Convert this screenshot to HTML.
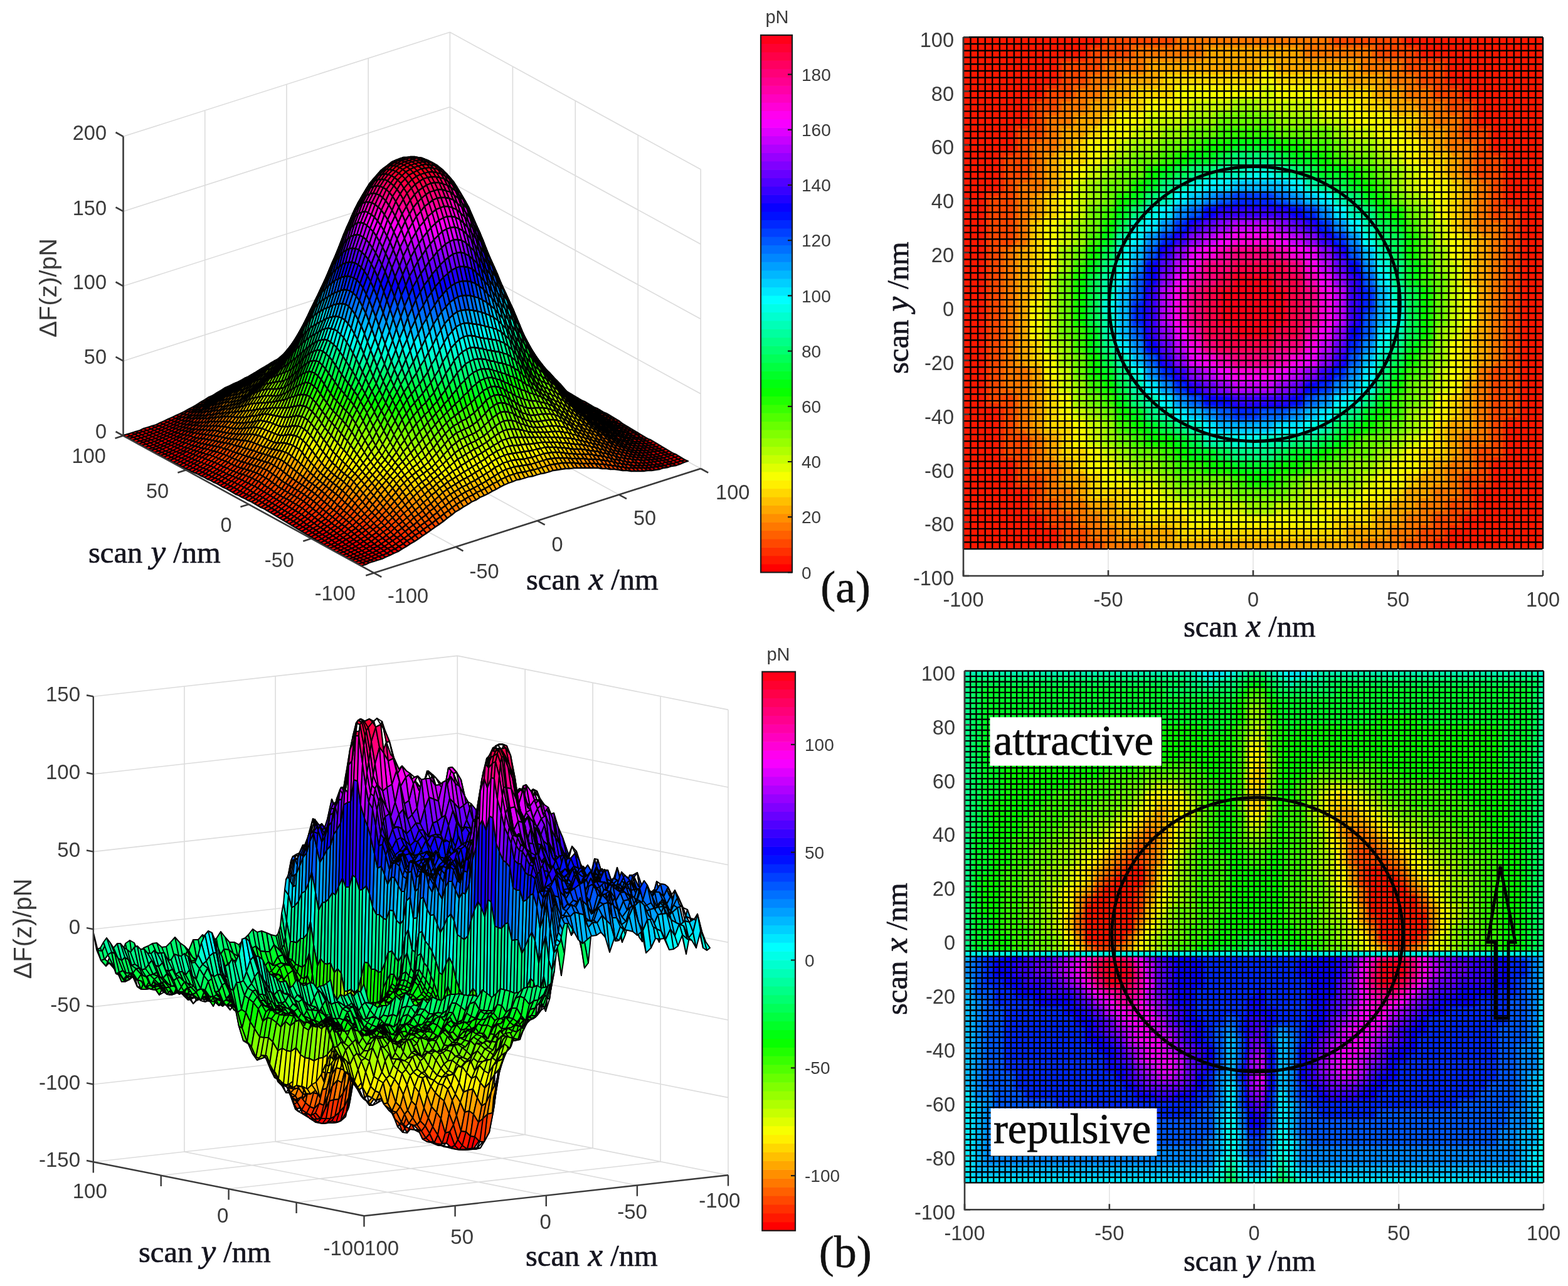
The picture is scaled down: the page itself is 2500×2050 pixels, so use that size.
<!DOCTYPE html><html><head><meta charset="utf-8"><title>Force maps</title><style>html,body{margin:0;padding:0;background:#fff}svg{display:block}</style></head><body>
<svg xmlns="http://www.w3.org/2000/svg" width="2500" height="2050" viewBox="0 0 2500 2050">
<rect width="2500" height="2050" fill="#fff"/>
<path d="M196.5 694.6L717.4 528.3L1117.2 747M196.5 575.4L717.4 409.1L1117.2 627.8M196.5 456.1L717.4 289.8L1117.2 508.5M196.5 336.9L717.4 170.6L1117.2 389.3M196.5 217.6L717.4 51.3L1117.2 270M596.3 913.3L196.5 694.6L196.5 217.6M726.5 871.7L326.7 653L326.7 176M856.8 830.1L457 611.5L457 134.5M987 788.6L587.2 569.9L587.2 92.9M1117.2 747L717.4 528.3L717.4 51.3M196.5 694.6L717.4 528.3L717.4 51.3M296.4 749.3L817.4 583L817.4 106M396.4 804L917.3 637.7L917.3 160.7M496.3 858.6L1017.2 692.3L1017.2 215.3M596.3 913.3L1117.2 747L1117.2 270" stroke="#dcdcdc" stroke-width="1.6" fill="none"/>
<g stroke="#000" stroke-width="2.3" stroke-linejoin="round">
<path fill="#ff0000" d="M201 697l7-2-5-3-7 2zm7-2l7-3-5-2-7 2zm7-3l6-2-5-2-6 2zm6-2l7-2-5-2-7 2zm7-2l6-2-5-3-6 3zm6-2l7-2-5-3-7 2zm7-2l6-3-5-2-6 2zm6-3l7-2-5-2-7 2zm7-2l6-3-5-2-6 3zm6-3l7-3-5-2-7 3zm7-3l6-3-5-2-6 3zm6-3l7-3-5-2-7 3zm7-3l6-3-5-2-6 3zm6-3l7-4-5-1-7 3zm345-112l7-1-5-1-7 1zm7-1l6 0-5-2-6 1zm6 0l7-1-5-2-7 1zm7-1l6-1-5-2-6 1zm6-1l7-2-5-2-7 2zm7-2l6-1-5-2-6 1zm6-1l7-2-5-2-7 2zm7-2l6-1-5-3-6 2zm6-1l7-2-5-3-7 2zm7-2l6-2-5-3-6 2zm6-2l7-2-5-3-7 2zm7-2l6-3-5-2-6 2zm6-3l7-2-5-2-7 2zm7-2l6-2-5-2-6 2zm-510 167l7-2-5-2-7 2zm7-2l7-2-5-3-7 3zm7-2l6-2-5-3-6 2zm6-2l7-2-5-3-7 2zm7-2l6-2-5-3-6 2zm6-2l7-3-5-2-7 2zm7-3l6-2-5-3-6 3zm6-2l7-3-5-2-7 2zm7-3l6-3-5-2-6 3zm6-3l7-3-5-2-7 3zm7-3l6-3-5-2-6 3zm6-3l7-4-5-1-7 3zm7-4l6-3-5-1-6 3zm358-116l6 0-5-1-6 0zm6 0l7-1-5-1-7 1zm7-1l6-1-5-1-6 1zm6-1l7-1-5-2-7 2zm7-1l6-1-5-2-6 1zm6-1l7-1-5-3-7 2zm7-1l6-2-5-2-6 1zm6-2l7-2-5-2-7 2zm7-2l6-2-5-2-6 2zm6-2l7-2-5-2-7 2zm7-2l6-2-5-3-6 3zm6-2l7-2-5-3-7 2zm7-2l6-2-5-3-6 2zm-510 167l7-2-5-3-7 2zm7-2l7-2-5-3-7 2zm7-2l6-2-5-3-6 2zm6-2l7-2-5-3-7 2zm7-2l6-3-5-2-6 2zm6-3l7-2-5-3-7 3zm7-2l6-3-5-2-6 2zm6-3l7-3-5-2-7 3zm7-3l6-3-5-2-6 3zm6-3l7-3-5-2-7 3zm7-3l6-4-5-1-6 3zm6-4l7-3-5-2-7 4zm371-120l7 0-5-2-7 1zm7 0l6-1-5-2-6 1zm6-1l7-1-5-2-7 1zm7-1l6-1-5-2-6 1zm6-1l7-1-5-2-7 1zm7-1l6-2-5-2-6 2zm6-2l7-1-5-3-7 2zm7-1l6-2-5-3-6 2zm6-2l7-2-5-3-7 2zm7-2l6-2-5-3-6 2zm6-2l7-2-5-3-7 2zm7-2l6-2-5-3-6 2z"/>
<path fill="#ff1800" d="M293 660l6-4-5 0-6 3zm6-4l7-3-5-1-7 4zm7-3l6-4-5 0-6 3zm6-4l7-4-5 0-7 4zm293-96l7 0-5 0-7 0zm7 0l6 0-5-1-6 1zm6 0l7-1-5 0-7 0zm7-1l6 0-5-1-6 1zm-334 113l7-4-5-1-7 4zm7-4l6-4-5-1-6 4zm6-4l7-4-5 0-7 3zm7-4l6-4-5 0-6 4zm306-100l6 0-5 0-6 0zm6 0l7 0-5-1-7 1zm7 0l6 0-5-1-6 0zm6 0l7-1-5-1-7 1zm-346 117l6-4-5-1-6 3zm6-4l7-4-5-1-7 4zm7-4l6-5-5 0-6 4zm6-5l7-4-5 0-7 4zm319-104l7 0-5 0-7 0zm7 0l6 0-5 0-6 0zm6 0l7 0-5-1-7 1zm7 0l6 0-5-1-6 0z"/>
<path fill="#ff3000" d="M319 645l6-4-5 0-6 4zm6-4l7-4-5 0-7 4zm7-4l6-4-5 0-6 4zm6-4l7-4-5 1-7 3zm241-79l7 0-5 0-7 1zm7 0l6 0-5 0-6 0zm6 0l7-1-5 1-7 0zm7-1l6 0-5 0-6 1zm-282 96l7-4-5 0-7 4zm7-4l6-5-5 1-6 4zm6-5l7-4-5 1-7 4zm267-87l7 0-5 0-7 1zm7 0l6 0-5 0-6 0zm6 0l7 0-5 0-7 0zm-294 100l6-5-5 1-6 4zm6-5l7-4-5 1-7 4zm7-4l6-5-5 1-6 5zm280-92l6 1-5 0-6 0zm6 1l7 0-5 0-7 0zm7 0l6 0-5 0-6 0z"/>
<path fill="#ff4800" d="M345 629l6-4-5 1-6 4zm6-4l7-4-5 1-7 4zm7-4l6-4-5 1-6 4zm6-4l7-4-5 2-7 3zm7-4l6-3-5 2-6 3zm176-57l6-1-5 2-6 1zm6-1l7 0-5 2-7 0zm7 0l6 0-5 1-6 1zm6 0l7-1-5 1-7 1zm7-1l6 0-5 1-6 0zm-236 82l6-4-5 1-6 4zm6-4l7-4-5 1-7 4zm7-4l6-5-5 2-6 4zm6-5l7-4-5 2-7 4zm215-70l7 0-5 1-7 1zm7 0l6 0-5 1-6 0zm6 0l7 0-5 1-7 0zm7 0l6 0-5 1-6 0zm-256 86l7-4-5 1-7 4zm7-4l6-4-5 1-6 4zm6-4l7-5-5 2-7 4zm241-80l7 1-5 1-7 0zm7 1l6 0-5 1-6 0zm6 0l7 0-5 1-7 0z"/>
<path fill="#ff6000" d="M377 610l7-3-5 2-7 3zm7-3l6-4-5 3-6 3zm6-4l7-3-5 3-7 3zm7-3l6-3-5 3-6 3zm6-3l7-3-5 3-7 3zm7-3l6-3-5 3-6 3zm6-3l7-3-5 3-7 3zm7-3l6-2-5 2-6 3zm58-19l7-2-5 3-7 2zm7-2l7-2-5 3-7 2zm7-2l6-1-5 2-6 2zm6-1l7-2-5 2-7 2zm7-2l6-2-5 3-6 1zm6-2l7-1-5 2-7 2zm7-1l6-1-5 2-6 1zm6-1l7-1-5 2-7 1zm7-1l6 0-5 2-6 0zm6 0l7-1-5 2-7 1zm-177 62l6-4-5 2-6 4zm6-4l7-3-5 1-7 4zm7-3l6-4-5 2-6 3zm6-4l7-4-5 3-7 3zm7-4l6-3-5 2-6 4zm150-49l6-1-5 3-6 0zm6-1l7 0-5 2-7 1zm7 0l6-1-5 2-6 1zm6-1l7 0-5 2-7 0zm7 0l6 0-5 2-6 0zm-210 73l6-4-5 1-6 5zm6-4l7-4-5 1-7 4zm7-4l6-4-5 1-6 4zm6-4l7-4-5 2-7 3zm189-63l7 0-5 2-7 0zm7 0l6 0-5 2-6 0zm6 0l7 0-5 2-7 0zm7 0l6 0-5 2-6 0z"/>
<path fill="#ff7800" d="M429 586l7-3-5 3-7 2zm7-3l6-2-5 2-6 3zm6-2l7-2-5 2-7 2zm7-2l6-2-5 2-6 2zm6-2l7-2-5 2-7 2zm7-2l6-2-5 3-6 1zm6-2l7-2-5 3-7 2zm7-2l6-2-5 3-6 2zm-80 30l7-3-5 2-7 3zm7-3l6-3-5 2-6 3zm6-3l7-3-5 2-7 3zm7-3l6-3-5 2-6 3zm6-3l7-3-5 2-7 3zm7-3l6-3-5 3-6 2zm6-3l7-2-5 2-7 3zm7-2l6-3-5 3-6 2zm6-3l7-2-5 3-7 2zm7-2l6-2-5 3-6 2zm6-2l7-2-5 3-7 2zm7-2l6-2-5 3-6 2zm6-2l7-2-5 3-7 2zm7-2l6-2-5 3-6 2zm6-2l7-2-5 3-7 2zm7-2l7-2-5 3-7 2zm7-2l6-1-5 3-6 1zm6-1l7-2-5 3-7 2zm7-2l6-1-5 2-6 2zm6-1l7-1-5 2-7 1zm7-1l6-1-5 2-6 1zm6-1l7-1-5 2-7 1zm-151 54l6-4-5 2-6 4zm6-4l7-4-5 2-7 4zm7-4l6-4-5 3-6 3zm6-4l7-3-5 3-7 3zm7-3l6-3-5 3-6 3zm124-40l6-1-5 2-6 1zm6-1l7-1-5 2-7 1zm7-1l6-1-5 2-6 1zm6-1l7-1-5 3-7 0zm7-1l6 0-5 2-6 1z"/>
<path fill="#ff8f00" d="M413 592l7-3-5 3-7 3zm7-3l6-3-5 3-6 3zm6-3l7-3-5 3-7 3zm7-3l6-2-5 2-6 3zm6-2l7-3-5 3-7 2zm7-3l6-3-5 3-6 3zm6-3l7-2-5 3-7 2zm7-2l6-2-5 3-6 2zm6-2l7-3-5 4-7 2zm7-3l6-2-5 4-6 2zm6-2l7-2-5 4-7 2zm7-2l6-2-5 4-6 2zm6-2l7-1-5 3-7 2zm7-1l6-2-4 3-7 2zm6-2l7-1-5 3-6 1zm7-1l7-1-5 2-7 2zm7-1l6-1-5 2-6 1zm6-1l7-1-5 2-7 1z"/>
<path fill="#ff0000" d="M216 705l7-2-5-3-7 2zm7-2l7-2-5-3-7 2zm7-2l6-2-5-3-6 2zm6-2l7-3-5-2-7 2zm7-3l6-2-5-3-6 3zm6-2l7-3-5-2-7 2zm7-3l6-3-5-2-6 3zm6-3l7-3-5-2-7 3zm7-3l6-3-5-2-6 3zm6-3l7-4-5-1-7 3zm7-4l6-3-5-2-6 4zm384-124l6-1-5-1-6 1zm6-1l7 0-5-2-7 1zm7 0l6-1-5-2-6 1zm6-1l7-1-5-2-7 1zm7-1l6-1-5-3-6 2zm6-1l7-2-5-2-7 1zm7-2l6-1-5-3-6 2zm6-1l7-2-5-3-7 2zm7-2l6-2-5-3-6 2zm6-2l7-2-5-3-7 2zm7-2l6-2-5-3-6 2zm-510 167l7-3-5-2-7 2zm7-3l7-2-5-2-7 2zm7-2l6-2-5-2-6 2zm6-2l7-2-5-3-7 3zm7-2l6-3-5-2-6 2zm6-3l7-3-5-2-7 3zm7-3l6-3-5-2-6 3zm6-3l7-3-5-2-7 3zm7-3l6-4-5-1-6 3zm6-4l7-3-5-2-7 4zm397-128l7-1-5-1-7 0zm7-1l6 0-5-2-6 1zm6 0l7-1-5-2-7 1zm7-1l6-1-5-2-6 1zm6-1l7-1-5-3-7 2zm7-1l6-2-5-2-6 1zm6-2l7-2-5-2-7 2zm7-2l6-2-5-2-6 2zm6-2l7-2-5-2-7 2zm7-2l6-2-5-2-6 2zm-510 167l7-2-5-3-7 3zm7-2l7-2-5-3-7 2zm7-2l6-2-5-3-6 2zm6-2l7-3-5-2-7 2zm7-3l6-3-5-2-6 3zm6-3l7-3-5-2-7 3zm7-3l6-3-5-2-6 3zm6-3l7-3-5-2-7 3zm7-3l6-4-5-2-6 4zm410-133l6 0-5-2-6 0zm6 0l7-1-5-2-7 1zm7-1l6-1-5-2-6 1zm6-1l7-1-5-2-7 1zm7-1l6-2-5-2-6 2zm6-2l7-1-5-3-7 2zm7-1l6-2-5-3-6 2zm6-2l7-2-5-3-7 2zm7-2l6-2-5-3-6 2z"/>
<path fill="#ff1800" d="M288 675l7-4-5-1-7 3zm7-4l6-5-5 0-6 4zm6-5l7-4-5 0-7 4zm345-112l7 0-5-1-7 0zm7 0l6 0-5-1-6 0zm6 0l7 0-5-1-7 0zm-372 126l6-4-5-1-6 3zm6-4l7-5-5 0-7 4zm7-5l6-4-5-1-6 5zm358-117l6 1-5-1-6 0zm6 1l7 0-5-1-7 0zm7 0l6 0-5-2-6 1zm-386 130l7-4-5-1-7 3zm7-4l6-4-5-1-6 4zm6-4l7-5-5-1-7 5zm7-5l6-5-5 0-6 4zm364-117l7 1-5-1-7 0zm7 1l6 0-5-1-6 0zm6 0l7 0-5-2-7 1z"/>
<path fill="#ff3000" d="M308 662l6-5-5 0-6 5zm6-5l7-4-5 0-7 4zm7-4l6-5-5 0-6 5zm299-101l7 1-5 0-7 0zm7 1l6 0-5 0-6 0zm6 0l7 0-5 0-7 0zm7 0l6 1-5-1-6 0zm-334 114l7-5-5 0-7 4zm7-5l6-5-5 0-6 5zm6-5l7-5-5 1-7 4zm319-104l7 0-5 0-7 0zm7 0l6 1-5 0-6-1zm6 1l7 0-5 0-7 0zm-340 113l7-5-5 0-7 5zm7-5l6-5-5 0-6 5zm332-109l6 1-5 0-6-1zm6 1l7 1-5-1-7 0zm7 1l6 0-5 0-6-1z"/>
<path fill="#ff4800" d="M327 648l7-5-5 1-7 4zm7-5l6-5-5 1-6 5zm6-5l7-4-5 1-7 4zm267-87l7 0-5 1-7 0zm7 0l6 1-5 1-6-1zm-288 101l6-5-5 1-6 5zm6-5l7-5-5 1-7 5zm7-5l6-5-5 1-6 5zm280-92l6 1-5 1-6-1zm6 1l7 1-5 1-7-1zm7 1l6 1-5 0-6 0zm-308 105l7-6-5 1-7 5zm7-6l6-5-5 1-6 5zm299-101l7 1-5 1-7-1zm7 1l6 1-5 1-6-1zm6 1l7 1-5 0-7 0z"/>
<path fill="#ff6000" d="M347 634l6-5-5 2-6 4zm6-5l7-4-5 1-7 5zm7-4l6-5-5 2-6 4zm228-76l6 1-5 1-6 0zm6 1l7 0-5 2-7-1zm7 0l6 1-5 1-6 0zm-256 87l7-5-5 2-7 4zm7-5l6-4-5 1-6 5zm6-4l7-5-5 2-7 4zm248-79l6 1-5 1-6-1zm6 1l7 0-5 1-7 0zm-275 96l7-5-5 1-7 5zm7-5l6-6-5 2-6 5zm6-6l7-4-5 1-7 5zm267-87l7 1-5 1-7 0zm7 1l6 1-5 1-6-1z"/>
<path fill="#ff7800" d="M366 620l7-4-5 2-7 4zm7-4l6-4-5 2-6 4zm6-4l7-5-5 3-7 4zm7-5l6-4-5 3-6 4zm176-58l6-1-5 3-6 0zm6-1l7 0-5 3-7 0zm7 0l6 1-5 2-6 0zm6 1l7 0-5 2-7 0zm-216 74l6-4-5 1-6 5zm6-4l7-5-5 2-7 4zm7-5l6-4-5 2-6 4zm208-68l7 1-5 2-7 0zm7 1l6 1-5 2-6-1zm6 1l7 1-5 1-7 0zm-242 83l6-5-5 2-6 4zm6-5l7-5-5 2-7 5zm7-5l6-4-5 2-6 4zm234-75l7 1-5 2-7-1zm7 1l6 1-5 2-6-1z"/>
<path fill="#ff8f00" d="M392 603l7-4-5 3-7 4zm7-4l6-4-5 3-6 4zm6-4l7-3-5 3-7 3zm7-3l6-4-5 4-6 3zm6-4l7-3-5 4-7 3zm105-34l6-1-5 3-6 1zm6-1l7-1-5 3-7 1zm7-1l6-1-5 3-6 1zm6-1l7-1-5 3-7 1zm7-1l6-1-5 3-6 1zm6-1l7 0-5 2-7 1zm-171 61l7-5-5 2-7 5zm7-5l6-4-5 2-6 4zm6-4l7-5-5 3-7 4zm163-54l7-1-5 3-7 0zm7-1l6 0-5 2-6 1zm6 0l7 0-5 2-7 0zm7 0l6 0-5 3-6-1zm-204 71l7-5-5 2-7 5zm7-5l6-4-5 2-6 4zm6-4l7-5-5 2-7 5zm196-65l6 1-5 2-6 0zm6 1l7 1-5 2-7-1zm7 1l6 1-5 2-6-1z"/>
<path fill="#ffa700" d="M425 585l6-2-5 3-6 3zm6-2l7-3-5 3-7 3zm7-3l6-2-5 3-6 2zm6-2l7-3-5 3-7 3zm7-3l6-2-5 2-6 3zm6-2l7-3-5 3-7 2zm7-3l6-3-5 4-6 2zm6-3l7-3-5 4-7 3zm7-3l6-2-5 4-6 2zm6-2l7-2-5 4-7 2zm7-2l6-2-5 4-6 2zm6-2l7-1-5 4-7 1zm7-1l6-1-5 3-6 2zm6-1l7-1-5 3-7 1zm7-1l7-1-5 3-7 1zm-112 41l6-4-5 3-6 4zm6-4l7-4-5 4-7 3zm7-4l6-3-5 3-6 4zm6-3l7-3-5 3-7 3zm7-3l6-2-5 3-6 2zm6-2l7-3-5 3-7 3zm7-3l6-2-5 3-6 2zm6-2l7-2-5 2-7 3zm72-23l7 0-5 2-7 1zm7 0l6-1-5 2-6 1zm6-1l7-1-5 2-7 1zm7-1l6-1-5 2-6 1zm6-1l7-1-5 2-7 1zm7-1l6-1-5 2-6 1zm-158 55l6-5-5 3-6 4zm6-5l7-5-5 3-7 5zm7-5l6-4-5 3-6 4zm143-47l7-1-5 3-7 1zm7-1l6-1-5 3-6 1zm6-1l7-1-5 3-7 1zm7-1l6 0-5 3-6 0zm6 0l7 0-5 3-7 0z"/>
<path fill="#ffbf00" d="M456 573l6-3-5 3-6 2zm6-3l7-3-5 3-7 3zm7-3l6-4-5 4-6 3zm6-4l7-3-5 4-7 3zm7-3l6-2-5 4-6 2zm6-2l7-2-5 4-7 2zm7-2l6-2-5 4-6 2zm6-2l7-1-5 4-7 1zm7-1l6 0-5 3-6 1zm6 0l7-1-5 3-7 1zm-99 36l7-4-5 3-7 4zm7-4l6-3-5 3-6 3zm6-3l7-3-5 3-7 3zm7-3l6-2-5 3-6 2zm6-2l7-3-5 3-7 3zm7-3l6-2-5 3-6 2zm6-2l7-3-5 4-7 2zm7-3l6-3-5 4-6 3zm58-20l7 0-5 3-7 1zm7 0l7 0-5 3-7 0zm7 0l6-1-5 3-6 1zm6-1l7 0-5 2-7 1zm7 0l6-2-5 3-6 1z"/>
<path fill="#ffd700" d="M467 566l7-3-5 4-7 3zm7-3l6-4-5 4-6 4zm6-4l7-3-5 4-7 3zm7-3l6-3-5 5-6 2zm6-3l7-2-5 5-7 2zm7-2l6-1-5 4-6 2zm6-1l7-1-5 4-7 1zm7-1l6 0-5 4-6 0z"/>
<path fill="#ff0000" d="M231 713l7-2-5-3-7 2zm7-2l7-2-5-3-7 2zm7-2l6-3-5-2-6 2zm6-3l7-3-5-2-7 3zm7-3l6-3-5-2-6 3zm6-3l7-3-5-2-7 3zm7-3l6-3-5-2-6 3zm6-3l7-4-5-1-7 3zm423-137l7 0-5-2-7 1zm7 0l6-1-5-2-6 1zm6-1l7-1-5-2-7 1zm7-1l6-1-5-3-6 2zm6-1l7-2-5-2-7 1zm7-2l6-1-5-3-6 2zm6-1l7-2-5-3-7 2zm7-2l6-2-5-3-6 2zm-510 167l7-2-5-3-7 2zm7-2l7-3-5-2-7 2zm7-3l6-2-5-3-6 3zm6-2l7-3-5-3-7 3zm7-3l6-3-5-3-6 3zm6-3l7-4-5-2-7 3zm7-4l6-3-5-2-6 3zm6-3l7-4-5-2-7 4zm423-137l7 0-5-2-7 0zm7 0l6-1-5-2-6 1zm6-1l7-1-5-2-7 1zm7-1l6-1-5-2-6 1zm6-1l7-1-5-3-7 2zm7-1l6-2-5-2-6 1zm6-2l7-1-5-3-7 2zm7-1l6-3-5-2-6 2zm-510 166l7-2-5-2-7 2zm7-2l6-2-4-3-7 3zm6-2l7-3-5-2-6 2zm7-3l7-3-5-2-7 3zm7-3l6-3-5-2-6 3zm6-3l7-4-5-2-7 4zm7-4l6-4-5-1-6 3zm436-141l6 0-5-2-6 1zm6 0l7-1-5-2-7 1zm7-1l6-1-5-2-6 1zm6-1l7-1-5-2-7 1zm7-1l6-1-5-3-6 2zm6-1l7-2-5-2-7 1zm7-2l6-2-5-3-6 3z"/>
<path fill="#ff1800" d="M284 690l6-4-5-1-6 4zm6-4l7-4-5-1-7 4zm7-4l6-5-5 0-6 4zm6-5l7-4-5-1-7 5zm371-121l7 0-5 0-7-1zm7 0l6 1-5-1-6 0zm6 1l7 0-5-1-7 0zm7 0l6 0-5-1-6 0zm-405 135l6-5-5-1-6 4zm6-5l7-4-5-1-7 4zm7-4l6-5-5-1-6 5zm384-126l6 1-5-1-6-1zm6 1l7 0-5-1-7 0zm7 0l6 1-5-2-6 0zm-412 139l7-4-5-1-7 4zm7-4l6-5-5-1-6 5zm6-5l7-4-5-1-7 4zm397-129l7 1-5-2-7 0zm7 1l6 0-5-1-6-1zm6 0l7 0-5-1-7 0z"/>
<path fill="#ff3000" d="M310 673l6-6-5 0-6 5zm6-6l7-5-5 0-7 5zm345-113l7 1-5 0-7-1zm7 1l6 1-5-1-6 0zm-360 123l7-5-5 0-7 4zm7-5l6-6-5 0-6 6zm358-118l6 1-5 0-6-1zm6 1l7 1-5-1-7 0zm-372 128l6-6-5 0-6 5zm6-6l7-5-5 0-7 5zm371-122l7 2-5-1-7-1zm7 2l6 1-5-1-6-1z"/>
<path fill="#ff4800" d="M323 662l6-6-5 1-6 5zm6-6l7-5-5 0-7 6zm319-105l7 1-5 1-7-1zm7 1l6 2-5 0-6-1zm-334 115l7-5-5 0-7 5zm7-5l6-6-5 0-6 6zm332-110l6 1-5 1-6-2zm6 1l7 2-5 0-7-1zm-346 120l6-6-5 0-6 6zm6-6l7-6-5 1-7 5zm345-114l7 2-5 0-7-2zm7 2l6 1-5 0-6-1z"/>
<path fill="#ff6000" d="M336 651l6-6-5 1-6 5zm6-6l7-6-5 2-7 5zm287-97l6 1-5 1-6-1zm6 1l7 1-5 1-7-1zm7 1l6 1-5 1-6-1zm-308 106l7-6-5 1-7 5zm7-6l6-6-5 1-6 6zm299-102l7 1-5 1-7-1zm7 1l6 1-5 1-6-1zm6 1l7 2-5 0-7-1zm-320 111l6-6-5 1-6 6zm6-6l7-6-5 1-7 6zm319-105l7 1-5 1-7-2zm7 1l6 2-5 0-6-1z"/>
<path fill="#ff7800" d="M349 639l6-5-5 1-6 6zm6-5l7-5-5 2-7 4zm7-5l6-5-5 2-6 5zm254-84l6 2-5 1-6-1zm6 2l7 1-5 1-7-1zm-275 97l7-6-5 1-7 6zm7-6l6-6-5 2-6 5zm273-93l7 1-5 2-7-1zm7 1l6 2-5 1-6-1zm-288 103l6-6-5 1-6 6zm6-6l7-6-5 1-7 6zm293-97l7 2-5 1-7-1zm7 2l6 2-5 0-6-1z"/>
<path fill="#ff8f00" d="M368 624l7-5-5 2-7 5zm7-5l6-4-5 2-6 4zm6-4l7-5-5 2-7 5zm222-73l6 2-5 2-6-1zm6 2l7 1-5 2-7-1zm-249 88l7-5-5 2-7 5zm7-5l6-5-5 2-6 5zm6-5l7-5-5 2-7 5zm241-80l7 1-5 2-7-1zm7 1l6 2-5 2-6-2zm-262 94l6-6-5 1-6 6zm6-6l7-6-5 2-7 5zm267-88l7 1-5 2-7-1zm7 1l6 2-5 2-6-2z"/>
<path fill="#ffa700" d="M388 610l6-5-5 3-6 4zm6-5l7-5-5 3-7 5zm189-65l7 0-5 3-7 0zm7 0l6 1-5 3-6-1zm6 1l7 1-5 3-7-1zm-216 76l6-5-5 3-6 4zm6-5l7-4-5 2-7 5zm7-4l6-5-5 2-6 5zm208-69l7 1-5 2-7-1zm7 1l6 2-5 2-6-2zm-236 85l6-5-5 2-6 5zm6-5l7-5-5 2-7 5zm7-5l6-5-5 2-6 5zm234-75l7 1-5 2-7-1zm7 1l6 2-5 2-6-2z"/>
<path fill="#ffbf00" d="M401 600l6-5-5 3-6 5zm6-5l7-5-5 3-7 5zm7-5l6-4-5 3-6 4zm130-45l7 0-5 3-7 0zm7 0l6-1-5 2-6 2zm6-1l7-1-5 2-7 1zm7-1l6-2-5 3-6 1zm6-2l7 0-5 2-7 1zm7 0l6-1-5 3-6 0zm-178 62l7-5-5 2-7 5zm7-5l6-5-5 2-6 5zm176-60l6 0-5 2-6 1zm6 0l7 0-5 2-7 0zm7 0l6 1-5 2-6-1zm-204 72l7-5-5 3-7 4zm7-5l6-5-5 3-6 5zm202-69l6 1-5 2-6-1zm6 1l7 1-5 2-7-1zm7 1l6 2-5 2-6-2z"/>
<path fill="#ffd700" d="M420 586l7-4-5 3-7 4zm7-4l6-4-5 4-6 3zm6-4l7-2-5 3-7 3zm7-2l6-3-5 4-6 2zm6-3l7-2-5 3-7 3zm7-2l6-2-5 3-6 2zm6-2l7-3-5 3-7 3zm7-3l6-4-5 4-6 3zm6-4l7-3-5 4-7 3zm52-17l7 0-5 4-7 0zm7 0l7 1-5 3-7 0zm7 1l6-1-5 3-6 1zm-126 47l7-5-5 2-7 5zm7-5l6-5-5 3-6 4zm6-5l7-4-5 3-7 4zm124-41l7-1-5 4-7 0zm7-1l6-1-5 4-6 1zm6-1l7 0-5 3-7 1zm7 0l6-1-5 2-6 2zm6-1l7-1-5 3-7 0zm-171 61l7-5-5 3-7 5zm7-5l6-5-5 3-6 5zm6-5l7-5-5 3-7 5zm163-54l7 0-5 2-7 1zm7 0l6 0-5 2-6 0zm6 0l7 0-5 2-7 0z"/>
<path fill="#ffef00" d="M479 559l6-4-5 4-6 4zm6-4l7-4-5 5-7 3zm7-4l6-2-5 4-6 3zm6-2l7-2-5 4-7 2zm7-2l6-2-5 5-6 1zm6-2l7 0-5 4-7 1zm7 0l6 0-5 4-6 0zm-86 34l6-4-5 3-6 4zm6-4l7-3-5 4-7 2zm7-3l6-2-5 3-6 3zm6-2l7-3-5 4-7 2zm7-3l6-3-5 5-6 2zm6-3l7-3-5 5-7 3zm7-3l6-3-5 4-6 4zm6-3l7-4-5 5-7 3zm46-17l6 0-5 4-6 0zm6 0l7 1-5 3-7 0zm7 1l7 0-5 4-7-1zm7 0l6 0-5 3-6 1zm-119 43l6-4-5 2-6 5zm6-4l7-4-5 2-7 4zm7-4l6-4-5 2-6 4zm111-39l6 0-5 4-6 0zm6 0l7-1-5 4-7 1zm7-1l6 0-5 3-6 1zm6 0l7-1-5 4-7 0zm7-1l6 0-5 3-6 1z"/>
<path fill="#f7ff00" d="M484 554l6-4-5 5-6 4zm6-4l7-3-5 4-7 4zm7-3l6-3-5 5-6 2zm6-3l7-2-5 5-7 2zm7-2l6-1-5 4-6 2zm6-1l7 0-5 4-7 0zm-73 32l7-4-5 3-7 3zm7-4l6-3-5 4-6 2zm6-3l7-3-5 4-7 3zm7-3l6-3-5 4-6 3zm6-3l7-4-5 5-7 3zm7-4l6-4-5 6-6 3zm52-19l6 1-5 3-6 0zm6 1l7 0-5 4-7-1zm7 0l7 0-5 4-7 0z"/>
<path fill="#dfff00" d="M482 552l7-4-5 6-7 4zm7-4l6-4-5 6-6 4zm6-4l7-3-5 6-7 3zm7-3l6-2-5 5-6 3zm6-2l7-1-5 4-7 2zm7-1l6-1-5 4-6 1zm6-1l7 0-5 4-7 0z"/>
<path fill="#ff0000" d="M246 721l7-2-5-3-7 2zm7-2l6-3-5-2-6 2zm6-3l7-3-5-2-7 3zm7-3l7-3-5-2-7 3zm7-3l6-3-5-2-6 3zm6-3l7-4-5-2-7 4zm7-4l6-4-5-2-6 4zm436-141l6 0-5-2-6 0zm6 0l7-1-5-2-7 1zm7-1l6 0-5-3-6 1zm6 0l7-2-5-2-7 1zm7-2l6-1-5-2-6 1zm6-1l7-1-5-3-7 2zm7-1l6-2-5-3-6 2zm-510 167l7-3-5-2-7 2zm7-3l6-2-5-3-6 3zm6-2l7-3-5-3-7 3zm7-3l7-4-5-2-7 3zm7-4l6-3-5-2-6 3zm6-3l7-4-5-2-7 4zm449-146l7 0-5-2-7 1zm7 0l6 0-5-2-6 0zm6 0l7-1-5-3-7 2zm7-1l6-1-5-3-6 1zm6-1l7-2-5-2-7 1zm7-2l6-1-5-3-6 2zm-510 167l7-2-5-3-7 3zm7-2l6-3-5-2-6 2zm6-3l7-3-5-2-7 3zm7-3l7-4-5-2-7 4zm7-4l6-3-5-2-6 3zm6-3l7-5-5-1-7 4zm449-146l7 0-5-2-7 0zm7 0l6 0-5-2-6 0zm6 0l7-1-5-2-7 1zm7-1l6-1-5-2-6 1zm6-1l7-1-5-3-7 2zm7-1l6-2-5-2-6 1z"/>
<path fill="#ff1800" d="M292 699l7-5-5-1-7 4zm7-5l6-5-5-1-6 5zm6-5l7-5-5 0-7 4zm404-129l6 1-5-1-6 0zm6 1l7 1-5-2-7 0zm-424 144l6-5-5-1-6 4zm6-5l7-5-5-1-7 5zm7-5l6-5-5-1-6 5zm410-134l6 1-5-1-6-1zm6 1l7 1-5-1-7-1zm7 1l6 0-5-1-6 0zm-431 143l6-4-5-2-6 5zm6-4l7-5-5-2-7 5zm423-139l7 1-5-1-7-1zm7 1l6 1-5-2-6 0z"/>
<path fill="#ff3000" d="M312 684l6-5-5-1-6 6zm6-5l7-6-5 0-7 5zm371-123l7 2-5 0-7-2zm7 2l6 1-5 0-6-1zm6 1l7 1-5 0-7-1zm-392 131l7-5-5-1-7 5zm7-5l6-6-5 0-6 5zm384-126l6 1-5-1-6-1zm6 1l7 1-5-1-7-1zm-398 137l6-6-5-1-6 5zm6-6l7-6-5 0-7 5zm397-130l7 1-5-1-7-1zm7 1l6 1-5-1-6-1z"/>
<path fill="#ff4800" d="M325 673l6-6-5 0-6 6zm6-6l7-6-5 0-7 6zm345-114l7 2-5 0-7-2zm7 2l6 1-5 0-6-1zm-360 124l7-6-5 0-7 6zm7-6l6-7-5 1-6 6zm358-118l6 2-5-1-6-1zm6 2l7 2-5-1-7-2zm-372 128l6-6-5 0-6 6zm6-6l7-7-5 1-7 6zm371-122l7 2-5 0-7-2zm7 2l6 2-5-1-6-1z"/>
<path fill="#ff6000" d="M338 661l6-7-5 1-6 6zm332-110l6 2-5 0-6-2zm-334 115l7-6-5 1-7 6zm7-6l6-6-5 0-6 7zm332-110l6 2-5 1-6-2zm6 2l7 3-5 0-7-2zm-346 120l6-6-5 0-6 7zm6-6l7-7-5 1-7 6zm345-114l7 3-5 0-7-3zm7 3l6 2-5 0-6-2z"/>
<path fill="#ff7800" d="M344 654l7-6-5 1-7 6zm7-6l6-6-5 1-6 6zm306-102l6 2-5 2-6-2zm6 2l7 3-5 0-7-1zm-314 106l7-6-5 0-7 6zm319-107l7 3-5 1-7-3zm-320 112l6-6-5 1-6 6zm332-110l6 3-5 0-6-2z"/>
<path fill="#ff8f00" d="M357 642l7-6-5 1-7 6zm7-6l6-6-5 1-6 6zm280-94l6 2-5 2-6-2zm6 2l7 2-5 2-7-2zm-294 104l6-7-5 1-6 6zm6-7l7-6-5 1-7 6zm293-99l7 3-5 1-7-2zm7 3l6 2-5 1-6-2zm-308 108l7-6-5 1-7 6zm7-6l6-6-5 0-6 7zm306-104l6 3-5 1-6-2zm6 3l7 3-5 1-7-3z"/>
<path fill="#ffa700" d="M370 630l7-6-5 1-7 6zm7-6l6-6-5 2-6 5zm254-85l6 2-5 2-6-2zm6 2l7 1-5 2-7-1zm-268 94l6-6-5 1-6 6zm6-6l7-7-5 2-7 6zm267-91l7 2-5 2-7-1zm7 2l6 2-5 2-6-2zm-282 101l7-7-5 1-7 6zm7-7l6-6-5 1-6 6zm286-94l7 3-5 2-7-3z"/>
<path fill="#ffbf00" d="M383 618l7-6-5 3-7 5zm7-6l6-5-5 3-6 5zm228-76l6 2-5 2-6-2zm6 2l7 1-5 2-7-1zm-242 84l6-6-5 2-6 6zm6-6l7-6-5 2-7 6zm241-80l7 1-5 2-7-1zm7 1l6 1-5 3-6-2zm-256 91l7-7-5 1-7 7zm267-92l7 2-5 2-7-2zm7 2l6 2-5 2-6-2z"/>
<path fill="#ffd700" d="M396 607l7-5-5 3-7 5zm7-5l6-5-5 3-6 5zm6-5l7-5-5 3-7 5zm189-63l7 1-5 1-7 0zm7 1l6 0-5 2-6-1zm6 0l7 1-5 2-7-1zm-216 75l6-6-5 3-6 5zm6-6l7-6-5 4-7 5zm215-70l7 1-5 1-7-1zm7 1l6 1-5 2-6-2zm-236 86l6-7-5 2-6 6zm6-7l7-7-5 3-7 6zm235-81l6 1-5 2-6-1zm6 1l7 1-5 2-7-1zm7 1l6 1-5 2-6-1z"/>
<path fill="#ffef00" d="M416 592l6-5-5 3-6 5zm6-5l7-4-5 2-7 5zm7-4l6-4-5 2-6 4zm150-50l6 0-5 3-6 0zm6 0l7 0-5 3-7 0zm7 0l6 1-5 2-6 0zm-184 65l6-5-5 4-6 5zm6-5l7-4-5 3-7 5zm183-62l6 1-5 2-6-1zm6 1l7 1-5 2-7-1zm7 1l6 1-5 1-6 0zm-210 74l6-7-5 4-6 6zm6-7l7-5-5 3-7 6zm209-69l6 1-5 2-6-1zm6 1l7 1-5 2-7-1z"/>
<path fill="#f7ff00" d="M435 579l7-5-5 3-7 4zm7-5l6-4-5 3-6 4zm6-4l7-4-5 3-7 4zm105-37l6 0-5 5-6 0zm6 0l7 0-5 4-7 1zm7 0l6-1-5 5-6 0zm6-1l7 1-5 3-7 1zm-151 57l6-5-5 3-6 5zm6-5l7-4-5 3-7 4zm7-4l6-4-5 3-6 4zm6-4l7-4-5 2-7 5zm144-47l6 1-5 3-6 0zm6 1l7 1-5 2-7 0zm-177 65l6-6-5 4-6 5zm6-6l7-4-5 4-7 4zm7-4l6-4-5 3-6 5zm176-57l6 2-5 2-6-1zm6 2l7 1-5 2-7-1z"/>
<path fill="#dfff00" d="M455 566l6-4-5 4-6 3zm6-4l7-4-5 5-7 3zm7-4l6-4-5 6-6 3zm6-4l7-4-5 6-7 4zm7-4l6-5-5 7-6 4zm52-17l6 0-5 5-6-1zm6 0l7 0-5 5-7 0zm7 0l7 0-5 5-7 0zm-99 39l6-4-5 2-6 4zm6-4l7-5-5 3-7 4zm7-5l6-5-5 4-6 4zm104-36l7 0-5 6-7 0zm7 0l6 1-5 4-6 1zm6 1l7 1-5 4-7-1zm-145 53l7-3-5 2-7 4zm7-3l6-4-5 2-6 4zm6-4l7-4-5 2-7 4zm7-4l6-5-5 3-6 4zm137-46l6 2-5 4-6-1zm6 2l7 2-5 3-7-1z"/>
<path fill="#c7ff00" d="M487 545l7-4-5 7-7 4zm7-4l6-3-5 6-6 4zm6-3l7-2-5 5-7 3zm7-2l6-2-5 5-6 2zm6-2l7-1-5 5-7 1zm7-1l6 0-5 4-6 1zm6 0l7 0-5 4-7 0zm-60 25l7-5-5 5-7 4zm7-5l6-5-5 6-6 4zm6-5l7-6-5 8-7 4zm59-19l6 0-5 4-6 0zm6 0l7-1-5 5-7 0zm7-1l7 0-5 5-7 0zm7 0l6-1-5 6-6 0zm-100 37l7-6-5 4-7 5zm7-6l6-6-5 5-6 5zm104-38l7 1-5 5-7 0zm7 1l6 1-5 5-6-1zm6 1l7 1-5 5-7-1z"/>
<path fill="#afff00" d="M486 542l6-4-5 7-6 5zm6-4l7-4-5 7-7 4zm7-4l6-3-5 7-6 3zm6-3l7-1-5 6-7 2zm7-1l6-1-5 5-6 2zm6-1l7 0-5 4-7 1zm7 0l6 0-5 4-6 0zm6 0l7 0-5 4-7 0zm-60 24l7-6-5 6-7 5zm7-6l6-6-5 7-6 5zm65-23l6 0-5 5-6 0zm6 0l7-1-5 5-7 1zm7-1l6-1-4 6-7 0zm6-1l7-1-5 6-6 1z"/>
<path fill="#97ff00" d="M484 541l7-6-5 7-7 6zm7-6l6-5-5 8-6 4zm26-12l6 0-5 6-6 1zm6 0l7 1-5 5-7 0zm7 1l6 0-5 5-6 0zm6 0l7 0-5 5-7 0z"/>
<path fill="#80ff00" d="M497 530l7-4-5 8-7 4zm7-4l6-2-5 7-6 3zm6-2l7-1-5 7-7 1z"/>
<path fill="#ff0000" d="M261 729l7-3-5-2-7 2zm7-3l6-3-5-2-6 3zm6-3l7-3-5-2-7 3zm7-3l7-3-5-3-7 4zm7-3l6-4-5-2-6 3zm462-150l6 0-5-2-6 0zm6 0l7-1-5-2-7 1zm7-1l6-1-5-2-6 1zm6-1l7-1-5-2-7 1zm7-1l6-1-5-3-6 2zm-510 168l7-3-5-3-7 3zm7-3l6-3-5-3-6 3zm6-3l7-4-5-2-7 3zm7-4l7-3-5-2-7 3zm7-3l6-5-5-1-6 4zm462-151l6 1-5-2-6 0zm6 1l7-1-5-2-7 1zm7-1l6 0-5-3-6 1zm6 0l7-1-5-3-7 1zm7-1l6-2-5-2-6 1zm-510 167l7-3-5-2-7 3zm7-3l6-3-5-2-6 3zm6-3l7-4-5-2-7 4zm7-4l7-4-5-1-7 3zm475-153l7 0-5-3-7 1zm7 0l6-1-5-2-6 0zm6-1l7-1-5-2-7 1zm7-1l6-1-5-3-6 2z"/>
<path fill="#ff1800" d="M294 713l7-5-5-2-7 5zm7-5l6-5-5-1-6 4zm6-5l7-5-5-1-7 5zm423-139l7 1-5-1-7-1zm7 1l6 1-5-1-6-1zm6 1l7 1-5-2-7 0zm-444 148l7-4-5-2-7 5zm7-4l6-6-5-1-6 5zm436-143l6 1-5-2-6-1zm6 1l7 0-5-1-7-1zm-450 152l6-4-5-2-6 5zm6-4l7-5-5-1-7 4zm7-5l6-5-5-2-6 6zm436-143l6 1-5-1-6-1zm6 1l7 1-5-2-7 0zm7 1l6 1-5-2-6-1z"/>
<path fill="#ff3000" d="M314 698l6-6-5-1-6 6zm6-6l7-7-5 0-7 6zm397-131l7 2-5-1-7-1zm7 2l6 1-5-1-6-1zm-412 141l7-5-5-1-7 5zm7-5l6-7-5 0-6 6zm410-135l6 1-5-1-6-1zm6 1l7 2-5-2-7-1zm-418 141l7-7-5 0-7 5zm7-7l6-6-5-1-6 7zm410-135l6 2-5-1-6-1zm6 2l7 2-5-1-7-2z"/>
<path fill="#ff4800" d="M327 685l6-6-5 0-6 6zm377-128l7 2-5 0-7-2zm7 2l6 2-5 0-6-2zm-386 133l7-6-5-1-7 7zm7-6l6-7-5 0-6 6zm384-127l6 3-5-1-6-2zm6 3l7 2-5-1-7-2zm-392 131l7-7-5 0-7 6zm397-131l7 2-5 0-7-2z"/>
<path fill="#ff6000" d="M333 679l7-7-5 0-7 7zm7-7l6-7-5 1-6 6zm358-118l6 3-5 0-6-2zm-360 125l7-7-5 0-7 7zm365-125l6 3-5 0-6-3zm6 3l7 2-5 0-7-2zm-372 129l6-7-5 0-6 7zm6-7l7-7-5 0-7 7zm371-122l7 3-5-1-7-2zm7 3l6 2-5 0-6-3z"/>
<path fill="#ff7800" d="M346 665l7-6-5 0-7 7zm7-6l6-7-5 1-6 6zm332-111l6 4-5 0-6-3zm6 4l7 2-5 1-7-3zm-346 120l6-7-5 0-6 7zm6-7l7-7-5 1-7 6zm345-114l7 3-5 0-7-2zm-346 121l6-8-5 1-6 7zm358-118l6 3-5 0-6-3z"/>
<path fill="#ff8f00" d="M359 652l7-6-5 1-7 6zm319-107l7 3-5 1-7-3zm-320 113l6-6-5 0-6 7zm6-6l7-7-5 1-7 6zm326-104l6 3-5 1-6-4zm-334 116l7-6-5 0-7 7zm7-6l6-7-5 1-6 6zm332-111l6 3-5 1-6-3zm6 3l7 4-5 0-7-3z"/>
<path fill="#ffa700" d="M366 646l6-6-5 1-6 6zm6-6l7-7-5 1-7 7zm300-99l6 4-5 1-6-3zm-301 104l6-6-5 1-6 6zm306-105l6 4-5 1-6-4zm6 4l7 4-5 0-7-3zm-314 107l7-7-5 1-7 7zm319-108l7 4-5 1-7-4z"/>
<path fill="#ffbf00" d="M379 633l6-7-5 2-6 6zm6-7l7-7-5 2-7 7zm274-90l6 2-5 2-6-2zm6 2l7 3-5 2-7-3zm-288 101l7-7-5 1-7 7zm7-7l6-7-5 1-6 7zm286-95l7 3-5 1-7-3zm-294 107l6-6-5 1-6 6zm6-6l7-7-5 1-7 7zm300-99l6 4-5 1-6-4z"/>
<path fill="#ffd700" d="M392 619l6-7-5 2-6 7zm254-87l6 2-5 2-6-1zm6 2l7 2-5 2-7-2zm-262 91l7-8-5 2-7 7zm267-94l7 3-5 2-7-2zm7 3l6 3-5 1-6-2zm-275 97l6-8-5 2-6 7zm280-99l6 3-5 2-6-3zm6 3l7 4-5 1-7-3z"/>
<path fill="#ffef00" d="M398 612l7-8-5 3-7 7zm235-81l6 0-5 3-6-1zm6 0l7 1-5 3-7-1zm-242 86l6-8-5 3-6 7zm247-88l7 1-5 2-7-1zm7 1l6 1-5 3-6-2zm-256 93l7-8-5 2-7 8zm7-8l6-8-5 2-6 8zm260-85l7 2-5 2-7-3z"/>
<path fill="#f7ff00" d="M405 604l6-7-5 3-6 7zm6-7l7-6-5 4-7 5zm202-69l7 1-5 2-7-1zm7 1l6 1-5 2-6-1zm6 1l7 1-5 2-7-1zm-223 79l7-7-5 2-7 8zm7-7l6-8-5 3-6 7zm221-74l7 1-5 2-7-1zm7 1l6 0-5 2-6 0zm-230 78l7-8-5 3-7 7zm241-80l7 1-5 2-7-1zm7 1l6 2-5 1-6-1z"/>
<path fill="#dfff00" d="M418 591l6-5-5 3-6 6zm6-5l7-4-5 3-7 4zm7-4l6-4-5 3-6 4zm6-4l7-3-5 3-7 3zm163-55l7 2-5 3-7-2zm7 2l6 3-5 2-6-2zm-191 69l7-6-5 3-7 6zm7-6l6-6-5 4-6 5zm195-63l7 2-5 2-7-1zm7 2l6 1-5 2-6-1zm-210 72l6-7-5 2-6 8zm215-76l6 2-5 3-6-1zm6 2l7 1-5 3-7-1zm7 1l6 1-5 2-6 0z"/>
<path fill="#c7ff00" d="M444 575l6-4-5 3-6 4zm6-4l7-4-5 3-7 4zm7-4l6-6-5 4-6 5zm137-47l6 3-5 3-6-2zm-165 62l7-4-5 4-7 4zm7-4l6-4-5 4-6 4zm6-4l7-3-5 4-7 3zm163-56l7 4-5 3-7-2zm7 4l6 3-5 3-6-3zm-191 70l7-7-5 3-7 6zm7-7l6-6-5 3-6 6zm195-64l7 2-5 4-7-2z"/>
<path fill="#afff00" d="M463 561l7-6-5 4-7 6zm7-6l6-7-5 5-6 6zm111-39l6 1-5 6-6-1zm6 1l7 3-5 4-7-1zm-138 54l6-4-5 4-6 4zm6-4l7-5-5 5-7 4zm7-5l6-6-5 5-6 6zm137-47l6 3-5 5-6-3zm-165 64l7-5-5 4-7 4zm7-5l6-4-5 4-6 4zm6-4l7-4-5 5-7 3zm163-56l7 3-5 5-7-4zm7 3l6 4-5 4-6-3z"/>
<path fill="#97ff00" d="M476 548l7-7-5 6-7 6zm72-29l6-1-5 6-6 0zm6-1l7-1-5 6-7 1zm7-1l6-1-5 6-6 1zm6-1l7-1-5 6-7 1zm7-1l7 1-5 6-7-1zm-106 41l7-6-5 5-7 6zm7-6l6-8-5 6-6 7zm111-40l6 2-5 5-6-1zm6 2l7 3-5 5-7-3zm-138 54l6-5-5 6-6 4zm6-5l7-5-5 6-7 5zm7-5l6-6-5 6-6 6zm137-46l6 4-5 4-6-3z"/>
<path fill="#80ff00" d="M483 541l6-7-5 7-6 6zm6-7l7-7-5 8-7 6zm39-17l7 1-5 6-7-1zm7 1l6 1-5 5-6 0zm6 1l7 0-5 5-7 0zm-60 23l7-8-5 7-7 7zm78-31l7-1-5 7-7 1zm7-1l6 0-5 6-6 1zm6 0l7-1-5 6-7 1zm7-1l7 1-5 6-7-1zm-106 41l7-7-5 7-7 6zm118-46l6 3-5 5-6-2zm6 3l7 3-5 5-7-3z"/>
<path fill="#68ff00" d="M496 527l6-5-5 8-6 5zm6-5l7-4-5 8-7 4zm7-4l6-2-5 8-6 2zm6-2l7 0-5 7-7 1zm7 0l6 1-5 6-6 0zm-34 18l6-8-5 8-6 7zm52-24l6 1-5 8-6-1zm6 1l7 1-5 7-7 0zm7 1l6-1-5 7-6 1zm-73 31l6-8-5 7-6 8zm6-8l7-8-5 7-7 8zm91-32l7 0-5 6-7 1zm7 0l7 1-5 6-7-1z"/>
<path fill="#50ff00" d="M494 526l7-7-5 8-7 7zm7-7l6-5-5 8-6 5zm6-5l7-4-5 8-7 4zm13-6l7 0-5 8-7 0zm7 0l6 1-5 8-6-1zm6 1l7 1-5 8-7-1zm-40 18l6-8-5 7-6 8zm58-24l7 0-5 9-7-1zm7 0l6 1-5 7-6 1zm6 1l7-1-5 7-7 1zm7-1l6 0-5 7-6 0z"/>
<path fill="#38ff00" d="M514 510l6-2-5 8-6 2zm-15 9l7-7-5 7-7 7zm39-19l7 1-5 9-7-1zm7 1l6 2-5 8-6-1z"/>
<path fill="#20ff00" d="M506 512l6-6-5 8-6 5zm6-6l7-4-5 8-7 4zm7-4l6-2-5 8-6 2zm6-2l7-1-5 9-7 0zm7-1l6 1-5 9-6-1z"/>
<path fill="#ff0000" d="M276 737l7-3-5-3-7 3zm7-3l6-4-5-2-6 3zm6-4l7-3-5-3-7 4zm7-3l7-5-5-2-7 4zm475-155l7 1-5-2-7 0zm7 1l6-1-5-2-6 1zm6-1l7-1-5-2-7 1zm7-1l6-1-5-2-6 1zm-510 168l7-3-5-2-7 3zm7-3l6-4-5-2-6 4zm6-4l7-3-5-2-7 3zm7-3l7-5-5-2-7 5zm475-155l7 1-5-2-7-1zm7 1l6 0-5-3-6 1zm6 0l7-1-5-3-7 1zm7-1l6-1-5-3-6 1zm-510 168l7-4-5-2-7 3zm7-4l6-3-5-3-6 4zm6-3l7-4-5-2-7 3zm489-158l6 0-5-2-6 0zm6 0l7-1-5-2-7 1zm7-1l6-1-5-2-6 1z"/>
<path fill="#ff1800" d="M303 722l6-4-5-2-6 4zm6-4l7-6-5-1-7 5zm449-147l7 1-5-2-7-1zm7 1l6 0-5-1-6-1zm-457 152l6-5-5-1-6 4zm6-5l7-5-5-2-7 6zm449-147l7 2-5-2-7-1zm7 2l6 0-5-2-6 0zm-464 157l6-5-4-2-7 5zm6-5l7-5-5-2-6 5zm7-5l7-6-5-1-7 5zm449-147l7 1-5-1-7-2zm7 1l6 1-5-2-6 0zm6 1l7 1-5-2-7-1z"/>
<path fill="#ff3000" d="M316 712l6-5-5-1-6 5zm6-5l7-7-5-1-7 7zm423-140l7 2-5-1-7-2zm7 2l6 2-5-2-6-1zm-431 145l6-6-5-1-6 5zm6-6l7-7-5-1-7 7zm423-140l7 2-5-1-7-2zm7 2l6 2-5-1-6-2zm-431 145l6-6-5-1-6 6zm436-143l6 2-5-2-6-2z"/>
<path fill="#ff4800" d="M329 700l6-6-5-1-6 6zm6-6l7-8-5 0-7 7zm397-132l7 3-5-1-7-2zm7 3l6 2-5-1-6-2zm-405 136l6-7-5 0-6 6zm410-135l6 2-5-1-6-2zm-412 143l7-7-5-1-7 7zm7-7l6-7-5-1-6 7zm410-136l6 3-5-1-6-2zm6 3l7 3-5-2-7-2z"/>
<path fill="#ff6000" d="M342 686l6-7-5 0-6 7zm384-126l6 2-5 0-6-2zm-386 134l7-7-5-1-7 8zm7-7l6-7-5-1-6 7zm384-128l6 4-5-1-6-2zm6 4l7 3-5-1-7-3zm-392 132l7-7-5-1-7 7zm397-132l7 3-5 0-7-3z"/>
<path fill="#ff7800" d="M348 679l7-7-5 0-7 7zm7-7l6-8-5 0-6 8zm358-119l6 4-5 0-6-3zm6 4l7 3-5 0-7-3zm-366 123l7-8-5 0-7 7zm371-124l7 3-5 1-7-3zm-372 132l6-8-5 0-6 7zm6-8l7-8-5 0-7 8zm371-125l7 4-5 0-7-3zm7 4l6 4-5 0-6-4z"/>
<path fill="#ff8f00" d="M361 664l7-7-5 1-7 6zm345-114l7 3-5 1-7-4zm-346 122l6-8-5 0-6 8zm351-123l7 3-5 1-7-3zm7 3l6 4-5 1-6-4zm-353 120l6-8-5 0-6 8zm358-121l6 4-5 1-6-4z"/>
<path fill="#ffa700" d="M368 657l6-7-5 1-6 7zm6-7l7-7-5 1-7 7zm326-104l6 4-5 0-6-3zm-334 118l7-7-5 0-7 7zm7-7l6-8-5 1-6 7zm332-112l6 4-5 1-6-4zm-334 119l7-8-5 1-7 7zm345-116l7 3-5 1-7-3z"/>
<path fill="#ffbf00" d="M381 643l6-7-5 2-6 6zm306-105l6 4-5 1-6-4zm6 4l7 4-5 1-7-4zm-314 107l7-8-5 2-7 7zm319-108l7 4-5 1-7-4zm-320 115l6-8-5 1-6 8zm332-112l6 4-5 1-6-4z"/>
<path fill="#ffd700" d="M387 636l7-7-5 2-7 7zm293-102l7 4-5 1-7-4zm-294 107l6-7-5 2-6 7zm6-7l7-8-5 3-7 7zm300-97l6 4-5 1-6-4zm-308 111l7-9-5 2-7 8zm7-9l6-8-5 3-6 7zm306-102l6 3-5 1-6-4zm6 3l7 4-5 1-7-4z"/>
<path fill="#ffef00" d="M394 629l6-8-5 2-6 8zm6-8l7-8-5 2-7 8zm274-90l6 3-5 1-6-3zm-275 95l6-8-5 3-6 8zm286-92l7 3-5 1-7-4zm-288 97l7-8-5 3-7 8zm293-98l7 4-5 0-7-3z"/>
<path fill="#f7ff00" d="M407 613l6-8-5 2-6 8zm254-87l6 2-5 2-6-2zm6 2l7 3-5 1-7-2zm-262 90l7-7-5 2-7 8zm267-91l7 3-5 1-7-3zm7 3l6 4-5 0-6-3zm-275 93l6-8-5 3-6 8zm280-93l6 3-5 1-6-4z"/>
<path fill="#dfff00" d="M413 605l7-8-5 2-7 8zm235-83l6 2-5 3-6-1zm6 2l7 2-5 2-7-1zm-242 87l6-8-5 2-6 8zm254-87l6 3-5 1-6-2zm-256 91l7-7-5 3-7 7zm267-89l7 4-5 0-7-3z"/>
<path fill="#c7ff00" d="M420 597l6-8-5 3-6 7zm6-8l7-7-5 3-7 7zm209-71l6 2-5 5-6-2zm6 2l7 2-5 4-7-1zm-223 83l7-8-5 2-7 8zm7-8l6-7-5 1-6 8zm228-77l6 3-5 3-6-2zm6 3l7 3-5 2-7-2zm-242 87l6-8-5 3-6 8zm6-8l7-7-5 2-7 8zm241-83l7 5-5 2-7-3zm7 5l6 4-5 1-6-3z"/>
<path fill="#afff00" d="M433 582l6-6-5 3-6 6zm195-67l7 3-5 5-7-2zm-197 73l7-8-5 2-7 7zm209-76l6 3-5 5-6-2zm6 3l7 3-5 4-7-2zm-216 78l6-7-5 2-6 7zm228-80l6 4-5 4-6-3z"/>
<path fill="#97ff00" d="M439 576l7-6-5 4-7 5zm7-6l6-5-5 5-6 4zm6-5l7-5-5 6-7 4zm163-57l7 4-5 5-7-3zm7 4l6 3-5 6-6-4zm-184 68l6-7-5 3-6 6zm6-7l7-7-5 4-7 6zm189-64l7 3-5 6-7-3zm-197 77l7-8-5 2-7 8zm215-77l7 4-5 5-7-3z"/>
<path fill="#80ff00" d="M459 560l6-6-5 7-6 5zm6-6l7-6-5 8-7 5zm144-49l6 3-5 6-6-4zm-158 61l6-7-5 6-6 5zm176-60l6 3-5 6-6-3zm-184 72l6-8-5 3-6 7zm6-8l7-9-5 5-7 7zm189-69l7 4-5 7-7-3zm7 4l6 4-5 6-6-3z"/>
<path fill="#68ff00" d="M472 548l6-6-5 8-6 6zm6-6l7-7-5 8-7 7zm124-40l7 3-5 5-7-3zm-145 57l7-6-5 7-7 5zm7-6l6-7-5 8-6 6zm150-54l6 3-5 6-6-3zm6 3l7 4-5 6-7-4zm-164 59l6-8-5 6-6 7zm176-63l6 3-5 8-6-3z"/>
<path fill="#50ff00" d="M485 535l6-8-5 8-6 8zm104-38l7 2-5 5-7-1zm7 2l6 3-5 5-6-3zm-126 47l7-7-5 9-7 6zm7-7l6-7-5 10-6 6zm130-43l7 3-5 6-7-3zm-145 57l7-8-5 8-7 6zm163-58l7 3-5 8-7-4z"/>
<path fill="#38ff00" d="M491 527l7-8-5 8-7 8zm78-33l7 1-5 8-7 1zm7 1l6 1-5 7-6 0zm6 1l7 1-5 6-7 0zm-99 36l7-7-5 10-7 7zm111-41l7 2-5 6-7-2zm7 2l6 3-5 6-6-3zm-132 52l6-9-5 10-6 7zm6-9l7-7-5 10-7 7zm137-46l7 3-5 6-7-3zm7 3l6 2-5 7-6-3z"/>
<path fill="#20ff00" d="M498 519l6-7-5 7-6 8zm6-7l7-7-5 7-7 7zm52-20l7 1-5 10-7 0zm7 1l6 1-5 10-6-1zm-73 32l6-7-5 9-6 8zm6-7l7-7-5 8-7 8zm85-32l6 3-5 7-6-1zm6 3l7 2-5 6-7-1zm-105 40l6-7-5 10-6 7zm124-42l6 3-5 6-6-3z"/>
<path fill="#08ff00" d="M511 505l6-6-5 7-6 6zm6-6l7-5-5 8-7 4zm20-10l6 1-5 10-6-1zm6 1l7 1-5 10-7-1zm7 1l6 1-5 11-6-2zm-47 20l6-7-5 8-6 7zm65-29l6 2-5 10-6-1zm6 2l7 2-5 9-7-1zm-86 38l7-7-5 10-7 7zm7-7l6-7-5 10-6 7zm97-35l7 4-5 7-7-2zm7 4l7 3-5 6-7-2z"/>
<path fill="#00ff10" d="M524 494l6-3-5 9-6 2zm6-3l7-2-5 10-7 1zm-21 13l7-7-5 8-7 7zm7-7l6-6-5 8-6 6zm39-19l6 2-5 12-6-1zm6 2l7 2-5 11-7-1zm-60 28l7-6-5 9-7 7zm85-31l6 3-5 9-6-3z"/>
<path fill="#00ff28" d="M522 491l7-6-5 9-7 5zm7-6l6-4-5 10-6 3zm6-4l7-2-5 10-7 2zm7-2l6-1-5 12-6-1zm6-1l7 0-5 13-7-1zm-40 24l6-7-5 9-6 7zm6-7l7-6-5 8-7 7zm59-26l6 4-5 11-6-2zm6 4l7 4-5 9-7-2z"/>
<path fill="#00ff40" d="M521 489l6-7-5 9-6 6zm45-22l7 2-5 13-7-2z"/>
<path fill="#00ff58" d="M527 482l7-6-5 9-7 6zm7-6l6-5-5 10-6 4zm6-5l7-4-5 12-7 2zm7-4l6-2-5 13-6 1zm6-2l7 0-5 13-7 0zm7 0l6 2-5 13-6-2z"/>
<path fill="#ff0000" d="M291 744l7-3-5-3-7 4zm7-3l6-4-5-2-6 3zm6-4l7-4-5-2-7 4zm489-158l6 0-5-2-6 0zm6 0l7-1-5-2-7 1zm7-1l6 0-5-3-6 1zm-510 169l7-4-5-2-7 3zm7-4l6-4-5-2-6 4zm6-4l7-4-5-2-7 4zm489-158l6 0-5-2-6 0zm6 0l7 0-5-3-7 1zm7 0l6-1-5-2-6 0zm-510 168l7-3-5-3-7 4zm7-3l6-5-5-2-6 4zm501-163l7 0-5-2-7 0zm7 0l6 0-5-3-6 1z"/>
<path fill="#ff1800" d="M311 733l6-5-5-2-6 5zm6-5l7-6-5-1-7 5zm463-151l6 1-5-2-6-1zm6 1l7 1-5-2-7-1zm-470 157l6-6-5-1-6 5zm6-6l7-5-5-2-7 6zm463-150l6 1-5-2-6-1zm6 1l7 1-5-2-7-1zm-477 161l7-4-5-2-7 4zm7-4l6-6-5-2-6 6zm6-6l7-6-5-1-7 5zm463-150l6 1-5-2-6-1zm6 1l7 1-5-2-7-1zm7 1l6 0-5-2-6 0z"/>
<path fill="#ff3000" d="M324 722l7-6-5-1-7 6zm7-6l6-6-5-1-6 6zm436-143l6 3-5-2-6-2zm6 3l7 1-5-2-7-1zm-444 148l7-6-5-2-7 6zm7-6l6-7-5-1-6 6zm436-143l6 2-5-1-6-3zm6 2l7 2-5-2-7-1zm-444 148l7-6-5-1-7 6zm443-149l6 3-5-2-6-2zm6 3l7 2-5-2-7-2z"/>
<path fill="#ff4800" d="M337 710l7-7-5-1-7 7zm7-7l6-7-5-1-6 7zm410-136l6 4-5-2-6-3zm6 4l7 2-5-1-7-3zm-418 140l7-7-5-1-7 7zm423-139l7 3-5-2-7-2zm-424 147l6-7-5-1-6 7zm6-7l7-7-5-1-7 7zm423-139l7 3-5-1-7-3z"/>
<path fill="#ff6000" d="M350 696l7-7-5-1-7 7zm397-133l7 4-5-1-7-3zm-398 141l6-7-5-1-6 7zm6-7l7-7-5-1-7 7zm397-134l7 5-5-1-7-4zm7 5l6 4-5-1-6-4zm-405 137l6-7-5-1-6 7zm410-136l6 4-5-1-6-4z"/>
<path fill="#ff7800" d="M357 689l6-8-5-1-6 8zm384-130l6 4-5 0-6-4zm-379 131l6-8-5-1-6 8zm384-131l6 4-5 0-6-4zm-386 139l7-7-5-1-7 7zm7-7l6-8-5-1-6 8zm390-127l7 5-5-1-7-5z"/>
<path fill="#ff8f00" d="M363 681l7-8-5-1-7 8zm7-8l6-8-5-1-6 8zm364-118l7 4-5 0-7-4zm-366 127l7-8-5-1-7 8zm371-128l7 5-5 0-7-4zm-366 129l7-9-5 0-7 8zm378-124l6 5-5-1-6-4z"/>
<path fill="#ffa700" d="M376 665l7-9-5 0-7 8zm352-115l6 5-5 0-6-4zm-353 124l6-9-5 0-6 8zm358-125l6 5-5 1-6-5zm-353 125l6-9-5 0-6 9zm364-121l7 6-5 0-7-5z"/>
<path fill="#ffbf00" d="M383 656l6-9-5 1-6 8zm332-113l6 3-5 2-6-4zm6 3l7 4-5 1-7-3zm-340 119l7-10-5 1-7 9zm345-120l7 4-5 1-7-4zm-340 120l7-10-5 0-7 10zm352-116l6 4-5 1-6-5z"/>
<path fill="#ffd700" d="M389 647l7-10-5 2-7 9zm319-107l7 3-5 1-7-4zm-320 115l6-10-5 2-6 9zm332-113l6 3-5 1-6-3zm-327 113l6-11-5 1-6 10zm332-114l6 3-5 1-6-3zm6 3l7 5-5 0-7-4z"/>
<path fill="#ffef00" d="M396 637l6-9-5 3-6 8zm306-101l6 4-5 0-6-3zm-308 109l7-10-5 2-7 10zm313-109l6 3-5 1-6-4zm6 3l7 3-5 1-7-3zm-314 105l7-10-5 1-7 10zm319-106l7 3-5 1-7-3z"/>
<path fill="#f7ff00" d="M402 628l7-8-5 3-7 8zm287-99l6 4-5 0-6-3zm6 4l7 3-5 1-7-4zm-294 102l6-9-5 2-6 9zm299-103l7 4-5 0-7-3zm-294 102l6-10-5 2-6 9zm306-99l6 3-5 1-6-3z"/>
<path fill="#dfff00" d="M409 620l6-8-5 3-6 8zm273-96l7 5-5 1-7-4zm-275 102l7-9-5 3-7 8zm287-98l6 4-5 1-6-4zm5-2l6 5-5 1-6-4zm6 5l7 4-5 1-7-4z"/>
<path fill="#c7ff00" d="M415 612l7-7-5 3-7 7zm7-7l6-7-5 2-6 8zm254-86l6 5-5 2-6-4zm-262 98l6-8-5 3-6 8zm6-8l7-7-5 3-7 7zm267-86l7 5-5 1-7-5zm-275 101l7-10-5 3-7 9zm7-10l6-8-5 3-6 8zm273-94l7 6-5 2-7-5z"/>
<path fill="#afff00" d="M428 598l7-7-5 2-7 7zm241-84l7 5-5 3-7-5zm-242 88l6-7-5 3-6 7zm254-86l6 7-5 1-6-5zm-256 90l7-8-5 4-7 7z"/>
<path fill="#97ff00" d="M435 591l6-8-5 3-6 7zm228-83l6 6-5 3-6-4zm-230 87l7-7-5 3-7 7zm7-7l6-8-5 3-6 8zm234-79l7 7-5 3-7-5zm-242 89l6-7-5 4-6 7zm254-85l6 7-5 3-6-7z"/>
<path fill="#80ff00" d="M441 583l7-8-5 3-7 8zm7-8l6-9-5 4-6 8zm208-73l7 6-5 5-7-4zm-210 78l7-9-5 4-7 8zm222-78l6 7-5 5-6-6zm-230 89l7-7-5 4-7 7zm7-7l6-8-5 4-6 8zm234-79l7 8-5 3-7-7z"/>
<path fill="#68ff00" d="M454 566l7-10-5 5-7 9zm196-68l6 4-5 7-6-4zm-197 73l6-10-5 5-6 9zm208-75l7 6-5 6-7-6zm-210 80l7-10-5 5-7 9zm222-79l6 8-5 4-6-7z"/>
<path fill="#50ff00" d="M461 556l6-10-5 7-6 8zm182-62l7 4-5 7-7-4zm-184 67l7-11-5 6-7 10zm196-71l6 6-5 6-6-4zm-197 76l6-11-5 6-6 10zm208-77l7 8-5 5-7-6z"/>
<path fill="#38ff00" d="M467 546l7-10-5 9-7 8zm163-58l7 2-5 8-7-3zm7 2l6 4-5 7-6-3zm11-5l7 5-5 8-7-4z"/>
<path fill="#20ff00" d="M474 536l6-10-5 10-6 9zm150-51l6 3-5 7-6-2zm-158 65l6-12-5 8-6 10zm176-68l6 3-5 9-6-4zm-178 73l7-12-5 7-7 11zm196-73l6 7-5 7-6-6z"/>
<path fill="#08ff00" d="M480 526l7-9-5 12-7 7zm131-47l6 4-5 7-6-3zm6 4l7 2-5 8-7-3zm-145 55l7-12-5 10-7 10zm157-61l6 2-5 9-6-3zm6 2l7 3-5 8-7-2zm-164 64l6-13-5 8-6 12zm182-66l7 5-5 8-7-5z"/>
<path fill="#00ff10" d="M487 517l6-7-5 12-6 7zm117-42l7 4-5 8-7-3zm-125 51l6-11-5 11-6 10zm143-52l7 3-5 8-7-2zm-145 56l7-13-5 9-7 12zm163-60l7 3-5 9-7-3zm7 3l6 4-5 8-6-3z"/>
<path fill="#00ff28" d="M493 510l7-7-5 12-7 7zm7-7l6-6-5 11-6 7zm97-32l7 4-5 9-7-4zm-112 44l7-9-5 11-7 9zm131-45l6 4-5 9-6-4zm18-3l6 3-5 9-6-2z"/>
<path fill="#00ff40" d="M506 497l7-6-5 11-7 6zm7-6l6-5-5 9-6 7zm78-25l6 5-5 9-6-3zm-99 40l6-8-5 12-6 7zm117-41l7 5-5 9-7-4zm-125 52l6-12-5 10-6 11zm143-53l7 3-5 10-7-3z"/>
<path fill="#00ff58" d="M519 486l7-7-5 10-7 6zm59-30l6 4-5 13-6-4zm6 4l7 6-5 11-7-4zm-86 38l7-7-5 12-7 7zm7-7l6-6-5 12-6 6zm97-31l7 5-5 10-7-4zm-112 45l7-11-5 12-7 9zm124-51l6 5-4 11-7-5zm6 5l7 5-5 10-6-4z"/>
<path fill="#00ff70" d="M526 479l6-7-5 10-6 7zm6-7l7-6-5 10-7 6zm39-19l7 3-5 13-7-2zm-60 32l7-5-5 11-7 6zm7-5l6-6-5 12-6 5zm78-27l6 7-5 11-6-5zm-99 41l6-8-5 12-6 8z"/>
<path fill="#00ff87" d="M539 466l6-6-5 11-6 5zm6-6l7-5-5 12-7 4zm7-5l6-3-5 13-6 2zm6-3l7-1-5 14-7 0zm7-1l6 2-5 14-6-2zm-41 23l7-6-5 11-7 7zm7-6l6-7-5 11-6 7zm58-21l7 6-5 13-7-6zm-86 39l7-8-5 13-7 7zm7-8l6-6-5 13-6 6zm97-31l7 7-5 11-7-5z"/>
<path fill="#00ff9f" d="M537 461l7-7-5 12-7 6zm46-19l6 5-5 13-6-4zm-67 30l7-5-5 13-7 5zm7-5l6-6-5 13-6 6zm78-27l6 7-5 13-6-7z"/>
<path fill="#00ffb7" d="M544 454l6-7-5 13-6 6zm6-7l7-5-5 13-7 5zm7-5l6-4-5 14-6 3zm6-4l7-1-5 14-7 1zm7-1l6 2-5 14-6-2zm6 2l7 3-5 14-7-3zm-47 22l7-7-5 14-7 6zm65-27l7 6-5 13-7-6z"/>
<path fill="#00ffcf" d="M536 454l6-6-5 13-6 7zm6-6l7-8-5 14-7 7zm46-20l6 6-5 13-6-5z"/>
<path fill="#00ffe7" d="M549 440l6-6-5 13-6 7zm6-6l7-6-5 14-7 5zm20-11l6 1-5 15-6-2zm6 1l7 4-5 14-7-3z"/>
<path fill="#00ffff" d="M562 428l6-4-5 14-6 4zm6-4l7-1-5 14-7 1z"/>
<path fill="#ff0000" d="M306 752l7-4-5-2-7 3zm7-4l6-4-5-3-6 5zm501-163l7 0-5-2-7 0zm7 0l6 0-5-2-6 0zm-510 169l7-4-5-2-7 4zm7-4l6-4-5-2-6 4zm501-162l7 0-5-3-7 0zm7 0l6-1-5-2-6 0zm-510 168l7-3-5-3-7 4zm7-3l6-5-5-2-6 4zm501-163l7 0-5-2-7 0zm7 0l6 0-5-3-6 1z"/>
<path fill="#ff1800" d="M319 744l7-5-5-2-7 4zm7-5l6-6-5-2-6 6zm469-156l6 1-5-2-6-1zm6 1l7 1-5-2-7-1zm7 1l6 0-5-2-6 0zm-484 161l7-5-5-2-7 5zm7-5l6-6-5-2-6 6zm475-155l7 1-5-2-7-1zm7 1l6 1-5-3-6 0zm-484 161l7-5-5-2-7 5zm7-5l6-6-5-2-6 6zm475-155l7 1-5-2-7-1zm7 1l6 1-5-2-6-1z"/>
<path fill="#ff3000" d="M332 733l7-6-5-2-7 6zm7-6l7-7-5-1-7 6zm449-147l7 3-5-2-7-2zm-451 155l7-6-5-2-7 6zm7-6l7-7-5-2-7 7zm449-147l7 2-5-1-7-3zm7 2l6 2-5-2-6-1zm-458 153l7-6-5-2-7 6zm7-6l7-7-5-2-7 7zm449-148l7 3-5-2-7-2zm7 3l6 2-5-2-6-2z"/>
<path fill="#ff4800" d="M346 720l6-7-5-1-6 7zm6-7l7-7-5-1-7 7zm423-139l7 4-5-2-7-3zm7 4l6 2-5-1-6-3zm-431 144l6-7-5-2-6 7zm436-143l6 3-5-2-6-2zm-431 145l6-8-5-1-6 7zm436-144l6 3-5-1-6-3z"/>
<path fill="#ff6000" d="M359 706l6-7-5-1-6 7zm410-137l6 5-5-1-6-4zm-412 146l7-8-5-1-7 7zm7-8l6-7-5-1-6 7zm410-137l6 5-5-1-6-5zm6 5l7 4-5-1-7-4zm-418 141l7-8-5-1-7 8zm423-140l7 4-5-1-7-4z"/>
<path fill="#ff7800" d="M365 699l7-8-5 0-7 7zm397-135l7 5-5 0-7-5zm-392 136l7-8-5-1-7 8zm397-135l7 5-5-1-7-5zm-398 143l6-8-5 0-6 7zm6-8l7-8-5 0-7 8zm404-129l6 5-5-1-6-5z"/>
<path fill="#ff8f00" d="M372 691l6-8-5 0-6 8zm384-132l6 5-5 0-6-5zm-379 133l6-9-5 0-6 8zm384-132l6 5-5-1-6-5zm-379 132l6-9-5 0-6 9zm390-126l7 5-5-1-7-5z"/>
<path fill="#ffa700" d="M378 683l7-9-5 0-7 9zm371-130l7 6-5 0-7-6zm-366 130l7-9-5 0-7 9zm371-129l7 6-5-1-7-6zm-366 129l7-10-5 1-7 9zm378-122l6 5-5-1-6-5z"/>
<path fill="#ffbf00" d="M385 674l6-9-5 0-6 9zm358-126l6 5-5 0-6-4zm-353 126l6-10-5 1-6 9zm358-125l6 5-5-1-6-5zm-353 124l6-10-5 1-6 10zm364-118l7 6-5-1-7-6z"/>
<path fill="#ffd700" d="M391 665l7-11-5 1-7 10zm345-121l7 4-5 1-7-5zm-340 120l7-10-5 0-7 11zm345-120l7 5-5-1-7-4zm-340 119l7-10-5 1-7 10zm352-114l6 6-5-1-6-5z"/>
<path fill="#ffef00" d="M398 654l6-11-5 1-6 11zm332-114l6 4-5 0-6-3zm-327 114l6-11-5 0-6 11zm332-115l6 5-5 0-6-4zm11 5l7 5-5 0-7-5z"/>
<path fill="#f7ff00" d="M404 643l7-10-5 1-7 10zm313-110l6 3-5 2-6-3zm6 3l7 4-5 1-7-3zm-314 107l7-11-5 1-7 10zm319-108l7 4-5 1-7-4zm-320 118l6-11-5 1-6 11zm332-114l6 5-5 0-6-5z"/>
<path fill="#dfff00" d="M411 633l6-11-5 2-6 10zm299-104l7 4-5 2-7-4zm12 2l6 4-5 1-6-3zm-308 111l7-11-5 1-7 11zm319-109l7 6-5 0-7-4z"/>
<path fill="#c7ff00" d="M417 622l7-10-5 2-7 10zm287-99l6 6-5 2-6-5zm-288 109l6-11-5 1-6 11zm299-106l7 5-5 2-7-4zm-294 105l6-11-5 1-6 11zm306-103l6 5-5 2-6-4z"/>
<path fill="#afff00" d="M424 612l6-9-5 3-6 8zm273-95l7 6-5 3-7-6zm-275 104l7-10-5 1-7 10zm287-101l6 6-5 3-6-6zm-282 100l7-10-5 1-7 10zm293-98l7 6-5 3-7-5z"/>
<path fill="#97ff00" d="M430 603l7-8-5 3-7 8zm261-94l6 8-5 3-6-7zm-262 102l6-10-5 2-6 9zm273-98l7 7-5 3-7-6zm-268 97l6-11-5 2-6 10zm280-95l6 7-5 4-6-6z"/>
<path fill="#80ff00" d="M437 595l6-8-5 4-6 7zm-2 6l7-9-5 3-7 8zm261-97l6 9-5 4-6-8zm11 3l7 8-5 5-7-7z"/>
<path fill="#68ff00" d="M443 587l7-8-5 5-7 7zm7-8l6-9-5 6-6 8zm234-79l7 9-5 4-7-8zm-242 92l6-9-5 4-6 8zm-2 7l7-11-5 4-7 9zm261-100l6 8-5 6-6-9z"/>
<path fill="#50ff00" d="M456 570l7-10-5 6-7 10zm222-79l6 9-5 5-6-8zm-230 92l7-10-5 6-7 8zm241-88l7 9-5 5-7-9zm-242 93l6-10-5 5-6 9z"/>
<path fill="#20ff00" d="M463 560l6-12-5 7-6 11zm208-77l7 8-5 6-7-8zm-210 80l7-11-5 8-7 10zm-1 4l6-12-5 8-6 10zm228-86l6 9-5 5-6-9z"/>
<path fill="#08ff00" d="M469 548l7-14-5 9-7 12zm196-73l6 8-5 6-6-7zm-197 77l6-13-5 9-6 12zm208-75l7 9-5 5-7-8zm-210 78l7-13-5 10-7 11z"/>
<path fill="#00ff10" d="M476 534l6-13-5 9-6 13zm182-65l7 6-5 7-7-5zm12 0l6 8-5 6-6-8zm11 3l7 9-5 5-7-9z"/>
<path fill="#00ff40" d="M482 521l7-14-5 10-7 13zm163-61l7 4-5 9-7-3zm-164 65l6-14-5 10-6 13zm182-63l7 7-5 6-7-6zm-184 67l7-14-5 10-7 14z"/>
<path fill="#00ff70" d="M489 507l6-13-5 11-6 12zm136-61l7 6-5 12-7-5zm7 6l7 4-5 11-7-3zm-145 59l7-14-5 10-7 14zm163-61l7 5-5 9-7-4zm-164 65l6-14-5 10-6 14zm176-69l6 8-5 8-6-7z"/>
<path fill="#00ff87" d="M495 494l7-11-5 11-7 11zm-1 3l6-13-5 10-6 13zm150-53l6 6-5 10-6-4zm-152 57l7-14-5 10-7 14zm163-63l7 8-5 9-7-5z"/>
<path fill="#00ff9f" d="M502 483l6-9-5 12-6 8zm117-43l6 6-5 13-6-5zm18-2l7 6-5 12-7-4z"/>
<path fill="#00ffb7" d="M508 474l7-8-5 12-7 8zm7-8l6-7-5 13-6 6zm97-33l7 7-5 14-7-7zm-112 51l7-12-5 11-7 11zm130-52l7 6-5 14-7-6zm-131 55l6-13-5 10-6 13zm150-56l6 7-5 12-6-6z"/>
<path fill="#00ffcf" d="M521 459l7-7-5 15-7 5zm85-33l6 7-5 14-6-7zm-99 46l6-10-5 12-6 9zm117-47l6 7-5 14-6-6zm18-1l7 7-5 13-7-6z"/>
<path fill="#00ffe7" d="M528 452l6-6-5 15-6 6zm6-6l7-7-5 15-7 7zm65-27l7 7-5 14-7-6zm-86 43l7-10-5 14-7 8zm104-44l7 7-5 15-7-7zm-112 56l7-13-5 11-7 12zm130-58l7 8-5 14-7-6z"/>
<path fill="#00ffff" d="M541 439l6-7-5 16-6 6zm52-25l6 5-5 15-6-6zm-73 38l6-8-5 15-6 7zm6-8l7-7-5 15-7 7zm85-33l6 7-5 15-6-7zm-99 50l6-11-5 12-6 10zm117-52l6 7-5 16-6-7z"/>
<path fill="#00e7ff" d="M547 432l7-7-5 15-7 8zm7-7l6-6-5 15-6 6zm32-15l7 4-5 14-7-4zm-53 27l6-7-5 16-6 6zm-15 13l7-11-5 13-7 10z"/>
<path fill="#00cfff" d="M560 419l7-6-5 15-7 6zm7-6l6-3-5 14-6 4zm6-3l7-1-5 14-7 1zm7-1l6 1-5 14-6-1zm-41 21l7-8-5 17-7 7zm7-8l6-7-5 17-6 7zm58-18l7 7-5 15-7-7zm-79 35l6-9-5 14-6 8zm97-37l7 7-5 16-7-7z"/>
<path fill="#00ff58" d="M639 456l6 4-5 10-6-3zm18-1l6 7-5 7-6-5zm11-1l7 9-5 6-7-7z"/>
<path fill="#00ff28" d="M652 464l6 5-5 8-6-4zm-178 75l7-14-5 9-7 14zm-1 3l6-13-5 10-6 13zm202-79l6 9-5 5-6-8z"/>
<path fill="#38ff00" d="M455 573l6-10-5 7-6 9zm228-87l6 9-5 5-6-9zm-230 92l7-11-5 6-7 10zm241-88l7 9-5 5-7-9z"/>
<path fill="#00b7ff" d="M552 415l7-6-5 16-7 7zm46-16l6 5-5 15-6-5zm-67 31l7-9-5 16-7 7zm85-35l6 7-5 16-6-7z"/>
<path fill="#009fff" d="M559 409l6-6-5 16-6 6zm6-6l7-5-5 15-7 6zm7-5l6-2-5 14-6 3zm6-2l7-1-5 14-7 1zm7-1l6 1-5 14-6-1zm6 1l7 3-5 15-7-4zm-53 25l6-9-5 18-6 7zm6-9l7-7-5 17-7 8zm65-23l7 6-5 16-7-7z"/>
<path fill="#0087ff" d="M551 405l6-7-5 17-6 7zm52-20l6 4-5 15-6-5z"/>
<path fill="#0070ff" d="M557 398l7-6-5 17-7 6zm7-6l6-5-5 16-6 6zm26-11l6 1-5 14-6-1zm6 1l7 3-5 14-7-3z"/>
<path fill="#0058ff" d="M570 387l7-4-5 15-7 5zm7-4l6-2-5 15-6 2zm6-2l7 0-5 14-7 1z"/>
<path fill="#ff0000" d="M321 759l7-4-5-2-7 3zm7-4l6-5-5-2-6 5zm501-163l7 1-5-3-7 0zm7 1l6 0-5-3-6 0zm-510 168l7-4-5-2-7 4zm515-166l6 0-5-2-6 0zm-510 169l7-4-5-3-7 4zm515-166l6 0-5-3-6 0z"/>
<path fill="#ff1800" d="M334 750l7-5-5-2-7 5zm7-5l6-6-5-2-6 6zm475-155l7 1-5-2-7-1zm7 1l6 1-5-2-6-1zm-490 166l6-4-5-3-6 5zm6-4l7-5-5-3-7 5zm7-5l6-6-5-3-6 6zm475-157l7 3-5-3-7-1zm7 3l6 1-5-3-6-1zm6 1l7 0-5-2-7-1zm-496 165l6-5-5-2-6 4zm6-5l7-5-5-2-7 5zm7-5l6-6-5-2-6 6zm482-154l6 1-5-2-6-1zm6 1l7 1-5-3-7 0z"/>
<path fill="#ff3000" d="M347 739l7-6-5-2-7 6zm456-155l7 3-5-1-7-3zm7 3l6 3-5-2-6-2zm-458 155l7-7-5-2-7 6zm463-153l6 2-5-1-6-3zm-458 155l7-7-5-2-7 7zm463-154l6 3-5-2-6-2zm6 3l7 3-5-2-7-3z"/>
<path fill="#ff4800" d="M354 733l7-7-5-2-7 7zm7-7l6-8-5-2-6 8zm436-145l6 3-5-1-6-3zm-438 154l7-7-5-2-7 7zm7-7l6-8-5-2-6 8zm436-146l6 3-5-1-6-3zm6 3l7 4-5-2-7-3zm-444 152l6-7-4-2-7 7zm6-7l7-8-5-2-6 8zm443-143l7 3-5-1-7-4z"/>
<path fill="#ff6000" d="M367 718l7-8-5-2-7 8zm423-141l7 4-5-1-7-4zm-418 143l7-9-5-1-7 8zm423-143l7 5-5-1-7-4zm-418 145l7-10-5-1-7 9zm430-139l6 4-5-2-6-3z"/>
<path fill="#ff7800" d="M374 710l6-9-5-1-6 8zm410-138l6 5-5-1-6-5zm-405 139l6-9-5-1-6 9zm410-138l6 4-5 0-6-5zm-405 139l6-10-5 0-6 9zm410-138l6 4-5-1-6-4zm6 4l7 5-5-1-7-5z"/>
<path fill="#ff8f00" d="M380 701l7-9-5 0-7 8zm397-134l7 5-5-1-7-5zm-392 135l7-10-5 0-7 9zm397-134l7 5-5-1-7-5zm-392 134l7-10-5 0-7 10zm397-132l7 4-5-1-7-5z"/>
<path fill="#ffa700" d="M387 692l6-10-5 1-6 9zm384-130l6 5-5-1-6-5zm-379 130l6-10-5 0-6 10zm384-129l6 5-5-1-6-5zm5 2l6 5-5-2-6-5z"/>
<path fill="#ffbf00" d="M393 682l7-9-5 0-7 10zm371-126l7 6-5-1-7-6zm-366 126l7-10-5 1-7 9zm371-124l7 5-5-1-7-6zm-372 134l6-11-5 1-6 10zm377-133l7 6-5-2-7-5z"/>
<path fill="#ffd700" d="M400 673l6-10-5 0-6 10zm358-123l6 6-5-1-6-6zm-353 122l6-10-5 1-6 10zm358-120l6 6-5-2-6-6zm-360 129l7-10-5 1-7 10zm365-128l6 6-5-1-6-6z"/>
<path fill="#ffef00" d="M406 663l7-11-5 1-7 10zm345-119l7 6-5-1-7-5zm-340 118l7-10-5 0-7 11zm345-117l7 7-5-2-7-6zm-346 126l6-10-5 1-6 10z"/>
<path fill="#f7ff00" d="M413 652l6-10-5 0-6 11zm332-114l6 6-5 0-6-5zm-329 123l7-10-5 1-7 10zm345-115l7 7-5-1-7-7z"/>
<path fill="#dfff00" d="M419 642l7-11-5 0-7 11zm319-111l7 7-5 1-7-6zm-320 121l6-10-5 0-6 10zm332-114l6 7-5-1-6-6zm-327 113l6-10-5 1-6 10zm332-114l6 9-5-1-6-7z"/>
<path fill="#afff00" d="M426 631l6-11-5 0-6 11zm5 0l6-11-5 0-6 11zm306-110l6 9-5 1-6-6zm-301 110l6-11-5 0-6 11z"/>
<path fill="#97ff00" d="M432 620l7-11-5 1-7 10zm293-103l7 8-5 3-7-6zm-288 103l7-12-5 1-7 11zm293-107l7 8-5 4-7-8zm12 5l6 10-5 2-6-9z"/>
<path fill="#80ff00" d="M439 609l6-12-5 2-6 11zm280-99l6 7-5 5-6-7zm-277 110l7-12-5 0-7 12zm293-112l7 10-5 3-7-8z"/>
<path fill="#68ff00" d="M445 597l7-12-5 3-7 11zm267-95l7 8-5 5-7-8zm-268 106l6-13-5 2-6 12zm280-104l6 9-5 4-6-7zm-275 104l6-15-5 2-6 13z"/>
<path fill="#38ff00" d="M452 585l6-13-5 6-6 10zm254-92l6 9-5 5-6-8zm-251 100l7-15-5 4-7 13zm267-103l7 9-5 5-7-8z"/>
<path fill="#20ff00" d="M458 572l7-13-5 8-7 11zm241-87l7 8-5 6-7-9zm-242 97l6-15-5 5-6 13zm254-94l6 8-5 6-6-9z"/>
<path fill="#08ff00" d="M465 559l6-13-5 9-6 12zm-2 8l7-15-5 7-7 13zm241-88l7 9-5 5-7-8zm-242 99l6-17-5 6-6 15zm254-96l6 8-5 6-6-8z"/>
<path fill="#00ff28" d="M471 546l7-14-5 10-7 13zm215-80l7 10-5 5-7-9zm-216 86l6-15-5 9-6 13zm228-82l6 9-5 6-6-9z"/>
<path fill="#00ff40" d="M478 532l6-13-5 10-6 13zm213-71l7 9-5 6-7-10zm-216 84l6-17-5 9-6 15zm228-81l6 9-5 6-6-9z"/>
<path fill="#00ff70" d="M484 519l7-14-5 10-7 14zm189-72l7 10-5 6-7-9zm-190 75l6-14-5 11-6 13zm202-72l6 11-5 5-6-9zm-204 78l7-16-5 10-7 15z"/>
<path fill="#00ff9f" d="M491 505l6-14-5 10-6 14zm176-68l6 10-5 7-6-8zm-178 71l7-14-5 11-7 14zm189-69l7 11-5 7-7-10zm-190 73l6-14-5 10-6 14z"/>
<path fill="#00ffb7" d="M497 491l7-14-5 10-7 14zm163-64l7 10-5 9-7-8zm-164 67l6-14-5 11-6 14zm176-67l6 12-5 8-6-10zm11 4l7 12-5 7-7-11z"/>
<path fill="#00ffe7" d="M504 477l6-13-5 10-6 13zm150-59l6 9-5 11-6-7zm-152 62l7-13-5 10-7 14zm163-65l7 12-5 10-7-10zm-164 68l6-13-5 10-6 14zm176-66l6 14-5 8-6-12z"/>
<path fill="#00ffff" d="M510 464l7-14-5 11-7 13zm137-55l7 9-5 13-7-7z"/>
<path fill="#00cfff" d="M517 450l6-12-5 12-6 11zm123-50l7 9-5 15-7-8zm-125 53l7-14-5 11-7 14z"/>
<path fill="#00b7ff" d="M523 438l7-12-5 13-7 11zm111-46l6 8-5 16-6-7zm18 2l7 10-5 14-7-9zm-138 62l6-14-5 11-6 14zm150-65l6 13-5 11-6-11z"/>
<path fill="#009fff" d="M530 426l6-11-5 15-6 9zm97-41l7 7-5 17-7-7zm-105 54l6-14-5 13-6 12zm123-55l7 10-5 15-7-9zm-125 58l7-15-5 12-7 14z"/>
<path fill="#0087ff" d="M536 415l7-11-5 17-7 9zm85-36l6 6-5 17-6-7zm-93 46l7-13-5 14-7 12zm129-46l7 12-5 13-7-10z"/>
<path fill="#0070ff" d="M543 404l6-9-5 17-6 9zm96-28l6 8-5 16-6-8zm-112 51l6-14-5 12-6 14z"/>
<path fill="#0058ff" d="M549 395l7-8-5 18-7 7zm59-25l6 4-5 15-6-4zm6 4l7 5-5 16-7-6zm-79 38l6-13-5 16-6 11zm97-43l7 7-5 16-7-7zm-99 44l7-15-5 14-7 13zm117-44l7 10-5 15-7-10z"/>
<path fill="#0040ff" d="M556 387l6-7-5 18-6 7zm45-19l7 2-5 15-7-3zm-60 31l7-11-5 16-7 11zm85-36l6 6-5 16-6-6zm18-3l6 9-5 15-6-8z"/>
<path fill="#0028ff" d="M562 380l7-6-5 18-7 6zm7-6l6-4-5 17-6 5zm6-4l7-3-5 16-7 4zm7-3l6-1-5 15-6 2zm6-1l7 0-5 15-7 0zm7 0l6 2-5 14-6-1zm-47 22l6-10-5 17-6 9zm71-29l7 4-5 16-7-5zm-79 39l6-13-5 14-6 13zm97-45l7 7-5 16-7-7z"/>
<path fill="#00ff58" d="M680 457l6 9-5 6-6-9zm-204 80l7-15-5 10-7 14zm220-83l7 10-5 6-7-9z"/>
<path fill="#00ff10" d="M693 476l6 9-5 5-6-9zm-225 85l7-16-5 7-7 15zm241-88l7 9-5 6-7-9z"/>
<path fill="#c7ff00" d="M732 525l6 6-5 2-6-5zm-308 117l7-11-5 0-7 11zm319-112l7 8-5 0-7-7zm-314 111l7-10-5 0-7 11zm319-113l7 9-5 1-7-8z"/>
<path fill="#50ff00" d="M450 595l7-13-5 3-7 12zm267-99l7 8-5 6-7-8zm12 3l6 9-5 5-6-9z"/>
<path fill="#00e7ff" d="M509 467l6-14-5 11-6 13zm150-63l6 11-5 12-6-9zm-152 66l7-14-5 11-7 13zm163-66l7 13-5 10-7-12z"/>
<path fill="#0010ff" d="M554 378l7-9-5 18-7 8zm59-23l6 4-5 15-6-4z"/>
<path fill="#0800ff" d="M561 369l6-7-5 18-6 7zm6-7l7-5-5 17-7 6zm33-11l6 2-5 15-6-2zm6 2l7 2-5 15-7-2zm-60 32l7-13-5 16-7 11zm85-37l6 5-5 16-6-6z"/>
<path fill="#2000ff" d="M574 357l6-4-5 17-6 4zm6-4l7-2-5 16-7 3zm7-2l6 0-5 15-6 1zm6 0l7 0-5 15-7 0zm-40 21l6-11-5 17-6 10zm65-31l6 3-5 15-6-4zm6 3l7 4-5 15-7-4z"/>
<path fill="#00ffcf" d="M494 498l7-15-5 11-7 14z"/>
<path fill="#3800ff" d="M559 361l7-9-5 17-7 9zm52-23l7 3-5 14-7-2z"/>
<path fill="#5000ff" d="M566 352l6-7-5 17-6 7zm6-7l7-4-5 16-7 5zm7-4l6-4-5 16-6 4zm13-5l6 0-5 15-6 0zm6 0l7 0-5 15-7 0zm7 0l6 2-5 15-6-2z"/>
<path fill="#6800ff" d="M585 337l7-1-5 15-7 2z"/>
<path fill="#00ff87" d="M690 443l6 11-5 7-6-11z"/>
<path fill="#ff0000" d="M336 766l7-4-5-2-7 4zm515-166l6 0-5-2-6 0zm-510 169l7-5-5-2-7 4zm515-166l6 0-5-3-6 0zm-510 168l7-4-5-3-7 5zm515-166l6 1-5-3-6 0z"/>
<path fill="#ff1800" d="M343 762l6-5-5-2-6 5zm6-5l7-5-5-2-7 5zm7-5l6-6-5-2-6 6zm482-154l6 2-5-3-6-1zm6 2l7 0-5-2-7-1zm-496 164l6-4-5-3-6 5zm6-4l7-5-5-3-7 5zm489-160l6 2-5-2-6-2zm6 2l7 1-5-3-7 0zm-496 165l6-5-5-2-6 4zm6-5l7-5-5-2-7 5zm489-160l6 2-5-2-6-2zm6 2l7 1-5-2-7-1z"/>
<path fill="#ff3000" d="M362 746l7-6-5-3-7 7zm463-154l6 3-5-2-6-3zm6 3l7 3-5-2-7-3zm-470 160l6-6-5-3-6 6zm6-6l7-7-5-2-7 6zm463-155l6 3-5-2-6-3zm6 3l7 3-5-2-7-3zm-470 160l6-6-5-2-6 6zm6-6l7-7-5-2-7 7zm463-155l6 4-5-3-6-3zm6 4l7 2-5-2-7-3z"/>
<path fill="#ff4800" d="M369 740l6-8-5-2-6 7zm449-152l7 4-5-2-7-3zm-444 154l6-8-5-2-6 8zm449-152l7 4-5-2-7-4zm-444 154l6-8-5-2-6 8zm449-152l7 4-5-2-7-4z"/>
<path fill="#ff6000" d="M375 732l7-9-5-1-7 8zm437-148l6 4-5-1-6-4zm-432 150l7-9-5-2-7 9zm437-149l6 5-5-2-6-4zm-432 151l7-9-5-2-7 9zm437-149l6 5-5-2-6-5z"/>
<path fill="#ff7800" d="M382 723l7-9-5-2-7 10zm423-143l7 4-5-1-7-5zm-418 145l7-10-5-1-7 9zm423-144l7 4-5-1-7-4zm-418 146l7-10-5-2-7 10zm423-144l7 4-5-2-7-4z"/>
<path fill="#ff8f00" d="M389 714l6-11-5-1-6 10zm410-139l6 5-5-2-6-4zm-405 140l6-11-5-1-6 11zm410-139l6 5-5-1-6-5zm-405 141l6-11-5-2-6 11zm410-139l6 5-5-2-6-5z"/>
<path fill="#ffa700" d="M395 703l7-11-5 0-7 10zm391-137l6 5-5-1-6-5zm6 5l7 4-5-1-7-4zm-392 133l7-11-5-1-7 11zm397-132l7 4-5-1-7-4zm-392 134l7-12-5-1-7 11zm397-133l7 5-5-2-7-4z"/>
<path fill="#ffbf00" d="M402 692l6-11-5 0-6 11zm377-131l7 5-5-1-7-6zm-372 132l6-11-5-1-6 11zm384-126l6 5-5-1-6-5zm5 1l6 5-5-1-6-5z"/>
<path fill="#ffd700" d="M408 681l7-11-5 1-7 10zm376-120l7 6-5-1-7-5zm-372 133l6-11-5-1-6 11zm377-133l7 7-5-1-7-6z"/>
<path fill="#ffef00" d="M415 670l6-10-5 1-6 10zm358-116l6 7-5-2-6-6zm-360 128l7-11-5-1-7 11zm365-128l6 7-5 0-6-7zm-360 129l7-11-5-1-7 11zm365-129l6 7-5 0-6-7z"/>
<path fill="#f7ff00" d="M421 660l7-9-5 0-7 10zm345-114l7 8-5-1-7-7zm-346 125l6-11-5 0-6 10zm351-125l7 8-5 0-7-8zm-346 126l6-11-5-1-6 11z"/>
<path fill="#dfff00" d="M428 651l6-10-5 0-6 10zm332-115l6 10-5 0-6-9zm-334 124l7-10-5 1-7 9zm5 1l7-11-5 0-7 10zm345-116l7 9-5 0-7-8z"/>
<path fill="#afff00" d="M434 641l7-10-5 0-7 10zm319-115l7 10-5 1-7-9zm-314 114l7-10-5 1-7 10zm319-115l7 11-5 0-7-10z"/>
<path fill="#97ff00" d="M441 631l6-12-5 1-6 11zm5-1l6-12-5 1-6 12zm-2 9l7-11-5 2-7 10zm319-116l7 12-5 1-7-11z"/>
<path fill="#80ff00" d="M447 619l7-13-5 2-7 12zm300-104l6 11-5 2-6-10zm5-2l6 12-5 1-6-11zm-301 115l6-13-5 3-6 12z"/>
<path fill="#50ff00" d="M454 606l6-15-5 2-6 15zm5-2l6-16-5 3-6 15zm286-103l7 12-5 2-7-11z"/>
<path fill="#20ff00" d="M460 591l7-17-5 4-7 15zm5-3l7-18-5 4-7 17zm274-97l6 10-5 3-6-10z"/>
<path fill="#00ff10" d="M467 574l6-18-5 5-6 17zm254-98l6 9-5 5-6-8zm16 1l7 11-5 3-7-10z"/>
<path fill="#00ff40" d="M473 556l7-18-5 7-7 16zm4 10l6-20-5 5-6 19zm254-99l6 10-5 4-6-10z"/>
<path fill="#00ff70" d="M480 538l6-18-5 8-6 17zm233-87l6 11-5 6-6-10zm-230 95l7-19-5 5-7 19zm241-90l7 11-5 4-7-9z"/>
<path fill="#00ff9f" d="M486 520l7-17-5 9-7 16zm209-85l6 12-5 7-6-11zm11 5l7 11-5 7-7-11zm-216 87l6-20-5 6-6 19z"/>
<path fill="#00ffcf" d="M493 503l6-15-5 10-6 14zm195-81l7 13-5 8-7-12zm12 5l6 13-5 7-6-12z"/>
<path fill="#00ffe7" d="M499 488l7-15-5 10-7 15zm-1 8l6-17-5 9-6 15zm-2 11l7-18-5 7-7 17zm209-89l6 14-5 8-6-13z"/>
<path fill="#00e7ff" d="M506 473l6-14-5 11-6 13zm176-66l6 15-5 9-6-14zm-178 72l7-15-5 9-7 15zm-1 10l6-17-5 7-6 17z"/>
<path fill="#00b7ff" d="M512 459l7-14-5 11-7 14zm163-67l7 15-5 10-7-13zm-164 72l6-15-5 10-6 14zm-2 8l7-17-5 9-7 15z"/>
<path fill="#009fff" d="M519 445l6-15-5 12-6 14zm173-58l6 15-5 10-6-15z"/>
<path fill="#0070ff" d="M525 430l7-15-5 12-7 15zm-1 4l6-16-5 12-6 15zm-2 5l7-16-5 11-7 15zm163-68l7 16-5 10-7-16z"/>
<path fill="#0040ff" d="M532 415l6-15-5 13-6 14zm-2 3l7-15-5 12-7 15zm-1 5l6-16-5 11-6 16z"/>
<path fill="#0010ff" d="M538 400l7-15-5 13-7 15zm-1 3l6-16-5 13-6 15zm-2 4l7-17-5 13-7 15z"/>
<path fill="#0800ff" d="M545 385l6-15-5 15-6 13zm104-39l6 9-5 14-6-9zm11-4l7 12-5 12-7-11zm12 1l6 13-4 11-7-13z"/>
<path fill="#3800ff" d="M551 370l7-13-5 15-7 13zm85-37l6 6-5 14-6-5zm18 0l6 9-5 13-6-9zm11-2l7 12-5 11-7-12z"/>
<path fill="#5000ff" d="M558 357l6-11-5 15-6 11zm71-28l7 4-5 15-7-4zm-79 42l6-14-5 13-6 15zm97-45l7 7-5 13-7-7zm-99 48l7-15-5 12-7 16z"/>
<path fill="#6800ff" d="M564 346l7-9-5 15-7 9zm52-23l7 3-5 15-7-3zm7 3l6 3-5 15-6-3zm-67 31l7-13-5 13-7 13zm85-37l6 6-5 13-6-6zm18 1l6 10-5 11-6-9z"/>
<path fill="#8000ff" d="M571 337l6-7-5 15-6 7zm39-15l6 1-5 15-6-2zm24-7l7 5-5 13-7-4zm-79 44l6-15-5 13-6 14zm97-45l7 7-5 12-7-7z"/>
<path fill="#9700ff" d="M577 330l7-5-5 16-7 4zm7-5l6-3-5 15-6 4zm6-3l7-1-5 15-7 1zm7-1l6 0-5 15-6 0zm6 0l7 1-5 14-7 0zm-40 23l6-11-5 13-6 11zm65-32l6 3-5 14-6-3zm-67 32l7-13-5 13-7 13z"/>
<path fill="#2000ff" d="M642 339l7 7-5 14-7-7zm-99 48l7-16-5 14-7 15zm-1 3l6-16-5 13-6 16z"/>
<path fill="#0028ff" d="M655 355l7 11-5 13-7-10zm12-1l7 13-5 11-7-12zm11 2l7 15-5 10-6-14z"/>
<path fill="#0058ff" d="M662 366l7 12-5 13-7-12zm12 1l6 14-5 11-6-14z"/>
<path fill="#0087ff" d="M669 378l6 14-5 12-6-13zm-152 71l7-15-5 11-7 14zm163-68l7 16-5 10-7-15zm-164 74l6-16-5 10-6 15z"/>
<path fill="#00ff87" d="M701 447l7 11-5 6-7-10zm-216 85l6-19-5 7-6 18zm233-88l6 12-5 6-6-11z"/>
<path fill="#00ff58" d="M708 458l6 10-5 5-6-9zm-230 93l7-19-5 6-7 18zm241-89l7 9-5 5-7-8z"/>
<path fill="#00ff28" d="M714 468l7 8-5 6-7-9zm-242 102l6-19-5 5-6 18zm254-99l6 10-5 4-6-9z"/>
<path fill="#08ff00" d="M727 485l7 9-5 5-7-9zm5-4l7 10-5 3-7-9zm-262 103l7-18-5 4-7 18zm274-96l6 12-5 1-6-10z"/>
<path fill="#38ff00" d="M734 494l6 10-5 4-6-9zm-270 106l6-16-5 4-6 16zm286-100l7 12-5 1-7-12z"/>
<path fill="#68ff00" d="M740 504l7 11-5 3-7-10zm-288 114l7-14-5 2-7 13zm5-3l7-15-5 4-7 14zm300-103l6 11-5 2-6-12z"/>
<path fill="#c7ff00" d="M433 650l6-10-5 1-6 10zm332-114l6 10-5 0-6-10zm-327 114l6-11-5 1-6 10zm332-115l6 10-5 1-6-10z"/>
<path fill="#00ffb7" d="M491 513l7-17-5 7-7 17zm220-81l7 12-5 7-7-11z"/>
<path fill="#af00ff" d="M569 333l7-10-5 14-7 9zm46-26l6 2-5 14-6-1zm6 2l7 3-5 14-7-3zm25-2l6 7-5 12-6-6z"/>
<path fill="#c700ff" d="M576 323l6-7-5 14-6 7zm6-7l7-5-5 14-7 5zm7-5l6-3-5 14-6 3zm6-3l7-1-5 14-7 1zm7-1l6-1-5 15-6 0zm6-1l7 1-5 15-7-1zm-40 25l6-11-5 13-6 11zm65-33l6 4-5 13-6-3zm6 4l7 5-5 13-7-5z"/>
<path fill="#00cfff" d="M687 397l6 15-5 10-6-15zm11 5l7 16-5 9-7-15z"/>
<path fill="#00ffff" d="M693 412l7 15-5 8-7-13z"/>
<path fill="#df00ff" d="M574 320l7-9-5 12-7 10zm52-24l7 2-5 14-7-3z"/>
<path fill="#f700ff" d="M581 311l6-7-5 12-6 7zm6-7l7-5-5 12-7 5zm26-11l7 1-5 13-7-1zm7 1l6 2-5 13-6-2z"/>
<path fill="#ff00ef" d="M594 299l6-3-5 12-6 3zm6-3l7-2-5 13-7 1zm7-2l6-1-5 13-6 1z"/>
<path fill="#ff0000" d="M351 774l7-4-5-3-7 4zm515-166l6 0-5-2-6-1zm-510 169l7-5-5-2-7 4zm515-167l6 0-5-2-6 0zm-510 169l7-4-5-3-7 5zm515-167l6 1-5-3-6 0z"/>
<path fill="#ff1800" d="M358 770l6-5-5-3-6 5zm6-5l7-6-5-2-7 5zm489-160l6 2-5-3-6-2zm6 2l7 1-5-3-7-1zm-496 165l6-5-5-2-6 5zm6-5l7-6-5-2-7 6zm489-160l6 2-5-2-6-2zm6 2l7 1-5-2-7-1zm-496 166l6-6-5-2-6 5zm6-6l7-6-5-2-7 6zm489-159l6 1-5-2-6-2zm6 1l7 1-5-2-7-1z"/>
<path fill="#ff3000" d="M371 759l6-6-5-2-6 6zm6-6l7-7-5-2-7 7zm469-151l7 3-5-3-7-2zm-470 159l6-6-5-2-6 6zm6-6l7-8-5-1-7 7zm469-150l7 2-5-2-7-3zm-470 158l6-7-5-1-6 6zm475-156l7 3-5-3-7-2z"/>
<path fill="#ff4800" d="M384 746l6-9-5-1-6 8zm449-152l7 4-5-2-7-4zm7 4l6 4-5-2-6-4zm-451 149l6-8-5-2-6 9zm449-150l7 4-5-3-7-4zm7 4l6 4-5-3-6-4zm-458 155l7-7-5-2-7 8zm7-7l6-9-5-1-6 8zm449-149l7 4-5-3-7-4zm7 4l6 3-5-2-6-4z"/>
<path fill="#ff6000" d="M390 737l7-9-5-1-7 9zm437-147l6 4-5-2-6-5zm-432 149l7-9-5-2-7 9zm437-147l6 5-5-3-6-4zm-432 148l7-9-5-1-7 9zm437-145l6 5-5-3-6-5z"/>
<path fill="#ff7800" d="M397 728l7-10-5-1-7 10zm423-143l7 5-5-3-7-4zm-418 145l7-10-5-2-7 10zm423-143l7 5-5-2-7-5zm-418 144l7-9-5-2-7 10zm423-142l7 6-5-3-7-5z"/>
<path fill="#ff8f00" d="M404 718l6-10-5-2-6 11zm410-139l6 6-5-2-6-5zm-405 141l6-10-5-2-6 10zm410-139l6 6-5-2-6-6zm-405 141l6-10-5-2-6 10zm410-140l6 7-5-2-6-6z"/>
<path fill="#ffa700" d="M410 708l7-12-5-2-7 12zm397-134l7 5-5-1-7-5zm5 1l7 6-5-2-7-5z"/>
<path fill="#ffd700" d="M417 696l6-11-5-2-6 11zm377-135l7 7-5 0-7-7zm-372 137l6-11-5-2-6 11zm384-130l6 7-5-1-6-6zm-379 133l6-12-5-2-6 11zm384-134l6 8-5 0-6-7z"/>
<path fill="#ffef00" d="M423 685l7-12-5-1-7 11zm5 2l7-12-5-2-7 12zm371-127l7 8-5 0-7-7zm-366 129l7-12-5-2-7 12zm371-130l7 8-5 1-7-8z"/>
<path fill="#f7ff00" d="M430 673l6-11-5-1-6 11zm358-120l6 8-5 0-6-7zm-353 122l6-12-5-1-6 11zm358-123l6 8-5 1-6-8z"/>
<path fill="#c7ff00" d="M436 662l7-12-5 0-7 11zm5 1l7-13-5 0-7 12zm345-120l7 9-5 1-7-9zm-340 121l7-14-5 0-7 13zm345-123l7 9-5 2-7-9z"/>
<path fill="#afff00" d="M443 650l6-12-5 1-6 11zm332-116l6 10-5 1-6-10zm-327 116l6-13-5 1-6 12zm332-117l6 10-5 1-6-10z"/>
<path fill="#97ff00" d="M449 638l7-12-5 2-7 11zm319-115l7 11-5 1-7-12zm-315 127l6-15-5 2-6 13zm332-119l6 10-5 2-6-10z"/>
<path fill="#68ff00" d="M456 626l6-14-5 3-6 13zm306-115l6 12-5 0-6-11zm-301 112l6-15-5 4-6 14z"/>
<path fill="#50ff00" d="M462 612l7-16-5 4-7 15zm305-102l6 12-5 1-6-12zm-301 110l6-16-5 4-6 15zm306-110l6 11-5 1-6-12z"/>
<path fill="#20ff00" d="M469 596l6-16-5 4-6 16zm291-98l7 12-5 1-7-12zm-288 106l7-17-5 5-7 16zm293-106l7 12-5 0-7-12z"/>
<path fill="#00ff10" d="M475 580l7-19-5 5-7 18zm279-94l6 12-5 1-6-12zm-275 101l6-17-5 5-6 17zm280-102l6 13-5 0-6-12z"/>
<path fill="#00ff58" d="M482 561l6-19-5 4-6 20zm254-98l6 12-5 2-6-10z"/>
<path fill="#00ff87" d="M488 542l7-20-5 5-7 19zm241-92l7 13-5 4-7-11z"/>
<path fill="#00ffb7" d="M495 522l6-19-5 4-6 20zm228-85l6 13-5 6-6-12zm-225 98l7-19-5 3-7 19zm241-95l7 16-5 3-7-14z"/>
<path fill="#00ffff" d="M501 503l7-19-5 5-7 18zm220-88l7 15-5 7-7-14z"/>
<path fill="#00cfff" d="M508 484l6-19-5 7-6 17zm3 12l7-20-5 3-7 20zm215-89l7 17-5 6-7-15z"/>
<path fill="#009fff" d="M514 465l7-18-5 8-7 17zm4 11l6-21-5 5-6 19zm202-85l6 16-5 8-6-16z"/>
<path fill="#0070ff" d="M521 447l6-17-5 9-6 16zm176-70l6 16-5 9-6-15z"/>
<path fill="#0040ff" d="M527 430l7-18-5 11-7 16zm163-69l7 16-5 10-7-16zm-164 79l6-19-5 9-6 17z"/>
<path fill="#0010ff" d="M534 412l6-17-5 12-6 16zm-2 9l7-18-5 9-7 18zm163-69l7 16-5 9-7-16z"/>
<path fill="#2000ff" d="M540 395l7-16-5 11-7 17zm-1 8l6-18-5 10-6 17zm149-65l7 14-5 9-7-14z"/>
<path fill="#5000ff" d="M547 379l6-17-5 12-6 16zm-2 6l7-17-5 11-7 16zm137-60l6 13-5 9-6-14zm-138 69l6-19-5 10-6 18zm149-63l7 14-5 7-7-14z"/>
<path fill="#8000ff" d="M553 362l7-15-5 12-7 15zm-1 6l6-16-5 10-6 17zm-2 7l7-17-5 10-7 17zm137-57l6 13-5 7-6-13z"/>
<path fill="#af00ff" d="M560 347l6-14-5 11-6 15zm97-44l7 8-5 10-7-7zm-99 49l7-15-5 10-7 15zm111-49l6 10-5 8-6-10zm-112 55l6-16-5 10-6 16zm123-52l7 12-5 7-7-12z"/>
<path fill="#c700ff" d="M566 333l7-12-5 10-7 13z"/>
<path fill="#f700ff" d="M573 321l6-11-5 10-6 11zm71-30l7 5-5 11-7-5zm-73 32l7-12-5 10-7 12zm85-37l6 8-5 9-6-7zm-86 42l6-13-5 8-6 14zm97-42l7 9-5 8-7-9z"/>
<path fill="#ff00ef" d="M579 310l7-9-5 10-7 9zm52-26l7 2-5 12-7-2zm7 2l6 5-5 11-6-4zm11-6l7 6-5 10-7-5z"/>
<path fill="#ff00d7" d="M586 301l6-7-5 10-6 7zm6-7l7-6-5 11-7 5zm26-12l7 0-5 12-7-1zm7 0l6 2-5 12-6-2zm-47 29l6-10-5 9-6 11zm65-35l6 4-5 11-6-5zm-67 39l7-12-5 8-7 12zm85-37l6 8-5 8-6-8z"/>
<path fill="#ff00bf" d="M599 288l6-3-5 11-6 3zm6-3l7-3-5 12-7 2zm7-3l6 0-5 11-6 1zm-28 19l7-9-5 9-7 9zm7-9l6-7-5 9-6 7zm45-19l7 3-5 10-7-2zm-53 30l6-10-5 8-6 10zm71-31l7 6-5 8-7-6z"/>
<path fill="#df00ff" d="M651 296l6 7-5 11-6-7zm-86 41l6-14-5 10-6 14zm97-43l7 9-5 8-7-8zm-99 48l7-14-5 9-7 15zm111-47l6 11-5 7-6-10z"/>
<path fill="#9700ff" d="M664 311l6 10-5 10-6-10zm11 2l7 12-5 8-7-12z"/>
<path fill="#6800ff" d="M670 321l7 12-5 10-7-12z"/>
<path fill="#3800ff" d="M677 333l6 14-5 9-6-13z"/>
<path fill="#0800ff" d="M683 347l7 14-5 10-7-15zm-146 67l7-20-5 9-7 18zm163-69l7 14-5 9-7-16z"/>
<path fill="#00b7ff" d="M703 393l7 15-5 10-7-16zm-190 86l6-19-5 5-6 19zm202-80l6 16-5 8-6-15z"/>
<path fill="#00e7ff" d="M710 408l6 15-5 9-6-14zm-204 91l7-20-5 5-7 19z"/>
<path fill="#00ffe7" d="M716 423l7 14-5 7-7-12zm-211 93l6-20-5 3-6 20zm228-92l6 16-5 5-6-15z"/>
<path fill="#00ff28" d="M742 475l7 12-5 1-7-11zm-262 100l7-18-5 4-7 19z"/>
<path fill="#08ff00" d="M749 487l6 12-5 1-6-12zm-275 105l6-17-5 5-6 16z"/>
<path fill="#38ff00" d="M755 499l7 12-5 1-7-12zm-288 109l7-16-5 4-7 16z"/>
<path fill="#dfff00" d="M781 544l7 9-5 1-7-9zm-341 133l6-13-5-1-6 12zm358-127l6 9-5 1-6-8z"/>
<path fill="#ffbf00" d="M801 568l6 6-5-1-6-5zm-386 142l7-12-5-2-7 12zm5 2l7-11-5-3-7 12zm397-137l7 7-5-1-7-6z"/>
<path fill="#80ff00" d="M454 637l7-14-5 3-7 12zm319-115l7 11-5 1-7-11zm-314 113l7-15-5 3-7 14zm319-114l7 10-5 2-7-11z"/>
<path fill="#00ff70" d="M487 557l6-19-5 4-6 19zm254-98l6 14-5 2-6-12zm-249 94l6-18-5 3-6 19zm254-97l6 15-5 2-6-14z"/>
<path fill="#00ff9f" d="M493 538l7-19-5 3-7 20zm241-93l7 14-5 4-7-13z"/>
<path fill="#00ffcf" d="M500 519l6-20-5 4-6 19zm228-89l6 15-5 5-6-13z"/>
<path fill="#0087ff" d="M519 460l7-20-5 7-7 18zm189-77l7 16-5 9-7-15z"/>
<path fill="#ff00a7" d="M597 285l7-5-5 8-7 6zm7-5l6-5-5 10-6 3zm13-7l6-1-5 10-6 0zm6-1l7 0-5 10-7 0zm7 0l6 1-5 11-6-2zm-41 21l7-8-5 7-7 9zm59-25l6 4-5 8-6-4z"/>
<path fill="#ff008f" d="M610 275l7-2-5 9-7 3zm-14 10l6-7-5 7-6 7zm6-7l7-6-5 8-7 5zm33-15l6 2-5 8-6-1zm6 2l7 3-5 8-7-3z"/>
<path fill="#0058ff" d="M702 368l6 15-5 10-6-16zm-178 87l7-21-5 6-7 20zm189-80l7 16-5 8-7-16z"/>
<path fill="#00ff40" d="M747 473l7 13-5 1-7-12zm-262 97l7-17-5 4-7 18zm267-99l7 14-5 1-7-13z"/>
<path fill="#0028ff" d="M531 434l6-20-5 7-6 19zm176-75l6 16-5 8-6-15z"/>
<path fill="#ff0078" d="M609 272l6-4-5 7-6 5zm6-4l7-3-5 8-7 2zm7-3l6-1-5 8-6 1zm6-1l7-1-5 9-7 0z"/>
<path fill="#ff0000" d="M366 782l7-5-5-2-7 4zm515-167l6 0-5-2-6-1zm-510 170l7-5-5-3-7 5zm5 3l7-5-5-3-7 5z"/>
<path fill="#ff1800" d="M373 777l6-5-5-3-6 6zm6-5l7-7-5-2-7 6zm489-160l6 2-5-3-6-1zm6 2l7 1-5-3-7-1zm-496 166l6-6-5-2-6 5zm6-6l7-6-5-3-7 7zm489-159l6 1-5-2-6-2zm6 1l7 1-5-2-7-1zm7 1l6 1-5-3-6 0zm-503 166l6-6-5-3-6 6zm6-6l7-7-5-2-7 6zm489-160l6 2-5-3-6-1zm6 2l7 1-5-3-7-1zm7 1l6 0-5-2-6-1z"/>
<path fill="#ff3000" d="M386 765l6-7-5-2-6 7zm475-155l7 2-5-2-7-3zm-470 158l6-8-5-2-6 7zm475-156l7 3-5-3-7-2zm-470 158l6-8-5-2-6 8zm475-155l7 2-5-2-7-3z"/>
<path fill="#ff4800" d="M392 758l7-8-5-1-7 7zm456-155l7 4-5-3-7-4zm7 4l6 3-5-3-6-3zm-458 153l7-8-5-2-7 8zm456-155l7 4-5-2-7-4zm7 4l6 3-5-2-6-3zm-458 153l7-8-5-2-7 8zm456-155l7 5-5-3-7-4zm7 5l6 3-5-3-6-3z"/>
<path fill="#ff6000" d="M399 750l6-8-5-2-6 9zm443-153l6 6-5-3-6-5zm-438 155l6-9-5-1-6 8zm443-152l6 5-5-2-6-6zm-438 154l6-9-5-2-6 9zm443-152l6 5-5-2-6-5z"/>
<path fill="#ff7800" d="M405 742l7-9-5-2-7 9zm7-9l7-10-5-1-7 9zm423-142l7 6-5-2-7-6zm-425 152l7-9-5-1-7 9zm430-150l7 7-5-3-7-6zm-425 152l7-9-5-2-7 9z"/>
<path fill="#ffa700" d="M419 723l6-10-5-1-6 10zm410-139l6 7-5-2-6-7zm-405 141l6-10-5-2-6 10zm410-140l6 8-5-2-6-7zm-406 141l7-10-5-1-6 10zm411-140l6 9-5-2-6-8z"/>
<path fill="#ffbf00" d="M425 713l7-10-5-2-7 11zm397-138l7 9-5-2-7-7zm-392 140l7-10-5-2-7 10zm397-139l7 9-5-1-7-9zm-392 140l7-10-5-1-7 10zm397-140l7 10-5-1-7-9z"/>
<path fill="#ffd700" d="M432 703l6-12-5-2-6 12zm384-136l6 8-5 0-6-8zm-379 138l6-12-5-2-6 12zm5 1l6-12-5-1-6 12z"/>
<path fill="#ffef00" d="M438 691l7-12-5-2-7 12zm5 2l7-13-5-1-7 12zm378-127l6 10-5-1-6-8zm5 0l6 10-5 0-6-10z"/>
<path fill="#dfff00" d="M445 679l6-14-5-1-6 13zm358-131l6 9-5 2-6-9zm-353 132l6-15-5 0-6 14zm5 0l6-15-5 0-6 15zm364-125l7 11-5 0-7-10z"/>
<path fill="#c7ff00" d="M451 665l7-15-5 0-7 14zm357-119l6 10-5 1-6-9zm5-1l6 10-5 1-6-10z"/>
<path fill="#97ff00" d="M458 650l6-17-5 2-6 15zm332-120l6 9-5 2-6-10zm16 6l7 9-5 1-7-9z"/>
<path fill="#68ff00" d="M464 633l7-16-5 3-7 15zm319-113l7 10-5 1-7-10zm17 7l6 9-5 1-6-9z"/>
<path fill="#38ff00" d="M471 617l6-17-5 4-6 16zm306-107l6 10-5 1-6-11zm5-1l6 10-5 1-6-10zm-308 121l7-18-5 2-7 18z"/>
<path fill="#08ff00" d="M477 600l7-17-5 4-7 17zm293-102l7 12-5 0-7-12zm5-1l7 12-5 1-7-12zm-294 115l6-18-5 2-6 18zm299-116l7 12-5 1-7-12z"/>
<path fill="#00ff28" d="M484 583l6-17-5 4-6 17zm280-98l6 13-5 0-6-13zm5-1l6 13-5 1-6-13zm-282 110l7-18-5 3-7 17z"/>
<path fill="#00ff58" d="M490 566l7-17-5 4-7 17zm267-96l7 15-5 0-7-14zm5-2l7 16-5 1-7-15zm-268 108l6-16-5 2-6 17z"/>
<path fill="#00ff87" d="M497 549l6-17-5 3-6 18zm254-96l6 17-5 1-6-15zm-251 107l7-17-5 3-7 16z"/>
<path fill="#00ffcf" d="M503 532l7-19-5 3-7 19zm241-96l7 17-5 3-7-16zm-236 93l7-18-5 2-7 19z"/>
<path fill="#00ffff" d="M510 513l6-20-5 3-6 20zm228-95l6 18-5 4-6-16z"/>
<path fill="#00cfff" d="M516 493l7-20-5 3-7 20zm232-83l6 19-5 3-6-19z"/>
<path fill="#0087ff" d="M523 473l6-22-5 4-6 21zm218-81l7 18-5 3-7-18z"/>
<path fill="#0040ff" d="M529 451l7-22-5 5-7 21zm189-83l7 16-5 7-7-16zm17 6l6 18-5 3-6-17z"/>
<path fill="#0010ff" d="M536 429l6-21-5 6-6 20zm3 16l7-24-5 4-7 22zm189-87l7 16-5 4-7-16z"/>
<path fill="#3800ff" d="M542 408l7-21-5 7-7 20zm163-70l7 15-5 6-7-14zm17 5l6 15-5 4-6-15z"/>
<path fill="#6800ff" d="M549 387l6-19-5 7-6 19zm149-62l7 13-5 7-7-14zm-146 74l7-22-5 4-7 21zm163-70l7 14-5 4-7-14z"/>
<path fill="#af00ff" d="M555 368l7-18-5 8-7 17zm142-61l6 13-5 5-6-13zm-138 70l6-19-5 4-6 19z"/>
<path fill="#df00ff" d="M562 350l6-16-5 8-6 16zm128-55l7 12-5 5-7-12zm-125 63l7-18-5 4-7 18z"/>
<path fill="#f700ff" d="M568 334l7-14-5 8-7 14zm111-45l6 11-5 6-6-11zm-112 55l6-15-5 5-6 16zm128-53l7 12-5 4-7-12z"/>
<path fill="#ff00d7" d="M575 320l6-12-5 7-6 13zm97-41l7 10-5 6-7-9zm-99 50l7-14-5 5-7 14zm116-49l6 11-5 4-6-11z"/>
<path fill="#ff00bf" d="M581 308l7-11-5 6-7 12zm85-36l6 7-5 7-6-8zm-86 43l6-12-5 5-6 12zm97-41l7 10-5 5-7-10zm-99 50l7-13-5 4-7 14z"/>
<path fill="#ff00a7" d="M588 297l6-10-5 6-6 10zm-2 6l7-11-5 5-7 11zm85-36l6 7-5 5-6-7zm-86 44l6-12-5 4-6 12zm97-40l7 9-5 4-7-10z"/>
<path fill="#ff008f" d="M594 287l7-8-5 6-7 8zm65-22l7 7-5 6-7-6zm-68 34l7-11-5 4-7 11zm85-36l6 8-5 3-6-7z"/>
<path fill="#ff0078" d="M601 279l6-7-5 6-6 7zm45-21l7 3-5 7-7-3zm7 3l6 4-5 7-6-4zm-60 31l6-9-5 4-6 10zm71-31l7 6-5 5-7-7z"/>
<path fill="#ff0060" d="M607 272l7-5-5 5-7 6zm7-5l6-5-5 6-6 4zm6-5l7-3-5 6-7 3zm7-3l6-1-5 6-6 1zm6-1l7-1-5 6-7 1zm7-1l6 1-5 7-6-2zm-41 26l7-8-5 4-7 8zm7-8l6-7-5 4-6 7zm45-21l7 2-5 5-7-3zm7 2l6 5-5 4-6-4zm-60 32l6-9-5 4-6 9zm6-9l7-7-5 3-7 8zm65-22l7 6-5 4-7-6z"/>
<path fill="#c700ff" d="M685 300l7 12-5 6-7-12zm-125 62l7-18-5 6-7 18zm142-59l6 13-5 4-6-13z"/>
<path fill="#9700ff" d="M692 312l6 13-5 6-6-13zm-138 69l6-19-5 6-6 19zm154-65l7 13-5 4-7-13z"/>
<path fill="#0800ff" d="M712 353l6 15-5 7-6-16zm-171 72l6-23-5 6-6 21z"/>
<path fill="#0070ff" d="M725 384l6 16-5 7-6-16zm-197 86l6-23-5 4-6 22z"/>
<path fill="#00b7ff" d="M731 400l7 18-5 6-7-17zm-210 91l7-21-5 3-7 20z"/>
<path fill="#afff00" d="M796 539l7 9-5 2-7-9zm-340 126l7-16-5 1-7 15zm345-128l7 9-5 2-7-9zm-340 128l7-17-5 1-7 16z"/>
<path fill="#f7ff00" d="M809 557l7 10-5 0-7-8zm5-1l7 10-5 1-7-10zm-366 138l7-14-5 0-7 13z"/>
<path fill="#ff8f00" d="M417 734l7-9-5-2-7 10zm5 2l6-10-4-1-7 9zm423-141l7 7-5-2-7-7z"/>
<path fill="#80ff00" d="M463 649l6-17-5 1-6 17zm332-121l6 9-5 2-6-9zm-327 120l6-18-5 2-6 17z"/>
<path fill="#50ff00" d="M469 632l7-18-5 3-7 16zm319-113l7 9-5 2-7-10zm5-1l7 9-5 1-7-9z"/>
<path fill="#20ff00" d="M476 614l6-18-5 4-6 17zm311-106l6 10-5 1-6-10z"/>
<path fill="#00ff10" d="M482 596l7-17-5 4-7 17z"/>
<path fill="#00ff40" d="M489 579l6-17-5 4-6 17zm285-97l6 14-5 1-6-13z"/>
<path fill="#00ff70" d="M495 562l7-16-5 3-7 17zm272-96l7 16-5 2-7-16z"/>
<path fill="#00ff9f" d="M502 546l6-17-5 3-6 17zm254-96l6 18-5 2-6-17zm5-2l6 18-5 2-6-18z"/>
<path fill="#00e7ff" d="M515 511l6-20-5 2-6 20zm228-98l6 19-5 4-6-18zm-223 95l6-19-5 2-6 20z"/>
<path fill="#0028ff" d="M534 447l7-22-5 4-7 22zm189-85l7 16-5 6-7-16z"/>
<path fill="#5000ff" d="M547 402l7-21-5 6-7 21zm163-69l7 14-5 6-7-15z"/>
<path fill="#ff0048" d="M612 268l7-5-5 4-7 5zm7-5l6-5-5 4-6 5zm6-5l7-3-5 4-7 3zm7-3l6-1-5 4-6 1zm6-1l7-1-5 4-7 1zm7-1l6 1-5 4-6-1zm-34 19l6-7-5 3-6 7zm45-21l7 2-5 3-7-2zm7 2l6 4-5 4-6-5z"/>
<path fill="#ff00ef" d="M684 284l6 11-5 5-6-11zm-112 56l6-16-5 5-6 15z"/>
<path fill="#8000ff" d="M703 320l7 13-5 5-7-13z"/>
<path fill="#2000ff" d="M717 347l6 15-5 6-6-15zm-171 74l6-22-5 3-6 23z"/>
<path fill="#0058ff" d="M730 378l6 17-5 5-6-16zm-197 89l6-22-5 2-6 23z"/>
<path fill="#009fff" d="M736 395l7 18-5 5-7-18zm-210 94l7-22-5 3-7 21z"/>
<path fill="#00ffe7" d="M749 432l7 18-5 3-7-17zm-236 94l7-18-5 3-7 18zm241-97l7 19-5 2-7-18z"/>
<path fill="#00ffb7" d="M507 543l6-17-5 3-6 17z"/>
<path fill="#ff0030" d="M617 265l7-5-5 3-7 5zm7-5l6-4-5 2-6 5zm6-4l7-3-5 2-7 3zm7-3l6-2-5 3-6 1zm6-2l7 0-5 2-7 1zm7 0l6 0-5 3-6-1z"/>
<path fill="#ff0000" d="M381 790l7-5-5-2-7 5zm5 3l7-5-5-3-7 5zm5 2l7-5-5-2-7 5z"/>
<path fill="#ff1800" d="M388 785l6-6-5-2-6 6zm6-6l7-6-5-3-7 7zm489-160l6 2-5-2-6-2zm6 2l7 1-5-2-7-1zm7 1l6 1-5-3-6 0zm-503 166l6-6-5-3-6 6zm495-166l6 2-5-3-6-2zm6 2l7 1-5-3-7-1zm7 1l6 1-5-3-6-1zm-503 165l6-5-5-3-6 6zm501-163l7 1-5-3-7-1zm7 1l6 1-5-3-6-1z"/>
<path fill="#ff3000" d="M401 773l6-8-5-3-6 8zm475-156l7 2-5-2-7-2zm-477 165l7-7-5-2-7 6zm7-7l6-8-5-2-6 8zm475-156l7 3-5-3-7-2zm-477 166l7-7-5-3-7 7zm7-7l6-8-5-3-6 8zm475-156l7 3-5-3-7-3zm7 3l6 2-5-3-6-2z"/>
<path fill="#ff4800" d="M407 765l7-9-5-2-7 8zm463-151l6 3-5-2-6-3zm-458 153l7-8-5-3-7 9zm463-151l6 3-5-2-6-3zm-458 154l7-8-5-3-7 8zm463-152l6 4-5-3-6-3z"/>
<path fill="#ff6000" d="M414 756l6-9-5-2-6 9zm443-153l6 6-5-2-6-5zm6 6l7 5-5-2-7-5zm-444 150l6-10-5-2-6 9zm449-148l7 5-5-2-7-5zm-444 151l6-10-5-3-6 10zm449-150l7 6-5-2-7-5z"/>
<path fill="#ff7800" d="M420 747l7-10-5-1-7 9zm5 2l7-10-5-2-7 10zm437-144l6 6-5-2-6-6zm-432 147l7-10-5-3-7 10zm437-146l6 6-5-1-6-6z"/>
<path fill="#ff8f00" d="M427 737l6-9-5-2-6 10zm423-141l7 7-5-1-7-7zm-418 143l6-10-5-1-6 9zm423-142l7 8-5-2-7-7zm-418 145l6-11-5-2-6 10zm423-143l7 7-5-1-7-8z"/>
<path fill="#ffa700" d="M433 728l7-11-5-1-7 10zm411-141l6 9-5-1-6-9zm-406 142l7-11-5-1-7 11zm411-141l6 9-5-1-6-9zm-406 143l7-12-5-1-7 11zm411-141l6 9-5-2-6-9z"/>
<path fill="#ffbf00" d="M440 717l7-11-5 0-7 10z"/>
<path fill="#ffef00" d="M447 706l6-12-5 0-6 12zm384-140l6 11-5-1-6-10zm-379 140l6-13-5 1-6 12zm5 1l6-14-5 0-6 13z"/>
<path fill="#f7ff00" d="M453 694l7-14-5 0-7 14zm5-1l7-14-5 1-7 14zm378-126l6 11-5-1-6-11zm5 3l6 10-5-2-6-11z"/>
<path fill="#c7ff00" d="M460 680l6-16-5 1-6 15zm5-1l6-16-5 1-6 16zm369-120l7 11-5-3-7-11z"/>
<path fill="#97ff00" d="M466 664l7-17-5 1-7 17zm5-1l7-17-5 1-7 17z"/>
<path fill="#68ff00" d="M473 647l6-18-5 1-6 18zm332-121l6 9-5 1-6-9zm-327 120l6-17-5 0-6 18z"/>
<path fill="#38ff00" d="M479 629l7-19-5 2-7 18zm319-113l7 10-5 1-7-9zm5-1l7 10-5 1-7-10z"/>
<path fill="#08ff00" d="M486 610l6-18-5 2-6 18zm311-106l6 11-5 1-6-10zm5-1l6 12-5 0-6-11z"/>
<path fill="#00ff40" d="M492 592l7-17-5 1-7 18zm287-112l6 14-5 2-6-14zm-282 113l7-18-5 0-7 17zm5 2l7-18-5-2-7 18z"/>
<path fill="#00ff70" d="M499 575l6-17-5 2-6 16zm5 0l6-17-5 0-6 17zm5 2l6-17-5-2-6 17z"/>
<path fill="#00ff9f" d="M505 558l7-16-5 1-7 17zm5 0l7-17-5 1-7 16zm5 2l7-18-5-1-7 17zm267-99l7 16-5 1-7-16z"/>
<path fill="#00ffcf" d="M512 542l6-18-5 2-6 17zm5-1l6-18-5 1-6 18zm254-96l6 17-5 2-6-18zm5 0l6 16-5 1-6-17z"/>
<path fill="#00ffff" d="M518 524l7-18-5 2-7 18zm241-97l7 19-5 2-7-19zm-236 96l7-18-5 1-7 18z"/>
<path fill="#00cfff" d="M525 506l6-20-5 3-6 19z"/>
<path fill="#0087ff" d="M531 486l7-21-5 2-7 22zm5-1l7-22-5 2-7 21z"/>
<path fill="#0058ff" d="M538 465l6-23-5 3-6 22zm218-73l7 18-5-2-7-18z"/>
<path fill="#0010ff" d="M544 442l7-23-5 2-7 24z"/>
<path fill="#3800ff" d="M551 419l6-23-5 3-6 22z"/>
<path fill="#8000ff" d="M557 396l7-21-5 2-7 22zm163-69l7 14-5 2-7-14zm-158 69l7-22-5 1-7 21zm163-70l7 14-5 1-7-14z"/>
<path fill="#af00ff" d="M564 375l6-20-5 3-6 19zm149-62l7 14-5 2-7-13z"/>
<path fill="#f700ff" d="M570 355l7-17-5 2-7 18zm5 0l7-18-5 1-7 17zm137-56l6 13-5 1-6-13zm5 0l6 13-5 0-6-13z"/>
<path fill="#ff00d7" d="M577 338l6-16-5 2-6 16zm5-1l6-15-5 0-6 16zm123-50l7 12-5 1-7-12zm5 0l7 12-5 0-7-12z"/>
<path fill="#ff00bf" d="M583 322l7-13-5 2-7 13zm111-44l6 10-5 3-6-11zm-107 61l6-16-5-1-6 15z"/>
<path fill="#ff008f" d="M590 309l6-12-5 2-6 12zm97-40l7 9-5 2-7-9zm5-1l7 8-5 2-7-9z"/>
<path fill="#ff0078" d="M596 297l7-11-5 2-7 11zm85-36l6 8-5 2-6-8zm-86 47l6-12-5 1-6 12zm5 1l6-12-5-1-6 12zm97-41l7 9-5-1-7-8z"/>
<path fill="#ff0060" d="M603 286l6-8-5 1-6 9zm71-30l7 5-5 2-7-6zm-73 40l7-10-5 0-7 11zm85-35l6 7-5 1-6-8zm-80 36l7-11-5 0-7 10zm85-36l6 7-5 0-6-7z"/>
<path fill="#ff0048" d="M609 278l7-8-5 2-7 7zm59-26l6 4-5 1-6-4zm-60 34l6-9-5 1-6 8zm71-30l7 5-5 0-7-5zm-66 30l6-8-5-1-6 9zm71-29l7 4-5 0-7-5z"/>
<path fill="#ff0030" d="M616 270l6-6-5 1-6 7zm6-6l7-5-5 1-7 5zm33-14l6 0-5 1-6 0zm6 0l7 2-5 1-7-2zm-47 27l7-7-5 0-7 8zm7-7l6-6-5 0-6 6zm45-19l7 1-5 0-7-2zm7 1l6 4-5 0-6-4zm-54 26l7-7-5-1-7 7zm59-24l6 3-5-1-6-4z"/>
<path fill="#ff0018" d="M629 259l6-3-5 0-6 4zm6-3l7-3-5 0-7 3zm7-3l6-2-5 0-6 2zm6-2l7-1-5 1-7 0zm-21 13l7-4-5-1-7 5zm7-4l6-4-5 0-6 3zm6-4l7-2-5-1-7 3zm7-2l6-2-5-1-6 2zm6-2l7-1-5-1-7 1zm7-1l6 0-5-1-6 0zm-34 20l6-6-5-1-6 6zm6-6l7-4-5-1-7 4zm7-4l6-3-5-2-6 4zm6-3l7-2-5-2-7 2zm7-2l6-2-5-2-6 2zm6-2l7-2-5-1-7 1zm7-2l6 0-5-1-6 0zm6 0l7 2-5-2-7-1z"/>
<path fill="#ff00ef" d="M700 288l7 12-5 3-7-12zm-120 68l7-17-5-2-7 18z"/>
<path fill="#df00ff" d="M707 300l6 13-5 3-6-13z"/>
<path fill="#5000ff" d="M727 341l6 15-5 2-6-15zm-171 77l6-22-5 0-6 23zm176-78l6 16-5 0-6-15zm-171 78l6-22-5 0-6 22zm175-76l7 16-5-2-6-16z"/>
<path fill="#0800ff" d="M733 356l7 16-5 2-7-16zm-184 85l7-23-5 1-7 23zm5-1l7-22-5 0-7 23z"/>
<path fill="#0028ff" d="M740 372l6 18-5 2-6-18zm5 1l6 17-5 0-6-18zm-197 89l6-22-5 1-6 22zm202-87l6 17-5-2-6-17z"/>
<path fill="#0070ff" d="M746 390l7 18-5 2-7-18zm5 0l7 18-5 0-7-18zm-210 94l7-22-5 1-7 22z"/>
<path fill="#00b7ff" d="M753 408l6 19-5 2-6-19zm-223 97l6-20-5 1-6 20zm228-97l6 19-5 0-6-19zm-223 96l6-20-5 1-6 20z"/>
<path fill="#00ffb7" d="M766 446l6 18-5 2-6-18z"/>
<path fill="#00ff87" d="M772 464l7 16-5 2-7-16zm5-2l7 16-5 2-7-16z"/>
<path fill="#00ff10" d="M785 494l7 12-5 2-7-12zm-294 116l6-17-5-1-6 18zm5 2l6-17-5-2-6 17z"/>
<path fill="#20ff00" d="M792 506l6 10-5 2-6-10zm-308 123l7-19-5 0-7 19zm5 1l7-18-5-2-7 19zm319-115l7 11-5-1-7-10z"/>
<path fill="#80ff00" d="M811 535l7 10-5 0-7-9zm5 0l7 10-5 0-7-10zm-340 128l7-16-5-1-7 17zm345-126l7 11-5-3-7-10z"/>
<path fill="#afff00" d="M818 545l6 10-5 0-6-10zm5 0l6 11-5-1-6-10zm-353 134l6-16-5 0-6 16zm358-131l6 11-5-3-6-11z"/>
<path fill="#dfff00" d="M824 555l7 11-5 0-7-11zm5 1l7 11-5-1-7-11zm-366 137l7-14-5 0-7 14z"/>
<path fill="#ffd700" d="M837 577l7 10-5-1-7-10zm-392 141l7-12-5 0-7 11zm397-140l7 10-5-1-7-10zm-392 141l7-12-5-1-7 12zm397-139l7 10-5-2-7-10z"/>
<path fill="#0040ff" d="M543 463l6-22-5 1-6 23z"/>
<path fill="#c700ff" d="M569 374l6-19-5 0-6 20zm149-62l7 14-5 1-7-14zm-144 63l6-19-5-1-6 19zm149-63l7 14-5 0-7-14z"/>
<path fill="#ff00a7" d="M588 322l7-14-5 1-7 13zm111-46l6 11-5 1-6-10zm-106 47l7-14-5-1-7 14zm111-46l6 10-5 0-6-11z"/>
<path fill="#2000ff" d="M738 356l7 17-5-1-7-16zm5 2l7 17-5-2-7-17z"/>
<path fill="#00e7ff" d="M764 427l7 18-5 1-7-19zm-236 97l7-20-5 1-7 18zm241-96l7 17-5 0-7-18z"/>
<path fill="#00ff58" d="M784 478l6 14-5 2-6-14zm5-1l6 14-5 1-6-14z"/>
<path fill="#00ff28" d="M790 492l7 12-5 2-7-12zm5-1l7 12-5 1-7-12z"/>
<path fill="#50ff00" d="M810 525l6 10-5 0-6-9zm-327 122l6-17-5-1-6 17zm332-121l6 11-5-2-6-10z"/>
<path fill="#00ffe7" d="M522 542l6-18-5-1-6 18z"/>
<path fill="#9700ff" d="M567 396l7-21-5-1-7 22zm163-70l6 16-4-2-7-14z"/>
<path fill="#009fff" d="M763 410l6 18-5-1-6-19z"/>
<path fill="#ff1800" d="M396 798l7-5-5-3-7 5zm7-5l6-5-5-3-6 5zm501-163l7 1-5-3-7-1zm7 1l6 1-5-3-6-1zm-510 169l7-4-5-3-7 5zm7-4l6-6-5-2-6 5zm6-6l7-6-5-3-7 7zm489-160l6 2-5-2-6-3zm6 2l7 2-5-3-7-1zm7 2l6 1-5-3-6-1zm-510 169l7-5-5-2-7 4zm7-5l6-5-5-3-6 6zm6-5l7-6-5-3-7 6zm489-160l6 2-5-3-6-2zm6 2l7 2-5-3-7-2z"/>
<path fill="#ff3000" d="M409 788l7-7-5-3-7 7zm7-7l6-7-5-4-6 8zm475-157l7 3-5-2-7-3zm7 3l6 3-5-3-6-2zm-477 157l6-7-5-3-6 7zm475-158l7 4-5-3-7-3zm-470 161l6-7-5-3-6 7zm475-158l7 4-5-3-7-4z"/>
<path fill="#ff4800" d="M422 774l7-9-5-3-7 8zm463-154l6 4-5-2-6-4zm-458 157l7-8-5-4-7 9zm463-155l6 4-5-2-6-4zm-458 158l7-8-5-3-7 8zm463-156l6 5-5-3-6-4z"/>
<path fill="#ff6000" d="M429 765l6-9-5-4-6 10zm449-151l7 6-5-2-7-6zm-444 155l6-10-5-3-6 9zm449-153l7 6-5-2-7-6zm-444 156l6-9-5-4-6 10zm449-153l7 5-5-2-7-6z"/>
<path fill="#ff7800" d="M435 756l7-11-5-3-7 10zm437-148l6 6-5-2-6-6zm-432 151l7-11-5-3-7 11zm437-149l6 6-5-2-6-6zm-432 153l7-11-5-4-7 11zm437-151l6 7-5-3-6-6z"/>
<path fill="#ff8f00" d="M442 745l6-12-5-2-6 11zm423-145l7 8-5-2-7-7zm-418 148l6-12-5-3-6 12zm423-145l7 7-5-2-7-8zm-418 149l6-12-5-4-6 12zm423-146l7 6-5-2-7-7z"/>
<path fill="#ffbf00" d="M448 733l7-12-5-2-7 12zm411-141l6 8-5-1-6-9zm-406 144l7-13-5-2-7 12zm411-141l6 8-5-3-6-8zm-406 145l7-13-5-4-7 13zm411-141l6 7-5-3-6-8z"/>
<path fill="#ffd700" d="M455 721l7-13-5-1-7 12zm397-138l7 9-5-2-7-10zm-392 140l7-13-5-2-7 13zm397-136l7 8-5-3-7-9zm-392 140l7-14-5-3-7 13zm397-136l7 8-5-4-7-8z"/>
<path fill="#f7ff00" d="M462 708l6-14-5-1-6 14zm384-135l6 10-5-3-6-10zm-379 137l6-15-5-1-6 14zm384-132l6 9-5-4-6-10zm-379 135l6-15-5-3-6 15z"/>
<path fill="#dfff00" d="M468 694l7-15-5 0-7 14zm376-126l7 10-5-5-7-10zm5 6l7 9-5-5-7-10z"/>
<path fill="#afff00" d="M475 679l6-15-5-1-6 16zm358-127l6 11-5-4-6-11zm-353 129l6-15-5-2-6 15zm358-124l6 11-5-5-6-11zm-353 127l6-14-5-4-6 15zm358-121l6 11-5-6-6-11z"/>
<path fill="#80ff00" d="M481 664l7-16-5-1-7 16zm345-124l7 12-5-4-7-11zm-340 126l7-14-5-4-7 16zm345-121l7 12-5-5-7-12zm-340 125l7-14-5-4-7 14z"/>
<path fill="#50ff00" d="M488 648l6-16-5-2-6 17zm332-120l6 12-5-3-6-11zm-327 124l6-15-5-5-6 16zm332-119l6 12-5-5-6-12zm-327 123l6-14-5-5-6 15z"/>
<path fill="#20ff00" d="M494 632l7-16-5-4-7 18zm319-116l7 12-5-2-7-11zm-314 121l7-16-5-5-7 16zm319-118l7 14-5-5-7-12zm5 5l7 14-5-5-7-14z"/>
<path fill="#00ff10" d="M501 616l6-17-5-4-6 17zm306-112l6 12-5-1-6-12zm-301 117l6-16-5-6-6 17zm306-116l6 14-5-3-6-12zm5 4l6 15-5-5-6-14z"/>
<path fill="#00ff40" d="M507 599l7-17-5-5-7 18zm293-109l7 14-5-1-7-12zm-288 115l7-17-5-6-7 17zm293-114l7 14-5-1-7-14zm5 4l7 14-5-4-7-14z"/>
<path fill="#00ff70" d="M514 582l6-18-5-4-6 17zm280-106l6 14-5 1-6-14zm-275 112l6-19-5-5-6 18zm280-111l6 14-5-1-6-14zm5 4l6 14-5-4-6-14z"/>
<path fill="#00ff9f" d="M520 564l7-19-5-3-7 18zm267-102l7 14-5 1-7-16zm-262 107l7-20-5-4-7 19zm5 6l7-21-5-5-7 20z"/>
<path fill="#00ffe7" d="M527 545l6-20-5-1-6 18zm254-99l6 16-5-1-6-16zm-249 103l6-21-5-3-6 20zm254-100l6 14-5-1-6-16zm-249 105l6-21-5-5-6 21zm254-101l6 14-5-4-6-14z"/>
<path fill="#00e7ff" d="M533 525l7-20-5-1-7 20zm241-95l7 16-5-1-7-17zm-236 98l7-21-5-2-7 20zm241-94l7 15-5-3-7-16zm-236 99l7-23-5-3-7 21zm241-94l7 14-5-4-7-15z"/>
<path fill="#009fff" d="M540 505l6-21-5 0-6 20zm228-92l6 17-5-2-6-18zm-223 94l6-22-5-1-6 21zm228-89l6 16-5-4-6-17zm-223 92l6-22-5-3-6 22z"/>
<path fill="#0070ff" d="M546 484l7-22-5 0-7 22zm220-83l7 17-5-5-7-17zm5 6l7 16-5-5-7-17z"/>
<path fill="#0028ff" d="M553 462l6-21-5-1-6 22zm202-84l6 18-5-4-6-17zm-197 86l6-21-5-2-6 21zm202-81l6 18-5-5-6-18zm-197 84l6-21-5-3-6 21zm202-77l6 17-5-6-6-18z"/>
<path fill="#2000ff" d="M559 441l7-22-5-1-7 22zm189-80l7 17-5-3-7-17zm-184 82l7-21-5-3-7 22zm189-77l7 17-5-5-7-17zm-184 80l7-20-5-4-7 21z"/>
<path fill="#5000ff" d="M566 419l6-21-5-2-6 22zm5 3l6-20-5-4-6 21zm175-74l7 18-5-5-7-17zm-170 78l6-19-5-5-6 20zm175-72l7 18-5-6-7-18z"/>
<path fill="#9700ff" d="M572 398l7-20-5-3-7 21zm163-70l6 16-5-2-6-16zm-158 74l7-20-5-4-7 20zm163-70l6 16-5-4-6-16zm-158 75l7-19-5-6-7 20zm163-70l6 17-5-6-6-16z"/>
<path fill="#c700ff" d="M579 378l6-19-5-3-6 19zm149-65l7 15-5-2-7-14zm-144 69l6-18-5-5-6 19zm149-66l7 16-5-4-7-15zm-144 72l6-19-5-5-6 18zm149-67l7 16-5-5-7-16z"/>
<path fill="#ff00ef" d="M585 359l7-17-5-3-7 17zm137-59l6 13-5-1-6-13zm-132 64l7-18-5-4-7 17zm137-61l6 13-5-3-6-13zm5 4l6 14-5-5-6-13z"/>
<path fill="#ff00bf" d="M592 342l6-16-5-3-6 16zm123-54l7 12-5-1-7-12zm-118 58l6-16-5-4-6 16zm123-55l7 12-5-3-7-12zm5 4l7 12-5-4-7-12z"/>
<path fill="#ff008f" d="M598 326l7-15-5-2-7 14zm116-45l6 10-5-3-6-10z"/>
<path fill="#ff0078" d="M605 311l6-12-5-2-6 12zm97-41l7 8-5-1-7-9zm-92 45l6-13-5-3-6 12zm97-42l7 8-5-3-7-8zm-92 47l6-13-5-5-6 13zm97-43l7 8-5-4-7-8z"/>
<path fill="#ff0060" d="M611 299l7-11-5-2-7 11zm85-36l6 7-5-2-6-7zm-80 39l7-10-5-4-7 11zm85-35l6 6-5-3-6-7zm-80 40l7-11-5-4-7 10zm85-36l6 6-5-4-6-6z"/>
<path fill="#ff0048" d="M618 288l6-8-5-2-6 8zm71-29l7 4-5-2-7-4zm-66 33l6-9-5-3-6 8zm71-30l7 5-5-4-7-4zm-66 34l6-9-5-4-6 9zm71-29l7 4-5-4-7-5z"/>
<path fill="#ff0030" d="M624 280l7-7-5-2-7 7zm59-24l6 3-5-2-6-3zm-54 27l7-7-5-3-7 7zm59-23l6 2-5-3-6-3zm-54 27l7-7-5-4-7 7zm59-23l6 3-5-5-6-2z"/>
<path fill="#ff0018" d="M631 273l6-6-5-2-6 6zm6-6l7-4-5-2-7 4zm7-4l6-3-5-2-6 3zm6-3l7-2-5-2-7 2zm7-2l6-2-5-2-6 2zm6-2l7-1-5-3-7 2zm7-1l6 0-5-3-6 0zm6 0l7 1-5-2-7-2zm-40 21l6-6-5-3-6 6zm6-6l7-4-5-3-7 4zm7-4l6-3-5-3-6 3zm6-3l7-2-5-3-7 2zm7-2l6-2-5-3-6 2zm6-2l7-1-5-3-7 1zm7-1l6 0-5-3-6 0zm6 0l7 2-5-4-7-1zm-40 22l6-6-5-4-6 6zm6-6l7-4-5-4-7 4zm7-4l6-3-5-4-6 3zm6-3l7-2-5-4-7 2zm7-2l6-2-5-4-6 2zm6-2l7-1-5-4-7 1zm7-1l6 1-5-5-6 0zm6 1l7 1-5-4-7-2z"/>
<path fill="#ff00a7" d="M709 278l6 10-5-1-6-10zm-106 52l7-15-5-4-7 15zm5 5l7-15-5-5-7 15zm111-50l6 10-5-4-6-10z"/>
<path fill="#6800ff" d="M741 344l7 17-5-3-7-16z"/>
<path fill="#0058ff" d="M761 396l7 17-5-3-7-18zm-210 89l7-21-5-2-7 22zm5 3l7-21-5-3-7 21z"/>
<path fill="#c7ff00" d="M839 563l7 10-5-3-7-11zm-366 132l7-14-5-2-7 15zm5 3l7-14-5-3-7 14z"/>
<path fill="#00ffb7" d="M792 463l7 14-5-1-7-14zm5 4l7 14-5-4-7-14z"/>
<path fill="#38ff00" d="M504 642l7-14-5-7-7 16z"/>
<path fill="#08ff00" d="M511 628l6-16-5-7-6 16z"/>
<path fill="#00ff28" d="M517 612l7-17-5-7-7 17z"/>
<path fill="#00ff58" d="M524 595l6-20-5-6-6 19z"/>
<path fill="#f700ff" d="M595 369l7-17-5-6-7 18z"/>
<path fill="#ff00d7" d="M602 352l6-17-5-5-6 16z"/>
<path fill="#0800ff" d="M758 372l7 18-5-7-7-17z"/>
<path fill="#00b7ff" d="M778 423l6 16-5-5-6-16z"/>
<path fill="#68ff00" d="M830 538l6 13-5-6-6-12z"/>
<path fill="#97ff00" d="M836 551l7 12-5-6-7-12z"/>
<path fill="#ffef00" d="M856 583l6 8-5-4-6-9z"/>
<path fill="#ff0000" d="M921 637l6 1-5-3-6-1z"/>
<path fill="#ff1800" d="M411 806l7-5-5-3-7 5zm7-5l6-5-5-3-6 5zm6-5l7-6-5-3-7 6zm489-160l6 2-5-3-6-2zm6 2l7 2-5-3-7-2zm-503 171l7-5-5-3-7 5zm7-5l6-5-5-3-6 5zm6-5l7-6-5-3-7 6zm489-160l6 2-5-3-6-2zm6 2l7 2-5-3-7-2zm-503 170l7-4-5-3-7 5zm7-4l6-5-5-3-6 5zm6-5l7-6-5-3-7 6zm489-160l6 2-5-3-6-2zm6 2l7 2-5-3-7-2z"/>
<path fill="#ff3000" d="M431 790l6-6-5-4-6 7zm475-158l7 4-5-3-7-4zm-470 161l6-6-5-3-6 6zm475-158l7 4-5-3-7-4zm-470 161l6-6-5-3-6 6zm475-158l7 4-5-3-7-4z"/>
<path fill="#ff4800" d="M437 784l7-8-5-4-7 8zm463-157l6 5-5-3-6-5zm-458 160l7-8-5-3-7 8zm463-157l6 5-5-3-6-5zm-458 160l7-8-5-3-7 8zm7-8l6-9-5-3-6 9zm456-148l6 4-5-3-6-5z"/>
<path fill="#ff6000" d="M444 776l6-9-5-4-6 9zm449-154l7 5-5-3-7-5zm-444 157l6-9-5-3-6 9zm449-154l7 5-5-3-7-5zm-438 148l7-10-5-3-7 10zm443-144l7 5-5-4-7-5z"/>
<path fill="#ff7800" d="M450 767l7-11-5-4-7 11zm437-151l6 6-5-3-6-7zm-432 154l7-10-5-4-7 11zm437-151l6 6-5-3-6-6zm5 4l6 6-5-4-6-6z"/>
<path fill="#ff8f00" d="M457 756l6-12-5-4-6 12zm423-147l7 7-5-4-7-6zm-418 151l6-12-5-4-6 12zm423-147l7 6-5-3-7-7zm-418 150l6-11-5-4-6 12zm423-145l7 5-5-4-7-6z"/>
<path fill="#ffa700" d="M463 744l7-13-5-4-7 13zm5 4l7-13-5-4-7 13zm411-141l6 6-5-4-6-6zm-406 145l7-12-5-5-7 13zm411-140l6 6-5-5-6-6z"/>
<path fill="#ffd700" d="M470 731l7-15-5-3-7 14zm397-135l7 7-5-4-7-8zm-392 139l7-14-5-5-7 15zm5 5l6-13-4-6-7 14zm391-141l6 7-5-5-6-7z"/>
<path fill="#f7ff00" d="M477 716l6-14-5-4-6 15zm5 5l6-14-5-5-6 14zm377-135l7 8-5-5-7-9zm5 5l7 8-5-5-7-8z"/>
<path fill="#dfff00" d="M483 702l7-14-5-4-7 14zm371-122l7 9-5-6-7-9zm-366 127l7-13-5-6-7 14zm5 6l7-13-5-6-7 13zm365-131l6 9-5-5-6-10z"/>
<path fill="#afff00" d="M490 688l6-13-5-5-6 14zm5 6l6-13-5-6-6 13zm351-129l7 11-5-6-7-12zm5 6l7 11-5-6-7-11z"/>
<path fill="#80ff00" d="M496 675l7-13-5-6-7 14zm344-124l6 14-5-7-6-14zm-327 124l6-13-5-6-6 12zm332-117l6 13-5-6-6-14z"/>
<path fill="#68ff00" d="M503 662l6-13-5-7-6 14zm332-118l6 14-5-7-6-13zm-327 124l6-12-5-7-6 13z"/>
<path fill="#38ff00" d="M509 649l7-14-5-7-7 14zm319-119l7 14-5-6-7-14zm5 7l7 14-5-7-7-14zm-307 112l6-15-5-7-6 15z"/>
<path fill="#08ff00" d="M516 635l6-15-5-8-6 16zm311-114l6 16-5-7-6-15zm-295 113l7-18-5-7-7 18z"/>
<path fill="#00ff28" d="M522 620l7-18-5-7-7 17zm298-113l7 14-5-6-7-15zm5 8l7 14-5-8-7-14z"/>
<path fill="#00ff58" d="M529 602l6-20-5-7-6 20zm290-101l6 14-5-8-6-15z"/>
<path fill="#00ff87" d="M535 582l7-21-5-7-7 21zm5 8l7-22-5-7-7 21zm272-103l7 14-5-9-7-13z"/>
<path fill="#00ffcf" d="M542 561l6-23-5-5-6 21zm5 7l6-22-5-8-6 23zm254-102l6 13-5-7-6-13z"/>
<path fill="#00e7ff" d="M548 538l7-22-5-6-7 23zm241-93l7 14-5-6-7-14z"/>
<path fill="#009fff" d="M555 516l6-22-5-6-6 22zm231-86l7 16-5-8-7-16z"/>
<path fill="#0070ff" d="M561 494l7-22-5-5-7 21zm5 7l7-22-5-7-7 22z"/>
<path fill="#0028ff" d="M568 472l6-20-5-6-6 21zm5 7l6-20-5-7-6 20zm200-83l7 17-5-8-7-18z"/>
<path fill="#2000ff" d="M574 452l7-20-5-6-7 20zm192-74l7 18-5-9-7-18z"/>
<path fill="#5000ff" d="M581 432l6-19-5-6-6 19zm175-71l7 18-5-7-7-18z"/>
<path fill="#8000ff" d="M587 413l7-18-5-7-7 19zm163-70l6 18-5-7-6-17zm-158 78l7-18-5-8-7 18zm163-70l6 18-5-8-6-18z"/>
<path fill="#c700ff" d="M594 395l6-19-5-7-6 19zm149-68l7 16-5-6-7-16zm-133 67l7-18-5-9-7 18z"/>
<path fill="#f700ff" d="M600 376l7-17-5-7-7 17zm137-63l6 14-5-6-6-14zm5 8l6 14-5-8-6-14zm-125 55l6-17-5-9-6 17z"/>
<path fill="#ff00d7" d="M607 359l6-17-5-7-6 17zm123-58l7 12-5-6-7-12zm5 8l7 12-5-8-7-12zm-112 50l7-15-5-9-7 15z"/>
<path fill="#ff00a7" d="M613 342l7-15-5-7-7 15zm111-51l6 10-5-6-6-10zm5 8l6 10-5-8-6-10zm-99 45l6-14-5-9-6 14zm97-44l7 8-5-9-7-8z"/>
<path fill="#ff008f" d="M620 327l6-14-5-6-6 13zm5 8l6-14-5-8-6 14zm97-44l7 8-5-8-7-8z"/>
<path fill="#ff0060" d="M626 313l7-11-5-6-7 11zm85-36l6 6-5-6-6-6zm-73 32l6-9-5-8-6 10zm71-29l7 5-5-8-7-4zm-66 38l6-10-5-8-6 9zm65-33l6 4-5-9-6-3zm6 4l7 5-5-9-7-5z"/>
<path fill="#ff0048" d="M633 302l6-10-5-5-6 9zm71-29l7 4-5-6-7-4zm-60 27l7-8-5-7-7 7zm59-23l6 3-5-7-6-3zm-54 31l7-8-5-8-7 8zm7-8l6-6-5-8-6 6zm45-17l7 2-5-8-7-2z"/>
<path fill="#ff0030" d="M639 292l7-7-5-5-7 7zm7-7l6-6-5-5-6 6zm45-17l7 2-5-6-7-1zm7 2l6 3-5-6-6-3zm-47 22l6-6-5-7-6 6zm6-6l7-5-5-6-7 4zm33-12l6 1-5-7-6-1zm6 1l7 2-5-7-7-2zm-34 19l7-5-5-8-7 5zm7-5l6-4-5-7-6 3zm6-4l7-2-5-7-7 2zm7-2l6-1-5-8-6 2zm6-1l7 0-5-8-7 0zm7 0l6 1-5-8-6-1z"/>
<path fill="#ff0018" d="M652 279l7-4-5-5-7 4zm7-4l6-3-5-5-6 3zm6-3l7-3-5-4-7 2zm7-3l6-1-5-5-6 2zm6-1l7-1-5-5-7 1zm7-1l6 1-5-5-6-1zm-21 14l6-3-5-6-6 3zm6-3l7-2-5-7-7 3zm7-2l6-2-5-6-6 1zm6-2l7 0-5-7-7 1z"/>
<path fill="#ff0078" d="M717 283l7 8-5-6-7-8zm-86 38l7-12-5-7-7 11zm85-36l6 6-5-8-6-6zm-80 45l7-12-5-9-7 12zm85-36l6 6-5-9-6-6z"/>
<path fill="#0800ff" d="M763 379l7 18-5-7-7-18zm-184 80l7-19-5-8-7 20z"/>
<path fill="#0040ff" d="M770 397l6 17-5-7-6-17zm-192 92l6-20-5-10-6 20z"/>
<path fill="#0087ff" d="M776 414l7 16-5-7-7-16zm5 8l7 16-5-8-7-16zm-210 88l7-21-5-10-7 22z"/>
<path fill="#00b7ff" d="M783 430l6 15-5-6-6-16zm-223 93l6-22-5-7-6 22z"/>
<path fill="#00ffe7" d="M796 459l6 13-5-5-6-14zm3 1l7 14-5-8-7-14z"/>
<path fill="#00ff9f" d="M802 472l7 14-5-5-7-14zm5 7l7 13-5-6-7-14z"/>
<path fill="#00ff70" d="M809 486l6 14-5-5-6-14zm5 6l6 15-5-7-6-14zm-269 105l7-21-5-8-7 22z"/>
<path fill="#00ff40" d="M815 500l7 15-5-6-7-14zm-281 109l6-19-5-8-6 20zm5 7l6-19-5-7-6 19z"/>
<path fill="#00ff10" d="M822 515l6 15-5-6-6-15zm-295 112l7-18-5-7-7 18z"/>
<path fill="#97ff00" d="M841 558l7 12-5-7-7-12zm-340 123l7-13-5-6-7 13zm5 6l7-12-5-7-7 13z"/>
<path fill="#c7ff00" d="M848 570l6 10-5-6-6-11zm5 6l6 10-5-6-6-10zm-353 124l6-13-5-6-6 13z"/>
<path fill="#ffef00" d="M861 589l6 7-5-5-6-8zm5 5l6 7-5-5-6-7zm-380 133l7-14-5-6-6 14z"/>
<path fill="#ffbf00" d="M874 603l6 6-5-3-6-7zm-2-2l7 6-5-4-7-7zm5 5l7 6-5-5-7-6z"/>
<path fill="#ff0000" d="M926 640l6 0-5-2-6-1zm5 3l6 0-5-3-6 0zm5 3l6 0-5-3-6 0z"/>
<path fill="#50ff00" d="M514 656l7-14-5-7-7 14zm5 6l7-13-5-7-7 14zm319-118l7 14-5-7-7-14z"/>
<path fill="#20ff00" d="M521 642l6-15-5-7-6 15zm311-113l6 15-5-7-6-16z"/>
<path fill="#00ffff" d="M553 546l7-23-5-7-7 22zm241-94l7 14-5-7-7-14zm-236 102l7-22-5-9-7 23z"/>
<path fill="#3800ff" d="M586 440l6-19-5-8-6 19zm175-71l7 18-5-8-7-18zm-170 80l6-19-5-9-6 19z"/>
<path fill="#af00ff" d="M599 403l6-18-5-9-6 19zm149-68l7 16-5-8-7-16z"/>
<path fill="#df00ff" d="M605 385l7-18-5-8-7 17zm142-55l6 14-5-9-6-14z"/>
<path fill="#ff00ef" d="M612 367l6-17-5-8-6 17zm128-49l7 12-5-9-7-12z"/>
<path fill="#ff00bf" d="M618 350l7-15-5-8-7 15zm116-42l6 10-5-9-6-10z"/>
<path fill="#0010ff" d="M768 387l7 18-5-8-7-18zm-184 82l7-20-5-9-7 19z"/>
<path fill="#0058ff" d="M775 405l6 17-5-8-6-17zm5 8l6 17-5-8-6-17z"/>
<path fill="#00cfff" d="M788 438l6 14-5-7-6-15zm-223 94l6-22-5-9-6 22zm228-86l6 14-5-8-6-14z"/>
<path fill="#00ffb7" d="M552 576l6-22-5-8-6 22zm254-102l6 13-5-8-6-13z"/>
<path fill="#6800ff" d="M597 430l7-18-5-9-7 18zm163-70l6 18-5-9-6-18z"/>
<path fill="#9700ff" d="M604 412l6-18-5-9-6 18zm149-68l7 16-5-9-7-16z"/>
<path fill="#ff1800" d="M426 814l7-4-5-3-7 4zm7-4l6-5-5-3-6 5zm6-5l7-6-5-3-7 6zm489-160l6 2-5-3-6-2zm6 2l7 1-5-2-7-2zm-496 166l6-5-5-3-6 5zm6-5l7-6-5-3-7 6zm489-160l6 2-5-3-6-2zm6 2l7 1-5-3-7-1zm-496 166l6-5-5-3-6 5zm6-5l7-6-5-3-7 6zm489-160l6 2-5-3-6-2zm6 2l7 1-5-3-7-1z"/>
<path fill="#ff3000" d="M446 799l6-6-5-3-6 6zm475-157l7 3-5-3-7-4zm-470 160l6-7-5-2-6 6zm475-157l7 3-5-3-7-3zm-470 160l6-7-5-3-6 7zm475-156l7 2-5-3-7-3z"/>
<path fill="#ff4800" d="M452 793l7-8-5-3-7 8zm7-8l6-9-5-3-6 9zm456-147l6 4-5-4-6-4zm-458 157l7-7-5-3-7 8zm7-7l6-9-5-3-6 9zm456-147l6 4-5-3-6-4zm-458 157l7-8-5-2-7 7zm7-8l6-8-5-3-6 9zm449-149l7 4-5-4-7-4zm7 4l6 4-5-4-6-4z"/>
<path fill="#ff6000" d="M465 776l7-9-5-4-7 10zm443-143l7 5-5-4-7-5zm-438 146l7-9-5-3-7 9zm443-142l7 4-5-3-7-5zm-438 145l7-9-5-3-7 9zm437-145l6 4-5-4-6-5z"/>
<path fill="#ff8f00" d="M472 767l6-11-5-4-6 11zm423-145l7 6-5-5-7-5zm5 5l7 5-5-4-7-6zm-412 137l7-10-5-5-7 11zm411-139l6 6-5-4-6-6z"/>
<path fill="#ffa700" d="M478 756l7-12-5-4-7 12zm411-140l6 6-5-4-6-6zm-406 144l7-11-5-5-7 12zm411-139l6 6-5-5-6-6z"/>
<path fill="#ffbf00" d="M485 744l6-12-5-5-6 13zm397-134l7 6-5-4-7-6zm-392 139l6-11-5-6-6 12zm397-135l7 7-5-5-7-6zm-392 140l6-11-5-5-6 11zm397-136l7 7-5-4-7-7z"/>
<path fill="#ffef00" d="M491 732l7-13-5-6-7 14zm378-137l7 8-5-4-7-8zm5 4l7 8-5-4-7-8zm-366 133l7-12-5-6-7 12zm371-130l7 8-5-3-7-8z"/>
<path fill="#f7ff00" d="M498 719l7-12-5-7-7 13zm5 7l7-12-5-7-7 12z"/>
<path fill="#c7ff00" d="M505 707l6-13-5-7-6 13zm356-126l7 9-5-4-7-10zm-340 126l7-13-5-6-7 13zm345-122l7 9-5-4-7-9z"/>
<path fill="#afff00" d="M511 694l7-12-5-7-7 12zm345-118l7 10-5-4-7-11zm-340 125l7-13-5-6-7 12z"/>
<path fill="#80ff00" d="M518 682l6-13-5-7-6 13zm16-2l7-15-5-5-7 14zm319-114l7 10-5-6-7-11z"/>
<path fill="#68ff00" d="M524 669l7-14-5-6-7 13zm5 5l7-14-5-5-7 14zm319-115l7 11-5-6-7-13z"/>
<path fill="#38ff00" d="M531 655l6-16-5-5-6 15zm5 5l6-15-5-6-6 16zm306-113l6 12-5-8-6-13z"/>
<path fill="#08ff00" d="M537 639l7-17-5-6-7 18zm298-105l7 13-5-9-7-14z"/>
<path fill="#00ff28" d="M544 622l6-18-5-7-6 19zm5 6l6-17-5-7-6 18zm280-107l6 13-5-10-6-13z"/>
<path fill="#00ff70" d="M550 604l7-20-5-8-7 21zm267-107l7 14-5-10-7-14zm-250 103l6-18-5-10-6 20zm254-96l6 14-5-11-6-14z"/>
<path fill="#00ff9f" d="M557 584l6-21-5-9-6 22zm254-101l6 14-5-10-6-13zm5 10l6 14-5-10-6-14z"/>
<path fill="#00ffe7" d="M563 563l7-22-5-9-7 22zm241-94l7 14-5-9-7-14zm-224 95l6-19-5-13-6 20zm228-91l6 15-5-9-6-16z"/>
<path fill="#00cfff" d="M570 541l6-21-5-10-6 22zm16 4l7-20-5-13-7 20zm215-88l7 16-5-10-7-16z"/>
<path fill="#009fff" d="M576 520l7-21-5-10-7 21zm17 5l6-20-5-13-6 20zm201-84l7 16-5-10-6-16z"/>
<path fill="#0058ff" d="M583 499l6-20-5-10-6 20zm16 6l7-20-5-13-7 20zm189-79l6 15-4-10-7-16z"/>
<path fill="#0028ff" d="M589 479l7-19-5-11-7 20zm189-74l7 17-5-9-7-17zm-172 80l6-20-5-13-6 20zm175-74l7 15-5-11-7-16z"/>
<path fill="#2000ff" d="M596 460l6-19-5-11-6 19z"/>
<path fill="#5000ff" d="M602 441l7-19-5-10-7 18zm163-70l6 17-5-10-6-18zm-146 75l6-19-5-12-6 18zm149-64l7 14-5-13-7-15z"/>
<path fill="#8000ff" d="M609 422l6-18-5-10-6 18zm149-66l7 15-5-11-7-16zm-133 71l7-17-5-12-7 17zm137-57l6 12-5-14-6-13z"/>
<path fill="#af00ff" d="M615 404l7-18-5-10-7 18zm17 6l6-16-5-13-6 17zm123-52l7 12-5-15-7-12z"/>
<path fill="#df00ff" d="M622 386l6-16-5-11-6 17zm128-43l7 12-5-13-7-12zm-112 51l7-14-5-14-7 15zm111-47l6 11-5-15-6-11z"/>
<path fill="#ff00ef" d="M628 370l7-15-5-11-7 15z"/>
<path fill="#ff00bf" d="M635 355l6-14-5-11-6 14zm97-44l7 8-5-11-7-8zm-86 42l7-12-5-12-7 12zm85-37l6 8-5-13-6-7zm-73 39l6-10-5-14-6 10zm71-31l7 6-5-14-7-5z"/>
<path fill="#ff008f" d="M641 341l7-12-5-11-7 12zm85-37l6 7-5-11-6-6zm-73 37l6-10-5-12-6 10zm65-35l6 5-5-12-6-4zm-47 31l6-8-5-13-6 6zm6-8l7-5-5-14-7 6zm33-14l6 1-5-12-6-2zm6 1l7 3-5-13-7-2z"/>
<path fill="#ff0078" d="M648 329l6-10-5-11-6 10zm71-30l7 5-5-10-7-5zm-60 32l7-9-5-12-7 9zm7-9l6-6-5-12-6 6zm45-18l7 2-5-11-7-2zm-27 20l6-5-5-13-6 4zm6-5l7-3-5-12-7 2zm7-3l6-1-5-13-6 2zm6-1l7 0-5-13-7 0z"/>
<path fill="#ff0060" d="M654 319l7-9-5-10-7 8zm7-9l6-6-5-10-6 6zm45-17l7 2-5-10-7-2zm7 2l6 4-5-10-6-4zm-41 21l7-6-5-11-7 5zm7-6l6-4-5-11-6 4zm6-4l7-2-5-12-7 3zm7-2l6-2-5-11-6 1zm6-2l7 0-5-11-7 0zm7 0l6 2-5-11-6-2z"/>
<path fill="#ff0048" d="M667 304l7-5-5-10-7 5zm7-5l6-4-5-10-6 4zm6-4l7-3-5-9-7 2zm7-3l6-1-5-9-6 1zm6-1l7 0-5-9-7 0zm7 0l6 2-5-10-6-1z"/>
<path fill="#ff00d7" d="M739 319l6 11-5-12-6-10zm-99 47l6-13-5-12-6 14zm97-42l7 8-5-13-7-8zm-86 43l7-12-5-14-7 12zm85-37l6 8-5-14-6-8z"/>
<path fill="#f700ff" d="M745 330l7 12-5-12-7-12zm-112 51l7-15-5-11-7 15zm111-49l6 11-5-13-6-11zm-99 48l6-13-5-14-6 13zm97-42l7 9-5-15-7-8z"/>
<path fill="#c700ff" d="M752 342l6 14-5-12-6-14zm-125 56l6-17-5-11-6 16z"/>
<path fill="#0800ff" d="M771 388l7 17-5-9-7-18zm-159 77l7-19-5-13-7 19zm163-69l6 15-5-12-6-16z"/>
<path fill="#0070ff" d="M785 422l6 17-5-9-6-17zm-197 90l6-20-5-13-6 20z"/>
<path fill="#00b7ff" d="M791 439l7 15-5-8-7-16zm-210 93l7-20-5-13-7 21zm215-85l7 16-5-9-7-15z"/>
<path fill="#00e7ff" d="M798 454l6 15-5-9-6-14z"/>
<path fill="#00ff40" d="M824 511l6 13-5-9-6-14zm-264 106l7-17-5-8-7 19zm267-99l7 14-5-11-7-14z"/>
<path fill="#00ff10" d="M830 524l7 14-5-9-7-14zm-276 110l6-17-5-6-6 17zm280-102l6 12-5-10-6-13z"/>
<path fill="#20ff00" d="M837 538l6 13-5-7-6-15zm-295 107l7-17-5-6-7 17zm5 5l7-16-5-6-7 17zm293-106l7 12-5-9-7-13z"/>
<path fill="#50ff00" d="M843 551l7 13-5-6-7-14zm-302 114l6-15-5-5-6 15zm306-109l6 10-5-7-6-12z"/>
<path fill="#97ff00" d="M850 564l6 12-5-5-6-13zm-327 124l6-14-5-5-6 13zm332-118l6 11-5-5-6-12zm-327 124l6-14-5-6-6 14zm332-118l6 9-5-4-6-11z"/>
<path fill="#dfff00" d="M863 586l6 9-5-4-6-9zm-353 128l6-13-5-7-6 13zm358-124l6 9-5-4-6-9zm-353 130l6-13-5-6-6 13zm358-126l6 8-5-3-6-9z"/>
<path fill="#ffd700" d="M876 603l6 7-5-4-6-7zm-380 135l7-12-5-7-7 13zm385-131l6 7-5-4-6-7zm-380 136l7-11-5-6-7 12zm385-133l6 8-5-4-6-7z"/>
<path fill="#ff7800" d="M902 628l6 5-5-4-6-6zm-425 142l6-10-5-4-6 11zm430-138l6 5-5-4-6-5zm-425 141l6-9-5-4-6 10zm423-142l7 6-5-5-7-5z"/>
<path fill="#ff0000" d="M941 648l6 1-5-3-6 0zm-510 169l7-4-5-3-7 4zm515-166l6 0-5-2-6-1zm-510 169l7-4-5-3-7 4zm515-166l6 0-5-3-6 0z"/>
<path fill="#00ff58" d="M555 611l7-19-5-8-7 20zm267-104l7 14-5-10-7-14z"/>
<path fill="#00ff87" d="M562 592l6-20-5-9-6 21z"/>
<path fill="#00ffcf" d="M568 572l7-20-5-11-7 22zm241-93l7 14-5-10-7-14z"/>
<path fill="#00ffff" d="M575 552l6-20-5-12-6 21zm228-89l6 16-5-10-6-15z"/>
<path fill="#0040ff" d="M594 492l7-20-5-12-7 19zm189-77l7 16-5-9-7-17z"/>
<path fill="#0010ff" d="M601 472l6-20-5-11-6 19zm175-73l7 16-5-10-7-17z"/>
<path fill="#3800ff" d="M607 452l7-19-5-11-7 19zm163-69l6 16-5-11-6-17z"/>
<path fill="#6800ff" d="M614 433l6-18-5-11-6 18zm149-65l7 15-5-12-7-15z"/>
<path fill="#9700ff" d="M620 415l7-17-5-12-7 18zm137-60l6 13-5-12-6-14z"/>
<path fill="#ff00a7" d="M724 311l7 5-5-12-7-5zm-60 34l7-8-5-15-7 9zm59-26l6 5-5-13-6-5z"/>
<path fill="#0087ff" d="M790 431l6 16-5-8-6-17z"/>
<path fill="#00ffb7" d="M573 582l7-18-5-12-7 20zm241-94l7 16-5-11-7-14z"/>
<path fill="#ff0000" d="M441 823l7-4-5-3-7 4zm515-167l6 1-5-3-6 0zm-510 170l7-4-5-3-7 4zm515-167l6 0-5-2-6-1zm-510 170l7-4-5-3-7 4zm515-167l6 0-5-3-6 0z"/>
<path fill="#ff1800" d="M448 819l6-5-5-3-6 5zm6-5l7-6-5-3-7 6zm489-160l6 2-5-3-6-2zm6 2l7 0-5-2-7-1zm-496 166l6-5-5-3-6 5zm6-5l7-6-5-3-7 6zm489-160l6 1-5-2-6-2zm6 1l7 1-5-3-7 0zm-496 167l6-5-5-3-6 5zm6-5l7-6-5-3-7 6zm489-160l6 2-5-4-6-1zm6 2l7 0-5-3-7-1z"/>
<path fill="#ff3000" d="M461 808l6-7-5-3-6 7zm469-159l6 3-5-3-6-4zm6 3l7 2-5-3-7-2zm-470 159l6-7-5-3-6 7zm469-158l6 2-5-3-6-3zm6 2l7 2-5-3-7-2zm-470 159l6-7-5-3-6 7zm469-158l6 3-5-4-6-2zm6 3l7 1-5-3-7-2z"/>
<path fill="#ff4800" d="M467 801l7-8-5-3-7 8zm7-8l6-8-5-3-6 8zm449-148l7 4-5-4-7-4zm-451 159l7-8-5-3-7 8zm7-8l6-8-5-3-6 8zm449-147l7 4-5-4-7-4zm-451 158l7-8-5-3-7 8zm7-8l6-7-5-4-6 8zm449-146l7 3-5-3-7-4z"/>
<path fill="#ff6000" d="M480 785l7-9-5-3-7 9zm437-144l6 4-5-4-6-4zm-432 147l7-8-5-4-7 9zm437-143l6 4-5-4-6-4zm-432 147l7-9-5-3-7 8zm437-143l6 4-5-4-6-4z"/>
<path fill="#ff7800" d="M487 776l6-8-5-4-6 9zm423-141l7 6-5-4-7-6zm-418 145l6-9-5-3-6 8zm423-140l7 5-5-4-7-6zm-418 143l6-8-5-4-6 9zm423-139l7 5-5-4-7-5z"/>
<path fill="#ff8f00" d="M493 768l7-10-5-4-7 10zm411-139l6 6-5-4-6-6zm-406 142l7-8-5-5-7 10zm411-138l6 7-5-5-6-6zm-406 142l7-8-5-4-7 8zm411-138l6 7-5-4-6-7z"/>
<path fill="#ffa700" d="M500 758l6-9-5-6-6 11zm397-136l7 7-5-4-7-7zm-392 141l6-9-5-5-6 9zm397-137l7 7-5-4-7-7zm-392 141l6-9-5-4-6 9zm397-137l7 7-5-4-7-7z"/>
<path fill="#ffbf00" d="M506 749l7-11-5-6-7 11zm5 5l7-10-5-6-7 11zm5 4l7-10-5-4-7 10zm385-136l6 8-5-4-6-8z"/>
<path fill="#ffef00" d="M513 738l7-12-5-6-7 12zm371-132l7 8-5-4-7-8zm5 4l7 8-5-4-7-8zm-359 128l6-13-5-5-6 12zm364-124l7 8-5-4-7-8z"/>
<path fill="#f7ff00" d="M520 726l6-12-5-7-6 13zm5 6l6-12-5-6-6 12zm358-130l6 8-5-4-6-8zm5 5l6 7-5-4-6-8z"/>
<path fill="#c7ff00" d="M526 714l7-14-5-6-7 13zm345-124l7 8-5-4-7-9zm5 4l7 8-5-4-7-8zm-333 118l6-15-5-6-6 15z"/>
<path fill="#afff00" d="M533 700l6-15-5-5-6 14zm332-118l6 8-5-5-6-9zm-327 124l6-15-5-6-6 15zm332-118l6 6-5-4-6-8zm5 6l6 6-5-6-6-6z"/>
<path fill="#80ff00" d="M539 685l7-15-5-5-7 15zm319-112l7 9-5-6-7-10zm-314 118l7-15-5-6-7 15zm318-110l6 6-5-6-6-8z"/>
<path fill="#50ff00" d="M546 670l6-15-5-5-6 15zm5 6l6-16-5-5-6 15zm299-112l7 9-5-9-7-10zm5 8l7 9-5-8-7-9z"/>
<path fill="#20ff00" d="M552 655l7-16-5-5-7 16zm292-102l6 11-5-10-6-12zm-275 100l6-13-5-9-6 15z"/>
<path fill="#00ff10" d="M559 639l6-15-5-7-6 17zm278-99l7 13-5-11-7-13zm-262 100l7-13-5-9-7 13z"/>
<path fill="#00ff40" d="M565 624l7-15-5-9-7 17zm266-99l6 15-5-11-6-15zm-249 102l6-13-5-11-6 15z"/>
<path fill="#00ff70" d="M572 609l6-16-5-11-6 18zm11-6l7-15-5-12-7 17zm246-83l7 16-5-11-7-16z"/>
<path fill="#00ff9f" d="M578 593l7-17-5-12-7 18zm241-94l7 15-5-10-7-16zm-229 89l6-17-5-13-6 18zm233-83l6 15-5-11-6-16z"/>
<path fill="#00ffcf" d="M585 576l6-18-5-13-6 19zm228-93l6 16-5-11-6-15zm3 7l7 15-5-12-7-15z"/>
<path fill="#00ffff" d="M591 558l7-19-5-14-7 20zm220-80l7 15-5-10-7-16z"/>
<path fill="#00b7ff" d="M598 539l6-20-5-14-6 20zm201-87l7 15-5-10-7-16zm4 11l6 13-5-13-6-13z"/>
<path fill="#0087ff" d="M604 519l7-20-5-14-7 20zm192-67l7 11-5-13-7-13z"/>
<path fill="#0040ff" d="M611 499l6-20-5-14-6 20zm175-76l7 14-5-11-7-15zm-1 2l6 12-5-14-6-13z"/>
<path fill="#0010ff" d="M617 479l7-20-5-13-7 19zm163-69l6 13-5-12-6-15zm-2 4l7 11-5-15-7-12zm-1 7l6 10-5-17-6-11z"/>
<path fill="#2000ff" d="M624 459l6-18-5-14-6 19zm149-61l7 12-5-14-7-14zm-1 5l6 11-5-16-6-12zm-2 7l7 11-5-18-7-11z"/>
<path fill="#6800ff" d="M630 441l7-17-5-14-7 17zm12-3l6-14-5-16-6 16zm11 2l7-12-5-18-7 14z"/>
<path fill="#9700ff" d="M637 424l6-16-5-14-6 16zm11 0l7-14-5-16-7 14zm18-7l7-10-5-19-7 11zm85-36l6 9-5-19-6-8z"/>
<path fill="#af00ff" d="M643 408l7-14-5-14-7 14zm111-44l6 10-5-16-6-11zm-99 46l6-11-5-17-6 12zm97-39l7 10-5-17-7-10zm-79 36l6-9-5-19-6 9z"/>
<path fill="#df00ff" d="M650 394l6-12-5-15-6 13zm97-40l7 10-5-17-7-9zm-79 34l6-9-5-18-6 10zm18 1l6-7-5-19-6 7zm52-21l6 5-5-18-6-5z"/>
<path fill="#f700ff" d="M656 382l7-11-5-16-7 12zm85-36l6 8-5-16-6-8zm-67 33l7-9-5-17-7 8zm65-24l7 8-5-17-7-7zm-47 27l7-7-5-19-7 7zm7-7l6-6-5-18-6 5zm26-13l6 2-5-18-6-1zm6 2l7 4-5-18-7-4z"/>
<path fill="#ff00ef" d="M663 371l6-10-5-16-6 10zm71-32l7 7-5-16-7-6zm-53 31l6-7-5-18-6 8zm52-20l6 5-5-16-6-5zm-28 19l7-4-5-18-7 4zm7-4l6-2-5-18-6 2zm6-2l7-1-5-17-7 0z"/>
<path fill="#ff00d7" d="M669 361l7-8-5-16-7 8zm18 2l7-7-5-17-7 6zm7-7l6-5-5-17-6 5zm26-11l6 1-5-15-6-2zm6 1l7 4-5-16-7-3z"/>
<path fill="#ff00bf" d="M676 353l6-8-5-16-6 8zm45-22l7 3-5-15-7-3zm7 3l6 5-5-15-6-5zm-28 17l7-4-5-16-7 3zm7-4l6-2-5-16-6 2zm6-2l7 0-5-16-7 0z"/>
<path fill="#ff00a7" d="M682 345l7-6-5-15-7 5zm7-6l6-5-5-15-6 5zm19-10l7 0-5-14-7 0zm7 0l6 2-5-15-6-1z"/>
<path fill="#ff008f" d="M695 334l7-3-5-15-7 3zm7-3l6-2-5-14-6 1z"/>
<path fill="#8000ff" d="M760 374l7 12-5-16-7-12zm-1 7l6 11-5-18-6-10zm-99 47l6-11-5-18-6 11zm97-38l7 10-5-19-7-10z"/>
<path fill="#5000ff" d="M767 386l6 12-5-16-6-12zm-2 6l7 11-5-17-7-12zm-1 8l6 10-5-18-6-11z"/>
<path fill="#0070ff" d="M793 437l6 15-5-11-6-15zm-177 76l6-20-5-14-6 20zm175-76l7 13-5-13-7-14z"/>
<path fill="#00e7ff" d="M806 467l7 16-5-10-7-16zm-203 86l6-19-5-15-6 20zm206-77l7 14-5-12-7-15z"/>
<path fill="#00ff58" d="M826 514l6 15-5-11-6-14zm-249 104l6-15-5-10-6 16zm11-4l7-14-5-12-7 15z"/>
<path fill="#00ff28" d="M832 529l7 13-5-10-7-14zm-262 102l7-13-5-9-7 15zm266-95l6 14-5-10-6-15z"/>
<path fill="#08ff00" d="M839 542l6 12-5-10-6-12zm-275 104l6-15-5-7-6 15zm278-96l7 12-5-9-7-13z"/>
<path fill="#38ff00" d="M845 554l7 10-5-8-7-12zm-288 106l7-14-5-7-7 16zm5 7l7-14-5-7-7 14zm287-105l6 10-5-8-6-11z"/>
<path fill="#68ff00" d="M852 564l6 9-5-7-6-10zm5 9l6 8-5-8-6-9zm-301 109l6-15-5-7-6 16z"/>
<path fill="#dfff00" d="M878 598l6 8-5-4-6-8zm-347 122l7-14-5-6-7 14zm5 5l7-13-5-6-7 14zm345-125l7 7-5-5-7-8z"/>
<path fill="#ffd700" d="M891 614l6 8-5-4-6-8zm-373 130l7-12-5-6-7 12zm378-126l6 8-5-4-6-8zm-373 130l7-10-5-6-7 12z"/>
<path fill="#00ffe7" d="M596 571l7-18-5-14-7 19zm12-4l6-19-5-14-6 19z"/>
<path fill="#009fff" d="M609 534l7-21-5-14-7 20zm189-84l6 13-5-11-6-15zm-177 78l6-20-5-15-6 20z"/>
<path fill="#0028ff" d="M622 493l7-20-5-14-7 20zm12-4l6-18-5-16-6 18zm149-58l7 10-5-16-7-11z"/>
<path fill="#0800ff" d="M629 473l6-18-5-14-6 18zm11-2l7-16-5-17-7 17z"/>
<path fill="#3800ff" d="M635 455l7-17-5-14-7 17zm12 0l6-15-5-16-6 14z"/>
<path fill="#c700ff" d="M661 399l7-11-5-17-7 11zm85-36l6 8-5-17-6-8zm-67 35l7-9-5-19-7 9zm65-25l7 8-5-18-7-8z"/>
<path fill="#00cfff" d="M804 463l7 15-5-11-7-15zm-190 85l7-20-5-15-7 21z"/>
<path fill="#00ffb7" d="M818 493l6 16-5-10-6-16zm-217 91l7-17-5-14-7 18z"/>
<path fill="#00ff87" d="M824 509l7 16-5-11-7-15zm-229 91l6-16-5-13-6 17z"/>
<path fill="#97ff00" d="M863 581l7 7-5-6-7-9zm-314 116l7-15-5-6-7 15zm319-110l7 7-5-6-7-7z"/>
<path fill="#0058ff" d="M627 508l7-19-5-16-7 20zm163-67l6 11-5-15-6-12z"/>
<path fill="#ff0000" d="M456 832l7-4-5-3-7 4zm515-167l6 0-5-3-6 0zm-510 170l7-4-5-3-7 4zm515-167l6 0-5-3-6 0zm-510 170l7-4-5-3-7 4zm515-166l6-1-5-3-6 0z"/>
<path fill="#ff1800" d="M463 828l6-5-5-3-6 5zm6-5l7-6-5-3-7 6zm489-159l6 1-5-3-6-2zm6 1l7 0-5-3-7 0zm-496 166l6-5-5-3-6 5zm6-5l7-6-5-3-7 6zm489-159l6 1-5-3-6-1zm6 1l7 0-5-3-7 0zm-496 166l6-5-5-3-6 5zm6-5l7-5-5-4-7 6zm482-161l7 2-5-3-7-2zm7 2l6 1-5-3-6-1zm6 1l7 1-5-4-7 0z"/>
<path fill="#ff3000" d="M476 817l6-7-5-3-6 7zm6-7l7-7-5-4-7 8zm463-150l6 2-5-3-6-3zm6 2l7 2-5-4-7-1zm-470 158l6-6-5-4-6 7zm6-6l7-7-5-4-7 7zm463-151l6 2-5-3-6-2zm6 2l7 2-5-3-7-2zm-470 159l6-6-5-4-6 6zm6-6l7-7-5-4-7 7zm463-152l6 2-5-3-6-2z"/>
<path fill="#ff4800" d="M489 803l6-8-5-3-6 7zm449-146l7 3-5-4-7-3zm-444 150l6-8-5-4-6 8zm449-147l7 3-5-3-7-3zm-444 151l6-8-5-4-6 8zm443-152l6 4-5-3-6-4zm6 4l7 3-5-3-7-3z"/>
<path fill="#ff6000" d="M495 795l7-8-5-4-7 9zm437-142l6 4-5-4-6-4zm-432 146l7-8-5-4-7 8zm430-148l7 5-5-3-7-6zm7 5l6 4-5-3-6-4zm-432 147l7-7-5-5-7 8zm7-7l6-9-5-4-6 8zm423-141l7 4-5-3-7-5z"/>
<path fill="#ff7800" d="M502 787l6-8-5-4-6 8zm423-140l7 6-5-4-7-5zm-418 144l6-8-5-4-6 8zm6-8l7-8-5-4-7 8zm411-138l6 6-5-4-6-6zm-406 142l7-8-5-4-7 8zm411-137l6 5-5-4-6-6z"/>
<path fill="#ff8f00" d="M508 779l7-8-5-4-7 8zm411-138l6 6-5-3-6-7zm-399 134l6-9-5-4-6 9zm5 4l6-9-5-4-6 9zm397-135l7 6-5-5-7-6z"/>
<path fill="#ffa700" d="M515 771l6-9-5-4-6 9zm397-137l7 7-5-4-7-7zm-386 132l7-9-5-4-7 9zm391-127l7 6-5-4-7-7zm-386 131l7-9-5-4-7 9z"/>
<path fill="#ffbf00" d="M521 762l7-9-5-5-7 10zm385-135l6 7-5-4-6-8zm-373 130l7-10-5-5-7 11zm378-125l6 7-5-5-6-7zm-373 129l6-10-4-4-7 10zm378-123l6 6-5-5-6-7z"/>
<path fill="#ffd700" d="M528 753l7-11-5-4-7 10zm376-128l7 7-5-5-7-8zm-360 126l7-11-5-5-6 12zm365-119l7 6-5-6-7-7z"/>
<path fill="#ffef00" d="M535 742l6-12-5-5-6 13zm364-123l7 8-5-5-7-8zm-359 128l6-12-5-5-6 12zm358-128l6 6-5-6-6-7zm5 6l6 7-5-7-6-6z"/>
<path fill="#f7ff00" d="M541 730l7-13-5-5-7 13zm352-118l6 7-5-5-6-7zm-347 123l7-12-5-6-7 13zm5 5l7-11-5-6-7 12zm345-121l7 6-5-6-7-7z"/>
<path fill="#c7ff00" d="M548 717l6-14-5-6-6 15zm332-117l6 6-5-6-6-6zm-327 123l6-13-5-7-6 14zm332-116l6 5-5-6-6-6zm-2 0l7 6-5-6-7-6z"/>
<path fill="#97ff00" d="M554 703l7-14-5-7-7 15zm318-109l6 7-5-7-6-6zm-301 111l6-12-5-10-6 14z"/>
<path fill="#80ff00" d="M561 689l6-14-5-8-6 15zm306-101l6 6-5-7-6-6zm-301 109l6-14-5-8-6 14zm299-110l7 7-5-6-7-8zm-288 106l7-12-5-10-7 12zm293-99l7 7-5-7-7-7z"/>
<path fill="#50ff00" d="M567 675l7-14-5-8-7 14zm287-104l6 9-5-8-6-10zm5 7l6 9-5-7-6-9zm-275 103l6-12-5-11-6 13z"/>
<path fill="#20ff00" d="M574 661l6-12-5-9-6 13zm273-102l7 12-5-9-7-12zm-262 99l7-11-5-10-7 12zm266-92l6 10-5-8-6-12z"/>
<path fill="#08ff00" d="M580 649l7-12-5-10-7 13zm266-93l6 12-5-9-6-13zm-249 101l6-12-5-11-6 13z"/>
<path fill="#00ff28" d="M587 637l6-13-5-10-6 13zm11-3l7-12-5-11-7 13zm241-91l7 13-5-10-7-14z"/>
<path fill="#00ff40" d="M593 624l7-13-5-11-7 14zm241-92l7 14-5-10-7-16zm-224 100l6-14-5-10-6 14zm228-88l6 11-5-12-6-13z"/>
<path fill="#00ff70" d="M600 611l6-15-5-12-6 16zm11-3l7-16-5-12-7 16zm220-76l7 12-5-14-7-13z"/>
<path fill="#00ff9f" d="M606 596l7-16-5-13-7 17zm12-4l6-16-5-14-6 18zm208-75l7 13-5-13-7-14zm-2 5l7 10-5-15-7-12z"/>
<path fill="#00ffcf" d="M613 580l6-18-5-14-6 19zm206-75l7 12-5-14-7-13zm-1 6l6 11-5-17-6-11z"/>
<path fill="#00ffff" d="M619 562l7-19-5-15-7 20zm194-68l6 11-5-15-6-12zm-2 7l7 10-5-17-7-10z"/>
<path fill="#00b7ff" d="M626 543l6-19-5-16-6 20zm175-75l7 10-5-15-7-11zm-164 72l7-17-5-18-7 19zm163-65l6 9-5-16-6-10zm-151 66l6-16-5-19-6 17zm149-58l7 9-5-17-7-9z"/>
<path fill="#0087ff" d="M632 524l7-19-5-16-7 19zm163-66l6 10-5-16-6-11zm-151 65l6-17-5-18-6 17zm149-57l7 9-5-17-7-10zm-138 59l7-14-5-20-7 15z"/>
<path fill="#0058ff" d="M639 505l6-17-5-17-6 18zm149-57l7 10-5-17-7-10zm-138 58l7-15-5-19-7 16zm12 5l6-13-5-20-6 13zm117-55l6 9-5-18-6-10z"/>
<path fill="#0028ff" d="M645 488l7-16-5-17-7 16zm12 3l6-13-5-20-6 14zm18-4l6-11-5-21-6 11zm97-39l7 8-5-19-7-9z"/>
<path fill="#0800ff" d="M652 472l6-14-5-18-6 15zm115-44l7 9-5-18-7-10zm-79 38l6-9-5-20-6 9z"/>
<path fill="#3800ff" d="M658 458l7-12-5-18-7 12zm104-49l7 10-5-19-7-10zm-86 46l7-9-5-20-7 10zm85-35l6 8-5-19-6-9zm-60 29l6-7-5-20-6 7zm52-20l6 5-5-21-6-5z"/>
<path fill="#5000ff" d="M665 446l6-10-5-19-6 11zm18 0l6-9-5-20-6 9zm71-33l7 7-5-20-7-7zm-47 29l7-6-5-21-7 7zm7-6l6-5-5-21-6 5zm26-11l6 1-5-22-6-2zm6 1l7 3-5-21-7-4z"/>
<path fill="#6800ff" d="M671 436l7-10-5-19-7 10zm85-36l6 9-5-19-6-9zm-67 37l7-8-5-20-7 8zm7-8l6-7-5-21-6 8zm52-21l6 5-5-20-6-6zm-28 23l7-4-5-22-7 5zm7-4l6-2-5-22-6 2zm6-2l7 0-5-23-7 1z"/>
<path fill="#8000ff" d="M678 426l6-9-5-19-6 9zm71-33l7 7-5-19-7-8zm-47 29l7-7-5-20-7 6zm39-18l7 4-5-21-7-4z"/>
<path fill="#9700ff" d="M684 417l7-8-5-20-7 9zm25-2l6-5-5-21-6 6zm6-5l7-5-5-20-7 4zm7-5l6-2-5-21-6 3zm6-2l7-1-5-20-7 0zm7-1l6 2-5-21-6-1z"/>
<path fill="#af00ff" d="M691 409l6-8-5-19-6 7zm52-22l6 6-5-20-6-5z"/>
<path fill="#c700ff" d="M697 401l7-6-5-20-7 7zm7-6l6-6-5-20-6 6zm6-6l7-4-5-20-7 4zm20-7l6 1-5-19-6-2zm6 1l7 4-5-19-7-4z"/>
<path fill="#df00ff" d="M717 385l6-3-5-19-6 2zm6-3l7 0-5-20-7 1z"/>
<path fill="#2000ff" d="M769 419l6 10-5-19-6-10zm-99 47l6-11-5-19-6 10zm24-9l7-8-5-20-7 8zm65-23l7 7-5-21-7-7z"/>
<path fill="#0010ff" d="M775 429l7 9-5-17-7-11zm-112 49l7-12-5-20-7 12zm111-41l6 10-5-18-6-10zm-93 39l7-10-5-20-7 9zm85-35l6 7-5-20-6-8z"/>
<path fill="#0040ff" d="M782 438l6 10-5-17-6-10zm-2 9l7 9-5-18-7-9zm-112 51l7-11-5-21-7 12z"/>
<path fill="#00e7ff" d="M808 478l6 12-5-14-6-13zm-177 80l6-18-5-16-6 19zm175-74l7 10-5-16-7-10zm-164 72l7-15-5-18-7 17zm163-64l6 9-5-17-6-9z"/>
<path fill="#00ffe7" d="M814 490l7 13-5-13-7-14zm-190 86l7-18-5-15-7 19zm12-3l6-17-5-16-6 18z"/>
<path fill="#00ffb7" d="M821 503l7 14-5-12-7-15zm-192 86l7-16-5-15-7 18z"/>
<path fill="#00ff87" d="M828 517l6 15-5-12-6-15zm-205 87l6-15-5-13-6 16z"/>
<path fill="#00ff10" d="M841 546l6 13-5-9-6-14zm-249 101l6-13-5-10-6 13zm11-2l7-13-5-10-7 12zm241-90l7 11-5-10-7-13z"/>
<path fill="#68ff00" d="M860 580l7 8-5-7-7-9zm-288 103l7-12-5-10-7 14zm292-98l6 9-5-7-6-9z"/>
<path fill="#afff00" d="M873 594l7 6-5-6-7-7zm-314 116l7-13-5-8-7 14zm319-109l7 6-5-7-7-6zm-314 116l7-12-5-8-7 13zm313-116l6 6-5-6-6-7z"/>
<path fill="#dfff00" d="M886 606l7 6-5-5-7-7zm5 6l7 7-5-7-7-6zm-333 117l6-12-5-7-6 13zm332-116l6 6-5-7-6-5z"/>
<path fill="#38ff00" d="M579 671l6-13-5-9-6 12zm273-103l7 10-5-7-7-12zm-262 101l7-12-5-10-7 11zm267-93l7 9-5-7-7-10z"/>
<path fill="#00ff58" d="M605 622l6-14-5-12-6 15zm228-92l6 13-5-11-6-15zm-217 88l7-14-5-12-7 16z"/>
<path fill="#0070ff" d="M787 456l6 10-5-18-6-10zm-2 9l7 9-5-18-7-9z"/>
<path fill="#009fff" d="M792 474l6 9-5-17-6-10z"/>
<path fill="#ff0000" d="M471 841l7-4-5-3-7 4zm515-166l6 0-5-4-6 1zm-510 169l7-4-5-3-7 4zm7-4l6-4-5-4-6 5zm501-162l7 0-5-3-7-1zm7 0l6 0-5-3-6 0zm-510 169l7-4-5-3-7 4zm7-4l6-4-5-3-6 4zm501-162l7 0-5-3-7 0zm7 0l6 0-5-3-6 0z"/>
<path fill="#ff1800" d="M478 837l6-5-5-3-6 5zm6-5l7-5-5-3-7 5zm7-5l6-6-5-3-6 6zm475-155l7 1-5-3-7-2zm7 1l6 1-5-3-6-1zm6 1l7 1-5-3-7-1zm-490 162l7-5-5-4-7 5zm7-5l6-6-5-4-6 6zm475-156l7 2-5-4-7-1zm7 2l6 1-5-4-6-1zm-484 162l7-5-5-3-7 5zm7-5l6-5-5-4-6 6zm475-156l7 2-5-3-7-2zm7 2l6 1-5-3-6-1z"/>
<path fill="#ff3000" d="M497 821l7-6-5-4-7 7zm463-152l6 3-5-4-6-2zm-458 156l7-6-5-4-7 6zm7-6l6-7-5-4-6 7zm456-146l6 2-5-3-6-3zm-458 156l7-6-5-4-7 6zm7-6l6-7-5-4-6 7zm449-150l7 3-5-3-7-3zm7 3l6 2-5-3-6-2z"/>
<path fill="#ff4800" d="M504 815l6-7-5-5-6 8zm6-7l7-8-5-4-7 7zm437-145l6 3-5-3-6-4zm6 3l7 3-5-3-7-3zm-438 146l7-8-5-4-7 8zm437-146l6 4-5-4-6-3zm6 4l7 3-5-4-7-3zm-438 146l7-7-5-5-7 8zm437-146l6 3-5-3-6-4z"/>
<path fill="#ff6000" d="M517 800l6-8-5-5-6 9zm423-141l7 4-5-4-7-4zm-418 145l6-8-5-4-6 8zm423-141l7 3-5-3-7-4zm-418 146l6-9-5-4-6 8zm423-142l7 3-5-4-7-3z"/>
<path fill="#ff7800" d="M523 792l7-9-5-4-7 8zm411-138l6 5-5-4-6-5zm-406 142l7-9-5-4-7 9zm411-138l6 5-5-4-6-5zm-406 142l7-9-5-4-7 9zm411-137l6 4-5-4-6-5z"/>
<path fill="#ff8f00" d="M530 783l6-9-5-4-6 9zm397-134l7 5-5-4-7-6zm-392 138l6-9-5-4-6 9zm397-133l7 4-5-4-7-5zm-392 137l6-9-5-4-6 9zm391-136l6 4-5-5-6-4zm6 4l7 4-5-5-7-4z"/>
<path fill="#ffa700" d="M536 774l7-10-5-3-7 9zm385-130l6 5-5-5-6-6zm-380 134l7-10-5-4-7 10zm385-128l6 4-5-5-6-5zm-380 132l7-9-5-5-7 10zm378-131l7 4-5-5-7-5z"/>
<path fill="#ffbf00" d="M543 764l6-9-5-4-6 10zm371-126l7 6-5-6-7-6zm-366 130l6-9-5-4-6 9zm371-123l7 5-5-6-7-6zm-366 128l6-10-5-4-6 9zm365-127l6 5-5-6-6-6z"/>
<path fill="#ffd700" d="M549 755l7-10-5-5-7 11zm359-123l6 6-5-6-6-7zm-354 127l7-9-5-5-7 10zm359-120l6 6-5-7-6-6zm-354 124l7-8-5-5-7 9zm352-123l7 6-5-7-7-6z"/>
<path fill="#ffef00" d="M556 745l7-11-5-5-7 11zm345-119l7 6-5-7-7-6zm-340 124l7-10-5-6-7 11zm345-117l7 6-5-7-7-6zm-340 122l7-9-5-6-7 10zm339-122l6 7-5-7-6-6z"/>
<path fill="#dfff00" d="M563 734l6-10-5-7-6 12zm332-114l6 6-5-7-6-6zm-321 111l7-10-5-8-7 11zm319-111l7 7-5-7-7-6zm-314 118l7-9-5-8-7 10zm319-112l7 7-5-6-7-7z"/>
<path fill="#c7ff00" d="M569 724l7-11-5-8-7 12zm319-110l7 6-5-7-7-6zm-307 107l6-10-5-9-6 11zm306-108l6 7-5-6-6-7zm-301 116l6-9-5-9-6 10zm306-110l6 7-5-6-6-7z"/>
<path fill="#afff00" d="M576 713l6-11-5-9-6 12zm306-106l6 7-5-7-6-6zm-290 113l7-10-5-9-7 10zm293-108l7 7-5-6-7-7z"/>
<path fill="#97ff00" d="M582 702l7-11-5-10-7 12zm293-102l7 7-5-6-7-7zm-288 111l7-10-5-10-7 11zm293-105l7 7-5-6-7-7zm-281 104l6-11-5-10-6 12zm280-104l6 6-5-6-6-7z"/>
<path fill="#68ff00" d="M589 691l6-12-5-10-6 12zm280-99l6 8-5-6-6-9zm-269 97l7-12-5-10-7 12zm267-97l7 7-5-7-7-8zm5 8l7 6-5-7-7-7z"/>
<path fill="#50ff00" d="M595 679l7-12-5-10-7 12zm267-95l7 8-5-7-7-9zm-250 103l6-13-5-10-6 13zm254-93l6 6-5-8-6-7z"/>
<path fill="#20ff00" d="M602 667l6-12-5-10-6 12zm11-3l7-13-5-9-7 13zm241-86l7 7-5-9-7-9zm-2 6l7 5-5-11-6-7z"/>
<path fill="#08ff00" d="M608 655l7-13-5-10-7 13zm241-88l7 9-5-10-7-11zm-1 4l6 7-5-11-6-10zm-223 90l6-13-5-10-6 13zm221-83l6 6-4-13-7-8z"/>
<path fill="#00ff28" d="M615 642l6-14-5-10-6 14zm228-85l6 10-5-12-6-11zm-217 81l7-13-5-10-7 13zm215-75l7 8-5-14-7-9zm-203 73l6-11-5-12-6 12zm201-66l7 8-5-15-7-8z"/>
<path fill="#00ff40" d="M621 628l7-13-5-11-7 14zm215-80l7 9-5-13-7-12zm-2 7l7 8-5-15-7-10zm-1 7l6 8-5-15-6-10z"/>
<path fill="#00ff70" d="M628 615l6-14-5-12-6 15zm201-77l7 10-5-16-7-10zm-190 75l7-12-5-14-7 14zm189-68l6 10-5-17-6-10zm-177 70l6-10-5-16-6 12zm175-63l7 10-5-17-7-9z"/>
<path fill="#00ff9f" d="M634 601l7-14-5-14-7 16zm189-73l6 10-5-16-6-11zm-177 73l6-12-5-16-6 14zm175-65l7 9-5-17-7-9zm-157 59l6-11-5-19-6 12z"/>
<path fill="#00ffb7" d="M641 587l6-14-5-17-6 17zm11 2l7-12-5-18-7 14zm163-63l6 10-5-17-6-10zm-2 7l7 10-5-17-7-9z"/>
<path fill="#00ffe7" d="M647 573l7-14-5-18-7 15zm163-64l6 10-5-18-6-9zm-151 68l6-12-5-20-6 14zm149-60l7 9-5-17-7-9zm-131 56l6-11-5-21-6 12z"/>
<path fill="#00e7ff" d="M654 559l6-14-5-20-6 16zm149-59l7 9-5-17-7-9zm-9 11l6 6-5-17-6-7z"/>
<path fill="#00b7ff" d="M660 545l7-13-5-21-7 14zm18-4l7-12-5-21-7 11zm111-48l6 7-5-18-6-7zm-93 45l7-12-5-20-7 11zm85-35l6 3-5-19-6-5z"/>
<path fill="#009fff" d="M667 532l6-13-5-21-6 13zm123-50l7 9-5-17-7-9zm-105 47l6-12-5-20-6 11zm97-42l7 6-5-18-7-7zm-79 39l6-10-5-19-6 9zm71-26l7 3-5-21-7-4z"/>
<path fill="#0070ff" d="M673 519l7-11-5-21-7 11zm18-2l7-11-5-20-7 11zm85-35l6 5-5-19-6-7zm-60 26l6-6-5-20-6 7zm6-6l7-5-5-20-7 5zm26-8l7 1-5-24-7 0zm7 1l6 1-5-23-6-2z"/>
<path fill="#0058ff" d="M680 508l6-11-5-21-6 11zm97-40l7 7-5-19-7-8zm-79 38l6-9-5-20-6 9zm65-31l6 3-5-22-6-4zm6 3l7 4-5-21-7-5zm-40 19l6-2-5-22-6 4zm6-2l7-1-5-23-7 2zm7-1l6 0-5-23-6 0z"/>
<path fill="#0040ff" d="M686 497l7-11-5-20-7 10zm85-36l6 7-5-20-6-7zm-67 36l7-8-5-20-7 8zm7-8l6-7-5-20-6 7zm45-16l7 2-5-23-7-3z"/>
<path fill="#0028ff" d="M693 486l6-9-5-20-6 9zm71-30l7 5-5-20-7-7zm-47 26l7-5-5-21-7 6zm7-5l6-4-5-21-6 4zm6-4l7-2-5-22-7 3zm7-2l6 0-5-23-6 1zm6 0l7 0-5-23-7 0zm7 0l6 2-5-24-6-1z"/>
<path fill="#0010ff" d="M699 477l7-8-5-20-7 8zm59-25l6 4-5-22-6-5z"/>
<path fill="#0800ff" d="M706 469l6-7-5-20-6 7zm6-7l7-6-5-20-7 6zm33-14l6 1-5-23-6-1zm6 1l7 3-5-23-7-3z"/>
<path fill="#2000ff" d="M719 456l6-4-5-21-6 5zm6-4l7-3-5-22-7 4zm7-3l6-1-5-23-6 2zm6-1l7 0-5-23-7 0z"/>
<path fill="#0087ff" d="M784 475l6 7-5-17-6-9zm-75 41l7-8-5-19-7 8zm52-20l7 2-5-23-7-2zm7 2l6 2-5-22-6-3z"/>
<path fill="#00cfff" d="M797 491l6 9-5-17-6-9zm-125 62l6-12-5-22-6 13zm123-53l7 8-5-17-7-9zm-105 50l6-12-5-21-6 12zm97-44l7 5-5-18-7-6z"/>
<path fill="#00ffcf" d="M816 519l7 9-5-17-7-10zm-146 65l7-11-5-20-7 12zm137-60l6 9-5-16-6-9z"/>
<path fill="#38ff00" d="M856 576l6 8-5-8-6-10zm-249 101l6-13-5-9-6 12zm254-92l6 7-5-8-6-8zm-243 89l7-13-5-10-7 13zm241-85l7 5-5-9-7-7z"/>
<path fill="#f7ff00" d="M568 740l6-9-5-7-6 10zm332-113l6 6-5-7-6-6zm-327 119l6-8-5-7-6 9z"/>
<path fill="#80ff00" d="M594 701l6-12-5-10-6 12zm280-102l6 7-5-6-6-8zm-269 100l7-12-5-10-7 12z"/>
<path fill="#00ff10" d="M620 651l6-13-5-10-6 14zm11-3l7-12-5-11-7 13z"/>
<path fill="#00ff58" d="M633 625l6-12-5-12-6 14zm11 0l7-10-5-14-7 12z"/>
<path fill="#00ffff" d="M665 565l7-12-5-21-7 13zm137-57l6 9-5-17-6-9zm-119 54l7-12-5-21-7 12zm117-45l7 7-5-16-7-8z"/>
<path fill="#00ff87" d="M657 605l7-10-5-18-7 12zm163-62l6 9-5-16-6-10z"/>
<path fill="#ff0000" d="M486 850l7-4-5-3-7 4zm7-4l6-4-5-3-6 4zm501-162l7 0-5-3-7 0zm7 0l6 0-5-3-6 0zm-510 169l7-4-5-3-7 4zm7-4l6-4-5-3-6 4zm501-162l7 0-5-3-7 0zm7 0l6 0-5-3-6 0zm-510 169l7-4-5-3-7 4zm7-4l6-3-5-4-6 4zm501-161l7-1-5-3-7 0zm7-1l6 0-5-3-6 0z"/>
<path fill="#ff1800" d="M499 842l7-4-5-4-7 5zm7-4l6-6-5-3-6 5zm475-156l7 1-5-3-7-2zm7 1l6 1-5-3-6-1zm-484 162l7-4-5-3-7 4zm7-4l6-5-5-4-6 6zm6-5l7-6-5-3-7 5zm469-150l7 1-5-4-7-1zm7 1l6 0-5-3-6-1zm-484 162l7-5-5-3-7 4zm7-5l6-5-5-3-6 5zm6-5l7-5-5-4-7 6zm463-151l6 1-5-3-6-2zm6 1l7 1-5-3-7-1zm7 1l6 1-5-4-6 0z"/>
<path fill="#ff3000" d="M512 832l7-5-5-4-7 6zm7-5l6-7-5-4-6 7zm449-150l7 3-5-4-7-3zm7 3l6 2-5-4-6-2zm-451 150l6-6-5-4-6 7zm449-149l7 3-5-4-7-3zm7 3l6 2-5-4-6-2zm-451 150l6-6-5-4-6 6zm6-6l7-7-5-4-7 7zm443-143l7 3-5-4-7-3z"/>
<path fill="#ff4800" d="M525 820l7-7-5-4-7 7zm437-146l6 3-5-4-6-3zm-432 150l7-7-5-4-7 7zm7-7l6-8-5-4-6 8zm430-139l6 3-5-4-6-3zm-425 143l6-7-5-5-6 8zm423-141l7 3-5-5-7-3zm7 3l6 2-5-4-6-3z"/>
<path fill="#ff6000" d="M532 813l6-8-5-5-6 9zm6-8l7-9-5-5-7 9zm411-137l6 3-5-4-6-4zm6 3l7 3-5-4-7-3zm-412 138l7-8-5-5-7 9zm411-137l6 3-5-4-6-3zm6 3l7 3-5-4-7-3zm-412 139l7-9-5-4-7 8zm411-137l6 3-5-5-6-3z"/>
<path fill="#ff7800" d="M545 796l6-9-5-5-6 9zm397-132l7 4-5-5-7-4zm-392 137l6-9-5-5-6 9zm397-132l7 3-5-4-7-4zm-392 136l6-8-5-5-6 9zm391-135l6 4-5-5-6-3zm6 4l7 3-5-5-7-3z"/>
<path fill="#ff8f00" d="M551 787l7-10-5-4-7 9zm385-127l6 4-5-5-6-4zm-380 132l7-9-5-6-7 10zm385-126l6 3-5-5-6-4zm-380 131l7-9-5-5-7 9zm378-130l7 3-5-4-7-4z"/>
<path fill="#ffa700" d="M558 777l6-9-5-5-6 10zm371-121l7 4-5-5-7-4zm-366 127l6-9-5-6-6 9zm365-126l6 5-5-6-6-4zm6 5l7 4-5-6-7-4zm-366 126l6-8-5-6-6 9zm365-125l6 4-5-5-6-5z"/>
<path fill="#ffbf00" d="M564 768l7-8-5-5-7 8zm359-116l6 4-5-5-6-5zm-354 122l7-8-5-6-7 8zm352-122l7 5-5-5-7-6zm-347 128l7-8-5-6-7 8zm7-8l7-8-5-6-7 8zm345-114l7 5-5-6-7-5z"/>
<path fill="#ffd700" d="M571 760l7-8-5-6-7 9zm345-114l7 6-5-6-7-6zm-340 120l7-8-5-6-7 8zm339-120l6 6-5-6-6-6zm-327 118l6-7-5-6-6 7zm332-112l6 6-5-6-6-6z"/>
<path fill="#ffef00" d="M578 752l6-8-5-6-6 8zm332-112l6 6-5-6-6-7zm-327 118l6-7-5-7-6 8zm6-7l7-8-5-7-7 8zm5 6l7-8-5-6-7 8zm319-111l7 6-5-6-7-6z"/>
<path fill="#f7ff00" d="M584 744l7-8-5-7-7 9zm319-111l7 7-5-7-7-7zm-307 110l6-8-5-7-6 8zm312-103l7 6-5-6-7-7zm-307 109l6-8-5-6-6 8zm306-108l6 5-5-6-6-7z"/>
<path fill="#dfff00" d="M591 736l6-8-5-8-6 9zm306-110l6 7-5-7-6-7zm-295 109l7-9-5-7-7 9zm300-102l6 7-5-7-6-7zm-295 108l7-8-5-7-7 9zm293-106l7 6-5-8-7-6z"/>
<path fill="#c7ff00" d="M597 728l7-9-5-9-7 10zm12-2l6-10-5-8-6 11zm286-99l7 6-5-7-7-7zm-281 106l6-9-5-8-6 10zm280-103l6 5-5-8-6-6z"/>
<path fill="#afff00" d="M604 719l6-11-5-9-6 11zm286-100l7 7-5-7-7-7zm-275 97l7-11-5-9-7 12zm274-95l6 6-5-8-6-6zm-269 103l7-11-5-8-7 11zm267-98l7 4-5-9-7-4z"/>
<path fill="#97ff00" d="M610 708l7-12-5-9-7 12zm274-95l6 6-5-7-6-6zm-2 4l7 4-5-8-7-5zm-255 96l6-11-5-9-6 12zm254-90l6 3-5-9-6-4z"/>
<path fill="#68ff00" d="M617 696l6-13-5-9-6 13zm254-92l6 4-5-8-6-6zm-243 89l7-12-5-10-7 12zm241-83l7 3-5-9-7-4zm-229 81l6-10-5-12-6 12zm221-77l6 3-5-10-6-4zm6 3l7 3-5-10-7-3z"/>
<path fill="#50ff00" d="M623 683l7-12-5-10-7 13zm241-83l7 4-5-10-7-5zm-2 7l7 3-5-10-7-4zm-8 2l7 5-5-11-7-5z"/>
<path fill="#20ff00" d="M630 671l6-13-5-10-6 13zm221-80l6 5-5-12-6-6zm-210 78l7-10-5-12-7 11zm208-71l7 5-5-12-7-6zm-196 73l6-8-5-13-6 9zm6-8l7-8-5-13-7 8z"/>
<path fill="#08ff00" d="M636 658l7-11-5-11-7 12zm208-73l7 6-5-13-7-8zm-196 74l6-9-5-13-6 10zm195-68l6 7-5-13-6-8zm-177 64l6-7-5-13-6 7zm175-59l7 7-5-12-7-8z"/>
<path fill="#00ff10" d="M643 647l6-10-5-12-6 11zm195-70l6 8-5-15-6-8zm-184 73l7-8-5-14-7 9zm182-67l7 8-5-14-7-9zm-164 65l7-6-5-15-7 8zm163-59l6 7-5-13-6-9z"/>
<path fill="#00ff28" d="M649 637l7-9-5-13-7 10zm12 5l6-7-5-15-6 8zm18 0l6-8-5-15-6 8zm6-8l7-8-5-16-7 9zm143-53l7 8-5-15-7-9z"/>
<path fill="#00ff40" d="M656 628l6-8-5-15-6 10zm175-60l7 9-5-15-7-10zm-164 67l7-8-5-15-7 8zm7-8l6-8-5-16-6 9zm156-53l6 9-5-15-6-9zm-138 52l6-10-5-16-6 10z"/>
<path fill="#00ff58" d="M662 620l7-8-5-17-7 10zm163-61l6 9-5-16-6-9zm-145 60l7-9-5-17-7 10zm143-54l7 9-5-15-7-10zm-1 10l6 6-5-16-6-7z"/>
<path fill="#00ff70" d="M669 612l6-9-5-19-6 11zm18-2l6-10-5-19-6 12zm11 6l7-10-5-17-7 11zm117-47l7 6-5-17-7-7z"/>
<path fill="#00ff87" d="M675 603l7-10-5-20-7 11zm143-54l7 10-5-16-7-10zm-1 9l6 7-5-16-6-8zm-112 48l6-11-5-18-6 12zm104-41l6 4-5-18-6-4z"/>
<path fill="#00ffb7" d="M682 593l6-12-5-19-6 11zm130-52l6 8-5-16-6-9zm-112 48l6-12-5-19-6 12zm104-42l6 4-5-17-6-5zm-86 38l6-10-5-20-6 11zm65-26l6 1-5-19-6-1zm6 1l7 1-5-19-7-1z"/>
<path fill="#00ffcf" d="M688 581l7-11-5-20-7 12zm117-47l7 7-5-17-7-7zm-99 43l7-11-5-20-7 12zm91-33l7 3-5-18-7-4zm-73 31l7-8-5-20-7 8zm46-19l6 2-5-19-6-1zm6 2l7 1-5-19-7-1z"/>
<path fill="#00ffe7" d="M695 570l6-12-5-20-6 12zm104-41l6 5-5-17-6-6zm-21 11l6 1-5-20-6-1zm6 1l7 1-5-19-7-2zm7 1l6 2-5-19-6-2zm-60 25l6-6-5-20-6 6zm6-6l7-4-5-20-7 4zm7-4l6-3-5-19-6 2zm6-3l7 0-5-19-7 0zm7 0l6 1-5-19-6-1zm6 1l7 1-5-18-7-2z"/>
<path fill="#00e7ff" d="M701 558l7-12-5-20-7 12zm78-37l7 2-5-20-7-3zm7 2l6 2-5-19-6-3zm-67 32l7-8-5-19-7 8zm7-8l6-6-5-20-6 7zm26-12l6 1-5-20-6-1zm6 1l7 2-5-21-7-1z"/>
<path fill="#00cfff" d="M708 546l6-10-5-20-6 10zm65-26l6 1-5-21-6-2zm-41 21l7-4-5-20-7 4zm7-4l6-2-5-20-6 2zm6-2l7 0-5-20-7 0z"/>
<path fill="#00b7ff" d="M714 536l7-8-5-20-7 8zm39-20l7 1-5-22-7-1zm7 1l6 1-5-22-6-1zm6 1l7 2-5-22-7-2z"/>
<path fill="#009fff" d="M721 528l6-7-5-19-6 6zm6-7l7-4-5-20-7 5zm7-4l6-2-5-20-6 2zm6-2l7 0-5-21-7 1zm7 0l6 1-5-22-6 0z"/>
<path fill="#00ffff" d="M792 525l7 4-5-18-7-5zm-79 41l6-11-5-19-6 10zm52-28l6 1-5-21-6-1zm6 1l7 1-5-20-7-2z"/>
<path fill="#38ff00" d="M857 596l7 4-5-11-7-5zm-222 85l6-12-5-11-6 13zm221-78l6 4-5-11-6-5zm-210 78l7-10-5-12-7 10zm202-78l6 6-5-11-6-7z"/>
<path fill="#80ff00" d="M877 608l7 5-5-7-7-6zm-255 97l6-12-5-10-6 13zm254-92l6 4-5-9-6-4zm-243 89l7-11-5-10-7 12zm241-82l7 3-5-10-7-3z"/>
<path fill="#00ff9f" d="M693 600l7-11-5-19-7 11zm117-49l7 7-5-17-7-7zm-99 44l7-10-5-19-7 11zm85-34l6 2-5-19-6-2zm6 2l7 2-5-18-7-3z"/>
<path fill="#ff0000" d="M501 859l7-4-5-3-7 4zm7-4l6-3-5-3-6 3zm6-3l7-4-5-4-7 5zm489-158l6 0-5-3-6-1zm6 0l7-1-5-3-7 1zm7-1l6 0-5-3-6 0zm-510 169l7-3-5-4-7 4zm7-3l6-4-5-3-6 3zm6-4l7-4-5-3-7 4zm489-158l6 0-5-3-6 0zm6 0l7 0-5-4-7 1zm7 0l6-1-5-3-6 0zm-510 168l7-3-5-3-7 3zm7-3l6-4-5-3-6 4zm6-4l7-4-5-3-7 4zm489-158l6 0-5-3-6 0zm6 0l7 0-5-3-7 0zm7 0l6-1-5-3-6 1z"/>
<path fill="#ff1800" d="M521 848l6-5-5-4-6 5zm6-5l7-5-5-4-7 5zm463-151l6 1-5-4-6-1zm6 1l7 1-5-4-7-1zm-470 158l6-5-5-3-6 5zm6-5l7-5-5-3-7 5zm463-150l6 1-5-4-6-1zm6 1l7 0-5-3-7-1zm-470 157l6-4-5-4-6 5zm6-4l7-5-5-4-7 5zm7-5l6-6-5-3-6 5zm449-147l7 1-5-3-7-2zm7 1l6 1-5-3-6-1zm6 1l7 0-5-3-7 0z"/>
<path fill="#ff3000" d="M534 838l6-6-5-4-6 6zm6-6l7-7-5-4-7 7zm437-145l6 3-5-5-6-2zm6 3l7 2-5-4-7-3zm-444 151l6-5-5-4-6 6zm6-5l7-7-5-4-7 7zm437-144l6 2-5-4-6-3zm6 2l7 2-5-4-7-2zm-438 145l7-6-5-4-7 7zm437-143l6 2-5-4-6-2z"/>
<path fill="#ff4800" d="M547 825l6-7-5-4-6 7zm423-140l7 2-5-4-7-3zm-418 144l6-6-5-5-6 7zm6-6l7-8-5-5-7 8zm411-136l6 2-5-4-6-3zm6 2l7 3-5-5-7-2zm-418 144l6-6-5-4-6 6zm6-6l7-7-5-5-7 8zm411-136l6 3-5-5-6-2zm6 3l7 2-5-4-7-3z"/>
<path fill="#ff6000" d="M553 818l7-8-5-5-7 9zm404-139l7 3-5-5-7-3zm7 3l6 3-5-5-6-3zm-399 133l6-7-5-6-6 8zm397-132l7 4-5-5-7-3zm-392 137l6-7-5-5-6 7zm397-132l7 3-5-4-7-4z"/>
<path fill="#ff7800" d="M560 810l6-8-5-5-6 8zm6-8l7-8-5-6-7 9zm385-127l6 4-5-5-6-4zm-380 133l7-8-5-6-7 8zm385-128l6 3-5-4-6-4zm-380 133l7-7-5-6-7 8zm7-7l6-8-5-6-6 8zm371-125l7 4-5-5-7-4zm7 4l6 3-5-5-6-3z"/>
<path fill="#ff8f00" d="M573 794l6-8-5-6-6 8zm371-122l7 3-5-5-7-3zm-366 128l6-8-5-6-6 8zm365-127l6 3-5-4-6-4zm6 3l7 4-5-5-7-3zm-360 122l7-8-5-6-7 8zm359-120l6 3-5-5-6-3z"/>
<path fill="#ffa700" d="M579 786l7-8-5-6-7 8zm359-118l6 4-5-5-6-4zm-354 124l7-8-5-6-7 8zm7-8l7-8-5-6-7 8zm345-115l7 4-5-5-7-5zm-340 121l6-8-4-6-7 8zm345-116l7 4-5-5-7-4z"/>
<path fill="#ffbf00" d="M586 778l7-8-5-6-7 8zm345-115l7 5-5-5-7-5zm-333 113l6-8-5-5-6 7zm332-112l6 5-5-6-6-5zm-328 118l7-8-5-6-6 8zm333-112l6 4-5-5-6-5z"/>
<path fill="#ffd700" d="M593 770l6-7-5-6-6 7zm6-7l7-8-5-6-7 8zm326-105l6 5-5-5-6-6zm-321 110l7-7-5-6-7 8zm319-108l7 4-5-6-7-5zm-314 114l7-8-5-5-7 7zm7-8l6-7-5-6-6 8zm306-102l6 3-5-7-6-4zm6 3l7 3-5-6-7-4z"/>
<path fill="#ffef00" d="M606 755l6-8-5-6-6 8zm312-102l7 5-5-6-7-6zm-307 108l6-8-5-6-6 8zm306-105l6 4-5-7-6-5zm-295 103l7-8-5-6-7 8zm293-99l7 4-5-8-7-4z"/>
<path fill="#f7ff00" d="M612 747l7-8-5-6-7 8zm300-99l6 5-5-7-6-5zm-295 105l7-8-5-6-7 8zm7-8l6-8-5-7-6 9zm286-93l7 4-5-8-7-5zm-281 99l6-8-5-6-6 8zm280-94l6 3-5-8-6-4z"/>
<path fill="#dfff00" d="M619 739l6-9-5-6-6 9zm286-96l7 5-5-7-7-6zm-275 94l7-8-5-8-7 9zm274-89l6 4-5-9-6-4zm-269 95l7-7-5-7-7 8zm267-90l7 4-5-9-7-4z"/>
<path fill="#c7ff00" d="M625 730l7-9-5-8-7 11zm274-91l6 4-5-8-6-5zm-262 90l6-9-5-9-6 10zm254-88l6 3-5-9-6-3zm6 3l7 4-5-9-7-4zm-255 92l6-7-5-9-6 9zm6-7l7-7-5-10-7 8zm241-83l7 4-5-9-7-3zm7 4l6 3-5-9-6-3z"/>
<path fill="#afff00" d="M632 721l6-10-5-9-6 11zm254-89l6 3-5-9-6-3zm6 3l7 4-5-9-7-4zm-249 85l7-8-5-10-7 9zm241-82l7 3-5-9-7-3zm-229 84l6-7-5-11-6 8zm227-79l7 3-5-8-7-3z"/>
<path fill="#97ff00" d="M638 711l7-9-5-11-7 11zm241-82l7 3-5-9-7-3zm-229 83l6-8-5-12-6 10zm227-77l7 3-5-9-7-3zm-216 80l7-8-5-11-7 8zm215-76l6 4-5-8-6-4z"/>
<path fill="#80ff00" d="M645 702l6-10-5-11-6 10zm221-79l6 3-5-9-6-3zm6 3l7 3-5-9-7-3zm-216 78l7-8-5-13-7 9zm208-76l7 3-5-8-7-4zm7 3l6 4-5-9-6-3zm-203 76l6-7-5-12-6 8zm6-7l7-8-5-11-7 7zm189-67l6 3-5-8-6-4zm6 3l7 3-5-8-7-3z"/>
<path fill="#68ff00" d="M651 692l7-9-5-12-7 10zm208-73l7 4-5-9-7-5zm-196 77l6-8-5-13-6 8zm195-72l6 4-5-9-6-5zm-177 68l6-7-5-12-6 8zm175-62l7 3-5-9-7-4z"/>
<path fill="#50ff00" d="M658 683l6-8-5-12-6 8zm195-69l6 5-5-10-6-6zm-184 74l7-7-5-13-7 7zm7-7l6-8-5-12-6 7zm175-61l7 4-5-10-7-5zm-164 65l7-8-5-11-7 7zm163-57l6 2-5-10-6-4z"/>
<path fill="#38ff00" d="M664 675l7-7-5-13-7 8zm182-66l7 5-5-11-7-7zm-164 64l7-7-5-11-7 6zm163-57l6 4-5-11-6-6zm-151 61l6-7-5-11-6 7zm6-7l7-7-5-11-7 7zm137-47l6 3-5-14-6-4zm6 3l7 2-5-12-7-4z"/>
<path fill="#20ff00" d="M671 668l6-7-5-13-6 7zm6-7l7-6-5-13-7 6zm163-58l6 6-5-13-6-7zm-151 63l6-7-5-12-6 8zm6-7l7-7-5-12-7 7zm143-47l7 4-5-13-7-6zm-131 51l6-6-5-13-6 8zm123-42l7 2-5-15-7-4z"/>
<path fill="#08ff00" d="M684 655l6-8-5-13-6 8zm18-3l6-8-5-13-6 9zm130-44l6 4-5-15-6-6zm-119 49l7-7-5-13-7 7zm7-7l6-6-5-15-6 8zm97-35l7 3-5-17-7-2zm7 3l6 3-5-17-6-3z"/>
<path fill="#00ff10" d="M690 647l7-7-5-14-7 8zm143-50l7 6-5-14-7-8zm-125 47l7-7-5-15-7 9zm117-40l7 4-5-17-7-4zm-99 40l7-6-5-17-7 8zm85-32l6 3-5-16-6-3z"/>
<path fill="#00ff28" d="M697 640l6-9-5-15-6 10zm130-49l6 6-5-16-6-6zm-112 46l6-8-5-16-6 9zm97-38l7 2-5-18-7-2zm7 2l6 3-5-17-6-4zm-86 37l6-7-5-18-6 8zm6-7l7-6-5-19-7 7zm59-25l6 3-5-15-6-2zm6 3l7 3-5-16-7-2z"/>
<path fill="#00ff40" d="M703 631l7-9-5-16-7 10zm117-44l7 4-5-16-7-6zm-99 42l7-8-5-18-7 10zm85-33l6 3-5-18-6-2zm-60 29l6-7-5-18-6 6zm39-23l6 2-5-14-6-2zm6 2l7 2-5-14-7-2z"/>
<path fill="#00ff58" d="M710 622l6-9-5-18-6 11zm104-39l6 4-5-18-6-4zm-86 38l6-8-5-19-6 9zm65-29l6 2-5-16-6-2zm6 2l7 2-5-17-7-1zm-47 24l7-6-5-18-7 6zm7-6l6-5-5-16-6 3zm6-5l7-3-5-16-7 3zm7-3l6-2-5-14-6 0zm6-2l7 0-5-14-7 0z"/>
<path fill="#00ff70" d="M716 613l7-10-5-18-7 10zm85-34l6 2-5-18-6-2zm6 2l7 2-5-18-7-2zm-73 32l7-7-5-19-7 7zm7-7l6-6-5-20-6 7zm39-18l6 2-5-15-6-2zm6 2l7 2-5-16-7-1z"/>
<path fill="#00ff87" d="M723 603l6-9-5-19-6 10zm58-28l7 1-5-17-7-1zm7 1l6 2-5-18-6-1zm6 2l7 1-5-18-7-1zm-47 22l7-6-5-18-7 4zm7-6l6-3-5-18-6 3zm6-3l7-3-5-16-7 1zm7-3l6 0-5-16-6 0zm6 0l7 0-5-15-7-1z"/>
<path fill="#00ff9f" d="M729 594l7-7-5-20-7 8zm39-22l7 1-5-17-7-1zm7 1l6 2-5-17-6-2z"/>
<path fill="#00ffb7" d="M736 587l6-7-5-19-6 6zm6-7l7-4-5-19-7 4zm7-4l6-3-5-19-6 3zm6-3l7-1-5-18-7 0zm7-1l6 0-5-17-6-1z"/>
<path fill="#ff0000" d="M516 868l7-3-5-3-7 3zm7-3l6-4-5-3-6 4zm6-4l7-3-5-4-7 4zm7-3l6-5-5-3-6 4zm475-154l7 0-5-4-7 0zm7 0l6-1-5-3-6 0zm6-1l7 0-5-3-7 0zm7 0l6-2-5-2-6 1zm-510 168l7-3-5-3-7 3zm7-3l6-3-5-4-6 4zm6-3l7-4-5-3-7 3zm7-4l6-4-5-4-6 5zm475-154l7 0-5-3-7 0zm7 0l6 0-5-4-6 1zm6 0l7-1-5-3-7 0zm7-1l6-2-5-3-6 2zm-510 168l7-3-5-3-7 3zm7-3l6-3-5-3-6 3zm6-3l7-4-5-3-7 4zm7-4l6-4-5-3-6 4zm475-153l7 0-5-4-7 0zm7 0l6-1-5-3-6 0zm6-1l7-1-5-3-7 1zm7-1l6-2-5-3-6 2z"/>
<path fill="#ff1800" d="M542 853l7-4-5-4-7 5zm7-4l6-6-5-4-6 6zm449-147l7 1-5-4-7-1zm7 1l6 1-5-4-6-1zm-458 154l7-5-5-3-7 4zm7-5l6-5-5-4-6 6zm443-147l6 1-5-4-6-1zm6 1l7 1-5-4-7-1zm7 1l6 0-5-3-6-1zm-458 153l7-4-5-4-7 5zm7-4l6-5-5-4-6 5zm6-5l7-5-5-4-7 5zm437-142l6 1-5-4-6-1zm6 1l7 1-5-4-7-1zm7 1l6 0-5-4-6 0z"/>
<path fill="#ff3000" d="M555 843l7-5-5-5-7 6zm7-5l6-6-5-5-6 6zm423-139l7 2-5-5-7-2zm7 2l6 1-5-4-6-2zm-432 146l7-5-5-4-7 5zm7-5l6-6-5-4-6 6zm423-139l7 2-5-4-7-2zm-418 143l6-5-5-5-6 6zm6-5l7-6-5-5-7 6zm411-135l6 2-5-5-6-2zm6 2l7 1-5-4-7-2z"/>
<path fill="#ff4800" d="M568 832l7-7-5-5-7 7zm411-136l6 3-5-5-6-3zm-406 140l7-6-5-5-7 7zm7-6l6-6-5-5-6 6zm397-132l7 3-5-5-7-3zm7 3l6 2-5-4-6-3zm-399 134l6-6-5-5-6 6zm6-6l7-7-5-5-7 7zm391-126l7 3-5-5-7-3z"/>
<path fill="#ff6000" d="M575 825l6-6-5-6-6 7zm6-6l7-7-5-6-7 7zm385-129l6 3-5-5-6-3zm6 3l7 3-5-5-7-3zm-386 131l7-7-5-5-7 7zm385-129l6 3-5-5-6-3zm-373 127l6-6-5-6-6 7zm371-125l7 3-5-5-7-3zm7 3l6 3-5-5-6-3z"/>
<path fill="#ff7800" d="M588 812l6-8-5-6-6 8zm371-126l7 4-5-5-7-4zm-366 131l6-7-5-6-6 8zm6-7l7-8-5-6-7 8zm359-121l6 3-5-6-6-3zm6 3l7 3-5-5-7-4zm-360 124l7-8-5-6-7 8zm359-122l6 3-5-5-6-3z"/>
<path fill="#ff8f00" d="M594 804l7-8-5-6-7 8zm359-121l6 3-5-5-6-3zm-347 119l6-7-5-7-6 8zm345-117l7 4-5-6-7-3zm-340 123l6-7-5-6-6 7zm6-7l7-8-5-6-7 8zm333-112l6 3-5-7-6-2zm6 3l7 2-5-5-7-4z"/>
<path fill="#ffa700" d="M601 796l6-8-5-6-6 8zm6-8l7-8-5-6-7 8zm333-111l6 3-5-6-6-4zm6 3l7 3-5-5-7-4zm-334 115l7-8-5-7-7 8zm333-112l6 2-5-5-6-3zm-321 110l7-8-5-7-7 9zm319-106l7 2-5-6-7-3z"/>
<path fill="#ffbf00" d="M614 780l7-8-5-6-7 8zm319-106l7 3-5-7-7-3zm-314 113l7-9-5-6-7 8zm313-109l6 2-5-6-6-3zm6 2l7 3-5-6-7-3zm-307 105l6-8-5-6-6 7zm299-102l7 2-5-7-7-2zm7 2l6 2-5-7-6-2z"/>
<path fill="#ffd700" d="M621 772l6-8-5-5-6 7zm306-101l6 3-5-7-6-3zm-301 107l6-7-5-7-6 8zm6-7l7-8-5-6-7 7zm293-95l7 2-5-7-7-3zm-288 101l7-7-5-7-7 8zm7-7l6-6-5-7-6 6zm280-90l6 3-5-7-6-3z"/>
<path fill="#ffef00" d="M627 764l7-7-5-6-7 8zm7-7l6-7-5-7-6 8zm280-92l6 3-5-8-6-3zm6 3l7 3-5-7-7-4zm-281 95l6-6-5-7-6 7zm273-93l7 3-5-8-7-3zm7 3l6 3-5-8-6-3zm-269 91l7-6-5-7-7 6zm7-6l6-5-5-8-6 6zm253-84l7 4-5-8-6-3zm7 4l7 2-5-7-7-3z"/>
<path fill="#f7ff00" d="M640 750l7-7-5-7-7 7zm267-88l7 3-5-8-7-4zm-262 95l7-6-5-8-7 7zm7-6l6-6-5-8-6 6zm254-84l6 3-5-8-6-4zm-243 86l7-5-5-8-7 5zm7-5l6-5-5-9-6 6zm234-77l6 3-4-7-7-4z"/>
<path fill="#dfff00" d="M647 743l6-6-5-8-6 7zm6-6l7-6-5-9-7 7zm248-79l6 4-5-9-6-3zm-243 87l7-5-5-9-7 6zm7-5l6-6-5-9-6 6zm234-77l7 4-5-9-7-3zm-223 80l7-6-5-9-7 6zm7-6l6-7-5-9-6 7zm214-70l7 4-5-8-7-4z"/>
<path fill="#c7ff00" d="M660 731l6-6-5-10-6 7zm227-80l7 4-5-9-7-3zm7 4l7 3-5-8-7-4zm-223 79l7-6-5-10-7 7zm7-6l6-7-5-10-6 7zm208-73l6 4-5-8-6-4zm6 4l7 4-5-8-7-4zm-203 71l7-7-5-9-7 7zm195-69l7 3-5-9-7-2zm7 3l6 3-5-8-6-4z"/>
<path fill="#afff00" d="M666 725l7-7-5-11-7 8zm7-7l6-7-5-11-6 7zm208-71l6 4-5-8-6-4zm-197 74l7-7-5-10-7 7zm195-68l7 2-5-8-7-3zm-183 70l6-7-5-10-6 8zm175-63l7 0-5-9-7-1zm7 0l6 1-5-8-6-2z"/>
<path fill="#97ff00" d="M679 711l7-7-5-12-7 8zm195-67l7 3-5-8-7-3zm-183 70l6-8-5-10-6 8zm175-64l7 1-5-9-7-1zm7 1l6 2-5-9-6-2zm-171 65l7-8-5-10-7 8zm7-8l6-7-5-10-6 7zm136-46l7 0-5-11-7-1zm7 0l6-1-5-11-6 1zm6-1l7-1-5-10-7 0zm7-1l6 0-5-10-6 0z"/>
<path fill="#80ff00" d="M686 704l6-8-5-11-6 7zm175-63l7 1-5-9-7-3zm7 1l6 2-5-8-6-3zm-171 64l7-8-5-10-7 8zm7-8l6-7-5-10-6 7zm143-47l6-1-5-11-6-1zm6-1l7 0-5-11-7 0zm7 0l6 0-5-9-6-2zm-145 51l7-6-5-11-7 7zm117-43l7 2-5-12-7-3zm7 2l6 2-5-12-6-2z"/>
<path fill="#68ff00" d="M692 696l7-8-5-11-7 8zm7-8l6-7-5-11-6 7zm149-49l7 0-5-11-7-2zm7 0l6 2-5-11-6-2zm-145 52l7-7-5-10-7 7zm124-43l6 2-5-14-6-2zm6 2l7 1-5-13-7-2zm-118 45l6-5-5-11-6 5zm6-5l7-3-5-12-7 4zm7-3l6-3-5-13-6 4zm6-3l7-3-5-13-7 3zm7-3l6-4-5-14-6 5zm78-27l6 4-5-13-6-4z"/>
<path fill="#50ff00" d="M705 681l7-7-5-11-7 7zm130-45l7 2-5-15-7-2zm7 2l6 1-5-13-6-3zm-125 46l6-5-5-11-6 6zm6-5l7-4-5-12-7 5zm7-4l6-4-5-13-6 5zm97-30l7 3-5-14-7-3zm-73 32l7-5-5-14-7 5zm7-5l6-6-5-14-6 6zm58-22l7 4-5-13-7-4z"/>
<path fill="#38ff00" d="M712 674l6-6-5-11-6 6zm6-6l7-5-5-13-7 7zm111-34l6 2-5-15-6-3zm-93 37l7-3-5-15-7 5zm7-3l6-5-5-15-6 5zm6-5l7-5-5-16-7 6zm65-26l7 4-5-14-7-3zm7 4l6 4-5-14-6-4zm-54 25l7-7-5-14-7 7zm46-20l6 4-5-13-6-4z"/>
<path fill="#20ff00" d="M725 663l6-5-5-14-6 6zm6-5l7-5-5-15-7 6zm85-31l6 4-5-16-6-3zm6 4l7 3-5-16-7-3zm-66 27l6-6-5-16-6 6zm52-25l6 4-5-13-6-4zm-34 26l6-7-5-14-6 7zm6-7l7-5-5-14-7 5zm7-5l6-4-5-13-6 3zm6-4l7-1-5-13-7 1zm7-1l6 1-5-13-6-1zm6 1l7 3-5-13-7-3z"/>
<path fill="#08ff00" d="M738 653l6-5-5-17-6 7zm6-5l7-6-5-17-7 6zm65-24l7 3-5-15-7-3zm-47 28l7-7-5-16-7 7zm7-7l6-7-5-15-6 6zm32-15l7 3-5-13-7-3z"/>
<path fill="#00ff10" d="M751 642l6-6-5-18-6 7zm45-25l7 3-5-14-7-2zm7 3l6 4-5-15-6-3zm-28 18l7-5-5-14-7 4zm7-5l6-3-5-14-6 3zm6-3l7-1-5-13-7 0zm7-1l6 1-5-13-6-1z"/>
<path fill="#00ff28" d="M757 636l7-7-5-17-7 6zm7-7l6-6-5-16-6 5zm6-6l7-4-5-15-7 3zm7-4l6-3-5-14-6 2zm6-3l7 0-5-14-7 0zm7 0l6 1-5-13-6-2z"/>
<path fill="#ff0000" d="M531 877l7-3-5-3-7 3zm7-3l6-3-5-3-6 3zm6-3l7-3-5-4-7 4zm7-3l6-4-5-4-6 4zm6-4l7-4-5-4-7 4zm463-149l6-1-5-3-6 0zm6-1l7 0-5-3-7 0zm7 0l6-1-5-3-6 1zm6-1l7-1-5-3-7 1zm7-1l6-2-5-3-6 2zm-510 168l7-3-5-3-7 3zm7-3l6-3-5-3-6 3zm6-3l7-3-5-3-7 3zm7-3l6-4-5-3-6 4zm6-4l7-4-5-3-7 4zm463-149l6 0-5-4-6 1zm6 0l7-1-5-3-7 0zm7-1l6-1-5-3-6 1zm6-1l7-1-5-3-7 1zm7-1l6-2-5-3-6 2zm-510 167l7-2-5-3-7 3zm7-2l6-3-5-3-6 3zm6-3l7-3-5-3-7 3zm7-3l6-3-5-4-6 4zm6-3l7-4-5-4-7 4zm7-4l6-4-5-4-6 4zm449-145l7 0-5-4-7 0zm7 0l6-1-5-3-6 0zm6-1l7-1-5-3-7 1zm7-1l6-1-5-3-6 1zm6-1l7-1-5-3-7 1zm7-1l6-2-5-3-6 2z"/>
<path fill="#ff1800" d="M564 860l6-5-5-4-6 5zm6-5l7-5-5-4-7 5zm437-141l6 0-5-4-6-1zm6 0l7 1-5-4-7-1zm-444 149l6-4-5-4-6 5zm6-4l7-4-5-5-7 5zm7-4l6-5-5-5-6 5zm423-138l7 1-5-4-7-2zm7 1l6 0-5-4-6 0zm6 0l7 0-5-3-7-1zm-438 145l7-4-5-4-7 4zm7-4l6-5-5-4-6 5zm423-138l7 1-5-4-7-1zm7 1l6 0-5-4-6 0z"/>
<path fill="#ff3000" d="M577 850l6-5-5-4-6 5zm6-5l7-5-5-5-7 6zm411-134l6 1-5-4-6-2zm6 1l7 2-5-5-7-1zm-412 138l7-6-5-4-7 5zm7-6l6-5-5-5-6 6zm397-131l7 2-5-4-7-3zm7 2l6 2-5-5-6-1zm-406 139l7-5-5-5-7 6zm7-5l6-6-5-4-6 5zm397-131l7 2-5-5-7-2zm7 2l6 1-5-4-6-2z"/>
<path fill="#ff4800" d="M590 840l6-6-5-5-6 6zm6-6l7-6-5-6-7 7zm385-128l6 2-5-5-6-3zm6 2l7 3-5-5-7-3zm-386 131l7-6-5-5-7 6zm7-6l6-7-5-5-6 7zm378-122l6 2-5-5-6-2zm-380 132l7-5-5-5-7 6zm7-5l6-6-5-6-6 7zm371-123l7 2-5-6-7-2zm7 2l6 1-5-5-6-2z"/>
<path fill="#ff6000" d="M603 828l6-7-5-5-6 6zm6-7l7-7-5-6-7 8zm365-118l7 3-5-6-7-3zm-360 123l7-6-5-6-7 7zm359-120l6 3-5-6-6-3zm6 3l7 2-5-5-7-3zm-360 123l7-7-5-5-7 6zm7-7l6-6-5-6-6 7zm345-115l7 3-5-7-7-2zm7 3l6 2-5-6-6-3z"/>
<path fill="#ff7800" d="M616 814l6-7-5-6-6 7zm345-116l7 2-5-6-7-2zm7 2l6 3-5-6-6-3zm-347 120l6-7-5-6-6 7zm6-7l7-7-5-7-7 8zm333-111l6 2-5-6-6-3zm6 2l7 2-5-6-7-2zm-334 115l7-7-5-6-7 7zm333-111l6 2-5-6-6-2z"/>
<path fill="#ff8f00" d="M622 807l7-8-5-6-7 8zm333-112l6 3-5-6-6-3zm-321 111l7-8-5-6-7 7zm319-106l7 2-5-7-7-2zm-314 112l7-7-5-7-7 8zm7-7l6-6-5-8-6 7zm306-101l6 2-5-6-6-2zm6 2l7 2-5-6-7-2z"/>
<path fill="#ffa700" d="M629 799l7-7-5-7-7 8zm7-7l6-8-5-7-6 8zm306-101l6 2-5-6-6-2zm6 2l7 2-5-6-7-2zm-307 105l6-7-5-7-6 8zm299-102l7 2-5-7-7-2zm7 2l6 2-5-7-6-2zm-295 101l7-7-5-7-7 6zm287-99l6 2-5-6-6-2zm6 2l7 2-5-6-7-2z"/>
<path fill="#ffbf00" d="M642 784l7-7-5-7-7 7zm287-97l6 2-5-6-6-3zm6 2l7 2-5-6-7-2zm-288 102l7-6-5-8-7 7zm7-6l6-6-5-8-6 6zm273-94l7 3-5-7-7-2zm7 3l6 2-5-7-6-2zm-275 98l6-6-5-7-6 6zm6-6l7-6-5-7-7 6zm260-90l7 2-5-7-7-2zm7 2l7 2-5-6-7-3z"/>
<path fill="#ffd700" d="M649 777l6-6-5-7-6 6zm6-6l7-6-5-7-7 6zm267-86l7 2-5-7-7-2zm-262 94l7-6-5-8-7 6zm7-6l6-5-5-8-6 5zm253-84l7 2-5-6-7-3zm-248 91l6-5-5-7-6 5zm6-5l7-5-5-7-7 5zm7-5l6-6-5-7-6 6zm234-76l6 2-5-7-6-3z"/>
<path fill="#ffef00" d="M662 765l6-5-5-7-6 5zm6-5l7-5-5-7-7 5zm241-82l6 4-5-8-6-3zm6 4l7 3-5-7-7-4zm-242 86l7-5-5-8-7 5zm7-5l6-6-5-7-6 5zm6-6l7-5-5-7-7 5zm221-73l7 2-5-8-7-3zm7 2l6 3-5-7-6-4zm-223 78l7-5-5-7-7 5zm7-5l6-5-5-8-6 6zm208-69l6 2-5-8-6-3zm6 2l7 2-5-8-7-2z"/>
<path fill="#f7ff00" d="M675 755l6-5-5-7-6 5zm6-5l7-5-5-8-7 6zm221-75l7 3-5-7-7-4zm-209 77l6-6-5-7-6 6zm6-6l7-6-5-8-7 7zm202-65l6 3-5-9-6-3zm-197 73l7-6-5-8-7 6zm7-6l6-5-5-9-6 6zm182-60l6 1-5-9-6-1zm6 1l7 1-5-9-7-1z"/>
<path fill="#dfff00" d="M688 745l6-6-5-9-6 7zm6-6l7-7-5-9-7 7zm195-69l7 2-5-8-7-3zm7 2l6 3-5-8-6-3zm-190 68l6-6-5-9-6 7zm175-61l7 0-5-10-7 0zm7 0l6 1-5-10-6-1zm6 1l7 1-5-9-7-2zm-177 63l7-6-5-9-7 6zm7-6l6-5-5-10-6 6zm136-48l7 0-5-8-7 0zm7 0l6 0-5-9-6 1zm6 0l7-1-5-9-7 1zm7-1l6 0-5-9-6 0zm6 0l7 0-5-9-7 0z"/>
<path fill="#c7ff00" d="M701 732l6-7-5-9-6 7zm175-63l7 0-5-9-7 0zm7 0l6 1-5-9-6-1zm-171 65l7-6-5-10-7 7zm7-6l6-6-5-11-6 7zm136-47l7 0-5-9-7 0zm7 0l6-1-5-9-6 1zm6-1l7-1-5-9-7 1zm7-1l6 0-5-10-6 1zm-145 53l7-4-5-11-7 5zm7-4l6-4-5-11-6 4zm6-4l7-4-5-11-7 4zm104-35l7 0-5-8-7-2zm7 0l6 0-5-8-6 0z"/>
<path fill="#afff00" d="M707 725l7-7-5-10-7 8zm7-7l6-7-5-10-6 7zm136-46l7 0-5-10-7 0zm7 0l6-1-5-10-6 1zm6-1l7-1-5-10-7 1zm7-1l6-1-5-9-6 0zm-145 52l7-5-5-11-7 5zm7-5l6-4-5-12-6 5zm6-4l7-4-5-11-7 3zm104-34l7 2-5-10-7-2zm7 2l6 0-5-9-6-1zm-99 39l6-4-5-10-6 3zm6-4l7-3-5-10-7 3zm7-3l6-4-5-10-6 4zm6-4l7-4-5-10-7 4zm7-4l6-5-5-10-6 5zm58-19l7 2-5-11-7-2zm7 2l6 1-5-10-6-2z"/>
<path fill="#97ff00" d="M720 711l7-5-5-11-7 6zm7-5l6-5-5-11-6 5zm110-37l7 2-5-11-7-2zm7 2l6 1-5-10-6-2zm-99 38l6-3-5-11-6 3zm6-3l7-3-5-11-7 3zm7-3l6-4-5-10-6 3zm6-4l7-4-5-11-7 5zm65-24l7 2-5-11-7-3zm7 2l6 2-5-10-6-3zm-54 23l7-5-5-11-7 6zm7-5l6-4-5-12-6 5zm32-11l7 1-5-13-7-2zm7 1l6 1-5-11-6-3z"/>
<path fill="#80ff00" d="M733 701l7-3-5-11-7 3zm7-3l6-3-5-11-6 3zm6-3l7-3-5-11-7 3zm7-3l6-3-5-12-6 4zm6-3l7-5-5-12-7 5zm72-23l6 3-5-11-6-4zm-60 29l6-5-5-12-6 6zm6-5l7-6-5-12-7 6zm46-18l6 3-5-12-6-4zm-28 19l7-4-5-13-7 5zm7-4l6-2-5-14-6 3zm6-2l7-1-5-14-7 1zm7-1l6 0-5-14-6 0z"/>
<path fill="#68ff00" d="M766 684l6-6-5-12-6 6zm6-6l7-6-5-13-7 7zm46-19l6 4-5-13-6-4zm6 4l7 3-5-12-7-4zm-40 21l6-5-5-13-6 6zm6-5l7-5-5-13-7 5zm7-5l6-3-5-14-6 4zm6-3l7-1-5-14-7 1zm7-1l6 0-5-13-6-1zm6 0l7 2-5-13-7-2z"/>
<path fill="#50ff00" d="M779 672l6-6-5-14-6 7zm32-15l7 2-5-13-7-3z"/>
<path fill="#38ff00" d="M785 666l7-5-5-14-7 5zm7-5l6-4-5-14-6 4zm6-4l7-1-5-14-7 1zm7-1l6 1-5-14-6-1z"/>
<path fill="#ff0000" d="M546 885l7-2-5-3-7 2zm7-2l6-3-5-3-6 3zm6-3l7-3-5-3-7 3zm7-3l6-3-5-3-6 3zm6-3l7-3-5-4-7 4zm7-3l6-4-5-4-6 4zm449-145l7-1-5-3-7 0zm7-1l6 0-5-4-6 1zm6 0l7-1-5-4-7 1zm7-1l6-2-5-3-6 1zm6-2l7-1-5-3-7 1zm7-1l6-2-5-3-6 2zm-510 167l7-2-5-3-7 2zm7-2l6-3-5-3-6 3zm6-3l7-3-5-3-7 3zm7-3l6-2-5-4-6 3zm6-2l7-4-5-3-7 3zm7-4l6-3-5-4-6 4zm6-3l7-4-5-4-7 4zm437-141l6-1-5-3-6 0zm6-1l7 0-5-4-7 1zm7 0l6-1-5-3-6 0zm6-1l7-1-5-3-7 1zm7-1l6-2-5-3-6 2zm6-2l7-1-5-3-7 1zm7-1l6-2-5-3-6 2zm-510 167l7-2-5-3-7 2zm7-2l6-3-5-3-6 3zm6-3l7-2-5-4-7 3zm7-2l6-3-5-3-6 2zm6-3l7-3-5-4-7 4zm7-3l6-4-5-3-6 3zm6-4l7-3-5-4-7 4zm437-141l6 0-5-4-6 1zm6 0l7-1-5-3-7 0zm7-1l6-1-5-3-6 1zm6-1l7-1-5-3-7 1zm7-1l6-2-5-3-6 2zm6-2l7-2-5-2-7 1zm7-2l6-2-5-2-6 2z"/>
<path fill="#ff1800" d="M585 867l7-4-5-4-7 4zm7-4l6-5-5-4-6 5zm6-5l7-5-5-4-7 5zm411-133l6 0-5-4-6-1zm6 0l7 1-5-4-7-1zm7 1l6 0-5-4-6 0zm-425 141l6-5-5-4-6 5zm6-5l7-4-5-5-7 5zm404-134l7 1-5-4-7-2zm7 1l6 0-5-4-6 0zm6 0l7 1-5-4-7-1zm-418 142l6-4-5-5-6 5zm6-4l7-5-5-4-7 4zm7-5l6-4-5-5-6 5zm397-129l7 0-5-4-7-1zm7 0l6 1-5-5-6 0zm6 1l7-1-5-3-7-1z"/>
<path fill="#ff3000" d="M605 853l6-5-5-5-6 6zm6-5l7-5-5-5-7 5zm385-126l6 1-5-5-6-1zm6 1l7 2-5-5-7-2zm-392 135l6-5-5-5-6 5zm6-5l7-5-5-5-7 5zm7-5l6-6-5-5-6 6zm371-122l7 1-5-5-7-2zm7 1l6 1-5-5-6-1zm-380 131l7-5-5-5-7 5zm7-5l6-6-5-5-6 6zm371-122l7 1-5-5-7-1zm7 1l6 1-5-5-6-1z"/>
<path fill="#ff4800" d="M618 843l6-6-5-5-6 6zm6-6l7-6-5-6-7 7zm359-118l6 1-5-5-6-2zm6 1l7 2-5-5-7-2zm-360 122l7-6-5-5-7 6zm7-6l6-5-5-6-6 6zm345-113l7 1-5-5-7-2zm7 1l6 2-5-6-6-1zm-354 123l7-5-5-6-7 6zm7-5l6-5-5-6-6 5zm345-113l7 1-5-6-7-1zm7 1l6 1-5-5-6-2z"/>
<path fill="#ff6000" d="M631 831l6-6-5-6-6 6zm6-6l7-7-5-6-7 7zm333-110l6 2-5-7-6-2zm6 2l7 2-5-6-7-3zm-334 114l7-6-5-7-7 7zm333-110l6 2-5-6-6-2zm-328 116l7-6-5-6-7 6zm7-6l6-6-4-6-7 6zm319-106l7 2-5-6-7-2zm7 2l6 2-5-6-6-2z"/>
<path fill="#ff7800" d="M644 818l7-6-5-7-7 7zm319-106l7 3-5-7-7-2zm-314 113l7-6-5-7-7 6zm7-6l6-6-5-7-6 6zm306-102l6 2-5-7-6-2zm6 2l7 2-5-6-7-3zm-308 106l7-5-5-7-6 6zm7-5l7-6-5-7-7 6zm293-98l7 1-5-6-7-2zm7 1l6 2-5-6-6-2z"/>
<path fill="#ff8f00" d="M651 812l6-6-5-7-6 6zm6-6l7-6-5-8-7 7zm293-98l7 2-5-6-7-2zm7 2l6 2-5-6-6-2zm-295 103l7-6-5-7-7 6zm7-6l6-6-5-7-6 6zm280-94l6 2-5-7-6-1zm6 2l7 2-5-7-7-2zm-281 99l6-6-5-7-6 6zm6-6l7-5-5-8-7 6zm267-89l7 1-5-7-7-1zm7 1l6 2-5-7-6-2z"/>
<path fill="#ffa700" d="M664 800l6-6-5-8-6 6zm6-6l7-6-5-8-7 6zm267-89l7 2-5-7-7-2zm7 2l6 1-5-6-6-2zm-269 94l7-6-5-7-7 6zm7-6l6-6-5-7-6 6zm253-85l7 2-5-7-7-2zm7 2l7 1-5-6-7-2zm-255 91l6-6-5-8-6 6zm6-6l7-6-5-7-7 5zm234-81l7 1-5-8-7-1zm7 1l6 1-5-8-6-1zm6 1l7 1-5-7-7-2z"/>
<path fill="#ffbf00" d="M677 788l6-6-5-7-6 5zm6-6l7-5-5-7-7 5zm241-80l6 1-5-7-6-2zm6 1l7 2-5-7-7-2zm-242 86l7-5-5-7-7 5zm7-5l6-6-5-7-6 6zm227-76l7 1-5-7-7-2zm7 1l6 1-5-7-6-1zm-229 82l6-6-5-7-6 6zm6-6l7-5-5-7-7 5zm7-5l6-4-5-8-6 5zm201-64l7 0-5-8-7-1zm7 0l6 0-5-8-6 0z"/>
<path fill="#ffd700" d="M690 777l6-6-5-7-6 6zm6-6l7-5-5-7-7 5zm215-72l6 1-5-8-6-2zm6 1l7 2-5-8-7-2zm-216 78l7-5-5-7-7 5zm7-5l6-5-5-7-6 5zm6-5l7-4-5-8-7 5zm189-62l6 1-5-9-6 0zm6 1l7 1-5-9-7-1zm7 1l6 0-5-8-6-1zm-197 68l7-4-5-8-7 4zm7-4l6-4-5-8-6 4zm6-4l7-4-5-8-7 4zm163-54l6 0-5-8-6-1zm6 0l7 1-5-9-7 0zm7 1l6 1-5-9-6-1z"/>
<path fill="#ffef00" d="M703 766l6-5-5-7-6 5zm6-5l7-5-5-8-7 6zm189-63l6 0-5-9-6-1zm6 0l7 1-5-9-7-1zm-183 66l6-4-5-9-6 5zm6-4l7-4-5-9-7 4zm7-4l6-4-5-10-6 5zm149-51l7 0-5-8-7 0zm7 0l6 1-5-9-6 0zm6 1l7 0-5-8-7-1zm-157 58l6-3-5-9-6 4zm6-3l7-4-5-9-7 4zm7-4l6-4-5-9-6 4zm6-4l7-4-5-9-7 4zm117-40l7 0-5-8-7 0zm7 0l6 0-5-8-6 0zm6 0l7 1-5-9-7 0z"/>
<path fill="#f7ff00" d="M716 756l6-5-5-8-6 5zm6-5l7-4-5-10-7 6zm7-4l6-5-5-10-6 5zm143-50l6 0-5-8-6 0zm6 0l7 0-5-9-7 1zm7 0l6 0-5-9-6 0zm6 0l7 1-5-10-7 0zm-151 55l7-4-5-10-7 4zm7-4l6-4-5-10-6 4zm6-4l7-4-5-10-7 4zm7-4l6-4-5-10-6 4zm104-35l6 0-5-8-6 0zm6 0l7 0-5-8-7 0zm7 0l6 0-5-8-6 0zm-112 44l6-4-5-9-6 4zm6-4l7-4-5-9-7 4zm7-4l6-5-5-9-6 5zm6-5l7-4-5-9-7 4zm46-15l6-1-5-11-6 1zm6-1l7-1-5-11-7 1zm7-1l6-1-5-10-6 0zm6-1l7-2-5-9-7 1zm7-2l6-1-5-9-6 1zm6-1l7-2-5-8-7 1zm7-2l6 0-5-8-6 0z"/>
<path fill="#dfff00" d="M735 742l7-4-5-10-7 4zm7-4l6-4-5-10-6 4zm6-4l7-4-5-10-7 4zm7-4l6-4-5-10-6 4zm97-33l7 0-5-8-7 0zm7 0l6 0-5-8-6 0zm6 0l7 0-5-8-7 0zm-99 39l7-4-5-10-7 4zm7-4l6-5-5-9-6 4zm6-5l7-4-5-9-7 4zm52-18l7-1-5-11-7 0zm7-1l6 0-5-11-6 0zm6 0l7-1-5-10-7 0zm7-1l6-1-5-9-6 0zm6-1l7-1-5-8-7 0zm-66 26l6-3-5-10-6 4zm6-3l7-3-5-10-7 3zm7-3l6-2-5-11-6 3zm6-2l7-1-5-12-7 2zm7-1l6-1-5-12-6 1zm6-1l7-1-5-11-7 0z"/>
<path fill="#c7ff00" d="M761 726l7-4-5-9-7 3zm7-4l6-4-5-9-6 4zm6-4l7-4-5-9-7 4zm59-21l6 0-5-11-6-1zm6 0l7 0-5-9-7-2zm7 0l6 0-5-8-6-1zm-60 26l6-4-5-9-6 4zm6-4l7-3-5-10-7 4zm7-3l6-3-5-11-6 4zm6-3l7-2-5-11-7 2zm7-2l6-1-5-12-6 2zm6-1l7 0-5-13-7 1zm7 0l6-1-5-12-6 0z"/>
<path fill="#afff00" d="M781 714l6-4-5-10-6 5zm6-4l7-4-5-11-7 5zm7-4l6-4-5-11-6 4zm6-4l7-2-5-13-7 4zm7-2l6-2-5-13-6 2zm6-2l7-1-5-13-7 1zm7-1l6 0-5-13-6 0zm6 0l7 0-5-12-7-1z"/>
<path fill="#ff0000" d="M561 893l7-2-5-2-7 2zm7-2l6-2-5-3-6 3zm6-2l7-2-5-3-7 2zm7-2l6-3-5-3-6 3zm6-3l7-3-5-3-7 3zm7-3l6-3-5-4-6 4zm6-3l7-4-5-3-7 3zm7-4l6-3-5-4-6 4zm423-136l7-1-5-4-7 1zm7-1l6-1-5-3-6 0zm6-1l7-1-5-3-7 1zm7-1l6-1-5-3-6 1zm6-1l7-1-5-3-7 1zm7-1l6-2-5-3-6 2zm6-2l7-2-5-3-7 2zm7-2l6-2-5-3-6 2zm-510 167l7-2-5-3-7 2zm7-2l6-2-5-3-6 2zm6-2l7-2-5-3-7 2zm7-2l6-3-5-3-6 3zm6-3l7-3-5-3-7 3zm7-3l6-3-5-3-6 3zm6-3l7-3-5-4-7 4zm7-3l6-4-5-3-6 3zm423-137l7 0-5-4-7 1zm7 0l6-1-5-4-6 1zm6-1l7-1-5-4-7 1zm7-1l6-2-5-3-6 1zm6-2l7-1-5-3-7 1zm7-1l6-2-5-3-6 2zm6-2l7-2-5-3-7 2zm7-2l6-2-5-3-6 2zm-510 167l7-2-5-3-7 2zm7-2l6-2-5-3-6 2zm6-2l7-2-5-3-7 2zm7-2l6-3-5-3-6 3zm6-3l7-3-5-3-7 3zm7-3l6-2-5-4-6 3zm6-2l7-3-5-4-7 3zm7-3l6-4-5-4-6 4zm6-4l7-3-5-4-7 3zm411-132l6-1-5-4-6 1zm6-1l7-1-5-3-7 0zm7-1l6-1-5-3-6 1zm6-1l7-1-5-3-7 1zm7-1l6-2-5-3-6 2zm6-2l7-1-5-3-7 1zm7-1l6-2-5-3-6 2zm6-2l7-2-5-3-7 2zm7-2l6-2-5-3-6 2z"/>
<path fill="#ff1800" d="M613 871l7-5-5-4-7 5zm7-5l6-4-5-4-6 4zm6-4l7-5-5-4-7 5zm385-125l6 1-5-5-6-1zm6 1l7 0-5-5-7 0zm7 0l6 0-5-4-6-1zm-406 136l7-3-5-5-7 5zm7-3l6-4-5-5-6 4zm6-4l7-5-5-5-7 5zm7-5l6-4-5-5-6 4zm371-120l7 0-5-5-7 0zm7 0l6 0-5-4-6-1zm6 0l7 0-5-4-7 0zm7 0l6-1-5-3-6 0zm-399 133l6-4-5-4-6 4zm6-4l7-4-5-5-7 5zm7-4l6-5-5-4-6 4zm365-121l6 0-5-4-6-1zm6 0l7 0-5-4-7 0zm7 0l6 0-5-4-6 0zm6 0l7 0-5-4-7 0z"/>
<path fill="#ff3000" d="M633 857l6-4-5-6-6 6zm6-4l7-6-5-5-7 5zm359-117l6 1-5-6-6-1zm6 1l7 0-5-5-7-1zm-360 121l7-5-5-6-7 6zm7-5l6-5-5-6-6 5zm345-113l7 1-5-5-7-2zm7 1l6 1-5-5-6-1zm-354 121l7-4-5-5-7 5zm7-4l6-5-5-5-6 5zm6-5l7-4-5-6-7 5zm333-108l6 1-5-6-6-1zm6 1l7 0-5-5-7-1z"/>
<path fill="#ff4800" d="M646 847l6-5-5-5-6 5zm6-5l7-5-5-6-7 6zm333-109l6 1-5-5-6-2zm6 1l7 2-5-6-7-1zm-334 114l7-5-5-6-7 5zm7-5l6-5-5-6-6 5zm319-105l7 1-5-6-7-1zm7 1l6 1-5-6-6-1zm-321 110l6-5-5-6-6 5zm6-5l7-5-5-6-7 5zm7-5l7-5-5-6-7 5zm300-96l6 1-5-6-6-2zm6 1l7 1-5-6-7-1z"/>
<path fill="#ff6000" d="M659 837l6-5-5-7-6 6zm6-5l7-6-5-6-7 5zm7-6l7-5-5-7-7 6zm300-96l6 2-5-7-6-2zm6 2l7 1-5-6-7-2zm-308 106l7-5-5-7-7 6zm7-5l7-5-5-7-7 5zm7-5l6-6-5-7-6 6zm286-93l7 1-5-6-7-2zm7 1l6 2-5-6-6-2zm-288 98l6-5-5-7-6 6zm6-5l7-5-5-7-7 5zm267-89l6 1-4-7-7-1zm6 1l7 1-5-7-6-1zm7 1l7 1-5-7-7-1z"/>
<path fill="#ff7800" d="M679 821l6-6-5-7-6 6zm6-6l7-5-5-7-7 5zm274-88l6 1-5-6-6-2zm6 1l7 2-5-7-7-1zm-275 94l7-5-5-7-7 5zm7-5l6-6-5-7-6 6zm253-85l7 1-5-7-7-1zm7 1l7 1-5-7-7-1zm7 1l6 1-5-7-6-1zm-262 90l6-5-5-8-6 6zm6-5l7-5-5-8-7 5zm234-80l7 0-5-7-7 0zm7 0l6 1-5-8-6 0zm6 1l7 0-5-7-7-1z"/>
<path fill="#ff8f00" d="M692 810l6-6-5-7-6 6zm6-6l7-6-5-7-7 6zm241-80l6 1-5-7-6-1zm6 1l7 1-5-7-7-1zm7 1l7 1-5-7-7-1zm-249 85l7-5-5-8-7 6zm7-5l6-5-5-8-6 5zm221-75l6 1-5-8-6 0zm6 1l7 0-5-8-7 0zm7 0l6 0-5-7-6-1zm-229 82l6-5-5-8-6 5zm6-5l7-5-5-8-7 5zm7-5l6-4-5-8-6 4zm195-65l6 0-5-8-6 0zm6 0l7 0-5-8-7 0zm7 0l6 0-5-7-6-1z"/>
<path fill="#ffa700" d="M705 798l6-5-5-8-6 6zm6-5l7-5-5-8-7 5zm208-69l7 0-5-8-7 0zm7 0l6 0-5-8-6 0zm6 0l7 0-5-7-7-1zm-216 77l7-5-5-8-7 5zm7-5l6-4-5-8-6 4zm6-4l7-4-5-8-7 4zm182-61l7 0-5-8-7 0zm7 0l6 0-5-7-6-1zm6 0l7 0-5-7-7 0zm-190 69l7-4-5-8-7 4zm7-4l6-4-5-8-6 4zm6-4l7-3-5-8-7 3zm7-3l6-4-5-7-6 3zm6-4l7-3-5-8-7 4zm143-47l7 0-5-8-7 0zm7 0l6 0-5-7-6-1zm6 0l7 1-5-8-7 0z"/>
<path fill="#ffbf00" d="M718 788l6-4-5-8-6 4zm6-4l7-4-5-8-7 4zm7-4l6-4-5-8-6 4zm175-57l7 0-5-8-7-1zm7 0l6 1-5-8-6-1zm-177 65l6-4-5-8-6 4zm6-4l7-3-5-8-7 3zm7-3l6-3-5-9-6 4zm6-3l7-4-5-8-7 3zm7-4l6-3-5-9-6 4zm136-44l7 0-5-8-7-1zm7 0l6 1-5-8-6-1zm-138 52l6-3-5-8-6 3zm6-3l7-4-5-8-7 4zm7-4l6-4-5-8-6 4zm6-4l7-3-5-9-7 4zm59-21l6-1-5-9-6 1zm6-1l7-2-5-9-7 2zm7-2l6-2-5-9-6 2zm6-2l7-2-5-9-7 2zm7-2l6-2-5-9-6 2zm6-2l7-1-5-9-7 1zm7-1l6-1-5-9-6 1zm6-1l7-1-5-8-7 0zm7-1l6 0-5-8-6 0z"/>
<path fill="#ffd700" d="M737 776l7-3-5-9-7 4zm7-3l6-4-5-8-6 3zm6-4l7-3-5-9-7 4zm7-3l6-4-5-9-6 4zm6-4l7-4-5-9-7 4zm124-41l6 0-5-8-6 0zm6 0l7 1-5-8-7-1zm7 1l6 1-5-9-6 0zm-132 49l7-4-5-9-7 4zm7-4l6-4-5-9-6 4zm6-4l7-4-5-9-7 4zm7-4l6-4-5-10-6 5zm52-18l6-1-5-10-6 2zm6-1l7-2-5-9-7 1zm7-2l6-2-5-9-6 2zm6-2l7-2-5-9-7 2zm7-2l6-2-5-9-6 2zm6-2l7-1-5-9-7 1zm7-1l6-1-5-9-6 1zm6-1l7 0-5-9-7 0zm7 0l6 0-5-9-6 0zm-99 38l6-4-5-9-6 4zm6-4l7-3-5-10-7 4zm7-3l6-3-5-10-6 3zm6-3l7-2-5-10-7 2zm7-2l6-2-5-10-6 2zm6-2l7-1-5-10-7 1zm7-1l6-1-5-10-6 1zm6-1l7-2-5-9-7 1z"/>
<path fill="#ffef00" d="M770 758l6-4-5-9-6 4zm6-4l7-4-5-9-7 4zm7-4l6-5-5-9-6 5zm52-18l6-2-5-10-6 1zm6-2l7-1-5-10-7 1zm7-1l6-2-5-9-6 1zm6-2l7-2-5-9-7 2zm7-2l6-2-5-8-6 1zm6-2l7-1-5-9-7 2zm7-1l6-1-5-8-6 0zm6-1l7 0-5-8-7 0zm-86 34l7-4-5-9-7 3zm7-4l6-3-5-10-6 4zm6-3l7-2-5-10-7 2zm7-2l6-2-5-10-6 2zm6-2l7-1-5-10-7 1zm7-1l6-1-5-10-6 1zm6-1l7-1-5-9-7 0z"/>
<path fill="#f7ff00" d="M789 745l7-3-5-10-7 4zm7-3l6-4-5-9-6 3zm6-4l7-2-5-10-7 3zm7-2l6-2-5-10-6 2zm6-2l7-1-5-10-7 1zm7-1l6-1-5-10-6 1zm6-1l7 0-5-11-7 1z"/>
<path fill="#ff0000" d="M576 902l7-2-5-3-7 2zm7-2l6-3-5-2-6 2zm6-3l7-2-5-2-7 2zm7-2l6-2-5-3-6 3zm6-2l7-2-5-4-7 3zm7-2l6-3-5-3-6 2zm6-3l7-3-5-3-7 3zm7-3l6-3-5-4-6 4zm6-3l7-3-5-4-7 3zm7-3l6-4-5-4-6 4zm397-129l7 0-5-4-7 0zm7 0l6-1-5-4-6 1zm6-1l7-1-5-4-7 1zm7-1l6-2-5-3-6 1zm6-2l7-1-5-3-7 1zm7-1l6-2-5-3-6 2zm6-2l7-1-5-3-7 1zm7-1l6-2-5-3-6 2zm6-2l7-3-5-2-7 2zm7-3l6-2-5-2-6 2z"/>
<path fill="#ff1800" d="M641 875l7-4-5-4-7 4zm7-4l6-4-5-5-6 5zm6-4l7-4-5-5-7 4zm352-116l7 0-5-5-7 0zm7 0l6 0-5-5-6 0zm6 0l7 0-5-5-7 0zm7 0l6-1-5-4-6 0z"/>
<path fill="#ff3000" d="M661 863l6-4-5-6-6 5zm6-4l7-5-5-5-7 4zm7-5l6-4-5-6-6 5zm319-104l7 0-5-5-7-1zm7 0l6 1-5-5-6-1z"/>
<path fill="#ff4800" d="M680 850l7-5-5-6-7 5zm7-5l7-5-5-6-7 5zm7-5l6-4-5-7-6 5zm279-92l7 0-5-6-7-1zm7 0l7 1-5-6-7-1zm7 1l6 1-5-6-6-1z"/>
<path fill="#ff6000" d="M700 836l7-5-5-7-7 5zm7-5l6-5-5-7-6 5zm253-84l7 0-5-7-7 0zm7 0l6 1-5-7-6-1z"/>
<path fill="#ff7800" d="M713 826l7-5-5-7-7 5zm7-5l6-5-5-7-6 5zm6-5l7-4-5-8-7 5zm208-70l7 0-5-7-7 0zm7 0l6 0-5-7-6 0zm6 0l7 0-5-7-7 0zm7 0l6 1-5-7-6-1z"/>
<path fill="#ff8f00" d="M733 812l6-4-5-8-6 4zm6-4l7-4-5-8-7 4zm7-4l6-4-5-8-6 4zm6-4l7-3-5-8-7 3zm163-54l6 0-5-8-6 0zm6 0l7 0-5-7-7-1zm7 0l6 0-5-7-6 0z"/>
<path fill="#ffa700" d="M759 797l6-4-5-8-6 4zm6-4l7-3-5-8-7 3zm7-3l6-3-5-8-6 3zm6-3l7-4-5-8-7 4zm7-4l6-3-5-9-6 4zm6-3l7-4-5-8-7 3zm85-28l6-2-5-9-6 2zm6-2l7-1-5-9-7 1zm7-1l6-1-5-9-6 1zm6-1l7-1-5-9-7 1zm7-1l6 0-5-9-6 0zm6 0l7-1-5-8-7 0z"/>
<path fill="#ffbf00" d="M798 776l6-3-5-9-6 4zm6-3l7-3-5-9-7 3zm7-3l6-2-5-10-6 3zm6-2l7-3-5-9-7 2zm7-3l6-1-5-10-6 2zm6-1l7-2-5-9-7 1zm7-2l6-2-5-8-6 1zm6-2l7-1-5-9-7 2zm7-1l6-2-5-8-6 1zm6-2l7-2-5-8-7 2zm7-2l6-1-5-9-6 2zm6-1l7-2-5-9-7 2z"/>
</g>
<path d="M196.5 217.6L196.5 694.6L596.3 913.3L1117.2 747" stroke="#3a3a3a" stroke-width="2.6" fill="none" stroke-linejoin="round"/>
<path d="M196.5 694.6L184.5 688M196.5 575.4L184.5 568.8M196.5 456.1L184.5 449.5M196.5 336.9L184.5 330.3M196.5 217.6L184.5 211M196.5 694.6L183.5 698.8M296.4 749.3L283.4 753.4M396.4 804L383.4 808.1M496.3 858.6L483.3 862.8M596.3 913.3L583.3 917.5M596.3 913.3L608.3 919.9M726.5 871.7L738.5 878.3M856.8 830.1L868.7 836.7M987 788.6L999 795.1M1117.2 747L1129.2 753.6" stroke="#3a3a3a" stroke-width="2.6" fill="none"/>
<text x="170" y="698.5" style="font-family:'Liberation Sans',Arial,sans-serif;font-size:32.5px" text-anchor="end" fill="#3a3a3a">0</text>
<text x="170" y="580.4" style="font-family:'Liberation Sans',Arial,sans-serif;font-size:32.5px" text-anchor="end" fill="#3a3a3a">50</text>
<text x="170" y="461" style="font-family:'Liberation Sans',Arial,sans-serif;font-size:32.5px" text-anchor="end" fill="#3a3a3a">100</text>
<text x="170" y="342.5" style="font-family:'Liberation Sans',Arial,sans-serif;font-size:32.5px" text-anchor="end" fill="#3a3a3a">150</text>
<text x="170" y="222.5" style="font-family:'Liberation Sans',Arial,sans-serif;font-size:32.5px" text-anchor="end" fill="#3a3a3a">200</text>
<text x="168.8" y="738.4" style="font-family:'Liberation Sans',Arial,sans-serif;font-size:32.5px" text-anchor="end" fill="#3a3a3a">100</text>
<text x="269.2" y="793.9" style="font-family:'Liberation Sans',Arial,sans-serif;font-size:32.5px" text-anchor="end" fill="#3a3a3a">50</text>
<text x="369.5" y="848.2" style="font-family:'Liberation Sans',Arial,sans-serif;font-size:32.5px" text-anchor="end" fill="#3a3a3a">0</text>
<text x="468.8" y="903.7" style="font-family:'Liberation Sans',Arial,sans-serif;font-size:32.5px" text-anchor="end" fill="#3a3a3a">-50</text>
<text x="566.8" y="956.9" style="font-family:'Liberation Sans',Arial,sans-serif;font-size:32.5px" text-anchor="end" fill="#3a3a3a">-100</text>
<text x="618" y="961.3" style="font-family:'Liberation Sans',Arial,sans-serif;font-size:32.5px" text-anchor="start" fill="#3a3a3a">-100</text>
<text x="748.6" y="921.6" style="font-family:'Liberation Sans',Arial,sans-serif;font-size:32.5px" text-anchor="start" fill="#3a3a3a">-50</text>
<text x="879.4" y="878.6" style="font-family:'Liberation Sans',Arial,sans-serif;font-size:32.5px" text-anchor="start" fill="#3a3a3a">0</text>
<text x="1010" y="837.3" style="font-family:'Liberation Sans',Arial,sans-serif;font-size:32.5px" text-anchor="start" fill="#3a3a3a">50</text>
<text x="1141.1" y="796" style="font-family:'Liberation Sans',Arial,sans-serif;font-size:32.5px" text-anchor="start" fill="#3a3a3a">100</text>
<text x="89.5" y="459" style="font-family:'Liberation Sans',Arial,sans-serif;font-size:39.5px" text-anchor="middle" fill="#3a3a3a" transform="rotate(-90 89.5 459)">ΔF(z)/pN</text>
<text x="141" y="896.7" style="font-family:'Liberation Serif','Times New Roman',serif;font-size:48.5px" fill="#15151f" stroke="#15151f" stroke-width="0.7" text-anchor="start">scan<tspan style="font-style:italic;font-size:53.4px"> y</tspan> /nm</text>
<text x="839" y="939.5" style="font-family:'Liberation Serif','Times New Roman',serif;font-size:48.5px" fill="#15151f" stroke="#15151f" stroke-width="0.7" text-anchor="start">scan<tspan style="font-style:italic;font-size:53.4px"> x</tspan> /nm</text>
<rect x="1213" y="899" width="50" height="14" fill="#ff0000"/>
<rect x="1213" y="885.6" width="50" height="14" fill="#ff1800"/>
<rect x="1213" y="872.3" width="50" height="14" fill="#ff3000"/>
<rect x="1213" y="858.9" width="50" height="14" fill="#ff4800"/>
<rect x="1213" y="845.5" width="50" height="14" fill="#ff6000"/>
<rect x="1213" y="832.1" width="50" height="14" fill="#ff7800"/>
<rect x="1213" y="818.7" width="50" height="14" fill="#ff8f00"/>
<rect x="1213" y="805.4" width="50" height="14" fill="#ffa700"/>
<rect x="1213" y="792" width="50" height="14" fill="#ffbf00"/>
<rect x="1213" y="778.6" width="50" height="14" fill="#ffd700"/>
<rect x="1213" y="765.2" width="50" height="14" fill="#ffef00"/>
<rect x="1213" y="751.8" width="50" height="14" fill="#f7ff00"/>
<rect x="1213" y="738.4" width="50" height="14" fill="#dfff00"/>
<rect x="1213" y="725.1" width="50" height="14" fill="#c7ff00"/>
<rect x="1213" y="711.7" width="50" height="14" fill="#afff00"/>
<rect x="1213" y="698.3" width="50" height="14" fill="#97ff00"/>
<rect x="1213" y="684.9" width="50" height="14" fill="#80ff00"/>
<rect x="1213" y="671.5" width="50" height="14" fill="#68ff00"/>
<rect x="1213" y="658.2" width="50" height="14" fill="#50ff00"/>
<rect x="1213" y="644.8" width="50" height="14" fill="#38ff00"/>
<rect x="1213" y="631.4" width="50" height="14" fill="#20ff00"/>
<rect x="1213" y="618" width="50" height="14" fill="#08ff00"/>
<rect x="1213" y="604.6" width="50" height="14" fill="#00ff10"/>
<rect x="1213" y="591.2" width="50" height="14" fill="#00ff28"/>
<rect x="1213" y="577.9" width="50" height="14" fill="#00ff40"/>
<rect x="1213" y="564.5" width="50" height="14" fill="#00ff58"/>
<rect x="1213" y="551.1" width="50" height="14" fill="#00ff70"/>
<rect x="1213" y="537.7" width="50" height="14" fill="#00ff87"/>
<rect x="1213" y="524.3" width="50" height="14" fill="#00ff9f"/>
<rect x="1213" y="511" width="50" height="14" fill="#00ffb7"/>
<rect x="1213" y="497.6" width="50" height="14" fill="#00ffcf"/>
<rect x="1213" y="484.2" width="50" height="14" fill="#00ffe7"/>
<rect x="1213" y="470.8" width="50" height="14" fill="#00ffff"/>
<rect x="1213" y="457.4" width="50" height="14" fill="#00e7ff"/>
<rect x="1213" y="444.1" width="50" height="14" fill="#00cfff"/>
<rect x="1213" y="430.7" width="50" height="14" fill="#00b7ff"/>
<rect x="1213" y="417.3" width="50" height="14" fill="#009fff"/>
<rect x="1213" y="403.9" width="50" height="14" fill="#0087ff"/>
<rect x="1213" y="390.5" width="50" height="14" fill="#0070ff"/>
<rect x="1213" y="377.1" width="50" height="14" fill="#0058ff"/>
<rect x="1213" y="363.8" width="50" height="14" fill="#0040ff"/>
<rect x="1213" y="350.4" width="50" height="14" fill="#0028ff"/>
<rect x="1213" y="337" width="50" height="14" fill="#0010ff"/>
<rect x="1213" y="323.6" width="50" height="14" fill="#0800ff"/>
<rect x="1213" y="310.2" width="50" height="14" fill="#2000ff"/>
<rect x="1213" y="296.9" width="50" height="14" fill="#3800ff"/>
<rect x="1213" y="283.5" width="50" height="14" fill="#5000ff"/>
<rect x="1213" y="270.1" width="50" height="14" fill="#6800ff"/>
<rect x="1213" y="256.7" width="50" height="14" fill="#8000ff"/>
<rect x="1213" y="243.3" width="50" height="14" fill="#9700ff"/>
<rect x="1213" y="230" width="50" height="14" fill="#af00ff"/>
<rect x="1213" y="216.6" width="50" height="14" fill="#c700ff"/>
<rect x="1213" y="203.2" width="50" height="14" fill="#df00ff"/>
<rect x="1213" y="189.8" width="50" height="14" fill="#f700ff"/>
<rect x="1213" y="176.4" width="50" height="14" fill="#ff00ef"/>
<rect x="1213" y="163" width="50" height="14" fill="#ff00d7"/>
<rect x="1213" y="149.7" width="50" height="14" fill="#ff00bf"/>
<rect x="1213" y="136.3" width="50" height="14" fill="#ff00a7"/>
<rect x="1213" y="122.9" width="50" height="14" fill="#ff008f"/>
<rect x="1213" y="109.5" width="50" height="14" fill="#ff0078"/>
<rect x="1213" y="96.1" width="50" height="14" fill="#ff0060"/>
<rect x="1213" y="82.8" width="50" height="14" fill="#ff0048"/>
<rect x="1213" y="69.4" width="50" height="14" fill="#ff0030"/>
<rect x="1213" y="56" width="50" height="14" fill="#ff0018"/>
<rect x="1213" y="56" width="50" height="856.4" fill="none" stroke="#1a1a1a" stroke-width="2.2"/>
<text x="1278" y="922.5" style="font-family:'Liberation Sans',Arial,sans-serif;font-size:28px" text-anchor="start" fill="#3a3a3a">0</text>
<text x="1278" y="834.3" style="font-family:'Liberation Sans',Arial,sans-serif;font-size:28px" text-anchor="start" fill="#3a3a3a">20</text>
<text x="1278" y="746.1" style="font-family:'Liberation Sans',Arial,sans-serif;font-size:28px" text-anchor="start" fill="#3a3a3a">40</text>
<text x="1278" y="657.9" style="font-family:'Liberation Sans',Arial,sans-serif;font-size:28px" text-anchor="start" fill="#3a3a3a">60</text>
<text x="1278" y="569.7" style="font-family:'Liberation Sans',Arial,sans-serif;font-size:28px" text-anchor="start" fill="#3a3a3a">80</text>
<text x="1278" y="481.5" style="font-family:'Liberation Sans',Arial,sans-serif;font-size:28px" text-anchor="start" fill="#3a3a3a">100</text>
<text x="1278" y="393.3" style="font-family:'Liberation Sans',Arial,sans-serif;font-size:28px" text-anchor="start" fill="#3a3a3a">120</text>
<text x="1278" y="305.1" style="font-family:'Liberation Sans',Arial,sans-serif;font-size:28px" text-anchor="start" fill="#3a3a3a">140</text>
<text x="1278" y="216.9" style="font-family:'Liberation Sans',Arial,sans-serif;font-size:28px" text-anchor="start" fill="#3a3a3a">160</text>
<text x="1278" y="128.7" style="font-family:'Liberation Sans',Arial,sans-serif;font-size:28px" text-anchor="start" fill="#3a3a3a">180</text>
<path d="M1263 912.4h-7M1263 824.2h-7M1263 736h-7M1263 647.8h-7M1263 559.6h-7M1263 471.4h-7M1263 383.2h-7M1263 295h-7M1263 206.8h-7M1263 118.6h-7" stroke="#1a1a1a" stroke-width="2.2"/>
<text x="1239" y="37" style="font-family:'Liberation Sans',Arial,sans-serif;font-size:29px" text-anchor="middle" fill="#3a3a3a">pN</text>
<text x="1308.2" y="959.6" style="font-family:'Liberation Serif','Times New Roman',serif;font-size:72px" text-anchor="start" fill="#111" stroke="#111" stroke-width="0.6">(a)</text>
<clipPath id="clA"><rect x="1536" y="59.3" width="924" height="815.8"/></clipPath>
<g clip-path="url(#clA)"><g filter="url(#cmA)">
<path fill="#040404" d="M1478.2 5.6h415.8v21.5h-415.8zM2101.9 5.6h415.8v21.5h-415.8zM1478.2 27.1h323.4v21.5h-323.4zM2194.3 27.1h323.4v21.5h-323.4zM1478.2 48.6h277.2v21.5h-277.2zM2240.6 48.6h277.2v21.5h-277.2zM1478.2 70h254.1v21.5h-254.1zM2263.7 70h254.1v21.5h-254.1zM1478.2 91.5h207.9v21.5h-207.9zM2309.8 91.5h207.9v21.5h-207.9zM1478.2 113h207.9v21.5h-207.9zM2309.8 113h207.9v21.5h-207.9zM1478.2 134.4h184.8v21.5h-184.8zM2332.9 134.4h184.8v21.5h-184.8zM1478.2 155.9h161.7v21.5h-161.7zM2356.1 155.9h161.7v21.5h-161.7zM1478.2 177.4h161.7v21.5h-161.7zM2356.1 177.4h161.7v21.5h-161.7zM1478.2 198.8h138.6v21.5h-138.6zM2379.2 198.8h138.6v21.5h-138.6zM1478.2 220.3h138.6v21.5h-138.6zM2379.2 220.3h138.6v21.5h-138.6zM1478.2 241.8h115.5v21.5h-115.5zM2402.2 241.8h115.5v21.5h-115.5zM1478.2 263.2h115.5v21.5h-115.5zM2402.2 263.2h115.5v21.5h-115.5zM1478.2 284.7h115.5v21.5h-115.5zM2402.2 284.7h115.5v21.5h-115.5zM1478.2 306.2h92.4v21.5h-92.4zM2402.2 306.2h115.5v21.5h-115.5zM1478.2 327.6h92.4v21.5h-92.4zM2425.3 327.6h92.4v21.5h-92.4zM1478.2 349.1h92.4v21.5h-92.4zM2425.3 349.1h92.4v21.5h-92.4zM1478.2 370.6h92.4v21.5h-92.4zM2425.3 370.6h92.4v21.5h-92.4zM1478.2 392h92.4v21.5h-92.4zM2425.3 392h92.4v21.5h-92.4zM1478.2 413.5h92.4v21.5h-92.4zM2425.3 413.5h92.4v21.5h-92.4zM1478.2 435h92.4v21.5h-92.4zM2425.3 435h92.4v21.5h-92.4zM1478.2 456.4h92.4v21.5h-92.4zM2425.3 456.4h92.4v21.5h-92.4zM1478.2 477.9h92.4v21.5h-92.4zM2425.3 477.9h92.4v21.5h-92.4zM1478.2 499.4h92.4v21.5h-92.4zM2425.3 499.4h92.4v21.5h-92.4zM1478.2 520.9h92.4v21.5h-92.4zM2425.3 520.9h92.4v21.5h-92.4zM1478.2 542.3h92.4v21.5h-92.4zM2425.3 542.3h92.4v21.5h-92.4zM1478.2 563.8h92.4v21.5h-92.4zM2425.3 563.8h92.4v21.5h-92.4zM1478.2 585.3h92.4v21.5h-92.4zM2425.3 585.3h92.4v21.5h-92.4zM1478.2 606.7h92.4v21.5h-92.4zM2425.3 606.7h92.4v21.5h-92.4zM1478.2 628.2h92.4v21.5h-92.4zM2425.3 628.2h92.4v21.5h-92.4zM1478.2 649.7h115.5v21.5h-115.5zM2425.3 649.7h92.4v21.5h-92.4zM1478.2 671.1h115.5v21.5h-115.5zM2402.2 671.1h115.5v21.5h-115.5zM1478.2 692.6h115.5v21.5h-115.5zM2402.2 692.6h115.5v21.5h-115.5zM1478.2 714.1h115.5v21.5h-115.5zM2402.2 714.1h115.5v21.5h-115.5zM1478.2 735.5h138.6v21.5h-138.6zM2379.2 735.5h138.6v21.5h-138.6zM1478.2 757h138.6v21.5h-138.6zM2379.2 757h138.6v21.5h-138.6zM1478.2 778.5h161.7v21.5h-161.7zM2356.1 778.5h161.7v21.5h-161.7zM1478.2 799.9h161.7v21.5h-161.7zM2356.1 799.9h161.7v21.5h-161.7zM1478.2 821.4h184.8v21.5h-184.8zM2332.9 821.4h184.8v21.5h-184.8zM1478.2 842.9h207.9v21.5h-207.9zM2309.8 842.9h207.9v21.5h-207.9zM1478.2 864.3h207.9v21.5h-207.9zM2286.8 864.3h231v21.5h-231zM1478.2 885.8h254.1v21.5h-254.1zM2263.7 885.8h254.1v21.5h-254.1zM1478.2 907.3h277.2v21.5h-277.2zM2240.6 907.3h277.2v21.5h-277.2z"/>
<path fill="#0c0c0c" d="M1894 5.6h207.9v21.5h-207.9zM1801.7 27.1h392.7v21.5h-392.7zM1755.5 48.6h115.5v21.5h-115.5zM2125.1 48.6h115.5v21.5h-115.5zM1732.3 70h69.3v21.5h-69.3zM2194.3 70h69.3v21.5h-69.3zM1686.2 91.5h69.3v21.5h-69.3zM2240.6 91.5h69.3v21.5h-69.3zM1686.2 113h46.2v21.5h-46.2zM2263.7 113h46.2v21.5h-46.2zM1663 134.4h46.2v21.5h-46.2zM2286.8 134.4h46.2v21.5h-46.2zM1640 155.9h46.2v21.5h-46.2zM2309.8 155.9h46.2v21.5h-46.2zM1640 177.4h23.1v21.5h-23.1zM2332.9 177.4h23.1v21.5h-23.1zM1616.8 198.8h46.2v21.5h-46.2zM2332.9 198.8h46.2v21.5h-46.2zM1616.8 220.3h23.1v21.5h-23.1zM2356.1 220.3h23.1v21.5h-23.1zM1593.8 241.8h46.2v21.5h-46.2zM2356.1 241.8h46.2v21.5h-46.2zM1593.8 263.2h46.2v21.5h-46.2zM2356.1 263.2h46.2v21.5h-46.2zM1593.8 284.7h23.1v21.5h-23.1zM2379.2 284.7h23.1v21.5h-23.1zM1570.7 306.2h46.2v21.5h-46.2zM2379.2 306.2h23.1v21.5h-23.1zM1570.7 327.6h46.2v21.5h-46.2zM2379.2 327.6h46.2v21.5h-46.2zM1570.7 349.1h46.2v21.5h-46.2zM2402.2 349.1h23.1v21.5h-23.1zM1570.7 370.6h46.2v21.5h-46.2zM2402.2 370.6h23.1v21.5h-23.1zM1570.7 392h23.1v21.5h-23.1zM2402.2 392h23.1v21.5h-23.1zM1570.7 413.5h23.1v21.5h-23.1zM2402.2 413.5h23.1v21.5h-23.1zM1570.7 435h23.1v21.5h-23.1zM2402.2 435h23.1v21.5h-23.1zM1570.7 456.4h23.1v21.5h-23.1zM2402.2 456.4h23.1v21.5h-23.1zM1570.7 477.9h23.1v21.5h-23.1zM2402.2 477.9h23.1v21.5h-23.1zM1570.7 499.4h23.1v21.5h-23.1zM2402.2 499.4h23.1v21.5h-23.1zM1570.7 520.9h23.1v21.5h-23.1zM2402.2 520.9h23.1v21.5h-23.1zM1570.7 542.3h23.1v21.5h-23.1zM2402.2 542.3h23.1v21.5h-23.1zM1570.7 563.8h23.1v21.5h-23.1zM2402.2 563.8h23.1v21.5h-23.1zM1570.7 585.3h23.1v21.5h-23.1zM2379.2 585.3h46.2v21.5h-46.2zM1570.7 606.7h23.1v21.5h-23.1zM2379.2 606.7h46.2v21.5h-46.2zM1570.7 628.2h46.2v21.5h-46.2zM2379.2 628.2h46.2v21.5h-46.2zM1593.8 649.7h23.1v21.5h-23.1zM2379.2 649.7h46.2v21.5h-46.2zM1593.8 671.1h23.1v21.5h-23.1zM2379.2 671.1h23.1v21.5h-23.1zM1593.8 692.6h46.2v21.5h-46.2zM2379.2 692.6h23.1v21.5h-23.1zM1593.8 714.1h46.2v21.5h-46.2zM2356.1 714.1h46.2v21.5h-46.2zM1616.8 735.5h23.1v21.5h-23.1zM2356.1 735.5h23.1v21.5h-23.1zM1616.8 757h46.2v21.5h-46.2zM2332.9 757h46.2v21.5h-46.2zM1640 778.5h23.1v21.5h-23.1zM2332.9 778.5h23.1v21.5h-23.1zM1640 799.9h46.2v21.5h-46.2zM2309.8 799.9h46.2v21.5h-46.2zM1663 821.4h46.2v21.5h-46.2zM2286.8 821.4h46.2v21.5h-46.2zM1686.2 842.9h46.2v21.5h-46.2zM2263.7 842.9h46.2v21.5h-46.2zM1686.2 864.3h69.3v21.5h-69.3zM2240.6 864.3h46.2v21.5h-46.2zM1732.3 885.8h69.3v21.5h-69.3zM2194.3 885.8h69.3v21.5h-69.3zM1755.5 907.3h115.5v21.5h-115.5zM2125.1 907.3h115.5v21.5h-115.5z"/>
<path fill="#141414" d="M1871 48.6h254.1v21.5h-254.1zM1801.7 70h115.5v21.5h-115.5zM2078.8 70h115.5v21.5h-115.5zM1755.5 91.5h69.3v21.5h-69.3zM2171.2 91.5h69.3v21.5h-69.3zM1732.3 113h46.2v21.5h-46.2zM2217.4 113h46.2v21.5h-46.2zM1709.2 134.4h46.2v21.5h-46.2zM2240.6 134.4h46.2v21.5h-46.2zM1686.2 155.9h46.2v21.5h-46.2zM2263.7 155.9h46.2v21.5h-46.2zM1663 177.4h46.2v21.5h-46.2zM2286.8 177.4h46.2v21.5h-46.2zM1663 198.8h23.1v21.5h-23.1zM2309.8 198.8h23.1v21.5h-23.1zM1640 220.3h46.2v21.5h-46.2zM2309.8 220.3h46.2v21.5h-46.2zM1640 241.8h23.1v21.5h-23.1zM2332.9 241.8h23.1v21.5h-23.1zM1640 263.2h23.1v21.5h-23.1zM2332.9 263.2h23.1v21.5h-23.1zM1616.8 284.7h46.2v21.5h-46.2zM2356.1 284.7h23.1v21.5h-23.1zM1616.8 306.2h23.1v21.5h-23.1zM2356.1 306.2h23.1v21.5h-23.1zM1616.8 327.6h23.1v21.5h-23.1zM2356.1 327.6h23.1v21.5h-23.1zM1616.8 349.1h23.1v21.5h-23.1zM2356.1 349.1h46.2v21.5h-46.2zM1616.8 370.6h23.1v21.5h-23.1zM2379.2 370.6h23.1v21.5h-23.1zM1593.8 392h23.1v21.5h-23.1zM2379.2 392h23.1v21.5h-23.1zM1593.8 413.5h23.1v21.5h-23.1zM2379.2 413.5h23.1v21.5h-23.1zM1593.8 435h23.1v21.5h-23.1zM2379.2 435h23.1v21.5h-23.1zM1593.8 456.4h23.1v21.5h-23.1zM2379.2 456.4h23.1v21.5h-23.1zM1593.8 477.9h23.1v21.5h-23.1zM2379.2 477.9h23.1v21.5h-23.1zM1593.8 499.4h23.1v21.5h-23.1zM2379.2 499.4h23.1v21.5h-23.1zM1593.8 520.9h23.1v21.5h-23.1zM2379.2 520.9h23.1v21.5h-23.1zM1593.8 542.3h23.1v21.5h-23.1zM2379.2 542.3h23.1v21.5h-23.1zM1593.8 563.8h23.1v21.5h-23.1zM2379.2 563.8h23.1v21.5h-23.1zM1593.8 585.3h46.2v21.5h-46.2zM2356.1 585.3h23.1v21.5h-23.1zM1593.8 606.7h46.2v21.5h-46.2zM2356.1 606.7h23.1v21.5h-23.1zM1616.8 628.2h23.1v21.5h-23.1zM2356.1 628.2h23.1v21.5h-23.1zM1616.8 649.7h23.1v21.5h-23.1zM2356.1 649.7h23.1v21.5h-23.1zM1616.8 671.1h23.1v21.5h-23.1zM2356.1 671.1h23.1v21.5h-23.1zM1640 692.6h23.1v21.5h-23.1zM2332.9 692.6h46.2v21.5h-46.2zM1640 714.1h23.1v21.5h-23.1zM2332.9 714.1h23.1v21.5h-23.1zM1640 735.5h46.2v21.5h-46.2zM2309.8 735.5h46.2v21.5h-46.2zM1663 757h23.1v21.5h-23.1zM2309.8 757h23.1v21.5h-23.1zM1663 778.5h46.2v21.5h-46.2zM2286.8 778.5h46.2v21.5h-46.2zM1686.2 799.9h46.2v21.5h-46.2zM2263.7 799.9h46.2v21.5h-46.2zM1709.2 821.4h46.2v21.5h-46.2zM2240.6 821.4h46.2v21.5h-46.2zM1732.3 842.9h46.2v21.5h-46.2zM2217.4 842.9h46.2v21.5h-46.2zM1755.5 864.3h69.3v21.5h-69.3zM2171.2 864.3h69.3v21.5h-69.3zM1801.7 885.8h115.5v21.5h-115.5zM2078.8 885.8h115.5v21.5h-115.5zM1871 907.3h254.1v21.5h-254.1z"/>
<path fill="#1c1c1c" d="M1917.2 70h161.7v21.5h-161.7zM1824.8 91.5h184.8v21.5h-184.8zM2032.7 91.5h138.6v21.5h-138.6zM1778.5 113h69.3v21.5h-69.3zM2148.2 113h69.3v21.5h-69.3zM1755.5 134.4h46.2v21.5h-46.2zM2194.3 134.4h46.2v21.5h-46.2zM1732.3 155.9h46.2v21.5h-46.2zM2217.4 155.9h46.2v21.5h-46.2zM1709.2 177.4h46.2v21.5h-46.2zM2263.7 177.4h23.1v21.5h-23.1zM1686.2 198.8h46.2v21.5h-46.2zM2263.7 198.8h46.2v21.5h-46.2zM1686.2 220.3h23.1v21.5h-23.1zM2286.8 220.3h23.1v21.5h-23.1zM1663 241.8h23.1v21.5h-23.1zM2309.8 241.8h23.1v21.5h-23.1zM1663 263.2h23.1v21.5h-23.1zM2309.8 263.2h23.1v21.5h-23.1zM1663 284.7h23.1v21.5h-23.1zM2332.9 284.7h23.1v21.5h-23.1zM1640 306.2h23.1v21.5h-23.1zM2332.9 306.2h23.1v21.5h-23.1zM1640 327.6h23.1v21.5h-23.1zM2332.9 327.6h23.1v21.5h-23.1zM2332.9 349.1h23.1v21.5h-23.1zM2356.1 370.6h23.1v21.5h-23.1zM1616.8 392h23.1v21.5h-23.1zM2356.1 392h23.1v21.5h-23.1zM1616.8 413.5h23.1v21.5h-23.1zM2356.1 413.5h23.1v21.5h-23.1zM1616.8 435h23.1v21.5h-23.1zM2356.1 435h23.1v21.5h-23.1zM1616.8 456.4h23.1v21.5h-23.1zM2356.1 456.4h23.1v21.5h-23.1zM1616.8 477.9h23.1v21.5h-23.1zM2356.1 477.9h23.1v21.5h-23.1zM1616.8 499.4h23.1v21.5h-23.1zM2356.1 499.4h23.1v21.5h-23.1zM1616.8 520.9h23.1v21.5h-23.1zM2356.1 520.9h23.1v21.5h-23.1zM1616.8 542.3h23.1v21.5h-23.1zM2356.1 542.3h23.1v21.5h-23.1zM1616.8 563.8h23.1v21.5h-23.1zM2356.1 563.8h23.1v21.5h-23.1zM1640 585.3h23.1v21.5h-23.1zM1640 606.7h23.1v21.5h-23.1zM2332.9 606.7h23.1v21.5h-23.1zM1640 628.2h23.1v21.5h-23.1zM2332.9 628.2h23.1v21.5h-23.1zM1640 649.7h23.1v21.5h-23.1zM2332.9 649.7h23.1v21.5h-23.1zM1640 671.1h23.1v21.5h-23.1zM2309.8 671.1h46.2v21.5h-46.2zM1663 692.6h23.1v21.5h-23.1zM2309.8 692.6h23.1v21.5h-23.1zM1663 714.1h23.1v21.5h-23.1zM2309.8 714.1h23.1v21.5h-23.1zM1686.2 735.5h23.1v21.5h-23.1zM2286.8 735.5h23.1v21.5h-23.1zM1686.2 757h46.2v21.5h-46.2zM2263.7 757h46.2v21.5h-46.2zM1709.2 778.5h23.1v21.5h-23.1zM2240.6 778.5h46.2v21.5h-46.2zM1732.3 799.9h46.2v21.5h-46.2zM2217.4 799.9h46.2v21.5h-46.2zM1755.5 821.4h46.2v21.5h-46.2zM2194.3 821.4h46.2v21.5h-46.2zM1778.5 842.9h92.4v21.5h-92.4zM2148.2 842.9h69.3v21.5h-69.3zM1824.8 864.3h346.5v21.5h-346.5zM1917.2 885.8h161.7v21.5h-161.7z"/>
<path fill="#242424" d="M2009.6 91.5h23.1v21.5h-23.1zM1847.8 113h161.7v21.5h-161.7zM2032.7 113h115.5v21.5h-115.5zM1801.7 134.4h69.3v21.5h-69.3zM2101.9 134.4h92.4v21.5h-92.4zM1778.5 155.9h46.2v21.5h-46.2zM2171.2 155.9h46.2v21.5h-46.2zM1755.5 177.4h23.1v21.5h-23.1zM2217.4 177.4h46.2v21.5h-46.2zM1732.3 198.8h23.1v21.5h-23.1zM2240.6 198.8h23.1v21.5h-23.1zM1709.2 220.3h23.1v21.5h-23.1zM2263.7 220.3h23.1v21.5h-23.1zM1686.2 241.8h46.2v21.5h-46.2zM2263.7 241.8h46.2v21.5h-46.2zM1686.2 263.2h23.1v21.5h-23.1zM2286.8 263.2h23.1v21.5h-23.1zM1686.2 284.7h23.1v21.5h-23.1zM2309.8 284.7h23.1v21.5h-23.1zM1663 306.2h23.1v21.5h-23.1zM2309.8 306.2h23.1v21.5h-23.1zM1663 327.6h23.1v21.5h-23.1zM2309.8 327.6h23.1v21.5h-23.1zM1640 349.1h23.1v21.5h-23.1zM2309.8 349.1h23.1v21.5h-23.1zM1640 370.6h23.1v21.5h-23.1zM2332.9 370.6h23.1v21.5h-23.1zM1640 392h23.1v21.5h-23.1zM2332.9 392h23.1v21.5h-23.1zM1640 413.5h23.1v21.5h-23.1zM2332.9 413.5h23.1v21.5h-23.1zM1640 435h23.1v21.5h-23.1zM2332.9 435h23.1v21.5h-23.1zM1640 456.4h23.1v21.5h-23.1zM2332.9 520.9h23.1v21.5h-23.1zM1640 542.3h23.1v21.5h-23.1zM2332.9 542.3h23.1v21.5h-23.1zM1640 563.8h23.1v21.5h-23.1zM2332.9 563.8h23.1v21.5h-23.1zM2332.9 585.3h23.1v21.5h-23.1zM1663 606.7h23.1v21.5h-23.1zM1663 628.2h23.1v21.5h-23.1zM2309.8 628.2h23.1v21.5h-23.1zM1663 649.7h23.1v21.5h-23.1zM2309.8 649.7h23.1v21.5h-23.1zM1663 671.1h46.2v21.5h-46.2zM2286.8 671.1h23.1v21.5h-23.1zM1686.2 692.6h23.1v21.5h-23.1zM2286.8 692.6h23.1v21.5h-23.1zM1686.2 714.1h46.2v21.5h-46.2zM2263.7 714.1h46.2v21.5h-46.2zM1709.2 735.5h23.1v21.5h-23.1zM2263.7 735.5h23.1v21.5h-23.1zM1732.3 757h23.1v21.5h-23.1zM2240.6 757h23.1v21.5h-23.1zM1732.3 778.5h69.3v21.5h-69.3zM2217.4 778.5h23.1v21.5h-23.1zM1778.5 799.9h46.2v21.5h-46.2zM2171.2 799.9h46.2v21.5h-46.2zM1801.7 821.4h92.4v21.5h-92.4zM2125.1 821.4h69.3v21.5h-69.3zM1871 842.9h277.2v21.5h-277.2z"/>
<path fill="#2c2c2c" d="M2009.6 113h23.1v21.5h-23.1zM1871 134.4h138.6v21.5h-138.6zM2032.7 134.4h69.3v21.5h-69.3zM1824.8 155.9h69.3v21.5h-69.3zM2101.9 155.9h69.3v21.5h-69.3zM1778.5 177.4h46.2v21.5h-46.2zM2148.2 177.4h69.3v21.5h-69.3zM1755.5 198.8h46.2v21.5h-46.2zM2194.3 198.8h46.2v21.5h-46.2zM1732.3 220.3h46.2v21.5h-46.2zM2217.4 220.3h46.2v21.5h-46.2zM1732.3 241.8h23.1v21.5h-23.1zM2240.6 241.8h23.1v21.5h-23.1zM1709.2 263.2h23.1v21.5h-23.1zM2263.7 263.2h23.1v21.5h-23.1zM2263.7 284.7h46.2v21.5h-46.2zM1686.2 306.2h23.1v21.5h-23.1zM2286.8 306.2h23.1v21.5h-23.1zM1686.2 327.6h23.1v21.5h-23.1zM2286.8 327.6h23.1v21.5h-23.1zM1663 349.1h23.1v21.5h-23.1zM1663 370.6h23.1v21.5h-23.1zM2309.8 370.6h23.1v21.5h-23.1zM1663 392h23.1v21.5h-23.1zM2309.8 392h23.1v21.5h-23.1zM1663 413.5h23.1v21.5h-23.1zM2332.9 456.4h23.1v21.5h-23.1zM1640 477.9h23.1v21.5h-23.1zM2332.9 477.9h23.1v21.5h-23.1zM1640 499.4h23.1v21.5h-23.1zM2332.9 499.4h23.1v21.5h-23.1zM1640 520.9h23.1v21.5h-23.1zM2309.8 542.3h23.1v21.5h-23.1zM1663 563.8h23.1v21.5h-23.1zM2309.8 563.8h23.1v21.5h-23.1zM1663 585.3h23.1v21.5h-23.1zM2309.8 585.3h23.1v21.5h-23.1zM2309.8 606.7h23.1v21.5h-23.1zM1686.2 628.2h23.1v21.5h-23.1zM2286.8 628.2h23.1v21.5h-23.1zM1686.2 649.7h23.1v21.5h-23.1zM2286.8 649.7h23.1v21.5h-23.1zM1709.2 671.1h23.1v21.5h-23.1zM1709.2 692.6h23.1v21.5h-23.1zM2263.7 692.6h23.1v21.5h-23.1zM1732.3 714.1h23.1v21.5h-23.1zM2240.6 714.1h23.1v21.5h-23.1zM1732.3 735.5h46.2v21.5h-46.2zM2217.4 735.5h46.2v21.5h-46.2zM1755.5 757h46.2v21.5h-46.2zM2194.3 757h46.2v21.5h-46.2zM1801.7 778.5h46.2v21.5h-46.2zM2171.2 778.5h46.2v21.5h-46.2zM1824.8 799.9h69.3v21.5h-69.3zM2101.9 799.9h69.3v21.5h-69.3zM1894 821.4h231v21.5h-231z"/>
<path fill="#343434" d="M2009.6 134.4h23.1v21.5h-23.1zM1894 155.9h69.3v21.5h-69.3zM2009.6 155.9h92.4v21.5h-92.4zM1824.8 177.4h69.3v21.5h-69.3zM2101.9 177.4h46.2v21.5h-46.2zM1801.7 198.8h46.2v21.5h-46.2zM2148.2 198.8h46.2v21.5h-46.2zM1778.5 220.3h23.1v21.5h-23.1zM2194.3 220.3h23.1v21.5h-23.1zM1755.5 241.8h23.1v21.5h-23.1zM2217.4 241.8h23.1v21.5h-23.1zM1732.3 263.2h23.1v21.5h-23.1zM2240.6 263.2h23.1v21.5h-23.1zM1709.2 284.7h23.1v21.5h-23.1zM2240.6 284.7h23.1v21.5h-23.1zM1709.2 306.2h23.1v21.5h-23.1zM2263.7 306.2h23.1v21.5h-23.1zM1709.2 327.6h23.1v21.5h-23.1zM1686.2 349.1h23.1v21.5h-23.1zM2286.8 349.1h23.1v21.5h-23.1zM1686.2 370.6h23.1v21.5h-23.1zM2286.8 370.6h23.1v21.5h-23.1zM2309.8 413.5h23.1v21.5h-23.1zM1663 435h23.1v21.5h-23.1zM2309.8 435h23.1v21.5h-23.1zM1663 456.4h23.1v21.5h-23.1zM2309.8 456.4h23.1v21.5h-23.1zM1663 477.9h23.1v21.5h-23.1zM2309.8 477.9h23.1v21.5h-23.1zM1663 499.4h23.1v21.5h-23.1zM2309.8 499.4h23.1v21.5h-23.1zM1663 520.9h23.1v21.5h-23.1zM2309.8 520.9h23.1v21.5h-23.1zM1663 542.3h23.1v21.5h-23.1zM1686.2 585.3h23.1v21.5h-23.1zM2286.8 585.3h23.1v21.5h-23.1zM1686.2 606.7h23.1v21.5h-23.1zM2286.8 606.7h23.1v21.5h-23.1zM1709.2 649.7h23.1v21.5h-23.1zM2263.7 649.7h23.1v21.5h-23.1zM1732.3 671.1h23.1v21.5h-23.1zM2263.7 671.1h23.1v21.5h-23.1zM1732.3 692.6h23.1v21.5h-23.1zM2240.6 692.6h23.1v21.5h-23.1zM1755.5 714.1h23.1v21.5h-23.1zM2217.4 714.1h23.1v21.5h-23.1zM1778.5 735.5h23.1v21.5h-23.1zM2194.3 735.5h23.1v21.5h-23.1zM1801.7 757h46.2v21.5h-46.2zM2171.2 757h23.1v21.5h-23.1zM1847.8 778.5h23.1v21.5h-23.1zM2078.8 778.5h92.4v21.5h-92.4zM1894 799.9h92.4v21.5h-92.4zM2032.7 799.9h69.3v21.5h-69.3z"/>
<path fill="#3c3c3c" d="M1963.3 155.9h46.2v21.5h-46.2zM1894 177.4h46.2v21.5h-46.2zM2032.7 177.4h69.3v21.5h-69.3zM1847.8 198.8h46.2v21.5h-46.2zM2125.1 198.8h23.1v21.5h-23.1zM1801.7 220.3h46.2v21.5h-46.2zM2148.2 220.3h46.2v21.5h-46.2zM1778.5 241.8h23.1v21.5h-23.1zM2194.3 241.8h23.1v21.5h-23.1zM1755.5 263.2h23.1v21.5h-23.1zM2217.4 263.2h23.1v21.5h-23.1zM1732.3 284.7h23.1v21.5h-23.1zM2217.4 284.7h23.1v21.5h-23.1zM1732.3 306.2h23.1v21.5h-23.1zM2240.6 306.2h23.1v21.5h-23.1zM2263.7 327.6h23.1v21.5h-23.1zM1709.2 349.1h23.1v21.5h-23.1zM2263.7 349.1h23.1v21.5h-23.1zM1709.2 370.6h23.1v21.5h-23.1zM1686.2 392h23.1v21.5h-23.1zM2286.8 392h23.1v21.5h-23.1zM1686.2 413.5h23.1v21.5h-23.1zM2286.8 413.5h23.1v21.5h-23.1zM2286.8 520.9h23.1v21.5h-23.1zM1686.2 542.3h23.1v21.5h-23.1zM2286.8 542.3h23.1v21.5h-23.1zM1686.2 563.8h23.1v21.5h-23.1zM2286.8 563.8h23.1v21.5h-23.1zM1709.2 606.7h23.1v21.5h-23.1zM2263.7 606.7h23.1v21.5h-23.1zM1709.2 628.2h23.1v21.5h-23.1zM2263.7 628.2h23.1v21.5h-23.1zM1732.3 649.7h23.1v21.5h-23.1zM2240.6 649.7h23.1v21.5h-23.1zM1755.5 671.1h23.1v21.5h-23.1zM2240.6 671.1h23.1v21.5h-23.1zM1755.5 692.6h23.1v21.5h-23.1zM2217.4 692.6h23.1v21.5h-23.1zM1778.5 714.1h23.1v21.5h-23.1zM2194.3 714.1h23.1v21.5h-23.1zM1801.7 735.5h46.2v21.5h-46.2zM2148.2 735.5h46.2v21.5h-46.2zM1847.8 757h23.1v21.5h-23.1zM2078.8 757h92.4v21.5h-92.4zM1871 778.5h92.4v21.5h-92.4zM2055.8 778.5h23.1v21.5h-23.1zM1986.5 799.9h46.2v21.5h-46.2z"/>
<path fill="#444444" d="M1940.2 177.4h92.4v21.5h-92.4zM1894 198.8h46.2v21.5h-46.2zM2032.7 198.8h92.4v21.5h-92.4zM1847.8 220.3h46.2v21.5h-46.2zM2125.1 220.3h23.1v21.5h-23.1zM1801.7 241.8h46.2v21.5h-46.2zM2148.2 241.8h46.2v21.5h-46.2zM1778.5 263.2h46.2v21.5h-46.2zM2194.3 263.2h23.1v21.5h-23.1zM1755.5 284.7h46.2v21.5h-46.2zM1755.5 306.2h23.1v21.5h-23.1zM2217.4 306.2h23.1v21.5h-23.1zM1732.3 327.6h23.1v21.5h-23.1zM2240.6 327.6h23.1v21.5h-23.1zM1732.3 349.1h23.1v21.5h-23.1zM2263.7 370.6h23.1v21.5h-23.1zM1709.2 392h23.1v21.5h-23.1zM2263.7 392h23.1v21.5h-23.1zM1686.2 435h23.1v21.5h-23.1zM2286.8 435h23.1v21.5h-23.1zM1686.2 456.4h23.1v21.5h-23.1zM2286.8 456.4h23.1v21.5h-23.1zM1686.2 477.9h23.1v21.5h-23.1zM2286.8 477.9h23.1v21.5h-23.1zM1686.2 499.4h23.1v21.5h-23.1zM2286.8 499.4h23.1v21.5h-23.1zM1686.2 520.9h23.1v21.5h-23.1zM1709.2 563.8h23.1v21.5h-23.1zM2263.7 563.8h23.1v21.5h-23.1zM1709.2 585.3h23.1v21.5h-23.1zM2263.7 585.3h23.1v21.5h-23.1zM2240.6 606.7h23.1v21.5h-23.1zM1732.3 628.2h23.1v21.5h-23.1zM2240.6 628.2h23.1v21.5h-23.1zM1755.5 649.7h23.1v21.5h-23.1zM2217.4 671.1h23.1v21.5h-23.1zM1778.5 692.6h23.1v21.5h-23.1zM2171.2 692.6h46.2v21.5h-46.2zM1801.7 714.1h46.2v21.5h-46.2zM2148.2 714.1h46.2v21.5h-46.2zM1847.8 735.5h23.1v21.5h-23.1zM2101.9 735.5h46.2v21.5h-46.2zM1871 757h92.4v21.5h-92.4zM2055.8 757h23.1v21.5h-23.1zM1963.3 778.5h92.4v21.5h-92.4z"/>
<path fill="#4c4c4c" d="M1940.2 198.8h92.4v21.5h-92.4zM1894 220.3h23.1v21.5h-23.1zM2078.8 220.3h46.2v21.5h-46.2zM1847.8 241.8h23.1v21.5h-23.1zM2125.1 241.8h23.1v21.5h-23.1zM2171.2 263.2h23.1v21.5h-23.1zM2194.3 284.7h23.1v21.5h-23.1zM1755.5 327.6h23.1v21.5h-23.1zM2240.6 349.1h23.1v21.5h-23.1zM1732.3 370.6h23.1v21.5h-23.1zM1709.2 413.5h23.1v21.5h-23.1zM2263.7 413.5h23.1v21.5h-23.1zM2263.7 435h23.1v21.5h-23.1zM1709.2 520.9h23.1v21.5h-23.1zM1709.2 542.3h23.1v21.5h-23.1zM2263.7 542.3h23.1v21.5h-23.1zM2240.6 585.3h23.1v21.5h-23.1zM1732.3 606.7h23.1v21.5h-23.1zM1755.5 628.2h23.1v21.5h-23.1zM2217.4 628.2h23.1v21.5h-23.1zM2217.4 649.7h23.1v21.5h-23.1zM1778.5 671.1h23.1v21.5h-23.1zM2194.3 671.1h23.1v21.5h-23.1zM1801.7 692.6h23.1v21.5h-23.1zM2148.2 692.6h23.1v21.5h-23.1zM1847.8 714.1h23.1v21.5h-23.1zM2125.1 714.1h23.1v21.5h-23.1zM1871 735.5h46.2v21.5h-46.2zM2078.8 735.5h23.1v21.5h-23.1zM1963.3 757h23.1v21.5h-23.1zM2032.7 757h23.1v21.5h-23.1z"/>
<path fill="#545454" d="M1917.2 220.3h46.2v21.5h-46.2zM2032.7 220.3h46.2v21.5h-46.2zM1871 241.8h23.1v21.5h-23.1zM2101.9 241.8h23.1v21.5h-23.1zM1824.8 263.2h23.1v21.5h-23.1zM2148.2 263.2h23.1v21.5h-23.1zM1801.7 284.7h23.1v21.5h-23.1zM2171.2 284.7h23.1v21.5h-23.1zM1778.5 306.2h23.1v21.5h-23.1zM2194.3 306.2h23.1v21.5h-23.1zM2217.4 327.6h23.1v21.5h-23.1zM1755.5 349.1h23.1v21.5h-23.1zM2240.6 370.6h23.1v21.5h-23.1zM1732.3 392h23.1v21.5h-23.1zM2240.6 392h23.1v21.5h-23.1zM1709.2 435h23.1v21.5h-23.1zM1709.2 456.4h23.1v21.5h-23.1zM2263.7 456.4h23.1v21.5h-23.1zM1709.2 477.9h23.1v21.5h-23.1zM2263.7 477.9h23.1v21.5h-23.1zM1709.2 499.4h23.1v21.5h-23.1zM2263.7 499.4h23.1v21.5h-23.1zM2263.7 520.9h23.1v21.5h-23.1zM1732.3 563.8h23.1v21.5h-23.1zM2240.6 563.8h23.1v21.5h-23.1zM1732.3 585.3h23.1v21.5h-23.1zM1755.5 606.7h23.1v21.5h-23.1zM2217.4 606.7h23.1v21.5h-23.1zM1778.5 649.7h23.1v21.5h-23.1zM2194.3 649.7h23.1v21.5h-23.1zM1801.7 671.1h23.1v21.5h-23.1zM2171.2 671.1h23.1v21.5h-23.1zM1824.8 692.6h46.2v21.5h-46.2zM1871 714.1h23.1v21.5h-23.1zM2101.9 714.1h23.1v21.5h-23.1zM1917.2 735.5h46.2v21.5h-46.2zM2032.7 735.5h46.2v21.5h-46.2zM1986.5 757h46.2v21.5h-46.2z"/>
<path fill="#5c5c5c" d="M1963.3 220.3h69.3v21.5h-69.3zM1894 241.8h46.2v21.5h-46.2zM2055.8 241.8h46.2v21.5h-46.2zM1847.8 263.2h23.1v21.5h-23.1zM2101.9 263.2h46.2v21.5h-46.2zM1824.8 284.7h23.1v21.5h-23.1zM2148.2 284.7h23.1v21.5h-23.1zM1801.7 306.2h23.1v21.5h-23.1zM2171.2 306.2h23.1v21.5h-23.1zM1778.5 327.6h23.1v21.5h-23.1zM2194.3 327.6h23.1v21.5h-23.1zM2217.4 349.1h23.1v21.5h-23.1zM1755.5 370.6h23.1v21.5h-23.1zM1732.3 413.5h23.1v21.5h-23.1zM2240.6 413.5h23.1v21.5h-23.1zM2240.6 435h23.1v21.5h-23.1zM1732.3 520.9h23.1v21.5h-23.1zM1732.3 542.3h23.1v21.5h-23.1zM2240.6 542.3h23.1v21.5h-23.1zM1755.5 585.3h23.1v21.5h-23.1zM2217.4 585.3h23.1v21.5h-23.1zM1778.5 628.2h23.1v21.5h-23.1zM2194.3 628.2h23.1v21.5h-23.1zM1801.7 649.7h23.1v21.5h-23.1zM2171.2 649.7h23.1v21.5h-23.1zM1824.8 671.1h23.1v21.5h-23.1zM2148.2 671.1h23.1v21.5h-23.1zM1871 692.6h23.1v21.5h-23.1zM2125.1 692.6h23.1v21.5h-23.1zM1894 714.1h46.2v21.5h-46.2zM2055.8 714.1h46.2v21.5h-46.2zM1963.3 735.5h69.3v21.5h-69.3z"/>
<path fill="#646464" d="M1940.2 241.8h23.1v21.5h-23.1zM2032.7 241.8h23.1v21.5h-23.1zM1871 263.2h23.1v21.5h-23.1zM2078.8 263.2h23.1v21.5h-23.1zM2125.1 284.7h23.1v21.5h-23.1zM1778.5 349.1h23.1v21.5h-23.1zM2194.3 349.1h23.1v21.5h-23.1zM2217.4 370.6h23.1v21.5h-23.1zM1755.5 392h23.1v21.5h-23.1zM2217.4 392h23.1v21.5h-23.1zM1732.3 435h23.1v21.5h-23.1zM1732.3 456.4h23.1v21.5h-23.1zM2240.6 456.4h23.1v21.5h-23.1zM1732.3 477.9h23.1v21.5h-23.1zM2240.6 477.9h23.1v21.5h-23.1zM1732.3 499.4h23.1v21.5h-23.1zM2240.6 499.4h23.1v21.5h-23.1zM2240.6 520.9h23.1v21.5h-23.1zM1755.5 563.8h23.1v21.5h-23.1zM2217.4 563.8h23.1v21.5h-23.1zM1778.5 606.7h23.1v21.5h-23.1zM2194.3 606.7h23.1v21.5h-23.1zM1847.8 671.1h23.1v21.5h-23.1zM2125.1 671.1h23.1v21.5h-23.1zM1894 692.6h23.1v21.5h-23.1zM2101.9 692.6h23.1v21.5h-23.1zM1940.2 714.1h23.1v21.5h-23.1zM2032.7 714.1h23.1v21.5h-23.1z"/>
<path fill="#6c6c6c" d="M1963.3 241.8h69.3v21.5h-69.3zM1894 263.2h46.2v21.5h-46.2zM2055.8 263.2h23.1v21.5h-23.1zM1847.8 284.7h23.1v21.5h-23.1zM2101.9 284.7h23.1v21.5h-23.1zM1824.8 306.2h23.1v21.5h-23.1zM2148.2 306.2h23.1v21.5h-23.1zM1801.7 327.6h23.1v21.5h-23.1zM2171.2 327.6h23.1v21.5h-23.1zM2194.3 370.6h23.1v21.5h-23.1zM1755.5 413.5h23.1v21.5h-23.1zM2217.4 413.5h23.1v21.5h-23.1zM2217.4 435h23.1v21.5h-23.1zM1755.5 542.3h23.1v21.5h-23.1zM2217.4 542.3h23.1v21.5h-23.1zM1778.5 585.3h23.1v21.5h-23.1zM2194.3 585.3h23.1v21.5h-23.1zM1801.7 628.2h23.1v21.5h-23.1zM2171.2 628.2h23.1v21.5h-23.1zM1824.8 649.7h23.1v21.5h-23.1zM2148.2 649.7h23.1v21.5h-23.1zM1871 671.1h23.1v21.5h-23.1zM2055.8 692.6h46.2v21.5h-46.2zM1963.3 714.1h69.3v21.5h-69.3z"/>
<path fill="#747474" d="M1940.2 263.2h46.2v21.5h-46.2zM2032.7 263.2h23.1v21.5h-23.1zM1871 284.7h23.1v21.5h-23.1zM2078.8 284.7h23.1v21.5h-23.1zM1847.8 306.2h23.1v21.5h-23.1zM2125.1 306.2h23.1v21.5h-23.1zM2148.2 327.6h23.1v21.5h-23.1zM2171.2 349.1h23.1v21.5h-23.1zM1778.5 370.6h23.1v21.5h-23.1zM2194.3 392h23.1v21.5h-23.1zM1755.5 435h23.1v21.5h-23.1zM1755.5 456.4h23.1v21.5h-23.1zM2217.4 456.4h23.1v21.5h-23.1zM1755.5 499.4h23.1v21.5h-23.1zM1755.5 520.9h23.1v21.5h-23.1zM2217.4 520.9h23.1v21.5h-23.1zM1778.5 563.8h23.1v21.5h-23.1zM2194.3 563.8h23.1v21.5h-23.1zM1801.7 606.7h23.1v21.5h-23.1zM1824.8 628.2h23.1v21.5h-23.1zM1847.8 649.7h23.1v21.5h-23.1zM2125.1 649.7h23.1v21.5h-23.1zM1894 671.1h23.1v21.5h-23.1zM2101.9 671.1h23.1v21.5h-23.1zM1917.2 692.6h46.2v21.5h-46.2zM2009.6 692.6h46.2v21.5h-46.2z"/>
<path fill="#7c7c7c" d="M1986.5 263.2h46.2v21.5h-46.2zM1894 284.7h23.1v21.5h-23.1zM1824.8 327.6h23.1v21.5h-23.1zM1801.7 349.1h23.1v21.5h-23.1zM2171.2 370.6h23.1v21.5h-23.1zM1778.5 392h23.1v21.5h-23.1zM1778.5 413.5h23.1v21.5h-23.1zM2194.3 413.5h23.1v21.5h-23.1zM1755.5 477.9h23.1v21.5h-23.1zM2217.4 477.9h23.1v21.5h-23.1zM2217.4 499.4h23.1v21.5h-23.1zM2194.3 542.3h23.1v21.5h-23.1zM1801.7 585.3h23.1v21.5h-23.1zM2171.2 606.7h23.1v21.5h-23.1zM2148.2 628.2h23.1v21.5h-23.1zM2078.8 671.1h23.1v21.5h-23.1zM1963.3 692.6h46.2v21.5h-46.2z"/>
<path fill="#848484" d="M1917.2 284.7h46.2v21.5h-46.2zM2055.8 284.7h23.1v21.5h-23.1zM1871 306.2h23.1v21.5h-23.1zM2101.9 306.2h23.1v21.5h-23.1zM1847.8 327.6h23.1v21.5h-23.1zM2125.1 327.6h23.1v21.5h-23.1zM1824.8 349.1h23.1v21.5h-23.1zM2148.2 349.1h23.1v21.5h-23.1zM1801.7 370.6h23.1v21.5h-23.1zM1778.5 435h23.1v21.5h-23.1zM2194.3 435h23.1v21.5h-23.1zM2194.3 520.9h23.1v21.5h-23.1zM1778.5 542.3h23.1v21.5h-23.1zM2171.2 585.3h23.1v21.5h-23.1zM1824.8 606.7h23.1v21.5h-23.1zM1847.8 628.2h23.1v21.5h-23.1zM2125.1 628.2h23.1v21.5h-23.1zM1871 649.7h23.1v21.5h-23.1zM2101.9 649.7h23.1v21.5h-23.1zM1917.2 671.1h23.1v21.5h-23.1zM2032.7 671.1h46.2v21.5h-46.2z"/>
<path fill="#8c8c8c" d="M1963.3 284.7h92.4v21.5h-92.4zM1894 306.2h23.1v21.5h-23.1zM2078.8 306.2h23.1v21.5h-23.1zM1801.7 392h23.1v21.5h-23.1zM2171.2 392h23.1v21.5h-23.1zM1778.5 456.4h23.1v21.5h-23.1zM2194.3 456.4h23.1v21.5h-23.1zM1778.5 477.9h23.1v21.5h-23.1zM2194.3 477.9h23.1v21.5h-23.1zM1778.5 499.4h23.1v21.5h-23.1zM2194.3 499.4h23.1v21.5h-23.1zM1778.5 520.9h23.1v21.5h-23.1zM1801.7 563.8h23.1v21.5h-23.1zM2171.2 563.8h23.1v21.5h-23.1zM2148.2 606.7h23.1v21.5h-23.1zM1894 649.7h23.1v21.5h-23.1zM2078.8 649.7h23.1v21.5h-23.1zM1940.2 671.1h92.4v21.5h-92.4z"/>
<path fill="#949494" d="M1917.2 306.2h23.1v21.5h-23.1zM2055.8 306.2h23.1v21.5h-23.1zM1871 327.6h23.1v21.5h-23.1zM2101.9 327.6h23.1v21.5h-23.1zM1847.8 349.1h23.1v21.5h-23.1zM2125.1 349.1h23.1v21.5h-23.1zM1824.8 370.6h23.1v21.5h-23.1zM2148.2 370.6h23.1v21.5h-23.1zM1801.7 413.5h23.1v21.5h-23.1zM2171.2 413.5h23.1v21.5h-23.1zM1801.7 542.3h23.1v21.5h-23.1zM2171.2 542.3h23.1v21.5h-23.1zM1824.8 585.3h23.1v21.5h-23.1zM2148.2 585.3h23.1v21.5h-23.1zM1847.8 606.7h23.1v21.5h-23.1zM2125.1 606.7h23.1v21.5h-23.1zM1871 628.2h23.1v21.5h-23.1zM2101.9 628.2h23.1v21.5h-23.1zM1917.2 649.7h23.1v21.5h-23.1zM2055.8 649.7h23.1v21.5h-23.1z"/>
<path fill="#9c9c9c" d="M1940.2 306.2h23.1v21.5h-23.1zM2032.7 306.2h23.1v21.5h-23.1zM1894 327.6h23.1v21.5h-23.1zM1824.8 392h23.1v21.5h-23.1zM2148.2 392h23.1v21.5h-23.1zM1801.7 435h23.1v21.5h-23.1zM2171.2 435h23.1v21.5h-23.1zM1801.7 456.4h23.1v21.5h-23.1zM2171.2 499.4h23.1v21.5h-23.1zM1801.7 520.9h23.1v21.5h-23.1zM2171.2 520.9h23.1v21.5h-23.1zM1824.8 563.8h23.1v21.5h-23.1zM2148.2 563.8h23.1v21.5h-23.1zM1894 628.2h23.1v21.5h-23.1zM2078.8 628.2h23.1v21.5h-23.1zM1940.2 649.7h23.1v21.5h-23.1zM2009.6 649.7h46.2v21.5h-46.2z"/>
<path fill="#a4a4a4" d="M1963.3 306.2h69.3v21.5h-69.3zM2078.8 327.6h23.1v21.5h-23.1zM1871 349.1h23.1v21.5h-23.1zM2101.9 349.1h23.1v21.5h-23.1zM1847.8 370.6h23.1v21.5h-23.1zM2125.1 370.6h23.1v21.5h-23.1zM2171.2 456.4h23.1v21.5h-23.1zM1801.7 477.9h23.1v21.5h-23.1zM2171.2 477.9h23.1v21.5h-23.1zM1801.7 499.4h23.1v21.5h-23.1zM2148.2 542.3h23.1v21.5h-23.1zM1847.8 585.3h23.1v21.5h-23.1zM2125.1 585.3h23.1v21.5h-23.1zM1871 606.7h23.1v21.5h-23.1zM2101.9 606.7h23.1v21.5h-23.1zM1963.3 649.7h46.2v21.5h-46.2z"/>
<path fill="#acacac" d="M1917.2 327.6h23.1v21.5h-23.1zM2055.8 327.6h23.1v21.5h-23.1zM1824.8 413.5h23.1v21.5h-23.1zM2148.2 413.5h23.1v21.5h-23.1zM1824.8 435h23.1v21.5h-23.1zM2148.2 520.9h23.1v21.5h-23.1zM1824.8 542.3h23.1v21.5h-23.1zM2078.8 606.7h23.1v21.5h-23.1zM1917.2 628.2h46.2v21.5h-46.2zM2055.8 628.2h23.1v21.5h-23.1z"/>
<path fill="#b4b4b4" d="M1940.2 327.6h115.5v21.5h-115.5zM1894 349.1h23.1v21.5h-23.1zM2078.8 349.1h23.1v21.5h-23.1zM1871 370.6h23.1v21.5h-23.1zM2101.9 370.6h23.1v21.5h-23.1zM1847.8 392h23.1v21.5h-23.1zM2125.1 392h23.1v21.5h-23.1zM2148.2 435h23.1v21.5h-23.1zM1824.8 456.4h23.1v21.5h-23.1zM2148.2 456.4h23.1v21.5h-23.1zM1824.8 477.9h23.1v21.5h-23.1zM2148.2 477.9h23.1v21.5h-23.1zM1824.8 499.4h23.1v21.5h-23.1zM2148.2 499.4h23.1v21.5h-23.1zM1824.8 520.9h23.1v21.5h-23.1zM1847.8 563.8h23.1v21.5h-23.1zM2125.1 563.8h23.1v21.5h-23.1zM1871 585.3h23.1v21.5h-23.1zM2101.9 585.3h23.1v21.5h-23.1zM1894 606.7h23.1v21.5h-23.1zM1963.3 628.2h92.4v21.5h-92.4z"/>
<path fill="#bcbcbc" d="M1917.2 349.1h23.1v21.5h-23.1zM2055.8 349.1h23.1v21.5h-23.1zM1847.8 413.5h23.1v21.5h-23.1zM2125.1 413.5h23.1v21.5h-23.1zM1847.8 542.3h23.1v21.5h-23.1zM2125.1 542.3h23.1v21.5h-23.1zM1917.2 606.7h23.1v21.5h-23.1zM2055.8 606.7h23.1v21.5h-23.1z"/>
<path fill="#c4c4c4" d="M1940.2 349.1h23.1v21.5h-23.1zM2032.7 349.1h23.1v21.5h-23.1zM1894 370.6h23.1v21.5h-23.1zM2078.8 370.6h23.1v21.5h-23.1zM1871 392h23.1v21.5h-23.1zM2101.9 392h23.1v21.5h-23.1zM1847.8 435h23.1v21.5h-23.1zM2125.1 435h23.1v21.5h-23.1zM1847.8 520.9h23.1v21.5h-23.1zM2125.1 520.9h23.1v21.5h-23.1zM1871 563.8h23.1v21.5h-23.1zM2101.9 563.8h23.1v21.5h-23.1zM1894 585.3h23.1v21.5h-23.1zM2078.8 585.3h23.1v21.5h-23.1zM1940.2 606.7h23.1v21.5h-23.1zM2032.7 606.7h23.1v21.5h-23.1z"/>
<path fill="#cccccc" d="M1963.3 349.1h69.3v21.5h-69.3zM1917.2 370.6h23.1v21.5h-23.1zM2055.8 370.6h23.1v21.5h-23.1zM1871 413.5h23.1v21.5h-23.1zM2101.9 413.5h23.1v21.5h-23.1zM1847.8 456.4h23.1v21.5h-23.1zM2125.1 456.4h23.1v21.5h-23.1zM1847.8 477.9h23.1v21.5h-23.1zM2125.1 477.9h23.1v21.5h-23.1zM1847.8 499.4h23.1v21.5h-23.1zM2125.1 499.4h23.1v21.5h-23.1zM1871 542.3h23.1v21.5h-23.1zM2101.9 542.3h23.1v21.5h-23.1zM1917.2 585.3h23.1v21.5h-23.1zM2055.8 585.3h23.1v21.5h-23.1zM1963.3 606.7h69.3v21.5h-69.3z"/>
<path fill="#d4d4d4" d="M1940.2 370.6h23.1v21.5h-23.1zM2032.7 370.6h23.1v21.5h-23.1zM1894 392h23.1v21.5h-23.1zM2078.8 392h23.1v21.5h-23.1zM1871 435h23.1v21.5h-23.1zM2101.9 435h23.1v21.5h-23.1zM1871 520.9h23.1v21.5h-23.1zM2101.9 520.9h23.1v21.5h-23.1zM1894 563.8h23.1v21.5h-23.1zM2078.8 563.8h23.1v21.5h-23.1zM1940.2 585.3h23.1v21.5h-23.1zM2032.7 585.3h23.1v21.5h-23.1z"/>
<path fill="#dcdcdc" d="M1963.3 370.6h69.3v21.5h-69.3zM1917.2 392h23.1v21.5h-23.1zM2055.8 392h23.1v21.5h-23.1zM1894 413.5h23.1v21.5h-23.1zM2078.8 413.5h23.1v21.5h-23.1zM1871 456.4h23.1v21.5h-23.1zM2101.9 456.4h23.1v21.5h-23.1zM1871 477.9h23.1v21.5h-23.1zM2101.9 477.9h23.1v21.5h-23.1zM1871 499.4h23.1v21.5h-23.1zM2101.9 499.4h23.1v21.5h-23.1zM1894 542.3h23.1v21.5h-23.1zM2078.8 542.3h23.1v21.5h-23.1zM1917.2 563.8h23.1v21.5h-23.1zM2055.8 563.8h23.1v21.5h-23.1zM1963.3 585.3h69.3v21.5h-69.3z"/>
<path fill="#e4e4e4" d="M1940.2 392h23.1v21.5h-23.1zM2032.7 392h23.1v21.5h-23.1zM1894 435h23.1v21.5h-23.1zM2078.8 435h23.1v21.5h-23.1zM1894 520.9h23.1v21.5h-23.1zM2078.8 520.9h23.1v21.5h-23.1zM1940.2 563.8h23.1v21.5h-23.1zM2032.7 563.8h23.1v21.5h-23.1z"/>
<path fill="#ececec" d="M1963.3 392h69.3v21.5h-69.3zM1917.2 413.5h46.2v21.5h-46.2zM2055.8 413.5h23.1v21.5h-23.1zM1917.2 435h23.1v21.5h-23.1zM1894 456.4h23.1v21.5h-23.1zM2078.8 456.4h23.1v21.5h-23.1zM1894 477.9h23.1v21.5h-23.1zM2078.8 477.9h23.1v21.5h-23.1zM1894 499.4h23.1v21.5h-23.1zM2078.8 499.4h23.1v21.5h-23.1zM1917.2 542.3h23.1v21.5h-23.1zM2032.7 542.3h46.2v21.5h-46.2zM1963.3 563.8h69.3v21.5h-69.3z"/>
<path fill="#f4f4f4" d="M1963.3 413.5h92.4v21.5h-92.4zM1940.2 435h23.1v21.5h-23.1zM2032.7 435h46.2v21.5h-46.2zM1917.2 456.4h23.1v21.5h-23.1zM2055.8 456.4h23.1v21.5h-23.1zM1917.2 477.9h23.1v21.5h-23.1zM2055.8 477.9h23.1v21.5h-23.1zM1917.2 499.4h23.1v21.5h-23.1zM2055.8 499.4h23.1v21.5h-23.1zM1917.2 520.9h46.2v21.5h-46.2zM2032.7 520.9h46.2v21.5h-46.2zM1940.2 542.3h92.4v21.5h-92.4z"/>
<path fill="#fcfcfc" d="M1963.3 435h69.3v21.5h-69.3zM1940.2 456.4h115.5v21.5h-115.5zM1940.2 477.9h115.5v21.5h-115.5zM1940.2 499.4h115.5v21.5h-115.5zM1963.3 520.9h69.3v21.5h-69.3z"/>
</g></g>
<path d="M1536 59.3V875.1M1547.5 59.3V875.1M1559.1 59.3V875.1M1570.7 59.3V875.1M1582.2 59.3V875.1M1593.8 59.3V875.1M1605.3 59.3V875.1M1616.8 59.3V875.1M1628.4 59.3V875.1M1640 59.3V875.1M1651.5 59.3V875.1M1663 59.3V875.1M1674.6 59.3V875.1M1686.2 59.3V875.1M1697.7 59.3V875.1M1709.2 59.3V875.1M1720.8 59.3V875.1M1732.3 59.3V875.1M1743.9 59.3V875.1M1755.5 59.3V875.1M1767 59.3V875.1M1778.5 59.3V875.1M1790.1 59.3V875.1M1801.7 59.3V875.1M1813.2 59.3V875.1M1824.8 59.3V875.1M1836.3 59.3V875.1M1847.8 59.3V875.1M1859.4 59.3V875.1M1871 59.3V875.1M1882.5 59.3V875.1M1894 59.3V875.1M1905.6 59.3V875.1M1917.2 59.3V875.1M1928.7 59.3V875.1M1940.2 59.3V875.1M1951.8 59.3V875.1M1963.3 59.3V875.1M1974.9 59.3V875.1M1986.5 59.3V875.1M1998 59.3V875.1M2009.5 59.3V875.1M2021.1 59.3V875.1M2032.7 59.3V875.1M2044.2 59.3V875.1M2055.8 59.3V875.1M2067.3 59.3V875.1M2078.8 59.3V875.1M2090.4 59.3V875.1M2101.9 59.3V875.1M2113.5 59.3V875.1M2125.1 59.3V875.1M2136.6 59.3V875.1M2148.2 59.3V875.1M2159.7 59.3V875.1M2171.2 59.3V875.1M2182.8 59.3V875.1M2194.3 59.3V875.1M2205.9 59.3V875.1M2217.4 59.3V875.1M2229 59.3V875.1M2240.6 59.3V875.1M2252.1 59.3V875.1M2263.7 59.3V875.1M2275.2 59.3V875.1M2286.8 59.3V875.1M2298.3 59.3V875.1M2309.8 59.3V875.1M2321.4 59.3V875.1M2332.9 59.3V875.1M2344.5 59.3V875.1M2356.1 59.3V875.1M2367.6 59.3V875.1M2379.2 59.3V875.1M2390.7 59.3V875.1M2402.2 59.3V875.1M2413.8 59.3V875.1M2425.3 59.3V875.1M2436.9 59.3V875.1M2448.4 59.3V875.1M2460 59.3V875.1M1536 59.3H2460M1536 70H2460M1536 80.8H2460M1536 91.5H2460M1536 102.2H2460M1536 113H2460M1536 123.7H2460M1536 134.4H2460M1536 145.2H2460M1536 155.9H2460M1536 166.6H2460M1536 177.4H2460M1536 188.1H2460M1536 198.8H2460M1536 209.6H2460M1536 220.3H2460M1536 231H2460M1536 241.8H2460M1536 252.5H2460M1536 263.2H2460M1536 274H2460M1536 284.7H2460M1536 295.4H2460M1536 306.2H2460M1536 316.9H2460M1536 327.6H2460M1536 338.4H2460M1536 349.1H2460M1536 359.8H2460M1536 370.6H2460M1536 381.3H2460M1536 392H2460M1536 402.8H2460M1536 413.5H2460M1536 424.2H2460M1536 435H2460M1536 445.7H2460M1536 456.4H2460M1536 467.2H2460M1536 477.9H2460M1536 488.7H2460M1536 499.4H2460M1536 510.1H2460M1536 520.9H2460M1536 531.6H2460M1536 542.3H2460M1536 553.1H2460M1536 563.8H2460M1536 574.5H2460M1536 585.3H2460M1536 596H2460M1536 606.7H2460M1536 617.5H2460M1536 628.2H2460M1536 638.9H2460M1536 649.7H2460M1536 660.4H2460M1536 671.1H2460M1536 681.9H2460M1536 692.6H2460M1536 703.3H2460M1536 714.1H2460M1536 724.8H2460M1536 735.5H2460M1536 746.3H2460M1536 757H2460M1536 767.7H2460M1536 778.5H2460M1536 789.2H2460M1536 799.9H2460M1536 810.7H2460M1536 821.4H2460M1536 832.1H2460M1536 842.9H2460M1536 853.6H2460M1536 864.3H2460M1536 875.1H2460" stroke="#000" stroke-width="2.4" fill="none"/>
<ellipse cx="2000.3" cy="484.4" rx="231.9" ry="219" fill="none" stroke="#000" stroke-width="5"/>
<path d="M1767 875.1V918M1998 875.1V918M2229 875.1V918M2460 875.1V918" stroke="#e2e2e2" stroke-width="1.5"/>
<path d="M1536 59.3V918H2460" stroke="#3a3a3a" stroke-width="2.6" fill="none"/>
<text x="1521" y="933.3" style="font-family:'Liberation Sans',Arial,sans-serif;font-size:32.5px" text-anchor="end" fill="#3a3a3a">-100</text>
<text x="1521" y="847.4" style="font-family:'Liberation Sans',Arial,sans-serif;font-size:32.5px" text-anchor="end" fill="#3a3a3a">-80</text>
<text x="1521" y="761.6" style="font-family:'Liberation Sans',Arial,sans-serif;font-size:32.5px" text-anchor="end" fill="#3a3a3a">-60</text>
<text x="1521" y="675.7" style="font-family:'Liberation Sans',Arial,sans-serif;font-size:32.5px" text-anchor="end" fill="#3a3a3a">-40</text>
<text x="1521" y="589.8" style="font-family:'Liberation Sans',Arial,sans-serif;font-size:32.5px" text-anchor="end" fill="#3a3a3a">-20</text>
<text x="1521" y="503.9" style="font-family:'Liberation Sans',Arial,sans-serif;font-size:32.5px" text-anchor="end" fill="#3a3a3a">0</text>
<text x="1521" y="418.1" style="font-family:'Liberation Sans',Arial,sans-serif;font-size:32.5px" text-anchor="end" fill="#3a3a3a">20</text>
<text x="1521" y="332.2" style="font-family:'Liberation Sans',Arial,sans-serif;font-size:32.5px" text-anchor="end" fill="#3a3a3a">40</text>
<text x="1521" y="246.3" style="font-family:'Liberation Sans',Arial,sans-serif;font-size:32.5px" text-anchor="end" fill="#3a3a3a">60</text>
<text x="1521" y="160.5" style="font-family:'Liberation Sans',Arial,sans-serif;font-size:32.5px" text-anchor="end" fill="#3a3a3a">80</text>
<text x="1521" y="74.6" style="font-family:'Liberation Sans',Arial,sans-serif;font-size:32.5px" text-anchor="end" fill="#3a3a3a">100</text>
<text x="1536" y="967" style="font-family:'Liberation Sans',Arial,sans-serif;font-size:32.5px" text-anchor="middle" fill="#3a3a3a">-100</text>
<text x="1767" y="967" style="font-family:'Liberation Sans',Arial,sans-serif;font-size:32.5px" text-anchor="middle" fill="#3a3a3a">-50</text>
<text x="1998" y="967" style="font-family:'Liberation Sans',Arial,sans-serif;font-size:32.5px" text-anchor="middle" fill="#3a3a3a">0</text>
<text x="2229" y="967" style="font-family:'Liberation Sans',Arial,sans-serif;font-size:32.5px" text-anchor="middle" fill="#3a3a3a">50</text>
<text x="2460" y="967" style="font-family:'Liberation Sans',Arial,sans-serif;font-size:32.5px" text-anchor="middle" fill="#3a3a3a">100</text>
<path d="M1536 918h9M1536 832.1h9M1536 746.3h9M1536 660.4h9M1536 574.5h9M1536 488.6h9M1536 402.8h9M1536 316.9h9M1536 231h9M1536 145.2h9M1536 59.3h9M1536 918v-9M1767 918v-9M1998 918v-9M2229 918v-9M2460 918v-9" stroke="#3a3a3a" stroke-width="2.6"/>
<text x="1887" y="1015" style="font-family:'Liberation Serif','Times New Roman',serif;font-size:48.5px" fill="#15151f" stroke="#15151f" stroke-width="0.7" text-anchor="start">scan<tspan style="font-style:italic;font-size:53.4px"> x</tspan> /nm</text>
<text x="1448" y="596" style="font-family:'Liberation Serif','Times New Roman',serif;font-size:48.5px" fill="#15151f" stroke="#15151f" stroke-width="0.7" text-anchor="start" transform="rotate(-90 1448 596)">scan<tspan style="font-style:italic;font-size:53.4px"> y</tspan> /nm</text>
<path d="M148.8 1852.2L729.3 1787.3L1161 1873.3M148.8 1728.5L729.3 1663.6L1161 1749.6M148.8 1604.9L729.3 1540L1161 1626M148.8 1481.2L729.3 1416.3L1161 1502.3M148.8 1357.6L729.3 1292.7L1161 1378.7M148.8 1234L729.3 1169L1161 1255M148.8 1110.3L729.3 1045.4L1161 1131.4M580.5 1938.2L148.8 1852.2L148.8 1110.3M725.6 1922L293.9 1836L293.9 1094.1M870.8 1905.8L439.1 1819.8L439.1 1077.8M1015.9 1889.5L584.2 1803.5L584.2 1061.6M1161 1873.3L729.3 1787.3L729.3 1045.4M148.8 1852.2L729.3 1787.3L729.3 1045.4M256.7 1873.7L837.2 1808.8L837.2 1066.9M364.6 1895.2L945.1 1830.3L945.1 1088.4M472.6 1916.7L1053.1 1851.8L1053.1 1109.9M580.5 1938.2L1161 1873.3L1161 1131.4" stroke="#dcdcdc" stroke-width="1.6" fill="none"/>
<g stroke="#000" stroke-width="2.0" stroke-linejoin="round">
<path fill="#00ffff" d="M706 1398l-8-7-5 42 7-28zm-15-7l-7 7-5 19 7 17zm-7 7l-7 0-6 16 8 3zm-7 0l-8 16-5 0 7 0zm-15 14l-7-11-6 22 8-6zm-22-18l-7 6-5 21 7 4zm-43 2l-7 11-6 23 7-5zm78 7l-7-8-6 17 7 2z"/>
<path fill="#00ffe7" d="M698 1391l-7 0-5 43 7-1zm-29 23l-7-2-5 5 7-3zm-209 13l-3 42-5-29 2-22zm256 14l-7-19-5-38 7 35z"/>
<path fill="#00e7ff" d="M655 1401l-7-21-6 14 7 29zm-7-21l-8 14-5 31 7-31zm-15 20l-7-2-6 4 8 19zm-43 7l-8-14-5 19 7 18zm121 12l-7-35-6 7 8 7zm-29-34l-7 18-6 11 8-16zm-14 10l-8-13-5 19 7 11zm-195-3l-3 52-5 3 2-50z"/>
<path fill="#00cfff" d="M626 1398l-7-18-6 29 7-7zm-7-18l-8-8-5 47 7-10zm-8-8l-7 7-5 23 7 17zm-7 7l-7 17-6 29 8-23zm-22 14l-7-11-5 12 7 18zm-21-3l-8-1-5 28 7-4zm-8-1l-7 8-5 14 7 6zm-7 8l-7-7-6 26 8-5zm-29-7l-7 5-6 28 8-11zm-7 5l-8-1-5 12 7 17zm-48-4l-2 36-6-9 2-16zm227-23l-7 17-5 13 7 0zm-43 0l-7 25-6 7 7-6zm-7 25l-8 13-5-8 7 2zm-8 13l-7-25-5-1 7 18zm-164-9l-2 50-5-20 2-36zm220-18l-7 4-5 20 7-18zm-7 4l-7-12-5 24 7 8z"/>
<path fill="#00b7ff" d="M575 1382l-7 9-6-3 8 6zm-7 9l-7-1-6 23 7-25zm-29-1l-7-8-6 18 7 16zm-15 2l-7-2-5 22 7-29zm-22 2l-7-2-5 14 7 0zm-7-2l-7 4-5 12 7-2zm-7 4l-7-8-6 22 8-2zm-7-8l-8-11-5 36 7-3zm223-4l-7-28-6 35 7 0zm-7-28l-8 12-5 30 7-7zm-37 26l-7-15-5 13 7 21zm-101 11l-8-13-5 17 7-8zm150 29l-7-51-5-15 7 28zm-36-51l-7 9-6 2 8 13zm-29 5l-7 11-6 19 8-13zm-7 11l-8-5-5-1 7 25z"/>
<path fill="#009fff" d="M532 1382l-8 10-5-9 7 17zm-59-5l-2-7-5 40 2 3zm-2-7l-2-5-6 40 3 5zm-7 2l-2 19-6 11 3-4zm189-5l-7 1-6 26 8-14zm-29 14l-7-27-6 18 8 8zm-15-26l-7 10-5 31 7-17zm-7 10l-7-5-5 47 7-11zm-7-5l-7 15-6 18 8 14zm-7 15l-8 12-5-5 7 11zm-8 12l-7-14-5 18 7-9zm-7-14l-7-9-5 26 7 1zm-7-9l-7 29-6-4 8 1zm-15 16l-7-8-5 18 7 7zm-14-5l-7 1-6 16 8-10zm-7 1l-8 6-5 8 7 2zm-8 6l-7-2-5 15 7-5zm-7-2l-7-12-6 26 8 1zm180-36l-8 35-5 6 7-17zm-29 36l-8-27-5 14 7 15zm-15-39l-7 35-5 17 7-25zm-22 41l-7 5-5-33 7 27z"/>
<path fill="#0087ff" d="M469 1365l-2 0-6 36 2 4zm-2 0l-3 7-5 26 2 3zm150-11l-8 1-5 24 7-7zm-73 18l-7 3-5 7 7 8zm-36-4l-7-1-6 25 7 2zm-7-1l-8-4-5 33 7-4zm-31 3l-3 27-5-6 2-19zm232 1l-7-27-6 24 8-12zm-80 16l-7-21-6-11 8-1zm-29-37l-7 12-6 25 8-12zm-7 12l-7-3-6 14 7 14zm-15-2l-7 24-5 9 7-29zm-7 24l-7-30-6 26 8 13zm-22-16l-7 9-5-1 7-1zm-7 9l-7 10-6-5 8-6zm-7 10l-7-24-6 17 7 2zm-53-20l-2 25-6 5 3-27z"/>
<path fill="#00ffb7" d="M457 1469l-2 25-6-38 3-16zm8-22l-2 54-6-32 3-42z"/>
<path fill="#00ff87" d="M455 1494l-2 12-6-30 2-20zm-272 30l-7-1-5-23 7 9zm-22 7l-7-17-5-27 7 28zm6-2l-7-18-6 3 7 17zm5-7l-7-20-5 9 7 18z"/>
<path fill="#00ff70" d="M453 1506l-3 5-5-28 2-7zm-16 0l-7 11-5-30 7 3zm-14 11l-8-1-5-30 7-2zm-8-1l-7-8-5-27 7 5zm-7-8l-7 4-5-22 7-9zm-7 4l-7 5-6-19 8-8zm-29 8l-7-6-6-20 7 8zm-7-6l-8-1-5-28 7 9zm-8-1l-7 11-5-28 7-11zm-7 11l-7-9-6-15 8-4zm-7-9l-7 3-6-24 7 6zm-7 3l-8-7-5-21 7 4zm-8-7l-7 11-5-24 7-8zm-7 11l-7 8-6-32 8 0zm-22-6l-7 13-5-26 7 5zm-7 13l-7-5-6-30 8 9zm-7-5l-7 1-6-23 7-8zm-7 1l-8 7-5-23 7-7zm-8 7l-7-9-5-13 7-1zm-7-9l-7-2-6-18 8 7zm-7-2l-7-3-6-14 7-1zm-7-3l-8 9-5-19 7-4zm-8 9l-7 8-5-24 7-3zm-14 6l-7-7-6-23 7 16zm-7-7l-8 10-5-37 7 4zm-8 10l-7-7-5-25 7-5zm-7-7l-7 10-6-14 8-21zm-15 14l-7-19-5-15 7 15zm-14-20l-7 17-6-24 8-16zm-7 17l-8-9-5-16 7 1zm294-39l-3 27-5-34 2-25zm-283 37l-8-16-5 7 7 6z"/>
<path fill="#00ff58" d="M450 1511l-2 3-5-25 2-6zm-2 3l-2 1-6-23 3-3zm-2 1l-9-9-5-16 8 2zm-16 2l-7 0-6-33 8 3zm-36 0l-8 5-5-16 7-8zm-8 5l-7 2-5-22 7 4zm-7 2l-7-4-6-18 8 0zm-65 6l-7-4-6-11 7-17zm-7-4l-8-10-5-8 7 7zm-73 9l-7-2-6-14 8-8zm-36 4l-8 4-5-19 7 1zm70 2l-7-4-5-16 7 2zm-7-4l-7-4-5-15 7 3zm-7-4l-7 8-6-14 8-9zm-65 16l-8-6-5-20 7 1zm-8-6l-7-8-5 5 7-17zm-7-8l-7-6-6 2 8 9zm13 14l-7-11-6-3 7 8z"/>
<path fill="#0070ff" d="M493 1363l-7-11-5 36 7 8zm-7-11l-7 21-6 4 8 11zm-7 21l-2-3-6 0 2 7zm179-20l-7-12-5 27 7-1zm-43 13l-7-2-6 1 7-10zm-7-2l-8-20-5 16 7 5zm-8-20l-7 6-5 25 7-15zm-21 15l-8 1-5 4 7 9zm-22-5l-7-10-6 28 7 8zm-7-10l-8 24-5 7 7-3z"/>
<path fill="#0058ff" d="M477 1370l-3-6-5 1 2 5zm-3-6l-2-2-5 3 2 0zm-2-2l-2 8-6 2 3-7zm49 1l-8-17-5 22 7 12zm-37-1l-2 2-5 6 2 3zm-2 2l-2-2-6 2 3 6zm-2-2l-3-2-5 2 2 2zm-3-2l-2 7-5 3 2-8z"/>
<path fill="#00ff40" d="M460 1528l-2-2-5-20 2-12zm-2-2l-2 0-6-15 3-5zm-2 0l-3-2-5-10 2-3zm-3-2l-2-2-5-7 2-1zm-2-2l-8 3-6-19 9 9zm-37 12l-8-11-5-11 7-4zm-8-11l-7 11-5-17 7-5zm-21 8l-8-1-5-10 7 4zm-8-1l-7 3-5-19 7 6zm-7 3l-7 3-6-23 8 1zm-7 3l-7 12-6-24 7-11zm-7 12l-8-10-5-23 7 9zm-8-10l-7 3-5-23 7-3zm-7 3l-7-7-6-23 8 7zm-7-7l-8 3-5-15 7-11zm-8 3l-7 2-5-9 7-8zm-7 2l-7-8-5-5 7 4zm-7-8l-7 1-6-16 8 10zm-7 1l-8 12-5-15 7-13zm-8 12l-7-6-5-14 7 5zm-7-6l-7-8-5-5 7-1zm-7-8l-7 12-6-10 8-7zm-7 12l-8-1-5-18 7 9zm-29-1l-8 2-5-8 7-8zm-8 2l-7 4-5-14 7 2zm-7 4l-7 3-5-24 7 7zm-7 3l-7-1-6-13 8-10zm-7-1l-8-6-5-14 7 7zm-8-6l-7-1-5-3 7-10zm-7-1l-7 5-6-4 8-4zm-7 5l-7 2-6-25 7 19zm272-46l-2 29-6-2 3-27zm-201 50l-8-4-5-14 7 4zm-8-4l-7 4-5-10 7-8zm-43 3l-7-4-6-4 7 1zm-7-4l-8 10-5-9 7-5z"/>
<path fill="#00ff28" d="M443 1525l-8 14-5-22 7-11zm-8 14l-7-6-5-16 7 0zm-7-6l-7 9-6-26 8 1zm-7 9l-7-8-6-26 7 8zm-22-8l-7-2-6-10 8-5zm-7-2l-7-1-6-7 7-2zm74-2l-3 3-5-7 2 2zm-3 3l-2 1-5-8 2 0zm-2 1l-2 1-6-11 3 2zm-2 1l-3 2-5-15 2 2zm-3 2l-8-2-5-10 8-3zm-59 8l-7-1-5-13 7 1zm-7-1l-7-8-6-6 8 1zm-7-8l-8 15-5-18 7-3zm-37 15l-7-3-5-14 7 7zm-7-3l-7 2-6-13 8-3zm-7 2l-7-5-6-6 7-2zm-7-5l-8 0-5-14 7 8zm-8 0l-7 2-5-15 7-1zm-7 2l-7-3-6 0 8-12zm-7-3l-7 6-6-12 7 6zm-7 6l-8 1-5-21 7 8zm-8 1l-7-1-5-8 7-12zm-7-1l-7 2-6-11 8 1zm-7 2l-7-1-6-14 7 4zm-22-1l-7 6-6-14 8-2zm-7 6l-7 0-6-10 7-4zm-7 0l-8-2-5-5 7-3zm-8-2l-7 0-5-6 7 1zm-7 0l-7-5-6-7 8 6zm-22 1l-7 9-5-16 7-2zm-7 9l-7-16-6-6 8 6z"/>
<path fill="#0040ff" d="M513 1346l-7-8-5 29 7 1zm-7-8l-7 11-6 14 8 4zm-7 11l-7-10-6 13 7 11zm-7-10l-8 23-5 11 7-21z"/>
<path fill="#00ff9f" d="M470 1444l-2 57-5 0 2-54z"/>
<path fill="#00ff10" d="M448 1535l-7 3-6 1 8-14zm-7 3l-8 10-5-15 7 6zm-8 10l-7 4-5-10 7-9zm-7 4l-7-4-5-14 7 8zm-7-4l-7-6-6-19 8 11zm-7-6l-8 6-5-14 7-11zm-8 6l-7-3-5-13 7 2zm-29 3l-7 6-5-21 7-3zm-7 6l-7 3-5-12 7-12zm-7 3l-7-6-6-16 8 10zm-7-6l-8-3-5-10 7-3z"/>
<path fill="#00ffcf" d="M722 1442l-7-26-6 6 7 19zm-235-22l-3 76-5 0 2-72z"/>
<path fill="#00e7ff" d="M715 1416l-8-43-5-2 7 51z"/>
<path fill="#0087ff" d="M707 1373l-7-26-5-3 7 27zm-7-26l-7 27-6 5 8-35zm-51-7l-7 13-5 34 7-11zm-29 33l-7 1-5-10 7 2zm-80-9l-7 8-5 15 7-10zm173 1l-8 5-5-23 7 26zm-8 5l-7 2-5 2 7-27zm-14-9l-7-9-6 23 8 5zm13 3l-8-15-5 12 7 11zm-37 11l-7-9-5-23 7 52z"/>
<path fill="#00b7ff" d="M693 1374l-7 6-6 3 7-4zm-7 6l-8-5-5-4 7 12zm34-1l-7-14-6 8 8 43zm-44 0l-7 16-5-25 7 10zm-193-12l-2 57-5 13 2-57zm242 11l-7 13-5-26 7 14zm-7 13l-7-2-6-19 8-5zm-43-18l-8 2-5 20 7 0z"/>
<path fill="#009fff" d="M678 1375l-7 5-5 0 7-9zm-7 5l-7-10-6-17 8 27zm-29-27l-7 16-6 13 8 5zm-7 16l-7 15-6 3 7-5zm-7 15l-8-11-5-7 7 21zm70-12l-7-11-5 19 7-6zm-14-20l-8 27-5 1 7-5zm-15 43l-7 0-5-35 7 10zm42-6l-7-25-6 8 7-2zm-29-28l-7 12-6 22 7-16zm-193-2l-2 61-6 4 2-57z"/>
<path fill="#0070ff" d="M664 1370l-7-10-6-19 7 12zm-7-10l-8-20-5 36 7-35zm-44 14l-7-26-6-4 8 20zm-22-21l-7 10-5-4 7 3zm-7 10l-7 1-6-4 8-1zm-7 1l-8-12-5 32 7-24zm-29-9l-8 9-5 13 7-9zm-15 17l-7-28-5 19 7 24zm-53-18l-2 26-5 12 2-25zm182 41l-7-52-6-3 8 20zm-22-48l-7 3-5 34 7-15zm-7 3l-7-6-6 29 8 11zm-7-6l-8 21-5 9 7-1zm-8 21l-7-11-5-6 7 26zm-29-8l-7 0-5 7 7-1zm100-37l-7 41-6 18 8-27zm-109 47l-7 6-5 2 7-8z"/>
<path fill="#0058ff" d="M606 1348l-7 5-6-3 7-6zm-7 5l-8 0-5 9 7-12zm-30-1l-7-4-5 6 7 30zm-14-7l-7 10-6 13 8-24zm100-2l-8 1-5 9 7-13zm-8 1l-7 3-5 22 7-16zm-36 10l-7-3-5 2 7-5zm-7-3l-7 11-6-9 8 0zm-7 11l-8-5-5 6 7-10zm-15-5l-7 10-6-15 8 12zm-7 10l-7 8-6-27 7 4zm-7 8l-8-26-5-4 7 3zm-22-39l-7 22-6 14 7-8zm-7 22l-8 2-5-16 7 28zm-53-11l-3 20-5 13 2-26zm210 2l-7-29-5 32 7 9zm-36 17l-7-8-6-14 8-1zm-7-8l-7-19-6 8 7-3zm-7-19l-8 11-5 0 7-3zm-15-2l-7 5-6 23 8-21zm-7 5l-7 17-6-5 7 11zm-7 17l-8-13-5 5 7 3zm-8-13l-7 4-5 12 7-11zm-7 4l-7-10-6 17 8 5zm-7-10l-7 9-6 8 7 0zm-7 9l-8 18-5 0 7-10zm-15 24l-7-25-6 1 8 26zm-29-8l-7-7-6 2 8-2z"/>
<path fill="#0040ff" d="M562 1348l-7-3-5-1 7 10zm-36-4l-7 14-6-12 8 17zm-7 14l-8-15-5-5 7 8zm-29-10l-3 1-5 15 2-2zm-3 1l-2-1-5 14 2 2zm-2-1l-2-1-6 13 3 2zm-2-1l-3 7-5 13 2-7zm77 2l-7 2-5 4 7-10zm-7 2l-7-15-6 28 8-9zm-22 9l-7-12-5 10 7-14zm-38-6l-3-2-5-4 2 1zm145-4l-7-13-5 7 7 6zm-72-2l-7 9-6-6 7-2zm-7 9l-8-8-5-13 7 15zm-8-8l-7 16-5-7 7-22zm-14 9l-8-33-5 23 7 12z"/>
<path fill="#0028ff" d="M511 1343l-7-5-5 11 7-11zm-7-5l-7-3-5 4 7 10zm-7-3l-7 13-6 14 8-23zm27 13l-7-22-6 17 8 15zm-22-15l-7 17-5-2 7-13zm-7 17l-2 4-6-5 3-1zm-5 2l-2-5-5 0 2 1zm-2-5l-2 0-6 7 3-7zm3-13l-2 25-6 8 3-20z"/>
<path fill="#00cfff" d="M478 1380l-2 57-6 7 3-52zm255 15l-8-17-5 1 7 24z"/>
<path fill="#00ff9f" d="M476 1437l-3 66-5-2 2-57zm-298 81l-8-23-5 7 7 20zm5 2l-7-17-6-8 8 23zm5 7l-7-16-5-8 7 17z"/>
<path fill="#00ff40" d="M473 1503l-2 34-5-7 2-29zm-281 52l-7-3-5-14 7 11zm287-59l-3 43-5-2 2-34zm5 0l-2 46-6-3 3-43zm-281 61l-7-10-6 3 8 13z"/>
<path fill="#00ff10" d="M471 1537l-2 5-6-9 3-3zm-2 5l-3 0-5-8 2-1zm-3 0l-2-2-5-5 2-1zm-2-2l-2-1-6-2 3-2zm-2-1l-9-1-5-3 8 2zm-9-1l-7 5-5-5 7-3zm-58 18l-7 0-5-20 7 8zm-36-11l-7 12-6-6 8 3zm-14 22l-8-10-5-7 7-2zm-8-10l-7 0-5-12 7 5zm-7 0l-7-1-6-11 8 0zm-7-1l-7-8-6-1 7-2zm-7-8l-8 12-5-16 7 3zm-8 12l-7 8-5-18 7-6zm-7 8l-7-6-6-11 8-1zm-7-6l-8-6-5-6 7 1zm-8-6l-7 2-5-6 7-2zm-7 2l-7 6-5-13 7 1zm-7 6l-7 2-6-19 8 4zm-22-7l-7 2-5-2 7 0zm-14-2l-8 16-5-16 7 0zm-8 16l-7-7-5-14 7 5zm-21-10l-8 4-5 0 7-9zm269-22l-2 11-5-8 2-5zm-104 15l-8-7-5-2 7 11zm-8-7l-7 14-5-4 7-12zm-36 19l-7-6-5-12 7 8zm-7-6l-7 9-6-9 8-12zm-22 0l-7 3-6-7 8 6zm-7 3l-7 5-6-10 7-2zm-22 5l-7-11-6-4 8 13zm-14-14l-8 9-5-4 7-2zm-8 9l-7 2-5-10 7 4zm-7 2l-7 11-6-5 8-16zm-14 9l-8-1-5-19 7 10zm85-20l-7 14-6-8 7 4zm-15 15l-7-10-5 9 7-5zm-29 6l-7-8-5-13 7 3zm-7-8l-7 1-6-5 8-9zm-7 1l-8-5-5 2 7-2zm-8-5l-7 13-5 0 7-11zm-21 14l-8-20-5 0 7 16z"/>
<path fill="#08ff00" d="M446 1543l-7 13-6-8 8-10zm-7 13l-7-2-6-2 7-4zm-7-2l-8 3-5-9 7 4zm-8 3l-7 0-5-15 7 6zm-7 0l-7 5-6-14 8-6zm-7 5l-7-6-6-11 7 3zm-7-6l-8 0-5-12 7 1zm-15 0l-7 8-6-13 8-15zm-7 8l-7 2-6-9 7-6zm-7 2l-8-10-5 4 7-3zm-8-10l-7-11-5 9 7 6zm-14 1l-7 10-6-19 7 3zm122-7l-2 2-6-10 3 0zm-2 2l-2-2-6-10 2 2zm-2-2l-3-3-5-8 2 1zm-3-3l-8 6-6-15 9 1zm-8 6l-7 9-6-19 7-5zm-7 9l-8-9-5 3 7-13zm-8-9l-7-1-5 2 7 2zm-36 12l-7-3-6-6 8 0zm-29-2l-7-9-6 2 8 10zm-22-2l-7 12-5-6 7-10zm-7 12l-7-6-6-10 8 10zm-7-6l-8-2-5-8 7 0zm-8-2l-7 1-5-10 7 1zm-21 4l-8-5-5 4 7-8zm-8-5l-7-4-5 2 7 6zm-21 4l-8 4-5-8 7-6zm-8 4l-7-4-5-2 7-2zm-43 4l-7-2-6-10 7 7zm248-34l-2 16-6-8 2-11zm-32 15l-8 6-5-11 7 1zm-73 12l-7-8-6-14 8 7zm-7-8l-7 7-6-7 7-14zm-29 10l-7-4-6-1 7-1zm-7-4l-8 2-5-9 7 6zm-8 2l-7-5-5 5 7-9zm-7-5l-7-10-6 10 8 5zm-14 4l-8 1-5-6 7-3zm-15-9l-7 9-6 4 8-4zm-7 9l-7 4-6-4 7 4zm-7 4l-8 3-5-18 7 11zm-37 4l-7 1-5-3 7 2zm-7 1l-7 0-6-4 8 1z"/>
<path fill="#00ff28" d="M265 1566l-8-13-5-2 7-4zm-8-13l-7 4-5 0 7-6zm-14 6l-7-4-6 0 8 2zm-22 5l-7-10-5-8 7 4zm-7-10l-7 7-6-5 8-10zm-15 11l-7-10-5-6 7 16zm64-8l-7-3-6 3 7-4zm-44 16l-7-16-5 4 7-7zm-7-16l-7 5-6 3 8-4zm-7 5l-7 1-6-8 7 10zm-7 1l-8-13-5 2 7 3zm19-6l-7-1-5 6 7-5zm-7-1l-7 1-5 6 7-1z"/>
<path fill="#00ff70" d="M185 1552l-7-34-6 4 8 16z"/>
<path fill="#00ffff" d="M727 1403l-7-24-5 37 7 26z"/>
<path fill="#0010ff" d="M517 1326l-7 4-6 8 7 5zm-7 4l-8 3-5 2 7 3zm19-5l-7-7-5 8 7 22zm-14 6l-7-2-6 4 8-3zm-7-2l-8-3-5 24 7-17zm-8-3l-2 1-5 27 2-4zm-2 1l-2 1-6 24 3 2zm-2 1l-3 0-5 19 2 5zm-3 0l-2 6-5 13 2 0z"/>
<path fill="#00ffb7" d="M481 1424l-2 72-6 7 3-66z"/>
<path fill="#20ff00" d="M437 1552l-7 17-6-12 8-3zm-7 17l-8-2-5-10 7 0zm-8-2l-7 2-5-7 7-5zm-7 2l-7-4-5-9 7 6zm-14-7l-8 12-5-18 7 0zm-8 12l-7 0-5-10 7-8zm-7 0l-7-11-5 3 7-2zm94-16l-3 7-5-13 2-2zm-3 7l-2 4-5-19 2 2zm-2 4l-2 2-6-24 3 3zm-2 2l-9 8-5-26 8-6zm-9 8l-7-10-5-7 7-9zm-7-10l-7-12-6-4 8 9zm-15-6l-7 10-5-4 7-17zm-21 11l-8-11-5 2 7 4zm-8-11l-7 7-5-8 7 3zm-7 7l-7 11-6-7 8-12zm-14 9l-8-6-5-10 7 11zm-8-6l-7-4-5-15 7 9zm-21-5l-8 4-5 1 7-12zm-8 4l-7 9-5-14 7 6zm-7 9l-7-10-6-6 8 2z"/>
<path fill="#00ff58" d="M190 1550l-7-30-5-2 7 34zm6-3l-8-20-5-7 7 30z"/>
<path fill="#0800ff" d="M522 1318l-7 13-5-1 7-4z"/>
<path fill="#38ff00" d="M435 1573l-7 7-6-13 8 2zm-7 7l-7-6-6-5 7-2zm-29 1l-7-2-6-5 7 0z"/>
<path fill="#00cfff" d="M738 1421l-7-30-6-13 8 17zm-14-33l-8 12-5-11 7 2z"/>
<path fill="#00b7ff" d="M731 1391l-7-3-6 3 7-13zm-15 9l-7-26-5-10 7 25zm20-7l-7-20-5 15 7 3zm-7-20l-7 10-6 17 8-12zm-7 10l-8-8-5-1 7 26zm20 17l-8-28-5 1 7 20z"/>
<path fill="#0087ff" d="M709 1374l-7-12-6-13 8 15zm-36-18l-8 5-5 5 7 9zm41 19l-7-10-5-3 7 12zm13-12l-7-5-6 17 8 8zm-7-5l-7 5-6 2 7 10z"/>
<path fill="#0058ff" d="M702 1362l-7-23-6-19 7 29zm-15-22l-7-12-5 45 7-12zm-29 6l-7 7-5-14 7 19zm-7 7l-7 2-6-5 8-11zm-22-4l-7 18-5-8 7-17zm-7 18l-7-9-6-12 8 13zm-7-9l-8-11-5 3 7-4zm-29-18l-8 2-5 31 7-6zm-29 9l-8 16-5 0 7-16zm-8 16l-7-20-5 13 7 7zm151-8l-7 1-6-18 8-1zm-15-11l-7 17-5-7 7-28zm-14 14l-7-20-6 6 7 15zm-7-20l-8 13-5 0 7-7zm-8 13l-7-10-5 12 7-2zm-21 3l-8 11-5 0 7-18zm-8 11l-7-17-5 8 7 9zm-127-39l-3 62-5 18 2-67zm169 46l-7-30-6 9 8-13zm-29-28l-7-3-6 24 8-11zm-36 18l-8 1-5-12 7-10zm-99-12l-2 71-6-33 3-62z"/>
<path fill="#0040ff" d="M695 1339l-8 1-5 21 7-41zm-51 16l-8-11-5-7 7 13zm-8-11l-7 5-5-7 7-5zm-43-6l-7 2-6 27 8-18zm-15 4l-7 7-5-1 7 25zm-7 7l-7-2-5 10 7-9zm-7-2l-7 2-6 0 8 8zm129 11l-8-12-5-18 7 12zm-44-15l-7-5-6 6 8 11zm-7-5l-7 18-6-7 7-5zm-22 12l-7-7-6 4 8 11zm-58-10l-7 0-6 25 8-16zm100 4l-7-10-6 9 7 10zm-7-10l-8 11-5-7 7 5zm-8 11l-7 1-5 10 7-18zm-14-2l-8-13-5 20 7 17zm-22 11l-7 10-6-21 8-9zm-15 11l-7-9-5-13 7 10z"/>
<path fill="#0070ff" d="M680 1328l-7 28-6 19 8-2zm-15 33l-7-15-5 12 7 8zm-171-20l-2 67-5 12 2-61zm213 24l-7-8-5-18 7 23zm-29-2l-7-3-6 1 8-5zm35 0l-8-3-5-3 7 8zm-8-3l-7 6-5-8 7-1zm-7 6l-7 5-6-25 8 12zm-7 5l-7-11-6 3 7-17zm-7-11l-8 14-5-14 7 3zm-8 14l-7 0-5-34 7 20z"/>
<path fill="#0028ff" d="M607 1347l-7-26-5 19 7 10zm-7-26l-7 17-5 11 7-9zm-58 24l-7-6-6-14 8 33zm71-2l-7-9-6-13 7 26zm-7-9l-8 9-5-5 7-17zm-8 9l-7 10-5-13 7-2zm-7 10l-7-10-6-1 8-2zm-7-10l-7-11-6 17 7-7zm-7-11l-8 4-5 11 7 2zm-8 4l-7 4-5 9 7-2zm-14 4l-7 1-6 4 7 20zm-7 1l-8 0-5-2 7 6zm77-11l-7 0-5 13 7 7zm-7 0l-7 24-5-20 7 9zm-29 26l-7-9-5-15 7 11zm-7-9l-7 14-6-25 8-4zm-7 14l-8-14-5-7 7-4zm-8-14l-7-18-5 11 7 0z"/>
<path fill="#0010ff" d="M535 1339l-7 8-6-29 7 7zm-38-27l-3 29-5 18 2-25zm43 29l-7-11-5 17 7-8zm-7-11l-7-3-6-5 8 25zm27-1l-7-10-5 22 7-1z"/>
<path fill="#0800ff" d="M528 1347l-8-25-5 9 7-13zm-8-25l-7-9-5 16 7 2zm33-3l-7-4-6 26 8 0zm-7-4l-8-9-5 24 7 11zm-8-9l-7 21-5 0 7 3zm-7 21l-7-9-5 6 7 3zm-7-9l-7 3-6 12 8-9zm-7 3l-3 1-5 6 2 5zm-10 2l-2 29-5-24 2-22z"/>
<path fill="#2000ff" d="M513 1313l-7 4-6 9 8 3zm-7 4l-2-4-6 14 2-1zm-2-4l-3-5-5 20 2-1zm-3-5l-2-3-6 23 3 0zm-2-3l-2 7-6 22 2-6zm27 22l-7-3-6-11 7 9zm-7-3l-8 9-5-16 7-4zm-8 9l-2-5-5-15 2 4zm-2-5l-2-9-6-11 3 5zm-7-22l-2 22-6 13 3-29zm12 16l-2-2-5-1 2 9zm-2-2l-2-3-6-8 3 10z"/>
<path fill="#00ffe7" d="M492 1408l-2 80-6 8 3-76zm11 15l-3 83-5-37 2-79z"/>
<path fill="#00ff40" d="M490 1488l-3 49-5 5 2-46zm-274 67l-8-4-5 6 7-1zm-8-4l-7 0-5-4 7 10zm13 5l-7 4-6-9 8 4zm-7 4l-8-9-5 0 7 0zm5 2l-7-11-6 0 8 9z"/>
<path fill="#08ff00" d="M487 1537l-2 23-5-2 2-16zm-141 29l-7 4-5-3 7 4zm-7 4l-7 1-6-2 8-2zm-7 1l-8-1-5-6 7 5zm-8-1l-7 0-5-16 7 10zm-7 0l-7-2-5 0 7-14zm-7-2l-7 1-6 0 8-1zm-22-4l-7 18-5-10 7-4zm-14 22l-8-18-5-1 7 8zm-29-11l-8-2-5 4 7-1zm107-2l-8 4-5-7 7-4zm-29 11l-8-9-5-7 7 2zm-8-9l-7 5-5-11 7-1zm-21-9l-8 8-5 8 7-18zm-15 13l-7-8-6-3 8 18zm-7-8l-7 6-6-2 7-7zm-7 6l-8 0-5-9 7 7zm-8 0l-7-6-5 4 7-7zm241-24l-2 18-6-16 3-36zm-185 35l-7-19-5-5 7 16zm-14-15l-7 2-6-1 8-8zm-7 2l-8-1-5 5 7-5zm-8-1l-7 1-5-4 7 8zm-7 1l-7-4-5 6 7-6zm-7-4l-7-2-6 8 8 0z"/>
<path fill="#20ff00" d="M485 1560l-2 9-6-4 3-7zm-30 14l-7 2-6-13 8-6zm-36-2l-7 6-6-8 7-7zm-37 17l-7-13-5-15 7 8zm-7-13l-7 4-5-12 7-7zm-7 4l-7 3-6-11 8-4zm-7 3l-8-3-5 1 7-9zm-8-3l-7-14-5 5 7 10zm-72 2l-7 4-6-11 8-3zm209-27l-2 11-5 3 2-9zm-124 26l-7-6-6 5 8 3zm-7-6l-7-2-6-7 7 14zm-15 2l-7 2-5-8 7-1zm-7 2l-7 2-6-11 8 1zm-7 2l-7 3-6-14 7 0zm-44-7l-7 5-5 7 7-4zm210-3l-3 4-5-9 2-11zm-124 9l-8 0-5-5 7 6zm-8 0l-7 9-5-16 7 2zm-7 9l-7-13-6 1 8-4zm-7-13l-8 4-5-1 7-2zm-8 4l-7 7-5-6 7-2zm-7 7l-7 1-5-4 7-3zm-7 1l-7-3-6-10 8 9zm-7-3l-8 3-5-8 7-5z"/>
<path fill="#38ff00" d="M483 1569l-3 6-5-6 2-4zm-3 6l-2 6-5-10 2-2zm-18 6l-7-7-5-17 7 12zm-14-5l-7 3-6-6 7-10zm-7 3l-8 10-5-9 7-7zm-15 8l-7-15-6-9 8 11zm-14-9l-8 6-5-3 7-11zm-8 6l-7-1-5-4 7 2zm-7-1l-7-2-6-8 8 6zm-7-2l-8 8-5-20 7 4zm98-15l-2 7-6 2 3-6zm-28 19l-7-7-5-2 7-2zm-36 9l-7-5-5-11 7-6zm-22 1l-7-13-5-1 7 2zm-7-13l-7 11-6-4 8-8zm-7 11l-7-2-6-15 7 13zm-7-2l-8-3-5-8 7-4zm-8-3l-7-7-5 2 7-3zm120-13l-2 1-5-3 2-7zm-2 1l-2 3-6 0 3-6zm-112 14l-7-10-6 1 7 7z"/>
<path fill="#50ff00" d="M478 1581l-8 7-6-9 9-8zm-8 7l-8-7-5-12 7 10zm-37 1l-7-2-5-13 7 6zm53-16l-3 6-5 2 2-6zm-3 6l-8 5-5 4 8-7zm-8 5l-7 7-6-10 8 7zm-7 7l-8-6-5-11 7 7zm-15-13l-7 12-5-11 7-3zm-7 12l-7 6-6-7 8-10zm-15 11l-7-7-5-22 7 15zm-14-12l-7-1-6-4 8-6zm-7-1l-8 7-5-12 7 1zm79-9l-9 8-5-3 8-5zm-9 8l-7 3-5 1 7-7zm-7 3l-7 1-6-6 8 6zm-7 1l-7 1-6-14 7 7zm-7 1l-8 5-5-7 7-12zm-37 9l-7 2-5-15 7 1zm-14 0l-7-10-6-9 7 13zm-7-10l-8 7-5-5 7-11zm-8 7l-7-3-5-4 7 2zm-7-3l-7-5-6-2 8 3z"/>
<path fill="#00ff10" d="M303 1569l-8-16-5 6 7 10zm-8-16l-7 11-5 4 7-9zm-29 15l-7 7-5-7 7-1zm-7 7l-7-7-6-5 8 5zm-7-7l-7 7-6 1 7-13zm-15 5l-7-10-5 14 7 0zm256-54l-3 36-5 5 2-23zm-185 61l-7-16-6-11 8 16zm-7-16l-7 2-6-2 7-11zm-51 7l-7-7-6 9 8 2zm-7-7l-7 3-6-4 7 10zm63 5l-7 4-5-7 7-2zm-43 0l-8 6-5-4 7 6zm-8 6l-7 3-5-14 7 7zm-7 3l-7-1-5-10 7-3zm-7-1l-7-3-6-5 8-2z"/>
<path fill="#00ff28" d="M230 1563l-7-5-6-1 8 20zm-7-5l-7-3-6 1 7 1zm13 9l-8 2-5-11 7 5zm-8 2l-7-13-5-1 7 3zm6 5l-8-10-5-8 7 13zm-8-10l-7-2-5-2 7-4z"/>
<path fill="#00ff58" d="M201 1551l-7-20-6-4 8 20zm5 0l-7-25-5 5 7 20zm294-45l-2 47-5-34 2-50zm-288 45l-7-21-6-4 7 25z"/>
<path fill="#00ff87" d="M194 1531l-7-27-6 7 7 16z"/>
<path fill="#00e7ff" d="M743 1414l-7-21-5-2 7 30zm6 12l-7-26-6-7 7 21z"/>
<path fill="#3800ff" d="M507 1319l-3-10-5-4 2 3zm-3-10l-2-3-5 6 2-7zm6 8l-3 6-5-17 2 3z"/>
<path fill="#00ffff" d="M497 1390l-2 79-5 19 2-80z"/>
<path fill="#00ff70" d="M495 1469l-2 50-6 18 3-49z"/>
<path fill="#68ff00" d="M439 1596l-8 5-5-14 7 2zm12 1l-7-2-5 1 7-6zm-7-2l-7 14-6-8 8-5zm-7 14l-7-11-6-4 7 7zm-7-11l-8 3-5-12 7 5zm-15 5l-7-2-6-6 8-7z"/>
<path fill="#00ff9f" d="M199 1526l-7-22-5 0 7 27zm6 4l-8-20-5-6 7 22z"/>
<path fill="#009fff" d="M734 1372l-7-9-5 20 7-10z"/>
<path fill="#00ffff" d="M754 1434l-7-37-5 3 7 26zm11 4l-7-15-6-27 8 18z"/>
<path fill="#00b7ff" d="M747 1397l-7-27-6 2 8 28zm5-1l-7-13-5-13 7 27z"/>
<path fill="#0087ff" d="M740 1370l-8 5-5-12 7 9zm-8 5l-7 9-5-26 7 5zm-7 9l-7-12-5-9 7-5zm-43-5l-8-13-5 8 7 0zm41 2l-7-25-5 1 7 15zm28-1l-8-27-5 20 7 10zm-8-27l-7-2-5 36 7-14zm-7-2l-7 24-6 6 8 6zm-7 24l-8-8-5-11 7 25z"/>
<path fill="#0070ff" d="M718 1372l-7-15-6 3 8 3zm-7-15l-8-7-5 16 7-6zm-8-7l-7-14-5 35 7-5zm-14 0l-7 29-6-5 8-14zm32 17l-7 0-5-12 7 1z"/>
<path fill="#0058ff" d="M696 1336l-7 14-5 10 7 11zm-22 30l-7-29-5 7 7 30zm-58-14l-7 3-5 9 7-10zm-7 3l-7-4-6 14 8-1zm-22 9l-7 16-5-19 7-14zm129-8l-7-1-6-5 8 7zm-22-11l-7 8-5 26 7-29zm-7 8l-7-19-6 32 8 13zm-22 4l-7-1-5-2 7-8zm-7-1l-7 6-6-3 8-5zm56 11l-7-9-5-27 7 24zm-43-18l-8 10-5-3 7 1zm-8 10l-7-17-5 20 7-6zm-29 1l-7-6-5 2 7 8z"/>
<path fill="#0040ff" d="M667 1337l-7 9-5-12 7 10zm-7 9l-7 8-6-9 8-11zm-7 8l-8 5-5-13 7-1zm-8 5l-7-22-5 6 7 3zm-21-14l-8 7-5 2 7-24zm-22 6l-7-3-6 8 7 9zm-7-3l-8 16-5-17 7 9zm-15 32l-7-38-6 5 8 14zm129-25l-7-24-6 5 7 14zm-7-24l-8 14-5 5 7-14zm-22 3l-7-1-6 4 7 29zm-7-1l-8 24-5-11 7-9zm-22 29l-7-13-6-12 7 22zm-22 2l-7-8-6-4 8-7zm-7-8l-7-10-6 9 7-3zm-29-24l-8 28-5 20 7-16zm-8 28l-7-12-5-6 7 38zm122-2l-7-3-6-10 8-14zm-7-3l-8-17-5 15 7-8zm-8-17l-7 7-5-11 7 19zm-14 8l-7 3-6 8 8-24zm-22-4l-7-4-5 11 7 13zm-14 0l-8 18-5 4 7-25zm-15 12l-7 5-5-13 7 10zm-36 7l-7-11-6-2 7 12z"/>
<path fill="#0028ff" d="M638 1337l-7-11-6 4 8 13zm-65 5l-7 5-6-18 7 18zm-60 0l-3 33-5-23 2-29zm131 7l-8-10-5-13 7 11zm-8-10l-7 25-5-19 7-19zm-21 7l-8-17-5 22 7 4zm-8-17l-7 2-5 17 7 3zm-7 2l-7 1-6 32 8-16zm-22 17l-7 4-5-5 7-5zm-7 4l-7-7-6-18 8 20zm-53-18l-2 31-6 10 3-33zm167 11l-7 1-5-13 7 1zm-36-7l-7 4-6-3 8 10zm-29 21l-7-36-6 6 8 17zm-22-29l-7 31-6-1 8-28zm-14 20l-8-16-5 18 7-4z"/>
<path fill="#0010ff" d="M631 1326l-7 19-6-15 7 0zm-67 19l-8 3-5-28 7 7zm12-11l-7 4-5 7 7 7zm-7 4l-7 0-6 10 8-3zm-45-22l-3 39-5 10 2-31z"/>
<path fill="#0800ff" d="M566 1347l-8-20-5-8 7 10zm-51-15l-2 10-6-19 3-6zm41 16l-7-23-5-4 7-1zm-36-24l-2 10-5 8 2-10zm93-1l-8-2-5 10 7-2zm-8-2l-7 9-5 2 7-1zm-43 17l-7-20-6 7 7 23z"/>
<path fill="#2000ff" d="M558 1327l-7-7-5-5 7 4zm-7-7l-7 1-6-15 8 9zm-7 1l-7-19-6 25 7-21zm-22-15l-2 14-6 2 3-1zm-2 14l-3 8-5-8 2 2zm-3 8l-2 4-5-15 2 3zm8-22l-2 10-6 12 3-8zm-2 10l-3 8-5 8 2-4z"/>
<path fill="#3800ff" d="M537 1302l-8-28-5 44 7 9zm12 23l-7-25-5 2 7 19zm-22-30l-2 11-5 14 2-14zm28 23l-8-11-5-7 7 25zm-29-19l-2 17-6 18 2-10z"/>
<path fill="#5000ff" d="M529 1274l-7 32-5 15 7-3zm18 33l-7 0-5-20 7 13zm-16-25l-3 7-5 27 2-10zm-3 7l-2 10-6 25 3-8z"/>
<path fill="#009fff" d="M510 1375l-2 76-5-28 2-71zm235 8l-7-10-6 2 8-5zm-7-10l-7 14-6-3 7-9zm-7 14l-8-6-5-9 7 12zm-215-22l-2 74-6 12 2-76zm5-10l-2 83-5 1 2-74z"/>
<path fill="#00ff9f" d="M508 1451l-2 89-6-34 3-83zm11-13l-2 98-6-8 3-89z"/>
<path fill="#00ff10" d="M506 1540l-3 48-5-35 2-47zm-231 32l-7 0-5-3 7 2zm-7 0l-7 10-6-7 8-6zm-22 1l-7-3-5 4 7 3zm-7-3l-7 4-6-10 8 10zm20 5l-7-3-6 1 8 13zm-7-3l-8 2-5-4 7 3zm-8 2l-7-8-5 8 7-4zm20 4l-7-6-5 0 7 3zm-7-6l-7-3-6 5 8-2z"/>
<path fill="#38ff00" d="M503 1588l-2 1-5-18 2-18zm-119 7l-7 2-5-17 7 10zm-7 2l-7-8-6-9 8 0zm-7-8l-8 1-5-1 7-9zm-8 1l-7-8-5-6 7 13zm13 6l-7 0-6-6 8-1zm-7 0l-7 1-6-15 7 8zm-2 7l-7-21-6 1 8 14z"/>
<path fill="#50ff00" d="M501 1589l-2-1-6-13 3-4zm-2-1l-3-4-5-8 2-1zm-3-4l-2-2-5-3 2-3zm-2-2l-8 15-6-10 9-8zm-95 24l-8-7-5-4 7 3zm-8-7l-7-4-5-5 7 5zm118-19l-2 13-6-4 2-1zm-7 16l-2 0-6-14 2 2zm-105 8l-7 2-6-11 7 4zm-7 2l-8 1-5-10 7-2zm-8 1l-7-11-5-7 7 8zm6 2l-8-10-5-3 7 11zm-8-10l-7 8-5-11 7 0zm-7 8l-7-4-5-6 7-1z"/>
<path fill="#68ff00" d="M486 1597l-8 4-5-11 7-3zm-8 4l-7 4-5-14 7-1zm-7 4l-7 2-5-15 7-1zm-7 2l-7 2-6-12 8-5zm-7 2l-8-10-5-4 7 2zm-8-10l-7 11-5-1 7-14zm-7 11l-7-7-5-5 7 11zm-7-7l-7 3-6-5 8-3zm-7 3l-8 0-5-3 7-2zm-8 0l-7-3-5-2 7 2zm-7-3l-7 1-5-13 7 10zm-7 1l-7 2-6-8 8-7zm101-11l-3 4-5-9 2 1zm-3 4l-2-1-6-12 3 4zm-4-1l-9 13-5-12 8-15zm-74 8l-7 6-6-7 7 3zm-7 6l-8 6-5-12 7-1zm-8 6l-7-11-5 1 7-2zm-7-11l-7-1-6-5 8 7zm110-10l-2 13-5-15 2-13zm-105 17l-7-9-5 1 7 1zm-7-9l-7 6-5-3 7-2zm-7 6l-7 0-6-2 8-1z"/>
<path fill="#20ff00" d="M355 1582l-7-2-6 0 8-4zm-7-2l-7 1-6 6 7-7zm-7 1l-8 6-5 1 7-1zm-8 6l-7-11-5 9 7 3zm-7-11l-7-3-6 15 8-3zm185-48l-2 52-6 8 3-48zm-150 69l-8-14-5-3 7 2zm-8-14l-7-7-5 5 7-1zm-7-7l-7 5-6 6 8-6zm-7 5l-7-8-6 3 7 11zm-22 2l-7 2-6 0 8-4zm-7 2l-8-6-5 4 7 2zm207-49l-3 59-5-15 2-52zm-158 46l-8 5-5-11 7 7zm-8 5l-7 4-5-10 7-5zm-7 4l-7-5-5-13 7 8z"/>
<path fill="#08ff00" d="M319 1573l-7 8-6-12 7 19zm-7 8l-8 4-5-12 7-4zm-8 4l-7-2-5-8 7-2zm-7-2l-7-4-6-5 8 1zm-7-4l-7-4-6 0 7-1zm-7-4l-8-3-5-1 7 4zm-22 7l-7 4-6-8 7-3zm-7 4l-8-13-5 4 7 1zm78-13l-8-2-5 2 7 3zm-8-2l-7 12-5-2 7-8zm-22 8l-7 2-5-2 7 4zm-7 2l-7 3-5-9 7 4zm-7 3l-7-2-6-10 8 3zm-7-2l-8-7-5-3 7 0zm-8-7l-7 7-5 0 7-10zm-7 7l-7-7-5 11 7-4zm71 4l-7-2-6-13 8 2zm-7-2l-8-9-5 8 7-12zm-8-9l-7 6-5 4 7-2zm-7 6l-7 0-6-2 8 6zm-7 0l-7-4-6 4 7-2zm-7-4l-8 4-5 3 7-3zm-8 4l-7 4-5-3 7 2zm-7 4l-7-15-6 5 8 7zm-7-15l-7 10-6 2 7-7zm-7 10l-8-2-5-3 7 7z"/>
<path fill="#00ff28" d="M232 1574l-7-21-6 9 7 2zm5-8l-7-20-5 7 7 21zm13 3l-7-7-6 4 7 8z"/>
<path fill="#00ff40" d="M225 1553l-8-9-5 7 7 11zm18 9l-8-5-5-11 7 20z"/>
<path fill="#00ff58" d="M217 1544l-7-5-5-9 7 21zm13 2l-7-3-6 1 8 9zm5 11l-7-2-5-12 7 3zm-7-2l-7-14-6-4 8 6z"/>
<path fill="#00ff87" d="M210 1539l-7-25-6-4 8 20zm304-100l-3 89-5 12 2-89zm-299 98l-7-19-5-4 7 25zm6 4l-7-31-6 8 7 19z"/>
<path fill="#00e7ff" d="M760 1414l-8-18-5 1 7 37z"/>
<path fill="#6800ff" d="M542 1300l-7-13-6-13 8 28zm-7-13l-8 8-5 11 7-32zm5 20l-7-27-6 15 8-8zm-7-27l-2 2-6 24 2-11z"/>
<path fill="#80ff00" d="M491 1609l-7 0-6-8 8-4zm-7 0l-7 6-6-10 7-4zm-7 6l-8 1-5-9 7-2zm-22 8l-7-7-6-6 7-11zm-7-7l-8 6-5-19 7 7zm-8 6l-7-5-5-11 7-3zm-7-5l-7-13-6 2 8 0zm79-9l-2 4-6-15 3-4zm-2 4l-3-1-5-15 2 1zm-3-1l-2-1-5-14 2 0zm-2-1l-8 7-6-8 9-13zm-74 17l-7-4-5-13 7-6zm-7-4l-7-1-6-6 8-6zm-7-1l-8-10-5-7 7 11z"/>
<path fill="#97ff00" d="M469 1616l-7 15-5-22 7-2zm-7 15l-7-8-6-24 8 10zm35-14l-8 2-5-10 7 0zm-8 2l-7 4-5-8 7-6zm-7 4l-7 12-6-19 8-1zm-22 7l-7 1-5-15 7 7zm-22 4l-7-7-5-23 7 13z"/>
<path fill="#00ff70" d="M223 1543l-8-6-5 2 7 5z"/>
<path fill="#00cfff" d="M758 1423l-7-43-6 3 7 13z"/>
<path fill="#afff00" d="M475 1635l-7 8-6-12 7-15zm-7 8l-8-13-5-7 7 8zm-15-12l-7 10-6-19 8-6zm-7 10l-8-7-5-17 7 5z"/>
<path fill="#00ffe7" d="M770 1443l-7-16-5-4 7 15z"/>
<path fill="#00cfff" d="M763 1427l-7-47-5 0 7 43zm6-26l-8 11-5-32 7 47zm12-6l-7 7-5-1 7 0zm-7 7l-7 6-6 4 8-11zm-7 6l-8-24-5 10 7 18z"/>
<path fill="#0087ff" d="M756 1380l-7-11-6-16 8 27zm-229-32l-3 85-5 5 2-83zm227 46l-7-36-6-4 8 15zm-22-31l-7 18-5-4 7-18zm-7 18l-7-7-6-3 8 6zm34 3l-7-20-5-6 7 36z"/>
<path fill="#0070ff" d="M749 1369l-8-15-5-3 7 2zm-8-15l-7 6-5 15 7-24zm-7 6l-7-1-6 8 8 8zm-7-1l-7 18-6-10 7 0zm-7 18l-8-6-5-13 7 9zm-8-6l-7-7-5-9 7 3zm35-13l-7 1-6 1 7-6zm-7 1l-8 4-5-4 7 1zm-22 15l-7-20-6 10 7 7zm-186-44l-2 93-6 10 3-85zm220 34l-7 4-5-9 7-1zm-7 4l-7 7-6-12 8-4zm-7 7l-8-20-5 26 7-18zm-8-20l-7-5-5 24 7 7z"/>
<path fill="#0058ff" d="M705 1364l-7-4-6-22 8 17zm-29-5l-7 0-6 0 8-10zm35-5l-8 10-5-4 7 4zm-8 10l-7-24-5 8 7 12zm-14-10l-8 10-5-5 7-6zm-8 10l-7-11-5 6 7 0zm42-14l-7 3-5 1 7 20zm-7 3l-7 8-6 3 8-10zm-7 8l-8-10-5-11 7 24zm-15 6l-7-23-6 20 8-10zm-65 4l-7-7-6-2 7 3zm-92-48l-2 104-5-4 2-93z"/>
<path fill="#0040ff" d="M698 1360l-7-12-6-3 7-7zm-7-12l-8 5-5-7 7-1zm-8 5l-7 6-5-10 7-3zm-14 6l-7-23-6 6 7 17zm-29-12l-7 1-6 6 7 6zm-7 1l-8 8-5 3 7-5zm-29 2l-8 17-5-6 7-31zm-8 17l-7-29-5 12 7 11zm100-27l-7 14-6-1 8-5zm-22 13l-7-13-5-4 7 23zm-29-7l-7 8-5-6 7-1zm-7 8l-7 1-6 1 8-8zm-7 1l-8 10-5-20 7 11zm-8 10l-7-3-5-23 7 6zm78-14l-7 16-5-13 7-14zm-14-7l-7-3-6 12 7 11zm-15 6l-7 3-5 1 7-14zm-29-7l-7 11-5 1 7-1zm-7 11l-7 17-6-6 8-10zm-14 10l-8-19-5 1 7 16z"/>
<path fill="#0028ff" d="M662 1336l-8 4-5-2 7 4zm-8 4l-7-16-5 18 7-4zm-7-16l-7 23-6 13 8-18zm-22 32l-7-11-5-22 7 36zm42-16l-7 14-6-14 8-4zm-51 22l-7-16-5 4 7-11zm-7-16l-7-10-6 31 8-17zm-7-10l-8 6-5-4 7 29zm78 5l-8 9-5-10 7 13zm-15 12l-7 1-6-25 8 25zm-7 1l-7 1-6-9 7-17zm-7 1l-8-12-5 11 7-8z"/>
<path fill="#0010ff" d="M618 1345l-7-6-6-18 8 2zm-7-6l-7 11-6-20 7-9zm-22-1l-7-2-6-2 8 16zm-7-2l-7 13-6-11 7-4zm78 18l-8-25-5-5 7 16zm-8-25l-7 17-5 1 7-23zm-58 13l-7 9-5-15 7 2zm-7 9l-7-12-5 10 7-13zm27-6l-7-20-5 11 7 10zm-14-13l-7 2-6 17 7-9z"/>
<path fill="#0800ff" d="M575 1349l-8-43-5 32 7 0zm-46-39l-2 38-6 7 3-39zm78 15l-7 7-6 10 8-6zm-14 9l-8-23-5 28 7 12z"/>
<path fill="#3800ff" d="M567 1306l-7-11-5 23 7 20zm-33-18l-2 42-5 18 2-38zm51 23l-7 0-5-10 7 38z"/>
<path fill="#5000ff" d="M560 1295l-7-5-6 17 8 11zm-29 1l-2 14-5 6 2-17zm42 5l-8-10-5 4 7 11zm5 10l-7 2-6-22 8 10zm-38-36l-3 48-5 7 2-42z"/>
<path fill="#6800ff" d="M553 1290l-8-12-5 29 7 0zm-19-1l-3 7-5 3 2-10zm31 2l-7-10-5 9 7 5zm-28-18l-3 15-5 22 2-14zm34 40l-7-24-6-8 7 10z"/>
<path fill="#8000ff" d="M545 1278l-7-1-5 3 7 27zm-7-1l-2 5-5 0 2-2zm-2 5l-2 7-6 0 3-7zm22-1l-7-7-6 4 8 12zm-19-12l-2 4-6 23 3-7z"/>
<path fill="#00ff9f" d="M524 1433l-2 104-5-1 2-98zm6-10l-3 112-5 2 2-104zm5 4l-2 124-6-16 3-112z"/>
<path fill="#20ff00" d="M522 1537l-2 64-6-6 3-59zm-158 56l-7-1-6-5 8-5zm-22 0l-7-4-5-5 7 2zm-7-4l-7-3-6-11 8 9zm-7-3l-7 7-6-12 7-6zm199-51l-2 68-5-2 2-64zm-179 53l-8 8-5-7 7 4zm-8 8l-7-3-5-7 7 3zm-7-3l-7-3-5 3 7-7zm-7-3l-7-11-6-1 8 15zm34 6l-7-16-5 8 7 5zm-7-16l-7 17-6-1 8-8zm-7 17l-7-11-6 7 7 3zm-7-11l-8-10-5 14 7 3zm-15 5l-7 2-6-8 8-6z"/>
<path fill="#80ff00" d="M520 1601l-3 18-5-11 2-13zm-105 30l-7-17-6-11 7 9zm-2-3l-7-9-6-10 8 5zm-2-3l-7 0-6-11 8 5z"/>
<path fill="#97ff00" d="M517 1619l-2 8-5-15 2-4zm-2 8l-2 1-6-17 3 1zm-2 1l-3-2-5-16 2 1zm-3-2l-8 9-5-18 8-7zm-81 12l-7-7-5-9 7 1zm-7-7l-7 0-6-19 8 10zm103-28l-2 26-6-10 3-18zm-105 39l-7-14-5-14 7 17zm-2-1l-7-16-5-6 7 9z"/>
<path fill="#afff00" d="M502 1635l-7 15-6-31 8-2zm-36-3l-8 7-5-8 7-1zm-22 13l-7 1-6-19 7 7zm-7 1l-8-8-5-15 7 4zm86-17l-3 11-5-13 2-8zm-88 14l-7 2-6-14 7 7zm-7 2l-8-3-5-11 7 0zm102-18l-2 26-5-24 2-26zm-97 13l-7 5-6-3 8 3zm-7 5l-8-4-5-13 7 14z"/>
<path fill="#c7ff00" d="M495 1650l-8-2-5-25 7-4zm-8-2l-7 1-5-14 7-12zm-7 1l-7-5-5-1 7-8zm-7-5l-7-12-6-2 8 13zm-15-5l-7 6-5-4 7-10zm-7 6l-7 0-6-11 8 7zm69-5l-2 6-5-18 2-1zm-2 6l-2 5-6-25 3 2zm-2 5l-9 11-5-27 8-9zm-45 3l-7-8-6-7 8-7zm-7-8l-7-4-6 3 7-6zm-7-4l-8 11-5-8 7 0zm-8 11l-7-7-5 0 7-1zm-7-7l-7-3-6-5 8 8zm5 7l-7-5-5-5 7 3zm-7-5l-7-8-5 5 7-2z"/>
<path fill="#68ff00" d="M408 1614l-8-5-5 0 7-6zm-8-5l-7 1-5-1 7 0zm-7 1l-7-3-6-8 8 10zm13 9l-8-5-5-4 7-1zm-8-5l-7 1-5-8 7 3zm-7 1l-7-3-5-6 7 1zm13 10l-7-9-6-1 7-1zm-7-9l-8-2-5-2 7 3z"/>
<path fill="#50ff00" d="M386 1607l-7-1-6 1 7-8zm-7-1l-8-4-5 1 7 4zm5 6l-7-11-6 1 8 4zm-7-11l-8 0-5-8 7 9zm12 13l-7-11-5-2 7 11zm-7-11l-7 1-6-3 8 0z"/>
<path fill="#38ff00" d="M371 1602l-7-9-5-11 7 21zm-14-10l-7 7-6-8 7-4zm-7 7l-8-6-5-7 7 5zm19 2l-7-9-5 0 7 1zm-7-9l-7 1-5 6 7-7zm-7 1l-7-5-6 5 8 6zm178-42l-3 76-5-24 2-68zm-158 53l-7-3-6-9 7 9zm-7-3l-8-5-5-3 7-1z"/>
<path fill="#08ff00" d="M321 1593l-8-15-5 3 7 0zm-8-15l-7-4-5 3 7 4zm-7-4l-7 0-6 7 8-4zm-7 0l-7 7-6 4 7-4zm-7 7l-8-3-5-8 7 15zm-15 1l-7-3-6-1 8 2zm42-3l-8 6-5-11 7 4zm-8 6l-7 0-5-11 7 0zm-7 0l-7-1-5-3 7-7zm-7-1l-7-1-6-5 8 3zm-7-1l-8-1-5 0 7-4zm-8-1l-7-3-5 0 7 3zm49-6l-7 15-5-12 7 11zm-14 17l-7-9-6 1 7 0zm-7-9l-8 4-5-4 7 1zm-8 4l-7 1-5-6 7 1zm-7 1l-7-7-6 0 8 1zm-7-7l-7 0-6-3 7 3z"/>
<path fill="#00ff10" d="M284 1578l-7 4-5-2 7-10zm-14 1l-8-9-5 2 7 6zm5 0l-7-6-6-3 8 9zm-7-6l-7 8-6-15 7 4zm13 9l-8-5-5-4 7 6zm-8-5l-7 8-5-4 7-8zm-7 8l-7-19-6 2 8 13z"/>
<path fill="#00ff28" d="M262 1570l-7-4-5 3 7 3zm-7-4l-7 4-5-8 7 7zm-7 4l-7 2-6-15 8 5zm13 11l-8-13-5 2 7-4zm-8-13l-7-7-5 11 7-2z"/>
<path fill="#00ff40" d="M241 1572l-8-15-5-2 7 2zm5-11l-7-7-6 3 8 15zm13 5l-7-10-6 5 7 7zm-7-10l-8-3-5 1 7 7z"/>
<path fill="#00ff58" d="M233 1557l-7-11-5-5 7 14zm6-3l-7-10-6 2 7 11zm5-1l-7-16-5 7 7 10z"/>
<path fill="#00ff87" d="M226 1546l-7-38-5 2 7 31zm6-2l-8-31-5-5 7 38zm5-7l-7-24-6 0 8 31z"/>
<path fill="#00ffff" d="M776 1401l-7 0-6 26 7 16z"/>
<path fill="#00b7ff" d="M761 1412l-7-18-5-25 7 11z"/>
<path fill="#2000ff" d="M580 1339l-7-38-6 5 8 43z"/>
<path fill="#9700ff" d="M551 1274l-7-4-6 7 7 1zm-7-4l-3-1-5 13 2-5zm-3-1l-2 0-5 20 2-7zm23 20l-8-23-5 8 7 7zm-22-30l-2 16-6 13 3-15z"/>
<path fill="#dfff00" d="M507 1662l-7 9-5-21 7-15zm-21 10l-8-9-5-19 7 5zm-8-9l-7-9-5-22 7 12zm50-10l-2 11-6-24 3-11zm-59 25l-7-8-5-28 7 4zm-7-8l-7-9-6-8 8-11zm-7-9l-8-8-5-7 7 7z"/>
<path fill="#f7ff00" d="M500 1671l-7 5-6-28 8 2zm-7 5l-7-4-6-23 7-1zm33-12l-3 6-5-24 2-6zm-3 6l-2 5-5-24 2-5zm-47 6l-7 2-5-32 7 8z"/>
<path fill="#af00ff" d="M556 1266l-7-10-5 14 7 4zm-7-10l-2-1-6 14 3 1zm-2-1l-3 0-5 14 2 0zm-3 0l-2 4-5 14 2-4z"/>
<path fill="#ffef00" d="M521 1675l-8 10-6-23 9-11zm-37 21l-8-20-5-22 7 9z"/>
<path fill="#ffd700" d="M513 1685l-8 5-5-19 7-9zm-8 5l-7 14-5-28 7-5zm-14 15l-7-9-6-33 8 9z"/>
<path fill="#ffbf00" d="M498 1704l-7 1-5-33 7 4z"/>
<path fill="#00cfff" d="M787 1413l-8-3-5-8 7-7zm-8-3l-7-12-5 10 7-6zm6-3l-8 1-5-10 7 12zm5 6l-7-19-6 14 8-1z"/>
<path fill="#00b7ff" d="M772 1398l-7-15-6 1 8 24zm5 10l-7-17-5-8 7 15zm6-14l-7-21-6 18 7 17z"/>
<path fill="#009fff" d="M765 1383l-7 7-6-26 7 20zm5 8l-7-12-5 11 7-7z"/>
<path fill="#0087ff" d="M758 1390l-8-21-5-1 7-4zm5-11l-7-9-6-1 8 21zm13-6l-8-4-5 10 7 12zm-8-4l-7 3-5-2 7 9zm-21 19l-8-3-5-9 7-11z"/>
<path fill="#0070ff" d="M750 1369l-7-17-5 23 7-7zm6 1l-8-12-5-6 7 17zm5 2l-7-1-6-13 8 12zm-7-1l-7 17-6-23 7-7zm-15 14l-7-16-5-16 7 23z"/>
<path fill="#0058ff" d="M743 1352l-7-13-6 16 8 20zm-22 2l-7 9-5-2 7-8zm-7 9l-7-5-6-7 8 10zm-7-5l-7 5-6 4 7-16zm-7 5l-8-12-5-7 7 23zm48-5l-7 7-5-26 7 13zm-7 7l-7 11-5-28 7-9zm-7 11l-7-23-6 1 8-6zm-15-30l-7 10-5 2 7 5zm-7 10l-7 5-5 2 7-5zm-7 5l-7-2-6-8 8 12zm-29 7l-7-11-6 1 8 5zm42-20l-8 16-5-3 7-5zm-8 16l-7-15-5 10 7 2z"/>
<path fill="#0040ff" d="M736 1339l-7 9-6 2 7 5zm-7 9l-8 6-5-1 7-3zm-51-2l-7 17-6-10 7-3zm-7 17l-8-5-5-4 7-1zm-8-5l-7-10-5 7 7-1zm-29-13l-7 16-5 3 7 7zm-7 16l-7-12-6-4 8 19zm-84-49l-3 101-5 14 2-104zm184 41l-8-7-5 17 7-9zm-44-16l-7 31-5-5 7-17zm-14 20l-8-3-5-6 7 10zm63 12l-7-17-6-6 8 7zm-7-17l-7-4-6 8 7-10zm-36-3l-8 5-5 14 7-31zm-8 5l-7-10-5 13 7 11zm-7-10l-7 30-6-20 8 3zm-7 30l-7-27-6-2 7 9z"/>
<path fill="#0028ff" d="M692 1351l-7-14-5 4 7 3zm-7-14l-7 9-6 4 8-9zm-29 11l-7-12-6 7 8 12zm-15-20l-7 17-5 26 7-17zm57 31l-8-25-5 3 7 14zm-37-5l-7-9-5-9 7 12zm-29-5l-7 0-5 0 7 12zm-7 0l-7-1-6-3 8 4zm78 0l-7-12-6-3 8 25z"/>
<path fill="#0010ff" d="M649 1336l-8-8-5 26 7-11zm-29 13l-8-4-5-20 7 20zm70-15l-7 3-5 9 7-9zm-50-24l-8 39-5 12 7-16zm-22 38l-7-9-6-12 7 18zm-70-65l-2 117-6 13 3-101zm148 54l-7 12-6-12 7-3zm-58-1l-7-2-6 15 7 0zm-7-2l-8-2-5 16 7 1z"/>
<path fill="#0800ff" d="M612 1345l-7-18-5 5 7-7zm-7-18l-7-8-5 15 7-2zm49 18l-7-30-6 13 8 8zm-7-30l-7-5-6 35 7-17zm-36 24l-8-6-5-14 7 8zm49 8l-8-20-5-12 7 30zm-15-21l-7 10-6 13 8-39zm-22 6l-7-10-5 17 7 9zm-69-53l-3 135-5-14 2-117z"/>
<path fill="#2000ff" d="M598 1319l-7-9-6 1 8 23zm54 8l-7-1-5-16 7 5zm-36-5l-7-9-6 20 8 6z"/>
<path fill="#5000ff" d="M591 1310l-8-17-5 18 7 0zm-8-17l-7-8-5 28 7-2zm26 20l-8-41-5 20 7 41z"/>
<path fill="#6800ff" d="M576 1285l-7-11-5 15 7 24zm-31-11l-2 38-6 11 3-48z"/>
<path fill="#af00ff" d="M569 1274l-7-39-6 31 8 23zm-22-8l-2 8-5 1 2-16zm42-18l-7-6-6 43 7 8z"/>
<path fill="#df00ff" d="M562 1235l-8 5-5 16 7 10zm-8 5l-2 13-5 2 2 1zm1-18l-2 4-6 40 3-4zm-2 4l-2 11-6 37 2-8zm3-7l-2 60-6 4 3-46z"/>
<path fill="#c700ff" d="M552 1253l-2 9-6-7 3 0zm-2 9l-3 4-5-7 2-4zm32-20l-8-17-5 49 7 11zm19 30l-7-47-5 23 7 44z"/>
<path fill="#00ff9f" d="M540 1413l-2 131-5 7 2-124zm-298 118l-7-12-5-6 7 24zm6 8l-7-19-6-1 7 12zm303-125l-2 166-5-29 2-151zm-298 127l-7-26-5 5 7 19z"/>
<path fill="#50ff00" d="M538 1544l-2 86-6-3 3-76zm-143 68l-7-7-6-2 7 11zm-7-7l-8 10-5-11 7-1zm-8 10l-7-5-5-9 7 3zm164-64l-3 100-5-21 2-86zm-144 67l-7-7-5-6 7 7zm-7-7l-7 5-6-1 8-10zm-7 5l-8-5-5-1 7 5zm5 2l-7-9-6 2 8 5z"/>
<path fill="#dfff00" d="M536 1630l-2 42-6-19 2-26zm-83 42l-7-11-6-13 7 5zm-2 3l-7-14-6-19 8 19zm-2 4l-7-10-6-15 8 7zm-7-10l-7 3-6-11 7-7zm-7 3l-8-11-5-9 7 9z"/>
<path fill="#ffef00" d="M534 1672l-3 18-5-26 2-11zm-67 30l-7-27-5-14 7 9zm-9-2l-7-25-5-14 7 11zm-2-5l-7-16-5-18 7 14z"/>
<path fill="#ffd700" d="M531 1690l-2 11-6-31 3-6zm-56 27l-8-15-5-32 7 8zm-10-21l-7 4-5-28 7 3z"/>
<path fill="#ffbf00" d="M529 1701l-2 8-6-34 2-5zm-40 18l-7-13-6-30 8 20zm-7-13l-7 11-6-39 7-2zm57-7l-2 22-6-31 3-18zm-66 8l-8-11-5-21 7 27zm74-22l-3 41-5-27 2-48zm-83 31l-8-21-5-20 7 25z"/>
<path fill="#ffa700" d="M527 1709l-9 14-5-38 8-10zm-49 18l-7-9-6-22 8 11zm-7-9l-7-2-6-16 7-4z"/>
<path fill="#ff8f00" d="M518 1723l-7 7-6-40 8-5zm-7 7l-7 13-6-39 7-14zm-15 0l-7-11-5-23 7 9zm41-9l-3 14-5-34 2-11zm-57 11l-7-25-6-5 8 15z"/>
<path fill="#ff7800" d="M504 1743l-8-13-5-25 7-1zm30-8l-2 10-5-36 2-8zm-39 15l-8-12-5-32 7 13zm-8-12l-7-6-5-15 7-11zm57-12l-2 21-5-26 2-22zm-59 10l-7-9-5-20 7 25z"/>
<path fill="#f7ff00" d="M460 1675l-7-3-6-19 8 8zm81-24l-2 48-5-27 2-42z"/>
<path fill="#c7ff00" d="M446 1661l-8-19-5-2 7 8zm-2 0l-8-7-5-8 7-4zm-8-7l-7 7-5-8 7-7zm-7 7l-7-9-5-18 7 19z"/>
<path fill="#afff00" d="M438 1642l-7 4-5-1 7-5zm-7 4l-7 7-6-12 8 4zm-7 7l-7-19-6-9 7 16zm3 8l-7-12-5-11 7 14z"/>
<path fill="#97ff00" d="M417 1634l-8-5-5-4 7 0zm5 18l-7-14-6-9 8 5zm127-72l-2 105-6-34 3-100zm-129 69l-7-19-6-11 8 19z"/>
<path fill="#80ff00" d="M409 1629l-7-13-5 0 7 9zm6 9l-8-19-5-3 7 13zm-2-8l-7-8-6-4 7 1z"/>
<path fill="#68ff00" d="M402 1616l-7-4-6 2 8 2zm5 3l-7-1-5-6 7 4zm-1 3l-8 1-5-12 7 7zm-8 1l-7-5-5-2 7-5z"/>
<path fill="#38ff00" d="M373 1610l-7-14-6 0 8 5zm5 1l-7-17-5 2 7 14zm-21-9l-8-2-5-11 7 8zm27 7l-7-11-6-4 7 17zm-22-11l-7 6-6-4 8 2z"/>
<path fill="#20ff00" d="M366 1596l-8-8-5-8 7 16zm-8-8l-7 9-5 0 7-17zm-7 9l-7-8-5-3 7 11zm-43-6l-8 3-5-5 7-1zm63 3l-7 0-6-6 8 8zm-7 0l-7 8-6-5 7-9zm-15 6l-7-12-5-6 7 7zm28-2l-8-9-5 5 7 0zm-8-9l-7 9-5 4 7-8zm-14 15l-7-12-6-4 7 12z"/>
<path fill="#08ff00" d="M344 1589l-7-7-6-6 8 10zm-7-7l-8 3-5 6 7-15zm-8 3l-7-5-5 13 7-2zm-7-5l-7 4-5 0 7 9zm-7 4l-7 7-6-3 8-4zm-15 10l-7-17-5 5 7 7zm42-6l-7-8-6 5 8-3zm-7-8l-7-1-6 1 7 5zm-7-1l-8 12-5-7 7-4zm-8 12l-7-1-5 1 7-7zm-7-1l-7-8-6 12 8-3zm35 2l-8 3-5-15 7 8zm-8 3l-7 1-5-17 7 1zm-7 1l-7-10-6 5 8-12zm-7-10l-8 1-5 3 7 1zm-8 1l-7-5-5 0 7 8z"/>
<path fill="#00ff10" d="M293 1577l-7-6-5 11 7 0zm-7-6l-7 8-6-2 8 5zm-7 8l-8 7-5-1 7-8zm-8 7l-7-12-5-8 7 19zm35-4l-7-9-6 4 7 17zm-7-9l-8 1-5-3 7 6zm-8 1l-7 8-5-3 7-8zm-7 8l-7 3-6 1 8-7zm-7 3l-7-11-6 0 7 12zm34-3l-7-1-5-8 7 9zm-7-1l-7 7-6-14 8-1zm-7 7l-8-6-5 0 7-8zm-8-6l-7-9-5 12 7-3z"/>
<path fill="#00ff28" d="M264 1574l-7-8-5-10 7 10zm6 0l-8-9-5 1 7 8zm12-1l-7-2-5 3 7 11zm-7-2l-7-3-6-3 8 9z"/>
<path fill="#00ff40" d="M257 1566l-7-16-6 3 8 3zm5-1l-7-8-5-7 7 16zm6 3l-8-9-5-2 7 8z"/>
<path fill="#00ff70" d="M250 1550l-8-19-5 6 7 16zm5 7l-7-18-6-8 8 19z"/>
<path fill="#00e7ff" d="M792 1433l-7-26-6 3 8 3z"/>
<path fill="#3800ff" d="M603 1333l-7-41-5 18 7 9z"/>
<path fill="#8000ff" d="M596 1292l-7-44-6 45 8 17z"/>
<path fill="#f700ff" d="M574 1225l-7-20-5 30 7 39zm-17-9l-2 6-5 40 2-9zm37 9l-7-5-5 22 7 6z"/>
<path fill="#ff00d7" d="M567 1205l-7 2-6 33 8-5zm20 15l-7-42-6 47 8 17zm-29-25l-2 24-5 18 2-11z"/>
<path fill="#ff00ef" d="M560 1207l-3 9-5 37 2-13z"/>
<path fill="#9700ff" d="M551 1237l-3 46-5 29 2-38z"/>
<path fill="#00ffb7" d="M546 1400l-2 151-6-7 2-131z"/>
<path fill="#ff6000" d="M532 1745l-8 25-6-47 9-14zm-39 15l-8-24-5-4 7 6z"/>
<path fill="#ff3000" d="M524 1770l-8 2-5-42 7-7zm-8 2l-7 4-5-33 7-13zm-7 4l-7-8-6-38 8 13zm31-18l-3 6-5-19 2-10zm-40 21l-7-19-6-22 8 12z"/>
<path fill="#ff4800" d="M502 1768l-7-18-6-31 7 11zm40-21l-2 11-6-23 3-14z"/>
<path fill="#00ffff" d="M797 1443l-7-30-5-6 7 26z"/>
<path fill="#ff00a7" d="M580 1178l-8-12-5 39 7 20zm-17-6l-2 10-6 40 2-6z"/>
<path fill="#ff008f" d="M572 1166l-7 0-5 41 7-2zm-7 0l-2 6-6 44 3-9z"/>
<path fill="#ff00bf" d="M561 1182l-3 13-5 31 2-4z"/>
<path fill="#ff1800" d="M537 1764l-8 18-5-12 8-25zm-30 20l-7-5-5-29 7 18z"/>
<path fill="#ff0000" d="M529 1782l-7 3-6-13 8-2zm-7 3l-8 0-5-9 7-4zm-8 0l-7-1-5-16 7 8z"/>
<path fill="#00ff58" d="M260 1559l-7-18-5-2 7 18z"/>
<path fill="#00ffff" d="M803 1429l-7-16-6 0 7 30z"/>
<path fill="#00cfff" d="M796 1413l-8-24-5 5 7 19z"/>
<path fill="#009fff" d="M788 1389l-7-16-5 0 7 21zm-36-7l-7 9-6-6 8 3zm42 5l-8 4-5-18 7 16zm5-4l-7 6-6 2 8-4zm-7 6l-7 12-6-22 7 12z"/>
<path fill="#0087ff" d="M781 1373l-7 4-6-8 8 4zm-36 18l-8-20-5-2 7 16zm41 0l-7-12-5-2 7-4zm-29-22l-7 10-5 12 7-9zm28 32l-8-20-5-20 7 18z"/>
<path fill="#0070ff" d="M774 1377l-7-16-6 11 7-3zm-15-29l-7 34-5 6 7-17zm20 31l-7-18-5 0 7 16zm-29 0l-7-28-6 20 8 20zm27 2l-7-9-5-12 7 1z"/>
<path fill="#0058ff" d="M767 1361l-8-13-5 23 7 1zm-30 10l-7-12-5-7 7 17zm35-10l-7-1-6-12 8 13zm-7-1l-8 9-5 13 7-34zm-22-9l-7 2-6 6 7 12zm-22 8l-7 6-6-1 8-10zm-7 6l-7 12-6-4 7-9zm56 7l-7-12-6 9 8-9zm-7-12l-7-1-6 20 7-10zm-7-1l-8-14-5 6 7 28zm-15 19l-7-17-6-12 8 4z"/>
<path fill="#0040ff" d="M730 1359l-7-19-5 8 7 4zm-7-19l-7 14-6 10 8-16zm-7 14l-8 10-5-15 7 15zm-8 10l-7 9-5-36 7 12zm-7 9l-7-26-5 2 7-12zm-29-17l-7-13-5 4 7 27zm64-3l-8-4-5-9 7 19zm-8-4l-7 10-5-5 7-14zm-21 28l-8-41-5 11 7 26zm41-32l-7 33-5-25 7-2zm-14 16l-7-7-6 5 7-10zm-7-7l-8-8-5 19 7-6zm-8-8l-7-1-5 32 7-12z"/>
<path fill="#0028ff" d="M694 1347l-7-6-6 13 8-5zm-7-6l-8-5-5 8 7 10zm-8-5l-7 20-5 18 7-30zm33 9l-7-5-6-4 8 41z"/>
<path fill="#0010ff" d="M665 1343l-7 3-6-19 8 20zm-7 3l-8 3-5-23 7 1zm41-10l-7 5-5 0 7 6zm-7 5l-7-1-6-4 8 5zm-7-1l-7-10-6 26 7-20zm-7-10l-8 2-5 11 7 13zm-8 2l-7 13-5 1 7-3zm-7 13l-7-6-6 10 8-3zm42-5l-8-6-5 7 7-5z"/>
<path fill="#0800ff" d="M650 1349l-7-17-5 4 7-10zm-7-17l-7-22-5 24 7 2zm-84-54l-2 136-6 0 3-135zm97 61l-7-31-6 24 7 17zm41-5l-7-16-5 22 7 1zm-7-16l-7 9-5 3 7 10zm-7 9l-7 3-6 2 8-2zm-7 3l-8-13-5 28 7-13zm-8-13l-7 7-5 15 7 6z"/>
<path fill="#2000ff" d="M636 1310l-7-6-6 28 8 2zm-72-67l-2 152-5 19 2-136z"/>
<path fill="#3800ff" d="M629 1304l-8-9-5 27 7 10zm20 4l-8-13-5 15 7 22zm12 16l-7-46-5 30 7 31zm-91-79l-3 154-5-4 2-152z"/>
<path fill="#6800ff" d="M621 1295l-7-31-5 49 7 9zm20 0l-7-11-5 20 7 6z"/>
<path fill="#9700ff" d="M614 1264l-7 2-6 6 8 41zm25 18l-7-30-5 18 7 14z"/>
<path fill="#df00ff" d="M607 1266l-7-36-6-5 7 47zm-46-53l-2 65-5 1 2-60zm71 39l-7-40-5 21 7 37z"/>
<path fill="#ff00d7" d="M600 1230l-8-37-5 27 7 5zm-33-57l-3 70-5 35 2-65zm51 47l-8-21-5 22 7 22z"/>
<path fill="#ff008f" d="M592 1193l-7-33-5 18 7 42z"/>
<path fill="#ff0060" d="M585 1160l-7-7-6 13 8 12zm-17-8l-2 11-5 19 2-10zm35 21l-7-23-5 8 7 32z"/>
<path fill="#ff0048" d="M578 1153l-7-5-6 18 7 0zm-7-5l-3 4-5 20 2-6zm20 10l-8-8-5 3 7 7zm-20-10l-2 5-5 28 2-18zm3 7l-2 18-5 0 2-20z"/>
<path fill="#ff0078" d="M566 1163l-2 18-6 14 3-13zm32 27l-7-32-6 2 7 33zm-29-37l-2 20-6 40 3-32z"/>
<path fill="#ff00a7" d="M564 1181l-3 32-5 6 2-24zm46 18l-7-26-5 17 7 31z"/>
<path fill="#00ff9f" d="M557 1414l-3 166-5 0 2-166zm-298 121l-8-15-5-5 7 26zm303-140l-2 182-6 3 3-166zm-298 151l-7-27-6 1 8 15z"/>
<path fill="#afff00" d="M554 1580l-2 102-5 3 2-105zm-129 76l-7-17-5-9 7 19zm135-79l-3 114-5-9 2-102zm-129 92l-7-26-6-4 7 17zm134-86l-2 113-6-5 3-114zm-136 80l-7-9-6-16 8 5z"/>
<path fill="#ffa700" d="M552 1682l-2 49-6-5 3-41zm-83 48l-7-11-6-24 8 21zm-2 5l-7-16-5-19 7 19z"/>
<path fill="#ff4800" d="M550 1731l-3 25-5-9 2-21zm5 10l-2 25-6-10 3-25zm-66 30l-7-9-6-23 8 15zm71-36l-2 20-5 11 2-25zm-80 28l-7-14-6-14 7 21z"/>
<path fill="#ff3000" d="M547 1756l-2 14-5-12 2-11zm-49 25l-7-20-6-25 8 24zm-11-5l-7-13-6-7 8 6z"/>
<path fill="#ff1800" d="M545 1770l-2 7-6-13 3-6zm8-4l-3 10-5-6 2-14zm-57 17l-7-12-5-17 7 7zm62-28l-2 10-6 11 3-10zm-64 28l-7-7-5-14 7 9z"/>
<path fill="#ff0000" d="M543 1777l-9 8-5-3 8-18zm-9 8l-7 2-5-2 7-3zm-7 2l-7 0-6-2 8 0zm-7 0l-7 0-6-3 7 1zm-7 0l-8 0-5-8 7 5zm-8 0l-7-6-5-21 7 19zm45-11l-2 4-5-3 2-7zm-2 4l-8 6-6-1 9-8zm-8 6l-8 2-5-1 7-2zm-8 2l-7 0-5-1 7 0zm-7 0l-7 1-5-2 7 0zm-7 1l-7 1-6-3 8 0zm-7 1l-8-1-5-8 7 6zm-8-1l-7-6-5-22 7 20zm53-24l-2 5-6 10 2-4zm-2 5l-9 15-5 1 8-6zm-9 15l-7 4-6-1 8-2zm-7 4l-7 1-6-2 7 0zm-7 1l-8 0-5-1 7-1zm-8 0l-7 1-5-1 7-1zm-7 1l-7-1-6-1 8 1zm-7-1l-7-2-6-5 7 6zm-7-2l-8-5-5-12 7 12z"/>
<path fill="#ff6000" d="M491 1761l-7-7-6-27 7 9zm-9 1l-8-6-5-26 7 9z"/>
<path fill="#ff7800" d="M484 1754l-8-15-5-21 7 9zm-10 2l-7-21-5-16 7 11zm-1-7l-8-6-5-24 7 16z"/>
<path fill="#ff8f00" d="M476 1739l-7-9-5-14 7 2zm81-48l-2 50-5-10 2-49zm6 5l-3 39-5 6 2-50zm-98 47l-7-18-5-23 7 17z"/>
<path fill="#ffd700" d="M462 1719l-7-19-6-21 7 16zm-4 6l-7-25-6-27 8 29z"/>
<path fill="#ffef00" d="M455 1700l-8-17-5-14 7 10zm-2 2l-8-29-5-1 7 11z"/>
<path fill="#f7ff00" d="M447 1683l-7-11-5 0 7-3zm4 17l-7-13-6-17 7 3zm-7-13l-8-3-5-15 7 1z"/>
<path fill="#dfff00" d="M440 1672l-7-10-6-1 8 11zm5 1l-7-3-5-8 7 10zm-7-3l-7-1-6-13 8 6zm-2 14l-7-21-5-20 7 26z"/>
<path fill="#c7ff00" d="M433 1662l-8-6-5-7 7 12z"/>
<path fill="#80ff00" d="M418 1639l-7-13-5-4 7 8zm-7-13l-7 5-6-8 8-1zm-7 5l-8-4-5-9 7 5zm12 7l-7-2-5-5 7-5zm-7-2l-7-12-6 3 8 4zm6 3l-8-15-5 0 7 12z"/>
<path fill="#68ff00" d="M396 1627l-7-17-5-1 7 9zm6-3l-7-13-6-1 7 17zm5 0l-7-10-5-3 7 13z"/>
<path fill="#38ff00" d="M389 1610l-7-11-5-1 7 11zm-22-10l-7-6-5 10 7-6zm20 14l-7-2-5-16 7 3zm-7-2l-7-8-6-4 8-4zm5 3l-7-17-5 6 7 8z"/>
<path fill="#20ff00" d="M382 1599l-7-3-6-7 8 9zm-7-3l-8 4-5-2 7-9zm-15-2l-7 4-5-6 7 12zm-7 4l-7 2-6-5 8-3zm-7 2l-8-8-5 4 7-1zm27 4l-7-18-6 8 7 6zm-7-18l-8 10-5 2 7-4zm-8 10l-7 0-5 4 7-2zm-7 0l-7-12-6 8 8 8zm27 2l-7-1-5-11 7 18zm-7-1l-7 3-6-4 8-10zm-7 3l-8-5-5 1 7 0z"/>
<path fill="#08ff00" d="M338 1592l-7-4-5-2 7 10zm-7-4l-7 5-6-6 8-1zm-7 5l-7-5-6-6 7 5zm-7-5l-8 2-5-9 7 1zm-8 2l-7 2-5-4 7-7zm-7 2l-7-9-6-1 8 6zm42-8l-7 5-6-1 7 4zm-7 5l-8 1-5 3 7-5zm-8 1l-7-6-5 4 7 5zm-7-6l-7 7-6-1 8-2zm-7 7l-7 9-6-8 7-2zm-7 9l-8-16-5-1 7 9zm48-5l-7-9-5-2 7 12zm-7-9l-7-3-5 6 7-5zm-7-3l-7-2-6 9 8-1zm-7-2l-8 12-5-9 7 6zm-8 12l-7-1-5-1 7-7zm-7-1l-7 3-5 5 7-9zm-7 3l-7-19-6 8 8 16z"/>
<path fill="#00ff10" d="M295 1583l-7-3-6-7 7 9zm5 1l-7 0-5-4 7 3zm6-8l-8-1-5 9 7 0z"/>
<path fill="#00ff28" d="M288 1580l-8-8-5-1 7 2zm-8-8l-7 0-5-4 7 3zm13 12l-7-10-6-2 8 8zm-7-10l-8-3-5 1 7 0zm12 1l-7 6-5-7 7 10zm-7 6l-7 0-6-10 8 3z"/>
<path fill="#00ff40" d="M273 1572l-7-20-6 7 8 9zm5-1l-7-15-5-4 7 20zm6 10l-7-18-6-7 7 15z"/>
<path fill="#00ff70" d="M266 1552l-7-17-6 6 7 18zm5 4l-7-10-5-11 7 17z"/>
<path fill="#00e7ff" d="M808 1431l-7-23-5 5 7 16zm6 6l-8-39-5 10 7 23z"/>
<path fill="#00b7ff" d="M801 1408l-7-21-6 2 8 24zm5-10l-7-15-5 4 7 21z"/>
<path fill="#8000ff" d="M634 1284l-7-14-6 25 8 9zm20-6l-7-6-6 23 8 13zm-7-6l-8 10-5 2 7 11z"/>
<path fill="#af00ff" d="M627 1270l-7-37-6 31 7 31z"/>
<path fill="#c700ff" d="M620 1233l-8 10-5 23 7-2z"/>
<path fill="#f700ff" d="M612 1243l-7-22-5 9 7 36z"/>
<path fill="#ff00bf" d="M605 1221l-7-31-6 3 8 37zm-33-48l-2 72-6-2 3-70z"/>
<path fill="#ff0030" d="M583 1150l-7-4-5 2 7 5zm-7-4l-2 0-6 6 3-4zm-2 0l-3 2-5 15 2-11zm22 4l-7-4-6 4 8 8zm-7-4l-8 4-5-4 7 4zm-8 4l-2 0-5-4 2 0zm-2 0l-2 1-6-3 3-2zm-2 1l-3 4-5-2 2-5z"/>
<path fill="#ffbf00" d="M460 1719l-7-17-6-19 8 17z"/>
<path fill="#97ff00" d="M424 1643l-8-5-5-12 7 13zm-2 11l-7-15-6-3 7 2z"/>
<path fill="#50ff00" d="M395 1611l-8 3-5-15 7 11zm5 3l-7 13-6-13 8-3zm-7 13l-8-12-5-3 7 2z"/>
<path fill="#ff00ef" d="M625 1212l-7 8-6 23 8-10z"/>
<path fill="#00ffb7" d="M567 1399l-2 184-5-6 2-182z"/>
<path fill="#00ff58" d="M277 1563l-8-15-5-2 7 10z"/>
<path fill="#00ff87" d="M269 1548l-7-29-5 0 7 27z"/>
<path fill="#00e7ff" d="M819 1440l-7-37-6-5 8 39z"/>
<path fill="#00b7ff" d="M812 1403l-8 5-5-25 7 15zm-15-12l-7 15-5-5 7-12zm13 17l-7-23-6 6 7 17z"/>
<path fill="#009fff" d="M804 1408l-7-17-5-2 7-6zm-14-2l-7-26-6 1 8 20zm13-21l-8-4-5 25 7-15zm12 8l-7-25-5 17 7 23z"/>
<path fill="#0070ff" d="M783 1380l-8-15-5 7 7 9zm-37 2l-7-13-5-8 7 17zm42-14l-7 21-6-24 8 15zm-7 21l-7-12-6-12 7 0zm27-21l-7-2-6 15 8 4zm-7-2l-7 14-6-12 7 13z"/>
<path fill="#0058ff" d="M775 1365l-7 0-5-5 7 12zm-7 0l-7 0-5-6 7 1zm-14-18l-8 35-5-4 7-33zm20 30l-8-19-5 7 7 0zm-15-20l-7 12-6 13 8-35zm-7 12l-7-6-6 6 7 13zm27 1l-7-3-6-9 8 19zm-7-3l-8 14-5-24 7 1zm-8 14l-7-2-5-10 7-12zm-7-2l-7-30-5 14 7 6z"/>
<path fill="#0040ff" d="M761 1365l-7-18-6-2 8 14zm-22 4l-7-24-5 9 7 7zm27-11l-7-1-5-10 7 18zm-21 5l-8-16-5-2 7 24z"/>
<path fill="#0028ff" d="M732 1345l-7 2-6-1 8 8zm-7 2l-8 4-5-6 7 1zm12 0l-7-1-5 1 7-2zm-7-1l-7 4-6 1 8-4zm20 3l-7-18-6 16 8 16zm-164-32l-2 95-6 6 3-114z"/>
<path fill="#0010ff" d="M717 1351l-7-15-5 4 7 5zm6-1l-7-14-6 0 7 15zm-142-46l-3 114-5 1 2-136zm162 27l-8 1-5 14 7 1zm-8 1l-7-14-5 32 7-4z"/>
<path fill="#0800ff" d="M710 1336l-7-29-6 27 8 6zm18-18l-7 9-5 9 7 14zm-7 9l-7 13-6-24 8 20z"/>
<path fill="#2000ff" d="M703 1307l-7 0-6 11 7 16zm-7 0l-8 12-5 8 7-9zm-8 12l-7-3-5 14 7-3zm-113-36l-2 136-6-20 3-154zm141 53l-8-20-5-9 7 29z"/>
<path fill="#3800ff" d="M681 1316l-7-20-6 21 8 13zm27 0l-7 0-5-9 7 0zm-7 0l-7-21-6 24 8-12zm13 24l-8-47-5 23 7 0z"/>
<path fill="#5000ff" d="M674 1296l-7-5-6 33 7-7zm20-1l-7-17-6 38 7 3z"/>
<path fill="#8000ff" d="M667 1291l-8-32-5 19 7 46z"/>
<path fill="#af00ff" d="M659 1259l-7-4-5 17 7 6zm-7-4l-7 12-6 15 8-10zm-7 12l-7-15-6 0 7 30zm27-8l-7-11-6 11 8 32zm20 5l-7-19-6 28 8 5z"/>
<path fill="#ff00ef" d="M638 1252l-8-37-5-3 7 40zm-60-35l-3 66-5-38 2-72zm65 23l-7-14-6-11 8 37zm5-11l-7-8-5 5 7 14z"/>
<path fill="#ff00bf" d="M630 1215l-7-12-5 17 7-8zm6 11l-8-18-5-5 7 12zm-2 7l-7-24-6-27 7 26z"/>
<path fill="#ff00a7" d="M623 1203l-7-20-6 16 8 21zm-35 12l-3 17-5-44 2-15zm10 3l-3 18-5-38 2-16z"/>
<path fill="#ff0078" d="M616 1183l-7-33-6 23 7 26zm-36 5l-2 29-6-44 2-18zm10 10l-2 17-6-42 2-8zm29 15l-7-12-5-46 7 10zm-14-22l-7 27-6-36 7-23z"/>
<path fill="#ff0030" d="M609 1150l-8-5-5 5 7 23zm-8-5l-7 6-5-5 7 4zm-7 6l-7 9-6-10 8-4zm-7 9l-3 5-5-15 2 0zm27 5l-7-10-6-10 8 5zm-7-10l-8 4-5-8 7-6z"/>
<path fill="#ff0048" d="M584 1165l-2 8-5-22 2-1zm-2 8l-2 15-6-33 3-4zm17-14l-7 23-5-22 7-9z"/>
<path fill="#00ff9f" d="M573 1419l-2 158-6 6 2-184zm5-1l-2 139-5 20 2-158z"/>
<path fill="#afff00" d="M571 1577l-3 91-5 28 2-113zm-144 96l-7-26-5-8 7 15zm-2-4l-7-17-5-16 7 11zm-2-1l-7-1-5-17 7 2zm-7-1l-7-9-5-19 7 11z"/>
<path fill="#ffbf00" d="M568 1668l-2 37-6 30 3-39zm-112 61l-7-23-5-19 7 13zm115-47l-2 17-5 21 2-15zm-117 41l-7-1-5-19 7 3zm118-35l-2 5-6 25 3-8zm-120 36l-7-16-5-10 7 24z"/>
<path fill="#ff7800" d="M566 1705l-2 15-6 35 2-20zm1 5l-3 8-5 23 2-11zm-100 41l-7-14-6-14 8 21z"/>
<path fill="#ff4800" d="M564 1720l-3 10-5 35 2-10zm-3 10l-2 11-5 29 2-5zm-83 36l-7 2-6-25 8 6zm86-48l-8 31-5 31 8-39zm-88 54l-7-12-6-14 8 22zm78-43l-7 13-6 31 8-9z"/>
<path fill="#ff1800" d="M559 1741l-8 39-6 5 9-15zm-67 35l-7-9-5-4 7 13zm64-27l-7 15-6 23 8-7zm-51 35l-7-10-6 2 8 8zm-7-10l-7 7-6-14 7 9zm-7 7l-8-5-5-10 7 1zm34-26l-7 13-6 15 8 0zm-7 13l-7 15-6 1 7-1zm-7 15l-8-9-5 0 7 10zm-8-9l-7 4-5 3 7-7zm-7 4l-7-4-6 2 8 5z"/>
<path fill="#ff0000" d="M551 1780l-8 7-5 2 7-4zm-8 7l-7 2-5 1 7-1zm-7 2l-7-2-6 3 8 0zm-7-2l-8 3-5 1 7-1zm-8 3l-7 1-5-1 7 1zm-7 1l-7-2-5-1 7 2zm-7-2l-7-5-6-1 8 5zm-7-5l-8-8-5 0 7 7zm49-20l-8 9-5 16 7-2zm-8 9l-7 6-5 8 7 2zm-7 6l-7 4-6 7 8-3zm-7 4l-7 0-6 8 7-1zm-7 0l-8 0-5 6 7 2zm-8 0l-7 1-5 0 7 5z"/>
<path fill="#ff3000" d="M485 1767l-7-1-5-17 7 14zm-2 9l-7-4-5-4 7-2zm64-34l-7 10-6 27 7-6zm-7 10l-8 1-5 30 7-4zm-8 1l-7 2-5 28 7 0zm-43 21l-8-5-5 3 7 4zm-8-5l-7-12-5 3 7 12z"/>
<path fill="#ff6000" d="M471 1768l-8-22-5-21 7 18zm-2-8l-7-16-6-15 7 17zm92-50l-7 19-5 35 7-15zm-87 47l-7-6-5-7 7 16z"/>
<path fill="#ff8f00" d="M463 1746l-7-17-5-29 7 25zm106-47l-2 11-6 20 3-10zm-107 45l-8-21-5-17 7 23zm108-51l-9 17-5 39 8-31z"/>
<path fill="#ffd700" d="M449 1706l-7-3-6-19 8 3zm-2 16l-7-24-6-9 8 14zm127-44l-2 10-5 22 2-11z"/>
<path fill="#f7ff00" d="M442 1703l-8-14-5-26 7 21zm-2-5l-7-15-6-10 7 16zm-2 3l-7-13-6-19 8 14z"/>
<path fill="#dfff00" d="M434 1689l-7-16-5-19 7 9z"/>
<path fill="#80ff00" d="M420 1647l-7-11-6-12 8 15zm-9 3l-7-11-6-13 7 3zm-2 8l-7-16-6-21 8 18z"/>
<path fill="#68ff00" d="M413 1636l-8-7-5-15 7 10zm-8-7l-7-3-5 1 7-13zm171-72l-2 85-6 26 3-91zm-172 82l-8-18-5-10 7 15z"/>
<path fill="#50ff00" d="M398 1626l-7-15-6 4 8 12zm4 16l-8-22-5-11 7 12z"/>
<path fill="#38ff00" d="M391 1611l-7-10-6-3 7 17zm5 10l-7-12-5-8 7 10zm-7-12l-7-2-6-2 8-4zm192-75l-2 80-5 28 2-85zm-187 86l-7-3-5-10 7 2zm-7-3l-7-10-5-7 7 7z"/>
<path fill="#20ff00" d="M384 1601l-8 4-5-8 7 1zm-8 4l-7-2-5-3 7-3zm-7-2l-7 1-6-9 8 5zm13 4l-7-7-6 3 7 2zm-7-7l-8 10-5-6 7-1zm-8 10l-7-12-5-8 7 14zm13-3l-7-7-6 10 8-10zm-7-7l-8-5-5 3 7 12z"/>
<path fill="#08ff00" d="M362 1604l-7-14-6-4 7 9zm-7-14l-8 3-5-10 7 3zm-8 3l-7 0-5-12 7 2zm-7 0l-7 3-6-3 8-12zm-7 3l-7-6-6 2 7 1zm-7-6l-8-6-5 11 7-3zm34 8l-7 3-6-8 8-3zm-7 3l-8-2-5-6 7 0zm-8-2l-7-6-5 3 7-3zm-7-6l-7-1-5-2 7 6zm27 2l-7-1-5 7 7-3zm-7-1l-7-4-6 9 8 2zm-7-4l-7 8-6-5 7 6zm-7 8l-8 0-5-6 7 1zm-8 0l-7-10-5 0 7 4z"/>
<path fill="#00ff10" d="M318 1584l-7-18-5 10 7 19zm13 8l-7-4-6-4 8 6zm-22-8l-7 1-5 1 7-7zm20 4l-7 1-6-15 8 14zm-7 1l-7 2-6-7 7-10zm-7 2l-8-6-5 0 7-1z"/>
<path fill="#00ff28" d="M311 1566l-7 13-6-4 8 1zm-7 13l-7 7-6-5 7-6zm-7 7l-8-13-5 8 7 0zm27 2l-8-14-5-8 7 18zm-8-14l-7 10-5-5 7-13zm-14 11l-7-22-6 10 8 13zm5 0l-7-11-5-11 7 22z"/>
<path fill="#00ff40" d="M289 1573l-7-14-5 4 7 18zm6-10l-8-5-5 1 7 14zm5 11l-7-10-6-6 8 5z"/>
<path fill="#00ff58" d="M282 1559l-7-14-6 3 8 15zm11 5l-7-15-6 4 7 5z"/>
<path fill="#00ff87" d="M275 1545l-7-14-6-12 7 29zm5 8l-7-23-5 1 7 14zm6-4l-8-28-5 9 7 23z"/>
<path fill="#00ffff" d="M824 1454l-7-30-5-21 7 37zm6-5l-7-39-6 14 7 30z"/>
<path fill="#00cfff" d="M817 1424l-7-16-6 0 8-5zm6-14l-8-17-5 15 7 16z"/>
<path fill="#0087ff" d="M795 1381l-7-13-5 12 7 26zm-1-1l-8 7-5 2 7-21zm-8 7l-7-17-5 7 7 12z"/>
<path fill="#6800ff" d="M687 1278l-8-5-5 23 7 20zm19 15l-7-28-5 30 7 21z"/>
<path fill="#9700ff" d="M679 1273l-7-14-5 32 7 5zm20-8l-7-1-5 14 7 17zm-111 14l-2 38-5-13 2-51z"/>
<path fill="#c700ff" d="M665 1248l-8 4-5 3 7 4zm-8 4l-7-2-5 17 7-12zm-74 1l-2 51-6-21 3-66zm102-8l-8-3-5 17 7 14z"/>
<path fill="#df00ff" d="M650 1250l-7-10-5 12 7 15zm27-8l-7 13-5-7 7 11zm-7 13l-7-7-6 4 8-4zm-7-7l-7-6-6 8 7 2zm-72 17l-3 14-5-26 2-21z"/>
<path fill="#ff008f" d="M628 1208l-7-26-5 1 7 20zm-1 1l-8 4-5-48 7 17z"/>
<path fill="#ff0060" d="M621 1182l-7-17-5-15 7 33zm-29 0l-2 16-6-33 3-5zm20 19l-7-10-6-32 8-4z"/>
<path fill="#ff00d7" d="M585 1232l-2 21-5-36 2-29zm56-11l-7 12-6-25 8 18zm-46 15l-2 16-5-37 2-17z"/>
<path fill="#ffef00" d="M574 1642l-3 40-5 23 2-37zm3 17l-3 19-5 21 2-17zm-132 49l-7-7-5-18 7 15z"/>
<path fill="#c7ff00" d="M433 1683l-8-14-5-22 7 26zm146-69l-2 45-6 23 3-40zm-148 74l-8-20-5-16 7 17z"/>
<path fill="#97ff00" d="M418 1652l-7-2-6-21 8 7z"/>
<path fill="#00ff70" d="M287 1558l-7-5-5-8 7 14z"/>
<path fill="#f700ff" d="M656 1242l-8-13-5 11 7 10zm-63 10l-2 13-6-33 3-17z"/>
<path fill="#00ffcf" d="M584 1412l-3 122-5 23 2-139z"/>
<path fill="#ffa700" d="M460 1737l-8-13-5-2 7 1z"/>
<path fill="#00e7ff" d="M835 1432l-7-34-5 12 7 39zm6-2l-8-7-5-25 7 34zm-2-2l-8-8-5-2 7 5z"/>
<path fill="#00b7ff" d="M828 1398l-7 11-6-16 8 17zm-2 20l-7-27-6-12 8 30zm5 2l-7-30-5 1 7 27z"/>
<path fill="#0087ff" d="M821 1409l-8-30-5-11 7 25zm-22-22l-7-14-6 14 8-7zm20 4l-7-6-6-21 7 15zm-7-6l-8 6-5-4 7-23zm-8 6l-7 3-5-21 7 14zm20-1l-7-3-5-2 7 6zm-7-3l-7 2-6 2 8-6zm-7 2l-8 5-5 0 7-3zm-208-5l-2 74-6-12 3-85z"/>
<path fill="#0070ff" d="M813 1379l-7-15-5 2 7 2zm-7-15l-7 23-5-7 7-14zm-14 9l-8-9-5 6 7 17zm-15 9l-7-5-6 4 8-14zm-7-5l-7-9-6 11 7 2zm27 17l-7-23-6-7 8 9zm5 0l-7-31-5 8 7 23z"/>
<path fill="#0058ff" d="M784 1364l-7 18-5-15 7 3zm6 7l-7-22-6 33 7-18zm-7-22l-8-1-5 29 7 5zm-8-1l-7 18-5 2 7 9zm-178 13l-3 85-5-21 2-91z"/>
<path fill="#0040ff" d="M763 1368l-8-17-5-2 7 30zm5-2l-7-9-6-6 8 17zm27-3l-7-7-5-7 7 22zm-14-5l-8 15-5-7 7-18zm-8 15l-7-23-5 7 7 9z"/>
<path fill="#0010ff" d="M755 1351l-7-10-5-10 7 18zm4-4l-7-11-6-19 8 45z"/>
<path fill="#0800ff" d="M748 1341l-7-22-6 13 8-1zm6 21l-8-45-5 2 7 22zm-150-14l-2 36-5-23 2-45z"/>
<path fill="#3800ff" d="M741 1319l-7-31-6 30 7 14zm-15-32l-7 18-5 35 7-13zm-127 29l-2 45-6-27 3-45z"/>
<path fill="#5000ff" d="M734 1288l-8-1-5 40 7-9zm-15 17l-7-36-6 24 8 47zm27 12l-7-45-5 16 7 31zm6 19l-8-38-5-26 7 45zm-145-6l-3 18-5-32 2-25z"/>
<path fill="#9700ff" d="M712 1269l-7-10-6 6 7 28zm27 3l-7-11-6 26 8 1zm-15-7l-7-8-5 12 7 36zm-123 26l-2 25-5-27 2-20zm143 7l-7-35-5-2 7 11zm-94 8l-7-16-6-45 8 36zm-29-9l-7 5-6-31 8 16zm-7 5l-3 7-5-39 2 1zm-3 7l-2 9-5-41 2-7z"/>
<path fill="#af00ff" d="M705 1259l-8 0-5 5 7 1zm-109 10l-2 20-6-10 3-14zm34 10l-7 23-6-47 8-5zm-7 23l-7-15-6-26 7-6zm-19-25l-3 14-5-22 2-12zm61 11l-8 11-5-23 7-27zm-22 2l-7 8-6-19 7-34z"/>
<path fill="#df00ff" d="M697 1259l-7-24-5 10 7 19zm-14-30l-7 18-6 8 7-13zm-7 18l-8 13-5-12 7 7zm-8 13l-7-21-5 3 7 6zm-70-3l-2 12-5-4 2-13zm105-8l-8-9-5-5 7 24zm-22-20l-7 28-6 3 8-13zm-7 28l-8-20-5 2 7 21zm-15-8l-7 27-5-37 7-6zm-14 32l-8-36-5-16 7 24zm-8-36l-7 34-5-29 7-21zm-29 26l-2-1-5-19 2 1zm107-47l-7 37-5-12 7 3zm-7 37l-7-10-6-11 8 9zm-7-10l-7 1-6-16 7 4zm-29-8l-7 45-6-39 7-12z"/>
<path fill="#f700ff" d="M690 1235l-7-6-6 13 8 3zm-29 4l-7-6-6-4 8 13zm-60 12l-3 6-5-5 2-16zm94-11l-7-4-5-7 7 6zm-7-4l-7-7-5 18 7-18zm-22 1l-7 12-5-16 7 6zm57-4l-8-9-5 28 7 5zm-29 19l-8-11-5-12 7 7zm-8-11l-7 0-5 16 7-28zm-7 0l-7 2-6-6 8 20z"/>
<path fill="#ff00ef" d="M654 1233l-7 6-6-18 7 8zm-7 6l-8 14-5-20 7-12zm-8 14l-7-24-5-20 7 24zm-14-3l-8 5-5-54 7 12zm-22 2l-2-1-6-15 3-18z"/>
<path fill="#ff00d7" d="M632 1229l-7 21-6-37 8-4zm-15 26l-7 6-5-70 7 10zm-7 6l-7-9-5-34 7-27z"/>
<path fill="#6800ff" d="M594 1289l-3 45-5-17 2-38z"/>
<path fill="#0028ff" d="M591 1334l-2 91-5-13 2-95zm170 23l-7 5-6-21 7 10zm27-1l-7 2-6-10 8 1zm-22-6l-7-3-5 15 7-5z"/>
<path fill="#00ffcf" d="M589 1425l-2 110-6-1 3-122z"/>
<path fill="#08ff00" d="M587 1535l-3 67-5 12 2-80zm-209 63l-7-4-6 1 8 5zm-7-4l-7-4-6 4 7 1zm-7-4l-8 3-5-3 7 4zm-8 3l-7 0-5 5 7-8zm-7 0l-7-3-6 8 8 0zm-7-3l-8 4-5-6 7 10zm250-45l-2 59-6-2 3-67zm-216 61l-7-10-5-6 7 4zm-7-10l-7-1-6-2 8-3zm-7-1l-8-4-5 2 7 0zm-15-6l-7 15-6-10 8-4zm-7 15l-7-11-6 4 7-3zm258-59l-3 52-5 7 2-59zm-224 61l-7-13-5 2 7 1zm-7-13l-7 4-6-6 8 4zm-7 4l-7-1-6-7 7 2zm-7-1l-8-3-5 11 7-15z"/>
<path fill="#97ff00" d="M584 1602l-2 38-5 19 2-45zm-172 54l-7-9-5-8 7 12zm181-35l-2 12-6 12 2-13z"/>
<path fill="#dfff00" d="M582 1640l-2 15-6 23 3-19zm-153 41l-7 1-6-15 7 1zm154-26l-2 7-6 11 2-8zm-156 36l-7-13-6-10 8 14zm143-40l-7 15-5 15 7-10z"/>
<path fill="#f7ff00" d="M580 1655l-3 10-5 23 2-10zm-144 46l-7-20-6-13 8 20zm145-39l-9 4-5 28 8-21zm-147 39l-7-10-5-9 7-1zm-2 5l-7-17-5-11 7 13z"/>
<path fill="#ffef00" d="M577 1665l-2 8-5 20 2-5zm-5 1l-7 5-6 29 8-6zm-131 53l-7-18-5-20 7 20zm122-53l-7 10-6 30 8-25zm-15 13l-7 3-5 20 7 2zm-108 39l-8-12-5-15 7 10z"/>
<path fill="#ffd700" d="M575 1673l-8 21-6 16 9-17zm-132 51l-7-23-5-13 7 13zm122-53l-7 10-6 24 7-5zm-9 5l-8 3-5 25 7 2zm-15 6l-7 10-5 21 7-11z"/>
<path fill="#ffa700" d="M567 1694l-8 6-5 29 7-19zm-109 36l-7-1-6-21 7 16zm92-24l-7-2-5 18 7 4zm-7-2l-7-2-6 29 8-9zm-16 6l-8 0-5 27 7-2zm-8 0l-7-2-5 36 7-7zm-65 21l-7-5-6-7 8 11z"/>
<path fill="#ff8f00" d="M559 1700l-7 5-5 37 7-13zm-94 49l-7-19-6-6 8 13zm71-47l-7 11-6 33 7-15zm-73 40l-7 0-5-13 7 1zm-7 0l-7-12-6-6 8 5zm56-34l-7 4-5 30 7 2zm-7 4l-7 12-6 9 8 9zm-7 12l-8 20-5 5 7-16zm-22 10l-7 2-6 6 8 5zm-7 2l-8-2-5 8 7 0zm-8-2l-7-3-5-1 7 12z"/>
<path fill="#ff7800" d="M552 1705l-7 21-5 26 7-10zm-7 21l-7-4-6 31 8-1zm-16-13l-8 22-5 27 7-16zm-58 34l-8-5-5-12 7 19zm12-3l-7-10-5 13 7 13z"/>
<path fill="#ff6000" d="M538 1722l-8 9-5 24 7-2zm-8 9l-7 15-5 22 7-13zm-50 18l-8 4-5-2 7 6zm-8 4l-7-4-5-12 7 14zm49-18l-7 2-5 22 7 3zm-7 2l-7 7-6 23 8-8zm-7 7l-7-2-6 22 7 3zm-7-2l-8-9-5 25 7 6zm-8-9l-7 16-5 0 7 9zm-7 16l-7 11-6-7 8-4zm-7 11l-7-13-6 2 7 4zm12-16l-7 0-5 16 7-11z"/>
<path fill="#ff3000" d="M523 1746l-7 16-5 21 7-15zm-7 16l-7-3-6 15 8 9zm-7-3l-8 8-5 11 7-4zm-8 8l-7-3-5 10 7 4zm-7-3l-7-6-6 11 8 5z"/>
<path fill="#ff4800" d="M487 1758l-7-9-6 8 7 12z"/>
<path fill="#ffbf00" d="M451 1729l-8-5-5-23 7 7zm107-48l-8 25-5 20 7-21zm-109 49l-8-11-5-18 7 23zm85-38l-7 18-6 25 8-22zm-87 34l-7-8-6-17 7 18z"/>
<path fill="#c7ff00" d="M422 1682l-8-14-5-10 7 9zm163-37l-2 10-6 10 3-10zm3-4l-2 4-5 17 2-7zm-2 4l-9-9-5 30 9-4zm-9-9l-7 15-5 20 7-5zm-152 53l-7-18-6-15 8 22z"/>
<path fill="#afff00" d="M414 1668l-7-17-5-9 7 16zm173-36l-2 13-5 10 2-15zm-167 46l-8-22-5-5 7 17zm171-45l-3 8-5 14 2-10zm-173 38l-7-18-6-6 7 9z"/>
<path fill="#80ff00" d="M407 1651l-7-12-6-19 8 22zm183-47l-3 28-5 8 2-38zm-179 49l-8-26-5 1 7 19z"/>
<path fill="#68ff00" d="M400 1639l-7-12-6-10 7 3zm5 8l-7-19-5-1 7 12zm190-50l-2 24-6 11 3-28z"/>
<path fill="#38ff00" d="M393 1627l-8-21-5 1 7 10zm5 1l-7-24-6 2 8 21zm5-1l-7-17-5-6 7 24z"/>
<path fill="#20ff00" d="M385 1606l-7-8-5 2 7 7zm6-2l-8 3-5-9 7 8zm-8 3l-7-1-5-12 7 4zm13 3l-7 3-6-6 8-3zm-7 3l-7-4-6-3 7 1zm-7-4l-8-3-5-10 7 10z"/>
<path fill="#00ff10" d="M334 1594l-7 3-5-8 7-1zm-7 3l-7-2-5-4 7-2zm-7-2l-7-13-6 3 8 6zm34-4l-7-2-5 1 7 3zm-21 2l-8-11-5 13 7 2zm12 0l-7-6-5 6 7 11zm-7-6l-7 0-6-5 8 11z"/>
<path fill="#00ff28" d="M313 1582l-8-8-5 0 7 11zm12 0l-7-11-5 11 7 13zm6 5l-7-16-6 0 7 11z"/>
<path fill="#00ff40" d="M305 1574l-7-7-5-3 7 10zm13-3l-7-1-6 4 8 8zm-7-1l-7-1-6-2 7 7zm13 1l-8 3-5-4 7 1zm-8 3l-7-2-5-3 7 1z"/>
<path fill="#00ff58" d="M298 1567l-7-18-5 0 7 15zm6 2l-8-15-5-5 7 18zm5 3l-7-26-6 8 8 15z"/>
<path fill="#00ff9f" d="M291 1549l-7-26-6-2 8 28zm5 5l-7-30-5-1 7 26zm304-96l-2 87-6 0 2-99zm-298 88l-8-26-5 4 7 30z"/>
<path fill="#00cfff" d="M833 1423l-7-5-5-9 7-11z"/>
<path fill="#8000ff" d="M732 1261l-8 4-5 40 7-18zm-75 38l-7 7-5-25 7-5zm-21-1l-8 20-5-16 7-23zm-8 20l-7-21-5-10 7 15zm-19 0l-2 12-6-39 3-14z"/>
<path fill="#c700ff" d="M717 1257l-7-5-5 7 7 10zm-7-5l-7-3-6 10 8 0zm-58 24l-7 5-6-28 8-14zm-36 11l-8-16-5-19 7 9zm-10-17l-2 7-6-20 3-6zm131-7l-7-13-6 15 8-4zm-7-13l-7-17-6 24 7 8z"/>
<path fill="#00ffb7" d="M594 1446l-2 99-5-10 2-110z"/>
<path fill="#00ffff" d="M846 1444l-7-16-6-5 8 7z"/>
<path fill="#00ffe7" d="M851 1462l-7-31-5-3 7 16zm6-7l-7-27-6 3 7 31z"/>
<path fill="#00e7ff" d="M844 1431l-7-6-6-5 8 8zm6-3l-8-21-5 18 7 6zm12 14l-7-46-5 32 7 27z"/>
<path fill="#00b7ff" d="M837 1425l-7-40-6 5 7 30zm18-29l-7-14-6 25 8 21zm-237 14l-2 56-5-2 2-70z"/>
<path fill="#0087ff" d="M830 1385l-8-16-5 18 7 3zm18-3l-8 5-5-12 7 32zm-37 14l-7-6-5 3 7-10z"/>
<path fill="#0070ff" d="M822 1369l-7 0-5 20 7-2zm-7 0l-7 3-6 22 8-5zm20 6l-7 26-6-32 8 16zm-7 26l-8-21-5-11 7 0zm-22-18l-7 10-6 3 8-33zm-7 10l-8-26-5 12 7 17zm27 6l-7-28-6-12 7 21zm-7-28l-8 25-5-13 7-24zm-15 19l-7-25-6 2 8 26z"/>
<path fill="#0058ff" d="M808 1372l-7-9-6 0 7 31zm-7-9l-8 33-5-40 7 7zm-8 33l-7-17-5-21 7-2zm-7-17l-7-20-6 14 8-15zm34 1l-7-21-5 13 7-3zm-7-21l-7 24-5-20 7 9zm-192 27l-3 24-5-16 2-31z"/>
<path fill="#0040ff" d="M779 1359l-7-8-6-1 7 23zm12 8l-7-4-5-4 7 20zm6-2l-7-9-6 7 7 4z"/>
<path fill="#0010ff" d="M772 1351l-8-7-5 3 7 3zm-8-7l-7 2-5-10 7 11zm-154 2l-2 35-6 3 2-36zm167 11l-7-28-6 15 8 7zm-147 6l-2 3-6-12 3-1zm-2 3l-3 5-5-18 2 1zm-3 5l-2 6-5-23 2-1z"/>
<path fill="#2000ff" d="M757 1346l-7-26-6-22 8 38zm-145-10l-2 10-6 2 3-18zm150-10l-7-17-5 11 7 26zm-101 15l-7 7-6-19 7-7zm-7 7l-8-8-5-19 7 8zm-22-9l-7 14-6-12 7-20zm-10 15l-2-1-5-16 2 3zm-2-1l-2 1-6-18 3 1zm155-37l-7 1-6 9 8 3zm-87 16l-7 10-6-19 8 11zm-14 0l-8 9-5 0 7-18zm-30 15l-7 10-5-18 7-4z"/>
<path fill="#6800ff" d="M750 1320l-7-38-6-19 7 35zm-80-7l-7-1-6-13 8-11zm-7-1l-8 10-5-16 7-7zm-15 17l-7-8-5-23 7-8zm42-17l-7 22-6-45 7-18z"/>
<path fill="#c700ff" d="M743 1282l-8-39-5 7 7 13zm-37-35l-7 30-5-25 7-1zm-7 30l-7-3-6-33 8 11zm-7-3l-8-3-5-30 7 0zm-8-3l-7 18-5-46 7-2zm48 18l-8-9-5-42 7 11zm-8-9l-7-7-5-29 7-6z"/>
<path fill="#f700ff" d="M735 1243l-7-12-5 2 7 17zm-14-20l-7 25-6 13 7-37zm12 31l-7-5-5-26 7 8zm-7-5l-7-11-5 10 7-25zm-7-11l-7 6-6 3 8 1z"/>
<path fill="#ff00ef" d="M728 1231l-7-8-6 1 8 9z"/>
<path fill="#df00ff" d="M714 1248l-8-1-5 4 7 10zm27 21l-8-15-5-23 7 12z"/>
<path fill="#9700ff" d="M677 1289l-7 24-5-25 7-45zm71 20l-7-40-6-26 8 39zm-31-36l-7 27-6 3 8-59z"/>
<path fill="#5000ff" d="M655 1322l-7 7-5-39 7 16zm-14-1l-7-3-6 0 8-20zm-7-3l-8 3-5-24 7 21zm-8 3l-7 20-5-39 7-5zm-7 20l-2-1-6-31 3-7zm136-32l-7 0-5-27 7 38zm-72 25l-8-11-5-10 7-24zm-8-11l-7 0-5-11 7 1zm86-8l-8-11-5 5 7 0zm-51-15l-7 31-6-22 7-6z"/>
<path fill="#3800ff" d="M617 1340l-2-3-6-19 2-9zm-2-3l-3-1-5-6 2-12zm53-14l-7 18-6-19 8-10zm-22 17l-7-5-5-17 7 3zm-7-5l-7 4-6-18 8-3zm129-18l-7-2-6-6 7 17zm-65 14l-8-1-5-18 7-3zm-8-1l-7 2-5 2 7-22zm-14 12l-7-10-6-9 7 0z"/>
<path fill="#009fff" d="M608 1381l-3 77-5 0 2-74zm234 26l-7-32-5 10 7 40zm-229-13l-2 70-6-6 3-77zm227-7l-7 35-5-21 7-26zm-7 35l-7-23-6-19 8 21z"/>
<path fill="#00ff9f" d="M605 1458l-2 92-5-5 2-87zm-298 98l-7-31-6-5 8 26zm304-92l-3 85-5 1 2-92zm5 2l-2 68-6 15 3-85z"/>
<path fill="#08ff00" d="M603 1550l-2 55-6-8 3-52zm-223 55l-8-8-5-4 7 13zm-8-8l-7-2-5 2 7-4zm236-48l-2 52-5 4 2-55zm-223 53l-7-2-6-3 8 8zm-7-2l-7-7-6 2 7 2zm-22 0l-7 3-6-6 8-7zm49 2l-7-9-6 11 8 6zm-7-9l-7 12-6-3 7 2zm-7 12l-8 2-5-7 7 2zm-8 2l-7-14-5 0 7 7zm-14-6l-8 2-5-3 7-15zm-8 2l-7-9-5 9 7-3z"/>
<path fill="#68ff00" d="M601 1605l-3 14-5 2 2-24zm5-4l-2 12-6 6 3-14zm-9 14l-9-2-5 9 8 4zm10-12l-3 5-5 10 2 0zm-3 5l-2 2-5 5 2 3zm-2 2l-8 4-6-1 9 2zm-8 4l-8 16-5 0 7-17z"/>
<path fill="#80ff00" d="M598 1619l-2 7-5 7 2-12zm-182 40l-7-25-6-7 8 26zm188-46l-3 5-5 8 2-7zm-3 5l-2 0-5 9 2-1zm-2 0l-2-3-6 11 3 1zm-11-5l-7 17-5 6 7-14zm-167 36l-7-10-5-5 7 25zm151-26l-7 3-6 19 8-4zm-145 17l-7-6-6 5 7 10z"/>
<path fill="#97ff00" d="M596 1626l-2 1-6 14 3-8zm-2 1l-3-1-5 19 2-4zm-3-1l-8-4-6 14 9 9zm-8-4l-7 14-6 15 7-15zm-2 8l-7 10-6 3 8-7zm5 0l-7 4-5 6 7-10zm-7 4l-7-11-5 18 7-1zm-14-8l-8 21-5 4 7-6zm-15 12l-7 2-6 14 8-3zm-116 17l-7-15-6 9 8 23z"/>
<path fill="#afff00" d="M576 1636l-8 7-5 23 7-15zm-153 43l-7-20-5-6 7 18zm151-39l-7 1-6 14 7-12zm-7 1l-8 4-5 18 7-8zm-138 31l-8-23-5 10 7 20zm128-25l-7-9-5 13 7 0zm-14-7l-7 2-6 14 7-2zm-7 2l-8 9-5 20 7-15z"/>
<path fill="#c7ff00" d="M568 1643l-7 12-5 21 7-10zm-9 2l-7 6-5 15 7-3zm-7 6l-7 0-6 24 8-9zm-7 0l-8 3-5 22 7-1zm-8 3l-7 2-5 21 7-1zm-9-3l-7 1-5 23 7-4zm-7 1l-7 8-6 18 8-3zm-80 14l-7-11-5 17 7 14z"/>
<path fill="#dfff00" d="M561 1655l-7 8-6 16 8-3zm-7 8l-7 3-6 16 7-3zm-123 34l-8-18-5-8 7 18zm99-41l-7 15-5 17 7-11zm-94 30l-7-14-6 7 8 18zm78-26l-7 4-6 18 7-4zm-7 4l-8-1-5 28 7-9zm-8-1l-7-2-5 22 7 8zm-7-2l-7 13-6 17 8-8zm-43 29l-8-24-5 20 7 21z"/>
<path fill="#f7ff00" d="M547 1666l-8 9-5 17 7-10zm-24 5l-7 4-6 19 8-6zm-7 4l-8 3-5 30 7-14zm-31-1l-7 9-6 18 7-10zm-7 9l-8 4-5 18 7-4z"/>
<path fill="#ffef00" d="M539 1675l-7 1-5 34 7-18zm-7 1l-7 1-6 33 8 0zm-7 1l-7 11-6 20 7 2zm-87 41l-7-21-6-8 7 17zm70-40l-7 4-5 33 7-7zm-7 4l-7 9-5 21 7 3zm-7 9l-7-8-6 30 8-1zm-7-8l-8 8-5 27 7-5zm-44 24l-7-21-5 11 7 21zm27-20l-7 22-5 11 7-15zm-14 17l-7-14-6 17 7 16z"/>
<path fill="#ffd700" d="M518 1688l-8 6-5 18 7-4zm-39 3l-7 10-5 14 7 3zm-7 10l-7 4-5 19 7-9zm-9 8l-7-5-6 19 8-3z"/>
<path fill="#ffbf00" d="M510 1694l-7 14-5 16 7-12zm-58 30l-7-2-5-4 7 8zm-7-2l-7-4-6-12 8 12zm20-17l-7 15-6 4 8 0zm-7 15l-8 3-5-1 7 2zm-8 3l-7-16-5 11 7 4z"/>
<path fill="#ffa700" d="M503 1708l-7 7-6 29 8-20zm-7 7l-7-3-6 32 7 0zm-7-3l-8 1-5 21 7 10zm-8 1l-7 5-5 18 7-2zm-7 5l-7-3-6 19 8 2zm-7-3l-7 9-6 7 7 3zm-7 9l-8 0-5 2 7 5z"/>
<path fill="#50ff00" d="M409 1634l-8-24-5 0 7 17zm5 5l-7-26-6-3 8 24zm195-44l-2 8-6 15 3-5zm-189 39l-8-20-5-1 7 26z"/>
<path fill="#38ff00" d="M401 1610l-7 5-5-2 7-3zm-7 5l-7-7-5 1 7 4zm13-2l-7-3-6 5 7-5zm204-38l-2 20-5 18 2-12z"/>
<path fill="#20ff00" d="M387 1608l-7-3-6 1 8 3zm13 2l-8-6-5 4 7 7zm-8-6l-7-2-5 3 7 3zm20 10l-7-12-5 8 7 3z"/>
<path fill="#00ff10" d="M365 1595l-7-12-5 13 7 1zm-7-12l-7 7-6 3 8 3zm-7 7l-8 7-5-10 7 6zm-8 7l-7-1-5-9 7 0zm28-4l-8-8-5-2 7 12zm-8-8l-7 15-5-10 7-7zm-14 18l-7-15-6 8 7 1zm-7-15l-8 0-5-5 7 13zm272-54l-3 41-5 26 2-52zm-238 59l-7 8-6-16 8 8zm-22 1l-7-2-5-4 7 15z"/>
<path fill="#00ff28" d="M336 1596l-7-13-5-12 7 16zm-2-8l-7-10-5-2 7 7zm13 4l-7-3-6-1 8 0z"/>
<path fill="#00ff40" d="M329 1583l-7-7-6-2 8-3zm-7-7l-8 3-5-7 7 2zm5 2l-7-2-6 3 8-3zm13 11l-8-25-5 14 7 10z"/>
<path fill="#00ff58" d="M314 1579l-7-23-5-10 7 26zm6-3l-7-15-6-5 7 23zm12-12l-7-9-5 21 7 2z"/>
<path fill="#0028ff" d="M784 1363l-7-6-5-6 7 8zm-169 0l-2 31-5-13 2-35zm175-7l-8-4-5 5 7 6zm-167 21l-2 9-6-23 3-9z"/>
<path fill="#0800ff" d="M770 1329l-8-3-5 20 7-2zm-145 24l-3 1-5-14 2 1zm-7 1l-3 9-5-17 2-10zm164-2l-7-36-5 13 7 28zm-116-11l-7 22-5-15 7-7zm-7 22l-7-5-6-18 8 8zm-7-5l-8-11-5-12 7 5zm-15-1l-7 6-5-10 7-14z"/>
<path fill="#af00ff" d="M712 1244l-8 59-5-26 7-30zm34 34l-7 6-6-30 8 15zm-7 6l-7 5-6-40 7 5z"/>
<path fill="#8000ff" d="M704 1303l-7 6-5-35 7 3zm-7 6l-7 3-6-41 8 3zm56-5l-7-26-5-9 7 40z"/>
<path fill="#00ff87" d="M313 1561l-8-26-5-10 7 31zm5-17l-7-10-6 1 8 26z"/>
<path fill="#00ff70" d="M325 1555l-7-11-5 17 7 15z"/>
<path fill="#00e7ff" d="M868 1456l-8-45-5-15 7 46z"/>
<path fill="#009fff" d="M860 1411l-7-22-5-7 7 14zm-14-19l-7-5-6 35 7-35zm-7-5l-8-2-5 14 7 23zm19 42l-7-36-5-1 7-3zm-229-30l-2 53-6-1 3-53zm228 24l-8-27-5-19 7 16z"/>
<path fill="#0087ff" d="M853 1389l-7 3-6-5 8-5zm-36 6l-7-7-6 2 7 6zm34-2l-7-16-5 10 7 5z"/>
<path fill="#0070ff" d="M831 1385l-7 2-5-16 7 28zm-7 2l-7 8-6 1 8-25zm20-10l-7 5-6 3 8 2zm-7 5l-8-13-5 18 7-2zm-8-13l-7 11-5 15 7-8zm-7 11l-7 0-5 8 7 7zm27 16l-7-14-5 0 7-5zm-21-14l-8 5-5-7 7 0z"/>
<path fill="#0058ff" d="M810 1388l-8-23-5 0 7 25zm-184-11l-2 21-6 12 3-24zm189 3l-7-24-6 9 8 23zm-22 10l-7 0-6-23 8 0zm49-8l-7-7-6-6 8 13zm-7-7l-7 7-6-2 7-11zm-15 12l-7-12-5-19 7 24zm-14-1l-7-6-6 10 7-21zm-7-6l-8-7-5 17 7 0zm-8-7l-7 2-5 0 7 15zm-154 8l-2 31-6-13 2-24z"/>
<path fill="#0028ff" d="M802 1365l-7-22-5 13 7 9zm-7-22l-7 24-6-15 8 4zm-131 26l-7 3-5-14 7 5zm-29 5l-2 0-5-8 2-3zm-2 0l-2-1-6-2 3-5zm-2-1l-3 0-5 4 2-6zm-3 0l-2 4-5 9 2-9zm180-17l-8 13-5-26 7 22zm-131 29l-7-13-6-3 8-15zm-7-13l-7-9-6 9 7-3zm-36-6l-3 9-5 2 2-4zm150 9l-7-23-6-16 8 39zm-80-1l-7-1-5-7 7-9zm-7-1l-7 4-6-21 8 10zm-7 4l-8 1-5 7 7-29zm-8 1l-7-11-5 5 7 13zm-43-11l-2 14-6-6 3-9z"/>
<path fill="#0010ff" d="M788 1367l-8 0-5-51 7 36zm-116-13l-8 15-5-6 7-22zm-15 18l-7-19-6-6 8 11zm-14-16l-8 18-5-11 7-6zm136 19l-8-39-5-15 7 24zm-95-19l-7 29-5-31 7-14zm-21 7l-8-1-5-9 7 19zm-15-13l-7 12-6 12 8-18zm-7 12l-3 0-5 12 2 0zm-3 0l-2 0-5 11 2 1zm-2 0l-2 4-6 7 3 0zm75 7l-7 5-5-17 7-21zm-36-2l-7-6-5 2 7 9zm-7-6l-7 11-6-10 8 1zm-7 11l-8-11-5-11 7 12zm-15-9l-2-2-6 1 3 0zm-2-2l-2 0-6 1 2 0zm-2 0l-3 6-5-1 2-4z"/>
<path fill="#0800ff" d="M780 1367l-7-22-5-28 7-1zm-130-14l-7 3-6 1 7-10zm49 4l-7 9-6-15 7-17zm-7 9l-8-10-5-16 7 11zm-37-4l-7-12-5 6 7-3zm122-10l-7-5-6-30 7 19zm-15 3l-7-6-5-29 7 6zm-29 2l-7-8-5-3 7-35zm-7-8l-7-14-6 5 8 6zm-7-14l-8 34-5-33 7 4zm-66 26l-7 2-5-1 7-12z"/>
<path fill="#2000ff" d="M773 1345l-7-24-5-6 7 2zm-65-3l-7-7-6-5 8 1zm-7-7l-8-1-5-2 7-2zm-8-1l-7 17-5-9 7-10zm-7 17l-7-11-5-8 7 10zm-7-11l-7 14-6-13 8-9zm42 6l-8-6-5 2 7-26zm-8-6l-7-4-5-1 7 7zm-7-4l-7 21-6-23 8 1zm64 11l-8 8-5-29 7-9zm-15 2l-7-22-6-9 8 2zm-7-22l-8 27-5-34 7-2zm-8 27l-7 3-5-46 7 9z"/>
<path fill="#5000ff" d="M766 1321l-7-30-6 13 8 11zm-9 5l-7-6-6-13 7-26zm-29-15l-7 35-6-30 7-24z"/>
<path fill="#8000ff" d="M759 1291l-8-10-5-3 7 26zm-8-10l-7 26-5-23 7-6zm-21 29l-8-18-5-19 7 7zm-8-18l-7 24-5-16 7-27z"/>
<path fill="#6800ff" d="M744 1307l-7 18-5-36 7-5zm-7 18l-7-15-6-30 8 9zm27-8l-7 9-6-45 8 10zm-29 3l-7-9-6-19 8 18z"/>
<path fill="#3800ff" d="M715 1316l-7 26-5-11 7-31zm56 20l-7-19-5-26 7 30zm-21-16l-8-2-5 7 7-18zm-8-2l-7 2-5-10 7 15z"/>
<path fill="#00b7ff" d="M624 1398l-3 53-5 15 2-56zm11 14l-3 55-5-15 2-53z"/>
<path fill="#00ffb7" d="M621 1451l-2 67-5 16 2-68z"/>
<path fill="#00ff40" d="M619 1518l-2 44-6 13 3-41zm-274 68l-7-26-6 4 8 25zm6 2l-8-7-5-21 7 26z"/>
<path fill="#08ff00" d="M617 1562l-3 26-5 7 2-20zm-207 36l-7-4-5-1 7 9zm-7-4l-7 7-5 4 7-12zm-7 7l-7 7-6-1 8-2zm-7 7l-8-10-5-5 7 14zm-8-10l-7 1-5 2 7-8zm-7 1l-7-2-6 6 8-2zm42 1l-7-3-6-3 7 4zm-7-3l-8 1-5 3 7-7zm-8 1l-7 9-5 1 7-7zm-7 9l-7-2-6-7 8 10zm-7-2l-7-12-6 6 7-1zm238-37l-2 5-5 14 2-10zm-2 5l-2 6-6 14 3-6zm-202 33l-7-10-5 1 7 3zm-7-10l-7 4-6-2 8-1zm-7 4l-8 12-5-5 7-9zm-8 12l-7-7-5 0 7 2z"/>
<path fill="#38ff00" d="M614 1588l-2 11-5 4 2-8zm4-1l-3 6-5 12 2-6zm-3 6l-2 4-6 10 3-2zm-185 29l-7-8-5-3 7 19zm188-37l-8 12-6 5 9-5zm-175 33l-7-7-6 11 8 9z"/>
<path fill="#50ff00" d="M612 1599l-2 6-6 3 3-5zm-2 6l-3 2-5 3 2-2zm-3 2l-8 5-5 2 8-4zm-182 23l-7-19-6 3 8 20zm188-33l-9 5-5 10 8-5zm-23 12l-7 7-6-2 8-2zm-152 22l-8-9-5 8 7 7zm172-34l-7 9-6 11 7-15zm-7 9l-8 3-5 0 7 8zm-8 3l-7 3-5 4 7-7zm-7 3l-7-5-6 10 8-1zm-7-5l-7 5-6 3 7 2zm-7 5l-8 3-5 3 7-3zm-8 3l-7-1-5 17 7-13zm-21 1l-8 0-5 7 7 2zm-8 0l-7-7-5 5 7 9zm-7-7l-7 4-6 9 8-8zm-7 4l-7 5-6 19 7-15zm-73 17l-7-12-5 13 7 11z"/>
<path fill="#68ff00" d="M599 1612l-7 15-6 3 8-16zm-14 0l-8 2-5 9 7 11zm-8 2l-7 11-5 1 7-3zm-145 23l-7-7-5 4 7 6zm172-35l-7 15-5 10 7-15zm-7 15l-7-8-5 3 7 15zm-14-1l-8 1-5 8 7-11zm-8 1l-7-2-5 18 7-8zm-7-2l-7 3-5 9 7 6zm-7 3l-7 13-6 3 8-7zm-29 5l-7-9-6 23 8 1zm-7-9l-8 8-5 21 7-6zm-80 28l-7-11-6 6 7 5zm114-28l-7 4-6 12 8 1zm-7 4l-7-2-6 9 7 5zm-36 0l-8 10-5 27 7-18zm-22 15l-7-3-6 7 7 4zm-29-1l-8 4-5 6 7 6zm-8 4l-7-6-5 12 7 0z"/>
<path fill="#80ff00" d="M592 1627l-7-15-6 22 7-4zm-22-2l-7 8-6 14 8-21zm-7 8l-7-6-6 11 7 9zm-7-6l-8 7-5 6 7-2zm-8 7l-7-2-5 10 7-2zm-109 8l-7-5-5 3 7 15zm115-11l-8-1-5 2 7 2zm-8-1l-7-5-5 16 7-9zm-7-5l-7-2-5 15 7 3zm-22-3l-7 15-5 5 7 1zm-65 20l-7 0-6 0 8 13zm56-14l-7 2-5 17 7 8zm-7 2l-7 3-6 8 8 6zm-14 0l-8 4-5 20 7-17zm-8 4l-7-1-5 23 7-2zm-7-1l-7-1-6 16 8 8z"/>
<path fill="#97ff00" d="M541 1632l-7 9-6 10 8-9zm-7 9l-7-3-6 14 7-1zm-7-3l-8-1-5 23 7-8zm-8-1l-7 6-5 21 7-4zm-72 18l-8-13-5 13 7 11zm63-18l-7 18-6 5 8-18zm-14 10l-8-6-5 16 7 11zm-8-6l-7-4-5 21 7-1zm-29 7l-7-6-5 13 7 17z"/>
<path fill="#afff00" d="M512 1643l-7-1-6 21 8 1zm-7-1l-8 18-5 1 7 2zm-2 13l-7-8-6 21 7-8zm-22-18l-7 17-6 30 8-26zm-7 17l-7 2-6 20 7 8zm-7 2l-8-8-5 24 7 4z"/>
<path fill="#c7ff00" d="M497 1660l-7 8-5 6 7-13zm-7 8l-7-11-5 26 7-9zm-7-11l-7 1-6 29 8-4zm-29 15l-7-17-6 11 8 24z"/>
<path fill="#dfff00" d="M476 1658l-8 26-5 25 7-22zm-15 18l-7-4-5 18 7 14z"/>
<path fill="#f7ff00" d="M468 1684l-7-8-5 28 7 5z"/>
<path fill="#20ff00" d="M418 1611l-8-13-5 4 7 12zm202-34l-2 10-6 12 2-11zm-197 37l-7-14-6-2 8 13zm198-35l-3 6-5 12 2-4zm-185 32l-8-1-5 4 7 8zm-8-1l-7-4-5-6 7 14z"/>
<path fill="#00ff10" d="M367 1597l-7-3-6 0 7 9zm-7-3l-8-2-5 0 7 2zm262-41l-2 24-6 11 3-26zm-242 40l-8-3-5 7 7 2zm-8-3l-7-1-5 5 7 3zm256-37l-3 15-5 9 2-24zm-236 52l-7-12-5 0 7 12zm-7-12l-7-1-6-2 8 3z"/>
<path fill="#00ff28" d="M352 1592l-7-6-5 3 7 3zm13-3l-7-6-6 9 8 2zm-7-6l-7 5-6-2 7 6zm20 9l-8-10-5 7 7 1zm-8-10l-7 7-5-6 7 6zm-7 7l-7 8-5-9 7-5zm-7 8l-7-17-6 1 8 7z"/>
<path fill="#00ff70" d="M338 1560l-7-17-6 12 7 9zm5 21l-7-28-5-10 7 17z"/>
<path fill="#00ff87" d="M331 1543l-8-6-5 7 7 11z"/>
<path fill="#00ff9f" d="M323 1537l-7-15-5 12 7 10zm13 16l-7-21-6 5 8 6zm5 4l-7-33-5 8 7 21z"/>
<path fill="#00ffe7" d="M873 1462l-7-14-6-37 8 45zm5-19l-7-12-5 17 7 14zm-544 81l-7-34-6 13 8 29z"/>
<path fill="#00cfff" d="M866 1448l-8-19-5-40 7 22zm-2-3l-7-22-6-30 7 36z"/>
<path fill="#0040ff" d="M800 1369l-7 21-5-23 7-24zm-14 21l-7-15-6-30 7 22zm-155-15l-2 24-5-1 2-21zm182 0l-7 11-6-17 8-13z"/>
<path fill="#00ffcf" d="M627 1452l-2 64-6 2 2-67zm-298 80l-8-29-5 19 7 15zm303-65l-2 58-5-9 2-64z"/>
<path fill="#00ff58" d="M625 1516l-3 37-5 9 2-44zm5 9l-2 28-6 0 3-37zm-281 55l-8-23-5-4 7 28z"/>
<path fill="#00ffff" d="M871 1431l-7 14-6-16 8 19z"/>
<path fill="#00e7ff" d="M884 1443l-8-26-5 14 7 12zm-8-26l-7 20-5 8 7-14zm-7 20l-7-2-5-12 7 22zm-2 10l-7-13-5-24 7 25zm-23 9l-8-10-5-36 7 17zm-15-7l-7-8-5 3 7-15zm-7-8l-7-3-6 2 8 4zm-22 23l-7 6-5-58 7 9z"/>
<path fill="#00b7ff" d="M862 1435l-7-25-6-14 8 27zm-38-6l-7 15-6-36 7-4zm-7 15l-8-4-5-49 7 17zm-2-6l-8-20-5-16 7 38zm-8-20l-7 46-5-43 7-19zm-50 10l-8 14-5-17 7-5zm-8 14l-7-15-5-4 7 2z"/>
<path fill="#0087ff" d="M855 1410l-8-17-5-11 7 14zm-8-17l-7 29-5-47 7 7zm-7 29l-7-12-5-28 7-7zm-7-12l-7-23-6 0 8-5zm-15-6l-7 4-5-22 7-11zm-9 36l-7-38-5-19 7 8zm-58-20l-7 5-5-36 7 2zm-7 5l-7-2-6-45 8 11zm27-2l-7-10-5-26 7 20zm-7-10l-7 15-6-8 8-33zm-22 14l-7-27-5 9 7 14z"/>
<path fill="#0070ff" d="M826 1387l-8 17-5-29 7 12zm-15 21l-7-17-5-11 7 6zm-169-12l-2 25-5-9 2-31zm160 6l-7 19-6-45 8 7zm-7 19l-7-9-6-64 7 28zm-15-5l-7 0-5-40 7-9zm-7 0l-7-9-6-23 8-8zm-14-29l-8 33-5-29 7-24zm-22 36l-7-14-6-37 7 6zm-89-22l-3 20-5 0 2-25z"/>
<path fill="#0058ff" d="M804 1391l-7-8-6-10 8 7zm-7-8l-8-7-5-1 7-2zm-9 29l-8 4-5-49 7-19zm-22-5l-7-20-6-20 7 17zm-36 2l-8-24-5 8 7-21zm-8-24l-7 12-5-12 7 8zm-72 8l-2 8-6-5 3-9zm85 7l-7-11-6-4 8 24zm-7-11l-8 9-5-1 7-12zm-75-15l-2 17-6 30 3-20z"/>
<path fill="#0028ff" d="M789 1376l-7-28-5 4 7 23zm-14-9l-7 9-6-21 8-8zm-7 9l-8 8-5-35 7 6zm-29 13l-8-11-5-29 7 8zm-15-17l-7 21-6-24 8-34zm-14 13l-8-18-5 6 7 1zm-8-18l-7 2-5 8 7-4zm-7 2l-7-10-6 19 8-1zm-22-8l-7 27-5-16 7-11zm-7 27l-7-18-6-9 8 11zm-17-6l-2 2-5-23 2 0zm-2 2l-2 3-6-20 3-6zm61-5l-8-17-5 7 7-2zm-29-21l-8 35-5-5 7-27zm-15 18l-7-1-5 3 7-8zm-7-1l-2 7-6 0 3-4zm56-7l-7 7-6-13 8 17zm-7 7l-7 6-6-18 7-1zm-7 6l-8 3-5-17 7-4zm-8 3l-7-1-5-25 7 9zm-7-1l-7-1-6 11 8-35zm-7-1l-7-11-6 5 7 17zm-7-11l-8 4-5 0 7 1zm-8 4l-2 1-5 6 2-7zm-2 1l-2-2-6 15 3-7zm-2-2l-3-2-5 21 2-4z"/>
<path fill="#0010ff" d="M782 1348l-7 19-5-20 7 5zm-22 36l-7-17-5-40 7 22zm-7-17l-7 24-6-37 8-27zm-22 11l-7-6-5-37 7 14zm-43-19l-7-2-6 10 7 11zm-7-2l-8 4-5 0 7 6zm-22 13l-7 8-6-15 7-2zm-7 8l-3 4-5-21 2 2zm48-16l-7 1-5-4 7 10zm-7 1l-7 4-5-10 7 2zm-7 4l-7-9-6 3 8-4z"/>
<path fill="#0040ff" d="M746 1391l-7-2-6-32 7-3zm-29 2l-7-8-6-11 7-5zm-72-6l-3 9-5-15 2-14zm70 10l-7-18-6-12 8 18zm-44-4l-7-17-5-6 7 18zm-16-11l-3 7-5-5 2-2zm-3 7l-2 4-5-6 2-3zm68 9l-7-30-5 11 7 18zm-65-26l-2 2-5 27 2-8z"/>
<path fill="#00cfff" d="M640 1421l-2 52-6-6 3-55zm220 13l-7 15-6-56 8 17zm-7 15l-7 5-6-32 7-29zm-7 5l-8-27-5-17 7 12zm-201-33l-2 46-5 6 2-52zm191 25l-7 3-5-20 7-19zm-43 24l-7-16-6-38 8-4zm-7-16l-8-19-5-19 7 0z"/>
<path fill="#00ffb7" d="M638 1473l-3 60-5-8 2-58zm5-6l-2 56-6 10 3-60zm-291 87l-7-35-5 0 7 34zm535-55l-7-13-5-22 7-10z"/>
<path fill="#00ff40" d="M635 1533l-2 31-5-11 2-28zm-268 51l-8-17-5 3 7 23zm277-56l-3 25-5 14 2-12z"/>
<path fill="#00ff10" d="M633 1564l-2 9-6-5 3-15zm-2 9l-3 5-5-5 2-5zm-233 31l-8-6-5-5 7 12zm-8-6l-7-4-5-2 7 1zm-21-2l-8-3-5 4 7-8zm269-41l-2 12-5 6 2-9zm-2 12l-2 7-6 4 3-5zm-240 36l-8-14-5 5 7 4zm-8-14l-7 7-5-3 7 1zm-7 7l-7-3-5 3 7-3zm258-33l-2 7-6 9 3-5zm-216 37l-7 5-6-10 7 6zm-22 6l-7-7-6-10 8 14zm-7-7l-7-1-6-2 7-7z"/>
<path fill="#08ff00" d="M628 1578l-2 4-5-3 2-6zm-2 4l-2 3-6 0 3-6zm-199 27l-8-4-5-9 7 10zm-8-4l-7-5-5 0 7-4zm-7-5l-7 3-6 9 8-12zm-7 3l-7 1-6 1 7 7zm229-29l-3 5-5 3 2-4zm-3 5l-2 4-5 2 2-3zm-170 25l-7-3-6 2 8 5zm-7-3l-7 0-6 7 7-5zm-7 0l-8-1-5 1 7 7zm-8-1l-7 12-5-3 7-8zm-14 11l-8-10-5-1 7 5zm-8-10l-7-6-5 8 7-3zm-7-6l-7 9-5 0 7-1zm-7 9l-7-1-6-5 8 6zm234-34l-3 6-5 7 2-4zm-3 6l-8 19-5-4 8-8zm-168 36l-7-8-5-3 7 3zm-7-8l-7-1-5-2 7 0zm-7-1l-7-2-6-1 8 1zm-7-2l-8 11-5 0 7-12zm-15 10l-7-11-6 1 8 10zm-14-6l-8 1-5-2 7-9zm-8 1l-7 0-5-3 7 1z"/>
<path fill="#20ff00" d="M624 1585l-9 3-5 9 8-12zm-176 18l-7 5-5 3 7 7zm-7 5l-7-7-6 9 8 1zm-7-7l-7 8-6-3 7 4zm195-18l-8 8-6-3 9-3zm-8 8l-8 5-5 3 7-11zm-8 5l-7 0-5 4 7-1zm-87 13l-7-10-5 6 7 2zm-7-10l-7-1-6 20 8-13zm-51 7l-7-2-5 4 7 18zm-36 6l-7-1-6-6 8 4zm194-17l-7 0-6 1 8-5zm-7 0l-7-1-6 2 7 0zm-7-1l-8 8-5-3 7-3zm-44 2l-7 5-6 5 8 1zm-36 8l-8-4-5-1 7 10zm-8-4l-7 1-5-3 7 1zm-7 1l-7 15-5-6 7-12zm-22 11l-7-9-5 8 7 2zm-7-9l-7 9-5 6 7-7zm-7 9l-7-1-6-5 8 12zm-7-1l-8 1-5-8 7 2zm-37 1l-7-1-5 0 7 1z"/>
<path fill="#38ff00" d="M615 1588l-7 11-5 7 7-9zm-7 11l-7 1-6 9 8-3zm-7 1l-8 2-5 10 7-3zm-22 7l-7-7-6 15 8-3zm-7-7l-8 4-5 10 7 1zm-8 4l-7 5-5 9 7-4zm-21 17l-8-12-5 0 7 7zm-8-12l-7 1-5 3 7-4zm-7 1l-7-3-5 11 7-5zm-7-3l-7-2-6 23 8-10zm-65 1l-8-5-5 15 7 12zm150-12l-7 3-6 3 8-2zm-7 3l-7 8-6 8 7-13zm-7 8l-8-8-5 8 7 8zm-8-8l-7 2-5-1 7 7zm-7 2l-7 10-6-7 8-4zm-7 10l-7-4-6 2 7-5zm-7-4l-8-1-5 9 7-6zm-8-1l-7 7-5 8 7-6zm-7 7l-7 2-6-6 8 12zm-7 2l-7-1-6-4 7-1zm-7-1l-8-5-5-2 7 3zm-22-16l-7 12-6 8 7 0zm-7 12l-8 7-5 0 7 1zm-8 7l-7-4-5 11 7-7zm-7-4l-7-2-6 8 8 5zm-7-2l-7 7-6 6 7-5zm-7 7l-8-12-5 20 7-2zm128-16l-7-4-5 9 7-8zm-7-4l-7 5-6-4 8 8zm-7 5l-7 11-6-13 7-2zm-7 11l-8-5-5 2 7-10zm-8-5l-7-13-5 11 7 4zm-14-8l-8 6-5 6 7-7zm-8 6l-7 5-5 3 7-2zm-7 5l-7 0-5 2 7 1zm-7 0l-7-8-6 5 8 5zm-29 4l-7 0-6 1 8-7zm-7 0l-8-4-5 1 7 4z"/>
<path fill="#50ff00" d="M593 1602l-7 13-5-8 7 5zm-7 13l-7-8-5 5 7-5zm-29-6l-7 6-5 1 7 2zm-7 6l-7 6-6-5 8 0zm-36-10l-8 13-5 12 7-2zm-8 13l-7 0-5 15 7-3zm-7 0l-7-1-5 13 7 3zm-7-1l-7 7-6 10 8-4zm-7 7l-8-5-5 14 7 1zm-8-5l-7 5-5 8 7 1zm-7 5l-7 2-6 10 8-4zm-7 2l-7-18-6 22 7 6z"/>
<path fill="#00ff28" d="M383 1594l-7-1-6-11 8 10zm-7-1l-7 3-6-7 7-7zm-15 0l-7-23-5 10 7 17zm13 0l-7-9-6 9 8 3zm267-40l-2 10-5 11 2-7zm-254 45l-8-11-5 6 7 3zm-8-11l-7-3-5 0 7 9z"/>
<path fill="#00ff70" d="M354 1570l-7-17-6 4 8 23zm5-3l-7-13-5-1 7 17zm536-12l-8-56-5-45 7 50zm-530 4l-7-3-6-2 7 13z"/>
<path fill="#00ff9f" d="M347 1553l-7-34-6 5 7 33zm11 3l-8-16-5-21 7 35z"/>
<path fill="#00ffff" d="M340 1519l-8-35-5 6 7 34zm542-65l-7 10-6-27 7-20zm-7 10l-8-17-5-12 7 2zm-530 55l-7-32-6-3 8 35zm506-56l-7-7-6-29 8 27z"/>
<path fill="#00ffe7" d="M889 1504l-7-50-6-37 8 26zm-16-30l-7-11-6-29 7 13zm-7-11l-8 14-5-28 7-15zm-8 14l-7-14-5-9 7-5zm-210-41l-2 56-5 31 2-56zm-298 104l-7-41-5-12 7 32z"/>
<path fill="#009fff" d="M838 1427l-7-17-5-23 7 23zm-7-17l-7 19-6-25 8-17zm-53 25l-7-12-5-16 7 9zm-127-44l-3 45-5 31 2-46z"/>
<path fill="#00ff58" d="M641 1523l-3 32-5 9 2-31zm-269 61l-7-25-6 8 8 17z"/>
<path fill="#00ffcf" d="M880 1486l-7-12-6-27 8 17z"/>
<path fill="#00ff87" d="M646 1492l-2 36-6 27 3-32z"/>
<path fill="#00ff58" d="M900 1520l-7-31-6 10 8 56zm-251-1l-2 30-6 4 3-25zm-272 68l-7-17-5-11 7 25zm278-44l-3 13-5-7 2-30z"/>
<path fill="#00ff9f" d="M893 1489l-8-29-5 26 7 13zm12-20l-7-19-5 39 7 31zm-248 45l-2 29-6-24 2-37zm-290 62l-8-36-5-15 7 36z"/>
<path fill="#00ffcf" d="M885 1460l-7-9-5 23 7 12zm-529 97l-8-45-5-13 7 41zm309-94l-3 55-5-4 2-50z"/>
<path fill="#00ffe7" d="M878 1451l-7-1-5 13 7 11zm-7-1l-7-2-6 29 8-14zm-7-2l-8-15-5 30 7 14zm34 2l-7-22-6 32 8 29zm13 6l-8-17-5 11 7 19z"/>
<path fill="#00ffff" d="M856 1433l-7 24-5-1 7 7zm-7 24l-7-19-6 8 8 10zm-190 7l-2 50-6-32 3-52z"/>
<path fill="#00e7ff" d="M842 1438l-7-6-6 17 7-3zm-188-8l-3 52-5 10 2-56zm237-2l-7-11-6 34 7 9z"/>
<path fill="#00cfff" d="M835 1432l-8-19-5 28 7 8zm-29-23l-8-6-5 67 7-6zm-8-6l-7 12-5 39 7 16zm86 14l-8-10-5 43 7 1zm-8-10l-7 2-5 39 7 2zm27 32l-7-30-5 19 7 22z"/>
<path fill="#00b7ff" d="M827 1413l-7-16-5 41 7 3zm-14-21l-7 17-6 55 7-46zm-22 23l-7-5-6 25 8 19zm78-6l-7-32-6 56 8 15zm-14-22l-8 14-5 37 7 19zm41 22l-7-8-5 16 7 11zm-229 7l-2 47-6 1 3-43z"/>
<path fill="#009fff" d="M820 1397l-7-5-6 26 8 20zm-36 13l-7-20-6 33 7 12zm-22-15l-7 4-6 43 8-14zm-7 4l-7 6-6 22 7 15zm107-22l-7 10-6 70 7-24zm-15 24l-7-7-5 38 7 6zm42 0l-7-9-6 15 8 10z"/>
<path fill="#0087ff" d="M777 1390l-8 6-5 17 7 10zm-8 6l-7-1-5 33 7-15zm-21 9l-8-4-5-1 7 27zm92-11l-7-21-6 40 8 19zm-178 27l-3 43-5-34 2-41zm220-29l-8-1-5 18 7-2z"/>
<path fill="#0058ff" d="M740 1401l-7-21-5 9 7 11zm93-28l-7-7-6 31 7 16zm-80-9l-7 24-6 13 8 4zm121 27l-7-34-5 20 7 32z"/>
<path fill="#0040ff" d="M733 1380l-7-18-6 36 8-9zm-22-6l-7 21-5-14 7-6zm-7 21l-7-3-6-8 8-3zm-7-3l-7-12-6 3 7 1zm129-26l-8-35-5 61 7 5zm-66-25l-7 23-5 41 7-6zm-14 47l-8-33-5 25 7 21zm-37-12l-7 4-5 12 7 3zm-45 23l-2 22-6-32 2-14zm196-58l-7 15-6 45 8-14zm-7 15l-8-12-5 50 7 7zm-177 35l-2-1-6-6 3-2zm-2-1l-2 0-6-1 2-5zm-2 0l-3 5-5 4 2-10z"/>
<path fill="#0028ff" d="M726 1362l-7-14-6 20 7 30zm-36 18l-8-11-5 13 7 1zm-22-1l-3 0-5-3 2-1zm-3 0l-2-2-5-3 2 2zm-7-4l-2 14-5 2 2-17zm160-44l-7-25-5 103 7-17zm-14-10l-8 8-5 86 7-12zm-8 8l-7-6-5 87 7 5zm-29 9l-7 3-5 58 7-4zm-50 27l-8 11-5 19 7-21zm-15 15l-7-24-5 24 7 12zm-22-4l-7 6-5-3 7-10zm-7 6l-2 0-6-3 3 0zm-2 0l-3 2-5-7 2 2zm-3 2l-2 5-5-15 2 3zm-2 5l-2 10-6-24 3-1zm201-32l-7-16-5 46 7-10zm-22-13l-7-15-5 44 7 21zm-130 25l-7-1-6 12 7-4zm-29-2l-7 21-6-6 7-6zm-7 21l-3 3-5-9 2 0z"/>
<path fill="#0010ff" d="M719 1348l-8 26-5 1 7-7zm-37 21l-7 0-5 2 7 11zm-7 0l-7 10-6-4 8-4zm-12 8l-2-3-6-2 3 2zm-2-3l-3 1-5-1 2-2zm150-68l-7 15-6 82 8 6zm-22 17l-7-11-5 78 7 20zm-7-11l-7 9-6 75 8-6zm-7 9l-8 17-5 57 7 1zm-51 36l-7 8-6 9 8-26zm-29-1l-7 8-6 5 8 11zm-7 8l-8 12-5-7 7 0zm150-35l-7 1-5 36 7 7zm-116 31l-7 9-6 7 8-11zm-14 8l-8-2-5-10 7 24zm-8-2l-7 15-5-17 7-8zm-7 15l-7-14-6 9 8-12z"/>
<path fill="#0070ff" d="M656 1389l-2 41-6 6 3-45zm13 6l-2 21-5 5 2-22z"/>
<path fill="#00ffb7" d="M651 1482l-2 37-5 9 2-36zm-290 79l-7-36-6-13 8 45z"/>
<path fill="#00ff40" d="M647 1549l-2 13-6 1 2-10zm5 7l-2 9-5-3 2-13zm-276 50l-8-15-5-20 7-1zm284-55l-2 9-6-4 3-13zm-286 50l-7-25-6-15 7 30z"/>
<path fill="#00ff28" d="M645 1562l-3 9-5-1 2-7zm-260 34l-8-9-5-3 7 3zm265-31l-2 8-6-2 3-9zm-267 53l-7-12-6-36 7 17zm275-58l-3 9-5-4 2-9z"/>
<path fill="#00ff10" d="M642 1571l-2 6-6-1 3-6zm-250 44l-7-19-6-9 8 11zm256-42l-3 5-5-1 2-6zm-3 5l-8-2-6 3 9-2zm10-9l-2 6-5-2 2-8zm-2 6l-2 6-6-3 3-5zm-2 6l-9 3-5-8 8 2zm-270 55l-7-35-6-10 8 15z"/>
<path fill="#08ff00" d="M640 1577l-9 2-5 16 8-19zm-212 35l-7 3-5-10 7-5zm-7 3l-7-1-6-8 8-1zm-7-1l-7 12-6-20 7 0zm-7 12l-8-1-5-26 7 7zm-8-1l-7-10-5-17 7 1zm238-49l-7 9-6 4 7-10zm-7 9l-8 3-5 8 7-7zm-51 16l-7-11-6 7 7 2zm-189 29l-7-12-6-31 8 9zm252-46l-7 3-5-2 7-9zm-7 3l-7-7-6 8 8-3zm-7-7l-8 9-5 1 7-2zm-44 17l-7-1-5-6 7 11z"/>
<path fill="#20ff00" d="M631 1579l-7 10-5 6 7 0zm-7 10l-7 7-5-2 7 1zm-7 7l-7 2-6 4 8-8zm-7 2l-8 2-5-2 7 4zm-8 2l-7 7-5-4 7-5zm-21 5l-8-6-5-3 7 13zm-8-6l-7-2-5 4 7-5zm-7-2l-7 7-6 3 8-6zm-7 7l-7-4-6 12 7-5zm-7-4l-8 7-5 5 7 0zm-8 7l-7 4-5-7 7 8zm-7 4l-7-1-6-10 8 4zm-7-1l-7 0-6-9 7-1zm-36 6l-8 5-5-9 7-9zm-22 12l-7-8-6-16 7 8zm-7-8l-8 8-5-25 7 1zm-8 8l-7-7-5-20 7 2zm-7-7l-7-6-6-3 8-11zm-7-6l-7 7-6-11 7 1zm-7 7l-8-10-5-12 7 11zm186-34l-7 2-5 8 7-2zm-7 2l-7 8-6 2 8-2zm-7 8l-7 2-6 7 7-7zm-7 2l-8-2-5 5 7 4zm-8-2l-7 6-5 1 7-2zm-7 6l-7-3-6-2 8 6zm-14-14l-8 12-5 2 7-7zm-8 12l-7 7-5-9 7 4zm-167 42l-7-14-5-34 7 19zm223-55l-7 11-5-2 7-8zm-7 11l-7-5-5 5 7-2zm-7-5l-7 10-6-7 8 2zm-7 10l-8-3-5 2 7-6zm-8-3l-7-5-5 4 7 3zm-14-6l-7 15-6-9 8-12zm-189 63l-7-23-5-30 7 12z"/>
<path fill="#38ff00" d="M595 1607l-7-4-5 11 7-11zm-7-4l-7 2-6 4 8 5zm-65 7l-8 14-5-8 7-15zm-8 14l-7-4-5-4 7 0zm-7-4l-7 8-6-16 8 4zm-7 8l-7-12-6-13 7 9zm-15-7l-7 13-5-23 7 1zm-7 13l-7-6-6-16 8-1zm78-25l-7 15-6-17 8-7zm-7 15l-7-2-6-11 7-4zm-7-2l-8 3-5-15 7 1zm-8 3l-7-1-5-14 7 0zm-101 31l-8-8-5-33 7-3zm-8-8l-7-10-5-24 7 1zm-7-10l-7 20-5-32 7-12zm-14 20l-8-14-5-29 7 10zm165-47l-8 7-5-9 7-7z"/>
<path fill="#00ff70" d="M370 1570l-7 1-5-15 7 3zm-2 21l-7-30-5-4 7 14zm294-73l-2 33-5-8 2-29z"/>
<path fill="#00ff87" d="M363 1571l-7-14-6-17 8 16z"/>
<path fill="#0800ff" d="M738 1355l-7-22-5 29 7 18zm-7-22l-7 24-5-9 7 14zm27-19l-7 27-5 47 7-24zm-7 27l-7 1-6 13 8 33zm-22 12l-7 7-5 5 7-8z"/>
<path fill="#50ff00" d="M528 1624l-7 20-6-20 8-14zm-80 39l-7 2-5-43 7-7zm-7 2l-7-9-6-44 8 10zm-29-7l-7 0-6-33 8 1zm150-40l-7 17-5-11 7-15zm-7 17l-7-7-5-6 7 2zm-7-7l-7 13-6-16 8-3zm-152 36l-8-5-5-41 7 12z"/>
<path fill="#68ff00" d="M521 1644l-8 14-5-38 7 4zm-8 14l-7 8-5-38 7-8zm-7 8l-7-9-5-41 7 12zm-7-9l-7 9-6-45 8-5zm-29 19l-7-4-6-44 8-8zm-7-4l-8-3-5-48 7 7zm-8-3l-7-6-5-48 7 6zm86-28l-8 22-5-39 7 1zm-138 39l-7-16-6-34 7 14z"/>
<path fill="#80ff00" d="M492 1666l-8 9-5-41 7-13zm-8 9l-7-3-5-44 7 6zm-7-3l-7 4-5-56 7 8zm56-9l-7 19-5-38 7-20zm-108 20l-8-1-5-24 7-20z"/>
<path fill="#2000ff" d="M831 1330l-7-28-6 29 8 35zm-87 12l-7 4-6-13 7 22zm-7 4l-8 7-5 4 7-24z"/>
<path fill="#6800ff" d="M824 1302l-8-25-5 29 7 25zm-51-21l-7-5-6 65 7-3z"/>
<path fill="#8000ff" d="M816 1277l-7-4-5 48 7-15zm-7-4l-7-14-6 70 8-8zm-29 5l-7 3-6 57 8-17z"/>
<path fill="#9700ff" d="M802 1259l-7-8-6 72 7 6zm-7-8l-8 15-5 46 7 11zm-8 15l-7 12-5 43 7-9z"/>
<path fill="#5000ff" d="M766 1276l-8 38-5 50 7-23z"/>
<path fill="#afff00" d="M526 1682l-7 15-6-39 8-14zm-87 28l-7-12-6-50 8 8z"/>
<path fill="#c7ff00" d="M519 1697l-7 16-6-47 7-8zm-73 29l-7-16-5-54 7 9z"/>
<path fill="#dfff00" d="M512 1713l-8 12-5-68 7 9zm-8 12l-7 4-5-63 7-9zm-36-2l-7 5-6-59 8 3zm-7 5l-7 2-6-67 7 6zm-7 2l-8-4-5-61 7-2z"/>
<path fill="#f7ff00" d="M497 1729l-7 7-6-61 8-9zm-7 7l-7-4-6-60 7 3zm-7-4l-8 0-5-56 7-4zm-8 0l-7-9-5-51 7 4z"/>
<path fill="#97ff00" d="M432 1698l-7-15-6-45 7 10zm-15-16l-7 8-5-32 7 0zm-7 8l-7-10-6-36 8 14z"/>
<path fill="#00ffff" d="M916 1455l-7-22-6 6 8 17zm-246-22l-2 54-6 31 3-55zm252 42l-8-34-5-8 7 22zm-2 5l-8-23-5-26 7 10z"/>
<path fill="#00cfff" d="M909 1433l-7-20-6-4 7 30zm5 8l-7-10-5-18 7 20zm-239-11l-2 55-5 2 2-54zm230 31l-7-6-6-38 8-5zm-14-10l-8-13-5-30 7 25z"/>
<path fill="#0087ff" d="M902 1413l-8-24-5 12 7 8zm-8-24l-7 11-5-8 7 9zm-7 11l-7 11-6-20 8 1zm-215-10l-2 43-5 30 2-47zm228 22l-8 5-5-17 7-11zm-15 21l-7-25-5-32 7 35zm-9 1l-7-10-6-47 8 6zm-7-10l-7 13-6-56 7-4z"/>
<path fill="#0058ff" d="M880 1411l-7-35-6-19 7 34zm-2-3l-7-25-6-30 8 23zm-200-22l-3 44-5 3 2-43zm176 32l-7 2-5-62 7 3z"/>
<path fill="#0010ff" d="M873 1376l-8-23-5-12 7 16zm-8-23l-7-13-5 16 7-15zm-138 19l-7 1-5-4 7-9zm-7 1l-7 2-5-7 7 1zm-7 2l-7-2-6-7 8 2zm150 2l-7 4-5-56 7 15zm-123 0l-7 11-6-16 8-19zm-7 11l-7-28-6 13 7-1zm-7-28l-8 13-5 2 7-2zm-8 13l-7-9-5 9 7 2zm-36 0l-2-2-5 5 2 4zm143 35l-7-8-5-69 7-9zm-7-8l-7-11-6-60 8 2zm-7-11l-7 6-6-66 7 0zm-7 6l-8 16-5-81 7-1zm-29 8l-8-6-5-57 7-4zm-8-6l-7-20-5-39 7 2zm-7-20l-7 16-6-33 8-22zm-29-1l-7-9-6 6 8-13zm-15-20l-7 27-5 7 7-26z"/>
<path fill="#0800ff" d="M858 1340l-7-15-6 19 8 12zm-123 13l-8 19-5-12 7-7zm121 28l-7-20-5-32 7-4zm-7-20l-7-3-6-35 8 6zm-102-1l-7 17-5-24 7-5zm-23 7l-8-11-5 8 7 9z"/>
<path fill="#2000ff" d="M851 1325l-7 4-6 0 7 15zm-102 2l-7 21-5-2 7-4zm-7 21l-7 5-6 0 8-7zm100 10l-8-13-5-38 7 16zm-87-20l-8 22-5-12 7-21z"/>
<path fill="#3800ff" d="M844 1329l-8-6-5 7 7-1zm-88-6l-7 4-5 15 7-1zm78 22l-7-4-5-38 7 4zm-72-5l-7-2-6-11 7-4z"/>
<path fill="#5000ff" d="M836 1323l-7-16-5-5 7 28zm-72-22l-8 22-5 18 7-27zm5 35l-7 4-6-17 8-22z"/>
<path fill="#8000ff" d="M829 1307l-7-4-6-26 8 25zm-16 24l-8-2-5-49 7-20zm-8-2l-7 0-5-47 7-2zm-7 0l-7 1-5-52 7 4z"/>
<path fill="#af00ff" d="M822 1303l-7-43-6 13 7 4zm-29-21l-7-4-6 0 7-12zm-7-4l-8 4-5-1 7-3zm-8 4l-7-11-5 5 7 5z"/>
<path fill="#c700ff" d="M815 1260l-8 0-5-1 7 14zm-15 20l-7 2-6-16 8-15z"/>
<path fill="#df00ff" d="M807 1260l-7 20-5-29 7 8z"/>
<path fill="#9700ff" d="M771 1271l-7 30-6 13 8-38zm49 51l-7 9-6-71 8 0z"/>
<path fill="#0028ff" d="M706 1373l-8 24-5-16 7-15zm-8 24l-7-13-5-17 7 14zm-7-13l-7 12-5-8 7-21zm-12 5l-2-9-5 10 2 0zm-2-9l-2-4-6 19 3-5zm194 3l-8-6-5-37 7 13zm-160-19l-7 26-6 7 8-24zm-26 18l-3-9-5 7 2 9zm-5-11l-2 15-6 4 3-14zm153 38l-8-1-5-86 7 19zm-37 2l-7 6-5-67 7-20zm-14 12l-7-20-6-67 7 19zm-29-30l-7-11-6-5 7-17zm-7-11l-8 2-5 4 7-11zm-8 2l-7-8-5-16 7 28zm-48 15l-2 0-6-26 3 9zm-2 0l-3 0-5-28 2 2z"/>
<path fill="#0040ff" d="M684 1396l-2 0-6-5 3-3zm-2 0l-3-7-5 1 2 1zm-7-20l-3 14-5 26 2-21zm29 14l-7 19-6-25 7 13zm-7 19l-8-10-5-3 7-12zm-8-10l-2-7-5 4 2 0zm-2-7l-2-10-6 7 3 7zm160 28l-7-16-6-59 8 13zm-7-16l-7 5-6-68 7 4zm-51 13l-7 6-6-68 8-5zm-80-34l-7 4-5 22 7-19zm-7 4l-7 0-6 12 8 10zm-7 0l-3 7-5-2 2 7zm-3 7l-2 5-5-17 2 10zm-7 5l-2 12-5-25 2-15z"/>
<path fill="#00ff87" d="M668 1487l-3 37-5 27 2-33zm-296 92l-7-42-6 3 8 36z"/>
<path fill="#00ff58" d="M665 1524l-2 24-5 12 2-9zm3 21l-2 7-5 7 2-11zm-278 42l-7-21-6 0 8 43z"/>
<path fill="#00ff40" d="M663 1548l-2 11-6 10 3-9zm-284 66l-7-35-5-3 7 25zm287-62l-2 6-6 10 3-9zm-281 57l-8-43-5 13 7 35zm289-54l-3 8-5-11 2-7zm-3 8l-2 4-5-9 2-6z"/>
<path fill="#00ff28" d="M661 1559l-3 9-5 7 2-6zm3-1l-3 7-5 11 2-8zm5 9l-2 4-6-6 3-7zm-272 25l-7-5-5 22 7 5z"/>
<path fill="#00ff10" d="M658 1568l-2 8-5 5 2-6zm-2 8l-8 8-6 0 9-3zm5-11l-8 20-5-1 8-8zm6 6l-9 15-5-1 8-20zm-263 27l-7-6-5 22 7 15z"/>
<path fill="#08ff00" d="M648 1584l-8 5-5-2 7-3zm-8 5l-7 8-5-17 7 7zm-7 8l-7-4-6-4 8-9zm20-12l-7 12-6-8 8-5zm-22 9l-7 2-5 3 7-6zm-239 20l-7-5-6 5 7 25zm266-28l-7 14-5-3 7-12zm-21 8l-8 9-5-7 7-2zm-225 14l-8-10-5 31 7 11z"/>
<path fill="#20ff00" d="M626 1593l-7 6-6 1 7-11zm-7 6l-8 2-5-6 7 5zm-8 2l-7 5-5-1 7-10zm-7 5l-7-1-6-3 8 3zm-7-1l-7 8-6-16 7 5zm-7 8l-8-8-5-9 7 1zm-8-8l-7 6-5 0 7-15zm-196 34l-7-25-5-13 7 35zm260-42l-7 11-6-11 7-8zm-7 11l-8-14-5-1 7 4zm-15-12l-7 6-6-1 8-2zm-7 6l-7 4-6 0 7-5zm-7 4l-8 0-5-1 7 1zm-22 5l-8 2-5-2 7-6zm-8 2l-7-5-5 4 7-1zm-7-5l-7-3-5 13 7-6zm78-8l-7 2-5 6 7-11zm-7 2l-7-8-6 0 8 14zm-15 1l-7-5-5 4 7-6zm-7-5l-7-1-5 9 7-4zm-7-1l-7 0-6 9 8 0zm-7 0l-8 1-5 15 7-7zm-8 1l-7 21-5-8 7 2zm-21 8l-8-2-5 1 7 3zm-8-2l-7 3-5 6 7-8zm-7 3l-7 4-6 17 8-15z"/>
<path fill="#38ff00" d="M575 1611l-7 1-6 6 8-7zm-7 1l-7 6-6 17 7-17zm34-6l-7 7-5 0 7-8zm-7 7l-7-2-6-6 8 8zm-29-8l-7 8-6 16 8-11zm-167 24l-7-15-6 25 8 22zm194-10l-7 7-6-13 8-2zm-7 7l-7-20-6 2 7 5zm-153-2l-7-2-5 32 7 0zm-7-2l-7 6-5 25 7 1zm-7 6l-7-20-6 32 8 13z"/>
<path fill="#50ff00" d="M561 1618l-8 11-5-1 7 7zm-167 43l-8-22-5-3 7 23zm165-48l-8 15-5 21 7-20zm-153 27l-7-11-5 32 7 8zm151-29l-7 19-6 21 7-23zm-116 19l-8-6-5 30 7 7z"/>
<path fill="#68ff00" d="M553 1629l-7 20-5-8 7-13zm-3 1l-8 6-5 27 7-12zm-66 7l-7-13-5 46 7 11zm-7-13l-7 5-6 47 8-6zm-7 5l-7 6-6 40 7 1zm-7 6l-8-7-5 43 7 4zm-8-7l-7 9-5 38 7-4zm-7 9l-7-7-6 31 8 14z"/>
<path fill="#97ff00" d="M546 1649l-7 25-6-11 8-22zm-138 36l-7-16-5-5 7 16zm27-24l-7-7-5 31 7 11zm-7-7l-7 0-6 34 8-3zm-7 0l-7-1-6 32 7 3zm100-24l-8 10-5 47 7-1zm-8 10l-7-5-5 56 7-4z"/>
<path fill="#c7ff00" d="M539 1674l-7 16-6-8 7-19zm-2-11l-7 7-6 30 8-10zm-87 8l-7 4-6 34 7 11z"/>
<path fill="#dfff00" d="M532 1690l-8 10-5-3 7-15zm-95 19l-7-13-5-13 7 15zm93-39l-8 11-5 45 7-26zm-58 0l-8 6-5 54 7 4zm-8 6l-7-1-5 53 7 2zm-7-1l-7-4-6 49 8 8z"/>
<path fill="#ffef00" d="M524 1700l-7 26-5-13 7-16zm-72 28l-8-8-5-10 7 16zm70-47l-7 5-5 63 7-23zm-7 5l-7 1-5 51 7 11zm-7 1l-7 4-6 53 8-6zm-7 4l-8-4-5 56 7 1zm-8-4l-7-1-5 46 7 11z"/>
<path fill="#ffbf00" d="M517 1726l-7 23-6-24 8-12zm-7 23l-7-11-6-9 7-4zm-7-11l-8 6-5-8 7-7zm-8 6l-7-1-5-11 7 4zm-7-1l-7-11-6 0 8 0z"/>
<path fill="#ffd700" d="M481 1732l-8-2-5-7 7 9zm-8-2l-7 4-5-6 7-5zm-7 4l-7-4-5 0 7-2zm-7-4l-7-2-6-2 8 4z"/>
<path fill="#f7ff00" d="M444 1720l-7-11-5-11 7 12zm42-34l-7-5-6 49 8 2zm-7-5l-7-11-6 64 7-4z"/>
<path fill="#afff00" d="M430 1696l-7-11-6-3 8 1zm-7-11l-8 3-5 2 7-8zm-8 3l-7-3-5-5 7 10zm129-37l-7 12-5 27 7-16zm-101 24l-8-14-5 35 7 13z"/>
<path fill="#80ff00" d="M401 1669l-7-8-6-2 8 5zm150-41l-7 23-5 23 7-25zm-137 25l-8-13-5 29 7 16zm128-17l-7-12-5 46 7-7zm-7-12l-7-1-6 58 8-11zm-7-1l-7 7-6 56 7-5zm-22 12l-7-3-6 55 8 4zm-7-3l-7 10-6 44 7 1zm-7 10l-8-5-5 44 7 5z"/>
<path fill="#009fff" d="M907 1431l-7-19-6-23 8 24zm-15-14l-7 16-5-22 7-11zm-9 21l-7-4-5-51 7 25z"/>
<path fill="#6800ff" d="M827 1341l-7-19-5-62 7 43zm-36-11l-7 20-6-68 8-4zm-7 20l-8 5-5-84 7 11zm-8 5l-7-19-5-35 7-30z"/>
<path fill="#00ffb7" d="M673 1485l-2 35-6 4 3-37zm254 27l-7-32-6-39 8 34zm-249-12l-2 35-5-15 2-35z"/>
<path fill="#00ff70" d="M671 1520l-3 25-5 3 2-24zm5 15l-2 20-6-10 3-25z"/>
<path fill="#00ff9f" d="M377 1566l-7-38-5 9 7 42zm6 0l-8-31-5-7 7 38z"/>
<path fill="#00e7ff" d="M912 1457l-7 4-5-49 7 19zm-14-2l-7-4-6-18 7-16zm-217-6l-3 51-5-15 2-55z"/>
<path fill="#0070ff" d="M862 1437l-8-19-5-57 7 20zm-179-26l-2 38-6-19 3-44z"/>
<path fill="#00ff70" d="M932 1543l-7-46-5-17 7 32zm-537 32l-7-12-5 3 7 21zm13 3l-7-10-6 7 8 5zm287-46l-3 35-5-11 2-39zm-282 53l-7-28-5 11 7 10z"/>
<path fill="#00ffb7" d="M925 1497l-7-16-6-24 8 23zm5-6l-7-25-5 15 7 16z"/>
<path fill="#00ffcf" d="M918 1481l-7 10-6-30 7-4zm-7 10l-8-23-5-13 7 6zm12-25l-7 2-5 23 7-10zm-530 83l-7-52-5 24 7 42zm543-73l-7-33-6 23 7 25z"/>
<path fill="#00ffe7" d="M903 1468l-7 5-5-22 7 4zm13 0l-7-27-6 27 8 23zm-224-10l-3 59-5-9 2-49zm5 15l-2 59-6-15 3-59z"/>
<path fill="#00ffff" d="M896 1473l-7-17-6-18 8 13zm-210-14l-2 49-6-8 3-51zm223-18l-8 14-5 18 7-5zm-8 14l-7-9-5 10 7 17zm-7-9l-7 5-5 14 7-9zm-7 5l-7-4-6 7 8 11zm-7-4l-8 6-5 6 7-5zm-8 6l-7 1-5 18 7-13zm-7 1l-7-13-6 26 8 5zm64-11l-8-10-5 35 7-2zm-530 88l-7-36-6 2 7 52z"/>
<path fill="#00e7ff" d="M889 1456l-7 9-6-31 7 4zm-7 9l-8-11-5-30 7 10zm-8-11l-7 5-5-22 7-13zm-7 5l-7 13-6-54 8 19zm-7 13l-8-5-5-47 7-2zm-17-35l-7 9-5 15 7-5zm78-4l-7-5-5 13 7 27z"/>
<path fill="#00b7ff" d="M852 1467l-7-34-5-29 7 16zm-7-34l-7 23-5-47 7-5zm-7 23l-7 5-6-53 8 1zm-7 5l-8-20-5-41 7 8zm-37-23l-7 18-5-33 7-6zm-7 18l-7 0-5-53 7 20zm13-36l-7 25-6 11 7-18zm-15 23l-7-21-5 26 7 8zm100-15l-7-23-6 48 8-6zm-7-23l-7-4-6 53 7-1z"/>
<path fill="#009fff" d="M823 1441l-7 21-5-73 7 11zm-7 21l-7-18-5-49 7-6zm-7-18l-7-11-6-22 8-16zm-7-11l-8 5-5-21 7-6zm-22 23l-7-8-6-51 8 6zm-91-34l-3 37-5-10 2-38zm125 1l-7-6-5 16 7 11zm-7-6l-7 3-6 18 8-5zm-113-9l-2 50-6 1 3-37zm177-7l-8 2-5 38 7 13zm-8 2l-7 10-5 20 7 8zm-7 10l-7-18-6 42 8-4zm-7-18l-7 0-6 51 7-9zm-7 0l-8 3-5 44 7 4zm-8 3l-7 1-5 50 7-7zm-135 24l-2 51-5-15 2-50z"/>
<path fill="#0070ff" d="M773 1448l-8-50-5-21 7 20zm47-59l-8 5-5 23 7 6zm-8 5l-7-2-5 28 7-3z"/>
<path fill="#0040ff" d="M765 1398l-7-4-5-1 7-16zm-7-4l-7-7-5-5 7 11zm-7-7l-7 6-6-9 8-2zm-7 6l-8 1-5-18 7 8zm-46-2l-3 10-5-2 2-5zm-3 10l-2 5-5-7 2 0zm69-7l-8-1-5-6 7 7zm-8-1l-7-3-5 3 7-6zm-7-3l-7-16-6 20 8-1zm-50-9l-3 6-5 23 2-4zm77 8l-7 5-5 0 7 6zm-7 5l-7-11-6 10 8 1zm-29-2l-7 0-6 14 8-22zm-7 0l-8 9-5-6 7 11zm-8 9l-7-14-5-1 7 9zm-23-4l-3 25-5-14 2-21z"/>
<path fill="#0028ff" d="M736 1394l-7-18-5-9 7 9zm-21-11l-8-10-5 14 7-4zm-8-10l-7 6-5 8 7 0zm-7 6l-2 12-6 3 3-7zm42-5l-7 10-6-8 7 18zm-7 10l-8 22-5-34 7 4zm-8 22l-7-11-5-12 7-11zm-7-11l-7-9-6-13 8 10zm-14-10l-3-2-5 8 2-12zm-3-2l-2-2-6 20 3-10zm-2-2l-2 0-6 25 2-5zm61 2l-8-19-5 26 7 3zm-15-10l-7 19-5-8 7-10zm-29 14l-7-11-5 9 7 1zm-14 0l-2 10-6-10 3-6z"/>
<path fill="#0010ff" d="M729 1376l-7-4-6-16 8 11zm-7-4l-7 11-6 0 7-27zm-9 14l-7-1-6-6 7-6zm41-22l-7 9-5 1 7 16zm-43 12l-2 2-6 5 3 2zm-2 2l-3 3-5 0 2 2zm-3 3l-2 6-5-6 2 0z"/>
<path fill="#0058ff" d="M693 1406l-2 4-6-11 3 0zm-2 4l-2 12-6-11 2-12zm80-10l-7-6-6 0 7 4zm-75-13l-2 21-5 14 2-12zm87 7l-7-5-5 11 7 22z"/>
<path fill="#00ff9f" d="M684 1508l-2 34-6-7 2-35zm-296 55l-7-42-6 14 8 31zm555-80l-7-7-6 15 8 44zm-537 74l-7-26-6 18 8 19z"/>
<path fill="#00ff58" d="M682 1542l-3 20-5-7 2-20zm-279 38l-8-5-5 12 7 5zm535-45l-8-44-5 6 7 46z"/>
<path fill="#00ff40" d="M679 1562l-2 11-6-10 3-8zm-269 27l-7-9-6 12 7 6zm277-33l-2 16-6-10 3-20zm-272 39l-7-17-5 2 7 9zm6 0l-8-10-5-7 7 17z"/>
<path fill="#00ff28" d="M677 1573l-2 7-6-13 2-4zm-260 28l-7-12-6 9 8 10zm268-29l-3 9-5-8 2-11zm-262 32l-8-9-5-6 7 12zm269-37l-2 11-5-6 2-16zm-264 35l-7-7-6 0 8 9z"/>
<path fill="#00ff10" d="M675 1580l-3 5-5-14 2-4zm-3 5l-8 7-6-6 9-15zm-248 28l-7-12-5 7 7 20zm258-32l-2 5-5-6 2-7zm-238 29l-7 0-5-3 7 9zm-7 0l-7-3-6 6 8-6zm-7-3l-7-3-6-3 7 12zm260-29l-2 7-6-4 3-9zm-2 7l-3 5-5-4 2-5zm-209 28l-8-13-5 6 7 14zm-8-13l-7 7-5 5 7-6zm-7 7l-7 5-5-2 7 2zm-7 5l-7 0-6-2 8 0zm-7 0l-8 3-5-5 7 0zm-8 3l-7-8-5 0 7 3zm-7-8l-7-5-5 2 7 3z"/>
<path fill="#08ff00" d="M664 1592l-7 1-6 7 7-14zm-44 8l-7-6-5 3 7 0zm-7-6l-7 6-6-2 8-1zm-174 22l-7-9-6 15 7 2zm-7-9l-8 6-5 15 7-6zm248-21l-2 4-6-5 3-5zm-2 4l-9 4-5-2 8-7zm-9 4l-7 0-5-1 7-1zm-7 0l-7 7-6-1 8-7zm-116 19l-7 5-6-13 7-2zm-22-6l-7 9-6-10 8 9zm-29 10l-7-10-6 6 8 9zm-7-10l-7-2-6 1 7 7zm-7-2l-8 15-5 0 7-14zm-8 15l-7-14-5 12 7 2zm-7-14l-7 6-6 7 8-1zm-7 6l-7-2-6 5 7 4zm-7-2l-8 0-5 6 7-1zm233-20l-2 4-5-4 2-4zm-2 4l-8 0-6 0 9-4zm-8 0l-8 6-5-6 7 0zm-160 16l-7 2-6 12 8-9zm-15 5l-7 3-5-11 7 10zm-7 3l-7-4-5-9 7 2zm-7-4l-7-1-6 7 8-15z"/>
<path fill="#20ff00" d="M657 1593l-8 7-5 2 7-2zm-8 7l-7 4-5-10 7 8zm-7 4l-7 1-6-2 8-9zm-7 1l-7 0-6-7 7 5zm-7 0l-8-5-5-3 7 1zm-22-5l-7 14-6 5 7-21zm-22 10l-7 3-6-9 8 2zm-7 3l-7 3-6-9 7-3zm-7 3l-8 1-5-6 7-4zm-30-13l-7 2-5 18 7 1zm-7 2l-7 11-5 14 7-7zm-43 17l-8-9-5 11 7 13zm-8-9l-7-7-5 23 7-5zm-7-7l-7 14-5 15 7-6zm-7 14l-7-2-6 10 8 7zm-7-2l-8 1-5 18 7-9zm-8 1l-7-4-5 15 7 7zm-7-4l-7 1-6 8 8 6zm209-14l-8 9-5-6 7-4zm-8 9l-7 3-5-8 7-1zm-7 3l-7 4-5-12 7 0zm-7 4l-7 3-6-20 8 5zm-7 3l-8-9-5-17 7 6zm-8-9l-7-4-5-7 7-6zm-7-4l-7-3-5 10 7-14zm-7-3l-7 9-6 5 8-4zm-7 9l-8 0-5-3 7 8zm-8 0l-7 5-5-5 7-3zm-7 5l-7-1-5-1 7-3zm-7-1l-7 0-6 0 8-1zm-7 0l-8-9-5 3 7 6zm-8-9l-7 2-5 4 7-3zm-7 2l-7 3-6-10 8 11zm-14 8l-8-6-5 4 7-11zm-8-6l-7-5-5 8 7 1zm-14 4l-7-1-6 3 7-12zm-7-1l-8 9-5 5 7-11zm-8 9l-7-7-5 5 7 7zm165-24l-7 8-5-7 7-7zm-7 8l-7 1-6 1 8-9zm-43 13l-8-11-5-6 7 3zm-8-11l-7 13-5-10 7-9zm-7 13l-7-15-6 5 8 0zm-7-15l-7 3-6 7 7-5zm-7 3l-8 11-5-5 7 1zm-15 8l-7-3-6-8 8 9zm-7-3l-7 4-6-10 7-2zm-7 4l-8 6-5-13 7-3zm-22 9l-7-9-6-13 7 5zm-7-9l-8 8-5-12 7-9zm-8 8l-7-18-5 5 7 1zm-14-16l-8 3-5 2 7 7z"/>
<path fill="#38ff00" d="M599 1614l-8 4-5 8 7-7zm-8 4l-7-8-5-4 7 20zm-29-1l-7-6-5 19 7-19zm-7-6l-7 3-6 22 8-6zm-7 3l-8-11-5 21 7 12zm-22 2l-7-1-6 25 8-10zm-7-1l-8-9-5 29 7 5zm-8-9l-7 12-5 14 7 3zm-7 12l-7 11-5 13 7-10zm-7 11l-7-7-6 15 8 5zm156-20l-7 14-6-10 7-3zm-7 14l-8-1-5-5 7-4zm-8-1l-7 3-5-5 7-3zm-7 3l-7 3-6-17 8 9zm-7 3l-7-7-6-14 7 4zm-44-6l-7-3-5-2 7 0zm-29 4l-7 6-5-14 7-5zm-7 6l-7-3-6-17 8 6z"/>
<path fill="#00cfff" d="M858 1441l-7-8-6 0 7 34zm-7-8l-8 4-5 19 7-23zm-15 13l-7-4-6-1 8 20zm-7-4l-7 7-6 13 7-21zm-7 7l-8-26-5 21 7 18zm-29-4l-8-2-5 13 7 0zm121-17l-7-4-6 31 8-14zm-7-4l-7-6-6 28 7 9zm-7-6l-8 16-5 17 7-5zm-8 16l-7-6-5 19 7 4z"/>
<path fill="#0087ff" d="M778 1422l-7-22-6-2 8 50zm49-23l-7-10-6 34 8 26zm-22-7l-7 4-5 49 7-25zm-7 4l-7 4-6 43 8 2zm-7 4l-8-6-5 28 7 21z"/>
<path fill="#00ff87" d="M689 1517l-2 39-5-14 2-34zm-288 51l-8-19-5 14 7 12z"/>
<path fill="#00ffe7" d="M949 1450l-8 3-5 23 7 7z"/>
<path fill="#00ffff" d="M941 1453l-7-6-5-4 7 33zm-537 72l-7-25-5-5 7 36zm550-72l-7-8-6 8 8-3zm-544 86l-8-28-5-11 7 25z"/>
<path fill="#00cfff" d="M934 1447l-7-9-6-5 8 10zm11 1l-7-28-6 17 7 15z"/>
<path fill="#00b7ff" d="M927 1438l-8-24-5 14 7 5zm-29-19l-8 2-5 7 7 6zm-193 14l-3 54-5-14 2-51zm5-19l-2 62-6 11 3-54z"/>
<path fill="#009fff" d="M919 1414l-7-11-5 21 7 4zm-7-11l-7 3-5 12 7 6zm-7 3l-7 13-6 15 8-16zm27 31l-7-44-6 21 8 24zm-217-32l-2 58-5 13 2-62z"/>
<path fill="#0087ff" d="M890 1421l-7-41-5 25 7 23zm20-26l-7 7-5 17 7-13zm-7 7l-7 6-6 13 8-2zm35 18l-8-26-5-1 7 44z"/>
<path fill="#0058ff" d="M883 1380l-7-1-5 22 7 4zm-7-1l-7 20-6 4 8-2zm-15 2l-7-11-5 25 7 18zm-154 25l-2 27-6-11 3-25zm5-20l-2 28-5 19 2-27zm218 8l-7-5-5-7 7 11zm-14-21l-7 19-6 10 7-7zm-22 28l-7-12-6-3 8 9z"/>
<path fill="#0070ff" d="M869 1399l-8-18-5 32 7-10zm56-6l-7-11-6 21 7 11zm-7-11l-8 13-5 11 7-3zm-22 26l-7-13-6-15 7 41zm13-16l-8 11-5 5 7-6zm-8 11l-7-2-5-6 7 13z"/>
<path fill="#0040ff" d="M854 1370l-7 13-5 12 7 0zm-7 13l-7-13-6 28 8-3zm-7-13l-8 4-5 25 7-1zm-8 4l-7-2-5 17 7 10zm-21 6l-8 7-5 9 7-4zm-8 7l-7-9-5 22 7-4zm-7-9l-7 5-6 11 8 6zm-87 15l-2 13-5-9 2-10zm180 2l-8-9-5-7 7 1zm-8-9l-7-1-5 14 7-20zm-7-1l-7-9-6 5 8 18zm-14 1l-8-3-5 0 7-13zm63 3l-7-16-6 22 8-13zm-36 0l-8-9-5 5 7 1zm-8-9l-7 0-5-4 7 9zm-7 0l-7 9-5-3 7-10zm-7 9l-7-23-6 17 8 3zm-109 26l-7-14-6-4 8-4z"/>
<path fill="#0028ff" d="M825 1372l-7-12-6 34 8-5zm-7-12l-7 20-6 12 7 2zm-29 23l-7-13-6 19 7 5zm-7-13l-8 6-5 18 7-5zm-8 6l-7 5-5 2 7 11zm-21 5l-8 6-5 5 7-19zm-8 6l-7-19-5 24 7 0zm-7-19l-7 22-6 11 8-9zm-7 22l-7-15-6 12 7 14zm-19-7l-3 10-5-6 2-6zm155-7l-7 10-6-16 7 11zm-15 7l-7-16-5 3 7 13zm-36-14l-7-1-6 19 8-7zm-36 23l-8-10-5-1 7-5zm-8-10l-7 0-5-5 7 4zm-14-3l-7 14-6-6 8-6zm-7 14l-8 4-5-29 7 19zm-8 4l-7-12-5 5 7-22zm-28-18l-3 7-5 20 2-13zm77-3l-7 26-5-10 7-26zm-7 26l-7-24-6 4 8 10zm-22-20l-7 33-5-22 7-14zm-14 19l-7-18-6 2 7 12zm-31-19l-3 23-5 9 2-28z"/>
<path fill="#0010ff" d="M767 1381l-7-4-6-13 8 19zm-7-4l-7 4-6-8 7-9zm-36-2l-8-10-5 11 7 11zm-10-2l-2 10-6-2 3-3zm131-6l-7-13-6 20 8-4zm-22-11l-7 13-5 11 7-20zm-14 12l-7-7-6 17 7 9zm-7-7l-8 5-5 17 7-5zm-8 5l-7 0-5 4 7 13zm-7 0l-7 26-6-16 8-6zm-22 16l-7-3-5 2 7-4zm-29 3l-7-29-5 19 7 15zm-19-10l-2 4-6 14 3-10zm141-9l-8-21-5 22 7 16zm-58 4l-8 6-5-10 7 0zm-22 8l-7-17-6 21 7 0zm-7-17l-8 21-5-3 7 3zm-29 22l-8 1-5-28 7 29zm-22-7l-2 6-6 4 3-7z"/>
<path fill="#0800ff" d="M716 1365l-2 8-5 5 2-2zm122-11l-7-8-6 26 7 2zm-7-8l-8 10-5 4 7 12zm-109 14l-3 9-5 4 2-8zm-3 9l-2 6-5 8 2-10zm88-29l-7 30-6-4 8-5zm-73 44l-7-16-5-8 7-4zm-7-16l-2 2-6-1 3-9zm-2 2l-3 4-5 1 2-6zm-3 4l-2 2-5 3 2-4z"/>
<path fill="#00ffb7" d="M702 1487l-2 63-5-18 2-59zm-290 62l-8-24-5 6 7 26zm296-73l-3 78-5-4 2-63zm-291 77l-7-14-6-14 8 24z"/>
<path fill="#00ff40" d="M700 1550l-2 35-6-18 3-35zm-274 51l-7-16-6 0 8 10zm5 10l-7-24-5-2 7 16z"/>
<path fill="#00ff10" d="M698 1585l-3 5-5-12 2-11zm-214 24l-7 1-6-10 8 13zm-7 1l-7 1-6-4 7-7zm-7 1l-8-1-5 2 7-5zm-8-1l-7 7-5-5 7 0zm-14 8l-7-16-6 5 7 8zm34-3l-7-2-5-2 7-1zm-7-2l-7 3-6-6 8 1zm-22-1l-7-12-5 2 7 16zm13 3l-7-12-6 9 7 2z"/>
<path fill="#08ff00" d="M695 1590l-2 4-5-9 2-7zm-2 4l-2 3-6-7 3-5zm-2 3l-3 2-5-5 2-4zm-3 2l-8 5-5-10 8 0zm-168 18l-7-2-5-3 7-2zm-7-2l-7 2-6-2 8-3zm-22 10l-7-16-5 4 7 1zm-36-8l-7 1-6-3 8-3zm248-14l-2 4-6-17 3-5zm-184 14l-8 7-5-7 7-2zm-30 8l-7-10-5-5 7-1zm-21-9l-8-2-5 3 7-7zm-8-2l-7-2-5 6 7-1zm35 7l-7-9-6 3 7 10zm-7-9l-8 12-5-11 7 2zm-8 12l-7 4-5-12 7-3zm-7 4l-7-13-6-1 8 2z"/>
<path fill="#20ff00" d="M680 1604l-7 3-6-7 8-6zm-7 3l-7 8-6-7 7-8zm-73 13l-7 9-5-18 7-3zm-72 9l-8-12-5-7 7 18zm-22-12l-7 16-6-15 7-3zm-7 16l-8-8-5-11 7 4zm202-26l-3 4-5-17 2-4zm-3 4l-2-2-5-12 2-3zm-2-2l-2-2-6-8 3-2zm-2-2l-9 7-5-10 8-5zm-168 28l-7-18-6-2 7 2zm-15-11l-7 13-5-4 7-16zm-14 11l-8-10-5-16 7 16zm212-50l-3 18-5 4 2-4zm-3 18l-2 7-6 1 3-4zm-182 24l-7 4-6-7 8-7zm-22 3l-7-9-6 4 8 10z"/>
<path fill="#38ff00" d="M666 1615l-8-3-5-3 7-1zm-8-3l-7 11-5 0 7-14zm-7 11l-7-6-6 5 8 1zm-7-6l-8 6-5 2 7-3zm-22 17l-7-9-6-15 8 11zm-7-9l-8-3-5 1 7-13zm-8-3l-7-2-5-12 7 15zm-14 7l-7 1-6-8 8-11zm-7 1l-8-4-5-7 7 3zm-8-4l-7 0-5-10 7 3zm-7 0l-7-3-5-3 7-4zm-7-3l-7 16-6-13 8-6zm-22 24l-7-13-5-14 7 9zm-7-13l-7-5-6-1 8-8zm150-20l-7 4-5-11 7-3zm-7 4l-7 2-5-5 7-8zm-7 2l-7-2-6-6 8 3zm-7-2l-8 14-5-9 7-11zm-15 4l-7-2-6 3 8-6zm-7-2l-7 4-6 2 7-3zm-22 10l-7-3-6-5 8 3zm-7-3l-7 14-6-21 7 2zm-80 23l-7-15-6-18 8 12zm-29-13l-7-2-6-10 8 8zm200-27l-2 2-6-3 2 2zm-2 2l-3 1-5-6 2 2zm-3 1l-8 11-6-10 9-7zm-8 11l-7 1-6-7 7-4zm-44 1l-7 9-5-10 7-4zm-116 25l-7-23-5-10 7 18zm-14-19l-8 5-5 1 7-13zm-8 5l-7-6-5 5 7 2z"/>
<path fill="#50ff00" d="M636 1623l-7 3-5 2 7-3zm-7 3l-7 8-5-13 7 7zm-72 13l-8 6-5-13 7-6zm-8 6l-7 2-5-18 7 3zm107-13l-7-10-5-5 7 6zm-21-8l-8 11-5-1 7-8zm-8 11l-7-5-5-5 7 9zm-21 6l-8 3-5-15 7-9zm-8 3l-7-8-5-6 7-1zm-7-8l-7-1-6-9 8 4zm-7-1l-7 12-6-21 7 0zm-7 12l-8-10-5-14 7 3zm-8-10l-7 5-5-3 7-16zm-29 9l-7 4-5-21 7 5zm144-21l-8 8-5-13 7-2zm-8 8l-7-4-5-11 7 2zm-7-4l-7 14-6-11 8-14zm-7 14l-7-3-6-18 7 10zm-7-3l-8-15-5-5 7 2zm-15-6l-7 10-6-9 8-11zm-7 10l-7-6-6-8 7 5zm-7-6l-8 4-5-15 7 3zm-8 4l-7 4-5-5 7-14z"/>
<path fill="#00ff28" d="M441 1602l-8-3-5 3 7 5zm-8-3l-7 2-5-6 7 7zm272-45l-2 49-5-18 2-35zm-259 46l-7-2-6 1 8 3zm-7-2l-8 13-5-10 7-2zm272-61l-2 48-6 18 2-49zm-252 66l-8-1-5-2 7 12zm-8-1l-7 1-5-5 7 2zm-7 1l-7 7-6 1 8-13zm-7 7l-7-15-6-8 7 24z"/>
<path fill="#00ff70" d="M419 1585l-7-36-6 8 7 28zm11 10l-8-22-5-20 7 34z"/>
<path fill="#00e7ff" d="M947 1445l-8 7-5-5 7 6zm-8 7l-7-15-5 1 7 9zm20-5l-7-13-5 11 7 8zm-7-13l-7 14-6 4 8-7z"/>
<path fill="#2000ff" d="M729 1356l-7 4-6 5 8 10zm121-11l-7-2-5 11 7 13zm-7-2l-7-6-5 9 7 8zm-7-6l-7 15-6 4 8-10zm-7 15l-8-17-5 34 7-13zm-8-17l-7-5-5 38 7 1zm-7-5l-7 10-5 21 7 7z"/>
<path fill="#68ff00" d="M562 1642l-7 10-6-7 8-6zm-7 10l-7 3-6-8 7-2zm-7 3l-8-9-5-12 7 13zm63-9l-7-9-6 7 8-3zm-7-9l-8 11-5-12 7 8zm-8 11l-7 8-5-21 7 1zm-7 8l-7 8-5-17 7-12zm-7 8l-7-8-6-19 8 10zm-7-8l-8-6-5-8 7-5zm-8-6l-7 15-5-13 7-10zm-29 19l-7-19-5-15 7 15z"/>
<path fill="#00ff87" d="M424 1587l-7-34-5-4 7 36z"/>
<path fill="#00ffcf" d="M713 1463l-2 74-6 17 3-78zm-298 90l-7-29-6-13 8 28z"/>
<path fill="#80ff00" d="M560 1665l-7 14-5-24 7-3zm-7 14l-7-7-6-26 8 9zm-7-7l-8-3-5-19 7-4z"/>
<path fill="#00ff9f" d="M422 1573l-7-20-5-14 7 14z"/>
<path fill="#00cfff" d="M965 1444l-8-22-5 12 7 13zm5 20l-7-39-6-3 8 22z"/>
<path fill="#00b7ff" d="M957 1422l-7 0-5 26 7-14zm-7 0l-7 6-5-8 7 28zm-218 10l-3 58-5-22 2-50z"/>
<path fill="#0087ff" d="M943 1428l-7-21-6-13 8 26zm-222-23l-2 52-6 6 2-58zm220 11l-7-3-6-10 8 4zm-215 2l-2 50-5-11 2-52zm220-7l-7 12-5-10 7 3zm-7 12l-7-11-5 6 7-5zm-7-11l-7-19-6 20 8 5z"/>
<path fill="#0070ff" d="M936 1407l-8-4-5-14 7 5zm-22-7l-7 6-6-3 8-11zm-7 6l-8-8-5 3 7 2zm27 7l-7 5-6-28 7 13zm-7 5l-8-5-5-13 7-10zm-8-5l-7-15-5 8 7-6zm6-20l-8 4-5 1 7 15z"/>
<path fill="#0058ff" d="M928 1403l-7-13-5-17 7 16zm-7-13l-7 10-5-8 7-19zm-22 8l-7-20-5 11 7 12zm13 0l-7-11-6 11 8 8zm5-1l-7-18-5 8 7 11zm-183 11l-2 24-6-14 3-15z"/>
<path fill="#0040ff" d="M892 1378l-7 2-6 0 8 9zm13 9l-7-7-6-2 7 20zm-160 8l-7 2-6-4 8 31zm-16 8l-3 15-5-13 2-19zm181-24l-7 8-5-7 7 7zm-174 20l-2 9-5-5 2 0z"/>
<path fill="#0028ff" d="M885 1380l-7-7-6 7 7 0zm-7-7l-8-15-5 31 7-9zm-80 0l-7 12-6 17 7-26zm-7 12l-8-8-5 1 7 24zm-22-15l-7 7-6 38 7-33zm-7 7l-8-7-5 31 7 14zm-15 10l-7 37-6-40 8-1zm-7 37l-8-31-5-25 7 16zm-17-38l-2 19-6 0 3-23zm175-6l-8-11-5 11 7-2zm-8-11l-7 4-5 0 7 7zm-138 13l-7 13-5 29 7-37zm-14 15l-2 4-6-15 2 7zm-2 4l-3 3-5-20 2 2zm-3 3l-2-1-5-19 2 0zm-2-1l-2 0-6-17 3-2zm172-16l-7-15-6-3 8 11zm-7-15l-8 5-5-4 7-4zm-155 12l-2 8-6 12 3-3zm-2 8l-3 7-5 4 2 1z"/>
<path fill="#0010ff" d="M870 1358l-7-6-5 14 7 23zm-116 12l-7 17-5-4 7 18zm-22 23l-2-7-5-16 2-2zm-2-7l-2-2-6-10 3-4zm-2-2l-2 0-6-8 2-2zm-2 0l-3 2-5-4 2-6zm157-11l-7-12-6-3 8 15zm-87-11l-7 4-6 11 8 8zm92 15l-7-4-5-12 7 12zm-137-20l-8 19-5 21 7-2zm-8 19l-2 8-5 17 2-4z"/>
<path fill="#2000ff" d="M863 1352l-7-40-6 33 8 21zm-53-22l-7 21-5 22 7-21zm-29 29l-7 4-5 7 7-9zm-7 4l-7-26-5 40 7-7zm-7-26l-7 18-6 15 8 7zm27 11l-7 17-6-6 8 7zm-14 27l-8-19-5-19 7 26zm-15-25l-7 0-6 32 8-27z"/>
<path fill="#5000ff" d="M856 1312l-7 2-6 29 7 2zm-7 2l-8 10-5 13 7 6zm-8 10l-7 3-5 25 7-15zm-7 3l-7-12-6 20 8 17zm-7-12l-7 19-6-4 7 5zm-7 19l-8-13-5 19 7-10zm-11-15l-8-2-5 45 7-11z"/>
<path fill="#3800ff" d="M812 1321l-7 31-5 18 7-30zm-11-4l-7 31-5 18 7-4zm-29 39l-7-6-5 5 7-18z"/>
<path fill="#0800ff" d="M805 1352l-7 21-6 3 8-6zm-22 25l-7-16-5 0 7 17zm-7-16l-7 9-6 12 8-21zm100 0l-8-19-5 10 7 6zm-73-10l-7 11-5 23 7-12zm-14 15l-8-7-5 2 7 16zm-29-11l-8 27-5 5 7-17zm121 18l-7-28-6-3 8 19zm-94-8l-7 10-6-12 7-4zm-29-15l-7 7-6 38 7-13z"/>
<path fill="#00ffe7" d="M719 1457l-3 69-5 11 2-74zm5 11l-2 70-6-12 3-69z"/>
<path fill="#00ff58" d="M716 1526l-2 46-5 13 2-48zm-281 72l-7-17-6-8 8 22zm287-60l-3 48-5-14 2-46zm-282 65l-7-22-5 0 7 17z"/>
<path fill="#08ff00" d="M714 1572l-2 30-6 1 3-18zm-206 43l-8-8-5 14 7 9zm-15-2l-7 21-6-10 8-12zm-14 11l-8-6-5-3 7 13zm240-38l-2 29-5-13 2-30zm-199 48l-7-21-5 2 7 11zm-22-16l-7 2-5 14 7-21zm-7 2l-7 2-5 2 7 10zm-7 2l-7-1-6-3 8 6zm34 3l-7 9-5-15 7-6zm-7 9l-7-6-6-10 8 1zm-7-6l-7-8-6 0 7-2zm-7-8l-8 9-5-7 7-2zm-8 9l-7-11-5 3 7 1z"/>
<path fill="#20ff00" d="M712 1602l-3 10-5-2 2-7zm-197 24l-7-11-6 15 7 6zm-29 8l-7-10-6 4 7-4zm239-32l-3 21-5-8 2-29zm-199 44l-8-21-5-12 7 21z"/>
<path fill="#38ff00" d="M709 1612l-2 6-5-6 2-2zm-2 6l-2 5-6-10 3-1zm-178 38l-7-18-5-7 7-4zm-7-18l-7-12-6 10 8-5zm195-23l-2 12-6-15 3-10zm-190 39l-7-20-5-8 7 12z"/>
<path fill="#50ff00" d="M705 1623l-9 11-5-10 8-11zm-9 11l-7-1-5-8 7-1zm19-7l-3 6-5-15 2-6zm-3 6l-2 2-5-12 2-5zm-2 2l-8 0-6-1 9-11zm12-12l-2 7-5-3 2-12zm-2 7l-2 5-6-2 3-6zm-187 40l-7-24-6-12 7 20z"/>
<path fill="#68ff00" d="M689 1633l-7 9-6-9 8-8zm-7 9l-8 1-5-14 7 4zm-8 1l-7 5-5-5 7-14zm-7 5l-7 1-5-9 7 3zm-7 1l-7-5-6-19 8 15zm-7-5l-8 6-5-16 7-9zm-8 6l-7 7-5-13 7-10zm-21 8l-8-10-5-2 7-4zm-8-10l-7 4-5-15 7 9zm-7 4l-7 13-6-17 8-11zm-72 16l-8-12-5-29 7 23zm165-33l-8 9-5-11 7 1zm-8 9l-7 7-5-9 7-9zm-159 27l-8-17-5-16 7 18zm183-36l-3 4-5-4 2-2zm-3 4l-8 7-5-11 8 0zm-8 7l-7 1-6-3 8-9z"/>
<path fill="#80ff00" d="M638 1657l-7 7-5-26 7 6zm-7 7l-7-6-6-16 8-4zm-29 1l-7 5-6-14 7-8zm-58 22l-7-19-6-18 7 19zm143-36l-7 3-6-11 8-1zm-7 3l-7 4-6-10 7-5zm-7 4l-8-4-5-5 7-1zm-8-4l-7 1-5-11 7 5zm-7 1l-7 8-6-13 8-6zm-116 30l-7-14-6-15 8 12zm158-38l-8 14-5-10 7-7zm-160 35l-7-12-6-16 8 17z"/>
<path fill="#97ff00" d="M595 1670l-8 7-5-13 7-8zm-8 7l-7 0-5-21 7 8zm-7 0l-7 4-6-31 8 6zm-7 4l-7 14-6-30 7-15zm78-18l-7 9-6-15 7-7zm-7 9l-8 12-5-20 7-7zm-15 9l-7-12-6-21 8 10zm-7-12l-7 11-6-28 7-4zm-7 11l-8 9-5-24 7-13zm77-19l-7 10-5-17 7-3zm-7 10l-7-1-5-12 7-4zm-7-1l-7-4-6-12 8 4zm-7-4l-8 5-5-16 7-1zm-8 5l-7 10-5-18 7-8zm-116 15l-7-4-5-11 7 14z"/>
<path fill="#afff00" d="M566 1695l-8 5-5-21 7-14zm-8 5l-7-3-5-25 7 7zm-7-3l-7-10-6-18 8 3zm85-13l-7-3-5-23 7 6zm-29 5l-7 4-5-23 7-5zm-58 19l-7-23-5-17 7 19zm107-27l-7 12-5-21 7-9z"/>
<path fill="#00ff10" d="M500 1607l-7 6-5-1 7 9zm-29 11l-7-4-5-11 7 12zm42-5l-7 6-6-12 8 8zm-7 6l-8-1-5-5 7-6zm-29 2l-8-3-5-4 7 4zm-8-3l-7-4-5-5 7 5zm-7-4l-7 1-6-4 8-2zm-7 1l-7-5-6 0 7 1zm27 3l-7-10-6 10 8 3zm-7-10l-7-1-6 7 7 4zm-7-1l-8 9-5-1 7-1z"/>
<path fill="#00ff28" d="M464 1614l-7-5-6-7 8 1zm-7-5l-8 2-5-8 7-1zm-8 2l-7-1-5 0 7-7zm-7-1l-7-12-5-3 7 15zm6 0l-8-7-5-5 7 12zm279-49l-2 41-6-16 3-48zm-267 55l-7-10-5 4 7 5zm-7-10l-7-3-6 0 8 7z"/>
<path fill="#00ff87" d="M428 1581l-8-20-5-8 7 20zm5 0l-7-11-6-9 8 20z"/>
<path fill="#00ffcf" d="M420 1561l-7-36-5-1 7 29z"/>
<path fill="#009fff" d="M963 1425l-7-21-6 18 7 0zm-7-21l-8 29-5-5 7-6zm-8 29l-7-17-5-9 7 21zm20-4l-7 2-5-27 7 21zm-7 2l-7 2-6 0 8-29zm-7 2l-8-22-5 5 7 17z"/>
<path fill="#6800ff" d="M868 1342l-7-58-5 28 7 40zm-29-31l-7 16-5-12 7 12zm-7 16l-7-7-5 14 7-19zm-7-7l-7-17-6 18 8 13zm-7-17l-8 27-5 22 7-31zm56 42l-7-55-6-6 7 58zm-58-22l-7-4-6 32 7-21z"/>
<path fill="#9700ff" d="M861 1284l-7 0-5 30 7-2zm-7 0l-7-2-6 42 8-10zm-9-3l-7 21-6 25 7-16zm-7 21l-8-15-5 33 7 7zm-8-15l-7 10-5 6 7 17z"/>
<path fill="#8000ff" d="M847 1282l-8 29-5 16 7-3zm-24 15l-7 26-6 7 8-27z"/>
<path fill="#c7ff00" d="M600 1693l-7 10-6-26 8-7zm-7 10l-7 6-6-32 7 0zm-7 6l-8 0-5-28 7-4zm63-16l-7-2-6-7 8-12zm-7-2l-8 6-5-16 7 3zm-8 6l-7-1-5-27 7 12zm-7-1l-7 4-5-20 7-11zm-72 14l-8-24-5-1 7 23z"/>
<path fill="#dfff00" d="M578 1709l-7 2-5-16 7-14zm-7 2l-7 4-6-15 8-5zm-7 4l-8-2-5-16 7 3zm-8-2l-7-5-5-21 7 10zm64-13l-7 20-6-31 8-9z"/>
<path fill="#00ffb7" d="M426 1570l-7-40-6-5 7 36zm303-80l-2 71-5-23 2-70zm-298 90l-7-39-5-11 7 40z"/>
<path fill="#00e7ff" d="M975 1472l-7-43-5-4 7 39z"/>
<path fill="#c700ff" d="M867 1290l-8-6-5 0 7 0zm-8-6l-7-21-5 19 7 2zm-7-21l-7 18-6 30 8-29z"/>
<path fill="#f7ff00" d="M613 1720l-8 11-5-38 7-4zm-8 11l-7-3-5-25 7-10zm-43-6l-7-15-6-2 7 5z"/>
<path fill="#ffef00" d="M598 1728l-7 7-5-26 7-6zm-7 7l-7 3-6-29 8 0zm-7 3l-8-12-5-15 7-2zm-8-12l-7 9-5-20 7-4zm-7 9l-7-10-6-12 8 2z"/>
<path fill="#00ff40" d="M446 1603l-7-11-6-11 7 22z"/>
<path fill="#00ff70" d="M439 1592l-8-12-5-10 7 11z"/>
<path fill="#00ffff" d="M981 1468l-7-12-6-27 7 43z"/>
<path fill="#00cfff" d="M974 1456l-8-11-5-14 7-2zm10-6l-7-24-5-3 7 43z"/>
<path fill="#00b7ff" d="M966 1445l-7-26-5 14 7-2zm-229-22l-2 71-6-4 3-58zm5 2l-2 73-5-4 2-71zm6-16l-2 83-6 6 2-73z"/>
<path fill="#009fff" d="M959 1419l-7-10-6 2 8 22zm13 4l-7-27-6 23 7 26z"/>
<path fill="#0087ff" d="M952 1409l-7 1-6 13 7-12zm-7 1l-8-6-5 8 7 11zm20-14l-8 17-5-4 7 10zm-8 17l-7-7-5 4 7-1zm20 13l-7-18-5-12 7 27z"/>
<path fill="#0058ff" d="M937 1404l-7-23-5 12 7 19zm-7-23l-7 19-6-3 8-4zm-7 19l-7-1-6-20 7 18zm-184-12l-2 35-5 9 2-24zm204 14l-8-15-5-6 7 23zm-8-15l-7 17-5-4 7-19zm13 20l-7-18-6-2 8 15zm-7-18l-7 24-6-9 7-17z"/>
<path fill="#0040ff" d="M916 1399l-8-5-5-7 7-8zm-2 10l-8-32-5-5 7 22zm-169-19l-3 35-5-2 2-35zm174 5l-7-5-6-13 8 32z"/>
<path fill="#0028ff" d="M908 1394l-7-22-5 0 7 15zm-166-23l-3 17-5 20 2-9zm8 0l-2 38-6 16 3-35z"/>
<path fill="#0010ff" d="M901 1372l-7-1-6 6 8-5zm-7-1l-7-19-6 21 7 4zm12 6l-7-21-5 15 7 1zm6 13l-7-32-6-2 7 21z"/>
<path fill="#2000ff" d="M887 1352l-8-10-5 3 7 28zm-102 13l-7-5-6-4 8 19zm-36-25l-3 8-5 36 2-8zm-3 8l-2 10-5 34 2-8zm153 8l-7-22-5 18 7 19zm-150-6l-2 20-5 1 2-13zm4 3l-3 18-5 19 2-20z"/>
<path fill="#6800ff" d="M879 1342l-7-26-5-26 7 55zm-72-39l-8 28-5 17 7-31zm78 12l-8-13-5 14 7 26zm-80-8l-7 4-6 52 7-32zm-36 43l-8-37-5 25 7 10zm128-15l-7-16-5-4 7 19zm-140-16l-2 17-6 14 3-23z"/>
<path fill="#af00ff" d="M872 1316l-7-27-6-5 8 6zm-44-30l-7 2-5 35 7-26zm-1-5l-8 27-5-6 7-14zm56 15l-7 3-6-3 7 6zm-58-3l-7-7-6 27 7-5zm-7-7l-8-3-5 24 7 6zm-15-11l-7 14-6 39 8-17zm-36 29l-8 1-5 3 7 5z"/>
<path fill="#df00ff" d="M865 1289l-7-20-6-6 7 21zm-15-31l-7 6-5 38 7-21zm-16-5l-7 28-6 7 7-2zm34 30l-7-10-5-12 7 17zm-7-10l-7 8-6-9 8-11z"/>
<path fill="#f700ff" d="M858 1269l-8-11-5 23 7-18zm5 9l-7-17-6-3 8 11zm-7-17l-8 11-5-8 7-6zm-8 11l-7-5-5 13 7-16zm-7-5l-7-14-6 33 8-6zm13 14l-7-19-6 5 7 5zm-15-30l-7 43-5-13 7-28z"/>
<path fill="#c700ff" d="M843 1264l-7 16-6 7 8 15zm-7 16l-8 6-5 11 7-10zm34 16l-7-18-5-9 7 20zm6 3l-8-16-5-5 7 18zm-44-5l-7-1-6 15 8-27zm-22-11l-7-8-5 36 7-4z"/>
<path fill="#9700ff" d="M821 1288l-7 14-5 17 7 4zm-7 14l-7 1-6 14 8 2zm63 0l-7-6-5-7 7 27zm-58 6l-7 5-5-10 7-1zm-7 5l-7-6-6 24 8-28zm78 6l-7-23-6 6 8 13zm-94-30l-8 18-5 35 7-14zm-22 18l-7-3-6 9 8 37zm-15-2l-2 14-5 8 2-19z"/>
<path fill="#3800ff" d="M799 1331l-7 32-5 2 7-17zm-21 29l-8-2-5-8 7 6zm-8-2l-7-10-5 2 7 0zm-14-20l-7 2-6 36 8-19zm34-10l-7 14-5 18 7 5zm-7 14l-7 7-6 9 8 2zm-7 7l-7 1-6-2 7 10zm129 9l-8-23-5-1 7 22z"/>
<path fill="#0800ff" d="M792 1363l-7 2-5 10 7-10zm-48-5l-2 13-6 28 3-7zm3 12l-2 20-6-2 3-17z"/>
<path fill="#5000ff" d="M763 1348l-7-10-5 19 7-7zm129-14l-7-19-6 27 8 10zm-94-23l-8 17-5 37 7-2zm-46 16l-3 23-5 8 2-10zm3 9l-2 17-6 17 2-20z"/>
<path fill="#00ff9f" d="M735 1494l-3 82-5-15 2-71zm-298 92l-8-35-5-10 7 39z"/>
<path fill="#00ff10" d="M732 1576l-2 45-5-19 2-41zm-245 38l-7 3-5-9 7 10zm6 10l-7 4-6-11 7-3zm-7 4l-8-3-5-14 7 6zm-8-3l-7-6-5-5 7-3zm6 4l-8-6-5-4 7 6zm-8-6l-7-11-5-3 7 10z"/>
<path fill="#38ff00" d="M730 1621l-2 16-6-14 3-21zm13-29l-2 61-5-13 2-53zm-201 60l-7-15-6-3 7 9z"/>
<path fill="#50ff00" d="M728 1637l-3 5-5-12 2-7zm-190 31l-7-32-5 10 7 24zm6-7l-8-18-5-7 7 32zm5 2l-7-11-6-9 8 18z"/>
<path fill="#68ff00" d="M725 1642l-2 4-5-11 2-5zm-2 4l-2 4-6-11 3-4zm13-6l-3 15-5-18 2-16z"/>
<path fill="#80ff00" d="M721 1650l-9 8-5-12 8-7zm-9 8l-7-6-5-5 7-1zm21-3l-2 8-6-21 3-5zm-2 8l-2 3-6-20 2-4zm-180 11l-7-13-6 7 8 20zm190-21l-2 16-6-14 3-15zm-185 15l-7-5-5-2 7 13z"/>
<path fill="#97ff00" d="M705 1652l-7 21-6-12 8-14zm-159 36l-8-20-5 2 7 12zm183-22l-3 2-5-18 2-4zm-3 2l-8 0-6-10 9-8zm-8 0l-7 7-6-23 7 6zm21 1l-3 7-5-13 2-8zm-175 15l-8-16-5 6 7 23z"/>
<path fill="#afff00" d="M698 1673l-7 16-6-18 7-10zm-15 14l-7-5-5-16 7 4zm-130 5l-7-4-6-6 7 4zm158-17l-8 25-5-27 7-21zm-153 22l-7-23-5 14 7 4zm178-21l-2 1-5-11 2-3zm-2 1l-2 0-6-9 3-2z"/>
<path fill="#c7ff00" d="M691 1689l-8-2-5-17 7 1zm-15-7l-7 21-6-32 8-5zm-116 35l-7-25-6-6 8 24zm172-40l-9 18-5-27 8 0zm-9 18l-7 17-5-37 7-7zm-152 10l-7-21-6 13 7 27z"/>
<path fill="#dfff00" d="M669 1703l-7 10-6-32 7-10zm-7 10l-8-6-5-14 7-12zm-8-6l-7-1-5-15 7 2zm49-7l-7-2-5-9 7-16zm-7-2l-7 4-6-15 8 2zm-7 4l-7 6-6-26 7 5zm-124 22l-7-27-5-5 7 25z"/>
<path fill="#f7ff00" d="M647 1706l-7 14-6-23 8-6zm-7 14l-7 0-6-24 7 1zm-7 0l-8 5-5-25 7-4zm-66 10l-7-13-5-7 7 15zm115-22l-8 19-5-24 7-21zm34 4l-7 11-6-23 8-25zm-7 11l-8-7-5-18 7 2zm-8-7l-7 7-5-21 7-4z"/>
<path fill="#ffef00" d="M625 1725l-7 20-5-25 7-20zm49 2l-7 12-5-26 7-10zm-7 12l-7-10-6-22 8 6zm-7-10l-8 7-5-30 7 1zm-87 8l-8-13-5-7 7 13zm121-14l-7 17-5-32 7-6zm-116 10l-7-28-6 19 8 13z"/>
<path fill="#ffd700" d="M618 1745l-7-5-6-9 8-11zm-7-5l-7 4-6-16 7 3zm-29 12l-7-6-6-11 7-9zm-7-6l-8-16-5-5 7 10zm77-10l-7 17-5-33 7-14zm-72 16l-7-15-6-7 8 16zm107-12l-7 10-6-23 8-19zm-102 6l-7-13-5 4 7 15z"/>
<path fill="#ffbf00" d="M604 1744l-8 8-5-17 7-7zm-8 8l-7 10-5-24 7-3zm-7 10l-7-10-6-26 8 12zm56-9l-7 3-5-36 7 0zm-7 3l-7-1-6-30 8-5zm-22-10l-7 8-5-10 7-4zm-23 4l-8-4-5 6 7 5z"/>
<path fill="#20ff00" d="M531 1636l-7-3-6-8 8 21zm-7-3l-8 4-5-3 7-9zm-8 4l-7-6-5-3 7 6zm222-50l-2 53-6-19 2-45zm-202 56l-7-9-5-1 7 3zm-7-9l-7-10-6 13 8-4zm-7-10l-7-1-6 8 7 6zm13 13l-8-13-5 0 7 10z"/>
<path fill="#08ff00" d="M509 1631l-7 1-5-12 7 8zm-7 1l-7 0-6-3 8-9zm-7 0l-8-18-5 4 7 11zm20-9l-8-2-5 11 7-1zm-8-2l-7 7-5 4 7 0zm-7 7l-7-4-6-10 8 18zm27-4l-7-2-5 1 7 1zm-7-2l-7-6-6 5 8 2zm-7-6l-7 4-6 8 7-7zm-7 4l-8 1-5 3 7 4zm-8 1l-7 4-5 3 7-4zm-7 4l-7 4-6-4 8 3z"/>
<path fill="#00ff28" d="M480 1617l-7-6-5-4 7 1zm-7-6l-7 3-6 2 8-9zm-7 3l-8-8-5 0 7 10zm-8-8l-7-6-5 3 7 3zm13 13l-7-10-6-3 8 8zm-7-10l-7-2-6-7 7 6zm5 3l-7-5-5 0 7 2z"/>
<path fill="#00ff40" d="M451 1600l-7-2-5-6 7 11zm6 7l-8-8-5-1 7 2zm5 0l-7-11-6 3 8 8z"/>
<path fill="#00ff58" d="M444 1598l-7-12-6-6 8 12zm5 1l-7-19-5 6 7 12zm6-3l-8-18-5 2 7 19z"/>
<path fill="#00ffe7" d="M986 1485l-7-19-5-10 7 12zm6 17l-8-52-5 16 7 19z"/>
<path fill="#00e7ff" d="M979 1466l-7-43-6 22 8 11z"/>
<path fill="#0070ff" d="M950 1406l-7-4-6 2 8 6zm-22-2l-7 12-5-17 7 1zm-7 12l-7-7-6-15 8 5zm49-8l-7-5-6 10 8-17zm-7-5l-8 12-5-9 7 7zm-8 12l-7-8-5-5 7 4zm-21-2l-8-3-5 6 7-12zm-8-3l-7-15-5 14 7 7z"/>
<path fill="#8000ff" d="M761 1313l-7-5-5 32 7-2zm-7-5l-2 19-6 21 3-8zm34-1l-7 6-5 36 7-7zm-7 6l-7-6-5 43 7-1z"/>
<path fill="#00ff87" d="M740 1498l-2 89-6-11 3-82zm-298 82l-7-24-6-5 8 35zm304-88l-3 100-5-5 2-89zm-299 86l-7-20-5-2 7 24z"/>
<path fill="#ffa700" d="M631 1755l-8 7-5-17 7-20zm-8 7l-7-16-5-6 7 5zm-14-8l-7 4-6-6 8-8zm-7 4l-8 4-5 0 7-10zm-8 4l-7-5-5-5 7 10zm-7-5l-7-5-5-6 7 6zm93-7l-8 7-5-18 7-12zm-8 7l-7 2-5-30 7 10zm-7 2l-7 9-6-32 8-7zm-43 9l-8-6-5-8 7-8zm-8-6l-7-11-5 7 7-4zm-7-11l-7 3-6 8 8-4zm-7 3l-7-4-6 7 7 5z"/>
<path fill="#ff00ef" d="M847 1262l-8-11-5 2 7 14z"/>
<path fill="#ff8f00" d="M658 1768l-7 6-6-21 7-17zm-29 15l-7-15-6-22 7 16z"/>
<path fill="#ff7800" d="M651 1774l-8 20-5-38 7-3zm-8 20l-7-4-5-35 7 1zm-7-4l-7-7-6-21 8-7z"/>
<path fill="#00ffe7" d="M997 1490l-7-26-6-14 8 52zm5-17l-7-10-5 1 7 26z"/>
<path fill="#00cfff" d="M990 1464l-7-24-6-14 7 24zm5-1l-7-32-5 9 7 24zm6-17l-8-14-5-1 7 32z"/>
<path fill="#009fff" d="M983 1440l-8-28-5-4 7 18zm5-9l-7-22-6 3 8 28zm5 1l-7 6-5-29 7 22z"/>
<path fill="#0070ff" d="M975 1412l-7-8-5-1 7 5zm-7-8l-7 18-6-7 8-12zm-14 15l-8-6-5-24 7 18zm-8-6l-7-4-5 4 7-24zm-193-42l-2 97-5 24 2-83zm228 38l-8 10-5-15 7 8zm-29 15l-8-13-5-2 7 4zm20-22l-8 7-5 6 7 8zm-8 7l-7-7-5 22 7-9zm-7-7l-7 10-6-1 8 13z"/>
<path fill="#0087ff" d="M961 1422l-7-3-6-12 7 8zm12-3l-7 4-5-1 7-18zm-7 4l-7-8-5 4 7 3zm-7-8l-7 9-6-11 8 6zm27 23l-7-17-6-2 8-10zm-7-17l-7-19-6 21 7-4z"/>
<path fill="#0058ff" d="M939 1409l-7-23-6 24 8 3zm5 2l-7-32-5 7 7 23zm6 1l-7-23-6-10 7 32zm-22 4l-7-7-6-19 8-1z"/>
<path fill="#0040ff" d="M932 1386l-7-9-6 18 7 15zm-7-9l-8 6-5 7 7 5zm-166-27l-3 102-5 16 2-97zm184 39l-8 9-5-9 7-10zm-8 9l-7 18-5-27 7 0z"/>
<path fill="#0028ff" d="M917 1383l-7-5-5-20 7 32zm20-4l-7 10-5-12 7 9zm-7 10l-7 0-6-6 8-6zm-7 0l-8 1-5-12 7 5zm-2 20l-7-44-6 16 7 9z"/>
<path fill="#0800ff" d="M910 1378l-7-16-6-27 8 23zm-4-6l-7-13-5-11 7 35z"/>
<path fill="#3800ff" d="M903 1362l-8-4-5-39 7 16zm-11 7l-7-6-6-41 7 14z"/>
<path fill="#6800ff" d="M895 1358l-7-27-5-35 7 23zm-137-53l-2 21-6 45 3-18zm136 43l-8-12-5-32 7 27zm-133-48l-2 50-6 21 3-45zm124 63l-8-45-5-10 7 14z"/>
<path fill="#9700ff" d="M888 1331l-7-27-5-5 7-3zm-128-38l-2 12-5 48 2-17zm119 29l-7-14-6-10 8-11z"/>
<path fill="#af00ff" d="M881 1304l-7-17-6-4 8 16zm-118-19l-3 8-5 43 2-17zm114 33l-7-18-5-20 7 28zm-14-13l-8 16-5-17 7-15zm-8 16l-7-6-5-26 7 15z"/>
<path fill="#c700ff" d="M874 1287l-8 11-5-25 7 10zm-80-15l-7 18-6 23 7-6zm-7 18l-8-18-5 35 7 6zm-15-5l-7-4-6 24 8-1zm-7-4l-2 4-6 34 2-14zm107 27l-7-28-6-5 7 23zm-15-19l-7 15-5-19 7-10zm-7 15l-7-15-6-13 8 9zm-87-29l-2 25-5 26 2-21zm107 25l-7 5-6-16 8-9zm-22 15l-7-28-5-22 7 24zm-82-54l-2 55-5 34 2-50z"/>
<path fill="#df00ff" d="M866 1298l-7-23-5 6 7-8zm-7-23l-7 0-5-13 7 19zm-14 10l-8-9-5 18 7-43zm-8-9l-7-17-5 34 7 1zm-36-13l-7 9-6 35 8-18zm-22 9l-7 13-5 19 7 3zm86 8l-8 9-5-14 7 0z"/>
<path fill="#f700ff" d="M852 1275l-7 10-6-34 8 11zm-22-16l-7 8-5 19 7 7zm-7 8l-7 1-6 15 8 3zm-7 1l-8-14-5 21 7 8zm-8-14l-7 9-5 26 7-14zm35 35l-7-24-6-6 7 17zm-44-19l-7-11-5 31 7-18zm-33-13l-3 18-5 30 2-12z"/>
<path fill="#2000ff" d="M756 1326l-3 45-5 38 2-38zm145 57l-7-35-6-17 7 27zm-2-24l-7 10-6-33 8 12z"/>
<path fill="#00ff9f" d="M751 1468l-2 116-6 8 3-100z"/>
<path fill="#38ff00" d="M749 1584l-3 71-5-2 2-61zm-202 55l-7 5-5-7 7 15zm13-3l-7 0-6 3 7 12zm-7 0l-8 5-5 3 7-5zm-8 5l-7-2-5 6 7-1zm214-59l-2 90-5-24 2-73z"/>
<path fill="#97ff00" d="M746 1655l-2 26-5-12 2-16zm-164 32l-8-5-5-3 7 12zm12-17l-7 5-5 12 7 4zm-7 5l-7 0-6 7 8 5z"/>
<path fill="#c7ff00" d="M744 1681l-2 10-6-15 3-7zm-2 10l-3 3-5-17 2-1zm-3 3l-2 0-5-17 2 0zm18-22l-2 47-6-28 3-43z"/>
<path fill="#dfff00" d="M737 1694l-8 25-6-24 9-18zm-154 15l-7-18-5 14 7 28zm166-18l-2 16-5-16 2-10zm-153 25l-7-25-6 18 8 23zm13-7l-7-21-6 28 7 5z"/>
<path fill="#ffef00" d="M729 1719l-8 21-5-28 7-17zm-138 13l-8-23-5 24 7 13zm20-6l-8-5-5 18 7 3zm-8-5l-7-5-5 16 7 7zm152-2l-3 21-5-33 2-16z"/>
<path fill="#ffbf00" d="M721 1740l-7 4-5-21 7-11zm-7 4l-7 3-6-31 8 7zm-7 3l-7 11-6-35 7-7zm-102-5l-7-3-5 11 7 4zm13 16l-7-32-6 16 7 18zm134-18l-2 14-5-36 2-11z"/>
<path fill="#ffa700" d="M700 1758l-8 17-5-35 7-17zm-80 12l-8-10-5-9 7 11zm-8-10l-7-18-5 12 7-3zm122-20l-7 25-6-25 8-21zm16 14l-2 9-6-39 3-6zm-119 3l-8-24-5 25 7 13z"/>
<path fill="#ff8f00" d="M692 1775l-7 3-5-28 7-10zm-65 1l-7-6-6-8 8 6zm100-11l-8 18-5-39 7-4zm-102 6l-7-13-6 2 8 10zm123-8l-9 16-5-39 8-16zm-110 1l-7-7-6 14 7 2z"/>
<path fill="#ff7800" d="M685 1778l-7 9-6-30 8-7zm-7 9l-7-1-6-27 7-2zm41-4l-7-3-5-33 7-3zm-7-3l-7 7-5-29 7-11zm-80-7l-7-2-5-1 7 6zm13 3l-7-12-6 9 8 16z"/>
<path fill="#ff6000" d="M671 1786l-8 3-5-21 7-9zm-8 3l-7 2-5-17 7-6zm-29 7l-7-20-5-8 7 15zm71-9l-7 24-6-36 8-17zm-65 2l-8-16-5 3 7 20zm99-10l-7 27-5-41 7-25zm-87 12l-7-15-5 13 7 7z"/>
<path fill="#ff4800" d="M656 1791l-7 15-6-12 8-20zm-14 14l-8-9-5-13 7 7zm56 6l-8-4-5-29 7-3zm-29-6l-8-4-5-10 7-2zm-22-9l-7-7-6 7 8 9zm85 10l-7 7-6-30 8-18zm-65-5l-7-7-6 6 7 1zm-7-7l-8-3-5 5 7 4z"/>
<path fill="#ff3000" d="M649 1806l-7-1-6-15 7 4zm41 1l-7 5-5-25 7-9zm-7 5l-7 0-5-26 7 1zm-7 0l-7-7-6-16 8-3zm-15-11l-7-1-5 6 7-15zm-7-1l-7-4-5 9 7 1zm71 13l-7-3-6-30 7 3zm-7-3l-8 5-5-28 7-7zm-44 6l-7-15-6 0 8 4z"/>
<path fill="#ffd700" d="M598 1739l-7-7-6 14 8 4zm144-15l-8 16-5-21 8-25zm-119 9l-7-14-5 7 7 32z"/>
<path fill="#afff00" d="M576 1691l-7-12-5 5 7 21zm176-43l-3 43-5-10 2-26zm-163 43l-7-4-6 4 7 18zm13-3l-8-18-5 21 7 25z"/>
<path fill="#80ff00" d="M569 1679l-7-17-6 6 8 16zm5 3l-7-25-5 5 7 17zm6-7l-8-11-5-7 7 25z"/>
<path fill="#68ff00" d="M562 1662l-8-11-5 12 7 5z"/>
<path fill="#50ff00" d="M554 1651l-7-12-5 13 7 11zm13 6l-7-21-6 15 8 11zm5 7l-7-22-5-6 7 21z"/>
<path fill="#20ff00" d="M540 1644l-7 1-6-21 8 13zm214-69l-2 73-6 7 3-71zm-216 64l-7-8-6-3 8 17zm27 3l-7-9-5 3 7 0zm-7-9l-7-4-6 12 8-5zm-7-4l-8-3-5 13 7 2zm-8-3l-7 10-5-5 7 8z"/>
<path fill="#08ff00" d="M533 1645l-8-17-5-6 7 2zm-8-17l-7-3-5-9 7 6zm-29-1l-7 3-5-1 7-4zm35 4l-7 0-6-6 7 3zm-7 0l-8-4-5-7 7 5zm-22 3l-7-7-6 3 7-3zm34 2l-7-1-5-4 7 0zm-7-1l-7-9-6 1 8 4zm-15-12l-7 10-5 1 7-10zm-7 10l-7-7-5 1 7 7z"/>
<path fill="#00ff10" d="M518 1625l-7-5-5 0 7-4zm-7-5l-7-8-6 9 8-1zm-7-8l-8 15-5-2 7-4zm-15 18l-7-18-6 11 8 6zm27-3l-7-3-5-12 7 8zm-7-3l-7 10-6-7 8-15zm-14 3l-8-10-5-5 7 18zm27-1l-8-3-5 1 7 3zm-22 0l-7 3-6-12 8 10z"/>
<path fill="#00ff28" d="M482 1612l-7-5-6 5 7 11zm5 5l-7-10-5 0 7 5zm6 12l-8-9-5-13 7 10zm-8-9l-7-8-5-10 7 5z"/>
<path fill="#00ff40" d="M475 1607l-8-7-5 7 7 5zm5 0l-7-5-6-2 8 7z"/>
<path fill="#00ff58" d="M467 1600l-7-14-5 10 7 11zm6 2l-7-16-6 0 7 14zm5 10l-7-17-5-9 7 16z"/>
<path fill="#00ff70" d="M460 1586l-7-2-6-6 8 18zm6 0l-8-3-5 1 7 2zm5 9l-7-7-6-5 8 3z"/>
<path fill="#00ff87" d="M453 1584l-7-19-6-7 7 20zm5-1l-7-18-5 0 7 19zm6 5l-8-24-5 1 7 18z"/>
<path fill="#0010ff" d="M915 1390l-7-9-5-19 7 16zm-7-9l-7 2-6-25 8 4zm6-16l-8 7-5 11 7-2zm-150-49l-2 121-6 15 3-102z"/>
<path fill="#8000ff" d="M886 1336l-7-14-5-35 7 17z"/>
<path fill="#ff00ef" d="M836 1265l-8-8-5 10 7-8zm-8-8l-7 8-5 3 7-1zm-21-2l-8 15-5 2 7-9zm-39-11l-2 13-6 36 3-8zm73 43l-7-29-6-1 8 8zm-7-29l-8 28-5-21 7-8zm-8 28l-7-27-5-26 7 32zm-57-47l-3 22-5 39 2-25z"/>
<path fill="#ff00d7" d="M821 1265l-7-32-6 21 8 14zm-7-32l-7 22-6 8 7-9zm-22 26l-7-32-6 45 8 18zm-7-32l-7 13-6 45 7-13zm-7 13l-8-1-5 42 7 4zm-8-1l-2 5-5 41 2-4zm42 16l-7-13-6 28 8-15z"/>
<path fill="#00ffb7" d="M756 1452l-2 123-5 9 2-116z"/>
<path fill="#f7ff00" d="M747 1707l-2 11-6-24 3-3zm-2 11l-3 6-5-30 2 0zm-129 1l-7-10-6 12 8 5z"/>
<path fill="#00ffff" d="M1008 1468l-7-22-6 17 7 10z"/>
<path fill="#ff00bf" d="M819 1259l-7-4-5 0 7-22zm-14-17l-8-36-5 53 7 11zm-34-13l-2 10-6 36 3-18z"/>
<path fill="#ff0078" d="M797 1206l-7-17-5 38 7 32zm-7-17l-7 19-5 32 7-13z"/>
<path fill="#ff008f" d="M783 1208l-7 18-6 13 8 1zm-7 18l-3 0-5 18 2-5z"/>
<path fill="#ff00a7" d="M773 1226l-2 3-5 28 2-13z"/>
<path fill="#00ffcf" d="M762 1437l-3 145-5-7 2-123z"/>
<path fill="#ff1800" d="M710 1815l-7 9-5-13 7-24zm-14 8l-7-3-6-8 7-5zm-7-3l-8 0-5-8 7 0zm-8 0l-7-4-5-11 7 7z"/>
<path fill="#ff0000" d="M703 1824l-7-1-6-16 8 4z"/>
<path fill="#00e7ff" d="M1013 1475l-7-21-5-8 7 22z"/>
<path fill="#00cfff" d="M1006 1454l-7-10-6-12 8 14zm5-9l-7-9-5 8 7 10z"/>
<path fill="#00b7ff" d="M999 1444l-8-12-5 6 7-6zm18 8l-7-16-6 0 7 9z"/>
<path fill="#009fff" d="M991 1432l-7-12-5 1 7 17zm13 4l-7-31-6 27 8 12zm-23 8l-8-17-5-12 7 21z"/>
<path fill="#0070ff" d="M984 1420l-7-12-5-6 7 19zm-7-12l-7 13-6-12 8-7zm-7 13l-8-20-5 1 7 7zm-29-16l-8 29-5-18 7-18zm-8 29l-7-21-5-4 7 7zm13-21l-7 14-6 7 8-29zm-7 14l-7-33-6 19 7 21zm63-16l-7-14-5 18 7-10zm-7-14l-7 6-6 23 8-11zm-22 30l-7-21-5-10 7 19zm-22-17l-7-9-5 26 7-14z"/>
<path fill="#0058ff" d="M962 1401l-7-5-5 16 7-10zm6 14l-7-19-6 0 7 5zm-9-1l-8-4-5 3 7-43zm-15-13l-7 0-5-7 7 33z"/>
<path fill="#0040ff" d="M955 1396l-7-27-5 20 7 23zm-7-27l-7 36-6-7 8-9zm18 37l-7 8-6-44 8 26z"/>
<path fill="#0028ff" d="M926 1413l-7-56-5 8 7 44zm35-17l-8-26-5-1 7 27zm-8-26l-7 43-5-8 7-36zm-21 24l-8-22-5-15 7 56zm-29-5l-8 13-5-21 7 5zm34 12l-7-1-6-28 8 22zm-29-12l-7 9-6 4 8-13z"/>
<path fill="#2000ff" d="M919 1357l-7-8-6 23 8-7zm-7-8l-8 20-5-10 7 13zm-22 32l-7-23-6-40 8 45zm-121-74l-2 139-5-9 2-121zm155 65l-7-12-5-11 7 8zm-7-12l-7 8-6 1 8-20zm-29 17l-7-10-6-25 8 16zm-2-6l-7 19-5-43 7 20zm-7 19l-7-28-6-22 8 7zm-99-89l-2 133-5 28 2-138z"/>
<path fill="#0800ff" d="M904 1369l-7 17-5-17 7-10zm-129-45l-2 138-6-16 2-139zm147 60l-7-3-5-13 7-8zm-29-20l-7 7-5-4 7 10z"/>
<path fill="#0010ff" d="M897 1386l-7-5-5-18 7 6zm13-18l-7 21-6-3 7-17zm-15 34l-7-25-5-19 7 23zm35-2l-8-16-5-24 7 12zm-15-19l-7 8-5 0 7-21zm-14 17l-8-34-5 13 7 25z"/>
<path fill="#6800ff" d="M883 1358l-8-16-5-42 7 18zm-9-11l-8-7-5-6 7-19zm-10 0l-7-2-5-33 7 10z"/>
<path fill="#9700ff" d="M875 1342l-7-27-5-10 7-5zm-18 3l-7-34-5-7 7 8z"/>
<path fill="#8000ff" d="M868 1315l-7 19-6-13 8-16zm-7 19l-7-20-6 1 7 6zm5 6l-7-18-5-8 7 20z"/>
<path fill="#af00ff" d="M854 1314l-8-23-5-4 7 28zm5 8l-7-10-6-21 8 23zm-14-18l-8 2-5 5 7-16zm5 7l-7-9-6 4 8-2z"/>
<path fill="#df00ff" d="M846 1291l-7 4-5-37 7 29zm-7 4l-7 16-6-25 8-28zm-7 16l-7-30-6-22 7 27zm3 0l-7-25-5-23 7 30z"/>
<path fill="#ff00d7" d="M825 1281l-8-27-5 1 7 4z"/>
<path fill="#ff00a7" d="M817 1254l-7-49-5 37 7 13zm-43-36l-2 23-6 20 3-22zm49 45l-8-47-5-11 7 49z"/>
<path fill="#ff0060" d="M810 1205l-7-18-6 19 8 36zm-22-13l-7 11-5 23 7-18zm-7 11l-2 3-6 20 3 0zm1 4l-3 17-5-6 2-9zm39 33l-7-36-6-15 7 27zm-34-35l-2 12-6 7 3-17z"/>
<path fill="#ff0030" d="M803 1187l-7-1-6 3 7 17zm-7-1l-8 6-5 16 7-19zm12 3l-7-3-5 0 7 1zm-7-3l-7 2-6 4 8-6zm-7 2l-8 4-5 11 7-11zm20 16l-8-12-5-6 7 3zm-8-12l-7 2-5-6 7-2zm-7 2l-7 0-6-2 8-4zm-7 0l-2 4-6-1 2-5z"/>
<path fill="#ff0078" d="M779 1206l-3 3-5 20 2-3zm-3 3l-2 9-5 21 2-10z"/>
<path fill="#f700ff" d="M772 1241l-3 66-5 9 2-55zm5 15l-2 68-6-17 3-66zm6-16l-3 61-5 23 2-68z"/>
<path fill="#00ffb7" d="M767 1446l-2 166-6-30 3-145zm11-12l-2 164-6 27 3-163z"/>
<path fill="#68ff00" d="M765 1612l-3 103-5-43 2-90zm-165 39l-8 11-5 13 7-5zm-15 14l-7-11-6 10 8 11zm27 5l-7-15-5-4 7 17zm6-5l-8-11-5 1 7 15z"/>
<path fill="#ffef00" d="M762 1715l-2 39-5-35 2-47zm-113 14l-8-18-5 19 7 15zm12 3l-7-18-5 15 7 26z"/>
<path fill="#ffa700" d="M760 1754l-2 22-6-36 3-21z"/>
<path fill="#ff7800" d="M758 1776l-2 13-6-35 2-14zm-100 6l-8-12-5 6 7 15zm108-22l-3 20-5-4 2-22zm-96 27l-7-25-5 20 7 11zm101-27l-2 25-6-5 3-20z"/>
<path fill="#ff6000" d="M756 1789l-3 9-5-35 2-9zm-91 4l-7-11-6 9 8 3zm18-11l-7-16-6 21 8 8z"/>
<path fill="#ff4800" d="M753 1798l-8 19-6-38 9-16zm-81 5l-7-10-5 1 7 7zm91-23l-2 16-5-7 2-13zm-85 15l-8-8-5 6 7 10zm91-10l-3 20-5-9 2-16zm-79 11l-7-14-5 13 7 12z"/>
<path fill="#ff1800" d="M745 1817l-7 8-6-19 7-27zm-58 4l-8-7-5 2 7 4zm5 1l-7-15-6 7 8 7zm74-17l-2 13-5-8 2-14zm-61 18l-7-14-6 13 7 4z"/>
<path fill="#ff0000" d="M738 1825l-8 1-5-13 7-7zm-8 1l-7 1-5-17 7 3zm-7 1l-7 1-6-13 8-5zm-7 1l-8 0-5-4 7-9zm-8 0l-7-3-5-2 7 1zm-7-3l-7-1-5-4 7 3zm-7-1l-7-3-6-1 8 0zm65-14l-9 18-5-11 8-19zm-9 18l-7 1-5-4 7-8zm-7 1l-7 1-6-4 8-1zm-7 1l-8 1-5-4 7-1zm-8 1l-7 0-5-3 7-1zm-7 0l-7-2-6-1 8 0zm-7-2l-7-3-6-1 7 3zm-7-3l-8 0-5-2 7 1zm-8 0l-7-4-5-1 7 3zm65-8l-8 12-6-2 9-18zm-8 12l-8 1-5-2 7-1zm-8 1l-7 1-5-2 7-1zm-7 1l-7 0-6-1 8-1zm-7 0l-7 0-6-1 7 0zm-7 0l-8-3-5 0 7 2zm-8-3l-7-7-5 4 7 3zm-7-7l-7 1-6 3 8 0z"/>
<path fill="#ff3000" d="M679 1814l-7-11-5-2 7 15zm82-18l-2 14-6-12 3-9zm-76 11l-7-12-6 8 7 11zm13 2l-8-13-5 11 7 15z"/>
<path fill="#ff8f00" d="M650 1770l-7-25-5 19 7 12zm13-8l-7-7-6 15 8 12zm13 4l-8-25-5 21 7 25z"/>
<path fill="#ffbf00" d="M643 1745l-7-15-5 27 7 7zm125-28l-2 43-6-6 2-39zm-112 38l-7-26-6 16 7 25zm117-59l-2 64-5 0 2-43zm-105 45l-7-9-5 23 7 7z"/>
<path fill="#ffd700" d="M636 1730l-7-10-6 13 8 24z"/>
<path fill="#f7ff00" d="M629 1720l-8-6-5 5 7 14zm12-9l-7-6-5 15 7 10z"/>
<path fill="#dfff00" d="M621 1714l-7-23-5 18 7 10zm13-9l-7-7-6 16 8 6zm20 9l-7-9-6 6 8 18z"/>
<path fill="#afff00" d="M614 1691l-7-23-5 20 7 21zm13 7l-7-18-6 11 7 23zm12-8l-7-2-5 10 7 7zm-7-2l-7 0-5-8 7 18z"/>
<path fill="#80ff00" d="M607 1668l-7-17-6 19 8 18zm-15-6l-7 3-5 10 7 0zm28 18l-8-10-5-2 7 23zm156-82l-3 98-5 21 2-92zm-151 90l-7-23-6 5 8 10z"/>
<path fill="#50ff00" d="M578 1654l-7-11-6-1 7 22zm27 1l-7-1-6 8 8-11zm-7-1l-7 1-6 10 7-3zm-7 1l-8-14-5 13 7 11zm19-1l-7 1-5-1 7 1zm-7 1l-7-3-5 3 7-1z"/>
<path fill="#20ff00" d="M571 1643l-8-14-5 4 7 9zm-22-4l-7 5-6-8 7-10zm-7 5l-8-16-5 7 7 1zm34-4l-7-8-6-3 8 14zm-22-5l-7 7-5 2 7-5zm-7 7l-7-9-6-5 8 16zm34 7l-7-19-5 2 7 8zm-29-12l-7 1-5-5 7 9z"/>
<path fill="#08ff00" d="M563 1629l-7-2-5 2 7 4zm-7-2l-7 12-6-13 8 3zm-22 1l-7-1-5-1 7 9zm-21 0l-8-2-5 0 7 7zm56 4l-7 1-6-6 7 2zm-7 1l-8 2-5 4 7-12zm-22 0l-8 0-5-6 7 1zm34-3l-7-1-5 4 7-1zm-7-1l-7-1-6 7 8-2zm-7-1l-8 9-5 5 7-7zm-15 10l-7-4-6-1 8 0zm-7-4l-7-8-6-3 7 10z"/>
<path fill="#00ff10" d="M527 1627l-7-12-6 8 8 3zm-7-12l-7 13-6 5 7-10zm-15 11l-7-5-5 8 7-3zm-7-5l-7 1-6-2 8 9zm34 12l-7-10-5-8 7 12zm-7-10l-7 2-5 3 7-13zm-7 2l-7-10-6 11 8 2zm-7-10l-8 3-5 3 7 5zm-8 3l-7 7-5-3 7-1zm28 8l-8 0-5-1 7-2zm-8 0l-7-2-5-9 7 10zm-7-2l-7 6-6-12 8-3zm-7 6l-7-4-6-1 7-7z"/>
<path fill="#00ff28" d="M491 1622l-7-2-6-8 7 8zm5 3l-7-14-5 9 7 2zm6 1l-8-25-5 10 7 14z"/>
<path fill="#00ff40" d="M484 1620l-8-23-5-2 7 17zm5-9l-7-18-6 4 8 23z"/>
<path fill="#00ff58" d="M476 1597l-7-4-5-5 7 7zm18 4l-7-5-5-3 7 18z"/>
<path fill="#00ff87" d="M469 1593l-7-18-6-11 8 24zm5-7l-7-15-5 4 7 18zm6 2l-7-27-6 10 7 15z"/>
<path fill="#00ffff" d="M1019 1494l-8-49-5 9 7 21zm5 7l-7-49-6-7 8 49z"/>
<path fill="#0087ff" d="M997 1405l-7 10-6 5 7 12zm-7 10l-8 11-5-18 7 12zm-8 11l-7 10-5-15 7-13zm-7 10l-7-21-6-14 8 20zm35 0l-8-25-5-6 7 31zm-22-33l-7 41-6-8 7-10z"/>
<path fill="#5000ff" d="M881 1367l-7-20-6-32 7 27zm-9-5l-8-15-5-25 7 18z"/>
<path fill="#c700ff" d="M852 1312l-7-8-6-9 7-4zm-15-6l-7-13-5-12 7 30zm6-4l-8 9-5-18 7 13z"/>
<path fill="#ff00ef" d="M830 1293l-7-30-6-9 8 27z"/>
<path fill="#ff0048" d="M815 1216l-7-27-5-2 7 18zm-29-24l-2 5-5 9 2-3zm-2 5l-2 10-6 2 3-3zm6 1l-3 7-5 2 2-10z"/>
<path fill="#ff008f" d="M779 1224l-2 32-5-15 2-23zm6-7l-2 23-6 16 2-32z"/>
<path fill="#00ff9f" d="M773 1462l-3 163-5-13 2-166z"/>
<path fill="#97ff00" d="M770 1625l-2 92-6-2 3-103z"/>
<path fill="#38ff00" d="M583 1641l-7-1-5 3 7 11zm13 11l-7-6-6-5 8 14zm-7-6l-8 3-5-9 7 1z"/>
<path fill="#00ff70" d="M482 1593l-8-7-5 7 7 4zm5 3l-7-8-6-2 8 7z"/>
<path fill="#ff00bf" d="M828 1286l-7-46-6-24 8 47z"/>
<path fill="#c7ff00" d="M647 1705l-8-15-5 15 7 6z"/>
<path fill="#00ffe7" d="M1029 1495l-7-32-5-11 7 49z"/>
<path fill="#00cfff" d="M1022 1463l-7-10-5-17 7 16zm6-33l-8 19-5 4 7 10zm-8 19l-7 14-5-32 7 22zm20 15l-7-35-5 1 7 45zm-14-27l-8 15-5 11 7-14z"/>
<path fill="#009fff" d="M1015 1453l-7-22-6-20 8 25zm-2 10l-7-21-6-35 8 24zm20-34l-7 8-6 12 8-19zm-22 10l-7-26-5 21 7 8z"/>
<path fill="#0070ff" d="M1008 1431l-8-24-5-10 7 14zm-29-23l-8-3-5 1 7 21zm-8-3l-7 18-5-9 7-8zm-7 18l-7-14-6 1 8 4zm40-10l-7-4-6-4 8 29z"/>
<path fill="#0058ff" d="M1000 1407l-7 5-5-9 7-6zm-43 2l-7-11-6 3 7 9zm-15-4l-7 13-5-18 7 1zm49 0l-7-22-5 25 7 20zm-14 0l-7 6-6 12 7-18zm-7 6l-8-4-5 2 7 14zm-22-21l-7 20-6 8 7-13zm-7 20l-8 12-5-18 7 14zm41-1l-7 4-5-2 7-6zm-7 4l-7-2-6-4 8 4zm-29-3l-7 4-6 8 8-12z"/>
<path fill="#0087ff" d="M993 1412l-7 16-5 16 7-41zm-7 16l-7-20-6 19 8 17zm20 14l-7-8-6-22 7-5zm-7-8l-8-29-5 23 7-16z"/>
<path fill="#0040ff" d="M950 1398l-8 7-5-4 7 0zm-15 20l-7-14-6-20 8 16zm49-35l-7 22-6 0 8 3zm-22 24l-7-8-5-1 7 11zm-7-8l-7-9-6 15 8-7zm-22 23l-7-26-5-2 7 10zm-7-26l-7 5-6 3 8-10zm71 13l-8-6-5-20 7 22zm-8-6l-7 6-5-4 7-22zm-21 8l-8-26-5 14 7 8zm-15-16l-7 15-5 0 7-20zm-14 19l-8-19-5 1 7 26zm-143-57l-2 122-5-3 2-132z"/>
<path fill="#0028ff" d="M928 1404l-7-10-6-13 7 3zm-7-10l-8 10-5-15 7-8zm-8 10l-7-20-5 14 7-9zm6-3l-8-5-5-12 7 20zm-22-3l-7-4-6 2 8-8zm63-13l-7 10-5-5 7 9zm-29 10l-7-11-5 17 7-5zm-7-11l-7 14-6-2 8 5zm-7 14l-7 6-6-19 7 11zm-7 6l-8-1-5-5 7-13zm-8-1l-7-10-5 1 7 4zm-21-15l-8 20-5 1 7-13z"/>
<path fill="#0800ff" d="M906 1384l-7-21-6 1 8 34zm-7-21l-7 25-6-17 7-7zm-31 46l-7-38-6-20 8 26zm-77-65l-2 132-6-38 3-134z"/>
<path fill="#0010ff" d="M892 1388l-8 8-5-6 7-19zm-8 8l-7-19-5-15 7 28zm27 0l-7-11-5-22 7 21zm-7-11l-7 13-5-10 7-25zm-14 9l-8-9-5-8 7 19zm-8-9l-7 11-5-14 7-5zm-7 11l-7 13-5-32 7 5zm20-3l-7 2-6-10 8 9zm-7 2l-7-7-6 8 7-11zm-15 13l-7-30-5-7 7 38z"/>
<path fill="#2000ff" d="M877 1377l-7 5-6-35 8 15zm-7 5l-7-5-6-32 7 2z"/>
<path fill="#5000ff" d="M863 1377l-8-26-5-40 7 34zm-2-6l-8-34-5-14 7 28zm-2 0l-7-5-6-45 7 16z"/>
<path fill="#9700ff" d="M855 1351l-7-28-5-21 7 9zm-2-14l-7-16-5-19 7 21zm-7-16l-7 26-5-31 7-14z"/>
<path fill="#af00ff" d="M848 1323l-7-21-6 9 8-9zm-9 24l-7-34-6-34 8 37zm-40-51l-3 61-5-13 2-70z"/>
<path fill="#c700ff" d="M841 1302l-7 14-6-30 7 25zm-4 14l-7-16-6-28 8 41z"/>
<path fill="#f700ff" d="M834 1316l-8-37-5-39 7 46zm-41-42l-2 70-5-40 2-63z"/>
<path fill="#ff00a7" d="M826 1279l-7-42-5-33 7 36zm-2-7l-7-32-5-21 7 18zm-1 2l-8-17-5-34 7 17zm-20-18l-2 13-5-32 2-21z"/>
<path fill="#ff0060" d="M819 1237l-7-18-6-27 8 12zm-21-21l-2 21-6-23 3-13z"/>
<path fill="#ff0048" d="M812 1219l-7-15-6-10 7-2zm-19-18l-3 13-5 3 2-12zm17 22l-7-17-6-14 8 12zm-10-16l-2 9-5-15 2-7z"/>
<path fill="#ff0030" d="M805 1204l-8-12-5 2 7 0zm-8-12l-2 2-5 4 2-4zm-2 2l-2 7-6 4 3-7zm8 12l-3 1-5-13 2-2z"/>
<path fill="#ff0078" d="M790 1214l-2 27-5-1 2-23zm27 26l-7-17-5-19 7 15zm-9 16l-2-2-6-47 3-1z"/>
<path fill="#ff00ef" d="M788 1241l-2 63-6-3 3-61zm44 72l-8-41-5-35 7 42zm-2-13l-7-26-6-34 7 32z"/>
<path fill="#3800ff" d="M786 1304l-3 134-5-4 2-133zm80 74l-7-7-6-34 8 34z"/>
<path fill="#00ffcf" d="M783 1438l-2 164-5-4 2-164z"/>
<path fill="#68ff00" d="M781 1602l-2 103-6-9 3-98zm-145 59l-8-4-5-2 7 23zm12-5l-7 0-5 5 7 16z"/>
<path fill="#ffd700" d="M779 1705l-3 62-5-7 2-64zm-98 40l-7-27-6 23 8 25zm33-9l-8-7-5 20 7 6zm-8-7l-7-1-5 14 7 7z"/>
<path fill="#ff6000" d="M776 1767l-2 27-5-9 2-25zm-73 16l-7-10-6 23 8 13zm79-20l-3 22-5 9 2-27z"/>
<path fill="#ff3000" d="M774 1794l-2 18-6-7 3-20zm-64 12l-7-23-5 26 7 14zm69-21l-2 16-5 11 2-18zm-49 32l-7-24-6 11 8 22zm52-26l-2 14-5 8 2-12z"/>
<path fill="#ff1800" d="M772 1812l-3 9-5-3 2-13zm-55-8l-7 2-5 17 7-1zm60-3l-2 12-6 8 3-9zm-27 10l-7-7-6 22 8 6zm-7-7l-8-1-5 14 7 9z"/>
<path fill="#ff0000" d="M769 1821l-8 9-5 0 8-12zm-8 9l-7 2-6-1 8-1zm-7 2l-8 1-5-1 7-1zm-8 1l-7 0-5-1 7 0zm-7 0l-7 0-5-1 7 0zm-7 0l-7-7-6 3 8 3zm-7-7l-8-22-5 18 7 7zm50-13l-9 17-5 0 8-9zm-9 17l-7 2-5 0 7-2zm-7 2l-7-1-6 2 8-1zm-7-1l-7 1-6 1 7 0zm-7 1l-8-6-5 7 7 0zm-8-6l-7-9-5 9 7 7zm43-21l-8 15-6 10 9-17zm-8 15l-7 0-6 12 7-2zm-7 0l-8-8-5 19 7 1zm-8-8l-7-1-5 21 7-1z"/>
<path fill="#ff7800" d="M696 1773l-8-9-5 18 7 14zm20 2l-8-20-5 28 7 23zm71-26l-2 23-6 13 3-22zm-59 29l-7-24-5 21 7 18z"/>
<path fill="#ff8f00" d="M688 1764l-7-19-5 21 7 16zm20-9l-7-6-5 24 7 10z"/>
<path fill="#ffef00" d="M674 1718l-7-2-6 16 7 9zm13 14l-8-17-5 3 7 27zm12-4l-7-6-5 10 7 10z"/>
<path fill="#f7ff00" d="M667 1716l-8-7-5 5 7 18zm25 6l-7-3-6-4 8 17z"/>
<path fill="#c7ff00" d="M659 1709l-7-14-5 10 7 9zm6-5l-7-20-6 11 7 14zm12 5l-7-18-5 13 7 6z"/>
<path fill="#afff00" d="M652 1695l-7-4-6-1 8 15zm-7-4l-7-3-6 0 7 2zm13-7l-8 3-5 4 7 4zm12 7l-7-10-5 3 7 20z"/>
<path fill="#97ff00" d="M638 1688l-8-10-5 10 7 0zm148-58l-2 91-5-16 2-103zm-136 57l-7-10-5 11 7 3zm142-64l-3 87-5 11 2-91zm-129 58l-7-3-6 9 8-3z"/>
<path fill="#80ff00" d="M630 1678l-7-23-5 10 7 23zm13-1l-7-16-6 17 8 10zm13 1l-8-22-5 21 7 10z"/>
<path fill="#50ff00" d="M623 1655l-7-1-6 0 8 11zm-7-1l-7-2-6 3 7-1zm-7-2l-8 0-5 0 7 3zm19 5l-7 3-5-6 7 1zm-7 3l-7-16-5 8 7 2zm20-4l-7 5-6-4 8 4zm-7 5l-7-4-6 3 7-3z"/>
<path fill="#38ff00" d="M601 1652l-7-8-5 2 7 6zm-7-8l-7 6-6-1 8-3zm20 0l-7-5-6 13 8 0zm-15-4l-7 8-5 2 7-6zm-7 8l-7-1-5-9 7 12zm35 9l-8-6-5-7 7 16z"/>
<path fill="#20ff00" d="M587 1650l-7-12-6-8 7 19zm20-11l-8 1-5 4 7 8zm-22 8l-7-7-6-9 8 7zm34 4l-7-11-5-1 7 5zm-7-11l-7-3-6 3 8-1zm-7-3l-7 8-6 3 7-8zm-7 8l-8-6-5 8 7 1zm-8-6l-7 3-5-2 7 7zm-7 3l-7 5-6-10 8 3z"/>
<path fill="#08ff00" d="M580 1638l-8-7-5-2 7 1zm-8-7l-7 4-5-7 7 1zm-7 4l-7-1-6 3 8-9zm-7-1l-7-6-6 10 7-1zm-7-6l-8 8-5-2 7 4zm-8 8l-7 0-5-10 7 8zm35 4l-8-3-5-2 7-4zm-8-3l-7-7-5 4 7 1zm-7-7l-7 0-5-2 7 6zm-7 0l-7 10-6-4 8-8zm-7 10l-8-1-5-3 7 0zm-8-1l-7-3-5-6 7 6zm-7-3l-7-2-5 5 7-9zm42 11l-7-12-6-5 7 7zm-7-12l-8-6-5 1 7 0zm-8-6l-7 5-5 6 7-10zm-7 5l-7-5-6 10 8 1zm-7-5l-7 7-6 0 7 3zm-7 7l-8-5-5 3 7 2z"/>
<path fill="#00ff10" d="M536 1636l-7-6-6-4 8 0zm-7-6l-7 9-6-15 7 2zm-7 9l-8-11-5 2 7-6zm-8-11l-7-17-5 15 7 4zm13 6l-7-12-6 6 8 11zm5-3l-7-4-5-5 7 12z"/>
<path fill="#00ff40" d="M507 1611l-7-1-6-9 8 25zm-7-1l-8 0-5-14 7 5zm12 1l-7 0-5-1 7 1zm-7 0l-7-1-6 0 8 0zm13 8l-7-12-6 4 7 0zm-7-12l-8-2-5 5 7 1z"/>
<path fill="#00ff58" d="M492 1610l-7-14-5-8 7 8zm6 0l-7-9-6-5 7 14zm5-5l-7-2-5-2 7 9z"/>
<path fill="#00ff87" d="M485 1596l-7-30-5-5 7 27zm6 5l-8-30-5-5 7 30zm303-122l-2 144-6 7 3-154zm-298 124l-7-33-6 1 8 30z"/>
<path fill="#00ffff" d="M1035 1475l-7-45-6 33 7 32z"/>
<path fill="#ff008f" d="M796 1237l-3 37-5-33 2-27zm19 20l-7-1-5-50 7 17zm-9-3l-3 2-5-40 2-9z"/>
<path fill="#00ff9f" d="M789 1476l-3 154-5-28 2-164z"/>
<path fill="#ffbf00" d="M784 1721l-2 42-6 4 3-62zm-90 21l-7-10-6 13 7 19zm95-32l-2 39-5 14 2-42z"/>
<path fill="#ff4800" d="M723 1793l-7-18-6 31 7-2zm62-21l-3 19-5 10 2-16zm-50 31l-7-25-5 15 7 24z"/>
<path fill="#ffa700" d="M701 1749l-7-7-6 22 8 9zm20 5l-7-18-6 19 8 20z"/>
<path fill="#dfff00" d="M679 1715l-7-5-5 6 7 2zm-7-5l-7-6-6 5 8 7zm13 9l-8-10-5 1 7 5z"/>
<path fill="#00ff28" d="M520 1622l-8-11-5 0 7 17zm5 5l-7-8-6-8 8 11z"/>
<path fill="#00b7ff" d="M1018 1452l-7-13-5 3 7 21z"/>
<path fill="#6800ff" d="M852 1366l-8-12-5-7 7-26z"/>
<path fill="#8000ff" d="M844 1354l-7-38-5-3 7 34z"/>
<path fill="#ff00d7" d="M801 1269l-2 27-6-22 3-37z"/>
<path fill="#00e7ff" d="M1046 1491l-8-34-5-28 7 35z"/>
<path fill="#00b7ff" d="M1038 1457l-7-22-5 2 7-8zm6 8l-7-24-6-6 7 22z"/>
<path fill="#009fff" d="M1031 1435l-7-25-6 42 8-15zm-38 20l-7-11-6-16 8 0zm49-6l-7-15-6-13 8 20zm-7-15l-8 17-5-19 7-11zm-8 17l-7-18-5-7 7 6zm-29-15l-7-14-5 22 7 11z"/>
<path fill="#0087ff" d="M1024 1410l-7 7-6 22 7 13zm13 31l-8-20-5-11 7 25zm-15-9l-7-6-6-12 8 3zm-16-17l-8 21-5 19 7-57z"/>
<path fill="#0070ff" d="M1017 1417l-8-3-5-1 7 26zm-8-3l-7 4-5-9 7 4zm-21 14l-8 0-5-15 7-4zm-8 0l-7-14-5-3 7 2zm49-7l-7 11-5-15 7-7zm-14 5l-8-17-5 9 7-4zm-15-28l-7 57-5-27 7-21zm-14 46l-8-44-5 14 7 14zm34-11l-7-27-6 3 8 17zm-65-29l-7 30-6-1 7-13z"/>
<path fill="#0058ff" d="M1002 1418l-7-11-6-4 8 6zm-7-11l-7 21-6-19 7-6zm-44-4l-7 8-5 3 7-4zm56 6l-7-11-5 9 7 11zm-58 11l-7 13-5-27 7 5zm64-14l-7 9-6-17 7 11zm-22 16l-7-19-6-3 8 44zm-43 12l-8-23-5-16 7 38z"/>
<path fill="#0040ff" d="M973 1414l-7-18-6-11 8 26zm-14-16l-8 5-5 7 7-15zm-15 13l-7-5-6-11 8 19zm-142-40l-2 109-6-1 2-122zm176 29l-7 5-5-9 7 18zm-21-14l-8 34-5-9 7-8zm-15 47l-7-38-5-10 7 21zm-135-58l-2 98-5 7 2-109zm177 28l-7 7-6-5 7-5zm-58 6l-7 14-6-13 7-19zm-7 14l-8-15-5-16 7 18zm-106-41l-3 89-5 2 2-98z"/>
<path fill="#0028ff" d="M966 1396l-7 2-6-3 7-10zm-29 10l-7-21-6-1 7 11zm-15-14l-7 0-5 12 7-6zm-7 0l-7 18-6-7 8 1zm-7 18l-7-25-6 8 7 10zm-22-14l-7-2-6 14 8-20zm85 9l-7-18-5 11 7-2zm-7-18l-7-1-6 17 8-5zm-29 8l-7 2-6-5 8-7zm-7 2l-8-6-5 1 7 0zm-8-6l-7 19-5 0 7-18zm-7 19l-7-18-5-7 7 25zm-14-12l-8 2-5-4 7-5zm-22-4l-7 27-6-2 7-30zm-7 27l-8-25-5-17 7 40zm107-11l-8-23-5 0 7 18zm-15-19l-7 13-6 16 8-34zm-22 20l-7-11-5-3 7-2zm-7-11l-7 9-6-18 8 6zm-22 8l-7 4-5-14 7-6zm-7 4l-7-9-6-3 8-2zm-22-19l-7 12-5 16 7-27zm-7 12l-7 3-6-12 8 25z"/>
<path fill="#0010ff" d="M930 1385l-8 7-5 6 7-14zm-29 0l-8 6-5 4 7-2zm-8 6l-7 5-5-8 7 7zm-14 3l-8-5-5-11 7 30zm-8-5l-7 30-5-48 7 7zm35 3l-7 6-6-7 8-6zm-15 8l-7-12-5 6 7 2zm-7-12l-7 6-6-5 8 5zm85-1l-7 4-5-5 7 1zm-72 16l-7-19-6 4 7 12zm-7-19l-8 9-5 1 7-6z"/>
<path fill="#0800ff" d="M864 1419l-7-40-5-13 7 5zm4-11l-7-27-6-16 7 31z"/>
<path fill="#3800ff" d="M857 1379l-7-34-6 9 8 12zm4 2l-8-18-5 3 7-1z"/>
<path fill="#6800ff" d="M850 1345l-8-1-5-28 7 38zm-40-14l-3 44-5-4 2-53z"/>
<path fill="#af00ff" d="M842 1344l-7-25-5-19 7 16zm-1-12l-8-21-5-12 7 20zm-29-13l-2 12-6-13 2-21zm19 14l-7 0-5-10 7-14zm-11-1l-3 1-5-14 2 0z"/>
<path fill="#df00ff" d="M835 1319l-7-20-5-25 7 26zm-29-22l-2 21-5-22 2-27zm27 14l-7-2-5-23 7 13zm-7-2l-7 14-6-35 8-2zm-9 13l-3-3-5-30 2-2z"/>
<path fill="#ff00ef" d="M828 1299l-7-13-6-29 8 17zm-19-10l-3 8-5-28 2-13z"/>
<path fill="#ff00d7" d="M821 1286l-8 2-5-32 7 1zm-8 2l-2-1-5-33 2 2zm-2-1l-2 2-6-33 3-2z"/>
<path fill="#8000ff" d="M804 1318l-2 53-6-14 3-61zm44 48l-7-34-6-13 7 25zm-2-7l-7-6-6-42 8 21z"/>
<path fill="#00ff87" d="M800 1480l-3 129-5 14 2-144zm-299 110l-7-24-5 4 7 33zm18 5l-7-13-5-3 7 24z"/>
<path fill="#80ff00" d="M797 1609l-2 79-6 22 3-87zm-129 73l-7-7-5 3 7 3zm6 1l-8-5-5-3 7 7zm20-8l-8-6-5 9 7 2zm-8-6l-7 10-5 4 7-5zm-7 10l-7 6-6-7 8 5zm-7 6l-7-22-6 5 7 10z"/>
<path fill="#ffef00" d="M795 1688l-2 37-6 24 2-39zm-76 42l-7-15-6 14 8 7zm79-34l-2 14-6 36 3-21zm-66 30l-8-14-5 18 7 14zm64-22l-8 9-5 28 8-15zm-30 22l-7-11-5 21 7 14zm-7-11l-7 4-6 19 8-2zm-7 4l-8-9-5 31 7-3z"/>
<path fill="#ffa700" d="M793 1725l-3 21-5 26 2-23zm-59 32l-8-13-5 10 7 24zm57-31l-8 15-6 35 9-2zm-30 24l-7-14-6 35 7 5zm-7-14l-8 2-5 35 7-2z"/>
<path fill="#ff7800" d="M790 1746l-2 16-6 29 3-19zm-49 27l-7-16-6 21 7 25zm34-15l-7 5-5 26 7-6z"/>
<path fill="#ff6000" d="M788 1762l-2 12-6 31 2-14zm-33 14l-7-5-5 33 7 7zm-7-5l-7 2-6 30 8 1z"/>
<path fill="#ff4800" d="M786 1774l-9 2-5 44 8-15zm-23 15l-8-13-5 35 7 1z"/>
<path fill="#ff3000" d="M777 1776l-7 7-5 37 7 0zm-7 7l-7 6-6 23 8 8z"/>
<path fill="#ffd700" d="M726 1744l-7-14-5 6 7 18zm70-34l-3 9-5 43 2-16zm-57 31l-7-15-6 18 8 13zm49-28l-7 12-6 33 8-17z"/>
<path fill="#f7ff00" d="M712 1715l-7 2-6 11 7 1zm-7 2l-8-3-5 8 7 6zm19-5l-7 2-5 1 7 15zm75-13l-3 5-5 22 2-7zm-55 11l-7-10-5 26 7 15z"/>
<path fill="#dfff00" d="M697 1714l-7-8-5 13 7 3zm-7-8l-7-8-6 11 8 10zm27 8l-7-3-5 6 7-2zm-7-3l-7-8-6 11 8 3zm91-19l-2 7-6 20 3-9zm-64 8l-7 0-6 12 8 14zm-7 0l-7 11-6 3 7-2zm-7 11l-8-5-5 5 7 3z"/>
<path fill="#afff00" d="M683 1698l-7-12-6 5 7 18zm12-8l-7-10-5 18 7 8zm13 6l-7-16-6 10 8 13z"/>
<path fill="#97ff00" d="M676 1686l-8-4-5-1 7 10zm12-6l-7-2-5 8 7 12zm-7-2l-7 5-6-1 8 4zm125-31l-3 33-5 16 2-34zm-105 33l-7-5-6 5 7 10z"/>
<path fill="#68ff00" d="M661 1675l-7-19-6 0 8 22zm5 3l-7-10-5-12 7 19z"/>
<path fill="#50ff00" d="M654 1656l-7-4-6 4 7 0zm-7-4l-8 9-5 0 7-5zm-8 9l-7 4-5-8 7 4zm-7 4l-7-3-6-11 8 6zm171-74l-3 71-5 26 2-79zm-144 77l-7-12-5-4 7 4zm-7-12l-7 5-6 0 8-9zm-7 5l-8 9-5-5 7-4zm-8 9l-7-12-5 4 7 3zm28-7l-8-7-5 0 7 12zm-8-7l-7 2-5 3 7-5zm-7 2l-7-6-6 18 8-9zm-7-6l-7-5-6 11 7 12z"/>
<path fill="#38ff00" d="M625 1662l-7-15-6-7 7 11zm5-4l-7-12-5 1 7 15zm6-11l-8 5-5-6 7 12z"/>
<path fill="#20ff00" d="M618 1647l-8-15-5 5 7 3zm-15-14l-7 5-6 1 8 6zm-7 5l-8 12-5-8 7-3zm-8 12l-7-2-5-1 7-5zm-7-2l-7-12-5-1 7 12zm42-2l-7-13-6-1 8 15zm-22-5l-7 8-6 1 8-12zm-7 8l-7-15-6 14 7 2zm214-69l-2 67-6 15 3-71zm-180 72l-7-17-5-2 7 13zm-14-6l-7 0-6-5 7-6zm-7 0l-8-5-5 8 7-8z"/>
<path fill="#08ff00" d="M610 1632l-7 1-5 12 7-8zm6 1l-8 2-5-2 7-1zm-8 2l-7 6-5-3 7-5zm-21-1l-8-1-5 3 7 12zm-22 9l-7-8-6-2 7-1zm56-8l-7 11-6-11 8-2zm-22 6l-7-6-5-1 7 15zm-7-6l-7 3-6-5 8 1zm-7 3l-7 3-6-6 7-2zm-7 3l-8 0-5 2 7-8zm-8 0l-7-6-5 0 7 8zm-7-6l-7 8-6-8 8 0zm-7 8l-8 1-5-10 7 1z"/>
<path fill="#00ff10" d="M574 1636l-7-15-6 8 8 6zm-7-15l-8 11-5 2 7-5zm-8 11l-7 1-5-4 7 5zm-7 1l-7-2-5 5 7-7zm-7-2l-7-2-6 2 8 5zm-7-2l-8 1-5-3 7 4zm41 4l-7 2-5-14 7 15zm-7 2l-7 8-6-11 8-11zm-14 0l-8 0-5-4 7 2zm-8 0l-7-1-5-5 7 2zm-7-1l-7-6-6 2 8-1zm5 10l-7-20-5 4 7 6zm-7-20l-7 10-5-5 7-1z"/>
<path fill="#00ff28" d="M530 1630l-7-12-5 1 7 8zm6-2l-7 1-6-11 7 12zm-7 1l-8-8-5-4 7 1zm5 5l-7-13-6 0 8 8z"/>
<path fill="#00ff40" d="M523 1618l-7-1-5-10 7 12zm-7-1l-7-4-6-8 8 2zm5 4l-7-18-5 10 7 4zm6 0l-8-26-5 8 7 18z"/>
<path fill="#00ff58" d="M509 1613l-8-23-5 13 7 2z"/>
<path fill="#00ffff" d="M1051 1502l-7-37-6-8 8 34zm5-14l-7-24-5 1 7 37z"/>
<path fill="#2000ff" d="M862 1396l-7-31-5-20 7 34z"/>
<path fill="#5000ff" d="M855 1365l-7 1-6-22 8 1zm-2-2l-7-4-5-27 7 34zm-38-19l-2 38-6-7 3-44z"/>
<path fill="#c700ff" d="M819 1323l-2-1-6-35 2 1zm-5-4l-2 0-6-22 3-8z"/>
<path fill="#00ff9f" d="M805 1473l-2 118-6 18 3-129zm-298 106l-7-11-6-2 7 24zm5 3l-7-7-5-7 7 11z"/>
<path fill="#c7ff00" d="M800 1662l-2 34-5 29 2-37zm-97 41l-8-13-5 16 7 8zm100-23l-2 12-5 18 2-14zm-88 26l-7-10-5 7 7 8z"/>
<path fill="#ffbf00" d="M793 1719l-2 7-5 48 2-12zm-47 19l-7 3-5 16 7 16zm35-13l-8 9-5 29 7-5zm-8 9l-7-8-5 24 7 13z"/>
<path fill="#ff8f00" d="M783 1741l-8 17-5 25 7-7zm-15 22l-7-13-6 26 8 13z"/>
<path fill="#00ff70" d="M514 1603l-7-24-6 11 8 23z"/>
<path fill="#00cfff" d="M1049 1464l-7-15-5-8 7 24z"/>
<path fill="#9700ff" d="M839 1353l-8-20-5-24 7 2zm-15-20l-2 0-5-11 2 1zm-2 0l-2-1-6-13 3 3zm-5 0l-2 11-5-13 2-12z"/>
<path fill="#00ffb7" d="M810 1471l-2 109-5 11 2-118z"/>
<path fill="#00ffff" d="M1062 1493l-7-45-6 16 7 24z"/>
<path fill="#00b7ff" d="M1055 1448l-8-12-5 13 7 15zm10 16l-7-19-5-16 7 19z"/>
<path fill="#009fff" d="M1047 1436l-7-7-5 5 7 15zm-7-7l-7 14-6 8 8-17zm-7 14l-7 3-6-13 7 18zm27 5l-7-19-6 7 8 12zm-7-19l-8 13-5-13 7 7zm-8 13l-7-9-5 10 7-14zm-7-9l-7-4-5 17 7-3zm20 12l-7 6-6-9 8-13zm-7 6l-7-22-6 4 7 9z"/>
<path fill="#0070ff" d="M1026 1446l-8-33-5-7 7 27zm-208-31l-2 84-6-28 3-89zm213 14l-7-15-6-1 8 33zm-36-15l-8 14-5 2 7-11zm-8 14l-7 2-5-24 7 24zm49-8l-7 4-5-10 7 15zm-43 0l-7-1-6 11 7-2zm-7-1l-8 10-5-12 7 13z"/>
<path fill="#0058ff" d="M1018 1413l-7-15-5 17 7-9zm-7-15l-7-3-6 41 8-21zm-7-3l-7 18-6 9 7 14zm-7 18l-8 6-5-16 7 19zm-8 6l-7 11-5-20 7-7zm-36-7l-7-8-6 7 8 23zm-29 11l-7-1-6-14 8 15zm78 3l-7-12-6 5 8-6zm-22 4l-7-13-6-17 8 6zm49-6l-7 5-6-38 8 23zm-14-5l-8-12-5 19 7-31zm-8-12l-7 4-5 3 7 12zm-7 4l-7 9-6 8 8-14zm-22 18l-7-15-5-1 7 4zm-80 5l-7 3-5-8 7-17z"/>
<path fill="#0040ff" d="M982 1430l-7-24-6-19 8 23zm-22-31l-7 13-5 22 7-30zm-29 6l-7 18-5 0 7-14zm-14 17l-8-12-5 2 7-4zm-8-12l-7 5-5-12 7 9zm115 4l-8-23-5 7 7 15zm-15-19l-7 31-5-13 7-18zm-36 22l-7-4-6-14 7 1zm-7-4l-8-17-5 16 7-13zm-37-12l-7 19-5 2 7 1zm-7 19l-7-8-6-2 8 12zm-7-8l-7-9-6 12 7-5zm107 17l-7-10-6-24 7-4zm-87-27l-8 12-5 6 7-19zm-8 12l-7-5-5 3 7 8zm-21-13l-8 33-5-22 7-6zm-15 36l-7-31-5-2 7 25z"/>
<path fill="#0028ff" d="M975 1406l-8-6-5-9 7-4zm-8-6l-7-1-5 5 7-13zm-21 4l-8-5-5 1 7 11zm-8-5l-7 6-5 4 7-9zm-36 16l-7-17-5-14 7 19zm-22-3l-7-9-5 5 7-3zm136-21l-7 4-5 0 7 3zm-58 5l-7-15-5 23 7 8zm-7-15l-7 16-6 2 8 5zm-7 16l-7-2-6 10 7-6zm-7-2l-8 6-5 22 7-18zm-29 8l-8 3-5-8 7 17zm-8 3l-7 6-5-23 7 9zm-7 6l-7 17-6-17 8-23zm-7 17l-7-25-6-1 7 9zm85-15l-7-28-6 10 8 17zm-14-12l-8 10-5-15 7-16zm-8 10l-7-23-5 6 7 2zm-29-3l-7-24-5 18 7 9z"/>
<path fill="#0010ff" d="M895 1398l-7-9-6 4 8-9zm-7-9l-8 23-5-7 7-12zm76-3l-7 16-6-21 7 15zm-22 3l-7 13-6-1 8-6zm-29-4l-7 16-6 5 8-3zm-29 21l-7-5-6-17 8 20z"/>
<path fill="#0800ff" d="M873 1403l-7-32-5 10 7 27zm6 1l-8-20-5-13 7 32zm-53-27l-3 42-5-4 2-44zm5 0l-2 42-6 0 3-42z"/>
<path fill="#2000ff" d="M866 1371l-7 11-6-19 8 18zm-46 0l-2 44-5-33 2-38zm51 13l-7-3-5 1 7-11zm-7-3l-7-8-6 16 8-7zm13 20l-8-35-5 15 7 3z"/>
<path fill="#3800ff" d="M859 1382l-8 7-5-30 7 4zm-8 7l-7-19-5-17 7 6zm6-16l-7-6-6 3 7 19zm12-7l-7-18-5 25 7 8zm-7-18l-7 33-5-14 7 6zm-7 33l-7-7-6-7 8 0z"/>
<path fill="#6800ff" d="M844 1370l-7-18-6-19 8 20zm-21-22l-3 23-5-27 2-11zm19 19l-7-16-5-21 7 22zm-2-12l-2-5-5-4 2 5zm-4-6l-3 8-5-1 2-9z"/>
<path fill="#8000ff" d="M837 1352l-7-22-6 3 7 0zm-2-1l-2-5-6-17 3 1zm-2-5l-3 1-5-12 2-6zm-3 1l-2 9-5-8 2-13zm8 3l-2-1-6-2 3-1z"/>
<path fill="#9700ff" d="M830 1330l-3-1-5 4 2 0zm-3-1l-2 6-5-3 2 1zm-2 6l-2 13-6-15 3-1z"/>
<path fill="#00ffb7" d="M816 1499l-3 97-5-16 2-109z"/>
<path fill="#08ff00" d="M813 1596l-2 55-5-4 2-67zm-208 50l-8-7-5-4 7 6zm-8-7l-7-2-5 1 7-3zm-7-2l-7 3-5 1 7-3zm-7 3l-7-2-6 3 8 0zm-7-2l-8 5-5-8 7 6zm-8 5l-7-6-5 6 7-8zm-7-6l-7-8-6 15 8-1zm258-48l-3 51-5 11 2-55zm-209 51l-7-2-6 1 8 7zm-7-2l-7-5-6 4 7 2zm-7-5l-8 14-5-7 7-3zm-8 14l-7 0-5-9 7 2zm-7 0l-7-8-6 4 8-5zm243-61l-2 49-6 5 3-51zm-194 48l-7 1-6 4 8 7zm-7 1l-8-3-5 8 7-1zm-8-3l-7 9-5-3 7 2zm-7 9l-7-2-5-6 7 5zm-7-2l-7 0-6 8 8-14zm-7 0l-8 5-5 3 7 0zm-8 5l-7-2-5-3 7 8z"/>
<path fill="#80ff00" d="M811 1651l-2 19-6 10 3-33zm-105 27l-7-6-5 3 7 5zm-7-6l-7 3-6-6 8 6zm-7 3l-8 2-5 2 7-10zm-8 2l-7-2-5 10 7-6zm130-17l-2 8-6 11 3-9zm-95 16l-7-2-6 4 8 13zm-7-2l-8-4-5 2 7 6zm-8-4l-7 7-5-2 7-3zm-7 7l-7-5-6 5 8-2zm120-16l-2 6-6 7 3-6zm-2 6l-2 4-6 6 2-3zm-83 15l-8-17-5 11 7 8z"/>
<path fill="#afff00" d="M809 1670l-3 9-5 13 2-12zm-3 9l-2 6-5 14 2-7zm-85 11l-7 1-6 5 7 10zm86-13l-8 5-6 10 9-4zm-8 5l-8 9-5 8 7-7zm-37 11l-7-6-5 3 7 17zm-7-6l-7 10-5-4 7-3zm-7 10l-7-4-6 8 8-8zm-7-4l-8-7-5 10 7 5zm41-4l-7 0-5 3 7-2zm-7 0l-7-7-6 11 8-1zm-22-8l-7 8-5 4 7 4z"/>
<path fill="#c7ff00" d="M804 1685l-2 3-6 16 3-5zm-2 3l-9 4-5 21 8-9zm-52 2l-7 3-6 7 7 10zm-7 3l-8 8-5-1 7 0zm-8 8l-7-5-5 15 7-11zm-7-5l-7-6-6 16 8 5zm63-5l-7-6-5 26 7-12zm-7-6l-7 5-5 17 7 4zm-7 5l-7 2-6 6 8 9zm-7 2l-8 1-5 14 7-9z"/>
<path fill="#dfff00" d="M793 1692l-7 7-5 26 7-12zm-21 15l-8-9-5 17 7 11zm-8-9l-7 9-5 12 7-4zm-7 9l-7-17-6 20 8 9z"/>
<path fill="#f7ff00" d="M786 1699l-7 12-6 23 8-9zm-7 12l-7-4-6 19 7 8z"/>
<path fill="#97ff00" d="M714 1691l-8-13-5 2 7 16zm98-23l-3 6-5 11 2-6zm-3 6l-2 3-5 11 2-3zm-76 12l-7-2-5 6 7 6zm-7-2l-7-8-5 15 7-1zm87-13l-9-7-5 18 8-5zm-9-7l-7 8-6 19 8-9zm-7 8l-7 3-6 10 7 6zm-7 3l-8 14-5 1 7-5zm-22 7l-7-7-6 12 7 6zm-7-7l-8 6-5 16 7-10zm-15 14l-7-3-6 0 8 7zm-7-3l-7-4-6 2 7 2z"/>
<path fill="#68ff00" d="M677 1675l-7-23-5 11 7 22zm139-35l-2 20-5 10 2-19zm-126 32l-7-11-6 14 7 2zm130-19l-3 8-5 7 2-8zm-96 12l-7 0-5 9 7 2zm-7 0l-7 6-6-1 8 4zm-7 6l-7 5-6 1 7-7zm-7 5l-8-17-5 13 7 5z"/>
<path fill="#50ff00" d="M670 1652l-7 0-6 4 8 7zm13 9l-8-15-5 6 7 23zm139-26l-2 18-6 7 2-20zm-127 24l-7-1-5 3 7 11z"/>
<path fill="#38ff00" d="M663 1652l-8-4-5 10 7-2zm-8-4l-7-4-5 8 7 6zm20-2l-7 9-5-3 7 0zm-7 9l-7-8-6 1 8 4zm20 3l-7-7-6-5 8 15zm-7-7l-7 4-6 0 7-9zm-7 4l-8 0-5-8 7 8z"/>
<path fill="#20ff00" d="M648 1644l-7-3-5 6 7 5zm-7-3l-7 9-6 2 8-5zm-7 9l-8-9-5-6 7 17zm-8-9l-7 9-5-4 7-11zm-7 9l-7 0-5-4 7 0zm-7 0l-7-4-6-5 8 5zm49-3l-7-1-6-2 7 4zm-7-1l-8-3-5-2 7 3zm-8-3l-7 4-5 3 7-9zm-7 4l-7 3-6-9 8 9zm-7 3l-7-4-6 4 7-9zm-7-4l-8-7-5 11 7 0zm-8-7l-7 1-5 6 7 4zm49 16l-7-7-5-2 7 1zm-7-7l-7 0-6-5 8 3zm-7 0l-8 10-5-11 7-4zm-8 10l-7-10-5 2 7-3zm-7-10l-7-14-5 12 7 4z"/>
<path fill="#00ff10" d="M554 1629l-7-8-6 3 7 20zm20 10l-7-12-6 10 7 6zm-7-12l-8-3-5 5 7 8zm-22 3l-7 6-6-8 7 5zm34 12l-7-4-5-11 7 12zm-7-4l-7 0-6-14 8 3z"/>
<path fill="#00ff28" d="M547 1621l-8 12-5 1 7-10zm-8 12l-7-5-5-7 7 13zm20-9l-7-5-5 2 7 8zm-7-5l-7 11-6 3 8-12zm-14 17l-8-13-5-8 7 13zm27 2l-8-18-5-1 7 5zm-8-18l-7 1-5 9 7-11zm-7 1l-7 14-5 1 7-6zm-7 14l-7-11-6-1 8 13z"/>
<path fill="#00ff40" d="M532 1628l-7-13-6-20 8 26z"/>
<path fill="#00ff70" d="M525 1615l-7-27-6-6 7 13z"/>
<path fill="#00ff9f" d="M518 1588l-8-16-5 3 7 7zm303-90l-2 91-6 7 3-97zm-298 98l-7-25-6 1 8 16zm303-98l-2 88-5 3 2-91zm-298 103l-7-34-5 4 7 25z"/>
<path fill="#00e7ff" d="M1067 1490l-7-42-5 0 7 45zm6 0l-8-26-5-16 7 42z"/>
<path fill="#5000ff" d="M850 1367l-8 0-5-15 7 18zm-22-11l-2 21-6-6 3-23zm20 18l-8-19-5-4 7 16zm-15-17l-2 20-5 0 2-21z"/>
<path fill="#0087ff" d="M823 1419l-2 79-5 1 2-84zm221 10l-8-9-5 9 7 4zm-215-10l-3 79-5 0 2-79z"/>
<path fill="#00ff58" d="M530 1623l-7-27-5-8 7 27zm6 1l-8-23-5-5 7 27z"/>
<path fill="#00e7ff" d="M1078 1498l-7-52-6 18 8 26zm5-17l-7-38-5 3 7 52zm6 15l-7-23-6-30 7 38z"/>
<path fill="#00b7ff" d="M1071 1446l-7 2-6-3 7 19zm-7 2l-8 19-5-16 7-6zm12-5l-7 8-5-3 7-2zm-7 8l-7 11-6 5 8-19zm-7 11l-8-25-5 2 7 28zm-222-28l-3 76-5 10 2-83zm242 39l-8-19-5-3 7-8zm-8-19l-7-27-5 35 7-11z"/>
<path fill="#009fff" d="M1056 1467l-7-28-5-10 7 22zm-222-30l-2 83-6-22 3-79zm11-10l-2 68-6 15 3-76z"/>
<path fill="#0087ff" d="M1049 1439l-7-15-6-4 8 9zm-15-1l-7 2-5-11 7-5zm6-7l-7 11-6-2 7-2zm-7 11l-8-13-5-2 7 13zm34-15l-7-17-6 27 8 25zm-22-5l-7 10-5 10 7-11z"/>
<path fill="#0070ff" d="M1042 1424l-8 14-5-14 7-4zm-15 16l-7-13-5-8 7 10zm27-3l-7-32-5 19 7 15zm-7-32l-7 26-6 7 8-14zm-22 24l-7 4-5-21 7 15zm13 3l-7-6-6 3 8 13zm-7-6l-8 0-5 7 7-4z"/>
<path fill="#0058ff" d="M1020 1427l-7-15-6-5 8 12zm-7-15l-8 7-5-8 7-4zm-8 7l-7-10-5 11 7-9zm-21-9l-8 5-5-1 7 15zm-80 5l-7 3-6 19 7-3zm114 18l-7-15-6 1 8-7zm-36-14l-7 15-6-22 7 3zm-7 15l-8-22-5 12 7-12zm-8-22l-7 16-5 3 7-7zm-21 5l-8 7-5 3 7-10zm114-7l-7-1-6-4 7 32zm-7-1l-8 13-5 9 7-26zm-30 17l-7-9-5 1 7 15zm-7-9l-7 21-5-35 7 15zm-22 4l-7 0-5-2 7-10zm-7 0l-7-5-5 18 7-15z"/>
<path fill="#0040ff" d="M998 1409l-7-19-5 29 7 1zm-7-19l-7 20-6 19 8-10zm-15 25l-7-3-5-26 7 28zm-14 9l-7 7-6-19 8-10zm-22-7l-7 10-6-13 8-12zm-7 10l-7-17-6-1 7 5zm-22-20l-7 8-6 19 8-33zm-14 11l-8-4-5-8 7 31zm114 0l-7-15-6 6 7 10zm-22-9l-7 10-6-4 8-5zm-29 19l-7-10-6-19 8 32zm-7-10l-7-1-6 0 7-18zm-15 6l-7 0-5-14 7 17zm71 14l-7-23-6-20 8 8zm-7-23l-8 6-5-12 7-14zm-22 1l-7-9-6 5 8 22zm-7-9l-8 18-5 3 7-16zm-8 18l-7-19-5 12 7 10zm-7-19l-7-1-5 12 7 1zm-7-1l-7 5-6 14 8-7zm-7 5l-8 4-5 10 7 0zm-8 4l-7 18-5-24 7 16zm-7 18l-7-10-5-11 7-3zm-7-10l-7 6-6-18 8 1z"/>
<path fill="#0028ff" d="M969 1412l-7 12-5-22 7-16zm-14 19l-8-32-5-10 7 23zm-8-32l-7 18-5-15 7-13zm57 4l-8-8-5-5 7 19zm-8-8l-7 14-5 1 7-20zm-65 29l-7-16-6-22 8 24zm-14-13l-8-1-5 5 7-8zm-8-1l-7-3-5 11 7-3zm-7-3l-7 4-6 3 8 4zm-60-12l-2 39-6 3 3-47zm73 33l-8-9-5-12 7 3zm-8-9l-7-15-5 7 7-4zm-14-14l-7 26-6-22 7-14z"/>
<path fill="#0010ff" d="M926 1410l-8-24-5-1 7 24zm-8-24l-7 21-5-6 7-16zm-29 28l-7-20-5 7 7 5zm-52-24l-3 47-5-18 2-42zm87 18l-7 3-6-4 7-21zm-29 3l-8-16-5-1 7 20zm5-7l-7 1-6-10 8 16zm-14 27l-8-28-5-14 7 20zm-39-36l-2 32-5 7 2-39z"/>
<path fill="#2000ff" d="M882 1394l-7-12-6-16 8 35zm-2 15l-7-20-5-22 7 15zm-7-20l-7-1-6-10 8-11zm-29-11l-2 17-5-5 2-23zm27 24l-7-27-6 0 8 13zm-21-21l-3 14-5 0 2-17z"/>
<path fill="#5000ff" d="M875 1382l-7-15-6-19 7 18zm-22-10l-7-7-6-10 8 19zm-2 2l-2 0-6-14 3 5zm-2 0l-2 0-6-15 2 1zm-2 0l-3 4-5-11 2-8zm17 1l-7-16-6 15 7 1zm-7-16l-3 5-5 10 2 0zm-3 5l-2 8-5 2 2 0z"/>
<path fill="#3800ff" d="M868 1367l-8 11-5 3 7-33zm-8 11l-7-6-5 2 7 7zm-21-11l-2 23-6-13 2-20zm27 21l-8-13-5-3 7 6zm-8-13l-7-1-5-9 7 7zm-6-3l-2 9-6-3 3-4z"/>
<path fill="#6800ff" d="M846 1365l-3-5-5-10 2 5zm-3-5l-2-1-5-10 2 1zm-2-1l-2 8-6-10 3-8z"/>
<path fill="#00ff87" d="M832 1520l-2 86-6-20 2-88zm5-10l-2 84-5 12 2-86zm-292 90l-8-5-5-11 7 14z"/>
<path fill="#08ff00" d="M830 1606l-3 41-5-12 2-49zm-187 33l-8-1-5-4 7 14zm-8-1l-7 3-5-6 7-1zm-7 3l-7 2-6-11 8 3zm-7 2l-7 7-6-9 7-9zm-7 7l-8-8-5-3 7 2zm-8-8l-7-11-5 8 7 0zm-7-11l-7 9-6 4 8-5zm-7 9l-7 11-6-9 7 2zm-7 11l-8-1-5-12 7 4zm250-57l-2 42-6 11 3-41zm-180 42l-7 1-5 2 7 9zm-7 1l-7 12-6-11 8 1zm-7 12l-7-9-6 1 7-3zm-7-9l-8 8-5-5 7-2zm-37 3l-7 4-5 4 7-11zm-7 4l-7-4-6 7 8 1zm78-9l-7 6-6-8 8 10zm-7 6l-8-3-5-4 7-1zm-8-3l-7 3-5 5 7-12zm-7 3l-7 1-5-5 7 9zm-7 1l-7 1-6 2 8-8zm-15 0l-7-2-5 3 7 12zm-21-8l-8 10-5 0 7-4zm-8 10l-7-5-5 1 7 4zm-7-5l-7 8-6-11 8 4z"/>
<path fill="#50ff00" d="M827 1647l-2 2-5 4 2-18zm-119 19l-7-16-6 9 8 17zm125-30l-3 7-5 6 2-2zm-3 7l-2 2-5 4 2 0zm-2 2l-2 1-6 3 3 0zm-2 1l-3 3-5 1 2-1zm-3 3l-8 2-5-2 8 1zm-8 2l-7-1-6 7 8-8zm-87 11l-7 0-6 5 7 0zm-7 0l-8-10-5 14 7 1zm112-18l-2 6-5-4 2-1zm-2 6l-2 7-6-8 3-3zm-2 7l-9 2-5-8 8-2zm-9 2l-7-13-5 4 7 1zm-7-13l-7 1-6 5 8-2zm-7 1l-7 5-6 6 7-6zm-29 12l-7 4-6 0 7-2zm-7 4l-8-5-5 8 7-3zm-8-5l-7-5-5 6 7 7zm-7-5l-7 7-6 9 8-10zm-7 7l-7-2-6 7 7 4zm-7-2l-8-4-5 8 7 3zm-8-4l-7 5-5 3 7 0z"/>
<path fill="#68ff00" d="M825 1649l-2 0-6 12 3-8zm-2 0l-3 0-5 18 2-6zm-3 0l-2 1-5 21 2-4zm-2 1l-8-1-6 15 9 7zm-8-1l-8 8-5 15 7-8zm-73 21l-7-5-6 0 8 17zm-7-5l-8 2-5-2 7 0zm-8 2l-7 0-5 4 7-6zm-7 0l-7-1-5 10 7-5zm93-17l-8 2-5 19 7-14zm-8 2l-7 6-5 25 7-12zm-21 18l-8-9-5 5 7 6zm-8-9l-7 2-5 0 7 3zm-7 2l-7 3-6 17 8-20zm-7 3l-7-7-6 17 7 7zm-7-7l-8 10-5 1 7 6zm-8 10l-7-4-5 0 7 5zm-7-4l-7-3-6 5 8-2zm64-13l-8 9-5 13 7-16zm-8 9l-7-1-5 10 7 4zm-7-1l-7-1-6 2 8 9z"/>
<path fill="#80ff00" d="M802 1657l-7 14-5 4 7-3zm-29 15l-7-6-5 9 7 7zm-7-6l-7-3-6 18 8-6zm-7-3l-8 20-5 6 7-8zm-15 13l-7-6-5 12 7 4zm49-18l-7 16-5 3 7 6zm-7 16l-7-4-6 2 8 5z"/>
<path fill="#97ff00" d="M795 1671l-7 12-6 6 8-14zm-7 12l-7-6-6 12 7 0zm-7-6l-8-5-5 10 7 7zm-30 6l-7-7-5 10 7 3z"/>
<path fill="#38ff00" d="M701 1650l-8 4-5 4 7 1zm-8 4l-7 5-5-8 7 7zm-7 5l-7-2-5-2 7-4zm-7-2l-7-4-6 2 8 0zm-7-4l-8-6-5 1 7 7zm41-1l-7-7-5 5 7 16zm-7-7l-7 6-6 3 8-4zm-7 6l-7 5-6 3 7-5zm-7 5l-8 0-5 1 7 2zm-8 0l-7-9-5 6 7 4zm152-20l-3 8-5 1 2-2zm-110 23l-7-5-6-2 8 10zm-7-5l-8-12-5 3 7 7zm-22-7l-7-1-6 10 8 0z"/>
<path fill="#20ff00" d="M664 1647l-7 3-5-2 7 0zm-7 3l-7-2-6 10 8-10zm-7-2l-7-9-6 9 7 10zm27-1l-7-3-6 3 8 6zm-7-3l-7 2-6 4 7-3zm-7 2l-8-10-5 12 7 2zm-37 2l-7 10-5-8 7-7zm-7 10l-7-12-6-4 8 8zm219-40l-2 18-6 7 3-7zm-127 24l-7 2-5 7 7-6zm-7 2l-7 3-5 9 7-5zm-14 2l-8-2-5 3 7 9zm-8-2l-7 0-5 0 7 3zm-7 0l-7-6-5 8 7-2zm-43 2l-8-1-5 13 7-10z"/>
<path fill="#00ff10" d="M577 1650l-7-16-5 4 7 0zm35-4l-8-12-5-3 7 11zm-8-12l-7 9-5-3 7-9zm-21 9l-8-4-5-5 7 16zm-8-4l-7-4-5-10 7 9zm265-66l-2 45-5 18 2-42zm-223 70l-7-8-6-1 8 12zm-7-8l-7 2-6 6 7-9zm-29 15l-7-8-6-7 7 4zm-7-8l-8-11-5 1 7 3z"/>
<path fill="#00ff28" d="M570 1634l-7-9-6-5 8 18zm-7-9l-7 3-6-7 7-1zm-7 3l-8-2-5 9 7-14zm-8-2l-7-3-5 1 7 11zm20 9l-7-3-5-4 7-3zm-7-3l-7-19-6 13 8 2z"/>
<path fill="#00ff58" d="M541 1623l-7-25-6 3 8 23zm5-15l-7-10-5 0 7 25zm13 3l-7-6-6 3 8 5z"/>
<path fill="#00ff9f" d="M534 1598l-7-36-6 5 7 34zm5 0l-7-14-5-22 7 36z"/>
<path fill="#0800ff" d="M887 1395l-7 14-5-27 7 12zm-9 8l-7-1-5-14 7 1z"/>
<path fill="#00ff40" d="M554 1613l-8-5-5 15 7 3zm12 18l-7-20-5 2 7 19z"/>
<path fill="#00ffb7" d="M843 1495l-3 78-5 21 2-84z"/>
<path fill="#00ff70" d="M552 1605l-7-5-6-2 7 10z"/>
<path fill="#00ffe7" d="M1094 1521l-7-32-5-16 7 23zm6-32l-8 3-5-3 7 32z"/>
<path fill="#00cfff" d="M1087 1489l-7-36-6 1 8 19zm-226-9l-2 56-6-36 3-54z"/>
<path fill="#009fff" d="M1080 1453l-8-18-5-8 7 27zm-11 1l-8 5-5-26 7 8zm-8 5l-7-3-5-10 7-13zm-7-3l-7-11-5-5 7 6z"/>
<path fill="#0070ff" d="M1072 1435l-7-21-5-4 7 17zm-21-13l-8-4-5 14 7-10zm-8-4l-7 6-5 2 7 6zm-7 6l-7 12-6-10 8 0zm-14-8l-8 25-5-3 7-21zm-8 25l-7-15-5-11 7 23zm57-15l-8 15-5-12 7-15zm-8 15l-7-8-5-11 7 7zm-7-8l-7 13-6-28 8 4zm-7 13l-7-6-6-16 7-6zm-7-6l-8-5-5 1 7-12zm-22-24l-7 26-6-16 7 15zm-7 26l-8-5-5-12 7 1zm12-7l-7 15-5-8 7-26zm-51 8l-7-9-5 8 7 0zm-29 13l-7-10-5-11 7 1zm-81-7l-3 31-5-34 2-21z"/>
<path fill="#0058ff" d="M1065 1414l-7 15-5-20 7 1zm-7 15l-7-7-6 0 8-13zm-29 7l-7-20-6 1 7 9zm-22-10l-7-1-6-4 8-6zm-7-1l-7-5-6 1 7 0zm-65 4l-8 8-5-15 7 10zm-8 8l-7-7-5-2 7-6zm107-2l-7-31-5 12 7 20zm-7-31l-7 12-6 25 8-25zm-22 33l-7-24-5 7 7 5zm-36 5l-7 0-6-28 8-8zm-29-6l-7-1-6 2 8-8zm-7-1l-8-24-5 19 7 7zm107-5l-8-19-5-7 7 31zm-29 0l-8-2-5-15 7 24zm-29 6l-8 7-5-1 7-36zm-15-2l-7-8-6-7 8 23zm-14-7l-8 29-5-20 7-27z"/>
<path fill="#0040ff" d="M993 1420l-8-7-5 3 7 5zm-8-7l-7-3-5-3 7 9zm-7-3l-7 1-6 14 8-18zm-7 1l-7-5-6 0 7 19zm-29-11l-7 29-6 3 7-18zm-22 30l-7-21-6 10 8 9zm-22-12l-7 12-5 1 7-26zm100-5l-7 4-6-4 8 7zm-7 4l-8-4-5-3 7 3zm-15-11l-7 36-5-36 7 5zm-14 36l-8-23-5-3 7-2zm-15-33l-7 27-5-7 7-29zm-43 15l-8-3-5 9 7-12zm128-13l-7 24-5-19 7-12zm-29 17l-7-6-5-5 7-4zm-7-6l-7 1-6-10 8 4zm-7 1l-7 13-6-30 7 7zm-29 3l-7 1-6-18 7 10zm-22 20l-7-40-6 5 8 24zm-29-25l-7 12-6-12 8 3zm-43 10l-2 18-6-24 2-5z"/>
<path fill="#0028ff" d="M964 1406l-8 8-5-9 7 1zm-8 8l-7 2-5-6 7-5zm-7 2l-7-16-6 14 8-4zm-36-7l-7 8-6-13 7 15zm-7 8l-8 1-5-13 7-1zm-15 13l-7-16-6-11 8 28zm92-17l-7-7-5 5 7-1zm-29 6l-7-10-5-9 7 16zm-29-8l-7-14-5 12 7 21zm-7-14l-7 20-5 0 7-8zm-7 20l-7 7-6-6 8-1zm-15 4l-7-19-5 12 7 16zm-38 4l-2 21-6-21 3-24zm58-9l-7 5-5 3 7-7zm-14 17l-7-30-6-1 7 19zm-29-21l-3 2-5 7 2-2zm-3 2l-2 6-5 1 2 0zm-2 6l-2 11-6-11 3 1z"/>
<path fill="#0800ff" d="M884 1414l-7-29-6 17 7 1zm5-12l-7-22-5 5 7 29zm-22 17l-2 2-5-31 2-5zm28-16l-8-9-5-14 7 22z"/>
<path fill="#2000ff" d="M877 1385l-8-14-5 4 7 27zm-20 8l-2 2-5-14 2-9zm-2 2l-2 6-6-6 3-14zm20-2l-8 26-5-34 7-14zm12 1l-7 13-5-14 7-13z"/>
<path fill="#5000ff" d="M869 1371l-7 14-5-26 7 16z"/>
<path fill="#3800ff" d="M862 1385l-2 5-6-26 3-5zm-2 5l-3 3-5-21 2-8zm22-10l-7 13-6-22 8 14z"/>
<path fill="#0010ff" d="M853 1401l-3 24-5 2 2-32zm12 20l-2 0-6-28 3-3zm-2 0l-3-1-5-25 2-2zm-3-1l-2 5-5-24 2-6zm71-14l-7 4-6-13 7 14zm-7 4l-8 6-5 1 7-20zm-44-3l-7 5-6 7 8-26z"/>
<path fill="#0087ff" d="M850 1425l-2 61-5 9 2-68zm228 27l-7-26-6-12 7 21zm-222-6l-3 54-5-14 2-61zm227-4l-7-23-5 7 7 26zm-7-23l-7 35-6-13 8-15zm-29 26l-7-15-6 5 8 5zm-29 5l-7-20-6 7 8 5z"/>
<path fill="#00ffcf" d="M848 1486l-2 74-6 13 3-78zm5 14l-2 65-5-5 2-74z"/>
<path fill="#00ff40" d="M846 1560l-3 44-5 14 2-45zm11 34l-3 25-5-19 2-35z"/>
<path fill="#08ff00" d="M843 1604l-2 23-5 9 2-18zm-155 36l-7 1-6 3 7 0zm-7 1l-8-3-5 0 7 6zm-8-3l-7 5-5 1 7-6zm-7 5l-7-6-6 4 8 3zm-7-6l-7 10-6-3 7-3zm-7 10l-8 6-5-8 7-1zm-8 6l-7-15-5 8 7-1zm-7-15l-7-7-6 14 8 1zm-43 0l-8 9-5 3 7-8zm-8 9l-7-6-5 1 7 8zm260-27l-2 5-5 8 2-6zm-131 28l-7-11-6 4 8 1zm-7-11l-7 10-6-1 7-5zm-15 11l-7-8-5 1 7-1zm-7-8l-7-1-6-1 8 3zm-7-1l-8-4-5 8 7-5zm-8-4l-7-3-5 5 7 6zm-7-3l-7 16-5-1 7-10zm-14 17l-8-22-5 11 7 15zm-22-5l-7 12-6-13 8-8zm-7 12l-8-12-5-6 7 5zm231-34l-2 0-6 3 2-5zm-2 0l-3 2-5 4 2-3zm-3 2l-2 2-5 5 2-3zm-119 9l-8 5-5 10 7-3zm-8 5l-7-6-5 5 7 11zm-7-6l-7 9-5 6 7-10zm-22 15l-7-11-5 3 7 1zm-21-5l-8-5-5 11 7-16zm-8-5l-7 2-5 10 7-1zm-29 10l-7 12-5-3 7-12zm-7 12l-7-14-6-1 8 12z"/>
<path fill="#20ff00" d="M841 1627l-2 6-6 11 3-8zm-124 20l-7-5-6 2 7-2zm-7-5l-8-1-5 6 7-3zm-8-1l-7 5-5 0 7 1zm-7 5l-7-6-6 4 8 2zm149-21l-2 3-6 10 3-5zm-2 3l-2 3-6 12 2-5zm-83 20l-8-4-5 5 7-5zm-8-4l-7-1-5 11 7-5zm-29 1l-7 3-5-6 7 5zm-21 2l-8 1-5-8 7 6zm-44 1l-7 1-6 4 8-6zm188-22l-8-3-6 16 9-8zm-8-3l-8 0-5 22 7-6zm-8 0l-7 9-5 11 7 2zm-7 9l-7 6-6 1 8 4zm-7 6l-8 1-5 4 7-4zm-22-6l-7 7-6 9 8 1zm-22 15l-7 0-5 1 7-3zm-7 0l-7-10-6 7 8 4zm-7-10l-8 4-5 2 7 1zm-8 4l-7-1-5 7 7-4zm-7-1l-7 2-5 12 7-7zm-7 2l-7-9-6 12 8 9zm-29-1l-7 11-6-4 8-1zm-7 11l-8-5-5-7 7 8z"/>
<path fill="#38ff00" d="M839 1633l-3 5-5 12 2-6zm-71 19l-8-3-5 4 7 5zm-8-3l-7-5-5 16 7-7zm-7-5l-7 5-5 9 7 2zm-7 5l-7 5-6 0 8 4zm-7 5l-8 0-5 5 7-5zm-8 0l-7 5-5-5 7 5zm-7 5l-7-12-6-5 8 12zm116-28l-9 8-5 18 8-14zm-9 8l-7 6-6 10 8 2zm-7 6l-7-2-6 10 7 2zm-7-2l-8-4-5 12 7 2zm-8-4l-7 4-5 0 7 8zm-7 4l-7 13-6-4 8-9zm-22 5l-7 5-5-1 7 6zm-7 5l-7-8-6 4 8 3zm-7-8l-7 3-6-4 7 5zm-22-2l-7 4-6 7 8 0zm-7 4l-7 7-6 5 7-5zm-7 7l-8-9-5 2 7 12zm77-15l-7 1-5 16 7-13zm-7 1l-7-8-5 17 7 7zm-14-1l-8 17-5-3 7-5zm-8 17l-7-9-5-2 7 8z"/>
<path fill="#50ff00" d="M836 1638l-2 5-5 14 2-7zm-2 5l-8 14-6 2 9-2zm-8 14l-8-2-5-9 7 13zm-8-2l-7-2-5-6 7-1zm-7-2l-7-2-5 1 7-5zm-7-2l-7-8-6 18 8-9zm-7-8l-8 9-5 8 7 1zm-8 9l-7 11-5-4 7 1zm-7 11l-7-5-5 5 7-4zm-7-5l-7-6-6 6 8 5zm20-2l-7-7-6 14 7-11zm-7-7l-8-1-5 10 7 5z"/>
<path fill="#00ff10" d="M630 1631l-7 4-6 8 7 2zm-7 4l-8 8-5-8 7 8zm-8 8l-7-5-5-1 7-2zm-7-5l-7 3-6 6 8-10zm-7 3l-7-3-6 4 7 5zm-22 0l-7 4-6-14 8 11zm270-41l-3 20-5 7 2-23zm-207 27l-7 10-5-6 7 7zm-7 10l-7 7-5-9 7-4zm-22 7l-7-13-5 10 7-3zm-7-13l-7 0-5 7 7 3zm-7 0l-7 17-6-1 8-9zm-7 17l-8-5-5-2 7 6zm-8-5l-7-1-5 3 7-4zm270-24l-2 3-6-2 3-20zm-170 17l-7-3-6 2 8 4zm-7-3l-7 9-6-10 7 3zm-22 6l-7-7-6-5 8 22zm-7-7l-7 7-6-2 7-10zm-7 7l-8 8-5-3 7-7zm-22 6l-7-11-6-3 7 13zm-15-11l-7 9-5 5 7-17zm-7 9l-7 0-6 0 8 5zm-7 0l-7-8-6 7 7 1z"/>
<path fill="#00ff28" d="M572 1645l-8-24-5-10 7 20zm5-3l-7-18-6-3 8 24zm35-8l-8 0-5-3 7 0zm-29 1l-8-6-5-5 7 18z"/>
<path fill="#00ff58" d="M564 1621l-7-14-5-2 7 6zm287-56l-2 35-6 4 3-44zm-281 59l-7-19-6 2 7 14zm5 5l-7-15-5-9 7 19z"/>
<path fill="#00ff70" d="M557 1607l-7-3-5-4 7 5zm6-2l-8-2-5 1 7 3zm5 9l-7-15-6 4 8 2z"/>
<path fill="#00ff87" d="M550 1604l-7-19-6 10 8 5zm5-1l-7-15-5-3 7 19zm6-4l-7-14-6 3 7 15z"/>
<path fill="#00e7ff" d="M1092 1492l-7-16-5-23 7 36z"/>
<path fill="#00b7ff" d="M1085 1476l-7-24-6-17 8 18zm5-3l-7-31-5 10 7 24z"/>
<path fill="#00ffff" d="M1105 1466l-7 17-6 9 8-3zm-7 17l-8-10-5 3 7 16z"/>
<path fill="#00ff9f" d="M859 1536l-2 58-6-29 2-65z"/>
<path fill="#00e7ff" d="M1110 1475l-7-1-5 9 7-17zm6 15l-7-17-6 1 7 1z"/>
<path fill="#00cfff" d="M1103 1474l-7-24-6 23 8 10zm-236-14l-3 54-5 22 2-56zm242 13l-8-9-5-14 7 24zm5 1l-7-9-6-1 8 9zm-7-9l-8 5-5-9 7 3z"/>
<path fill="#00b7ff" d="M1096 1450l-7-3-6-5 7 31zm5 14l-7-3-5-14 7 3zm-2 6l-7-2-5-24 7 17zm-7-2l-7 6-5-27 7-3zm-7 6l-7-3-6-17 8-7zm-7-3l-8-5-5-18 7 6zm-201 10l-2 50-5-40 2-53z"/>
<path fill="#0087ff" d="M1089 1447l-8-18-5-10 7 23zm-8-18l-7 14-5 11 7-35zm-21 10l-8-1-5 7 7 11zm-8-1l-7 12-5-20 7 15zm-21 5l-8 4-5 3 7-15zm-8 4l-7-6-5-11 7 20zm-72 0l-8 10-5-11 7 10zm136-3l-7 3-6-4 7-14zm-22 4l-7-3-6-7 8 1zm-7-3l-8 1-5 4 7-12zm-8 1l-7 2-5-9 7 11zm-7 2l-7 2-5-7 7-4zm-7 2l-7 3-6-6 8-4zm-7 3l-8 8-5-20 7 6zm-8 8l-7-28-5 14 7-6zm-21-10l-8 11-5-9 7-17zm-8 11l-7-12-5-19 7 22zm-43-10l-7 21-6-30 7 14zm-7 21l-8-10-5-27 7 7zm49 1l-8-11-5-20 7 7zm-37-27l-7 20-5 6 7-21z"/>
<path fill="#009fff" d="M1074 1443l-7 16-6 0 8-5zm-7 16l-7-20-6 17 7 3zm27 2l-7-17-6-15 8 18zm-14-14l-8 7-5 5 7-16zm-8 7l-7-6-5-9 7 20zm-200-16l-2 53-6 23 3-54zm198 28l-7-10-5-11 7 3zm-7-10l-7 1-6-11 8-1zm-7 1l-7 1-6-10 7-2zm-7 1l-8 19-5-27 7-2zm-8 19l-7-18-5-6 7-3zm-7-18l-7-16-6 18 8-8zm-29-13l-7 23-6-7 8-11zm-7 23l-7 5-6-24 7 12zm-51-2l-7 1-6-5 8 10zm-7 1l-7 0-6-13 7 8z"/>
<path fill="#0070ff" d="M1045 1450l-7-11-6-28 8 19zm-7-11l-7 4-6-8 7-24zm-22 2l-7 6-6-19 8 2zm-7 6l-7-13-6-12 7 6zm-15-11l-7 17-5-17 7-13zm-7 17l-7-22-6 12 8-7zm-29-24l-7 18-6 9 8-29zm-89 5l-2 26-6 20 3-31zm145-1l-7-5-5 6 7 13zm-7-5l-7 23-6-15 8-2zm-51 10l-7 14-6 5 8-10zm-22 25l-7-8-5-17 7-2zm93-20l-7-7-6-3 7 28zm-7-7l-8 8-5-16 7 5zm-8 8l-7 2-5 5 7-23zm-29 19l-7 0-5-42 7 22zm-21-22l-8 6-5 5 7-14zm-29 27l-8-37-5 7 7 17zm-30-16l-7 12-5-34 7 19z"/>
<path fill="#0058ff" d="M1002 1434l-8 2-5-13 7-1zm-22-3l-7-11-6 14 7 9zm-7-11l-8 5-5 1 7 8zm-30 37l-7-14-5-37 7 40zm-29-22l-7 8-5-10 7-12zm71 15l-7-7-5-23 7 11zm-22-32l-7 20-5 9 7-18zm-36 37l-7-17-6-3 8 3zm-7-17l-7 9-6-4 7-8zm-7 9l-8-6-5-12 7 14zm63 16l-7-24-6-21 8 3zm-7-24l-7 2-6-3 7-20zm-44-8l-7 15-5 1 7-9zm-7 15l-7-4-6-1 8 6zm-7-4l-8 10-5-3 7-8zm-15 22l-7-18-5-18 7 2zm-16-9l-3 26-5-43 2-21z"/>
<path fill="#0040ff" d="M965 1425l-7 4-5-2 7-1zm-29 18l-7-7-5-26 7-4zm-7-7l-7 2-6-22 8-6zm-7 2l-8-3-5-14 7-5zm-15 5l-7-14-5-26 7 30zm-36-18l-2 9-5 15 2-18zm107 18l-7-22-6 4 8-5zm-7-22l-8-3-5 11 7-4zm-66 20l-7 8-5-28 7 8zm-31-24l-2 21-5 22 2-26zm15 29l-2-3-6-16 3 1zm-2-3l-3-1-5-20 2 5zm-3-1l-2 3-5-29 2 6zm-2 3l-2 10-6-38 3-1z"/>
<path fill="#0010ff" d="M900 1429l-7-8-6-27 8 9zm-7-8l-8-22-5 8 7-13zm-8-22l-7 14-5-1 7-5zm-7 14l-2 6-6-5 3-2z"/>
<path fill="#0028ff" d="M876 1419l-2 2-6-1 2-6zm-2 2l-3 4-5 6 2-11zm24 28l-7-19-6-31 8 22zm-7-19l-7-2-6-15 7-14zm-7-2l-3-1-5-8 2-6zm-3-1l-2-5-5-1 2-2zm-2-5l-2-6-6 9 3-4zm-2-6l-3 1-5 17 2-9z"/>
<path fill="#00ff9f" d="M864 1514l-2 63-5 17 2-58z"/>
<path fill="#00ff28" d="M862 1577l-2 32-6 10 3-25zm-245 58l-7-7-6 6 8 0zm-7-7l-8 8-5 7 7-9zm-22 15l-7-5-6-9 8 6zm277-48l-2 15-6 8 3-9zm-163 25l-7 3-5 8 7 3zm-36 13l-7-11-6 11 8 4zm-7-11l-8 8-5 2 7 1zm-8 8l-7 3-5 4 7-5zm-29 5l-7-11-5 4 7 7zm-7-11l-7 13-6-1 8-8zm-7 13l-7 0-6 5 7-6zm-7 0l-8-3-5 9 7-1zm-8-3l-7-4-5 8 7 5zm277-22l-2-5-5 3 2-15zm-2-5l-2-4-6 11 3-4zm-2-4l-3-5-5 18 2-2zm-3-5l-2-1-5 22 2-3zm-2-1l-8 10-6 12 9 0zm-37 10l-8 0-5 15 7 2zm-37 8l-7 0-5 9 7-5zm-7 0l-7 1-6 10 8-2zm-7 1l-7-4-6 12 7 2zm-7-4l-8 11-5 4 7-3zm-15 8l-7-5-6 15 8 0zm-22 10l-7-16-5 7 7 12zm-7-16l-7 0-6 14 8-7zm-7 0l-7 7-6-1 7 8zm-7 7l-8 0-5 2 7-3zm-8 0l-7-4-5 12 7-6zm-7-4l-7 5-6 7 8 0zm-7 5l-7 3-6 8 7-4zm-7 3l-8-8-5 16 7 0zm-22-2l-7-6-6 16 7-3zm-15-3l-7 10-5 16 7-12zm-7 10l-7 7-6-2 8 11zm-7 7l-7-4-6-9 7 11zm-7-4l-8-1-5 5 7-13zm-8-1l-7-8-5 13 7 0z"/>
<path fill="#00ff10" d="M860 1609l-3 9-5 4 2-3zm-134 22l-7-4-6 5 7 6zm-7-4l-8 5-5 9 7-9zm-22 7l-7-3-6 5 7 11zm-7-3l-8 4-5-2 7 3zm-8 4l-7 9-5-2 7-9zm-7 9l-7-9-6 2 8 5zm-7-9l-7 2-6 2 7-2zm-7 2l-8-4-5-1 7 7zm-8-4l-7-1-5 7 7-7zm-7-1l-7 5-6 10 8-8zm-22 17l-7-14-5-1 7 11zm-22-13l-7 6-5 1 7 0zm-7 6l-7 1-5-8 7 8zm268-32l-3 4-5 6 2-2zm-3 4l-2 2-5 6 2-2zm-2 2l-2 3-6 5 3-2zm-2 3l-9 0-5 2 8 3zm-38 5l-7-2-5-1 7 9zm-7-2l-7 6-6 4 8-11zm-29-3l-7 5-6 11 8-1zm-7 5l-8 2-5 6 7 3zm-22 3l-7 3-6-1 8 5zm-7 3l-8 0-5 2 7-3zm-8 0l-7 6-5-5 7 1zm-7 6l-7-3-5-6 7 4zm-7-3l-7-12-6 11 8-5zm-7-12l-8 7-5 13 7-9zm-8 7l-7-8-5 14 7 7zm-14-5l-7 6-6 6 8-4zm-7 6l-8 0-5 15 7-9zm-8 0l-7 4-5 2 7 9zm-7 4l-7 0-5 4 7-2zm-29 0l-7 1-6 16 8-13zm-7 1l-7 12-6 3 7 1zm-7 12l-8-11-5 0 7 14zm223-39l-8 2-5 15 7-5zm-22 12l-7-12-6 17 8 6zm-15-12l-7 13-5 8 7-6zm-7 13l-7 2-5-1 7 7zm-7 2l-7 3-6 2 8-6zm-7 3l-8-10-5 4 7 8zm-37-2l-7-3-5 10 7-3zm-14-8l-7 11-6 10 7-6zm-7 11l-8 4-5 3 7 3z"/>
<path fill="#08ff00" d="M857 1618l-2 2-5 2 2 0zm-2 2l-2 2-6 2 3-2zm-2 2l-3 2-5 2 2-2zm-3 2l-8-3-5 2 8 3zm-8-3l-7 5-6-3 8 0zm-7 5l-8 9-5-3 7-9zm-22 4l-7-9-6 19 7-1zm-7-9l-8 11-5 0 7 8zm-8 11l-7 0-5 7 7-7zm-29 3l-7-3-5 5 7 10zm-7-3l-7 13-6-4 8-4zm-7 13l-7-11-6 6 7 1zm-7-11l-8-5-5 13 7-2zm-8-5l-7 3-5 1 7 9zm-7 3l-7-1-6 7 8-5zm-22 0l-7 9-5 11 7-11zm-7 9l-7-7-6 13 8 5zm-65-4l-8 13-5 9 7-12zm-8 13l-7-1-5-4 7 14zm216-31l-7 5-5 2 7-5zm-7 5l-7 15-6-4 8-9zm-14 6l-8-6-5 6 7 5zm-22-2l-7-7-6 11 7 0zm-7-7l-8 6-5 11 7-6zm-8 6l-7-8-5 15 7 4zm-22-1l-7-2-5 21 7-13zm-7-2l-7 3-5 7 7 11zm85-15l-7 18-5 12 7-15zm-7 18l-7-8-5 11 7 9z"/>
<path fill="#20ff00" d="M827 1635l-7 0-5 3 7-6zm-7 0l-7-5-6 9 8-1zm-29-3l-7 6-6 18 8-17zm-7 6l-7-4-6 13 7 9zm-7-4l-8 1-5 12 7 0zm56 5l-7-9-6 5 7 0z"/>
<path fill="#00ff40" d="M581 1638l-8-19-5-5 7 15zm5-8l-7-5-6-6 8 19zm85-13l-7 1-5 4 7 11zm-7 1l-7 5-6 7 8-8zm-14-1l-8 3-5 14 7-1zm-44 7l-7-2-6 12 8 3zm-7-2l-8 0-5 8 7 4zm-8 0l-7 2-5 1 7 5z"/>
<path fill="#00ff70" d="M573 1619l-7-15-5-5 7 15z"/>
<path fill="#00ff87" d="M566 1604l-7-22-5 3 7 14zm6 7l-8-23-5-6 7 22zm5-8l-7-23-6 8 8 23z"/>
<path fill="#00ffcf" d="M870 1491l-3 65-5 21 2-63z"/>
<path fill="#00ff58" d="M867 1556l-2 39-5 14 2-32zm-288 69l-7-14-6-7 7 15zm294-39l-3 26-5-17 2-39zm-289 38l-7-21-5 8 7 14z"/>
<path fill="#00ffff" d="M1121 1511l-7-37-5-1 7 17z"/>
<path fill="#00ffb7" d="M875 1531l-2 55-6-30 3-65z"/>
<path fill="#00ffe7" d="M1127 1515l-8-30-5-11 7 37zm5-4l-7-10-6-16 8 30zm-22 0l-7-12-5-4 7-9zm-222 1l-2 15-6 20 3-28z"/>
<path fill="#00cfff" d="M1119 1485l-7-28-5 8 7 9zm-7-28l-7 29-6-16 8-5zm-22 19l-7-3-5-2 7 3zm-7-3l-7 19-6-26 8 5zm-7 19l-7-11-6-25 7 10zm-7-11l-8 17-5-41 7-1zm-8 17l-7-14-5-26 7-1zm-7-14l-7-3-6-4 8-19zm-9 12l-7 15-6-45 8-1zm-44-13l-7-1-5-5 7 5zm-7-1l-7 17-6 1 8-23zm-14 12l-8 24-5-51 7 7zm-8 24l-7-24-5-35 7 8zm-77-25l-2 9-6-5 3-11z"/>
<path fill="#00e7ff" d="M1105 1486l-7 9-6-27 7 2zm-7 9l-8-19-5-2 7-6zm27 6l-8-17-5-27 7 28zm-8-17l-7 27-5-25 7-29zm-21 13l-8-7-5-17 7 3zm-37-1l-7 1-5-16 7 3zm-7 1l-7-1-5-31 7 16zm-14 14l-8 8-5-36 7-17zm-8 8l-7-34-5-15 7 13zm-43-20l-7-5-6-20 7 26zm-94 3l-3 5-5-1 2-9zm-3 5l-2 5-5 7 2-13z"/>
<path fill="#00b7ff" d="M1047 1481l-7-16-6-6 7 18zm-44-21l-7 22-5-8 7-5zm-7 22l-7-5-6-14 8 11zm-7-5l-8 23-5-37 7 0zm-104 29l-2 13-6-38 3-26zm138-21l-7 6-6-47 8 26zm-7 6l-7-6-6-25 7-16zm-7-6l-8-2-5-1 7-22zm-44 9l-7-8-6-15 8-12zm-7-8l-7 5-6-21 7 1zm-7 5l-8 1-5-14 7-8zm-8 1l-7 6-5-40 7 20zm-7 6l-7 6-6-48 8 2zm-7 6l-7-6-6-44 7 2zm-32-22l-2 11-5-7 2-14z"/>
<path fill="#009fff" d="M1040 1465l-8 1-5-23 7 16zm-8 1l-7 17-5-47 7 7zm-7 17l-7-13-6-26 8-8zm-44 17l-7-26-5-35 7 24zm-29-29l-7-1-5-2 7-1zm-7-1l-7 8-5-10 7 0zm-58 27l-2 9-5-51 2-10zm35 1l-8-15-5-22 7-7zm-22-26l-3 10-5-10 2-13z"/>
<path fill="#0087ff" d="M1018 1470l-8-26-5 2 7-2zm-8-26l-7 16-5 9 7-23zm-36 30l-7-7-5-26 7-2zm-7-7l-7-8-6-12 8-6zm-7-8l-8 12-5-4 7-20zm-22 19l-7-20-6-27 8 37zm-29-17l-7-1-6 4 7-12zm-17 11l-2 14-6-44 3 1zm-2 14l-3 11-5-52 2-3zm24-3l-7-11-5-12 7 1zm-7-11l-7 0-6-13 8 1z"/>
<path fill="#0070ff" d="M931 1458l-8-2-5-10 7-15zm-8-2l-7-2-5-12 7 4zm-7-2l-7 7-6-9 8-10zm-14 6l-8-1-5-13 7 18zm-8-1l-2 13-5-29 2 3z"/>
<path fill="#00ffff" d="M883 1519l-3 28-5-16 2-50zm220-20l-7-2-6-21 8 19zm-15-9l-7 18-5-16 7-19zm-7 18l-7 5-5-32 7 11zm-7 5l-7 1-6-16 8-17zm-7 1l-8-18-5-12 7 14z"/>
<path fill="#00ff9f" d="M880 1547l-2 32-5 7 2-55zm-298 51l-7-17-5-1 7 23zm6 1l-8-31-5 13 7 17z"/>
<path fill="#00ff40" d="M878 1579l-2 14-6 19 3-26zm-2 14l-3-2-5 16 2 5zm-3-2l-2-2-5 14 2 4zm-2-2l-2-3-6 12 3 5zm-4-4l-9 9-5 13 8-10zm-9 9l-7 1-6 14 8-2zm-22-3l-7-3-5 19 7 12zm-7-3l-7 3-6 16 8 0zm-7 3l-7 16-6 13 7-13zm-29 10l-7 10-6 4 7 0zm-15 10l-7 0-5 1 7 4zm-7 0l-7-2-6 14 8-11zm-7-2l-7-12-6 23 7 3zm-7-12l-8 3-5 15 7 5zm-8 3l-7 11-5 15 7-11zm-14 5l-8-6-5 15 7 16zm-15-6l-7 11-5 11 7-7zm-7 11l-7 5-6 6 8 0zm-7 5l-8-1-5 3 7 4zm-8-1l-7 2-5 6 7-5zm-7 2l-7 0-5 9 7-3zm-7 0l-7-7-6 8 8 8zm-15-8l-7 7-5 8 7-5zm-29-1l-7 13-5 17 7-7zm-7 13l-7-3-5 16 7 4zm-7-3l-7 3-6 12 8 1zm-7 3l-8-2-5 6 7 8zm-8-2l-7 7-5-3 7 2z"/>
<path fill="#00ff58" d="M869 1586l-2-1-6 12 2 1zm-142 13l-7 0-5 15 7 0zm-50 10l-8-1-5 10 7-1zm-15 6l-7-10-5 12 7 6zm-7-10l-7-1-6 16 8-3zm-7-1l-8 3-5 23 7-10zm-44 21l-7-6-6 3 8 0zm-7-6l-7-9-6 14 7-2zm230-37l-7 1-5 24 7-16zm-7 1l-7-3-6 34 8-7zm-7-3l-8-2-5 25 7 11zm-15-4l-7 8-5 27 7-10zm-7 8l-7 6-6 21 8 0zm-7 6l-8-7-5 28 7 0zm-8-7l-7-5-5 31 7 2zm-65 5l-7 7-6 19 8 1zm-7 7l-7-2-6 23 7-2z"/>
<path fill="#00ff28" d="M851 1595l-7 6-6 26 7-18zm-7 6l-8-10-5 28 7 8zm-29 6l-8 7-5 8 7-2zm-8 7l-7-11-5 22 7-3zm-7-11l-7-2-6 14 8 10zm-14 8l-8 0-5 5 7-1zm-44 0l-7-6-6 25 8-4z"/>
<path fill="#00ff70" d="M590 1610l-8-12-5 5 7 21zm291-52l-2 9-6 24 3 2zm-2 9l-2 2-6 20 2 2zm-2 2l-3 2-5 15 2 3zm-3 2l-2 2-5 12 2 1zm-2 2l-9 2-5 19 9-9zm-9 2l-7-4-5 24 7-1zm-7-4l-7 3-5 27 7-6zm-7 3l-7-1-6 18 8 10zm-7-1l-8 3-5 12 7 3zm-8 3l-7 6-5 9 7-3zm-29 2l-7-2-5 25 7 2zm-36 0l-7 11-5 8 7 12zm-7 11l-7-3-6 14 8-3zm-7-3l-8 1-5 24 7-11zm-8 1l-7-1-5 19 7 6zm-7-1l-7-2-6 15 8 6zm-7-2l-7 1-6 14 7 0zm-7 1l-8 0-5 25 7-11zm-8 0l-7 3-5 27 7-5zm-21 8l-8-4-5 27 7 0zm-8-4l-7 10-5 10 7 7zm-7 10l-7-7-6 16 8 1zm-7-7l-7 12-6 11 7-7zm-7 12l-8-2-5 3 7 10zm-8-2l-7-14-5 16 7 1zm-14-19l-7 12-6 25 7-13zm-7 12l-8-8-5 30 7 3zm-8-8l-7 11-5 22 7-3zm-7 11l-7 5-6 15 8 2zm-7 5l-7 0-6 22 7-7zm-7 0l-8 3-5 13 7 6zm-8 3l-7-5-5 9 7 9z"/>
<path fill="#00ffb7" d="M886 1527l-2 20-6 32 2-32z"/>
<path fill="#00ff87" d="M884 1547l-3 11-5 35 2-14zm-231 41l-7-5-6 24 8-3zm-58 13l-7-2-6-1 8 12z"/>
</g>
<path d="M148.8 1110.3L148.8 1852.2L580.5 1938.2L1161 1873.3" stroke="#3a3a3a" stroke-width="2.4" fill="none" stroke-linejoin="round"/>
<path d="M148.8 1852.2L138 1850M148.8 1728.5L138 1726.4M148.8 1604.9L138 1602.8M148.8 1481.2L138 1479.1M148.8 1357.6L138 1355.5M148.8 1234L138 1231.8M148.8 1110.3L138 1108.2M148.8 1852.2L148.8 1869.5M256.7 1873.7L256.7 1891M364.6 1895.2L364.6 1912.5M472.6 1916.7L472.6 1934M580.5 1938.2L580.5 1955.5M580.5 1938.2L580.5 1955.5M725.6 1922L725.6 1939.3M870.8 1905.8L870.8 1923.1M1015.9 1889.5L1015.9 1906.8M1161 1873.3L1161 1890.6" stroke="#3a3a3a" stroke-width="2.4" fill="none"/>
<text x="128" y="1118.3" style="font-family:'Liberation Sans',Arial,sans-serif;font-size:33px" text-anchor="end" fill="#3a3a3a">150</text>
<text x="128" y="1242" style="font-family:'Liberation Sans',Arial,sans-serif;font-size:33px" text-anchor="end" fill="#3a3a3a">100</text>
<text x="128" y="1365.6" style="font-family:'Liberation Sans',Arial,sans-serif;font-size:33px" text-anchor="end" fill="#3a3a3a">50</text>
<text x="128" y="1489.2" style="font-family:'Liberation Sans',Arial,sans-serif;font-size:33px" text-anchor="end" fill="#3a3a3a">0</text>
<text x="128" y="1612.9" style="font-family:'Liberation Sans',Arial,sans-serif;font-size:33px" text-anchor="end" fill="#3a3a3a">-50</text>
<text x="128" y="1736.5" style="font-family:'Liberation Sans',Arial,sans-serif;font-size:33px" text-anchor="end" fill="#3a3a3a">-100</text>
<text x="128" y="1860.2" style="font-family:'Liberation Sans',Arial,sans-serif;font-size:33px" text-anchor="end" fill="#3a3a3a">-150</text>
<text x="170.8" y="1910" style="font-family:'Liberation Sans',Arial,sans-serif;font-size:33px" text-anchor="end" fill="#3a3a3a">100</text>
<text x="364.3" y="1949" style="font-family:'Liberation Sans',Arial,sans-serif;font-size:33px" text-anchor="end" fill="#3a3a3a">0</text>
<text x="581.5" y="2000.8" style="font-family:'Liberation Sans',Arial,sans-serif;font-size:33px" text-anchor="end" fill="#3a3a3a">-100</text>
<text x="581.1" y="2000.8" style="font-family:'Liberation Sans',Arial,sans-serif;font-size:33px" text-anchor="start" fill="#3a3a3a">100</text>
<text x="718.3" y="1982.7" style="font-family:'Liberation Sans',Arial,sans-serif;font-size:33px" text-anchor="start" fill="#3a3a3a">50</text>
<text x="860.5" y="1958.5" style="font-family:'Liberation Sans',Arial,sans-serif;font-size:33px" text-anchor="start" fill="#3a3a3a">0</text>
<text x="984.2" y="1943" style="font-family:'Liberation Sans',Arial,sans-serif;font-size:33px" text-anchor="start" fill="#3a3a3a">-50</text>
<text x="1114.3" y="1925" style="font-family:'Liberation Sans',Arial,sans-serif;font-size:33px" text-anchor="start" fill="#3a3a3a">-100</text>
<text x="49.5" y="1480.5" style="font-family:'Liberation Sans',Arial,sans-serif;font-size:40px" text-anchor="middle" fill="#3a3a3a" transform="rotate(-90 49.5 1480.5)">ΔF(z)/pN</text>
<text x="221" y="2012" style="font-family:'Liberation Serif','Times New Roman',serif;font-size:48.5px" fill="#15151f" stroke="#15151f" stroke-width="0.7" text-anchor="start">scan<tspan style="font-style:italic;font-size:53.4px"> y</tspan> /nm</text>
<text x="838" y="2018" style="font-family:'Liberation Serif','Times New Roman',serif;font-size:48.5px" fill="#15151f" stroke="#15151f" stroke-width="0.7" text-anchor="start">scan<tspan style="font-style:italic;font-size:53.4px"> x</tspan> /nm</text>
<rect x="1215.3" y="1947.8" width="52.7" height="14.5" fill="#ff0000"/>
<rect x="1215.3" y="1933.9" width="52.7" height="14.5" fill="#ff1800"/>
<rect x="1215.3" y="1919.9" width="52.7" height="14.5" fill="#ff3000"/>
<rect x="1215.3" y="1906" width="52.7" height="14.5" fill="#ff4800"/>
<rect x="1215.3" y="1892.1" width="52.7" height="14.5" fill="#ff6000"/>
<rect x="1215.3" y="1878.2" width="52.7" height="14.5" fill="#ff7800"/>
<rect x="1215.3" y="1864.3" width="52.7" height="14.5" fill="#ff8f00"/>
<rect x="1215.3" y="1850.3" width="52.7" height="14.5" fill="#ffa700"/>
<rect x="1215.3" y="1836.4" width="52.7" height="14.5" fill="#ffbf00"/>
<rect x="1215.3" y="1822.5" width="52.7" height="14.5" fill="#ffd700"/>
<rect x="1215.3" y="1808.6" width="52.7" height="14.5" fill="#ffef00"/>
<rect x="1215.3" y="1794.7" width="52.7" height="14.5" fill="#f7ff00"/>
<rect x="1215.3" y="1780.7" width="52.7" height="14.5" fill="#dfff00"/>
<rect x="1215.3" y="1766.8" width="52.7" height="14.5" fill="#c7ff00"/>
<rect x="1215.3" y="1752.9" width="52.7" height="14.5" fill="#afff00"/>
<rect x="1215.3" y="1739" width="52.7" height="14.5" fill="#97ff00"/>
<rect x="1215.3" y="1725.1" width="52.7" height="14.5" fill="#80ff00"/>
<rect x="1215.3" y="1711.1" width="52.7" height="14.5" fill="#68ff00"/>
<rect x="1215.3" y="1697.2" width="52.7" height="14.5" fill="#50ff00"/>
<rect x="1215.3" y="1683.3" width="52.7" height="14.5" fill="#38ff00"/>
<rect x="1215.3" y="1669.4" width="52.7" height="14.5" fill="#20ff00"/>
<rect x="1215.3" y="1655.5" width="52.7" height="14.5" fill="#08ff00"/>
<rect x="1215.3" y="1641.5" width="52.7" height="14.5" fill="#00ff10"/>
<rect x="1215.3" y="1627.6" width="52.7" height="14.5" fill="#00ff28"/>
<rect x="1215.3" y="1613.7" width="52.7" height="14.5" fill="#00ff40"/>
<rect x="1215.3" y="1599.8" width="52.7" height="14.5" fill="#00ff58"/>
<rect x="1215.3" y="1585.9" width="52.7" height="14.5" fill="#00ff70"/>
<rect x="1215.3" y="1571.9" width="52.7" height="14.5" fill="#00ff87"/>
<rect x="1215.3" y="1558" width="52.7" height="14.5" fill="#00ff9f"/>
<rect x="1215.3" y="1544.1" width="52.7" height="14.5" fill="#00ffb7"/>
<rect x="1215.3" y="1530.2" width="52.7" height="14.5" fill="#00ffcf"/>
<rect x="1215.3" y="1516.2" width="52.7" height="14.5" fill="#00ffe7"/>
<rect x="1215.3" y="1502.3" width="52.7" height="14.5" fill="#00ffff"/>
<rect x="1215.3" y="1488.4" width="52.7" height="14.5" fill="#00e7ff"/>
<rect x="1215.3" y="1474.5" width="52.7" height="14.5" fill="#00cfff"/>
<rect x="1215.3" y="1460.6" width="52.7" height="14.5" fill="#00b7ff"/>
<rect x="1215.3" y="1446.6" width="52.7" height="14.5" fill="#009fff"/>
<rect x="1215.3" y="1432.7" width="52.7" height="14.5" fill="#0087ff"/>
<rect x="1215.3" y="1418.8" width="52.7" height="14.5" fill="#0070ff"/>
<rect x="1215.3" y="1404.9" width="52.7" height="14.5" fill="#0058ff"/>
<rect x="1215.3" y="1391" width="52.7" height="14.5" fill="#0040ff"/>
<rect x="1215.3" y="1377" width="52.7" height="14.5" fill="#0028ff"/>
<rect x="1215.3" y="1363.1" width="52.7" height="14.5" fill="#0010ff"/>
<rect x="1215.3" y="1349.2" width="52.7" height="14.5" fill="#0800ff"/>
<rect x="1215.3" y="1335.3" width="52.7" height="14.5" fill="#2000ff"/>
<rect x="1215.3" y="1321.4" width="52.7" height="14.5" fill="#3800ff"/>
<rect x="1215.3" y="1307.4" width="52.7" height="14.5" fill="#5000ff"/>
<rect x="1215.3" y="1293.5" width="52.7" height="14.5" fill="#6800ff"/>
<rect x="1215.3" y="1279.6" width="52.7" height="14.5" fill="#8000ff"/>
<rect x="1215.3" y="1265.7" width="52.7" height="14.5" fill="#9700ff"/>
<rect x="1215.3" y="1251.8" width="52.7" height="14.5" fill="#af00ff"/>
<rect x="1215.3" y="1237.8" width="52.7" height="14.5" fill="#c700ff"/>
<rect x="1215.3" y="1223.9" width="52.7" height="14.5" fill="#df00ff"/>
<rect x="1215.3" y="1210" width="52.7" height="14.5" fill="#f700ff"/>
<rect x="1215.3" y="1196.1" width="52.7" height="14.5" fill="#ff00ef"/>
<rect x="1215.3" y="1182.2" width="52.7" height="14.5" fill="#ff00d7"/>
<rect x="1215.3" y="1168.2" width="52.7" height="14.5" fill="#ff00bf"/>
<rect x="1215.3" y="1154.3" width="52.7" height="14.5" fill="#ff00a7"/>
<rect x="1215.3" y="1140.4" width="52.7" height="14.5" fill="#ff008f"/>
<rect x="1215.3" y="1126.5" width="52.7" height="14.5" fill="#ff0078"/>
<rect x="1215.3" y="1112.6" width="52.7" height="14.5" fill="#ff0060"/>
<rect x="1215.3" y="1098.6" width="52.7" height="14.5" fill="#ff0048"/>
<rect x="1215.3" y="1084.7" width="52.7" height="14.5" fill="#ff0030"/>
<rect x="1215.3" y="1070.8" width="52.7" height="14.5" fill="#ff0018"/>
<rect x="1215.3" y="1070.8" width="52.7" height="890.9" fill="none" stroke="#1a1a1a" stroke-width="2.2"/>
<text x="1283" y="1197" style="font-family:'Liberation Sans',Arial,sans-serif;font-size:28px" text-anchor="start" fill="#3a3a3a">100</text>
<text x="1283" y="1368.8" style="font-family:'Liberation Sans',Arial,sans-serif;font-size:28px" text-anchor="start" fill="#3a3a3a">50</text>
<text x="1283" y="1540.6" style="font-family:'Liberation Sans',Arial,sans-serif;font-size:28px" text-anchor="start" fill="#3a3a3a">0</text>
<text x="1283" y="1712.4" style="font-family:'Liberation Sans',Arial,sans-serif;font-size:28px" text-anchor="start" fill="#3a3a3a">-50</text>
<text x="1283" y="1884.2" style="font-family:'Liberation Sans',Arial,sans-serif;font-size:28px" text-anchor="start" fill="#3a3a3a">-100</text>
<path d="M1268 1186.9h-7M1268 1358.7h-7M1268 1530.5h-7M1268 1702.3h-7M1268 1874.1h-7" stroke="#1a1a1a" stroke-width="2.2"/>
<text x="1241" y="1053" style="font-family:'Liberation Sans',Arial,sans-serif;font-size:29px" text-anchor="middle" fill="#3a3a3a">pN</text>
<text x="1305.8" y="2019.5" style="font-family:'Liberation Serif','Times New Roman',serif;font-size:72px" text-anchor="start" fill="#111" stroke="#111" stroke-width="0.6">(b)</text>
<clipPath id="clB1"><rect x="1538" y="1069.5" width="923" height="446.6"/></clipPath>
<g clip-path="url(#clB1)"><g filter="url(#cmB)">
<path fill="#040404" d="M1793 1381.9h32.3v15h-32.3zM2180.6 1381.9h32.3v15h-32.3zM1776.8 1396.9h48.5v15h-48.5zM2180.6 1396.9h48.5v15h-48.5zM1760.7 1411.9h48.5v15h-48.5zM2180.6 1411.9h64.6v15h-64.6zM1744.5 1427h64.6v15h-64.6zM2180.6 1427h80.8v15h-80.8zM1728.4 1442h80.8v15h-80.8zM2180.6 1442h80.8v15h-80.8zM1728.4 1457h80.8v15h-80.8zM2196.8 1457h80.8v15h-80.8zM1728.4 1472.1h80.8v15h-80.8zM2196.8 1472.1h80.8v15h-80.8zM1728.4 1487.1h64.6v15h-64.6zM2196.8 1487.1h64.6v15h-64.6z"/>
<path fill="#0c0c0c" d="M1809.1 1351.8h16.2v15h-16.2zM2164.5 1351.8h32.3v15h-32.3zM1793 1366.9h32.3v15h-32.3zM2164.5 1366.9h48.5v15h-48.5zM1776.8 1381.9h16.2v15h-16.2zM2164.5 1381.9h16.2v15h-16.2zM2212.9 1381.9h16.2v15h-16.2zM1760.7 1396.9h16.2v15h-16.2zM2164.5 1396.9h16.2v15h-16.2zM2229.1 1396.9h16.2v15h-16.2zM1744.5 1411.9h16.2v15h-16.2zM1809.1 1411.9h16.2v15h-16.2zM1728.4 1427h16.2v15h-16.2zM1809.1 1427h16.2v15h-16.2zM1809.1 1442h16.2v15h-16.2zM2261.4 1442h16.2v15h-16.2zM2180.6 1457h16.2v15h-16.2zM2261.4 1487.1h16.2v15h-16.2zM1744.5 1502.1h32.3v15h-32.3zM2212.9 1502.1h32.3v15h-32.3zM1760.7 1517.1h16.2v15h-16.2zM2229.1 1517.1h16.2v15h-16.2z"/>
<path fill="#141414" d="M1825.3 1321.8h16.2v15h-16.2zM2148.3 1321.8h32.3v15h-32.3zM1809.1 1336.8h32.3v15h-32.3zM2148.3 1336.8h48.5v15h-48.5zM1793 1351.8h16.2v15h-16.2zM1825.3 1351.8h16.2v15h-16.2zM2148.3 1351.8h16.2v15h-16.2zM2196.8 1351.8h16.2v15h-16.2zM1776.8 1366.9h16.2v15h-16.2zM1825.3 1366.9h16.2v15h-16.2zM2148.3 1366.9h16.2v15h-16.2zM2212.9 1366.9h16.2v15h-16.2zM1760.7 1381.9h16.2v15h-16.2zM1825.3 1381.9h16.2v15h-16.2zM2229.1 1381.9h16.2v15h-16.2zM1744.5 1396.9h16.2v15h-16.2zM1825.3 1396.9h16.2v15h-16.2zM2164.5 1411.9h16.2v15h-16.2zM2245.2 1411.9h16.2v15h-16.2zM2164.5 1427h16.2v15h-16.2zM2261.4 1427h16.2v15h-16.2zM1712.2 1457h16.2v15h-16.2zM1809.1 1457h16.2v15h-16.2zM1712.2 1472.1h16.2v15h-16.2zM2180.6 1472.1h16.2v15h-16.2zM1793 1487.1h16.2v15h-16.2zM1728.4 1502.1h16.2v15h-16.2zM1776.8 1502.1h16.2v15h-16.2zM2245.2 1502.1h16.2v15h-16.2zM1744.5 1517.1h16.2v15h-16.2zM1776.8 1517.1h16.2v15h-16.2zM2212.9 1517.1h16.2v15h-16.2zM2245.2 1517.1h16.2v15h-16.2z"/>
<path fill="#1c1c1c" d="M1841.4 1291.7h16.2v15h-16.2zM2132.2 1291.7h32.3v15h-32.3zM1825.3 1306.7h32.3v15h-32.3zM2132.2 1306.7h48.5v15h-48.5zM1809.1 1321.8h16.2v15h-16.2zM1841.4 1321.8h16.2v15h-16.2zM2132.2 1321.8h16.2v15h-16.2zM2180.6 1321.8h16.2v15h-16.2zM1793 1336.8h16.2v15h-16.2zM1841.4 1336.8h16.2v15h-16.2zM2196.8 1336.8h16.2v15h-16.2zM1776.8 1351.8h16.2v15h-16.2zM1841.4 1351.8h16.2v15h-16.2zM2212.9 1351.8h16.2v15h-16.2zM1760.7 1366.9h16.2v15h-16.2zM1841.4 1366.9h16.2v15h-16.2zM2229.1 1366.9h16.2v15h-16.2zM1744.5 1381.9h16.2v15h-16.2zM2148.3 1381.9h16.2v15h-16.2zM2148.3 1396.9h16.2v15h-16.2zM2245.2 1396.9h16.2v15h-16.2zM1728.4 1411.9h16.2v15h-16.2zM1825.3 1411.9h16.2v15h-16.2zM2261.4 1411.9h16.2v15h-16.2zM1712.2 1427h16.2v15h-16.2zM1825.3 1427h16.2v15h-16.2zM1712.2 1442h16.2v15h-16.2zM2164.5 1442h16.2v15h-16.2zM2277.6 1442h16.2v15h-16.2zM2164.5 1457h16.2v15h-16.2zM2277.6 1457h16.2v15h-16.2zM1809.1 1472.1h16.2v15h-16.2zM2277.6 1472.1h16.2v15h-16.2zM1712.2 1487.1h16.2v15h-16.2zM2180.6 1487.1h16.2v15h-16.2zM1793 1502.1h16.2v15h-16.2zM2196.8 1502.1h16.2v15h-16.2zM2261.4 1502.1h16.2v15h-16.2zM1728.4 1517.1h16.2v15h-16.2zM2196.8 1517.1h16.2v15h-16.2z"/>
<path fill="#242424" d="M2003 1216.6h16.2v15h-16.2zM1986.8 1231.6h32.3v15h-32.3zM1986.8 1246.6h32.3v15h-32.3zM1986.8 1261.7h32.3v15h-32.3zM2132.2 1261.7h16.2v15h-16.2zM1841.4 1276.7h32.3v15h-32.3zM1986.8 1276.7h32.3v15h-32.3zM2116 1276.7h48.5v15h-48.5zM1825.3 1291.7h16.2v15h-16.2zM1857.6 1291.7h16.2v15h-16.2zM2116 1291.7h16.2v15h-16.2zM2164.5 1291.7h16.2v15h-16.2zM1809.1 1306.7h16.2v15h-16.2zM1857.6 1306.7h16.2v15h-16.2zM2180.6 1306.7h16.2v15h-16.2zM1793 1321.8h16.2v15h-16.2zM1857.6 1321.8h16.2v15h-16.2zM2196.8 1321.8h16.2v15h-16.2zM1776.8 1336.8h16.2v15h-16.2zM1857.6 1336.8h16.2v15h-16.2zM2132.2 1336.8h16.2v15h-16.2zM2212.9 1336.8h16.2v15h-16.2zM1760.7 1351.8h16.2v15h-16.2zM2132.2 1351.8h16.2v15h-16.2zM2229.1 1351.8h16.2v15h-16.2zM1744.5 1366.9h16.2v15h-16.2zM2132.2 1366.9h16.2v15h-16.2zM1728.4 1381.9h16.2v15h-16.2zM1841.4 1381.9h16.2v15h-16.2zM2245.2 1381.9h16.2v15h-16.2zM1728.4 1396.9h16.2v15h-16.2zM1841.4 1396.9h16.2v15h-16.2zM2261.4 1396.9h16.2v15h-16.2zM1712.2 1411.9h16.2v15h-16.2zM1841.4 1411.9h16.2v15h-16.2zM2148.3 1411.9h16.2v15h-16.2zM2148.3 1427h16.2v15h-16.2zM2277.6 1427h16.2v15h-16.2zM1825.3 1442h16.2v15h-16.2zM1696.1 1457h16.2v15h-16.2zM1825.3 1457h16.2v15h-16.2zM1696.1 1472.1h16.2v15h-16.2zM2164.5 1472.1h16.2v15h-16.2zM1809.1 1487.1h16.2v15h-16.2zM2277.6 1487.1h16.2v15h-16.2zM1712.2 1502.1h16.2v15h-16.2zM2180.6 1502.1h16.2v15h-16.2zM1793 1517.1h16.2v15h-16.2zM2261.4 1517.1h16.2v15h-16.2z"/>
<path fill="#2c2c2c" d="M1986.8 1186.5h32.3v15h-32.3zM1986.8 1201.5h32.3v15h-32.3zM1986.8 1216.6h16.2v15h-16.2zM1825.3 1261.7h64.6v15h-64.6zM2116 1261.7h16.2v15h-16.2zM2148.3 1261.7h16.2v15h-16.2zM1825.3 1276.7h16.2v15h-16.2zM1873.7 1276.7h16.2v15h-16.2zM2164.5 1276.7h16.2v15h-16.2zM1809.1 1291.7h16.2v15h-16.2zM1873.7 1291.7h16.2v15h-16.2zM1986.8 1291.7h32.3v15h-32.3zM2180.6 1291.7h16.2v15h-16.2zM1793 1306.7h16.2v15h-16.2zM1873.7 1306.7h16.2v15h-16.2zM2116 1306.7h16.2v15h-16.2zM2196.8 1306.7h16.2v15h-16.2zM1776.8 1321.8h16.2v15h-16.2zM2116 1321.8h16.2v15h-16.2zM2212.9 1321.8h16.2v15h-16.2zM1760.7 1336.8h16.2v15h-16.2zM2116 1336.8h16.2v15h-16.2zM2229.1 1336.8h16.2v15h-16.2zM1744.5 1351.8h16.2v15h-16.2zM1857.6 1351.8h16.2v15h-16.2zM2245.2 1351.8h16.2v15h-16.2zM1728.4 1366.9h16.2v15h-16.2zM1857.6 1366.9h16.2v15h-16.2zM2245.2 1366.9h32.3v15h-32.3zM1712.2 1381.9h16.2v15h-16.2zM1857.6 1381.9h16.2v15h-16.2zM2132.2 1381.9h16.2v15h-16.2zM2261.4 1381.9h16.2v15h-16.2zM1712.2 1396.9h16.2v15h-16.2zM2132.2 1396.9h16.2v15h-16.2zM2277.6 1396.9h16.2v15h-16.2zM1696.1 1411.9h16.2v15h-16.2zM2132.2 1411.9h16.2v15h-16.2zM2277.6 1411.9h16.2v15h-16.2zM1696.1 1427h16.2v15h-16.2zM1841.4 1427h16.2v15h-16.2zM1696.1 1442h16.2v15h-16.2zM1841.4 1442h16.2v15h-16.2zM2148.3 1442h16.2v15h-16.2zM2293.7 1442h16.2v15h-16.2zM2148.3 1457h16.2v15h-16.2zM2293.7 1457h16.2v15h-16.2zM1825.3 1472.1h16.2v15h-16.2zM2293.7 1472.1h16.2v15h-16.2zM1696.1 1487.1h16.2v15h-16.2zM2164.5 1487.1h16.2v15h-16.2zM1809.1 1502.1h16.2v15h-16.2zM2277.6 1502.1h16.2v15h-16.2zM1712.2 1517.1h16.2v15h-16.2zM1809.1 1517.1h16.2v15h-16.2zM2180.6 1517.1h16.2v15h-16.2zM2277.6 1517.1h16.2v15h-16.2z"/>
<path fill="#343434" d="M2003 1156.5h16.2v15h-16.2zM1986.8 1171.5h32.3v15h-32.3zM1841.4 1246.6h32.3v15h-32.3zM2116 1246.6h48.5v15h-48.5zM2099.9 1261.7h16.2v15h-16.2zM2164.5 1261.7h16.2v15h-16.2zM1809.1 1276.7h16.2v15h-16.2zM1889.9 1276.7h16.2v15h-16.2zM2099.9 1276.7h16.2v15h-16.2zM2180.6 1276.7h16.2v15h-16.2zM1793 1291.7h16.2v15h-16.2zM1889.9 1291.7h16.2v15h-16.2zM2099.9 1291.7h16.2v15h-16.2zM2196.8 1291.7h16.2v15h-16.2zM1776.8 1306.7h16.2v15h-16.2zM1986.8 1306.7h32.3v15h-32.3zM2099.9 1306.7h16.2v15h-16.2zM2212.9 1306.7h16.2v15h-16.2zM1760.7 1321.8h16.2v15h-16.2zM1873.7 1321.8h16.2v15h-16.2zM2229.1 1321.8h16.2v15h-16.2zM1728.4 1336.8h32.3v15h-32.3zM1873.7 1336.8h16.2v15h-16.2zM2245.2 1336.8h16.2v15h-16.2zM1712.2 1351.8h32.3v15h-32.3zM1873.7 1351.8h16.2v15h-16.2zM2116 1351.8h16.2v15h-16.2zM2261.4 1351.8h16.2v15h-16.2zM1712.2 1366.9h16.2v15h-16.2zM2116 1366.9h16.2v15h-16.2zM2277.6 1366.9h16.2v15h-16.2zM1696.1 1381.9h16.2v15h-16.2zM2116 1381.9h16.2v15h-16.2zM2277.6 1381.9h32.3v15h-32.3zM1696.1 1396.9h16.2v15h-16.2zM1857.6 1396.9h16.2v15h-16.2zM2116 1396.9h16.2v15h-16.2zM2293.7 1396.9h16.2v15h-16.2zM1679.9 1411.9h16.2v15h-16.2zM1857.6 1411.9h16.2v15h-16.2zM2293.7 1411.9h16.2v15h-16.2zM1679.9 1427h16.2v15h-16.2zM1857.6 1427h16.2v15h-16.2zM2132.2 1427h16.2v15h-16.2zM2293.7 1427h16.2v15h-16.2zM1679.9 1442h16.2v15h-16.2zM2132.2 1442h16.2v15h-16.2zM2309.9 1442h16.2v15h-16.2zM1679.9 1457h16.2v15h-16.2zM1841.4 1457h16.2v15h-16.2zM2309.9 1457h16.2v15h-16.2zM1679.9 1472.1h16.2v15h-16.2zM1841.4 1472.1h16.2v15h-16.2zM2148.3 1472.1h16.2v15h-16.2zM1825.3 1487.1h16.2v15h-16.2zM2148.3 1487.1h16.2v15h-16.2zM2293.7 1487.1h16.2v15h-16.2zM1696.1 1502.1h16.2v15h-16.2zM1825.3 1502.1h16.2v15h-16.2zM2164.5 1502.1h16.2v15h-16.2zM2293.7 1502.1h16.2v15h-16.2zM1696.1 1517.1h16.2v15h-16.2zM2164.5 1517.1h16.2v15h-16.2z"/>
<path fill="#3c3c3c" d="M1986.8 1126.4h32.3v15h-32.3zM1986.8 1141.4h32.3v15h-32.3zM1986.8 1156.5h16.2v15h-16.2zM1825.3 1246.6h16.2v15h-16.2zM1873.7 1246.6h16.2v15h-16.2zM2099.9 1246.6h16.2v15h-16.2zM2164.5 1246.6h16.2v15h-16.2zM1809.1 1261.7h16.2v15h-16.2zM1889.9 1261.7h16.2v15h-16.2zM2180.6 1261.7h16.2v15h-16.2zM1793 1276.7h16.2v15h-16.2zM2083.7 1276.7h16.2v15h-16.2zM2196.8 1276.7h16.2v15h-16.2zM1776.8 1291.7h16.2v15h-16.2zM2083.7 1291.7h16.2v15h-16.2zM2212.9 1291.7h16.2v15h-16.2zM1744.5 1306.7h32.3v15h-32.3zM1889.9 1306.7h16.2v15h-16.2zM2229.1 1306.7h32.3v15h-32.3zM1712.2 1321.8h48.5v15h-48.5zM1889.9 1321.8h16.2v15h-16.2zM1986.8 1321.8h32.3v15h-32.3zM2099.9 1321.8h16.2v15h-16.2zM2245.2 1321.8h32.3v15h-32.3zM1696.1 1336.8h32.3v15h-32.3zM1889.9 1336.8h16.2v15h-16.2zM2099.9 1336.8h16.2v15h-16.2zM2261.4 1336.8h32.3v15h-32.3zM1679.9 1351.8h32.3v15h-32.3zM2099.9 1351.8h16.2v15h-16.2zM2277.6 1351.8h32.3v15h-32.3zM1679.9 1366.9h32.3v15h-32.3zM1873.7 1366.9h16.2v15h-16.2zM2099.9 1366.9h16.2v15h-16.2zM2293.7 1366.9h32.3v15h-32.3zM1663.8 1381.9h32.3v15h-32.3zM1873.7 1381.9h16.2v15h-16.2zM2099.9 1381.9h16.2v15h-16.2zM2309.9 1381.9h16.2v15h-16.2zM1663.8 1396.9h32.3v15h-32.3zM1873.7 1396.9h16.2v15h-16.2zM2309.9 1396.9h32.3v15h-32.3zM1663.8 1411.9h16.2v15h-16.2zM1873.7 1411.9h16.2v15h-16.2zM2116 1411.9h16.2v15h-16.2zM2309.9 1411.9h32.3v15h-32.3zM1663.8 1427h16.2v15h-16.2zM1873.7 1427h16.2v15h-16.2zM2116 1427h16.2v15h-16.2zM2309.9 1427h32.3v15h-32.3zM1663.8 1442h16.2v15h-16.2zM1857.6 1442h16.2v15h-16.2zM2116 1442h16.2v15h-16.2zM2326 1442h16.2v15h-16.2zM1663.8 1457h16.2v15h-16.2zM1857.6 1457h16.2v15h-16.2zM2116 1457h32.3v15h-32.3zM2326 1457h16.2v15h-16.2zM1663.8 1472.1h16.2v15h-16.2zM1857.6 1472.1h16.2v15h-16.2zM2132.2 1472.1h16.2v15h-16.2zM2309.9 1472.1h16.2v15h-16.2zM1679.9 1487.1h16.2v15h-16.2zM1841.4 1487.1h16.2v15h-16.2zM2132.2 1487.1h16.2v15h-16.2zM2309.9 1487.1h16.2v15h-16.2zM1679.9 1502.1h16.2v15h-16.2zM1841.4 1502.1h16.2v15h-16.2zM2148.3 1502.1h16.2v15h-16.2zM2309.9 1502.1h16.2v15h-16.2zM1679.9 1517.1h16.2v15h-16.2zM1825.3 1517.1h16.2v15h-16.2zM2148.3 1517.1h16.2v15h-16.2zM2293.7 1517.1h16.2v15h-16.2z"/>
<path fill="#444444" d="M1986.8 1111.4h32.3v15h-32.3zM2019.1 1201.5h16.2v15h-16.2zM2019.1 1216.6h16.2v15h-16.2zM1825.3 1231.6h64.6v15h-64.6zM2019.1 1231.6h16.2v15h-16.2zM2099.9 1231.6h80.8v15h-80.8zM1793 1246.6h32.3v15h-32.3zM1889.9 1246.6h16.2v15h-16.2zM2019.1 1246.6h16.2v15h-16.2zM2083.7 1246.6h16.2v15h-16.2zM2180.6 1246.6h16.2v15h-16.2zM1776.8 1261.7h32.3v15h-32.3zM1906 1261.7h16.2v15h-16.2zM2019.1 1261.7h16.2v15h-16.2zM2083.7 1261.7h16.2v15h-16.2zM2196.8 1261.7h16.2v15h-16.2zM1744.5 1276.7h48.5v15h-48.5zM1906 1276.7h16.2v15h-16.2zM1970.7 1276.7h16.2v15h-16.2zM2019.1 1276.7h16.2v15h-16.2zM2212.9 1276.7h32.3v15h-32.3zM1712.2 1291.7h64.6v15h-64.6zM1906 1291.7h16.2v15h-16.2zM2019.1 1291.7h16.2v15h-16.2zM2229.1 1291.7h48.5v15h-48.5zM1696.1 1306.7h48.5v15h-48.5zM1906 1306.7h16.2v15h-16.2zM2083.7 1306.7h16.2v15h-16.2zM2261.4 1306.7h48.5v15h-48.5zM1679.9 1321.8h32.3v15h-32.3zM1906 1321.8h16.2v15h-16.2zM2083.7 1321.8h16.2v15h-16.2zM2277.6 1321.8h48.5v15h-48.5zM1663.8 1336.8h32.3v15h-32.3zM1986.8 1336.8h32.3v15h-32.3zM2083.7 1336.8h16.2v15h-16.2zM2293.7 1336.8h48.5v15h-48.5zM1647.6 1351.8h32.3v15h-32.3zM1889.9 1351.8h16.2v15h-16.2zM2083.7 1351.8h16.2v15h-16.2zM2309.9 1351.8h32.3v15h-32.3zM1647.6 1366.9h32.3v15h-32.3zM1889.9 1366.9h16.2v15h-16.2zM2083.7 1366.9h16.2v15h-16.2zM2326 1366.9h32.3v15h-32.3zM1631.5 1381.9h32.3v15h-32.3zM1889.9 1381.9h16.2v15h-16.2zM2083.7 1381.9h16.2v15h-16.2zM2326 1381.9h32.3v15h-32.3zM1631.5 1396.9h32.3v15h-32.3zM1889.9 1396.9h16.2v15h-16.2zM2083.7 1396.9h32.3v15h-32.3zM2342.2 1396.9h16.2v15h-16.2zM1631.5 1411.9h32.3v15h-32.3zM1889.9 1411.9h16.2v15h-16.2zM2083.7 1411.9h32.3v15h-32.3zM2342.2 1411.9h16.2v15h-16.2zM1631.5 1427h32.3v15h-32.3zM1889.9 1427h16.2v15h-16.2zM2083.7 1427h32.3v15h-32.3zM2342.2 1427h16.2v15h-16.2zM1631.5 1442h32.3v15h-32.3zM1873.7 1442h32.3v15h-32.3zM2099.9 1442h16.2v15h-16.2zM2342.2 1442h16.2v15h-16.2zM1631.5 1457h32.3v15h-32.3zM1873.7 1457h32.3v15h-32.3zM2099.9 1457h16.2v15h-16.2zM2342.2 1457h16.2v15h-16.2zM1647.6 1472.1h16.2v15h-16.2zM1873.7 1472.1h16.2v15h-16.2zM2099.9 1472.1h32.3v15h-32.3zM2326 1472.1h32.3v15h-32.3zM1647.6 1487.1h32.3v15h-32.3zM1857.6 1487.1h32.3v15h-32.3zM2116 1487.1h16.2v15h-16.2zM2326 1487.1h32.3v15h-32.3zM1647.6 1502.1h32.3v15h-32.3zM1857.6 1502.1h16.2v15h-16.2zM2116 1502.1h32.3v15h-32.3zM2326 1502.1h16.2v15h-16.2zM1647.6 1517.1h32.3v15h-32.3zM1841.4 1517.1h32.3v15h-32.3zM2132.2 1517.1h16.2v15h-16.2zM2309.9 1517.1h32.3v15h-32.3z"/>
<path fill="#4c4c4c" d="M1986.8 1096.3h32.3v15h-32.3zM2019.1 1141.4h16.2v15h-16.2zM1970.7 1156.5h16.2v15h-16.2zM2019.1 1156.5h16.2v15h-16.2zM1970.7 1171.5h16.2v15h-16.2zM2019.1 1171.5h16.2v15h-16.2zM1970.7 1186.5h16.2v15h-16.2zM2019.1 1186.5h16.2v15h-16.2zM1970.7 1201.5h16.2v15h-16.2zM1809.1 1216.6h96.9v15h-96.9zM1970.7 1216.6h16.2v15h-16.2zM2099.9 1216.6h96.9v15h-96.9zM1760.7 1231.6h64.6v15h-64.6zM1889.9 1231.6h32.3v15h-32.3zM1970.7 1231.6h16.2v15h-16.2zM2083.7 1231.6h16.2v15h-16.2zM2180.6 1231.6h48.5v15h-48.5zM1712.2 1246.6h80.8v15h-80.8zM1906 1246.6h32.3v15h-32.3zM1970.7 1246.6h16.2v15h-16.2zM2067.6 1246.6h16.2v15h-16.2zM2196.8 1246.6h96.9v15h-96.9zM1679.9 1261.7h96.9v15h-96.9zM1922.2 1261.7h16.2v15h-16.2zM1970.7 1261.7h16.2v15h-16.2zM2067.6 1261.7h16.2v15h-16.2zM2212.9 1261.7h113.1v15h-113.1zM1663.8 1276.7h80.8v15h-80.8zM1922.2 1276.7h16.2v15h-16.2zM2051.4 1276.7h32.3v15h-32.3zM2245.2 1276.7h96.9v15h-96.9zM1647.6 1291.7h64.6v15h-64.6zM1922.2 1291.7h16.2v15h-16.2zM1970.7 1291.7h16.2v15h-16.2zM2051.4 1291.7h32.3v15h-32.3zM2277.6 1291.7h80.8v15h-80.8zM1631.5 1306.7h64.6v15h-64.6zM1922.2 1306.7h16.2v15h-16.2zM1970.7 1306.7h16.2v15h-16.2zM2019.1 1306.7h16.2v15h-16.2zM2051.4 1306.7h32.3v15h-32.3zM2309.9 1306.7h48.5v15h-48.5zM1631.5 1321.8h48.5v15h-48.5zM1922.2 1321.8h16.2v15h-16.2zM1970.7 1321.8h16.2v15h-16.2zM2019.1 1321.8h16.2v15h-16.2zM2051.4 1321.8h32.3v15h-32.3zM2326 1321.8h48.5v15h-48.5zM1615.3 1336.8h48.5v15h-48.5zM1906 1336.8h32.3v15h-32.3zM1970.7 1336.8h16.2v15h-16.2zM2019.1 1336.8h16.2v15h-16.2zM2051.4 1336.8h32.3v15h-32.3zM2342.2 1336.8h32.3v15h-32.3zM1615.3 1351.8h32.3v15h-32.3zM1906 1351.8h32.3v15h-32.3zM1986.8 1351.8h32.3v15h-32.3zM2051.4 1351.8h32.3v15h-32.3zM2342.2 1351.8h48.5v15h-48.5zM1615.3 1366.9h32.3v15h-32.3zM1906 1366.9h48.5v15h-48.5zM1986.8 1366.9h32.3v15h-32.3zM2051.4 1366.9h32.3v15h-32.3zM2358.3 1366.9h32.3v15h-32.3zM1599.1 1381.9h32.3v15h-32.3zM1906 1381.9h48.5v15h-48.5zM2051.4 1381.9h32.3v15h-32.3zM2358.3 1381.9h32.3v15h-32.3zM1599.1 1396.9h32.3v15h-32.3zM1906 1396.9h48.5v15h-48.5zM2051.4 1396.9h32.3v15h-32.3zM2358.3 1396.9h32.3v15h-32.3zM1599.1 1411.9h32.3v15h-32.3zM1906 1411.9h48.5v15h-48.5zM2051.4 1411.9h32.3v15h-32.3zM2358.3 1411.9h32.3v15h-32.3zM1599.1 1427h32.3v15h-32.3zM1906 1427h48.5v15h-48.5zM2051.4 1427h32.3v15h-32.3zM2358.3 1427h32.3v15h-32.3zM1599.1 1442h32.3v15h-32.3zM1906 1442h48.5v15h-48.5zM2051.4 1442h48.5v15h-48.5zM2358.3 1442h32.3v15h-32.3zM1599.1 1457h32.3v15h-32.3zM1906 1457h32.3v15h-32.3zM2051.4 1457h48.5v15h-48.5zM2358.3 1457h32.3v15h-32.3zM1599.1 1472.1h48.5v15h-48.5zM1889.9 1472.1h48.5v15h-48.5zM2067.6 1472.1h32.3v15h-32.3zM2358.3 1472.1h32.3v15h-32.3zM1615.3 1487.1h32.3v15h-32.3zM1889.9 1487.1h32.3v15h-32.3zM2083.7 1487.1h32.3v15h-32.3zM2358.3 1487.1h32.3v15h-32.3zM1615.3 1502.1h32.3v15h-32.3zM1873.7 1502.1h32.3v15h-32.3zM2099.9 1502.1h16.2v15h-16.2zM2342.2 1502.1h48.5v15h-48.5zM1615.3 1517.1h32.3v15h-32.3zM1873.7 1517.1h32.3v15h-32.3zM2099.9 1517.1h32.3v15h-32.3zM2342.2 1517.1h48.5v15h-48.5z"/>
<path fill="#545454" d="M1970.7 1111.4h16.2v15h-16.2zM2019.1 1111.4h16.2v15h-16.2zM1970.7 1126.4h16.2v15h-16.2zM2019.1 1126.4h16.2v15h-16.2zM1728.4 1141.4h80.8v15h-80.8zM1970.7 1141.4h16.2v15h-16.2zM2196.8 1141.4h64.6v15h-64.6zM1615.3 1156.5h306.9v15h-306.9zM1954.5 1156.5h16.2v15h-16.2zM2035.3 1156.5h16.2v15h-16.2zM2067.6 1156.5h323.1v15h-323.1zM1615.3 1171.5h355.4v15h-355.4zM2035.3 1171.5h355.4v15h-355.4zM1599.1 1186.5h371.5v15h-371.5zM2035.3 1186.5h355.4v15h-355.4zM1599.1 1201.5h371.5v15h-371.5zM2035.3 1201.5h355.4v15h-355.4zM1599.1 1216.6h210v15h-210zM1906 1216.6h64.6v15h-64.6zM2035.3 1216.6h64.6v15h-64.6zM2196.8 1216.6h193.8v15h-193.8zM1599.1 1231.6h161.5v15h-161.5zM1922.2 1231.6h48.5v15h-48.5zM2035.3 1231.6h48.5v15h-48.5zM2229.1 1231.6h177.7v15h-177.7zM1599.1 1246.6h113.1v15h-113.1zM1938.4 1246.6h32.3v15h-32.3zM2035.3 1246.6h32.3v15h-32.3zM2293.7 1246.6h113.1v15h-113.1zM1599.1 1261.7h80.8v15h-80.8zM1938.4 1261.7h32.3v15h-32.3zM2035.3 1261.7h32.3v15h-32.3zM2326 1261.7h80.8v15h-80.8zM1583 1276.7h80.8v15h-80.8zM1938.4 1276.7h32.3v15h-32.3zM2035.3 1276.7h16.2v15h-16.2zM2342.2 1276.7h64.6v15h-64.6zM1583 1291.7h64.6v15h-64.6zM1938.4 1291.7h32.3v15h-32.3zM2035.3 1291.7h16.2v15h-16.2zM2358.3 1291.7h48.5v15h-48.5zM1583 1306.7h48.5v15h-48.5zM1938.4 1306.7h32.3v15h-32.3zM2035.3 1306.7h16.2v15h-16.2zM2358.3 1306.7h48.5v15h-48.5zM1583 1321.8h48.5v15h-48.5zM1938.4 1321.8h32.3v15h-32.3zM2035.3 1321.8h16.2v15h-16.2zM2374.5 1321.8h48.5v15h-48.5zM1583 1336.8h32.3v15h-32.3zM1938.4 1336.8h32.3v15h-32.3zM2035.3 1336.8h16.2v15h-16.2zM2374.5 1336.8h48.5v15h-48.5zM1583 1351.8h32.3v15h-32.3zM1938.4 1351.8h48.5v15h-48.5zM2019.1 1351.8h32.3v15h-32.3zM2390.6 1351.8h32.3v15h-32.3zM1583 1366.9h32.3v15h-32.3zM1954.5 1366.9h32.3v15h-32.3zM2019.1 1366.9h32.3v15h-32.3zM2390.6 1366.9h32.3v15h-32.3zM1583 1381.9h16.2v15h-16.2zM1954.5 1381.9h96.9v15h-96.9zM2390.6 1381.9h32.3v15h-32.3zM1566.8 1396.9h32.3v15h-32.3zM1954.5 1396.9h96.9v15h-96.9zM2390.6 1396.9h32.3v15h-32.3zM1566.8 1411.9h32.3v15h-32.3zM1954.5 1411.9h96.9v15h-96.9zM2390.6 1411.9h32.3v15h-32.3zM1566.8 1427h32.3v15h-32.3zM1954.5 1427h96.9v15h-96.9zM2390.6 1427h32.3v15h-32.3zM1566.8 1442h32.3v15h-32.3zM1954.5 1442h96.9v15h-96.9zM2390.6 1442h32.3v15h-32.3zM1583 1457h16.2v15h-16.2zM1938.4 1457h113.1v15h-113.1zM2390.6 1457h32.3v15h-32.3zM1583 1472.1h16.2v15h-16.2zM1938.4 1472.1h129.2v15h-129.2zM2390.6 1472.1h32.3v15h-32.3zM1583 1487.1h32.3v15h-32.3zM1922.2 1487.1h48.5v15h-48.5zM2035.3 1487.1h48.5v15h-48.5zM2390.6 1487.1h32.3v15h-32.3zM1583 1502.1h32.3v15h-32.3zM1906 1502.1h32.3v15h-32.3zM2067.6 1502.1h32.3v15h-32.3zM2390.6 1502.1h32.3v15h-32.3zM1583 1517.1h32.3v15h-32.3zM1906 1517.1h32.3v15h-32.3zM2067.6 1517.1h32.3v15h-32.3zM2390.6 1517.1h32.3v15h-32.3z"/>
<path fill="#5c5c5c" d="M1986.8 1081.3h32.3v15h-32.3zM1566.8 1096.3h290.7v15h-290.7zM1970.7 1096.3h16.2v15h-16.2zM2019.1 1096.3h16.2v15h-16.2zM2132.2 1096.3h306.9v15h-306.9zM1566.8 1111.4h403.8v15h-403.8zM2035.3 1111.4h403.8v15h-403.8zM1566.8 1126.4h403.8v15h-403.8zM2035.3 1126.4h403.8v15h-403.8zM1566.8 1141.4h161.5v15h-161.5zM1809.1 1141.4h161.5v15h-161.5zM2035.3 1141.4h161.5v15h-161.5zM2261.4 1141.4h177.7v15h-177.7zM1566.8 1156.5h48.5v15h-48.5zM1922.2 1156.5h32.3v15h-32.3zM2051.4 1156.5h16.2v15h-16.2zM2390.6 1156.5h48.5v15h-48.5zM1566.8 1171.5h48.5v15h-48.5zM2390.6 1171.5h48.5v15h-48.5zM1566.8 1186.5h32.3v15h-32.3zM2390.6 1186.5h48.5v15h-48.5zM1566.8 1201.5h32.3v15h-32.3zM2390.6 1201.5h48.5v15h-48.5zM1566.8 1216.6h32.3v15h-32.3zM2390.6 1216.6h48.5v15h-48.5zM1566.8 1231.6h32.3v15h-32.3zM2406.8 1231.6h32.3v15h-32.3zM1566.8 1246.6h32.3v15h-32.3zM2406.8 1246.6h32.3v15h-32.3zM1566.8 1261.7h32.3v15h-32.3zM2406.8 1261.7h32.3v15h-32.3zM1566.8 1276.7h16.2v15h-16.2zM2406.8 1276.7h32.3v15h-32.3zM1566.8 1291.7h16.2v15h-16.2zM2406.8 1291.7h32.3v15h-32.3zM1566.8 1306.7h16.2v15h-16.2zM2406.8 1306.7h32.3v15h-32.3zM1550.7 1321.8h32.3v15h-32.3zM2422.9 1321.8h16.2v15h-16.2zM1550.7 1336.8h32.3v15h-32.3zM2422.9 1336.8h16.2v15h-16.2zM1550.7 1351.8h32.3v15h-32.3zM2422.9 1351.8h16.2v15h-16.2zM1550.7 1366.9h32.3v15h-32.3zM2422.9 1366.9h16.2v15h-16.2zM1550.7 1381.9h32.3v15h-32.3zM2422.9 1381.9h16.2v15h-16.2zM1550.7 1396.9h16.2v15h-16.2zM2422.9 1396.9h16.2v15h-16.2zM1550.7 1411.9h16.2v15h-16.2zM2422.9 1411.9h16.2v15h-16.2zM1550.7 1427h16.2v15h-16.2zM2422.9 1427h16.2v15h-16.2zM1550.7 1442h16.2v15h-16.2zM2422.9 1442h16.2v15h-16.2zM1550.7 1457h32.3v15h-32.3zM2422.9 1457h16.2v15h-16.2zM1550.7 1472.1h32.3v15h-32.3zM2422.9 1472.1h16.2v15h-16.2zM1550.7 1487.1h32.3v15h-32.3zM1970.7 1487.1h64.6v15h-64.6zM2422.9 1487.1h16.2v15h-16.2zM1550.7 1502.1h32.3v15h-32.3zM1938.4 1502.1h48.5v15h-48.5zM2019.1 1502.1h48.5v15h-48.5zM2422.9 1502.1h16.2v15h-16.2zM1550.7 1517.1h32.3v15h-32.3zM1938.4 1517.1h32.3v15h-32.3zM2035.3 1517.1h32.3v15h-32.3zM2422.9 1517.1h16.2v15h-16.2z"/>
<path fill="#646464" d="M1550.7 1081.3h339.2v15h-339.2zM1970.7 1081.3h16.2v15h-16.2zM2019.1 1081.3h16.2v15h-16.2zM2116 1081.3h339.2v15h-339.2zM1550.7 1096.3h16.2v15h-16.2zM1857.6 1096.3h113.1v15h-113.1zM2035.3 1096.3h96.9v15h-96.9zM2439.1 1096.3h16.2v15h-16.2zM1550.7 1111.4h16.2v15h-16.2zM2439.1 1111.4h16.2v15h-16.2zM1550.7 1126.4h16.2v15h-16.2zM2439.1 1126.4h16.2v15h-16.2zM1550.7 1141.4h16.2v15h-16.2zM2439.1 1141.4h16.2v15h-16.2zM1550.7 1156.5h16.2v15h-16.2zM2439.1 1156.5h16.2v15h-16.2zM1550.7 1171.5h16.2v15h-16.2zM2439.1 1171.5h16.2v15h-16.2zM1550.7 1186.5h16.2v15h-16.2zM2439.1 1186.5h16.2v15h-16.2zM1550.7 1201.5h16.2v15h-16.2zM2439.1 1201.5h16.2v15h-16.2zM1550.7 1216.6h16.2v15h-16.2zM2439.1 1216.6h16.2v15h-16.2zM1550.7 1231.6h16.2v15h-16.2zM2439.1 1231.6h16.2v15h-16.2zM1550.7 1246.6h16.2v15h-16.2zM2439.1 1246.6h16.2v15h-16.2zM1550.7 1261.7h16.2v15h-16.2zM2439.1 1261.7h16.2v15h-16.2zM1550.7 1276.7h16.2v15h-16.2zM2439.1 1276.7h16.2v15h-16.2zM1550.7 1291.7h16.2v15h-16.2zM2439.1 1291.7h16.2v15h-16.2zM1550.7 1306.7h16.2v15h-16.2zM2439.1 1306.7h16.2v15h-16.2zM2439.1 1321.8h16.2v15h-16.2zM2439.1 1336.8h16.2v15h-16.2zM2439.1 1351.8h16.2v15h-16.2zM2439.1 1366.9h16.2v15h-16.2zM2439.1 1381.9h16.2v15h-16.2zM2439.1 1396.9h16.2v15h-16.2zM2439.1 1411.9h16.2v15h-16.2zM2439.1 1427h16.2v15h-16.2zM2439.1 1442h16.2v15h-16.2zM2439.1 1457h16.2v15h-16.2zM2439.1 1472.1h16.2v15h-16.2zM2439.1 1487.1h16.2v15h-16.2zM1986.8 1502.1h32.3v15h-32.3zM2439.1 1502.1h16.2v15h-16.2zM1970.7 1517.1h64.6v15h-64.6zM2439.1 1517.1h16.2v15h-16.2z"/>
<path fill="#6c6c6c" d="M1986.8 1066.3h32.3v15h-32.3zM1534.5 1081.3h16.2v15h-16.2zM1889.9 1081.3h32.3v15h-32.3zM1938.4 1081.3h32.3v15h-32.3zM2035.3 1081.3h16.2v15h-16.2zM2067.6 1081.3h48.5v15h-48.5zM1534.5 1096.3h16.2v15h-16.2zM1534.5 1111.4h16.2v15h-16.2zM1534.5 1126.4h16.2v15h-16.2zM1534.5 1141.4h16.2v15h-16.2zM1534.5 1156.5h16.2v15h-16.2zM1534.5 1171.5h16.2v15h-16.2zM1534.5 1186.5h16.2v15h-16.2zM1534.5 1201.5h16.2v15h-16.2zM1534.5 1216.6h16.2v15h-16.2zM2455.2 1216.6h16.2v15h-16.2zM1534.5 1231.6h16.2v15h-16.2zM2455.2 1231.6h16.2v15h-16.2zM1534.5 1246.6h16.2v15h-16.2zM2455.2 1246.6h16.2v15h-16.2zM1534.5 1261.7h16.2v15h-16.2zM2455.2 1261.7h16.2v15h-16.2zM1534.5 1276.7h16.2v15h-16.2zM2455.2 1276.7h16.2v15h-16.2zM1534.5 1291.7h16.2v15h-16.2zM2455.2 1291.7h16.2v15h-16.2zM1534.5 1306.7h16.2v15h-16.2zM2455.2 1306.7h16.2v15h-16.2zM1534.5 1321.8h16.2v15h-16.2zM2455.2 1321.8h16.2v15h-16.2zM1534.5 1336.8h16.2v15h-16.2zM2455.2 1336.8h16.2v15h-16.2zM1534.5 1351.8h16.2v15h-16.2zM2455.2 1351.8h16.2v15h-16.2zM1534.5 1366.9h16.2v15h-16.2zM2455.2 1366.9h16.2v15h-16.2zM1534.5 1381.9h16.2v15h-16.2zM2455.2 1381.9h16.2v15h-16.2zM1534.5 1396.9h16.2v15h-16.2zM2455.2 1396.9h16.2v15h-16.2zM1534.5 1411.9h16.2v15h-16.2zM2455.2 1411.9h16.2v15h-16.2zM1534.5 1427h16.2v15h-16.2zM2455.2 1427h16.2v15h-16.2zM1534.5 1442h16.2v15h-16.2zM2455.2 1442h16.2v15h-16.2zM1534.5 1457h16.2v15h-16.2zM2455.2 1457h16.2v15h-16.2zM1534.5 1472.1h16.2v15h-16.2zM2455.2 1472.1h16.2v15h-16.2zM1534.5 1487.1h16.2v15h-16.2zM2455.2 1487.1h16.2v15h-16.2zM1534.5 1502.1h16.2v15h-16.2zM2455.2 1502.1h16.2v15h-16.2zM1534.5 1517.1h16.2v15h-16.2zM2455.2 1517.1h16.2v15h-16.2z"/>
<path fill="#747474" d="M1534.5 1066.3h371.5v15h-371.5zM1970.7 1066.3h16.2v15h-16.2zM2019.1 1066.3h16.2v15h-16.2zM2099.9 1066.3h355.4v15h-355.4zM1922.2 1081.3h16.2v15h-16.2zM2051.4 1081.3h16.2v15h-16.2zM2455.2 1081.3h16.2v15h-16.2zM2455.2 1096.3h16.2v15h-16.2zM2455.2 1111.4h16.2v15h-16.2zM2455.2 1126.4h16.2v15h-16.2zM2455.2 1141.4h16.2v15h-16.2zM2455.2 1156.5h16.2v15h-16.2zM2455.2 1171.5h16.2v15h-16.2zM2455.2 1186.5h16.2v15h-16.2zM2455.2 1201.5h16.2v15h-16.2z"/>
<path fill="#7c7c7c" d="M1906 1066.3h16.2v15h-16.2zM1954.5 1066.3h16.2v15h-16.2zM2035.3 1066.3h16.2v15h-16.2zM2083.7 1066.3h16.2v15h-16.2zM2455.2 1066.3h16.2v15h-16.2zM1518.4 1081.3h16.2v15h-16.2zM1518.4 1096.3h16.2v15h-16.2zM1518.4 1111.4h16.2v15h-16.2zM1518.4 1126.4h16.2v15h-16.2zM1518.4 1141.4h16.2v15h-16.2zM1518.4 1156.5h16.2v15h-16.2zM1518.4 1171.5h16.2v15h-16.2zM1518.4 1186.5h16.2v15h-16.2zM1518.4 1201.5h16.2v15h-16.2zM1518.4 1216.6h16.2v15h-16.2zM1518.4 1231.6h16.2v15h-16.2zM1518.4 1246.6h16.2v15h-16.2zM1518.4 1261.7h16.2v15h-16.2zM1518.4 1276.7h16.2v15h-16.2zM1518.4 1291.7h16.2v15h-16.2zM1518.4 1306.7h16.2v15h-16.2zM1518.4 1321.8h16.2v15h-16.2zM1518.4 1336.8h16.2v15h-16.2zM1518.4 1351.8h16.2v15h-16.2zM1518.4 1366.9h16.2v15h-16.2zM1518.4 1381.9h16.2v15h-16.2zM1518.4 1396.9h16.2v15h-16.2zM1518.4 1411.9h16.2v15h-16.2zM1518.4 1427h16.2v15h-16.2zM1518.4 1442h16.2v15h-16.2zM1518.4 1457h16.2v15h-16.2zM1518.4 1472.1h16.2v15h-16.2zM1518.4 1487.1h16.2v15h-16.2zM1518.4 1502.1h16.2v15h-16.2zM1518.4 1517.1h16.2v15h-16.2z"/>
<path fill="#848484" d="M1534.5 1051.3h355.4v15h-355.4zM1986.8 1051.3h32.3v15h-32.3zM2116 1051.3h339.2v15h-339.2zM1518.4 1066.3h16.2v15h-16.2zM1922.2 1066.3h32.3v15h-32.3zM2051.4 1066.3h32.3v15h-32.3zM2471.4 1081.3h16.2v15h-16.2zM2471.4 1096.3h16.2v15h-16.2zM2471.4 1111.4h16.2v15h-16.2zM2471.4 1126.4h16.2v15h-16.2zM2471.4 1141.4h16.2v15h-16.2zM2471.4 1156.5h16.2v15h-16.2zM2471.4 1171.5h16.2v15h-16.2zM2471.4 1186.5h16.2v15h-16.2zM2471.4 1201.5h16.2v15h-16.2zM2471.4 1216.6h16.2v15h-16.2zM2471.4 1231.6h16.2v15h-16.2zM2471.4 1246.6h16.2v15h-16.2zM2471.4 1261.7h16.2v15h-16.2zM2471.4 1276.7h16.2v15h-16.2zM2471.4 1291.7h16.2v15h-16.2zM2471.4 1306.7h16.2v15h-16.2zM2471.4 1321.8h16.2v15h-16.2zM2471.4 1336.8h16.2v15h-16.2zM2471.4 1351.8h16.2v15h-16.2zM2471.4 1366.9h16.2v15h-16.2zM2471.4 1381.9h16.2v15h-16.2zM2471.4 1396.9h16.2v15h-16.2zM2471.4 1411.9h16.2v15h-16.2zM2471.4 1427h16.2v15h-16.2zM2471.4 1442h16.2v15h-16.2zM2471.4 1457h16.2v15h-16.2zM2471.4 1472.1h16.2v15h-16.2zM2471.4 1487.1h16.2v15h-16.2zM2471.4 1502.1h16.2v15h-16.2zM2471.4 1517.1h16.2v15h-16.2z"/>
<path fill="#8c8c8c" d="M1889.9 1051.3h16.2v15h-16.2zM1970.7 1051.3h16.2v15h-16.2zM2019.1 1051.3h16.2v15h-16.2zM2099.9 1051.3h16.2v15h-16.2z"/>
<path fill="#949494" d="M1954.5 1051.3h16.2v15h-16.2zM2083.7 1051.3h16.2v15h-16.2zM2455.2 1051.3h16.2v15h-16.2zM2471.4 1066.3h16.2v15h-16.2zM1502.2 1081.3h16.2v15h-16.2zM1502.2 1096.3h16.2v15h-16.2zM1502.2 1111.4h16.2v15h-16.2zM1502.2 1126.4h16.2v15h-16.2zM1502.2 1141.4h16.2v15h-16.2zM1502.2 1156.5h16.2v15h-16.2zM1502.2 1171.5h16.2v15h-16.2zM1502.2 1186.5h16.2v15h-16.2zM1502.2 1201.5h16.2v15h-16.2zM1502.2 1216.6h16.2v15h-16.2zM1502.2 1231.6h16.2v15h-16.2zM1502.2 1246.6h16.2v15h-16.2zM1502.2 1261.7h16.2v15h-16.2zM1502.2 1276.7h16.2v15h-16.2zM1502.2 1291.7h16.2v15h-16.2zM1502.2 1306.7h16.2v15h-16.2zM1502.2 1321.8h16.2v15h-16.2zM1502.2 1336.8h16.2v15h-16.2zM1502.2 1351.8h16.2v15h-16.2zM1502.2 1366.9h16.2v15h-16.2zM1502.2 1381.9h16.2v15h-16.2zM1502.2 1396.9h16.2v15h-16.2zM1502.2 1411.9h16.2v15h-16.2zM1502.2 1427h16.2v15h-16.2zM1502.2 1442h16.2v15h-16.2zM1502.2 1457h16.2v15h-16.2zM1502.2 1472.1h16.2v15h-16.2zM1502.2 1487.1h16.2v15h-16.2zM1502.2 1502.1h16.2v15h-16.2zM1502.2 1517.1h16.2v15h-16.2z"/>
<path fill="#9c9c9c" d="M1550.7 1036.2h323.1v15h-323.1zM2132.2 1036.2h323.1v15h-323.1zM1906 1051.3h16.2v15h-16.2zM1938.4 1051.3h16.2v15h-16.2zM2035.3 1051.3h16.2v15h-16.2zM2067.6 1051.3h16.2v15h-16.2z"/>
<path fill="#a4a4a4" d="M1534.5 1036.2h16.2v15h-16.2zM1873.7 1036.2h16.2v15h-16.2zM1986.8 1036.2h32.3v15h-32.3zM2116 1036.2h16.2v15h-16.2zM1518.4 1051.3h16.2v15h-16.2zM1922.2 1051.3h16.2v15h-16.2zM2051.4 1051.3h16.2v15h-16.2z"/>
<path fill="#acacac" d="M1970.7 1036.2h16.2v15h-16.2zM2099.9 1036.2h16.2v15h-16.2zM1502.2 1066.3h16.2v15h-16.2z"/>
<path fill="#b4b4b4" d="M1889.9 1036.2h16.2v15h-16.2zM2019.1 1036.2h16.2v15h-16.2zM2455.2 1036.2h16.2v15h-16.2z"/>
<path fill="#bcbcbc" d="M1954.5 1036.2h16.2v15h-16.2zM2083.7 1036.2h16.2v15h-16.2zM2471.4 1051.3h16.2v15h-16.2z"/>
<path fill="#cccccc" d="M1906 1036.2h16.2v15h-16.2zM2035.3 1036.2h16.2v15h-16.2z"/>
<path fill="#d4d4d4" d="M1922.2 1036.2h32.3v15h-32.3zM2051.4 1036.2h32.3v15h-32.3z"/>
<path fill="#dcdcdc" d="M1518.4 1036.2h16.2v15h-16.2z"/>
<path fill="#ececec" d="M1502.2 1051.3h16.2v15h-16.2z"/>
<path fill="#fcfcfc" d="M1502.2 1036.2h16.2v15h-16.2zM2471.4 1036.2h16.2v15h-16.2z"/>
</g></g>
<clipPath id="clB2"><rect x="1538" y="1516.1" width="923" height="369.3"/></clipPath>
<g clip-path="url(#clB2)"><g filter="url(#cmB)">
<path fill="#242424" d="M1954.5 1905.8h16.2v15h-16.2zM2035.3 1905.8h16.2v15h-16.2z"/>
<path fill="#343434" d="M1938.4 1905.8h16.2v15h-16.2zM1970.7 1905.8h16.2v15h-16.2zM2019.1 1905.8h16.2v15h-16.2zM2051.4 1905.8h16.2v15h-16.2z"/>
<path fill="#444444" d="M1502.2 1905.8h436.1v15h-436.1zM1986.8 1905.8h32.3v15h-32.3zM2067.6 1905.8h420v15h-420z"/>
<path fill="#4c4c4c" d="M1954.5 1890.7h16.2v15h-16.2zM2035.3 1890.7h16.2v15h-16.2z"/>
<path fill="#5c5c5c" d="M1502.2 1785.5h16.2v15h-16.2zM1502.2 1800.6h16.2v15h-16.2zM1502.2 1815.6h16.2v15h-16.2zM1502.2 1830.6h16.2v15h-16.2zM1502.2 1845.6h16.2v15h-16.2zM1502.2 1860.7h16.2v15h-16.2zM1502.2 1875.7h16.2v15h-16.2zM1502.2 1890.7h16.2v15h-16.2zM1938.4 1890.7h16.2v15h-16.2zM1970.7 1890.7h16.2v15h-16.2zM2019.1 1890.7h16.2v15h-16.2zM2051.4 1890.7h16.2v15h-16.2z"/>
<path fill="#646464" d="M1502.2 1590.1h16.2v15h-16.2zM1502.2 1605.2h16.2v15h-16.2zM1502.2 1620.2h16.2v15h-16.2zM1502.2 1635.2h16.2v15h-16.2zM1502.2 1650.3h16.2v15h-16.2zM1502.2 1665.3h16.2v15h-16.2zM1502.2 1680.3h16.2v15h-16.2zM1502.2 1695.4h16.2v15h-16.2zM1502.2 1710.4h16.2v15h-16.2zM1502.2 1725.4h16.2v15h-16.2zM1502.2 1740.4h16.2v15h-16.2zM1502.2 1755.5h16.2v15h-16.2zM1502.2 1770.5h16.2v15h-16.2zM1954.5 1875.7h16.2v15h-16.2zM2035.3 1875.7h16.2v15h-16.2zM2067.6 1890.7h16.2v15h-16.2z"/>
<path fill="#6c6c6c" d="M1502.2 1500h16.2v15h-16.2zM1502.2 1515h16.2v15h-16.2zM1502.2 1530h16.2v15h-16.2zM1502.2 1545.1h16.2v15h-16.2zM1502.2 1560.1h16.2v15h-16.2zM1502.2 1575.1h16.2v15h-16.2zM2471.4 1755.5h16.2v15h-16.2zM2471.4 1770.5h16.2v15h-16.2zM2471.4 1785.5h16.2v15h-16.2zM2471.4 1800.6h16.2v15h-16.2zM2471.4 1815.6h16.2v15h-16.2zM2471.4 1830.6h16.2v15h-16.2zM2471.4 1845.6h16.2v15h-16.2zM1954.5 1860.7h16.2v15h-16.2zM2035.3 1860.7h16.2v15h-16.2zM2471.4 1860.7h16.2v15h-16.2zM2051.4 1875.7h16.2v15h-16.2zM2471.4 1875.7h16.2v15h-16.2zM1518.4 1890.7h420v15h-420zM1986.8 1890.7h32.3v15h-32.3zM2083.7 1890.7h403.8v15h-403.8z"/>
<path fill="#747474" d="M2471.4 1500h16.2v15h-16.2zM2471.4 1515h16.2v15h-16.2zM2471.4 1560.1h16.2v15h-16.2zM2471.4 1575.1h16.2v15h-16.2zM2471.4 1590.1h16.2v15h-16.2zM2471.4 1605.2h16.2v15h-16.2zM2471.4 1620.2h16.2v15h-16.2zM2471.4 1635.2h16.2v15h-16.2zM2471.4 1650.3h16.2v15h-16.2zM2471.4 1665.3h16.2v15h-16.2zM2471.4 1680.3h16.2v15h-16.2zM2471.4 1695.4h16.2v15h-16.2zM2471.4 1710.4h16.2v15h-16.2zM2471.4 1725.4h16.2v15h-16.2zM2471.4 1740.4h16.2v15h-16.2zM1518.4 1770.5h16.2v15h-16.2zM1518.4 1785.5h16.2v15h-16.2zM1518.4 1800.6h16.2v15h-16.2zM1518.4 1815.6h16.2v15h-16.2zM1518.4 1830.6h16.2v15h-16.2zM1518.4 1845.6h16.2v15h-16.2zM1954.5 1845.6h16.2v15h-16.2zM2035.3 1845.6h16.2v15h-16.2zM1518.4 1860.7h16.2v15h-16.2zM1518.4 1875.7h16.2v15h-16.2zM1938.4 1875.7h16.2v15h-16.2zM1970.7 1875.7h16.2v15h-16.2zM2019.1 1875.7h16.2v15h-16.2z"/>
<path fill="#7c7c7c" d="M2471.4 1530h16.2v15h-16.2zM2471.4 1545.1h16.2v15h-16.2zM1518.4 1575.1h16.2v15h-16.2zM1518.4 1590.1h16.2v15h-16.2zM1518.4 1605.2h16.2v15h-16.2zM1518.4 1620.2h16.2v15h-16.2zM1518.4 1635.2h16.2v15h-16.2zM1518.4 1650.3h16.2v15h-16.2zM1518.4 1665.3h16.2v15h-16.2zM1518.4 1680.3h16.2v15h-16.2zM1518.4 1695.4h16.2v15h-16.2zM1518.4 1710.4h16.2v15h-16.2zM1518.4 1725.4h16.2v15h-16.2zM1518.4 1740.4h16.2v15h-16.2zM1518.4 1755.5h16.2v15h-16.2zM2455.2 1770.5h16.2v15h-16.2zM1954.5 1785.5h16.2v15h-16.2zM2455.2 1785.5h16.2v15h-16.2zM1954.5 1800.6h16.2v15h-16.2zM2035.3 1800.6h16.2v15h-16.2zM2455.2 1800.6h16.2v15h-16.2zM1954.5 1815.6h16.2v15h-16.2zM2035.3 1815.6h16.2v15h-16.2zM2455.2 1815.6h16.2v15h-16.2zM1954.5 1830.6h16.2v15h-16.2zM2035.3 1830.6h16.2v15h-16.2zM2455.2 1830.6h16.2v15h-16.2zM2455.2 1845.6h16.2v15h-16.2zM1938.4 1860.7h16.2v15h-16.2zM1970.7 1860.7h16.2v15h-16.2zM2051.4 1860.7h16.2v15h-16.2zM2455.2 1860.7h16.2v15h-16.2zM1922.2 1875.7h16.2v15h-16.2zM1986.8 1875.7h32.3v15h-32.3zM2067.6 1875.7h16.2v15h-16.2zM2455.2 1875.7h16.2v15h-16.2z"/>
<path fill="#848484" d="M1518.4 1500h16.2v15h-16.2zM1518.4 1515h16.2v15h-16.2zM1518.4 1530h16.2v15h-16.2zM1518.4 1545.1h16.2v15h-16.2zM1518.4 1560.1h16.2v15h-16.2zM2455.2 1590.1h16.2v15h-16.2zM2455.2 1605.2h16.2v15h-16.2zM2455.2 1620.2h16.2v15h-16.2zM2455.2 1635.2h16.2v15h-16.2zM2455.2 1650.3h16.2v15h-16.2zM2455.2 1665.3h16.2v15h-16.2zM2455.2 1680.3h16.2v15h-16.2zM2455.2 1695.4h16.2v15h-16.2zM2455.2 1710.4h16.2v15h-16.2zM1954.5 1725.4h16.2v15h-16.2zM2455.2 1725.4h16.2v15h-16.2zM1534.5 1740.4h16.2v15h-16.2zM1954.5 1740.4h16.2v15h-16.2zM2035.3 1740.4h16.2v15h-16.2zM2455.2 1740.4h16.2v15h-16.2zM1534.5 1755.5h16.2v15h-16.2zM1954.5 1755.5h16.2v15h-16.2zM2035.3 1755.5h16.2v15h-16.2zM2455.2 1755.5h16.2v15h-16.2zM1534.5 1770.5h16.2v15h-16.2zM1954.5 1770.5h16.2v15h-16.2zM2035.3 1770.5h16.2v15h-16.2zM1534.5 1785.5h16.2v15h-16.2zM2035.3 1785.5h16.2v15h-16.2zM1534.5 1800.6h16.2v15h-16.2zM1534.5 1815.6h16.2v15h-16.2zM2051.4 1815.6h16.2v15h-16.2zM1534.5 1830.6h16.2v15h-16.2zM2051.4 1830.6h16.2v15h-16.2zM2439.1 1830.6h16.2v15h-16.2zM1534.5 1845.6h16.2v15h-16.2zM1938.4 1845.6h16.2v15h-16.2zM1970.7 1845.6h16.2v15h-16.2zM2051.4 1845.6h16.2v15h-16.2zM2439.1 1845.6h16.2v15h-16.2zM1534.5 1860.7h16.2v15h-16.2zM2019.1 1860.7h16.2v15h-16.2zM2439.1 1860.7h16.2v15h-16.2zM1534.5 1875.7h387.7v15h-387.7zM2083.7 1875.7h371.5v15h-371.5z"/>
<path fill="#8c8c8c" d="M1534.5 1500h16.2v15h-16.2zM2455.2 1500h16.2v15h-16.2zM1534.5 1515h16.2v15h-16.2zM2455.2 1515h16.2v15h-16.2zM2455.2 1530h16.2v15h-16.2zM2455.2 1545.1h16.2v15h-16.2zM1534.5 1560.1h16.2v15h-16.2zM2455.2 1560.1h16.2v15h-16.2zM1534.5 1575.1h16.2v15h-16.2zM2455.2 1575.1h16.2v15h-16.2zM1534.5 1590.1h16.2v15h-16.2zM1534.5 1605.2h16.2v15h-16.2zM1534.5 1620.2h16.2v15h-16.2zM1534.5 1635.2h16.2v15h-16.2zM1534.5 1650.3h16.2v15h-16.2zM1954.5 1650.3h16.2v15h-16.2zM2035.3 1650.3h16.2v15h-16.2zM1534.5 1665.3h16.2v15h-16.2zM1954.5 1665.3h16.2v15h-16.2zM2035.3 1665.3h16.2v15h-16.2zM1534.5 1680.3h16.2v15h-16.2zM1954.5 1680.3h16.2v15h-16.2zM2035.3 1680.3h16.2v15h-16.2zM1534.5 1695.4h16.2v15h-16.2zM1954.5 1695.4h16.2v15h-16.2zM2035.3 1695.4h16.2v15h-16.2zM1534.5 1710.4h16.2v15h-16.2zM1954.5 1710.4h16.2v15h-16.2zM2035.3 1710.4h16.2v15h-16.2zM2439.1 1710.4h16.2v15h-16.2zM1534.5 1725.4h16.2v15h-16.2zM2035.3 1725.4h16.2v15h-16.2zM2439.1 1725.4h16.2v15h-16.2zM2439.1 1740.4h16.2v15h-16.2zM1550.7 1755.5h16.2v15h-16.2zM2051.4 1755.5h16.2v15h-16.2zM2439.1 1755.5h16.2v15h-16.2zM1550.7 1770.5h16.2v15h-16.2zM1938.4 1770.5h16.2v15h-16.2zM2051.4 1770.5h16.2v15h-16.2zM2439.1 1770.5h16.2v15h-16.2zM1550.7 1785.5h16.2v15h-16.2zM1938.4 1785.5h16.2v15h-16.2zM2051.4 1785.5h16.2v15h-16.2zM2439.1 1785.5h16.2v15h-16.2zM1550.7 1800.6h16.2v15h-16.2zM1938.4 1800.6h16.2v15h-16.2zM1970.7 1800.6h16.2v15h-16.2zM2051.4 1800.6h16.2v15h-16.2zM2422.9 1800.6h32.3v15h-32.3zM1550.7 1815.6h16.2v15h-16.2zM1938.4 1815.6h16.2v15h-16.2zM1970.7 1815.6h16.2v15h-16.2zM2422.9 1815.6h32.3v15h-32.3zM1550.7 1830.6h16.2v15h-16.2zM1938.4 1830.6h16.2v15h-16.2zM1970.7 1830.6h16.2v15h-16.2zM2019.1 1830.6h16.2v15h-16.2zM2422.9 1830.6h16.2v15h-16.2zM1550.7 1845.6h16.2v15h-16.2zM2019.1 1845.6h16.2v15h-16.2zM2422.9 1845.6h16.2v15h-16.2zM1550.7 1860.7h387.7v15h-387.7zM1986.8 1860.7h32.3v15h-32.3zM2067.6 1860.7h371.5v15h-371.5z"/>
<path fill="#949494" d="M2439.1 1500h16.2v15h-16.2zM2439.1 1515h16.2v15h-16.2zM1534.5 1530h16.2v15h-16.2zM2439.1 1530h16.2v15h-16.2zM1534.5 1545.1h16.2v15h-16.2zM2439.1 1545.1h16.2v15h-16.2zM2439.1 1560.1h16.2v15h-16.2zM2439.1 1575.1h16.2v15h-16.2zM1550.7 1590.1h16.2v15h-16.2zM2439.1 1590.1h16.2v15h-16.2zM1550.7 1605.2h16.2v15h-16.2zM2439.1 1605.2h16.2v15h-16.2zM1550.7 1620.2h16.2v15h-16.2zM2439.1 1620.2h16.2v15h-16.2zM1550.7 1635.2h16.2v15h-16.2zM1954.5 1635.2h16.2v15h-16.2zM2035.3 1635.2h16.2v15h-16.2zM2439.1 1635.2h16.2v15h-16.2zM1550.7 1650.3h16.2v15h-16.2zM2051.4 1650.3h16.2v15h-16.2zM2439.1 1650.3h16.2v15h-16.2zM1550.7 1665.3h16.2v15h-16.2zM2051.4 1665.3h16.2v15h-16.2zM2422.9 1665.3h32.3v15h-32.3zM1550.7 1680.3h16.2v15h-16.2zM2051.4 1680.3h16.2v15h-16.2zM2422.9 1680.3h32.3v15h-32.3zM1550.7 1695.4h16.2v15h-16.2zM2051.4 1695.4h16.2v15h-16.2zM2422.9 1695.4h32.3v15h-32.3zM1550.7 1710.4h16.2v15h-16.2zM1938.4 1710.4h16.2v15h-16.2zM2051.4 1710.4h16.2v15h-16.2zM2422.9 1710.4h16.2v15h-16.2zM1550.7 1725.4h16.2v15h-16.2zM1938.4 1725.4h16.2v15h-16.2zM2051.4 1725.4h16.2v15h-16.2zM2422.9 1725.4h16.2v15h-16.2zM1550.7 1740.4h32.3v15h-32.3zM1938.4 1740.4h16.2v15h-16.2zM2051.4 1740.4h16.2v15h-16.2zM2422.9 1740.4h16.2v15h-16.2zM1566.8 1755.5h16.2v15h-16.2zM1938.4 1755.5h16.2v15h-16.2zM2422.9 1755.5h16.2v15h-16.2zM1566.8 1770.5h16.2v15h-16.2zM1970.7 1770.5h16.2v15h-16.2zM2406.8 1770.5h32.3v15h-32.3zM1566.8 1785.5h32.3v15h-32.3zM1970.7 1785.5h16.2v15h-16.2zM2406.8 1785.5h32.3v15h-32.3zM1566.8 1800.6h32.3v15h-32.3zM2019.1 1800.6h16.2v15h-16.2zM2390.6 1800.6h32.3v15h-32.3zM1566.8 1815.6h48.5v15h-48.5zM1922.2 1815.6h16.2v15h-16.2zM2019.1 1815.6h16.2v15h-16.2zM2067.6 1815.6h16.2v15h-16.2zM2390.6 1815.6h32.3v15h-32.3zM1566.8 1830.6h371.5v15h-371.5zM2067.6 1830.6h355.4v15h-355.4zM1566.8 1845.6h371.5v15h-371.5zM1986.8 1845.6h32.3v15h-32.3zM2067.6 1845.6h355.4v15h-355.4z"/>
<path fill="#9c9c9c" d="M1550.7 1500h16.2v15h-16.2zM2422.9 1500h16.2v15h-16.2zM1550.7 1515h16.2v15h-16.2zM2422.9 1515h16.2v15h-16.2zM1550.7 1530h16.2v15h-16.2zM1550.7 1545.1h16.2v15h-16.2zM1550.7 1560.1h16.2v15h-16.2zM2422.9 1560.1h16.2v15h-16.2zM1550.7 1575.1h32.3v15h-32.3zM2422.9 1575.1h16.2v15h-16.2zM1566.8 1590.1h16.2v15h-16.2zM2406.8 1590.1h32.3v15h-32.3zM1566.8 1605.2h32.3v15h-32.3zM2406.8 1605.2h32.3v15h-32.3zM1566.8 1620.2h32.3v15h-32.3zM1954.5 1620.2h16.2v15h-16.2zM2406.8 1620.2h32.3v15h-32.3zM1566.8 1635.2h32.3v15h-32.3zM1938.4 1635.2h16.2v15h-16.2zM2051.4 1635.2h16.2v15h-16.2zM2390.6 1635.2h48.5v15h-48.5zM1566.8 1650.3h32.3v15h-32.3zM1938.4 1650.3h16.2v15h-16.2zM1970.7 1650.3h16.2v15h-16.2zM2390.6 1650.3h48.5v15h-48.5zM1566.8 1665.3h32.3v15h-32.3zM1938.4 1665.3h16.2v15h-16.2zM1970.7 1665.3h16.2v15h-16.2zM2390.6 1665.3h32.3v15h-32.3zM1566.8 1680.3h32.3v15h-32.3zM1938.4 1680.3h16.2v15h-16.2zM1970.7 1680.3h16.2v15h-16.2zM2390.6 1680.3h32.3v15h-32.3zM1566.8 1695.4h32.3v15h-32.3zM1938.4 1695.4h16.2v15h-16.2zM2390.6 1695.4h32.3v15h-32.3zM1566.8 1710.4h48.5v15h-48.5zM2390.6 1710.4h32.3v15h-32.3zM1566.8 1725.4h48.5v15h-48.5zM1970.7 1725.4h16.2v15h-16.2zM2374.5 1725.4h48.5v15h-48.5zM1583 1740.4h48.5v15h-48.5zM1970.7 1740.4h16.2v15h-16.2zM2358.3 1740.4h64.6v15h-64.6zM1583 1755.5h96.9v15h-96.9zM1922.2 1755.5h16.2v15h-16.2zM1970.7 1755.5h16.2v15h-16.2zM2067.6 1755.5h16.2v15h-16.2zM2326 1755.5h96.9v15h-96.9zM1583 1770.5h226.1v15h-226.1zM1906 1770.5h32.3v15h-32.3zM2019.1 1770.5h16.2v15h-16.2zM2067.6 1770.5h32.3v15h-32.3zM2196.8 1770.5h210v15h-210zM1599.1 1785.5h339.2v15h-339.2zM2019.1 1785.5h16.2v15h-16.2zM2067.6 1785.5h339.2v15h-339.2zM1599.1 1800.6h339.2v15h-339.2zM2067.6 1800.6h323.1v15h-323.1zM1615.3 1815.6h306.9v15h-306.9zM1986.8 1815.6h32.3v15h-32.3zM2083.7 1815.6h306.9v15h-306.9zM1986.8 1830.6h32.3v15h-32.3z"/>
<path fill="#a4a4a4" d="M1566.8 1500h32.3v15h-32.3zM1906 1500h177.7v15h-177.7zM2406.8 1500h16.2v15h-16.2zM1566.8 1515h32.3v15h-32.3zM1906 1515h177.7v15h-177.7zM2406.8 1515h16.2v15h-16.2zM1566.8 1530h16.2v15h-16.2zM1922.2 1530h145.4v15h-145.4zM2406.8 1530h32.3v15h-32.3zM1566.8 1545.1h16.2v15h-16.2zM1922.2 1545.1h145.4v15h-145.4zM2406.8 1545.1h32.3v15h-32.3zM1566.8 1560.1h32.3v15h-32.3zM1922.2 1560.1h161.5v15h-161.5zM2406.8 1560.1h16.2v15h-16.2zM1583 1575.1h32.3v15h-32.3zM1906 1575.1h96.9v15h-96.9zM2019.1 1575.1h64.6v15h-64.6zM2390.6 1575.1h32.3v15h-32.3zM1583 1590.1h64.6v15h-64.6zM1906 1590.1h80.8v15h-80.8zM2019.1 1590.1h64.6v15h-64.6zM2358.3 1590.1h48.5v15h-48.5zM1599.1 1605.2h96.9v15h-96.9zM1906 1605.2h80.8v15h-80.8zM2035.3 1605.2h48.5v15h-48.5zM2309.9 1605.2h96.9v15h-96.9zM1599.1 1620.2h113.1v15h-113.1zM1922.2 1620.2h32.3v15h-32.3zM1970.7 1620.2h16.2v15h-16.2zM2035.3 1620.2h48.5v15h-48.5zM2277.6 1620.2h129.2v15h-129.2zM1599.1 1635.2h129.2v15h-129.2zM1922.2 1635.2h16.2v15h-16.2zM1970.7 1635.2h16.2v15h-16.2zM2019.1 1635.2h16.2v15h-16.2zM2067.6 1635.2h16.2v15h-16.2zM2277.6 1635.2h113.1v15h-113.1zM1599.1 1650.3h129.2v15h-129.2zM1922.2 1650.3h16.2v15h-16.2zM2019.1 1650.3h16.2v15h-16.2zM2067.6 1650.3h16.2v15h-16.2zM2261.4 1650.3h129.2v15h-129.2zM1599.1 1665.3h145.4v15h-145.4zM2261.4 1665.3h129.2v15h-129.2zM1599.1 1680.3h161.5v15h-161.5zM2245.2 1680.3h145.4v15h-145.4zM1599.1 1695.4h161.5v15h-161.5zM1970.7 1695.4h16.2v15h-16.2zM2229.1 1695.4h161.5v15h-161.5zM1615.3 1710.4h161.5v15h-161.5zM1922.2 1710.4h16.2v15h-16.2zM1970.7 1710.4h16.2v15h-16.2zM2229.1 1710.4h161.5v15h-161.5zM1615.3 1725.4h177.7v15h-177.7zM1922.2 1725.4h16.2v15h-16.2zM2067.6 1725.4h16.2v15h-16.2zM2212.9 1725.4h161.5v15h-161.5zM1631.5 1740.4h177.7v15h-177.7zM1906 1740.4h32.3v15h-32.3zM2019.1 1740.4h16.2v15h-16.2zM2067.6 1740.4h32.3v15h-32.3zM2196.8 1740.4h161.5v15h-161.5zM1679.9 1755.5h242.3v15h-242.3zM2019.1 1755.5h16.2v15h-16.2zM2083.7 1755.5h242.3v15h-242.3zM1809.1 1770.5h96.9v15h-96.9zM2099.9 1770.5h96.9v15h-96.9zM1986.8 1800.6h32.3v15h-32.3z"/>
<path fill="#acacac" d="M1599.1 1500h32.3v15h-32.3zM1857.6 1500h48.5v15h-48.5zM2083.7 1500h64.6v15h-64.6zM2358.3 1500h48.5v15h-48.5zM1599.1 1515h32.3v15h-32.3zM1857.6 1515h48.5v15h-48.5zM2083.7 1515h48.5v15h-48.5zM2374.5 1515h32.3v15h-32.3zM1583 1530h32.3v15h-32.3zM1873.7 1530h48.5v15h-48.5zM2067.6 1530h64.6v15h-64.6zM2390.6 1530h16.2v15h-16.2zM1583 1545.1h32.3v15h-32.3zM1873.7 1545.1h48.5v15h-48.5zM2067.6 1545.1h64.6v15h-64.6zM2390.6 1545.1h16.2v15h-16.2zM1599.1 1560.1h32.3v15h-32.3zM1873.7 1560.1h48.5v15h-48.5zM2083.7 1560.1h48.5v15h-48.5zM2374.5 1560.1h32.3v15h-32.3zM1615.3 1575.1h48.5v15h-48.5zM1873.7 1575.1h32.3v15h-32.3zM2003 1575.1h16.2v15h-16.2zM2083.7 1575.1h48.5v15h-48.5zM2326 1575.1h64.6v15h-64.6zM1647.6 1590.1h64.6v15h-64.6zM1873.7 1590.1h32.3v15h-32.3zM1986.8 1590.1h32.3v15h-32.3zM2083.7 1590.1h32.3v15h-32.3zM2293.7 1590.1h64.6v15h-64.6zM1696.1 1605.2h32.3v15h-32.3zM1889.9 1605.2h16.2v15h-16.2zM1986.8 1605.2h48.5v15h-48.5zM2083.7 1605.2h32.3v15h-32.3zM2277.6 1605.2h32.3v15h-32.3zM1712.2 1620.2h32.3v15h-32.3zM1889.9 1620.2h32.3v15h-32.3zM2019.1 1620.2h16.2v15h-16.2zM2083.7 1620.2h32.3v15h-32.3zM2261.4 1620.2h16.2v15h-16.2zM1728.4 1635.2h16.2v15h-16.2zM1906 1635.2h16.2v15h-16.2zM2083.7 1635.2h16.2v15h-16.2zM2245.2 1635.2h32.3v15h-32.3zM1728.4 1650.3h32.3v15h-32.3zM1906 1650.3h16.2v15h-16.2zM2083.7 1650.3h16.2v15h-16.2zM2245.2 1650.3h16.2v15h-16.2zM1744.5 1665.3h32.3v15h-32.3zM1922.2 1665.3h16.2v15h-16.2zM2019.1 1665.3h16.2v15h-16.2zM2067.6 1665.3h16.2v15h-16.2zM2229.1 1665.3h32.3v15h-32.3zM1760.7 1680.3h16.2v15h-16.2zM1922.2 1680.3h16.2v15h-16.2zM2019.1 1680.3h16.2v15h-16.2zM2067.6 1680.3h16.2v15h-16.2zM2212.9 1680.3h32.3v15h-32.3zM1760.7 1695.4h32.3v15h-32.3zM1922.2 1695.4h16.2v15h-16.2zM2019.1 1695.4h16.2v15h-16.2zM2067.6 1695.4h16.2v15h-16.2zM2212.9 1695.4h16.2v15h-16.2zM1776.8 1710.4h16.2v15h-16.2zM1906 1710.4h16.2v15h-16.2zM2019.1 1710.4h16.2v15h-16.2zM2067.6 1710.4h16.2v15h-16.2zM2196.8 1710.4h32.3v15h-32.3zM1793 1725.4h16.2v15h-16.2zM1906 1725.4h16.2v15h-16.2zM2019.1 1725.4h16.2v15h-16.2zM2083.7 1725.4h16.2v15h-16.2zM2180.6 1725.4h32.3v15h-32.3zM1809.1 1740.4h32.3v15h-32.3zM1873.7 1740.4h32.3v15h-32.3zM2099.9 1740.4h16.2v15h-16.2zM2164.5 1740.4h32.3v15h-32.3zM1986.8 1770.5h16.2v15h-16.2zM1986.8 1785.5h32.3v15h-32.3z"/>
<path fill="#b4b4b4" d="M1631.5 1500h48.5v15h-48.5zM1841.4 1500h16.2v15h-16.2zM2148.3 1500h16.2v15h-16.2zM2309.9 1500h48.5v15h-48.5zM1631.5 1515h48.5v15h-48.5zM1841.4 1515h16.2v15h-16.2zM2132.2 1515h16.2v15h-16.2zM2326 1515h48.5v15h-48.5zM1615.3 1530h32.3v15h-32.3zM1857.6 1530h16.2v15h-16.2zM2132.2 1530h16.2v15h-16.2zM2342.2 1530h48.5v15h-48.5zM1615.3 1545.1h32.3v15h-32.3zM1857.6 1545.1h16.2v15h-16.2zM2132.2 1545.1h16.2v15h-16.2zM2342.2 1545.1h48.5v15h-48.5zM1631.5 1560.1h48.5v15h-48.5zM1857.6 1560.1h16.2v15h-16.2zM2326 1560.1h48.5v15h-48.5zM1663.8 1575.1h48.5v15h-48.5zM1857.6 1575.1h16.2v15h-16.2zM2293.7 1575.1h32.3v15h-32.3zM1712.2 1590.1h16.2v15h-16.2zM1857.6 1590.1h16.2v15h-16.2zM2116 1590.1h16.2v15h-16.2zM2277.6 1590.1h16.2v15h-16.2zM1728.4 1605.2h16.2v15h-16.2zM1873.7 1605.2h16.2v15h-16.2zM2116 1605.2h16.2v15h-16.2zM2261.4 1605.2h16.2v15h-16.2zM1744.5 1620.2h16.2v15h-16.2zM1873.7 1620.2h16.2v15h-16.2zM1986.8 1620.2h32.3v15h-32.3zM2245.2 1620.2h16.2v15h-16.2zM1744.5 1635.2h16.2v15h-16.2zM1889.9 1635.2h16.2v15h-16.2zM1986.8 1635.2h16.2v15h-16.2zM2099.9 1635.2h16.2v15h-16.2zM2229.1 1635.2h16.2v15h-16.2zM1760.7 1650.3h16.2v15h-16.2zM1889.9 1650.3h16.2v15h-16.2zM2229.1 1650.3h16.2v15h-16.2zM1776.8 1665.3h16.2v15h-16.2zM1906 1665.3h16.2v15h-16.2zM2083.7 1665.3h16.2v15h-16.2zM2212.9 1665.3h16.2v15h-16.2zM1776.8 1680.3h16.2v15h-16.2zM1906 1680.3h16.2v15h-16.2zM2083.7 1680.3h16.2v15h-16.2zM1793 1695.4h16.2v15h-16.2zM1906 1695.4h16.2v15h-16.2zM2083.7 1695.4h16.2v15h-16.2zM2196.8 1695.4h16.2v15h-16.2zM1793 1710.4h16.2v15h-16.2zM2083.7 1710.4h16.2v15h-16.2zM2180.6 1710.4h16.2v15h-16.2zM1809.1 1725.4h16.2v15h-16.2zM1889.9 1725.4h16.2v15h-16.2zM2099.9 1725.4h16.2v15h-16.2zM2164.5 1725.4h16.2v15h-16.2zM1841.4 1740.4h32.3v15h-32.3zM2116 1740.4h48.5v15h-48.5zM1986.8 1755.5h16.2v15h-16.2zM2003 1770.5h16.2v15h-16.2z"/>
<path fill="#bcbcbc" d="M1679.9 1500h32.3v15h-32.3zM1825.3 1500h16.2v15h-16.2zM2293.7 1500h16.2v15h-16.2zM1679.9 1515h16.2v15h-16.2zM1825.3 1515h16.2v15h-16.2zM2148.3 1515h16.2v15h-16.2zM2293.7 1515h32.3v15h-32.3zM1647.6 1530h32.3v15h-32.3zM1841.4 1530h16.2v15h-16.2zM2148.3 1530h16.2v15h-16.2zM2309.9 1530h32.3v15h-32.3zM1647.6 1545.1h32.3v15h-32.3zM1841.4 1545.1h16.2v15h-16.2zM2309.9 1545.1h32.3v15h-32.3zM1679.9 1560.1h16.2v15h-16.2zM1841.4 1560.1h16.2v15h-16.2zM2132.2 1560.1h16.2v15h-16.2zM2293.7 1560.1h32.3v15h-32.3zM1712.2 1575.1h16.2v15h-16.2zM1841.4 1575.1h16.2v15h-16.2zM2132.2 1575.1h16.2v15h-16.2zM2277.6 1575.1h16.2v15h-16.2zM1728.4 1590.1h16.2v15h-16.2zM2132.2 1590.1h16.2v15h-16.2zM2261.4 1590.1h16.2v15h-16.2zM1744.5 1605.2h16.2v15h-16.2zM1857.6 1605.2h16.2v15h-16.2zM2132.2 1605.2h16.2v15h-16.2zM2245.2 1605.2h16.2v15h-16.2zM1760.7 1620.2h16.2v15h-16.2zM1857.6 1620.2h16.2v15h-16.2zM2116 1620.2h16.2v15h-16.2zM2229.1 1620.2h16.2v15h-16.2zM1760.7 1635.2h16.2v15h-16.2zM1873.7 1635.2h16.2v15h-16.2zM2003 1635.2h16.2v15h-16.2zM2116 1635.2h16.2v15h-16.2zM2212.9 1635.2h16.2v15h-16.2zM1776.8 1650.3h16.2v15h-16.2zM1873.7 1650.3h16.2v15h-16.2zM1986.8 1650.3h32.3v15h-32.3zM2099.9 1650.3h16.2v15h-16.2zM2212.9 1650.3h16.2v15h-16.2zM1889.9 1665.3h16.2v15h-16.2zM1986.8 1665.3h16.2v15h-16.2zM2099.9 1665.3h16.2v15h-16.2zM2196.8 1665.3h16.2v15h-16.2zM1793 1680.3h16.2v15h-16.2zM1889.9 1680.3h16.2v15h-16.2zM2196.8 1680.3h16.2v15h-16.2zM1889.9 1695.4h16.2v15h-16.2zM2180.6 1695.4h16.2v15h-16.2zM1809.1 1710.4h16.2v15h-16.2zM1889.9 1710.4h16.2v15h-16.2zM2099.9 1710.4h16.2v15h-16.2zM1825.3 1725.4h64.6v15h-64.6zM2116 1725.4h48.5v15h-48.5zM1986.8 1740.4h16.2v15h-16.2zM2003 1755.5h16.2v15h-16.2z"/>
<path fill="#c4c4c4" d="M2164.5 1500h16.2v15h-16.2zM2277.6 1500h16.2v15h-16.2zM1696.1 1515h16.2v15h-16.2zM2164.5 1515h16.2v15h-16.2zM2277.6 1515h16.2v15h-16.2zM1679.9 1530h16.2v15h-16.2zM2293.7 1530h16.2v15h-16.2zM1679.9 1545.1h16.2v15h-16.2zM2148.3 1545.1h16.2v15h-16.2zM2293.7 1545.1h16.2v15h-16.2zM1696.1 1560.1h16.2v15h-16.2zM2148.3 1560.1h16.2v15h-16.2zM2277.6 1560.1h16.2v15h-16.2zM2148.3 1575.1h16.2v15h-16.2zM2261.4 1575.1h16.2v15h-16.2zM1841.4 1590.1h16.2v15h-16.2zM2148.3 1590.1h16.2v15h-16.2zM2245.2 1590.1h16.2v15h-16.2zM1841.4 1605.2h16.2v15h-16.2zM2229.1 1605.2h16.2v15h-16.2zM2132.2 1620.2h16.2v15h-16.2zM2212.9 1620.2h16.2v15h-16.2zM1776.8 1635.2h16.2v15h-16.2zM1857.6 1635.2h16.2v15h-16.2zM2116 1650.3h16.2v15h-16.2zM2196.8 1650.3h16.2v15h-16.2zM1793 1665.3h16.2v15h-16.2zM1873.7 1665.3h16.2v15h-16.2zM2003 1665.3h16.2v15h-16.2zM1986.8 1680.3h16.2v15h-16.2zM2099.9 1680.3h16.2v15h-16.2zM2180.6 1680.3h16.2v15h-16.2zM1809.1 1695.4h16.2v15h-16.2zM1986.8 1695.4h16.2v15h-16.2zM2099.9 1695.4h16.2v15h-16.2zM1825.3 1710.4h16.2v15h-16.2zM1873.7 1710.4h16.2v15h-16.2zM1986.8 1710.4h16.2v15h-16.2zM2116 1710.4h16.2v15h-16.2zM2164.5 1710.4h16.2v15h-16.2zM1986.8 1725.4h16.2v15h-16.2zM2003 1740.4h16.2v15h-16.2z"/>
<path fill="#cccccc" d="M1712.2 1500h16.2v15h-16.2zM1809.1 1500h16.2v15h-16.2zM1712.2 1515h16.2v15h-16.2zM1809.1 1515h16.2v15h-16.2zM1696.1 1530h16.2v15h-16.2zM1825.3 1530h16.2v15h-16.2zM2277.6 1530h16.2v15h-16.2zM1696.1 1545.1h16.2v15h-16.2zM1825.3 1545.1h16.2v15h-16.2zM2277.6 1545.1h16.2v15h-16.2zM1712.2 1560.1h16.2v15h-16.2zM1728.4 1575.1h16.2v15h-16.2zM1825.3 1575.1h16.2v15h-16.2zM1744.5 1590.1h16.2v15h-16.2zM1825.3 1590.1h16.2v15h-16.2zM1760.7 1605.2h16.2v15h-16.2zM2148.3 1605.2h16.2v15h-16.2zM2212.9 1605.2h16.2v15h-16.2zM1776.8 1620.2h16.2v15h-16.2zM1841.4 1620.2h16.2v15h-16.2zM2148.3 1620.2h16.2v15h-16.2zM1793 1635.2h16.2v15h-16.2zM1841.4 1635.2h16.2v15h-16.2zM2132.2 1635.2h16.2v15h-16.2zM2196.8 1635.2h16.2v15h-16.2zM1793 1650.3h16.2v15h-16.2zM1857.6 1650.3h16.2v15h-16.2zM2132.2 1650.3h16.2v15h-16.2zM2180.6 1650.3h16.2v15h-16.2zM1809.1 1665.3h16.2v15h-16.2zM1857.6 1665.3h16.2v15h-16.2zM2116 1665.3h16.2v15h-16.2zM2180.6 1665.3h16.2v15h-16.2zM1809.1 1680.3h16.2v15h-16.2zM1873.7 1680.3h16.2v15h-16.2zM2003 1680.3h16.2v15h-16.2zM2116 1680.3h16.2v15h-16.2zM2164.5 1680.3h16.2v15h-16.2zM1825.3 1695.4h16.2v15h-16.2zM1873.7 1695.4h16.2v15h-16.2zM2003 1695.4h16.2v15h-16.2zM2116 1695.4h16.2v15h-16.2zM2164.5 1695.4h16.2v15h-16.2zM1841.4 1710.4h32.3v15h-32.3zM2132.2 1710.4h32.3v15h-32.3zM2003 1725.4h16.2v15h-16.2z"/>
<path fill="#d4d4d4" d="M1728.4 1500h16.2v15h-16.2zM2180.6 1500h16.2v15h-16.2zM2261.4 1500h16.2v15h-16.2zM2180.6 1515h16.2v15h-16.2zM2261.4 1515h16.2v15h-16.2zM1712.2 1530h16.2v15h-16.2zM2164.5 1530h16.2v15h-16.2zM1712.2 1545.1h16.2v15h-16.2zM2164.5 1545.1h16.2v15h-16.2zM1825.3 1560.1h16.2v15h-16.2zM2261.4 1560.1h16.2v15h-16.2zM2164.5 1575.1h16.2v15h-16.2zM2245.2 1575.1h16.2v15h-16.2zM1760.7 1590.1h16.2v15h-16.2zM2164.5 1590.1h16.2v15h-16.2zM2229.1 1590.1h16.2v15h-16.2zM1776.8 1605.2h16.2v15h-16.2zM1825.3 1605.2h16.2v15h-16.2zM2164.5 1605.2h16.2v15h-16.2zM1793 1620.2h48.5v15h-48.5zM2164.5 1620.2h48.5v15h-48.5zM1809.1 1635.2h32.3v15h-32.3zM2148.3 1635.2h48.5v15h-48.5zM1809.1 1650.3h48.5v15h-48.5zM2148.3 1650.3h32.3v15h-32.3zM1825.3 1665.3h32.3v15h-32.3zM2132.2 1665.3h48.5v15h-48.5zM1825.3 1680.3h48.5v15h-48.5zM2132.2 1680.3h32.3v15h-32.3zM1841.4 1695.4h32.3v15h-32.3zM2132.2 1695.4h32.3v15h-32.3zM2003 1710.4h16.2v15h-16.2z"/>
<path fill="#dcdcdc" d="M1793 1500h16.2v15h-16.2zM2245.2 1500h16.2v15h-16.2zM1728.4 1515h16.2v15h-16.2zM1809.1 1530h16.2v15h-16.2zM2261.4 1530h16.2v15h-16.2zM2261.4 1545.1h16.2v15h-16.2zM1728.4 1560.1h16.2v15h-16.2zM2164.5 1560.1h16.2v15h-16.2zM1744.5 1575.1h16.2v15h-16.2zM1809.1 1590.1h16.2v15h-16.2zM2180.6 1590.1h16.2v15h-16.2zM2212.9 1590.1h16.2v15h-16.2zM1793 1605.2h32.3v15h-32.3zM2180.6 1605.2h32.3v15h-32.3z"/>
<path fill="#e4e4e4" d="M1744.5 1500h16.2v15h-16.2zM2196.8 1500h16.2v15h-16.2zM1744.5 1515h16.2v15h-16.2zM1793 1515h16.2v15h-16.2zM2196.8 1515h16.2v15h-16.2zM2245.2 1515h16.2v15h-16.2zM1728.4 1530h16.2v15h-16.2zM2180.6 1530h16.2v15h-16.2zM1728.4 1545.1h16.2v15h-16.2zM1809.1 1545.1h16.2v15h-16.2zM1809.1 1560.1h16.2v15h-16.2zM2245.2 1560.1h16.2v15h-16.2zM1760.7 1575.1h16.2v15h-16.2zM1809.1 1575.1h16.2v15h-16.2zM2180.6 1575.1h16.2v15h-16.2zM2229.1 1575.1h16.2v15h-16.2zM1776.8 1590.1h32.3v15h-32.3zM2196.8 1590.1h16.2v15h-16.2z"/>
<path fill="#ececec" d="M1760.7 1500h32.3v15h-32.3zM2212.9 1500h32.3v15h-32.3zM1760.7 1515h32.3v15h-32.3zM2212.9 1515h32.3v15h-32.3zM2245.2 1530h16.2v15h-16.2zM2180.6 1545.1h16.2v15h-16.2zM2245.2 1545.1h16.2v15h-16.2zM1744.5 1560.1h16.2v15h-16.2zM2180.6 1560.1h16.2v15h-16.2zM1776.8 1575.1h32.3v15h-32.3zM2196.8 1575.1h32.3v15h-32.3z"/>
<path fill="#f4f4f4" d="M1744.5 1530h16.2v15h-16.2zM1793 1530h16.2v15h-16.2zM1744.5 1545.1h16.2v15h-16.2zM1793 1560.1h16.2v15h-16.2zM2229.1 1560.1h16.2v15h-16.2z"/>
<path fill="#fcfcfc" d="M1760.7 1530h32.3v15h-32.3zM2196.8 1530h48.5v15h-48.5zM1760.7 1545.1h48.5v15h-48.5zM2196.8 1545.1h48.5v15h-48.5zM1760.7 1560.1h32.3v15h-32.3zM2196.8 1560.1h32.3v15h-32.3z"/>
</g></g>
<rect x="1538" y="1516.1" width="923" height="8.6" fill="#00ffe7"/>
<path d="M1538 1069.5V1885.4M1547.2 1069.5V1885.4M1556.5 1069.5V1885.4M1565.7 1069.5V1885.4M1574.9 1069.5V1885.4M1584.2 1069.5V1885.4M1593.4 1069.5V1885.4M1602.6 1069.5V1885.4M1611.8 1069.5V1885.4M1621.1 1069.5V1885.4M1630.3 1069.5V1885.4M1639.5 1069.5V1885.4M1648.8 1069.5V1885.4M1658 1069.5V1885.4M1667.2 1069.5V1885.4M1676.5 1069.5V1885.4M1685.7 1069.5V1885.4M1694.9 1069.5V1885.4M1704.1 1069.5V1885.4M1713.4 1069.5V1885.4M1722.6 1069.5V1885.4M1731.8 1069.5V1885.4M1741.1 1069.5V1885.4M1750.3 1069.5V1885.4M1759.5 1069.5V1885.4M1768.8 1069.5V1885.4M1778 1069.5V1885.4M1787.2 1069.5V1885.4M1796.4 1069.5V1885.4M1805.7 1069.5V1885.4M1814.9 1069.5V1885.4M1824.1 1069.5V1885.4M1833.4 1069.5V1885.4M1842.6 1069.5V1885.4M1851.8 1069.5V1885.4M1861 1069.5V1885.4M1870.3 1069.5V1885.4M1879.5 1069.5V1885.4M1888.7 1069.5V1885.4M1898 1069.5V1885.4M1907.2 1069.5V1885.4M1916.4 1069.5V1885.4M1925.7 1069.5V1885.4M1934.9 1069.5V1885.4M1944.1 1069.5V1885.4M1953.3 1069.5V1885.4M1962.6 1069.5V1885.4M1971.8 1069.5V1885.4M1981 1069.5V1885.4M1990.3 1069.5V1885.4M1999.5 1069.5V1885.4M2008.7 1069.5V1885.4M2018 1069.5V1885.4M2027.2 1069.5V1885.4M2036.4 1069.5V1885.4M2045.7 1069.5V1885.4M2054.9 1069.5V1885.4M2064.1 1069.5V1885.4M2073.3 1069.5V1885.4M2082.6 1069.5V1885.4M2091.8 1069.5V1885.4M2101 1069.5V1885.4M2110.3 1069.5V1885.4M2119.5 1069.5V1885.4M2128.7 1069.5V1885.4M2137.9 1069.5V1885.4M2147.2 1069.5V1885.4M2156.4 1069.5V1885.4M2165.6 1069.5V1885.4M2174.9 1069.5V1885.4M2184.1 1069.5V1885.4M2193.3 1069.5V1885.4M2202.6 1069.5V1885.4M2211.8 1069.5V1885.4M2221 1069.5V1885.4M2230.2 1069.5V1885.4M2239.5 1069.5V1885.4M2248.7 1069.5V1885.4M2257.9 1069.5V1885.4M2267.2 1069.5V1885.4M2276.4 1069.5V1885.4M2285.6 1069.5V1885.4M2294.9 1069.5V1885.4M2304.1 1069.5V1885.4M2313.3 1069.5V1885.4M2322.6 1069.5V1885.4M2331.8 1069.5V1885.4M2341 1069.5V1885.4M2350.2 1069.5V1885.4M2359.5 1069.5V1885.4M2368.7 1069.5V1885.4M2377.9 1069.5V1885.4M2387.2 1069.5V1885.4M2396.4 1069.5V1885.4M2405.6 1069.5V1885.4M2414.8 1069.5V1885.4M2424.1 1069.5V1885.4M2433.3 1069.5V1885.4M2442.5 1069.5V1885.4M2451.8 1069.5V1885.4M2461 1069.5V1885.4M1538 1069.5H2461M1538 1078.1H2461M1538 1086.7H2461M1538 1095.3H2461M1538 1103.9H2461M1538 1112.4H2461M1538 1121H2461M1538 1129.6H2461M1538 1138.2H2461M1538 1146.8H2461M1538 1155.4H2461M1538 1164H2461M1538 1172.6H2461M1538 1181.1H2461M1538 1189.7H2461M1538 1198.3H2461M1538 1206.9H2461M1538 1215.5H2461M1538 1224.1H2461M1538 1232.7H2461M1538 1241.3H2461M1538 1249.8H2461M1538 1258.4H2461M1538 1267H2461M1538 1275.6H2461M1538 1284.2H2461M1538 1292.8H2461M1538 1301.4H2461M1538 1310H2461M1538 1318.6H2461M1538 1327.1H2461M1538 1335.7H2461M1538 1344.3H2461M1538 1352.9H2461M1538 1361.5H2461M1538 1370.1H2461M1538 1378.7H2461M1538 1387.3H2461M1538 1395.8H2461M1538 1404.4H2461M1538 1413H2461M1538 1421.6H2461M1538 1430.2H2461M1538 1438.8H2461M1538 1447.4H2461M1538 1456H2461M1538 1464.5H2461M1538 1473.1H2461M1538 1481.7H2461M1538 1490.3H2461M1538 1498.9H2461M1538 1507.5H2461M1538 1516.1H2461M1538 1524.7H2461M1538 1533.3H2461M1538 1541.8H2461M1538 1550.4H2461M1538 1559H2461M1538 1567.6H2461M1538 1576.2H2461M1538 1584.8H2461M1538 1593.4H2461M1538 1602H2461M1538 1610.5H2461M1538 1619.1H2461M1538 1627.7H2461M1538 1636.3H2461M1538 1644.9H2461M1538 1653.5H2461M1538 1662.1H2461M1538 1670.7H2461M1538 1679.2H2461M1538 1687.8H2461M1538 1696.4H2461M1538 1705H2461M1538 1713.6H2461M1538 1722.2H2461M1538 1730.8H2461M1538 1739.4H2461M1538 1748H2461M1538 1756.5H2461M1538 1765.1H2461M1538 1773.7H2461M1538 1782.3H2461M1538 1790.9H2461M1538 1799.5H2461M1538 1808.1H2461M1538 1816.7H2461M1538 1825.2H2461M1538 1833.8H2461M1538 1842.4H2461M1538 1851H2461M1538 1859.6H2461M1538 1868.2H2461M1538 1876.8H2461M1538 1885.4H2461" stroke="#000" stroke-width="2.4" fill="none"/>
<ellipse cx="2004.7" cy="1489.8" rx="232" ry="218.6" fill="none" stroke="#000" stroke-width="5"/>
<path d="M1768.8 1885.4V1928.3M1999.5 1885.4V1928.3M2230.2 1885.4V1928.3M2461 1885.4V1928.3" stroke="#e2e2e2" stroke-width="1.5"/>
<path d="M1538 1069.5V1928.3H2461" stroke="#3a3a3a" stroke-width="2.6" fill="none"/>
<text x="1523" y="1943.6" style="font-family:'Liberation Sans',Arial,sans-serif;font-size:32.5px" text-anchor="end" fill="#3a3a3a">-100</text>
<text x="1523" y="1857.7" style="font-family:'Liberation Sans',Arial,sans-serif;font-size:32.5px" text-anchor="end" fill="#3a3a3a">-80</text>
<text x="1523" y="1771.8" style="font-family:'Liberation Sans',Arial,sans-serif;font-size:32.5px" text-anchor="end" fill="#3a3a3a">-60</text>
<text x="1523" y="1686" style="font-family:'Liberation Sans',Arial,sans-serif;font-size:32.5px" text-anchor="end" fill="#3a3a3a">-40</text>
<text x="1523" y="1600.1" style="font-family:'Liberation Sans',Arial,sans-serif;font-size:32.5px" text-anchor="end" fill="#3a3a3a">-20</text>
<text x="1523" y="1514.2" style="font-family:'Liberation Sans',Arial,sans-serif;font-size:32.5px" text-anchor="end" fill="#3a3a3a">0</text>
<text x="1523" y="1428.3" style="font-family:'Liberation Sans',Arial,sans-serif;font-size:32.5px" text-anchor="end" fill="#3a3a3a">20</text>
<text x="1523" y="1342.4" style="font-family:'Liberation Sans',Arial,sans-serif;font-size:32.5px" text-anchor="end" fill="#3a3a3a">40</text>
<text x="1523" y="1256.6" style="font-family:'Liberation Sans',Arial,sans-serif;font-size:32.5px" text-anchor="end" fill="#3a3a3a">60</text>
<text x="1523" y="1170.7" style="font-family:'Liberation Sans',Arial,sans-serif;font-size:32.5px" text-anchor="end" fill="#3a3a3a">80</text>
<text x="1523" y="1084.8" style="font-family:'Liberation Sans',Arial,sans-serif;font-size:32.5px" text-anchor="end" fill="#3a3a3a">100</text>
<text x="1538" y="1977.3" style="font-family:'Liberation Sans',Arial,sans-serif;font-size:32.5px" text-anchor="middle" fill="#3a3a3a">-100</text>
<text x="1768.8" y="1977.3" style="font-family:'Liberation Sans',Arial,sans-serif;font-size:32.5px" text-anchor="middle" fill="#3a3a3a">-50</text>
<text x="1999.5" y="1977.3" style="font-family:'Liberation Sans',Arial,sans-serif;font-size:32.5px" text-anchor="middle" fill="#3a3a3a">0</text>
<text x="2230.2" y="1977.3" style="font-family:'Liberation Sans',Arial,sans-serif;font-size:32.5px" text-anchor="middle" fill="#3a3a3a">50</text>
<text x="2461" y="1977.3" style="font-family:'Liberation Sans',Arial,sans-serif;font-size:32.5px" text-anchor="middle" fill="#3a3a3a">100</text>
<path d="M1538 1928.3h9M1538 1842.4h9M1538 1756.5h9M1538 1670.7h9M1538 1584.8h9M1538 1498.9h9M1538 1413h9M1538 1327.1h9M1538 1241.3h9M1538 1155.4h9M1538 1069.5h9M1538 1928.3v-9M1768.8 1928.3v-9M1999.5 1928.3v-9M2230.2 1928.3v-9M2461 1928.3v-9" stroke="#3a3a3a" stroke-width="2.6"/>
<text x="1887" y="2026" style="font-family:'Liberation Serif','Times New Roman',serif;font-size:48.5px" fill="#15151f" stroke="#15151f" stroke-width="0.7" text-anchor="start">scan<tspan style="font-style:italic;font-size:53.4px"> y</tspan> /nm</text>
<text x="1446" y="1618" style="font-family:'Liberation Serif','Times New Roman',serif;font-size:48.5px" fill="#15151f" stroke="#15151f" stroke-width="0.7" text-anchor="start" transform="rotate(-90 1446 1618)">scan<tspan style="font-style:italic;font-size:53.4px"> x</tspan> /nm</text>
<rect x="1578.4" y="1143.3" width="273.3" height="77.4" fill="#fff"/>
<text x="1584" y="1203" style="font-family:'Liberation Serif','Times New Roman',serif;font-size:68.5px" text-anchor="start" fill="#0a0a0a" stroke="#0a0a0a" stroke-width="0.8">attractive</text>
<rect x="1579.6" y="1766.8" width="264.9" height="75.6" fill="#fff"/>
<text x="1584" y="1822" style="font-family:'Liberation Serif','Times New Roman',serif;font-size:68.5px" text-anchor="start" fill="#0a0a0a" stroke="#0a0a0a" stroke-width="0.8">repulsive</text>
<path d="M2392 1381L2371.8 1502H2384V1623H2405V1502H2416Z" fill="none" stroke="#000" stroke-width="5" stroke-linejoin="miter"/>
<defs><filter id="cmA" x="0" y="0" width="1" height="1" color-interpolation-filters="sRGB"><feGaussianBlur stdDeviation="4"/><feComponentTransfer><feFuncR type="discrete" tableValues="1 1 1 1 1 1 1 1 1 1 1 0.969 0.875 0.781 0.688 0.594 0.5 0.406 0.312 0.219 0.125 0.0312 0 0 0 0 0 0 0 0 0 0 0 0 0 0 0 0 0 0 0 0 0 0.0312 0.125 0.219 0.312 0.406 0.5 0.594 0.688 0.781 0.875 0.969 1 1 1 1 1 1 1 1 1 1"/><feFuncG type="discrete" tableValues="0 0.0938 0.188 0.281 0.375 0.469 0.562 0.656 0.75 0.844 0.938 1 1 1 1 1 1 1 1 1 1 1 1 1 1 1 1 1 1 1 1 1 1 0.906 0.812 0.719 0.625 0.531 0.438 0.344 0.25 0.156 0.0625 0 0 0 0 0 0 0 0 0 0 0 0 0 0 0 0 0 0 0 0 0"/><feFuncB type="discrete" tableValues="0 0 0 0 0 0 0 0 0 0 0 0 0 0 0 0 0 0 0 0 0 0 0.0625 0.156 0.25 0.344 0.438 0.531 0.625 0.719 0.812 0.906 1 1 1 1 1 1 1 1 1 1 1 1 1 1 1 1 1 1 1 1 1 1 0.938 0.844 0.75 0.656 0.562 0.469 0.375 0.281 0.188 0.0938"/></feComponentTransfer></filter><filter id="cmB" x="0" y="0" width="1" height="1" color-interpolation-filters="sRGB"><feGaussianBlur stdDeviation="3"/><feComponentTransfer><feFuncR type="discrete" tableValues="1 1 1 1 1 1 1 1 1 1 1 0.969 0.875 0.781 0.688 0.594 0.5 0.406 0.312 0.219 0.125 0.0312 0 0 0 0 0 0 0 0 0 0 0 0 0 0 0 0 0 0 0 0 0 0.0312 0.125 0.219 0.312 0.406 0.5 0.594 0.688 0.781 0.875 0.969 1 1 1 1 1 1 1 1 1 1"/><feFuncG type="discrete" tableValues="0 0.0938 0.188 0.281 0.375 0.469 0.562 0.656 0.75 0.844 0.938 1 1 1 1 1 1 1 1 1 1 1 1 1 1 1 1 1 1 1 1 1 1 0.906 0.812 0.719 0.625 0.531 0.438 0.344 0.25 0.156 0.0625 0 0 0 0 0 0 0 0 0 0 0 0 0 0 0 0 0 0 0 0 0"/><feFuncB type="discrete" tableValues="0 0 0 0 0 0 0 0 0 0 0 0 0 0 0 0 0 0 0 0 0 0 0.0625 0.156 0.25 0.344 0.438 0.531 0.625 0.719 0.812 0.906 1 1 1 1 1 1 1 1 1 1 1 1 1 1 1 1 1 1 1 1 1 1 0.938 0.844 0.75 0.656 0.562 0.469 0.375 0.281 0.188 0.0938"/></feComponentTransfer></filter></defs>
</svg></body></html>
